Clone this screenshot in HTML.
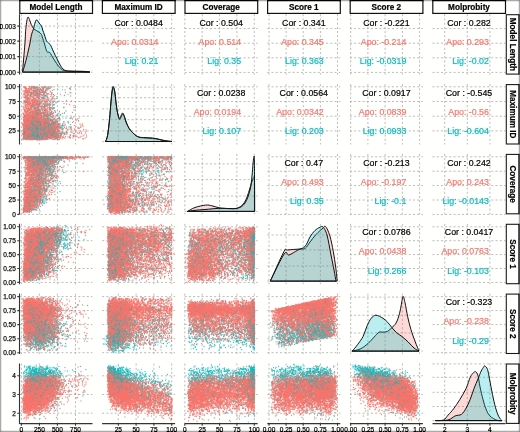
<!DOCTYPE html><html><head><meta charset="utf-8"><style>html,body{margin:0;padding:0;background:#fff;overflow:hidden}svg{display:block}</style></head><body><svg width="520" height="432" viewBox="0 0 520 432">
<defs><filter id="bl" x="0" y="0" width="520" height="432" filterUnits="userSpaceOnUse" color-interpolation-filters="sRGB"><feGaussianBlur in="SourceGraphic" stdDeviation="0.45" result="b"/><feColorMatrix in="b" type="matrix" values="0.299 0.587 0.114 0 0 0.299 0.587 0.114 0 0 0.299 0.587 0.114 0 0 0 0 0 1 0" result="y"/><feColorMatrix in="b" type="matrix" values="0.3505 -0.2935 -0.057 0 0.5 -0.1495 0.2065 -0.057 0 0.5 -0.1495 -0.2935 0.443 0 0.5 0 0 0 1 0" result="c"/><feGaussianBlur in="c" stdDeviation="1.0" result="cb"/><feComposite in="y" in2="cb" operator="arithmetic" k1="0" k2="1" k3="2" k4="-1"/></filter></defs>
<g filter="url(#bl)">
<rect width="520" height="432" fill="#fff"/>
<path stroke="#a4a4a4" stroke-width="0.75" stroke-dasharray="2.1 2.1" fill="none" d="M21.4 14.2V74.6M39.4 14.2V74.6M57.4 14.2V74.6M75.5 14.2V74.6M19.5 72.2H92.5M19.5 56.6H92.5M19.5 41.1H92.5M19.5 26.1H92.5"/>
<path stroke="#a4a4a4" stroke-width="0.75" stroke-dasharray="2.1 2.1" fill="none" d="M118.3 14.2V74.6M136.1 14.2V74.6M153.9 14.2V74.6M171.7 14.2V74.6M102.1 72.4H175.1M102.1 57.8H175.1M102.1 43.2H175.1M102.1 28.6H175.1"/>
<path stroke="#a4a4a4" stroke-width="0.75" stroke-dasharray="2.1 2.1" fill="none" d="M184.8 14.2V74.6M202.2 14.2V74.6M219.6 14.2V74.6M236.9 14.2V74.6M254.3 14.2V74.6M184.7 72.4H257.7M184.7 57.8H257.7M184.7 43.2H257.7M184.7 28.6H257.7"/>
<path stroke="#a4a4a4" stroke-width="0.75" stroke-dasharray="2.1 2.1" fill="none" d="M269.0 14.2V74.6M286.1 14.2V74.6M303.2 14.2V74.6M320.4 14.2V74.6M337.5 14.2V74.6M267.3 72.4H340.3M267.3 57.8H340.3M267.3 43.2H340.3M267.3 28.6H340.3"/>
<path stroke="#a4a4a4" stroke-width="0.75" stroke-dasharray="2.1 2.1" fill="none" d="M350.7 14.2V74.6M367.9 14.2V74.6M385.1 14.2V74.6M402.4 14.2V74.6M419.6 14.2V74.6M349.9 72.4H422.9M349.9 57.8H422.9M349.9 43.2H422.9M349.9 28.6H422.9"/>
<path stroke="#a4a4a4" stroke-width="0.75" stroke-dasharray="2.1 2.1" fill="none" d="M444.7 14.2V74.6M467.3 14.2V74.6M489.9 14.2V74.6M432.5 72.4H505.5M432.5 57.8H505.5M432.5 43.2H505.5M432.5 28.6H505.5"/>
<path stroke="#a4a4a4" stroke-width="0.75" stroke-dasharray="2.1 2.1" fill="none" d="M21.4 84.1V144.5M39.4 84.1V144.5M57.4 84.1V144.5M75.5 84.1V144.5M19.5 130.9H92.5M19.5 116.2H92.5M19.5 101.5H92.5M19.5 86.8H92.5"/>
<path stroke="#a4a4a4" stroke-width="0.75" stroke-dasharray="2.1 2.1" fill="none" d="M118.3 84.1V144.5M136.1 84.1V144.5M153.9 84.1V144.5M171.7 84.1V144.5M102.1 141.7H175.1M102.1 130.9H175.1M102.1 119.7H175.1M102.1 108.9H175.1M102.1 97.7H175.1M102.1 87.1H175.1"/>
<path stroke="#a4a4a4" stroke-width="0.75" stroke-dasharray="2.1 2.1" fill="none" d="M184.8 84.1V144.5M202.2 84.1V144.5M219.6 84.1V144.5M236.9 84.1V144.5M254.3 84.1V144.5M184.7 130.9H257.7M184.7 116.2H257.7M184.7 101.5H257.7M184.7 86.8H257.7"/>
<path stroke="#a4a4a4" stroke-width="0.75" stroke-dasharray="2.1 2.1" fill="none" d="M269.0 84.1V144.5M286.1 84.1V144.5M303.2 84.1V144.5M320.4 84.1V144.5M337.5 84.1V144.5M267.3 130.9H340.3M267.3 116.2H340.3M267.3 101.5H340.3M267.3 86.8H340.3"/>
<path stroke="#a4a4a4" stroke-width="0.75" stroke-dasharray="2.1 2.1" fill="none" d="M350.7 84.1V144.5M367.9 84.1V144.5M385.1 84.1V144.5M402.4 84.1V144.5M419.6 84.1V144.5M349.9 130.9H422.9M349.9 116.2H422.9M349.9 101.5H422.9M349.9 86.8H422.9"/>
<path stroke="#a4a4a4" stroke-width="0.75" stroke-dasharray="2.1 2.1" fill="none" d="M444.7 84.1V144.5M467.3 84.1V144.5M489.9 84.1V144.5M432.5 130.9H505.5M432.5 116.2H505.5M432.5 101.5H505.5M432.5 86.8H505.5"/>
<path stroke="#a4a4a4" stroke-width="0.75" stroke-dasharray="2.1 2.1" fill="none" d="M21.4 153.9V214.3M39.4 153.9V214.3M57.4 153.9V214.3M75.5 153.9V214.3M19.5 214.4H92.5M19.5 200.0H92.5M19.5 185.6H92.5M19.5 171.2H92.5M19.5 156.8H92.5"/>
<path stroke="#a4a4a4" stroke-width="0.75" stroke-dasharray="2.1 2.1" fill="none" d="M118.3 153.9V214.3M136.1 153.9V214.3M153.9 153.9V214.3M171.7 153.9V214.3M102.1 214.4H175.1M102.1 200.0H175.1M102.1 185.6H175.1M102.1 171.2H175.1M102.1 156.8H175.1"/>
<path stroke="#a4a4a4" stroke-width="0.75" stroke-dasharray="2.1 2.1" fill="none" d="M184.8 153.9V214.3M202.2 153.9V214.3M219.6 153.9V214.3M236.9 153.9V214.3M254.3 153.9V214.3M184.7 211.4H257.7M184.7 196.0H257.7M184.7 179.6H257.7M184.7 163.9H257.7"/>
<path stroke="#a4a4a4" stroke-width="0.75" stroke-dasharray="2.1 2.1" fill="none" d="M269.0 153.9V214.3M286.1 153.9V214.3M303.2 153.9V214.3M320.4 153.9V214.3M337.5 153.9V214.3M267.3 214.4H340.3M267.3 200.0H340.3M267.3 185.6H340.3M267.3 171.2H340.3M267.3 156.8H340.3"/>
<path stroke="#a4a4a4" stroke-width="0.75" stroke-dasharray="2.1 2.1" fill="none" d="M350.7 153.9V214.3M367.9 153.9V214.3M385.1 153.9V214.3M402.4 153.9V214.3M419.6 153.9V214.3M349.9 214.4H422.9M349.9 200.0H422.9M349.9 185.6H422.9M349.9 171.2H422.9M349.9 156.8H422.9"/>
<path stroke="#a4a4a4" stroke-width="0.75" stroke-dasharray="2.1 2.1" fill="none" d="M444.7 153.9V214.3M467.3 153.9V214.3M489.9 153.9V214.3M432.5 214.4H505.5M432.5 200.0H505.5M432.5 185.6H505.5M432.5 171.2H505.5M432.5 156.8H505.5"/>
<path stroke="#a4a4a4" stroke-width="0.75" stroke-dasharray="2.1 2.1" fill="none" d="M21.4 223.8V284.2M39.4 223.8V284.2M57.4 223.8V284.2M75.5 223.8V284.2M19.5 282.4H92.5M19.5 268.5H92.5M19.5 254.6H92.5M19.5 240.7H92.5M19.5 226.8H92.5"/>
<path stroke="#a4a4a4" stroke-width="0.75" stroke-dasharray="2.1 2.1" fill="none" d="M118.3 223.8V284.2M136.1 223.8V284.2M153.9 223.8V284.2M171.7 223.8V284.2M102.1 282.4H175.1M102.1 268.5H175.1M102.1 254.6H175.1M102.1 240.7H175.1M102.1 226.8H175.1"/>
<path stroke="#a4a4a4" stroke-width="0.75" stroke-dasharray="2.1 2.1" fill="none" d="M184.8 223.8V284.2M202.2 223.8V284.2M219.6 223.8V284.2M236.9 223.8V284.2M254.3 223.8V284.2M184.7 282.4H257.7M184.7 268.5H257.7M184.7 254.6H257.7M184.7 240.7H257.7M184.7 226.8H257.7"/>
<path stroke="#a4a4a4" stroke-width="0.75" stroke-dasharray="2.1 2.1" fill="none" d="M269.0 223.8V284.2M286.1 223.8V284.2M303.2 223.8V284.2M320.4 223.8V284.2M337.5 223.8V284.2M267.3 281.1H340.3M267.3 266.0H340.3M267.3 249.9H340.3M267.3 235.0H340.3"/>
<path stroke="#a4a4a4" stroke-width="0.75" stroke-dasharray="2.1 2.1" fill="none" d="M350.7 223.8V284.2M367.9 223.8V284.2M385.1 223.8V284.2M402.4 223.8V284.2M419.6 223.8V284.2M349.9 282.4H422.9M349.9 268.5H422.9M349.9 254.6H422.9M349.9 240.7H422.9M349.9 226.8H422.9"/>
<path stroke="#a4a4a4" stroke-width="0.75" stroke-dasharray="2.1 2.1" fill="none" d="M444.7 223.8V284.2M467.3 223.8V284.2M489.9 223.8V284.2M432.5 282.4H505.5M432.5 268.5H505.5M432.5 254.6H505.5M432.5 240.7H505.5M432.5 226.8H505.5"/>
<path stroke="#a4a4a4" stroke-width="0.75" stroke-dasharray="2.1 2.1" fill="none" d="M21.4 293.6V354.0M39.4 293.6V354.0M57.4 293.6V354.0M75.5 293.6V354.0M19.5 352.7H92.5M19.5 338.7H92.5M19.5 324.6H92.5M19.5 310.6H92.5M19.5 296.6H92.5"/>
<path stroke="#a4a4a4" stroke-width="0.75" stroke-dasharray="2.1 2.1" fill="none" d="M118.3 293.6V354.0M136.1 293.6V354.0M153.9 293.6V354.0M171.7 293.6V354.0M102.1 352.7H175.1M102.1 338.7H175.1M102.1 324.6H175.1M102.1 310.6H175.1M102.1 296.6H175.1"/>
<path stroke="#a4a4a4" stroke-width="0.75" stroke-dasharray="2.1 2.1" fill="none" d="M184.8 293.6V354.0M202.2 293.6V354.0M219.6 293.6V354.0M236.9 293.6V354.0M254.3 293.6V354.0M184.7 352.7H257.7M184.7 338.7H257.7M184.7 324.6H257.7M184.7 310.6H257.7M184.7 296.6H257.7"/>
<path stroke="#a4a4a4" stroke-width="0.75" stroke-dasharray="2.1 2.1" fill="none" d="M269.0 293.6V354.0M286.1 293.6V354.0M303.2 293.6V354.0M320.4 293.6V354.0M337.5 293.6V354.0M267.3 352.7H340.3M267.3 338.7H340.3M267.3 324.6H340.3M267.3 310.6H340.3M267.3 296.6H340.3"/>
<path stroke="#a4a4a4" stroke-width="0.75" stroke-dasharray="2.1 2.1" fill="none" d="M350.7 293.6V354.0M367.9 293.6V354.0M385.1 293.6V354.0M402.4 293.6V354.0M419.6 293.6V354.0M349.9 351.1H422.9M349.9 333.0H422.9M349.9 315.2H422.9M349.9 297.1H422.9"/>
<path stroke="#a4a4a4" stroke-width="0.75" stroke-dasharray="2.1 2.1" fill="none" d="M444.7 293.6V354.0M467.3 293.6V354.0M489.9 293.6V354.0M432.5 352.7H505.5M432.5 338.7H505.5M432.5 324.6H505.5M432.5 310.6H505.5M432.5 296.6H505.5"/>
<path stroke="#a4a4a4" stroke-width="0.75" stroke-dasharray="2.1 2.1" fill="none" d="M21.4 363.5V423.9M39.4 363.5V423.9M57.4 363.5V423.9M75.5 363.5V423.9M19.5 413.2H92.5M19.5 394.5H92.5M19.5 375.8H92.5"/>
<path stroke="#a4a4a4" stroke-width="0.75" stroke-dasharray="2.1 2.1" fill="none" d="M118.3 363.5V423.9M136.1 363.5V423.9M153.9 363.5V423.9M171.7 363.5V423.9M102.1 413.2H175.1M102.1 394.5H175.1M102.1 375.8H175.1"/>
<path stroke="#a4a4a4" stroke-width="0.75" stroke-dasharray="2.1 2.1" fill="none" d="M184.8 363.5V423.9M202.2 363.5V423.9M219.6 363.5V423.9M236.9 363.5V423.9M254.3 363.5V423.9M184.7 413.2H257.7M184.7 394.5H257.7M184.7 375.8H257.7"/>
<path stroke="#a4a4a4" stroke-width="0.75" stroke-dasharray="2.1 2.1" fill="none" d="M269.0 363.5V423.9M286.1 363.5V423.9M303.2 363.5V423.9M320.4 363.5V423.9M337.5 363.5V423.9M267.3 413.2H340.3M267.3 394.5H340.3M267.3 375.8H340.3"/>
<path stroke="#a4a4a4" stroke-width="0.75" stroke-dasharray="2.1 2.1" fill="none" d="M350.7 363.5V423.9M367.9 363.5V423.9M385.1 363.5V423.9M402.4 363.5V423.9M419.6 363.5V423.9M349.9 413.2H422.9M349.9 394.5H422.9M349.9 375.8H422.9"/>
<path stroke="#a4a4a4" stroke-width="0.75" stroke-dasharray="2.1 2.1" fill="none" d="M444.7 363.5V423.9M467.3 363.5V423.9M489.9 363.5V423.9M432.5 420.6H505.5M432.5 406.5H505.5M432.5 392.3H505.5M432.5 377.3H505.5M432.5 363.9H505.5"/>
<defs><marker id="s" markerUnits="userSpaceOnUse" markerWidth="1" markerHeight="1" overflow="visible"><circle r="1.36" fill="#F8766D" fill-opacity="0.85"/></marker><marker id="t" markerUnits="userSpaceOnUse" markerWidth="1" markerHeight="1" overflow="visible"><circle r="1.32" fill="#00BFC4" fill-opacity="0.8"/></marker><marker id="u" markerUnits="userSpaceOnUse" markerWidth="1" markerHeight="1" overflow="visible"><circle r="1.32" fill="#00BFC4" fill-opacity="0.55"/></marker></defs><g transform="scale(.5)" fill="none" stroke="none"><path d="M108 179l-15-2-3-3-3 2-11 2-8-3 0-1 3 7 3-1 1 4 9 1 5-1-14 2 0 3-3 2-1-1-1 0-7-4-4 10 59 6-40-3-1 4-13-4-7 5 12 0 7 2 1 2 3-2 8 2 13 1-5 6-11-2-6-1-1-2-2 3-11-1-7 8 20 0 2-1 4-2 1 4 19-5 3 0 2 0-10 10-16 1-2-4-4 2-6 0 0-2-3 0-7 3-3 0-3 4 6 0 8 3 0-2 1 2 0-4 5 0 0-1 0 1 7 1 10-1 1 1 27 1 35 7-10 0-59-4 0 4-3-4-8 2-2 1 0-2-1 2 0 0-3 2-1-2-12-3-1 4 0 3 9 1 5-2 2 3 1-2 4 3 2 1 0-3 5 2 1-4 4 5 1-4 3 1 10-2 1 3 8-1 25 1-11 6-7-1 0 2-15-2-2 3-4-2-7 2-1-4 0-1-1 5-1-5-5 2-6 3-1 0-2-2-2-1-4 1-1-2-3 4 0-5-1 5-1-1 0-3-5 0-3 2-1 2-3 6 1-3 4 1 1-3 1 2 0-2 1 5 0-1 1-2 4-1 3 3 0-3 0-1 0 5 1 0 0-5 2 0 3 3 1-3 2 4 2-2 1 2 0 0 1-3 1 2 0-2 1-1 1 1 1 2 0-2 1 4 1-4 2 4 0-4 0 0 0 1 1-1 0 2 3-2 2 4 2-3 1-1 0 4 2-4 2 4 3-3 0 0 5 0 0 3 5-4 6 0 1 1-1 6-5 3-4-5-11 3-4-2-2 1 0-1-1-1 0 4-3-3-1 3-1-2-1 2-1 0-1-3-3 2 0-2 0 0 0-1-1 4 0-4-1 3 0 0-1 2 0-3 0 1-1-2-4 3-1-3 0 4-1-3-1 2-1 0-2 0-4 1-3-3 0 3-3-5-1 0-4 2-3-2-1 5 9 1 2 2 1 0 1 3 1-3 0 2 0-4 1 3 0 0 2-3 3 2 1-2 4 1 0-1 0 1 1 4 1-1 0 0 2 1 0-1 0-2 2 3 6-2 1-3 1 1 0 4 1 0 0-5 4 1 4 4 0-2 1-1 0 3 0 0 1-5 0 0 2 2 5-1 0 4 4-5 0 1 9-1 6 4 0 1 6 0 11 6-20-4-6 3-2-4-2 3-3 0 0-2-2 1-5 0-3-2-1 3-3 2 0-3-1 3-6-5-1 4-1-4 0 2 0 2-1 0-2-1-1 0-1-2-1 4 0-1-1-4-1 2-1 3-1-3-1 0-1-2-1 1 0 3-2-2-1 1-1 2-4-4-2 2-1-3 0 4-1-4-2 5 0 0-3-5-1 1-5 4 6 1 4 0 2 0 3 1 0 1 3 1 3-3 2 2 7 0 0-1 5-1 26 2" marker-start="url(#t)" marker-mid="url(#t)" marker-end="url(#t)"/>
<path d="M90 174l-23 4-10-1-1 5 20-1 6 1 8 8-3-3-5 2-8-3-7 1-5 3 22 6 1-1 4-3 3 4 14 1 8-4-19 6-11 4-15-5-14 4-4 4 1-1 3-1 2 2 9-2 10 5 25-4 8 4-3 2-7 1 0-2-22 5 0-4 11 8 19-2 0 10-4-1-13 0-6-1-2 1-9-4-3 4-3-2-10 5 8 4 0-5 0 0 1 3 6 0 1 1 1-1 0 2 1-2 5-3 1 1 1-1 5 2 1 1 4 0 5 0 2-1 5-2 10 2 7-1-3 8-17 1-9 1-3-2-2 1-4-4 0 2-5 2-1 1-6-2-1 0-2 1 0-4-6 1-11 2-2 3 12 2 2-1 0 2 5 2 0-3 3 2 1-1 0 1 1-4 0 4 1 1 0-3 5 3 1-3 6 2 2 0 7-4 4 5 1-4 4 0 8-1 3 4 9 7-4-1-16-2-1 0-6 3-1-5-2 5-7-5-2 2-1 2-2-2 0 1-2-2 0 1-2-1 0 2-2 0-1-1-1-1-1 1 0-1-5 0-1 4-5-3-2 1-1-2 0 1-7 3-3 1 4 4 5 1 0-3 0-1 0 3 2 0 6-1 0 2 1 0 1-3 2 1 1-2 1-1 0 3 1-3 2 3 1-1 2 2 0-4 2 2 1 0 1 3 0-1 1-3 0 1 1 3 1-1 3-1 1-3 0 0 5 3 6 0 0 2 4 0 2-5 5 3 4 0 6 0-5 5-6 2-1-1-4 1-3-1-2-3 0 3-2 2 0-5 0 1-1 3 0-3 0-1-2 2 0-2-1 2-7 3 0 0-2-3-3-2 0 0-2 3-1 0-2 2-1-5-1 0-1 5-1-4-2 3 0-3-1 2-1-2 0-1-4 1-1 3 0 1 0-3-2-1-1 1-2-2-11 3 2 5 3 2 2 1 0-3 2-1 0 3 0-3 3 1 1-2 3 4 0-3 1 1 1 0 1-1 1-1 1 5 0-1 2-2 0-1 0 0 2 4 1 0 0-4 1 2 0 2 1-2 2-3 0 5 4-3 1 1 4 1 1-2 3 3 1 0 1-3 0-1 1-1 1 4 1-4 0 2 4 3 1-1 2-3 2 1 3 0 1 2 1-2 7 3 5-2 2 0 8-2 12 0-23 10-10-3-1 0-2-2-4 4-2 1 0-2-5 0-4-2-5-1-3 2-1 2-1-1 0 0-4-1-1 1 0 0-2-1 0 3-1-3-1 0 0-2-1 5-2-4-1 4 0-1-2-3-1 2-5-1 0 3 0-4-1 2-6 2 0-2-1 2-1-2-1-2-1 4-3 0 0 0 6 1 5 1 6-1 1 0 3 2 0 0 2-1 1 0 8-1 0 1 0 0 3 1 16-2 0 0 12 0 5 0" marker-start="url(#t)" marker-mid="url(#t)" marker-end="url(#t)"/>
<path d="M96 177l-23 2-2-2-11 8 12 0 22-4 10 4 25 6-33-4-16-1-1 5-15-5-2 0 0 1-2 4-5-3 6 6 6 3 7-1 4-3 12-1 4 1 16 5-15 5-17-2-21-3 17 9 10-3 22 1 45 10-46-3-4 3-9-3-3 1 0-1-1 2-5 0-32-2 10 4 9 3 1 1 1 1 16-1 7 1 4-3 4 6-7 3-5-2-4 0-6-3-4 3-7-1-2 3-5-4-1 3-2-1-6 0-2-1 3 7 8 0 16 0 17-2 4 1 5-2 14 8-11 3-4-1-3 1-5-4-1 2-8 2-14-2-4 2-8-5-6 3 10 6 1 2 1-1 2-1 1-2 4 3 3 0 0-1 3 1 1-3 3 1 1 2 5-1 2-3 1 2 0 2 0 1 1-2 6-2 4 0 5 4 2-1 1 1 2-2 4 5-4 1-3-2-2 4-1-3-1 0-3-2-1 4-3-1-4-3-1 1-2 4-1-3-4-2-1 1 0 1-2 3-1 0-2-4 0 4-10-1 0 1-3-2-8 2-2-4-1 10 0-4 3 1 1 3 1-2 1-2 1 2 1-1 0 1 1-1 0 3 3-1 1-4 0 2 1 2 0-4 1 3 1 1 0 0 2 1 0-4 1 4 1-2 0 1 1-4 0 0 1 5 1-2 4-1 5 0 2 2 7 0 1 1 2-1 3-1 0 0 1 0 0-2 12 1 6-1 9 1 5 0 3 0 15 2-32 3-8 1-1 0-6 1 0-3-2 1-1 4-1-5-3 2 0 3-1-1 0-3-1 4-1-1-4 0-3 0-1-4 0 0-2 3-1 0-4 1-3 1-1-5 0 2-2 1-1 2-1 0-1-4-2 2-1 0 0 1-1 1 0 0-1-3-3 3 0 0-1-3-2-2-2 1-1 1 0-2-2 5-4-2 0-3 0 4-4 1-1-1 4 2 0 0 3 4 0-2 2 2 0-1 2-3 0 4 1-2 2 0 2 3 3-2 0-1 2-2 0 3 1 0 1 1 0-1 2-3 0 1 0 0 4 2 0 0 3-1 0 0 2 1 1 2 0-5 3 3 0-3 1 4 0-4 0 4 1 0 1 0 1 1 0-3 2 2 0-1 2 1 4 1 0-4 3 0 1 1 1 0 1 0 1 0 0 1 2-1 7 2 5-1-10 7-8-4-2 1 0 4-4-4 0 1 0 3 0-4-8-1 0 4-6-2-1 1-2 0 0-3-1 0-3 3-1-2 0 2-1 0-2-1 0-2-1 2 0 1 0-1-1 1-1 2-1-1 0-1 0 1-1 1-3-1-1-3-1 2-1-2 0 4-2-4 0 4 0 0-2-3 0 1-5 0 3 3 4 2 0-2 1 3 0-1 2-2 6 1 1-1 1 2 5-2 1 0 4 0 10 3" marker-start="url(#t)" marker-mid="url(#t)" marker-end="url(#t)"/>
<path d="M141 176l-2 1-42 1 0-4-18 1-12 1-14 7 5 2 1-3 1 0 9-1 5 2 12 1 6-2 15 7-27-1-8 2-11 1-9 0 15 4 11 0 4-1 20 7-16-3-18 0-20 3 0 3 19 4 5-3 1 0 9 2 9 1 8-1 13-3 21 4-39 5-5-2 0 4-13-1-13 1-8 5 18 1 4-3 12 3 2 0 9-1 1-1 6-3 25 6-13 1-31 3-1 1-8-1-9-2-4-1-2 1-2-2-9 11 6-1 3-2 13-2 16 1 3 3 0 0 10 1 1 0 11-5 24 9-8-1-14 0-14 3-5-3-10 1-1 0-1-2-2 4-2-4-4 1-4-1-2 0-4 3-2-3-9 2-1-3-7 11 2-4 12 2 5-3 0 1 0-1 4 4 2 0 4-2 2-1 6 3 0 1 4-1 1-3 4 3 0 1 5-3 4 2 1 0 31 2-11 5-11-2-7-3-1 3-1 0-2-2-1 4-1-2-1 0-3 2 0-2-1-3-1 3 0-3-1 1-1 2-3-2 0-1-2 0-1 5-1-3-2 2-3-3 0 3-1-1-8-1 0 3-1-5 0 0-6 5-2 0-1-1-1-1-14-1 3 9 4 0 7-4 1 2 2 2 3 0 1-3 2 2 0 0 2-3 1 4 0-1 4-3 1 3 0-1 3-2 1 2 0 1 2-3 1 0 3 4 1-5 4 4 0-3 2 4 1-2 1-1 2 1 12-2 10 4-11 4-8 0-2 2-1-5-3 3-1 1 0 1-1-5 0 0 0 5-3 0-5-1-1 1-2-1-1 1 0-3-2-2-1 1-1 4-1-4-1 3 0 1-1-2 0-2 0 1 0-2-2 3-1-2-6 3 0-3-8 4-7 4 4 2 1 0 1-5 1 1 0-1 0 1 2 0 1-1 0 0 2 2 0 2 2-4 0 5 1-1 0-1 0-2 1 3 0 1 0-1 0 0 2 1 1 0 1-4 0 1 1-2 0 4 0-4 1 4 2-3 2 4 1-5 1 0 4 5 0 0 1-1 2-2 1 2 0-4 3 2 2 1 2-1 2 1 3-1 0-1 1 2 3 1 2-2 0 2 7-4 11 0 4 3 1 1 13-4-1 7-20-1-1 3-3-1-1-1-2 4-12-3-2-1-1 1 0 2 0-2-3 1-1 1-1-4-3 4-1-2-2-1 0 3-1-1 0-2-2 1 0 1-1 0-1 2-3-5 0 4-3-2-1 1-1-1-3 1-2-1 0-1 0 1-1 0 0 3-1-4 0 4-3-2 0-2-1 3 0-4 0 2 0 1-2 0 0 1-1-1 0 0 0 2-1-5-6 5-3-2-4-2-1 5 2 0 5 1 6 2 1 0 1-1 5-1 1 0 4-1 2 0 1 4 4-1 7 0 7-3 18 2" marker-start="url(#t)" marker-mid="url(#t)" marker-end="url(#t)"/>
<path d="M63 173l27 0 12 1-4 0-11 0-1 2-22 2-1 1-17 3 4 0 1-2 1 1 1 4 0-5 2 4 9-3 1 4 5-2 1 0 0 1 13 1 1-4 2-1 0 3 4-2 0 4 0-5 1 5 8-3 21 7-23-1-10 1-1 1-1 1-3-1-5 1 0-5-3 2 0-2-3 0-1 4 0 1-1 0-3-5-2 4-2-3 0 0-1 1-5 2-2-4-2 0-5 9 3-1 2 0 0 2 3 1 0-1 1 1 12 0 8 0 1-5 10 4 0 0 7-1 13 2 5 0-7 5-2-4-2 1-29 1 0 1 0 2-2-5-5 4-2-1-4 2-2-1-2-2 0 3-1-5-1 3 0 2-3 0-2 0-1 5 2-3 1 3 1-4 13 3 2-2 4 1 0-2 1 5 3-1 4 1 1-3 6 1 2-3 2 2 1-2 5 2 6 2 37 1 9 6-56-5-10 4-2-3-5 0-2 1-2-2-3 1-1-1-1 0 0 5-1-5-2 4-3 0-6 0-5 6 1 0 1 0 1-4 0 0 2 1 5 2 0-1 1 2 0-2 0 3 0-2 1 2 0-5 10 4 0-3 2-1 1 4 2-1 3 1 1-1 8-2 0 3 2-4 2 3 1 0 55 1-3 5-27 1-11-1-6 1 0 0 0 1-6-2-6-3-3 2-1 3-9-1-2-3 0 3-1-4-2 1-4 2 0-1 0 3-2-5 0 5-5 0-1-1-3-4 0 2 0-1 0 4-3-4-2 0 0 1-2-2-2 5-1-1 2 4 6-1 2 2 1-2 0 1 3 1 2 2 1-3 0 2 1-1 3-3 2 5 1-2 0 2 2 0 1 0 1-5 2 0 1 5 0-2 3 1 2-3 6 3 1-1 0-2 0 3 1 1 5-5 0 4 2-3 2 2 1 0 15 0 26 5-31 2-2 0-2-3-5 4-1 0-4-2-5 1 0-4 0 5-2-2-3 1-4-2-1 2-1-2 0 1 0 2-1-3-2 0-2 3-2 0-2-3-3-1-1 3-2-4-7 4-2-3-1 3-1 0-1-4 0 3 0 1-1-1-3 6 2-1 0 3 0-1 1 0 1-1 0-3 2 5 1-5 0 3 1 2 1-2 0 1 0 0 1 0 0-1 1-3 0 0 1 0 2 3 1-1 0 2 1-1 1 0 0-2 0-1 1 1 0 1 0 2 1 0 0-2 2 0 2 2 2 0 1-4 2 5 0 0 0-3 1-2 0 0 1 2 1 0 0 1 1 0 0-2 1 4 0-4 2 4 0-1 1-1 1 0 0-2 0 4 2-4 1 4 1-5 0 3 1 2 5-5 1 4 4-3 2 2 2-2 3 4 8-4 14 9-19-1 0-3-4 3-1 2-2 0-2-1-1-2-2 0-6 2 0-4-1 5 0 0 0 0-1-1 0 1 0 0 0-3-3 2-1-2-1 2 0-3-1 3 0-1-2 1-2-1 0-1-1 3-2-5 0 4-1-1 0-3 0 1-1 3-2 1 0-3 0 2-1-4 0 4-1-3 0 2 0-3 0 2 0-1 0 1-1 3-1-5-1 0 0 2 0 1-2 1 0 0 0 1-1-1 0 1 0 0 0-1-2-3 0-1-1 2 0 1-1 2 0-2-1-1 0 1-2 1 0-1-1-3-2 1 0 2-1-3 0 2 0 0 0 3 0-1 0-4-1 1 0 3-3-3-5 3-1-4 0 3 3 4 0 3 1-4 2 0 0 4 0-3 1-1 0 1 0 2 0-3 1 4 1-2 0 2 0-4 0 2 0-2 0 3 1 1 0-1 1 0 0 0 0-3 1 2 0 0 1-2 0 5 0-2 0 0 3 0 1 2 0-1 0-3 0 0 0 4 1 0 1-5 1 3 1 1 0-1 1-1 0 2 1-4 0 1 0 3 1 1 0-5 1 4 0-2 0 2 0 0 0-4 2 5 1-4 1 2 0 1 0 0 1 1 0-4 0 0 1 4 0 0 1 0 0 0 2-5 0 2 0-1 0 2 1 2 0-1 0-2 0 0 1 1 2 2 2-3 0 1 2 2 2-1 2 0 0-1 0 0 2 2 1-4 0-1 1 5 0-1 2 1 3-3 0-2 1 1 2 3 4-3 3-1 2 1 0 4 0-3 4-1 5-1 11 5 40 6-5-4-6 3-18-3-7 1-20 2-1-4-2 0-1 5-1-1-5 0 0-3-2-1-1 0-1 0-3 0-5 0-1 4-1-3 0-1 0 0-1 4 0-1 0-3-1 3 0 2 0-5 0 2-1-2-1 5-1-1-1 1 0 0 0-2-2 1-1 0 0-3 0 4-1-3 0-1 0-1 0 2 0 1-1 2 0-4-2 2 0 2-1-3 0-1 0 3 0 0-1 1 0-5-1 0 0 5 0-3-1 2-1-2-1 0 0 0 0-1-1 0 0-1-1 5 0-5 0 4-1 0-1 1 0-5 0 3-1 1-1 1 0-2 0 0-2-2 0 1 0 1-1-2-2 4-1 0 0-5 0 3 0 2 0-5 0 5 0-4 0 2 0-2-1 2 0-3-1 4 0 0 0 1 0-2 0 0-1 2-1-1 0-4-1 1-1 4-2-4 0 1-1-2 0 1 0 3 0-2 0-2-1 4-1-1-1-3 0 5-2-4-2 8 1 2 0-1 1-1 0 2 1-5 0 1 2 1 0 0 1 3 2 0 0 0 0-3 1 0 0-1 1 1 0 0 1 3 0-2 0 1 0-1 1 1 0 1 0-4 0-1 0 5 0 0 0-2 1 0 0 0 0-3 0 0 1 0 0 4 0 0 1-4 0 1 0 1 0 0 0 2 1-3 0-1 0 1 2 1 0 3 1 0 0-1 0-3 1 0 0 2 1 2 0-5 0 2 1-1 0 4 0-5 0 2 0 0 1-1 1 0 0 4 2-4 0 0 1-1 1 1 1 2 1-3 0 0 0 4 1-4 1 3 0-2 1 0 0-1 0 1 0-1 0 3 0-1 0 1 1 2 1-5 0 2 0 1 2-3 2 2 1 0 0-2 1 4 0-2 0-2 0 2 1-2 0 0 1 2 0 3 1-3 2 2 0-2 1 3 0-3 1 3 0-3 2 2 1-1 1 0 1-1 1-1 2-1 2 2 0-2 1 0 0 1 0 4 0-1 1-1 1 0 4-3 1 3 9-3 6 2 2-1 5 0 2 1 24-1 4 2 10 7-7-2-6 3-3 0-10-4-20 1-5-1-2 4-1 0-2 0 0 0-4-2-1 2-1 0-4 0 0-3 0 2-1 1-2-4-2 0-2 1-1 3-2-4-1 2-1-2 0 4-2 0-3-4-1 2-1-2-1 2 0 2-1-5-2 1 0 4 0-2-1 0-1-3-1 4 0 0 0-4-1 1 0 3 0-4 0 1 0 2 0-2 0 3-1-2 0 1 0-2-1-1 0 5-1-5-1 1 0 3-1-2 0 1 0-3-1 3 0-1 0 0-1 1 0 1-1 1-1-2 0 0-1-2 0 0 0 2-2-2 0-1-1 5-1-2 0 1 0-3 0 3 0 0-1-2 0 0-1-2-1 4 0-3-1 3-1-2 0 1-1 2 0-4 0 2 0 1 0 0-1-2 0 0 0 3 0-5-1 1 0 4 0-5-1 3 0-3-1 2 0 3 0-3 0-1-2 2-1-1-1 3 0-2 0 0 0-3 0 3-2-3-2 0 2 8 2 0 0-1 2 0 2 1 0-1 1 1 1-2 0 3 0-3 4 0 0 1 0-1 1 3 1 1 0-4 2 0 2 0 1 0 1 0 0 1 2 1 1 0 1-2 1 1 0 3 2-4 1 1 4 3 2-2 1-1 2-1 0 0 1 2 5 0 0-2 1 2 1-2 6 1 5-1 12 3 1-1 9-2 13 0" marker-start="url(#s)" marker-mid="url(#s)" marker-end="url(#s)"/>
<path d="M59 173l45 1-8 0-4 4-10 0-1 1-4-1-2-3-4 2-1 0-2-3-4 1-2 4-3-2-6 0-2-3 0 3 0-1-1-1 1 10 2 0 2-2 1 2 6 0 5-2 1 0 12-3 5 4 1-4 0 2 3 3 2-1 2-4 10 6 0 4-7-2-9-2-10 2-6-2-2 4-3-2-8 2-1 0-3 0-2-3-1 3-3-2 1 4 2 2 4 0 0 3 1-3 2 3 2-3 5-1 2 4 5-2 2-2 1-1 0 2 3 3 5-1 2 1 2-3 0 0 46 7-40 2-5-2-5 2-13-5-3 5 0-2-1-1-1-1-7 3-5 7 3-2 1 2 0-2 4-1 5-1 1 1 1 0 5 3 6-2 16 1 0 0 33 7-37-5-3 4 0-1-1 2-6-2-4-2-1 4-5-4-8 3-1-4-1 1 0 2-1-1-1-2-2 2-1 1-4-2-1 3 0-4-1 1 0 4-2 4 15-3 1 3 0-1 6-2 1 4 5-2 0-1 2 1 1 3 3-5 1 0 8 3 8-3 1 2 0-2 3 0 7 6-6 2-8-1-7 3 0 1-4 0 0-2-1 2-2 0 0-2-8-2 0 2-4-1 0-1-1 4-4-5-1 4-4 1-1 0-5-4-1 3 0-3-2 0 0 2 0-3-4 6 1 4 0-3 3 2 2 1 0-4 1 2 0-1 1 0 4 4 0 0 1-1 1 1 6-2 0 0 1 1 0-3 1 3 1 1 1-4 1 2 1-1 1 3 0-1 2 1 2-5 0 2 1-2 1 5 1-4 7 0 2 3 0 0 2-2 0 3 3 0 6-4 4 4 7-2 46 5-11-2-27 4-5-1-12-3-2 5-3-1-8 1-1-1-2 0 0 1-1-1-6 0 0-2-1 3 0-1-2-1 0 1 0-1-2 1-1-4-3 3-1-2-3 1 0-1-1 3-1-2-1 3-1-3 0 3 0-4 0 4-5-4-2 2 0-1-2 0 0 1-1 2 0-5-1 5 0-5-1 5-2 0-2-1-1-4 2 6 1 2 3 3 0-3 1-2 0 0 2 1 0 4 1-5 2 1 1 3 2-1 2 0 1-3 0 4 1-4 1 0 2 4 0-3 1-1 1 0 1 1 1 1 1 0 1 1 0 1 0 0 0 0 1-3 0 1 0 1 1-3 0 0 3 2 0-1 1 3 2-4 1 1 2 2 4-2 2 1 1-1 0-1 1 0 0 4 0-1 2 1 0-1 2-1 0-2 1 4 1-2 7 1 7-1 1 2 13 0 18 1 12-3 8 8-49 0-3-4-2 4-2-3-1 2-2 2-5-3-2-1-1 3-4-2-1 3 0 0-1-2 0-3-2 5 0-1-4 1 0-3 0 2-4 1-1-5 0 3 0-1-1 1-1 2-1-3-1 1 0-3 0 5 0-3-1-1 0 2-1 1 0 0-2-2-1-2 0 5 0-2 0 2-1 0 0-2-1-2-1 1 0 3 0-2-1 1 0-2 0 2 0 0-1-4 0 5-1-1 0-1-1-2-1 2 0-1 0 1-1 0-1 1 0-3 0-1 0 3-2-3 0 2-1 1-1 1-1-1 0-3 0 3-1-3-1 0 0 3-1 2 0-4 0 2 0-1-1 1 0 0-1 2-1-3-1 2 0-1-1-2 0 1-1 0 0 3-1-3 0 1 2 4 2 0 1 0 0-1 1 2 0 2 1-1 0 0 0 1 1 0 0-1 0 1 2-3 0 2 1 0 0 1 1 1 1 0 0 0 0-4 0 4 1-5 0 4 0 0 1-4 0 2 1-1 1-1 0 3 0 1 0 1 1-1 0-3 1 2 0-3 1 3 0 2 0-3 0-1 1 0 0-1 1 2 0 1 1 2 0-1 0-4 3 4 1 1 0-2 1 2 0-3 2 2 1 1 0-4 0 0 1 1 0 0 0 0 0 1 0 1 0-4 1 2 0 2 1-2 0 3 0-4 1 2 0 1 2 1 1-5 0 2 1 0 0 2 0 1 1-4 1 3 1-4 0 3 1-3 0 1 2 4 0-4 1 1 2 1 0-2 0 2 1-1 1 1 1 2 0 0 5-1 1-3 5 2 0-2 4 2 1 0 0-2 4 4 0-5 8 5 3-2 12 0 1 2 10-5-3 6-24 5-6 0-5 0-3-1-1-2-1 1 0 1-1-1-1 2-5 0-5-2 0-2 0 1-1 3 0-4 0 2 0 2-2-5-1 2 0 0 0 1-1-2-1 2 0 1 0 1-1-3 0 3-2-3-1 2 0 1 0-1 0-4-1 5 0-5-1 4 0-3 0 4-1-2 0-3 0 3-1-1-1-1-1 3-1-4-1 5 0-5-2 3 0-3 0 4 0-1-1-3 0 5 0-1-1-4-1 4 0-3 0-1-1 1 0 3 0-2 0-1-1 2 0-3-1 0 0 3-1-3 0 2-1 2 0 1-1-4 0 1 0 2 0 0-1-1-1 0 0 1 0 0-1-4 0 0-1 5 0-2-1-3 0 3-1 0-1-1 0 3-1 0-1 0 0-3-1-1 0 2 0-3-2 0 0 4-1-4 0 2 0 0-1-1 0 1-1 3 0-3 0 2-1-1 0-3 0 4 0-1 0 0-1 2 0-1-3 0-1-1 0 3 1 2 0 0 1-2 0 5 0 0 1-3 0-1 1 4 0 0 0-3 0 2 1-2 0 0 0-2 0 4 0-1 0-1 0 3 1-2 0 0 0-3 0 2 0-2 1 5 0-3 0 1 0 1 1-3 0 1 0 2 1-3 1 0 0-1 1 2 0 0 0-1 0 1 0-2 0 2 1 3 0-2 0 2 0-1 0-3 2 3 0-2 0-1 0 0 1 0 1 1 0-1 1 4 0 0 0 0 2-3 0-1 3-1 0 5 1 0 0-1 1-1 0 2 0-3 0 3 0-4 1 4 0-4 0 3 1-1 0-1 0 1 1 1 0-2 0 0 1-2 0 2 1 3 0-1 0 1 0-5 1 4 0-1 0-3 0 3 1-3 0 2 1-2 0 2 0 1 1-1 0-2 1 4 1-3 0 4 0-5 1 0 0 2 0 1 1 0 1-2 0 0 0 3 1-1 0-3 1 0 0 0 1 2 1 3 2-5 1 3 1-1 1 0 1-1 1-1 1 1 2-1 0 4 0-2 0 2 1-2 0-2 0 5 0-3 1 3 1-2 2-1 2 3 1-3 3-1 1-1 2 2 0 1 0-3 11 4 9-4 38 2-3 4-20 1-1 2-1-1-15 1-5 2-5-2-7 0-1-3-1 2-1 3-3-5-2 3 0 2-1 0-2-1-5 0 0-2 0 1 0-3-1 1-1-1-1 2-1 2-1-3-2 3 0-1-1 2-1-1-1-4-1 4-1-2-3 3 0-3 0 2-1-4 0 4-1 1-1-5-1 5 0-1 0 0-1 0-1 0 0-3-1-1 0 5-2 0-1 0 0 0-1-2-2-1-1 3-2-4 0 2 0 1-1-4 0 2-1-2 0 4 0-2 0-2 0 2-1 0 0-1 0 2-1 0-1-2 0 1 0-2 0 1 0-1 0 3 0-2-1 0 0 1 0 0 0 2 0-3-1 2-1-1 0-2 0 0-1 5 0 0 0 0 0 0-1-3 0 3-2 0 0 0-1-2 0-1 0 3-2 0 0-4 0-1 0 5-1-1 0-4 0 5-2-2 0 0-2 6 1-1 3-2 2 2 0 1 2-3 1 0 1 1 2 0 0-1 1 0 0 2 0-2 1 1 1 1 1-2 0 0 0 1 1 1 0 0 7-2 1 0 2 1 1-1 1 3 0-2 1 0 1-1 0 1 1-1 1 2 1-1 1 1 4 1 1-3 1 1 2 1 3-1 3 0 5-1 9 3 2-3 12 2 46-2" marker-start="url(#s)" marker-mid="url(#s)" marker-end="url(#s)"/>
<path d="M66 173l28 5-18-2-4-2-3 0-5 2-2-1-12 0 0 0 0-1-2 0-1 0 4 10 1-3 2 0 3-1 1 5 1-2 0-1 5 0 2-1 2 4 5 0 0-5 2 1 4-1 0 1 1 4 2-5 1 4 5 0 52 1 2 1-38 2-2 1-8-2-1 1-8 3-3-2-5-1 0-1-3 4-1-4 0 4-2-5-3 5-1-3-6-1-6-1-1 0-1 5-4-4-1-1 3 8 3-1 2 3 4 1 0-4 3 0 7-1 7 5 0-1 10 0 3 1 14-3 3-1 34-1-35 11-13-1-1-3-11 3-6-1 0 2-3-2-9 1-1-1-9-2-2-1-5 8 4-1 1-1 2 0 0 0 2 3 4 0 1-2 1 1 0-2 4 2 1 0 2-1 1 4 1-3 4-2 5 2 1-2 14 2 10-2 3 5 21-2 20 4-21 4-28-1-5-3-8 2-1-3-1 1-6 3-11-2-7-1-5 2-9 0 2 5 9-2 1 4 0-3 4 2 5-2 1 2 0 2 1-5 1 0 3 3 2 2 1-1 2 0 2 1 3-2 6-2 1 4 2-4 6 1 6-2 25 10-18-2-8-1-1 2-9-1 0-2-3 2-9 3 0-3-3 2-3 1-1-1-3-3-3-1-2 0-1 4-5 0-2 0 0-4-1 0-6 5-2 5 0-2 1-1 1 2 2-1 1-1 0 3 1 0 2-4 6 4 1 0 2-1 1-2 0-1 2 5 2-5 5 4 1-2 0 2 2-3 1 2 1-3 5 4 2-4 4 1 2 0 0-1 7 0 2 0 1 0 3 3 45 8-34-3-1 1-8-1-15 0-11 2-1-2-1-2-2 5 0-1-1-4-3 4-4-1 0-2-2 2-1-1-1-1-1 4-1-4 0 3-3 0-1-2 0-2-1 0 0 0-1 0 0 1 0-1 0 4-1-1-1-1-1-1 0 3-1-1-1-1-1-2 0 3-2 2-1-3-3 3 0 3 1-2 0 2 0 1 1-2 0 3 2 0 0-2 0 0 2 0 1 0 1-1 0-1 0 4 1 0 0-2 2-1 1 3 1-3 1 0 0 1 1 0 0-1 1 0 1 2 0 0 1 1 0-2 1 0 0 2 1 1 0-5 0 5 0-1 2 0 1 0 3-3 0 4 0 0 1-3 1 1 0-1 0-2 0 5 0-1 1-4 1 5 0 0 1-4 1 0 0 1 1 2 1-3 1-1 0 4 1-4 0 3 1-3 3 3 2-3 2 2 0 3 3-4 3 3 0-1 0-3 4 0 1 1 4 4 1-5 4 5 17-2 19 0 10-2 3 7-19 1-15-2-6 0-3 2-1 2-2-2-2 1-8-1-2 0-1 2 0 0-1-1-2-4-3 5-1-1 0-1-1-2-1 3-1-3 0 2-2-1-1 0 0 3 0-5-1 0-1 5 0-3-1 1 0-1-1 3 0-3 0-2-3 5 0-2-1 1-1-2-2 2 0-3-2 2-1-3-1 2 0 1-1-1 0 3 0-1-1-1 0 2 0-5-1 2 0-1 0 0-2 2-1 1 0-4 0 4-4 0 0 1-1 0 0 0-1-2-1-3 0 0-1 0-1 4 0 0 0 1-1 0-1-4 0 0 0 4-1 0 0-1-1 1-1-3 0 3 0 0-1-1 0-2-1 3-1-1-1 1 0-3-1 1-1-2 0 2 1 5 1 0 0-1 1 0 1 4 1-3 0 3 0-2 2 2 0-1 0-2 0 0 1 1 0-2 0 1 1-1 1 2 0-1 2 2 2-4 1 0 0 0 1 2 0 1 0-3 1 1 1 3 2-1 0-3 1 5 0-3 0 2 1-1 0 2 1-5 1 0 0 0 0 2 1 1 0 2 0-3 0-1 0 4 1 0 1-5 0 0 1 2 0-2 1 5 0-3 0-1 1 4 0-2 1-1 1 0 1 1 1 1 1-1 1-3 0 2 0 1 0-2 1 3 0 1 1-1 1-1 0-3 0 4 0-2 1 0 2-2 2 4 0-3 1-1 0 3 2-2 0 3 1 0 2-3 1 2 1 0 0 1 1 0 0 1 2 0 1-4 2-1 1 3 2-2 6 1 1 2 3-1 6 0 1 2 3-4 15 1 15 2 14 4-34-2-28 5 0-5-4 3-3-3 0 0-1 2-2-2 0 5-2-4 0 3-1-4 0 3 0 2 0 0-1-1-1 1-3-1-1-4 0 4 0 0 0-1 0 2-2 0-1-5-1 1 0 0-1 0 0 2 0-1-1-1-1 2 0 2-1 0 0-5 0 5 0-2-1 1-1 0 0-4 0 4 0-3 0 0-1 1 0 2-1-4 0 4-1-2 0 2 0 1 0-2-2-2 0 1 0 0 0-2 0 5-1-5 0 1 0 2 0-2 0 1 0 2-1-4 0 1 0 2 0-2-1 2 0-1-1 2 0-3 0 2-1-2 0 1-1 3 0-4-1 2 0-3-1 0 0 0-1 4 0-4 0 5-1-1 0-2-1-1 0 1 0 1-1-3 0 4 0-3-1 2 0 2-1-5 0 3 0-3-1 4 0 0-2-1-1-3 0 5 0-5 0 2-1 2 0-2 0 3 0-2 0 2 0-3-1-1 0 2-1 2-1 0 0-3-1-1 0 0-1 1 0 2 0-2 0 3 0-4-1-1-1 5 0 0 0-4-3 10 1-3 0 3 0-3 2-2 0 1 0 3 1-3 0 3 1 0 0 0 0-1 1 0 0-3 1 4 0 1 1-2 0-1 0 0 1-1 0 3 0-4 0 1 1 1 0-2 0 1 1-1 0 0 1 2 0-2 0 5 1 0 1-3 0-2 1 5 1-1 0-4 2 4 0-3 1 3 0-2 1-1 1-1 1 1 1 4 1-1 1-2 0-2 0 5 0-5 0 1 0 1 1 3 1-4 0 4 1 0 1-1 0-3 1 3 1 0 0-4 2 5 0-1 1 1 0-5 1 4 1-3 0 3 1-2 2 3 0 0 1-2 1-2 0 4 0-1 1-3 3 0 0 3 2-1 1-2 0-1 0 1 1-1 0 3 0 0 0 1 1-3 0 4 1-3 0 3 0-1 1-1 1-2 2-1 1 0 3 5 1 0 4-2 3 0 1-1 1 2 3-2 5-1 4 1 4 2 9 1 13 4-14-1-1 2 0 1-3-1-11 0-3-1-7 2 0-2-2-2 0 1 0 0-2-1-1 2-2 0 0-3-4 2 0 0-1 2-1-4-3 2 0 0-1-1 0 4 0-5 0 0-1 4 0-3-1-1 0 4 0-4 0 2 0 0-1 0 0 3-2 0-2-4 0 0-1 0 0 3 0 0-2 1 0-3-1-1-2 4 0-5 0 4-1 0 0-4 0 3-1-2 0 0-1 2 0-3 0 1-1 0 0 4 0-5 0 2 0 3-1-3-1-1 0 2-1-2-1 1 0 0-1 3 0-4 0 3 0-3-1-1-1 2 0 0 0 2-2 0-1-3 0 4-1-5-1 2 0 3-1-4 0 0-1 1-2-2 0 5 0-2-1 0 0 0 0-3-1 0-1 0 0 4 0-4 0 4 0-1-1-1 0-2-1 4 0-4 0 2-1 1 0-1 0 0 0-2-1 5-1-3 0 0-1 0 0 0-2-2 0 5 0-1 0 0 0 0-1-2-2 1 0 0 0-1 0-1-1 3-1 0 0-1 0-1-1 0 0 2 0 4 1-2 1 1 0-1 2 3 1-3 2 1 0 0 0-1 3 1 2 1 0-1 0 1 1-1 0 0 3-1 3 1 1-1 0 2 0-1 0 0 1 2 1-3 1 3 2-3 0 3 1-3 6 0 0 0 1 0 1 1 0-1 1 2 4-1 0 1 1 0 2-2 3 1 1-1 10 0 3 3 7-1 1-2 31 0" marker-start="url(#s)" marker-mid="url(#s)" marker-end="url(#s)"/>
<path d="M68 173l73 6-40-3-2 1-9-2-4 2 0 2-2-5-3 3-5-3-1 5-2 0-2-4-1 1-3-2-4 0 0 3 0 0-3-3-1 0-3 4-6-2 0 6 6-1 14 1 9 1 1 2 1 0 2-4 0-1 1 0 46 0-21 11-15 0-14-5-5 5-6 0 0-3-1 2-5-1-2 0-2-3-3 2 0 0-8 1-2 3 3 3 2 1 1 0 3 1 9-2 4-3 6 3 0-1 1 1 1-3 11 4 9 1 5-4 42 9-34 0-10 0-2-1-1-2-3 3-4 0-4-1-13 2-3-3-1-2-2 2-2 3-5-4-3 0-1 1-1 3-3-1 4 6 1-4 0 5 1-4 2 4 0-3 2 1 2 1 2-3 3 2 1-2 5 4 0-4 1-1 1 5 1-2 2-2 3-1 0 2 8 3 3-1 4 1 3 0 5-1 1-4-29 6 0 0-2 1-2 4-3-4-1 2-1-1-1-2-1 2 0-1-1 2-1-3-1 1 0 4 0-4 0 3-7-4-2 3-2-2-4 3-1 2 2 5 1-2 3-2 1 3 0-2 0-1 1 4 1-3 1 0 1 0 5 1 8-2 6 4 2-1 5-4 10 5 1-3 5-2 1 1 1 4 23 6-26-5-3 2-2 2-2 0-1-4-3 2-3 0-4-1-1 3-3-2-1 2-2-2-1 0-1-1-5 0-3 0-1 2-1 0-5 2-1 0-1-4-2 1-2 1-2-1 1 9 1 0 1 0 2-3 2 0 4 1 0 0 2-2 4-1 4 3 0 2 4 0 1 0 0-2 4-1 2 2 1-2 0-1 1-1 10 4 1-3 1 2 2 2 5-4 3 3 38 4-25 1-12 2-8-1-5-4 0 3-4-3-2 3-1 2-3-2 0 2-3-3 0 1-4 1 0-4 0 2-1 3-1-1-1 0-1-1-2-1-1-2-2 5 0-5-1 0 0 4-1 1 0-2 0-3 0 3-4-3-1 4-1 1 0-1-2-3-1 1-1-1 0-1-2 4-1 0-1 1-1-1-1 1 1 3 1 3 2-3 0 0 2 2 0-1 0-2 1 3 0 0 0 1 1-5 0 1 1-1 2 2 0 2 1-4 2 0 0 4 0 1 1-4 0 1 0 3 0-5 0 1 1 4 0 0 1-5 0 2 0-2 2 2 0 1 0 1 1-2 0 2 4-2 0 2 2-4 0 2 0-2 2 5 1-4 0-1 0 5 1-4 4 4 1-2 1-1 1 1 1-3 0 2 1 2 0-2 2 1 0 1 3-1 1 2 2-1 2-3 1 4 6 0 2 0 6-1 39-3 13 7-3 3-13 0-31-2-3-1 0 3-1 0-5-4-2 0-1 0-3 4-2-1-6-2 0-2-1 3-2 0-1-2-1 4-1-2-1-1 0 2-2 0-1 0 0-4-2 3 0 2-1-5 0 0 0 1-1 4 0-4-2-1-1 0-2 4 0-1 0-3 0 2-1 1 0-2-2 2 0 0-1 2-1-1-3-4 0 2 0 2 0 1-1-3 0 3-1-4-1 1-1-1-1 1 0-1-1-1-1 4 0-4-1 4-1-2 0-1-1 0 0 2 0 2-1-4-1 0 0 1 0 2 0-2-1 1-1 2 0-2-3-3 0 4-1 1-4 1 1 2 1 3 1-3 0 3 1-3 1 2 0 1 1-1 0 1 1-2 0-1 0 3 1-5 0 3 1-1 0 2 0-2 1 3 0-5 0 2 0 1 0 1 0 1 1-3 1-2 0 4 1 0 0-4 0 2 1 3 1-4 0 4 0-4 1 1 0-2 0 5 0-4 1-1 1 3 0 2 0-2 0-1 0 3 1-5 1 5 0-1 0-2 1 0 0 0 0-1 0-1 0 5 1-2 0-3 1 2 1-2 0 5 1-1 0-4 1 0 1 4 0-3 2 4 0-3 1 2 1-2 0 2 1-1 0-1 1-1 0 2 1 0 0-3 6 3 0 2 0 0 0-4 2 0 0 4 0 0 0-5 2 3 0 2 1-1 2-4 4 4 4-2 1 3 2-1 1 0 1-1 0 2 2-4 0 4 0-2 2-3 3 1 0 1 2 1 1 1 1-1 16 2 9 1-17 1-5 2-5-3-1 1-1 4-3-4-3-1-1 5 0-2-1 1-1 1-1-4 0 2-1 0-2 2 0-2 0 2-1-1-7-2 0-1-1 3-1 0 0-1-1 0-1-1 0-2-1 0 0 2 0-2-1 5-2-3 0-1-2 4 0-2 0-2-2 2-1 2-1 0 0 0 0 0 0-3-1 0 0 3 0-2-1 0 0 0 0-2 0 2-1-3 0 5-1-3 0-2 0 1 0-1-1 2-1 1 0 0 0 2-2-1-1-3 0-1 0 1-1-1-1 3 0-2 0 1-1 3 0-5 0 3 0-1 0 3 0-5 0 5-1-3 0-1 0-1 0 0-2 2 0 2-1 1 0-2 0-2-1 2 0 2-1-4 0 4-1-2 0 0 0 0 0 2-1-2 0-2-1 2 0 0-1 0-1-1 0 1-1-3-1 3 0 2 0-5-1 3 0 2 0-2-1-3-1 3 0 1 0-2 0 2-1 1-1-2-1-3-1 8 0 3 3-1 0-3 1 1 1 3 1-1 0 0 0 0 1-3 0 0 1 4 0-3 0 1 0-1 0 3 1-5 0 3 0 2 0 0 1-4 0 0 1 4 0-5 1 3 0-2 1 3 0 0 1 0 0-3 3-1 0 5 0-5 1 3 1-2 0-1 0 0 0 1 0-1 0 3 1-1 0 0 1 1 0 1 0-2 1-1 0 1 2 0 0 2 2-2 0 1 1 1 0 1 0-3 1-1 0 4 1-1 0-2 1 1 0-1 0 2 0-3 0 4 1-5 0 5 0-2 2 1 0 0 0-4 0 1 1 0 0 1 0-2 0 3 2-2 0 2 0 0 1-1 0-2 0 4 0-4 1 5 0-5 1 5 0-5 0 0 0 1 1-1 1 1 0 4 1-1 0-4 0 4 1-2 0 0 1 2 1-2 0 0 1-1 0 3 1-2 4-2 0 5 1-3 0-1 3 3 1-3 0 4 0-4 0 4 0 0 1-5 2 3 2 0 1 2 0 0 3 0 1-3 1 1 1 2 2-1 2-1 0-3 3 2 12 0 22 0 3 1 5-3-1 9-11 1-26 1-4-3-4-2-3 2-1 1-5-1-1 2 0-2-2-2-1 4-1-1 0-2 0 1-1 0-1 2 0 1 0 0-2-4-1 0 0 1-1 1 0 1-2-3-1-1-1 1 0 4-2-2-1-3-1 4 0-4-1 2 0 2 0 0-1 1-1-5 0 2 0 0 0 2-1-4 0 4 0 1 0-5 0 2 0-1-1 2 0-2 0 3-1 1 0 0 0-2 0-1-2 3 0-3-1-1 0 2 0-1-1 1 0 0 0-1 0 3-1-2-1-3 0 0-1 3 0 1 0-2 0 1-1-2 0 3 0 1 0 0-1-4 0 2 0 2-2 0 0-4 0-1-2 1-3 1-1 1 0-1 0 2-1-3 0-1-1 2 0 3 0-1-1 0 0-1 0 1 0-3 0-1 0 0 0 2-1 1 0-2-1 2 0-1 0 1 0 2-1-3 0 1 0 1 0 1 0-4 0-1 0 0 0 0-1 1-1 0 0 4 0-5 0 2 0-2 0 1-1-1-1 4-1-4 0 1-1 2 0 1-2-1 0 1-1 1 0-1-1 0 0-3 0 1-2 3-1-2-2 5 4-2 4 0 5 0 1 0 0 1 1-1 0 1 1-1 2 1 0-1 1 2 6-2 2 0 1 1 0 0 0-1 1 3 3-3 0 0 3 0 1 0 1 3 1-1 3 0 4 1 11-2 0-1 1 0 2 0 5 1 6 2 2 0" marker-start="url(#s)" marker-mid="url(#s)" marker-end="url(#s)"/>
<path d="M95 178l-1-3-3-1-7 0-10 4-1-4-1 0-5 0-2 0-4 3 0 2-5-1-3 0-1-3 0 2-4 5 1 2 2-4 4 4 1-3 0 3 2-4 1 0 8 4 0-1 0-1 1-2 0 3 0-1 1 1 4 0 1-1 1-2 2 3 2 1 6-1 3 0 13 1 4-3 26 4-37 3-3 3-3-3-2 1-4 1-4-2-2 1-2 0-12 2 0-4-1 4-5-2 0 1 0-2-1 3-5-2-1 6 4-2 4 2 11-3 0 4 10-3 4 1 5 2 9-1 9 0-7 3-4 4-2 0-2 1-1-5-2 2-6-1-2 3-2 1-2-3-3 0 0-2-1 3-2 0 0 2-4-3-3-2 0 1-3 3-9-1 4 4 2 4 0 0 1-3 1 3 5-2 6 2 1-1 3 0 1-4 2 2 3-2 3 4 6 0 3 0 2-4 5 4 14-2-11 4-2 4-3-3 0-1-5 3 0 0-8 0-6 2-2-4 0 4-1-1-4 0 0-3-1 2-1-1-4 3-1-1-1-4-7 10 1-2 2-1 1 2 3-2 6 2 4-2 3 2 0 1 3-2 5 1 1-3 1 3 5-2 5-1 4 2 6 1 4 2 2 4-8-2-5 1-7 0-9 1-2-2-1 3-1-2-1-2-2 4-2-1-1 0-1 1-3-2-3 0-3 0-2-2-6 3-7 3 3 2 5 0 0 1 0-2 2 2 1-3 2 1 2 1 1 0 2 1 1-2 7 0 0 0 0 0 0 3 2-2 3 0 4-1 0 2 2 1 0-1 6 0 1 0 3-1 7 0 18 6-14-2-4 0-4 1-1 3-2-1-2 2-1-2-1 2-4-1-2-3-3-1-1 0-1 1-2 4-1-1 0 0-1-1-1-1-1 1-1 2-1-3-1 1 0-3 0 4-1-1 0 1-2-1-2-3-1 0-4 1 0 2-1-1-1 3 0-5-2 0 0 1 0 0-1-1-1 2 0 3 0-5-2 3 0 2-2-1 0-2 0 2-1-4-1 5-1-4 0 0 2 8 0-3 0 5 1-2 0 2 1-5 0 5 2-1 2 1 1-4 0 0 0 1 0-1 1 3 0-2 1 1 3 1 2-2 0 1 2 0 0-2 1 2 1 2 1-2 2-3 1 5 0 0 1-4 2 2 0-2 1 2 3 1 1 1 1-2 1-2 0 1 1 0 1 2 0 0 8 0 1 0 1-1 0-1 0 1 1-2 1 4 0-2 0 2 0-4 1-1 1 5 4-2 2 2 0-2 3 1 2-4 1 3 2-1 2-2 0 3 17 7-12-3-1 1-2 2-5-3 0 3-5-4-5 5-6-3 0-1-1 0-2 1 0 0-1 0-1 2-1-3 0 0 0 4 0-4 0 4-1-4-5 0-1 0 0 1-1 3 0-1-1-1 0 0-1-1 0 0 0-2 0 4 0 1-1-2 0 2-1 0 0-4-1 3 0-4-1 0-1 0 0 4-1-4-1 3 0-2 0-1-1 5-1-1-2-4 0 5 0-1-1-3-1 4 0-2-1-2-1 0-1 0 0-1-1 0-1 3 0-2 0 4-2-4 0 3-1 1-1-2 0-1 0-2 0 4-1 0 0 1-1-4 0-1 0 2 0-2 0 5-4-3-1 3-2 0 0 5 1-2 1 1 1 1 1 1 1-3 0-1 0 0 1 4 0 0 1-1 0-2 1 1 0-1 0 2 1-4 1 1 0 4 1-1 0-4 1 4 0-3 1 3 1-2 0 1 0-1 0 1 0-1 0 3 1-1 1-1 0-3 0 4 0-3 2 4 1-2 0-3 0 5 0-5 1 5 1-3 0 2 1 0 0-1 0 0 1 0 2 2 0-2 0 0 1-1 1 3 1-5 0 4 1-1 1-2 1 1 1-2 0 2 1 1 0-3 0 2 0 1 0 1 1 1 0-1 0-3 0-1 2 5 0-1 3-2 0-2 1 1 1 3 0-3 1 3 1-2 1 1 2-1 0-1 1 2 1-3 1 4 0 0 1-3 0 3 0 0 1 0 2 0 4 0 2-4 1 0 3 4 1-1 2 1 2-3 5 4 37 0 1 0 3-3 5-1-13 9-3-3-4 3-13 1-16-3 0 3-1-2 0 2-1-1-1-3-7 2 0 1-1-3-3 3-1 1-5-4 0 3 0-3-1 1-1-1-1 2 0 2-1-3 0 0 0 1-1 0 0-3-2 4 0-2-2-2-1 1-1 2-1 1 0 0 0 0-1 1 0 0-1-2 0-3-1 3 0 1 0-2-1 1 0 2 0-4 0 2-1-1-1-2 0 3 0-1-1-2-1 0 0 3-1-3 0 5 0-2 0-2-1 4-1-4 0 1 0 3 0 0 0-3-1 3 0-2 0 2 0-3-1 3 0-2-2-1-1-1 0 2 0-1-1-2-2 4 0 0 0-2 0-1-1-1 0 4 0-2-1 3 0-5-1 0 0 2 0 3 0-1-1-3 0 4 0-1-1-2-1 0 0-1 0 3 0-2-1 2 0-3 0 4-1-5 0 4 0-2-1 3 0-4 0 3-1 0 0 1 0-3 0 0 0-2 0 1 0 1 0-2-1 3-1-2 0 4 0-5 0 2 0 0 0-2-1 2 0-2 0 1-1 4 0-3 0 0 0 1-1-1 0 1 0 1 0 1-1-3-1 0 0-1-1 4-1-4-1 1 0 2 1 2 1 1 1 0 0 2 0 0 1 2 1-2 0 0 0 2 1-2 0 0 0-2 1 4 2-5 0 1 0-1 0 2 0 3 0-3 0-2 1 2 1-1 0 0 0 1 0 1 1-2 0 0 0 0 0 0 0-1 1 1 2 2 0-1 0-1 0 0 0 1 1 3 0-5 0 1 1 0 0 4 1-3 0-2 1 2 1-2 1 4 2-4 0 3 0-2 0 2 1 1 0 1 1-3 0 3 1-2 0 1 2 0 0-2 0 1 0-3 1 1 0 3 0 1 1-3 1-2 1 0 0 2 0-2 1 2 0 2 1-3 1 0 1 2 2-3 0 1 0-1 0 5 0-4 2 3 0-4 0 5 3-1 0-4 1 0 1 3 1 0 0-3 0 5 0 0 1-5 1 3 2-2 0 0 1 4 6-1 1 1 1-5 0 5 0 0 0-3 1 3 0 0 2-4 2 0 0-1 8 4 29-1 2 0 2-3 22 6-21 2-36 0-1-1-1 3 0-4 0 5-2-2-2-2-2 2 0 0-1 1-1 0 0-3-1 2 0-2-2 2-1 1 0-1 0 2-1-5-5 4-3 0-1 1-1-2-2 0-1 1 0-1-1 2-1-3 0-1-1 0-1 1 0 2-1-3 0 1 0 2-1-4-1 4 0 1 0 0 0-2-1 0 0 1-1-3-1 0 0 2-1-2 0 4-1-1 0-1-1-3 0 2-1 2 0-4 0 2 0 3-1-5-1 0 0 1-1 1-1-1-2-1-1 5 0-2 0-1-1 1 0-2-2 4-1-3 0 2 0-1 0 1-1 1-1 0 0-1 0-1 0-1 0-1 0 3 0-1-1 0 0-1 0 0-1 3 0-3 0 3-1 0-1 0 0-2 0-2 0 0 0 4-1 0 0-1 0-1 0 1-1-3-1-1-1 5 0-2-2-1 0 0 0 1-1 2-1-4 0 0 0 1 0-1-1 1-1-1 2 5 2 2 1-2 0 0 1 2 1 1 1-2 0 1 0-1 2-1 1 1 1 0 1 1 1 0 1-1 0 0 5-1 1 0 1 0 2 0 0 0 3 1 0 0 1-1 0 2 0-1 1 1 0 1 2-3 1 3 0-2 3 0 0-1 1 0 0 1 2 0 0-1 0 0 5 3 0-2 2 0 2-1 1 1 0 2 8-3 1 2 0 0 11-1 6-1 9 0 37 2" marker-start="url(#s)" marker-mid="url(#s)" marker-end="url(#s)"/>
<path d="M125 179l-9 0-20-3-8 2-2-1 0-2-9 4-4-3-3 0-1 3-6 5 16-1 11 1 46 5-44 2-3-4-9 1-1 1-5-1-4-2-4 1-5 2-7 8 12-2 25-3 3 1 10 5-21 2-5-2-26 3 1 3 12 5 8-1 6 0 1 1 7-1 3-3 4 5-2 2-17 3 0 0-4 0-2 0-5-3-7 4 12 1 7 3 2-1 51 7-41 0-9-4-4 3-3 2-12-3-11 9 25-5 1 0 3 0 11 3 6-3 0 5 5-3 2 3 11-1 13 4-14 3-1-5-3 3-11 2-1-1-1-1-1-2-7-1-14 4-5-3 0 0-3 2-1-1-15-2 9 7 5 4 1 0 0-4 0 1 7 0 0 1 2 2 2-3 1 1 1 1 0 1 1-5 1 4 2 1 10-5 14 2 5 3 8-2 1-3 1 0 16 4-6 2-4 5-18-1-1-4 0 1-3-1-1 4-3-3-2 1-3-2-2 1-3-1 0 1-1 0-8 2 0-1 0 2-1 1-1-1-3-2-5 3-2 0 0 0 0 0-2-5 0 3-2-1 0 1-2-2-4 2-8 8 2-5 1 0 2 2 1 2 3-1 2 0 4 1 0-3 3 3 1 0 1 1 2 0 0-3 1-2 0 5 1-3 1 2 1 0 4-4 1 3 2 1 4 0 1-4 1 0 0 4 2 0 2-2 3 0 0-2 3 0 1 4 0-3 1 3 3 1 6 0 4-4 6 2 2 0 33-1 6 1-27 4-8-1-16 1-6 2-5 0-2 2-1-5-7 5-2-5 0 5 0-3 0-2-4 1 0 2-1-1-2-2 0 0-4 5 0-4-1 3-1-1-1-2 0-1-1 3 0-2-3 4-2-3-2-2-1 1-2 2-1-3-1 3-4-3 0 2-1-1-8 3 1 2 0 4 1-3 0 3 10-1 4-3 0 5 2-5 0 4 1 1 0-2 0-2 0 3 1 0 1-4 0 0 4 1 0 4 1-2 1-1 2 3 0-3 4 0 0 3 2-3 4 3 0-1 2-3 3 2 0 1 0-2 0 1 2-3 1 4 2-2 4-2 1 5 4-2 0-1 1-2 2 0 3 4 3-1 19 2 14 4-28-3-3 3-5-1-2 2-1-1-3-3-1 1-4-1-4 5-3-2 0-1 0-2-1 3-5-3-1 3 0-3-2 5-2 0 0-2-2-3-2 4 0 1-1 0-1 0 0-5-1 4 0-1-1 0 0-1 0 0 0-2-1 0 0 3-1-1 0 2-1-3-2 2-1-3-2 1-1 1 0-1-2 3-1-2-1-2-1 0-1 4-3-3-1 2 0 2-1-4 0 3-5 2 2 1 14 1 1-1 2 1 1-2 2 1 7 2 1-3 4 0 0 3 8-1 6 1 14-2 1 0 52 0" marker-start="url(#u)" marker-mid="url(#u)" marker-end="url(#u)"/>
<path d="M52 315l7 0 1 2 3-2 2 2 4-1 3-2 0 0 1 1 0-1 2 1 0 0 1-1 0 3 0-2 1 0 1 0 1 0 3 0 0 0 0-2 0 1 0 0 1 1 0 1 0-2 0 0 1 2 1-2 2 2 0-1 1-1 1 0 1 1 1-1 0 1 0 2 2-1 1 1 0-3 0 2 1-1 1 2 0-3 1 0 0 1 0 2 0-2 1 0 0 2 0-1 0-2 0 0 0 3 2-3 1 0 0 0 1 1 3 0 0-1 0 1 1 0 1-1 0 0 0 1 2-1 0 1 0 1 1 1 1-1 5 1 0 0 1-1 0-2 2 1 2 0 0 1 6 1 4-4 3 0 7 3 1 0-7 2-18 0-3 0-1 4-5-3 0 3-1-4-2 2-1 3-2-1-2-2 0-2-4 1-1 3-1-2-2 3-1-4 0 4 0-2-1 2-2 0 0-4-1 4-1-5-7 2-2 3-3-3 0-1-1 4-2-5 0 1-1 0 0 2-2-3 0 5 0-5 0 3-3-2-1 0-9 3 0 7 4-1 12 1 2-1 1 0 1-2 4 2 3 0 5 0 2-3 5 4 10-4 13 2-11 5-5 2-8-2-4 0-1-1-1 3-3 0-1-3-1 0 0 2-2 0-6-3-1 0 0 4-1 0-2 0 0 1-4-4-7 1-1 0-5 5 16 2 2-1 0 0 4 2 1-3 4 0 5 2 8 1 4-2 2 3 5 0 5-2-3 5-11-1-4 4-1-3-7-2-1 5 0-1-1 0-1-3 0 4-1-4-1 1-1 0-3 3-22-1 0 5 17 1 3-2 2 3 3-4 1 1 1-2 0 1 7-1 6 3 9-1 2 1 2-1-16 8-1-1-1 1-5-1-6 0-2 1-1 1-13 5 9 0 4-1 0-3 12 4 1 0 5-4 1 4 4-3 3 0 21 2-23 7-3 0-4-3-4 0-1 3-3 1-1 0-1 0-9 0-1-3-13 8 14 1 3-5 5 2 1 2 1-1 0 2 1-4 7 3 2 4-14 0-2 2-4 0-1-4-2 4-5-1-1 2-2-4 7 10 1-1 0-1 1 0 1-3 0 3 8 2 1-1 1-1 0 2 13 5-5 1-8-2-5 1 0 1 0-1-1-2-1-2-4 5-1-1-2-3-5 2-2-1-1 9 2-3 1-1 1-1 2 3 3-3 4 5 4-2 0 0 0-3 7 5 8 1-2 5-2-5-5 2-7 1-15-2-2 4 4 1 1 5 2-5 5 0 6 2 1 0-2 6-5 2-4 0-2-4-5 0-2 2-9 0 12 9 3-4" marker-start="url(#t)" marker-mid="url(#t)" marker-end="url(#t)"/>
<path d="M49 314l7 0 4 0 2 2 4-2 0 1 1 0 1 1 0 1 0-3 1 1 1 2 0-2 1-1 0 1 2 1 0 0 1 0 0 0 0-2 1 2 1-2 1 0 2 3 1-2 1-1 0 0 1 3 0-2 0 1 0-2 1 3 1-1 0-2 1 2 2-2 1 2 0-1 0 0 2-1 1 3 1 0 0 0 0-2 1-1 1 0 1 0 0 1 3-1 0 0 0 0 1 2 1-1 0-1 1 0 0 1 0 0 1 1 3-2 0 1 3 0 0-1 0 2 1-2 1 3 0-3 0 0 2 1 1 1 1-2 0 1 2 0 2-1 2 0 0 3 2-2 1-1 2 1 4-1 1 1 0 0 1-1 7 2 8 1 5-3 19 0-54 4-2 3-2 0-3 0-2 2-6-5-2 4-1-2 0-1-2 0-7 4-2-3-1 2-1-4 0 3-2-1-1-2-1 4-1 1-3-3 0-2 0 1-2 0-1-1-1 0-1 2 0-1-2 0-3-1-1 1-5 6 3 3 0 1 4-3 1-2 1 4 1-3 1-1 2 2 3 1 3 2 2-3 1-1 2 4 0 0 11-2 3 0 3-2 0 3 5-3 3-1 4 4 3-3 37 1-49 6-6 2-2-4-2 4-2-3-1-1-4 5-1-4-6 3 0-2-3 1-3 2-3-1 0-4-1 3-1-3-4 1-1 4-3-3-2 3-5-2 1 4 1 1 6 3 5-4 2 2 2 2 1-1 2-1 4 0 3 1 4 0 0-1 2-2 3 2 0 0 3-3 1 3 4-1 2-1 26 8-22-2-10 0-7 0-13 2-2-2-8-1-6 3 10 6 7 1 6 1 1-3 5 1 4 1 11 1 4 2-2 2-14-2-1 3 0-4-4 1-6-1-2 0-1 3-4 1-1-3-11 4-12 6 6 0 20-4 1 0 2 0 7 4 1-5 1 0-6 11-9-3-2 2-7-3-13 8 10-1 8 2 3 0 2-3 5 2 0 1 2-1 1-2 1 4 4 0 8-3 16-1 10 10-26-5-2 1-2 1-10 1-1-3 0 2-8 1-1-2 0 3-5-3-5 3-5 0 5 7 2-3 2 2 1-4 0 0 3 4 3-3 9 4 1-2 2-2 6 0 19-1-18 8-1 1-5-3-8 3-1-3-2 5-9 0-3-3-13 9 6-3 1-1 5 4 3-3 2 3 2-2 4 2 1-2 1-3 11 3 9 6-5 1 0-2-7-2-1 1-16 3-6-3-4 1 3 4 0 5 1-3 3 2 4-2 4 2 3 1 2-3-9 7-6-3-7 2 1 6 6-1 0-1" marker-start="url(#t)" marker-mid="url(#t)" marker-end="url(#t)"/>
<path d="M50 316l10-2 1 2 2 1 0-1 4 1 3-2 0 0 1 2 1-3 0 1 0-1 0 2 1 0 1 1 1-3 1 1 1-1 1 2 1-1 1 0 1-1 0 0 1 0 0 2 1 1 0-1 0 0 2-1 1 0 1 0 1 0 0 1 1-2 0 0 1 0 1 3 1 0 1-1 0 0 0-2 0 0 1 2 1-2 1 1 0 2 1 0 1-3 1 0 0 3 0-3 0 1 2 0 1-1 0 0 0 0 2 0 1 3 1-3 2 1 0 0 1-1 0 0 1-1 0 1 2 1 4 2 1 0 4-4 12 2 0 2 2-2 0-1 16 0-29 6-3-1-1 4-1 0-8-1-13-2-3-2-1 0-1 3-1 1 0 1-2-5-1 0-2 0 0 2-2 2-1-4-1 3-1-3 0 3-1-3 0 3-4-1 0-2-2 2-1 1 0-3-4 1 0 3-1-1-3 1-1 0-1-3-1 1-1 7 1-3 1 2 0 2 4-4 0 5 4-4 0 4 5-1 1-4 1 1 2 2 0-1 1 3 3-5 4 4 0-4 1 5 2-5 10 0 6 2 23-2-9 9-15 1-1-3-7 3 0-2-2 0 0-1-2 4-4-5-6 4 0-1-1 2 0 0-1-2-6 0 0-1-19 6 3 1 5 1 8-4 0 3 2-1 2 1 3-1 0 3 0-4 2 1 14-2 1 1 2 0 2-1 2 10-14-4-6 2-5-2-5 0 0 5-1-4 0 1-7-1-1 2-2 5 8 1 5 1 8-3 0-1 3 1 8 0 3 0 7 0 4 2 2 1 1-1-9 6-9-2-6 2-1-1-2 0-7 2-9-3-3 1-10 3 5 5 4-2 6-1 2 1 3-1 0-1 1 5 9-5 2 4 11-2 2 3-17 2-1 4 0-4-1 4 0-1 0 1 0-5-1 5-1-5-1 4-2-4 0 1 0 0-3 2-8-1-6-2-3 5-5 4 11-2 2 2 7 0 0-3 12 5 11 0 3-2 2-2-8 8-5-2-3 3-5 0-3-3-6 4 0-4-4 3-2 1 0-4 0-1-3 1-2 0-3 10 3-1 2-4 2 5 1-4 1-1 0 3 4 0 1 2 1-5 2 3 4-3 1 3 2 0 2 0 14 5-12 2-6-1-2 0-2-2-2 3-2 1-1-1-2 0 0-3-12 3 5 5 1 1 6-2 1 2 2-3 3-1 3 1 6 1 0 3 5 4 0-3-10 0-8 3-5-3 0 1-8 9 0 1 2-2 4 2 6-3 0 0 11 4-9 5-5 0-3 0 0-1-5-4 2 9 7-3 7 0" marker-start="url(#t)" marker-mid="url(#t)" marker-end="url(#t)"/>
<path d="M55 316l1-2 1 2 0 0 1 0 0-1 0 1 1-2 0 0 0 1 2 0 1 0 2 2 2-2 3 2 1-2 3-2 0 2 1 1 0-2 2 0 0 0 1 0 0 1 1 1 0-1 1 0 0 0 1 1 0-2 0 0 2 3 1 0 0-3 3 0 0 1 1-1 1 2 2-1 0 2 1-2 0-1 1 3 1-3 1 1 0 0 0-1 0 2 1 0 0-2 0 0 3 1 0 1 0-1 0 1 0-2 1 0 1 1 0 0 0-1 2 1 0 0 2 1 0-1 0-1 1 0 0 3 1-2 0 0 0 0 0 0 0 0 2-1 0 1 1 0 0-1 0 0 4 0 1 0 0 2 0 0 1 0 2-2 3 0 3 0 37 1-37 5-17 0-1 2-1 0 0-4-3 2-2-1-3 2-1-3 0 5-4-3-1 3 0 0-2 0 0-4-1 4-1-5 0 1-4 1-1-1 0 3-3-3-1-1-1 4-1-2-1 0 0 2-3 1-1 0-1-3-3 3-3 0-3-4-1-1-2 3-2-2-4 2 17 6 2-2 5 3 0-4 0 2 2-2 1 3 1-2 2-1 1 1 2 3 6-3 1 1 6 3 1-3 3 2 5-1 4 2 26 1-25 4-9-1-2 2-1-5-4 4-5-3-3 0 0 0-1 1-4-1-1-1-1 4 0 1 0-1-1-1-1 2-2-3 0 2-4-4-3 3-1 1-12-2-5 7 14-1 1-2 1 0 1 3 4-1 1 2 0-1 3-1 11 2 0 1 13-2 25 1-20 7-5-3-1 3 0-3-1 3-11-2-3-1-3 1-8 0-2-1-1 0-3-2-5 1-10 5 0 1 14 0 1 1 2 0 0 0 6-2 2 0 2 2 8 2 6 1 7-3 3 7-23 2-1-1-1-2-6-2-5 2-7 7 6-3 6 3 1 0 2-1 2 1 2-2 7 2 1-1 5 0 4 5-9 1-4 3-5-1-2 0-6-2-3-1-3 2-4-1-7 7 8 2 8-5 6 5 7 0 2-3 6 5-1-1-3 5-5-3-2-2-3 2-4 1-1-3-1 2-6 2-9-3-3 0-1 1 7 4 1 0 0 3 2-3 0 4 1 0 2 1 7-4 1 1 7 2 4-2 8 2-5 5-8 0-1 0-4-2-1 3-7-3-1 0-1 4 0 0-3-3-1-2 4 8 4 0 2 0 3 2 20-3-7 6-12 0 0 4-3 0-1-2-7 1-1-2-1-2-11 8 2-1 9 3 3-1 1 1 1 1 1 0 1-2 2 0 0 1 4 1-1 2-12 4-6-2-1 5 4-1" marker-start="url(#t)" marker-mid="url(#t)" marker-end="url(#t)"/>
<path d="M46 315l2 2 1 0 2-2 1 1 0 0 2-1 0 0 1-1 0 2 0 0 0-1 0 2 0-1 1-2 1 1 0-1 0 0 0 0 1 2 2 0 0 0 0-1 0-1 0 2 0-2 1 3 0-2 1-1 0 2 2 0 0-2 1 1 0 1 0 0 0-1 1 1 0 1 0-1 0-1 0 0 0 1 0 1 1-3 0 1 0 1 0-1 2 1 0 1 0 0 0-2 1 0 0 0 1 0 0 0 0 2 0-3 1 2 0-1 1 2 0-2 0 0 1-1 1 1 0-1 0 0 0 2 1-1 0 0 0 1 0-2 2 2 0-1 0 2 0-2 0-1 0 0 0 1 1 1 0-1 1-1 0 0 0 0 0 3 0-1 1 0 0-2 0 0 0 3 1-1 1 1 1 0 0-2 0 0 1-1 0-1 0 1 1 3 0-2 0 2 0-3 3 1 0 1 1-1 0 1 0-1 1 0 0 0 0 1 1 1 0-3 0 0 0 0 0 0 1 3 0-3 0 0 1 2 0-1 0 0 0-1 1 0 0 3 1-2 0 2 1-2 0-1 1 2 2-2 0 1 0 1 1 0 0-1 0 2 0-3 1 2 0-2 0 3 1-3 0 2 0 0 0-1 1 1 0-2 1 3 0-2 1 1 0 0 0-1 0-1 0 0 1 1 0-1 0 1 1 1 1-2 1 0 0 0 0 3 1-3 0 3 1-3 1 0 0-1 1 3 0-2 1 1 0-1 1-1 0 3 1-2 0-1 0 2 2-1 1 0 1 0 0 2 1 0 0-2 0 0 1 0 2 0 1 1 2-1 0 1 0-1 1 0 4 1 0-1 7 2 5-1 1-1 8-1 3 1 0-1 2 2 10 0-24 3-6 4 0-4-11 5-5-3-11-2-3 3-1 2 0-1-1-1 0 1 0-2-3-1-3 1-1-1 0 1-1 2-1 0 0-2-2 2 0-2-1-2 0 0-1 1-1 3 0-1-1 0 0-1-1-2 0 2 0-1-1 0 0 0 0 3-1 0-1-2-1 1-1-3-4 0-1 1 0 4 0-5-1 4-1 0-1-1 0-2-1 2 0-1 0 2-2 1 0-3 0-2-2 4-2-2 0 0-1-1 0 0-1 4-1 0-1-4-4 4-2-2 0-3-3 3 0 1-1-2 0-1-3 3 0-3-2 6 4 4 4-2 1 0 2 0 1-2 2 1 0-1 4 2 4-2 1 3 1 0 0-3 0 3 1 1 1-2 0-3 1 3 1 2 1-1 0-4 1 2 1 1 0 0 3-3 0 3 1-3 5 3 1 0 2 0 3 1 0 0 0 0 3 0 0-4 0 2 3 0 4 0 4-1-5 7-8 3-3-4-1 0-4-1-2 1-1 3-5 1-1-3 0 3-1-4-1 1-8-2-1 0 0 3-5 1 0 0-2-2-2-1-3 0-1 3-2-2-2 3-4 0 3 1 2 0 1 2 0 2 5-4 0 1 2-1 0 5 1-1 2 0 3-2 6 1 3-3 0 3 6 1 2-4 2 2 5 1 1-3 12 5 5 6 0-4-6 0-1 4-10-2 0 1-6-2-1 2-2 1-1-3-3-2-8 2-4-2 0 2-1-1-2-1-2 5-5-3-1-2 0 2-1 1 0-1-2 2-4-4 1 10 1-3 1 0 1 2 3 0 5 2 2-1 6 0 1-2 1-2 1 1 2 4 3-4 1 1 5-1 6-1 2 2 2-2 1 5 2-3 11 3 4 3-10 2-11 1-2-3 0 1-2 1-8 0-2 1 0-1-2 0-7-4-2 4-1-2-1 1-2-2 0 2 0-2-1 2-9 2-2-4-3 9 10 1 0-1 1-4 0 5 3-2 0-1 5-1 2 3 0 0 0 1 3-4 0 1 1 2 0-2 1 3 4-5 3 3 2-3 1 3 4-3 3 4 7-4 6 2 3 1-11 4-3 0-5 3-1-4 0 3-1 2-2-4 0 4-4-4-1 0-1-1-6 4-1 1-1-4-4 1 0 2-4-3 0 1 0-1-2 4-1-1 0-2-7 0-1 0-1 2 1 6 0-4 4 2 1-1 2-1 0 4 0-2 2-2 3 5 5-3 0-2 8 5 1-2 1-1 0 2 1-2 3 0 5 3 0-2 1 0 2-1 14-2 3 4-15 7-4-2-3 0-2-1-1-2-4 5-7-5 0 3 0-3-3 3-3-3-4 1 0 0-2 4-1-4 0 4-1-5-1 2-1-2-3 4-3 7 4 0 1-2 0 2 1-4 2-1 0 0 0 5 0-4 0 3 1-2 4 2 1 1 2-3 0-2 1 0 1 4 0 1 1-5 0 3 3-2 0 0 6 4 8-5 18 5-9 1-12 0-5 2-1 2-3-3 0 1-1-2-4 0-2 1-2 0-1 3-1-1-3 2 0-4-1 2 0 2-2 0 0 0-1 0 0-2 0 2-1-2 0 1-3-2-1 1-1 1 0 7 1 0 3-5 1 3 1-3 1 0 0 0 1 4 1-4 0 0 1 3 0 1 2-3 0 0 1 0 1 4 1-5 0 5 0-4 1 3 1-1 1 2 1-4 1 3 2-3 0-1 8 1 2-1 0 2 1 2 2-4 3 4-8 5-3-1-1-1 0-1-1 4-2 0-4-1-1-2 0 2 0-1-3-1-3 0 0 4-1-3 0 0-1 2 0 1-1-4 0 1-1 2-1 1-3-3-1 3 0 0 0-3-1 0-2 3-1-3 1 9 1-2 1-1 0 2 2 0 1 1 1-1 0-4 1 3 0-3 1 5 2-2 0-2 1-1 2 2 1 2 2-1 0 2 4-3 3 0 3-2 2 4 7-4-11 11-1-4-3 4 0-5-8 3-1-1-1-2-1 2-1 3 0-4-1 1-1 1 0 2-1 0 0-4 0-1 0 1-1 4 0 0 0 0-1-5 0 4-1-3 0 2-3 0-2 1 2 5 1-3 1 2 1 0 2-1 3 2 1-3 1 0 0 1 0-1 1 2 4 2" marker-start="url(#s)" marker-mid="url(#s)" marker-end="url(#s)"/>
<path d="M49 315l2 1 0-2 0 1 1 2 1-1 0 0 1-2 1 1 0-1 1 1 0 0 0-1 3 0 1 1 1 2 0-1 1 1 0 0 0-2 0-1 1 2 1 0 0 1 0-3 1 1 1-1 0 0 0 3 0-1 1-1 0 2 0-3 0 3 2-2 0 2 1-1 0 1 1-1 0-1 0-1 1 2 1-2 0 2 0 1 1 0 0-2 1 0 0 2 0-3 0 3 0-3 1 1 0 0 0 0 0 0 1-1 0 1 0-1 1 0 0 0 0 0 0 3 1-3 0 2 1-1 1-1 1 0 0 1 0 0 0-1 1 3 0-2 0 2 0-2 2 1 0 1 0-3 0 3 0-3 1 0 0 0 0 2 2-1 0 0 1-1 0 0 0 2 0-2 1 1 0-1 0 0 0 2 0-3 0 0 1 1 0 0 1 3 0-1 1 0 0 0 0-2 1 1 0 1 0-1 0 0 0-1 1 1 0 1 0-2 0 0 0 0 1 2 1 1 0-3 1 1 0 0 2 1 0 1 0-2 1 1 1-2 0 1 0 0 0 0 0-1 1 2 0 0 0-1 1 0 0 0 0-1 2 2 0-2 0 1 1-1 0 0 0 1 0 2 0-2 1 1 1-1 0 0 0-2 1 3 1-1 0 0 0 0 1 2 0-4 0 1 1 2 0-2 1 1 0 0 2 0 0-1 2 0 0 0 0 0 0 1 2-1 1 3 0-2 0 2 3-2 1-1 1 0 1 0 3 2 5-2 7 0 1 0 2 2 0 1 1-2 1 0 1 1 10-2 1 2 1-2 1 0 4 0 2 2 0 1 4-3 1 0-10 4-39 0-10 1-1-1-1 5-1-1-2-1-1 2-4-2 0-3-3 3 0-2-4 4 0-5-2 0 0 3-1 0-1-2-1 2-3-3 0 0-1 0-1 4 0 1-1-4-1 3-2-3 0-1 0 5-1 0-3 0-1-5-1 0-3 0 0 3-4-3-1 1 0 1-2 1-1 0 0-1-1-2-1 2-1-1 0-1-1 1 0 1-1 2-1-3 0-1-1 2-1 0-2 0-3 2-5-4 4 10 6 0 2-2 3 2 3-2 0 0 2-2 1 0 0 3 1-3 3 3 0-1 0-1 1-1 0 4 3-3 1 0 2 1 1-2 1 4 3-2 1 0 4 2 1 0 0 0 0-1 1 2 1-3 4 3 0-5 1 1 1 4 6-5 0 5 3-5 2 2 1 3 1-5 2 1 15 7-5 3-13-2-1-1-5-2-1 1-6 0-1 0-1 2-1 1-4-1-1 2-4 0-1 0-1-4-1 2-1-2-3 0-3 1-1 1 0 2-2-2-1-1-3 2-1 0-5 1-5 0-1-5-1 7 2 0 1 1 1-2 1 1 0 1 1-2 3 1 1 0 1 0 0 0 0 2 1 2 1-4 0-1 1 4 2 0 1-3 5-1 3 1 2-1 1 3 1 0 7-2 5 1 1 1 0 2 13 6-4-4 0 1-2 1-2-3-7 3-7-3-3 3-2-3-2 1-1 4-5-5-1 5-2-5 0 1-2 4-1-5-1 2-2 0 0 2-1-1-1-3 0 2-1 0-3-1-1 3-5 0 0 3 5 0 3 2 2-2 5 0 0 0 3 3 6-4 0 0 1 0 2 5 7-1 10-2 15 2 4 2-2 2-13 0-6 1-6-1-2 2-4-1-1-3-1 4-2 1 0-4-2-1 0 3-1-1 0 1-2 1-1-4-1 2 0 2-3-2-1-2-2 1-2-1-4 4-3-4-8 3 1 4 6-1 2 4 4 0 3-1 0 1 4 1 1-5 1 5 2-2 4 2 5-3 1 0 0 0 1 0 1 0 1 1 0-2 7-1 1 2 0-1 6 0 7 1-11 5-6 4-6-3-1-1-2 4-2 0-1-5-7 2-1 1-1 2 0-4-4 0 0 1 0-2-4 0 0 2-1-1-1 3-1-4 0 2-1-1 0-1-1 5-3-3-2 3 0-2 1 6 4-2 2 4 0-5 1 1 0 3 1-3 2 4 4-1 3-3 1 0 2 0 1-1 1 3 0-2 2 3 20-4 13 10-5-1-5-1-15 2-4 1-4-3 0 3-1-2 0-1-5-2 0 0-1 0 0 4-1-2-2 3 0-2 0 0-3 2-3-1-2 0 0-3-1 3 0-1 0 1 0-3-1 4-3 0-5 0-3 0 4 5 1 1 1-5 0 3 2-2 0-1 0 4 0 0 0-3 1 2 1 2 0-5 1 5 0 0 0-5 1 5 0-2 1 1 6 1 1-2 1 1 1-4 2 0 0 3 3 1 0 1 1-2 2 0 1-3 4 2 2-1 1 3 4-1 0 2 9-3 7-1-12 7-10 1-2-3-2 4-2-3-2 3 0 1-1 0-1-4-2-1 0 2-1 3 0-1-2-2-1 2-3 0-1-2-1 2-1 0 0-1 0-3-1 4 0-2 0 2-2 1 0 0-1-2 0 0 0 1-1 0-1-1-3 1-1-4 0 0-1 4-1-4 0 6 4 1 0 0 0 4 1 0 0-5 0 3 1-2 0 3 1 0 0 0 2 1 1-2 1 0 1 0 1 2 2-5 5 4 1-2 0 2 2-4 2 3 0-1 0 3 8-5 0 3 12 0 1 1 5-3-18 7-2-2-8 1-2 1 0-1-1 3-4-4-2 5-1-3 0-1-1 2-1-3-2 3 0 1 0-1-2 2 0-3-1 2 0-2 0-2-1 5 0-4 0 1-1 1-1-3 0 3-1-1 0 2-1-3 3 7 1 3 2 0 1-2 0-2 0-1 1 5 2-5 1 0 2 5 1-1 1-3 3 3 1 0 2-1 15 0-14 7-2-3-5 2-1-2 0 4-4-2 0-2-2 1-3-2 0 4 0-3-1-1 0 3-1-2-1 3-1-2 0 3 0 0-1 0 0 0-1-2 0-1 0 1-1 1 0 7 1-3 0 0 2 2 2-3 3 0 1 0 1 2 1-2 3 2" marker-start="url(#s)" marker-mid="url(#s)" marker-end="url(#s)"/>
<path d="M48 317l1 0 1 0 1-2 0 0 2 0 0 0 1 2 1-2 0 1 1-1 1-1 0 0 1 1 1-1 0 0 1 1 0 2 0-2 1-1 0 1 0 0 0-1 0 2 1 0 0 0 1 1 0-3 1 0 0 1 0-1 1 3 0 0 1-2 0 2 1-3 2 2 0-2 0 1 0 1 1 1 0-1 0-2 0 0 1 0 0 2 0-2 0 3 2-1 0-2 0 1 1 0 2-1 0 0 1 3 1-1 0-2 1 1 0-1 0 0 0 1 1-1 0 2 0-1 0 0 1-1 0 0 0 0 0 0 0 0 1 1 0 1 0-1 0 0 1-1 0 2 1-2 0 2 1-2 0 0 0 2 0 0 1-1 0-1 0 2 0-1 0 1 1-2 1 1 0 0 0-1 0 0 0 1 0 1 0 0 1 0 0 1 0-3 0 2 0 0 1 0 0-2 2 0 0 0 1 1 2 1 1 0 0-1 1 0 0 2 1-1 0 1 0-2 0 0 0 0 1 2 0-3 0 3 0-1 0-2 0 0 0 1 1-1 0 3 0 0 0-2 1 1 1-2 0 0 0 3 0-3 0 1 0 0 1-1 0 2 0-2 0 0 0 0 1 0 0 0 1 0 0 0 1 1 0-1 1 0 0 1 0 0 1-1 0 0 2 0 0 1 0-1 0 0 1 1 1-1 1-1 1 2 1 0 0 0 1-1 1 1 1-2 0 3 2 1 0-1 1-1 1 1 1-2 1 1 4 1 8-1 3 0 2-1 1 0 1 0 1 0 1 0 4 2 8-2 17 0 1 1-39 4-17 1-4 1 0-3-5 0-1 3-1 1-1-4-2 3-3-3-1 0-1 1-2-1 0 4 0-3 0 2-1 0 0 2-1 0-1-1 0-3-1 0 0 0-3-1-2 0 0 2 0-2-1 4 0 0 0 0 0-4-1 4 0-1 0-3 0 2-2 0-1-2 0 3 0-2-1 2 0 2 0-4-1 4-1-2 0-1-1 3 0-1 0-4-1 4 0-2 0 2-1-2 0 3-1-1-1-2 0 2-1-1-1-3 0 1-1 2 0-1 0-1 0 0 0 2-1-3 0 2-1-2 0 3-3-1-1 0-1 1-1-3-1 5-1-5 0 2-1 2 0-1 0 0-1-1 0 1-1 1-2 0 0-1-2-3-1 1-3-1-2 4 1 3 0 1 3-1 1 2 0 2 1 0 0-5 1 3 0-1 0 1 4-1 0 3 0 0 3-5 2 5 1-1 1 0 3-1 0-3 3 1 2 0 2 0 3-1 1 2 1-2 3 5 2-4 2 3 1 0 4-4 6 0 1 1 1 4 0-3 0 3 1-1 0 1 3-5 1 4 58-1-51 8 0-2-15 2-2-3-1-2-7 0 0 3-2 2 0-4-1 3-6 0-1-2-2 3-2-2-1-2-3 4-1 0-2-5-4 0-3 2 0 3-1-3-1 0-1 1-3-1-1 3-1 1 0 0 3 5 1-3 1 1 1-2 1 3 2 1 1-5 0 2 2-2 2 4 2-4 4 5 1-2 0 1 4 0 0-2 3 3 0-3 2 2 1-1 2 0 1-2 2 3 4-1 8-1 10 0 6 1 12 6-27 0-2-2-17-1-4 1-1 3-3-2-1-1-5 2-2-3-2 0 0 4-3-3 0-1-3 4-3-4 0 5-2-5-3 4-2-2 6 4 1 3 0-1 1 0 1-2 0 2 2 2 2-2 3-2 2 3 2-3 0 5 0-2 5-3 0 5 0-2 2 2 1-2 0 1 0-3 3 1 2 2 1-1 5 1 1-4 0 1 8-1 1 2 3-1 3 3 9-1 0 2-13 3-5-2-5 2-8-1-5-1-2 4-6 1-1-4-2 4-1 0-2 0-1 0-3-3-1 0-1 1-2-1-4 6 4 3 1-3 2-1 1 4 0-4 1-1 0 1 3 0 1 3 0-3 0 2 12 2 3-5 2 4 3-2 3 0 10 2 23 3-16 1-17 3-12 0 0-5-3 4-2-3-1 4-5-5 0 2-1 1 0-3-2 0-1 4-1-4-2 4-3-3-1 1-3 6 5-1 1 2 0-3 2 1 0 2 4 2 0-4 2 1 1-2 1 0 4 1 1 2 2-1 3 3 0-3 2 2 2-3 23 3 8-4-9 9-10 1 0-2-2 3 0-5-4 2-5 0 0 3-4-3-3 2-2-2-1 3-3-2 0 0-3-1-1 2-1-2 0 1-2-2 0 1-1 0-1 0-2 3-1-4 0 2-1 1-1 0 0-1-2 1 0 0-3 1 0-2-2 5 3 3 1-3 0 1 3 2 0 0 1-3 0 1 2-1 2-1 0 1 0 2 0 1 1-4 1 4 3 0 2-3 1 3 2-5 5 5 1 0 1-5 1 0 1 1 1 2 7 2 1-5 1 4 13-3-16 6-2 0-1 1-2 2-1-4-4 2-1 0-4-2-1 2 0 1-3 0-1-3 0 4-1 1-1-2-1-2 0 1-3 2-2-1-1-1-1 1-1 0-1-3-3 5-2 4 1 1 1-2 0 3 1-4 0 3 1 1 0-5 1 3 0 1 1 0 1-2 1 1 0 1 1-2 0 1 1 2 0 0 0-1 0 0 1 1 1-2 0-1 1 2 1-2 1-2 0 1 0-1 5 3 2 0 4-2 0 1 1 0 12 0 6 1-13 4-7 2-5-3-1 2 0-2-1 2-1 0 0 3-3-4-3-1-2 2-1 3 0-2-1-3 0 0-2 2 0 0 0-2-5 2-1 3 2 5 1-1 1-3 0 1 1 0 0 4 0-4 1 1 0 1 1 0 2-1 0 3 1-5 2 2 1-2 1 2 1 1 1 2 3-3 1 3 4 0 2-4 5 0 2 4-14 4-3 2-4-4 0 2-2-3-1 0-1 2 0 3 0-1-1-1 0-1 0 1 0-1-1-1 0 0 0 4-1-5-1 2-1 2-2 0 0-1-1 0 0-1 2 4 0 2 8 1 5-2" marker-start="url(#s)" marker-mid="url(#s)" marker-end="url(#s)"/>
<path d="M45 315l3 0 0-1 1 1 0-1 2 0 1 2 1 1 0-1 1 0 0-1 0 1 1-1 0 0 2 1 0 0 1-1 0 0 0 0 1 0 0 0 0-1 2 0 0 1 0-1 0 0 1 1 0 1 1 0 0-2 0 3 1-2 0-1 0 1 1 0 0 1 0-2 0 1 1 2 2-1 0 0 0 1 1-2 0-1 0 1 1 2 0-2 1-1 0 1 1 2 0-3 0 1 0-1 1 1 0 1 1-1 0-1 0 1 1 1 0-2 1 0 1 0 0 1 1-1 0 3 0-3 0 3 1-3 0 2 1 1 0-2 0-1 0 2 1-1 1 2 0-2 1 1 0 0 0-1 0 1 0-1 0 0 1 1 1 0 0-2 0 2 0-2 1 0 0 1 0 0 0-1 1 1 0-1 0 2 0-1 0 1 0-1 1-1 0 0 0 2 0 0 0-1 1-1 0 1 0-1 0 1 0 0 0 0 0 2 1-3 0 3 0-3 1 0 3 3 0-2 0 1 0-1 1-1 1 2 0-3 0 2 1-1 0 1 0 0 1-1 0 3 0-2 0-1 0 0 0 0 1 2 0-2 1 0 1 2 1 1 0-1 1 0 0 0 0 0 0 1 1-3 0 0 0 0 0 2 1-2 3 0 1 2 0-3 1 4 1-2 4-1 3 1 1 0 1 2 2-2 4-1 1 0 0 0 0 2 4 1 2-3 0 1 1 1 1-2 4 0 2 1 0 0 2 1 9-2 1 2 1-2 14 1 8-1-7 4-43 0-7 3-8 0-6-2 0 2-1-3-3 3 0 1-1-2-1-1-3 3 0 0-4-4-1 0-2 1 0 3 0 1 0 0-1-4-1 0-2-1 0 2 0-2-1 3-1 1-1-1-1 0 0-2-1 1 0 0 0-2-3 0 0 3-1-1-1-2 0 5 0-1-1-3-1 0-1 0-1-1-1 4-1-3 0 4-2-4 0 1 0 3-1-1-1 1 0-1-2 1-2-4-2 2-1 0-1 2-2-4-1 0-4 3 4 6 3-1 1-3 3 1 1 4 1-2 0-3 1 2 0-2 2 2 0 3 0-4 2 0 0 0 1 3 4-3 2-1 1 2 1 0 4 0 0 1 0 0 1 0 0-2 1 1 1-1 2 3 0-2 2-1 8 3 1-3 4-1 3 0 1 2 9 3 12 6-6-2-13 2-2-5-6 4-2-1-1-1-1 3-1-5-1 0-2 2-1 2 0-1-3-3-4 5-1-1-3-1 0-3 0 1-4 3 0-4 0 1-2 2-1 0-1 2-2-3-1 0-1 0 0-2-1 1-2 0-1 0-1-1-1 2-1 2-1 0 0 1-2-2-1 2-3-5-1 1-1 3-3 1 4 3 2 1 2 2 2-3 6 0 0-1 1 4 4-2 1 1 0-2 1 1 0 1 3-3 2-1 2 3 1 2 0-1 3-2 1 0 5-2 0 0 12 5 0 0 3-3 3-2 12 4-15 6-6-4-1 4-5 0 0-4-1 5-5 0-2 0-1-4-2 4-4-4-1 2 0 1-7-4-1 4-1 0 0-4 0 0 0 4-1 1-1-5-2 2-2 2-1-4-3 4-1-2-1 2-1 0-1-2 0 9 1-4 2 3 2-1 1 0 2 2 1-4 1 3 0 0 2-1 1 2 3-1 1 1 7-3 6 3 1 0 1-5 0 4 12 0 1-4 3 3 3 0 3-1-2 4-12 5-1-2-2 0-5 2-2-2-3 2-2-5 0 3-1 0-5-1-8-1 0 4-2-3-3-1-1 3-5 0-1-2-2 1 1 6 4 0 4-2 2 1 2 1 1-1 5-1 4-1 0 5 0-5 1 1 0 4 0-5 1 3 0 2 3-1 2 1 1 0 3 0 0-4 3 3 7-1 5-1 7 1 5-1-19 5-6 4-3-5-1 5-1-1-1-1-1-2-1 2-2-2-2 2-2 2-2-3-1 0-2 0-7 0-1 0-2-2 0 4 0-2-1 2-3-1-1 2-3 3 1 1 2 1 0-1 3-2 2 2 1-2 0-1 2 2 2 1 1 2 5 0 0-4 2 0 0 3 6-3 1 0 2-1 1 0 0 1 2 4 2-4 5 4 6-4 5 10-20-5-1 1-2 3-1-2-1 1-1 1-4 1-1-1-3-1-1-1 0 3-1 0-1-1-2-3-1 4 0-4-1 4-1-1 0 1-3-1 0 1 0-2 0 0-1-2-2 0 0 2-1-3-2 6 0 3 3-1 1-2 1 1 1 4 0-3 0-2 1 0 0 5 0-3 1 1 4 0 1 0 1-1 3-2 0 4 1 1 2-5 0 2 4 0 0-1 0 2 2 1 0-1 4-2 1 3 6-2 6 3 8 0 11 0-12 1-11 5-8-5-1 0-1 2-2 1-2-3 0 3-3-3-2 2 0 0-2-1-1 2-1 1 0-2-2 0 0 0 0 0-1-1-2-1 0 4-2-1 0-2-3 4 0-1-2-1-1-3 0 2-1 8 0 0 2-2 1 1 4-1 0 0 2-1 0 3 0-2 1-1 6 4 1-3 1 3 1-5 1 5 1-1 0 1 1-5 0 4 1-2 4 0 5 0 3 1 9 0 4-1-16 7-4-3-1 2-2-1-2-1-2 0-5 2 0 1-1-2-1 0 0 0-2-1 0 1-1-1 0 5-2 0-1-4 0 0 0 3-1-3-1 0-1 4 0-2 0-1 0-2-1 1 0 1-1 2-1 0 0-1-1-2 0 0-2 0 0 9 1 0 0 0 2-2 0 1 1 1 0 1 0 0 1-1 2-2 2 0 0 3 1-1 1-4 2 4 3-3 1 3 0-3 1 3 1-1 3-1 3 0-1 4-4 1-1-1-2 2-2 3-1-1-1-3 0 3-5-4-2 1-2 3 0 1-1 0 0-3-1 3-1-2 0 0 0 0-1-3-1 0-1 7 0 3 4-1 0-3 1 4 0-1 0-1 0 0 2 0 0-1 1 0 1-1 2 2" marker-start="url(#s)" marker-mid="url(#s)" marker-end="url(#s)"/>
<path d="M48 315l0 0 1 0 2 2 2-3 2 1 0 1 0 0 3 1 0-3 2 0 1 1 0 1 0-2 0 1 0-1 0 0 0 3 1 0 0-1 1-1 0 1 0 0 1-2 1 3 0-2 2 0 0 0 0 1 0-1 0 2 1-1 0-2 1 1 0 1 1 1 0-3 1 1 0 2 0-1 2 0 1-2 0 0 0 0 1 2 0-2 0 0 1 0 0 0 1 0 0 0 0 2 0-1 1 1 0-2 0 1 1-1 0 0 0 1 0-1 1 3 0-3 0 0 0 0 0 0 0 1 1 0 0-1 0 3 0-2 1-1 0 2 1-1 0 0 0 2 1-3 1 1 0-1 1 1 0-1 0 0 0 2 1-2 0 2 1-2 0 0 0 1 0 1 0-1 0 0 1 2 0-4 0 2 1 0 0 2 0-1 1-2 0 1 0 1 0 1 0-1 0-1 0-1 1 1 0-1 0 3 1-1 2-2 0 2 0-2 1 2 0 0 0-2 0 2 1-1 1 2 0-3 1 2 0-1 0-1 1 0 0 2 0 1 1-2 0-1 0 0 0 0 0 0 1 0 0 1 0-1 1 0 0 1 1-1 1 0 0 0 1 0 0 0 0 1 0-1 1 0 0 0 0 3 1-4 0 1 1 1 1-1 0 3 0-3 1 1 0-1 0 0 1 0 0 1 1-1 0 2 2-1 0-1 1 0 0 1 1 1 1-1 0-2 2 2 0-1 1 2 2-1 1-1 1 0 0 0 0 2 3-2 1 0 0 1 2-1 0 2 0-2 7 2 0-1 2 0 0 0 4 1 9-1 3 0 6 0 16-1-29 5-21 3-11-4-7 5-1-1-2-4-2 1-1 1-2-1-1 1 0 0 0-1 0 4-1-2 0 0-4-3-1 1-3-1 0 0-1 2-1 0-1-2-1 2-1-1 0 4-1-1-1-2-1-1-1 2-1 2-1-2 0 0-1-2 0 4 0-5-1 3 0-1-3-2 0 2-1-1-1 0 0 0-1 0-2-1-1 0 0 2-1 0 0-1-1 0 0 4-1-2 0 0-3 0 0 1-1-4-1 5-1 0-1-5 0 3 0 2-1-3-3-2 0 1-2-1 0 4 0-4 0 2 1 4 5 5 1-5 2 3 4-3 4 1 0-1 2 2 1 3 3-4 1 1 1 1 2-1 1-2 0 4 2-1 2-1 0-1 0 2 2-3 2 5 0-1 0-1 2-2 1-1 1 3 1 0 1-1 9 2 0-2 1-1 3-1-6 8-5 1 0-2-4 4-4-2-1-3 0 3-1 1-2-4 0 1-1 0 0 1 0-2-3 1 0 1-1 3 0 0-1-5-1 5-1-4-1 0-3 1-1-2-1 5 0 0-3-2 0 2-1-1-1 1-5-2-1-3 0 5-5-4-1 4-1 0-3-4-1 7 6-1 1 0 1 0 0 2 1 2 1-2 1-2 3 3 0 1 0-2 4-3 1 0 1 4 9 1 2-1 0-2 2 1 1-1 1 0 0 2 3-2 4-1 0 2 6 1 1 1 1-3 9-1 6 4 52 2-59-1-14 0-3 1-5-1-4 3-1 1-2 0-1-2 0-1-1 3-5-2-2 3-1-3-1 0 0-1-2 0-4 2 0-2-1-1-5 4-5 5 1 0 3 0 0-1 1 0 1-1 5 1 0 0 3-2 2 0 0 3 1-2 1 2 4-1 3 2 1 1 5-5 2 0 2 4 1-4 0 2 4-1 17 4 4-5 0 6-1 1-3 3-4 0-11-3-1-1-9 4 0-4-2 5-2-1-1-3 0 0-4 0-1 2 0-3-1 4-1-3-1 4-1 0-2-1-3 0-1 1-1 0-1-3-1-1-4 2-4 0 0-1-2 9 4 0 0-5 1 5 0-1 1-1 1 0 2 0 5-2 1 1 3-1 0 3 2-4 1 3 2 2 0 0 0-1 1-2 1 3 0 0 2-2 3-2 0 3 4-3 0 1 5 0 0 1 10-1 2-2 5 1 6 0-10 5-12 5-7-1-3-4-4 4-2-2 0 0-1 3-4-1 0 0-4 1-1-2-1 1-2 0-1-1 0 2 0-3-1 3-2 0-2-4 0 0-1-1-2 4-1-2-4 3 2 4 2-2 0 1 1 0 3 0 0 3 2 0 1-4 2 2 1 0 1 1 9-1 1 1 0-2 1 0 0 0 1 3 0-3 0-2 1 0 5 0 1 3 0-1 3 3 3-4 0 2 1 0 0-3 5 0 4 1 1-1 2 2 3 6-8-2-2 3 0-2-4 4-1-5-6 1-2 4-11-1-1 1 0-5-2 1-2 3-4 1-1-1-3 0-5 1-3-2 5 3 1 3 0 2 1-3 2-1 1 3 1-2 2-2 3 1 1 4 1-4 5 3 0-2 1 1 0 1 0 0 2-4 6 5 2 0 3-1 6-4-10 8-1 3-2-2-1-2-1 4 0-4-1 3-1-1-5 1-2-3 0 1-6-2-1 5-1-4-1-1 0 4-1 0-1-2 0 0-1-1-1 2-4-3 0 5-3 3 0 1 3-2 1 3 1-2 2 0 0-1 3 3 0 1 0-3 0-2 4 2 1-2 1 1 0 3 1-3 1 2 1-1 1 0 1 0 2 3 1-3 3-2 3 2 1 1 9-3-5 10-3 1 0-1-5-4-2 2-3-2-1 4-2 0 0-3-3-1-1 4-1 1-1-2-1 0-1-3 0 3-1-2 0 3-1-4 0 2-1 3-1-4-1 3 0-1-2 0-2-1-2 7 2-3 0 1 2 1 0 3 1-5 1 0 0 1 1 4 1-1 1-3 0 3 0-4 1 1 1 2 1-2 0 0 3-1 3 0 9 2 1 4-9 2-1 0-1-1-4 2-1 2-1-1 0-2-1 1 0 1-1-4 0 1 0 2-2 1-2 0 0-3 0 1 0 1-2 0-1-1 0 2-1 1-1 1 0 2 0-2 1 2 1 0 3 0 1 1 3-1 3-1 21 1-34 4" marker-start="url(#s)" marker-mid="url(#s)" marker-end="url(#s)"/>
<path d="M48 314l1 0 6 1 2 0 1-1 3 0 2 3 0-3 4 0 1 0 0 3 2-2 1 0 2 0 1 1 2 0 2 0 0-2 1 2 1 1 0-3 1 1 2 1 1 0 0-1 1 0 0 0 1 2 4-2 0 0 1-1 0 0 0-1 1 4 0-2 1 2 2-1 1-2 1 0 1 2 0 1 0 0 1-3 3 2 1-2 1 3 1-2 1 1 0-3 0 4 1-3 0 2 1-2 0 0 0 0 1 1 3 1 0-2 0-1 5 3 0-1 1-2 0 2 1-1 1 3 1-2 0 0 1 0 3 1 0-2 0 1 1 0 5 1 33-1-52 8-4-1-3 1-4-2-1-3-5 2-3 3-2-5 0 5-1-2 0-1 0 2 0 0-1-1-1 0-2 2-2-5-1 4-1-2-1 0-1-1 0 3-2 0-1-4-1 4 0-3-1 1-1 3-1-5-5 0-2 0-6 4 0-1 6 3 1 4 1-4 1 5 0-4 1 4 0-1 6 0 1 0 0 1 0-5 3 3 2-2 3-1 0 5 2-3 1 0 2 1 2 0 0 0 1 2 0-4 1 4 1-1 0 1 0 0 1-5 4 3 1 0 2-3 6 5 2 3-1 3-2-4-6 1-4-2-1 2-3 3-3-4-1 2-3 0-6-3-5 1-9 0-1 2-4-3 0 3 0 1 7 6 2-4 10 3 1-2 2-1 1 2 2 3 5-1 1-3 1 0 5 3 1-2 0 3 4-5 1 3 2 0 1 0 0 3-6 3-10-2-7 4-2-1-1-4-2 5-16-5 0 7 1 1 4-1 7 2 2 0 0-1 2 2 6-2 7 1 3-2 4 3 3-4 10 8-9 1-6 2-5-1-11-2-4 1 0-2-6 2-5-1-2 1-5 3 3 1 5-1 0 5 11-5 2 4 0-4 10 5 1 0 1 0 9 0 6-2 4-2 1 4 3-3 2 4-10 2-8 3-6-3-1-1-4 4 0-5-11 0-9 3-2-2-12 8 10-1 2 1 1-1 4-2 2 0 4 2 4 3 5-1 24 1-14 3-2 3-5-3-10 3-4-3-4 0-2 0-4 2-1-1-3-1-9 8 7 1 0 0 2-4 15 1 3-1 1 2 5 4-1 4-2-2-10 2-1-3-1 0-2-2 0 5 0-1-6 0-7 0 1 2 6 5 11-2 3 0 1 2 3-2 4 2 7-4 1-1-10 11-6-1-4-4-2 4-2-3-5-1-3 5-2-2-5-2-3 10 6-1 2-4 2 4 11-3 5 8-15 1-4-1-9 1 6 7 1-1 0-1 12-3 0 0 7 1" marker-start="url(#u)" marker-mid="url(#u)" marker-end="url(#u)"/>
<path d="M219 317l0-3 2 1 0-1 6 0 1 0 0 0 5 1 1 0 2 0 2 0 0 1 1 1 0-1 1-2 0 2 4-2 1 2 0-2 2 1 4 2 1-1 0-1 1 2 2 0 0-2 0 2 1-4 2 4 1-3 4 0 1 1 0 2 6 0 3-2 0 0 0 0 11-1 3 1 2 0 32 0 1 0 19 0-5 4-2-1-9 3-2 1-13 1-9-1-6-4-4 1-2-1-1 2-2-1-13 0-21-1-2 1-3 2-2 0 0-2 0 3-1 0-4-3-6 0 0 2 0-3-2 3 0-2-3-1 0 3 0-2-1-1-2 3-1-3-3 5-1-2-3-3 2 9 2 0 5 0 0-2 6 0 6 0 1-1 2 1 2 1 7 3 6 0 7-3 7-2 2 4 11-3 6 0 6 4 12-5 1 0 3 4 0-4 31 3 0 2-18 3-37 2-24-4-1 0-1 2-1 1-4-2-2 0-2 2-2-2-20-1-1 5-4 0-1-2-3 1-2 1-2-3 2 4 7 2 1 0 3-1 2 1 4 1 2-3 3 3 3-2 0 4 5-1 4 1 0-1 7-4 3 0 0 1 5 3 29 1 14-1-9 7-11-4-13-1-10 3-22 0-9-2-2 4-2-5-4 1-1 1 0-2-1 3-2 2-2 0-1-1-1 0-4-2 8 8 2 1 0-2 3 2 2-2 0-3 2 3 1-3 8 2 4 2 2 1 0-1 20 1 48-3 1 1 3 8-18-4-17 3-2 0-1-4-20 5-3 0-2-5-2 4-2-2-11-1-6-1-4 1-15 3 5 6 1-3 1-1 2 1 0 2 0-1 1 3 4-2 2-1 5 3 1-1 0 1 1-1 4-2 16 1 41 7-20-1-29 0-4-1-3 2-2 0 0 0-1-4-7 4-4 0-1-2-4 0-3 1-7-2 0 8 1 1 0-1 2 1 6-2 2 3 5-4 0 2 1-1 0-2 11 4 14-4 1 5 13-2 63 8-17-4-33 0-32 1-4 1-22 2-5 0-2 0 7 5 1 0 0-2 2-1 5 2 1-1 4-2 2 1 5 4 65 6-11-2-22-2-2 1-2-2-3 4-2-3-20 1-5 3-7 0 0-3-4 0-2-1-11 1-3-2-1 1-2 8 2-3 0 2 0-2 7 4 3-3 7 0 7-1 5 0 1 1 34 4 2-2 41-2 6 4-48 5-17-4-1 0-12 3-5 0-3-2-16 0-2 0-2 1-7 1 5 6 3 2 5-5 0 3 2 2 7-4 3-1 1 4 3-2 9 2 12-4 48 4-18 2-26 0-8 4-6-4-8 1-4 3-1 0-4-3-5 2-2-1-1-2-2 1 0 0-1 4-1-3-3-2-3 0-1 0 0 0 10 7 3 0 3 0 20 2 12-1 0-1 59-1" marker-start="url(#t)" marker-mid="url(#t)" marker-end="url(#t)"/>
<path d="M220 314l2 3 1-2 3 1 1-1 3 0 1-2 1 2 1-1 1 1 0 2 0-3 1 0 1 1 2-1 1-1 3 2 0 0 0 1 1-1 1-2 0 3 1-2 2 1 2-1 1 1 1 2 0-1 0 0 2-1 1 0 0-1 1 3 2-3 1 1 1 1 1 1 0-2 4-1 0 2 2-2 8 1 1 1 3 1 0-3 3 2 3-2 1 1 3 0 2 0 5 1 2 1 0-1 2 0 17 1 8-1 3-2 10 3 4-1 2-2-2 5 0-1-23 1-10 3-5 0-5 0-10-1-5 2-12-4-2 1-5-2-2 2-2 2-4-1-10 0-2 0-1 1-3 1-1-5 0 2-1 0 0-1-6 4-4-4-1-1-3 0-3 4-2-2-1 4 5 0 0 0 6 1 2 4 1-2 0-1 1 0 2 1 3-2 7 4 0-4 4 0 1 0 3-1 2 0 1 0 14 4 0 0 2-1 0-2 5 0 10-1 2 3 6-1 5 1 17-2 0 1 2-1 2-1 20 7-9 3-9-4-6 2-22 1-19-2-5 1 0 3-2-4-7 3-6-1-4-2-1 0-9-1-3 5-4-4-9 0-4 0-2 0-2 7 2 0 4-2 3 2 1 3 2-3 0 1 3 2 2-1 2 1 2-3 1 1 1-1 13-2 14 4 9-2 5 3 10-5 23 0 1 1 0 4-14 5-6-4-9 2-3-2-14 4-8-1-4 0-4 0-3 1-2 0-8-3-3 0-10 3 0-3-1 0-5 3-6 2 1 3 2-3 7 3 0-2 9-1 5 3 7 1 7-2 60 0 14-2 3 11-18-5-15 3-25-1-23-2-2 1-4 3-4-2-7 0-1 0-2 3-1-5-1 5-6-2 0 0-6 7 6-2 5 0 4-2 4 1 17 2 15 0 22-2 42-1-18 6-63 4-12-1-2 1-11-4-5 0 6 9 14-1 4 2 4-4 11 0 21 2 24 0 8-1-16 5-46 2-3 0-2 0-1 3-10-5-4 4-2-2-2-1-3-1 0 2-3-1-1 8 18-3 2 5 6-5 4 5 1-2 4-3 13 1 1 4 4-4 4 3 22-4 5 1 4 2 12 6-42-1-19-1-10 1-1-1-8 4-11 0 0 0-3-4-3 1-7 4 3 5 1 0 1-2 1-3 12 4 1 0 4-1 5 1 6-3 4 1 8 3 0-3 24-1 23 1 18-2-1 6-7 2-50 0-27-1-2-1-1 5-1-5-2 3-1 0-13-3-2 2 0-2-4 6 8 2 11-2 2 4 5-3 4 3 9-2 5 3 0-4 4 3 13-4 2 4 23 2-32 5-14-5-6 3-3 1-1-2-3 3 0-5-7 1-9 4-4-5-1 2-3 4 8 0 4 1 2 1 7 2 6-1 4 2 18-3 27 3" marker-start="url(#t)" marker-mid="url(#t)" marker-end="url(#t)"/>
<path d="M219 314l1 0 0 0 2 0 2 0 1 2 1-2 0 2 1-2 0 1 0-1 1 1 0-1 3 1 3 0 1-1 1 3 0-2 1 2 2 0 0-3 1-1 3 3 0 0 1-1 1 0 0-1 2 0 1 2 2-2 0 3 1-1 0-2 0 0 0 3 0-3 2 1 0 0 3 0 4-1 6 1 3-1 1 0 2 2 1-1 0 0 1 2 8-3 1 3 7-3 2 1 10-1 9 0 16 3 16 0 0 0-7 5-3-3-20 2-1-1-10-1-5 1-5-2-1 5-7-4-8 2-2-1-6 0-4-1-1 4-4-2-8-2-2-1-2 1-1 0-1 1-3 3-3 0 0-4-3 2 0-3-2 1 0 1 0-2-5 2 0 0-2-1-1-1 0 5-3-1 0 0-5-4-1 1 0 4 3 4 2-1 5 1 0-1 1 1 6-3 2 5 3 0 0-4 1-1 0 2 2-2 1 1 9-1 4 2 1 3 1-1 1-1 3-3 13 1 2 0 35-1 16 5 13 2-6 4-3-4-13 3-43-1-17 2-19-2-5-2-1 1-15 3 0 1 1 4 0-3 4 0 4-1 3 2 0 2 1-2 0-2 0 5 6-5 1 1 3-1 14 1 1 2 22 2 6-1 2 0 36 0 5-1 5 5-18-1-22-1-1 4-12 0-30-4-3 4-3-3-7 4-16 0 0-4-1 1 0-1-3 2 4 4 2 0 2 0 0 0 3-1 0 0 2 4 0 1 3-4 19-1 12 3 19-3 3 5 16 3-10-1-26 2-3 0-10-3-5 2-4 3-4-2-1-1 0 2-1-4 0 3-4 0-8-1-2 0-5 9 12 0 3-4 8 3 24 0 7 1 8-5 0 4 13 3-17-1-15 5-8-3-10 1-11-2-10 3-7 7 5-3 4 3 6-5 0 0 13 4 1 1 3-3 17 1 41 4-18 3-3-2-2 1-17 2-19-1-8-4-1 3-2 2-1-5-1 4-6-4 0 0-5 4 0 0-3 5 1-1 6-2 10 0 8 1 1-1 20 2 27-1 26-1-19 9-7-2-20-1 0 3-25-2-1 0-2 0-4-1-3 2-3-1-6 3 0 0-1-4-1 0-1 0-3 1-2 2-2 1-3 4 3 0 1 0 8-2 2 4 0 0 7 1 29-2 1 1 4-1 17 1 32 0 4 4-34 3-4-1-9 1-4-5-11 1-10 2-3 0-5 1-2 0-7-1-1-1-2 3-1-2-1-1-8 3-2-5-3 4-2 7 2-5 0 5 11-5 22 2 9 1 25-1 53 6-72 1-2-2-3 4-4-4-10 0-5-1-3 5-12 0-2-4-2 3-1 1-1-5-1 5-1-2-2-1 17 5 1 2 2-1 3 3 6 0 0-1 1-2 3 3 26-5 13 4 0-2-45 4" marker-start="url(#t)" marker-mid="url(#t)" marker-end="url(#t)"/>
<path d="M216 315l1-1 3 1 1-1 2 1 1-1 0 3 1-2 0-1 0 2 2-3 0 1 2 1 1 2 2 0 1-3 1 0 0 0 1 1 1 0 1 1 1-1 3 0 0 1 1-1 0 0 1-2 1 1 3 0 1 1 1 1 0-1 4-1 1 1 0 1 1 1 1 0 2-1 0-2 0 1 2 2 1 0 1-3 2 0 2 2 2 1 0-3 2 2 2-1 1 2 1-1 3-1 23 1 0-3 1 4 1-1 2-2 3 1 2-1 5 0 4 3 1-3 2 0 8 1 3 1 3 1 8-3-13 5-6-1-10 0-8 0-10 2-10 1-2 1-7-4-1 2-4-1-1 1-5-2-3 1-10 0-2-1-2 3-3-3-1 2-2-1-2 0-2 4 0-1-2-4-1 5-1 0-1 0 0 0 0-1-1 0-1-4-1 4-1 0 0 0-8 1 0-2-2-3-4 4 3 7 3-4 13-1 0 2 17 2 5 0 0-2 2 3 2-1 2-3 11-1 5 3 6 1 14-1 14 0 4-3-16 8-15-1-2 3-12-3-3 1-2 2-7-2-4 0-1 3-2-5-2 2-3 0-4-1-5 0-11 1-8 2 2 7 2 0 1-4 1 3 3-3 1 4 2-4 4-1 1 0 1 1 4 0 5-1 10 2 10-2 39 4 32 4-21 1-33 1-5-4-1 4-8 1 0-5-16 1-3 1-7 1-8-2-5 2 0-3-5 1-1 0-1 4-1 0 0-3-2 3 0 6 4-1 15-1 9 2 4-1 4-3 1 1 5 2 0-2 7 1 14-2 43 0-63 9-1-4-10 5-1-1-1-2-7 3-2-4-3-1-1 0-4 0-2 4-5-4-2 4-1-4-4 5-1-5 3 7 0 3 7-3 4 3 2-3 4-1 0 1 9 1 14 0 57-2 18 3-17 7-45-4-19 2-1 2-10 0 0 1 0-3-3-2-15 2-3 1-7 4 1 1 1 1 3 0 5-2 7 2 11-1 3 2 3-3 19 4 0 0 39-1 6-4-24 10-8-4-24 2 0-1-2 3-5-3-3 3-18-2-4 2-3-4-1 1-6 9 4-1 0-1 5-2 6 4 4-4 2 3 1-1 2 2 1-2 8 0 22-1 39 8-10-3-4 1-5 0-9 3-14-2-7-1-23 1-5 1-8 0-5-1-4-1-2 4 1 5 0-3 9 3 1 0 5-2 10-2 1 4 21 1 20-5 8 2 49 5-37 4-23 0-3-4-32 1-9 0 0 0-1-2-2 0-4 3-4 0-1-3-2 2-1 0 7 7 0 1 4 1 4 0 6-5 1 2 16 0 25 1 5-3 1 3 8-1 10-2-9 10-14-4-38 5-5-5-2 0-2 2-2-1-2 4-6-5-3 5-9-2 3 4 14 2 1 0 4-2-17 5" marker-start="url(#t)" marker-mid="url(#t)" marker-end="url(#t)"/>
<path d="M217 314l1 0 2 0 0 3 1-3 1 0 0 1 0-1 1 1 1 1 1 1 0-1 0 1 0-3 1 3 0-1 0 0 1-1 1-1 0 0 1 0 0 2 0 1 1-3 0 3 0-3 0 2 0-2 1 2 0 0 1 1 1-1 1-2 0 0 0 2 1-1 0 1 0 0 2-1 0 0 0-1 1 3 1-3 2 2 1-2 0 0 0-1 0 0 1 1 1 0 0 1 0 0 0-1 0 0 0 0 1 0 0 3 1-1 0-2 1 0 0 2 1-2 1 3 1-1 0-1 1 0 0-1 1 2 2 0 1-2 0 2 1-2 2 2 2-1 1 0 0 0 5 0 1 0 0 1 1-2 0 2 1-2 7 1 0 0 8 0 1 2 0-2 2 1 4 0 1 1 1-3 2 2 0-1 13 1 0 1 12-2 0 0 0-1 3 1 1 0 1-1 1 1 1 2 2 0 0-1 0-1 1-1 2 3 5-2 0-1 4 2 2-2-11 5-2 1-13 1-3 0-3-2-3 3-1-4 0 3-2 2-17-1-2-2-7 2-2-4-10 1-3 1-1-2 0 0-8 1-1 2-1 1-1-3-1 3 0 0-1 0-1-4 0 1 0 3-2-2 0 3-1 0-2 0 0-3-2 2-2 0 0-4-1 2-2 1 0-3 0 1-1 2-3 0 0-3-1 3-1 1-1-4 0 0-1 1 0 0-3 4 0-2-3 1-1-2 0-1-2 1-1 1-2-3-1 1 0 1 0 8 5 0 3-3 1 1 0 3 1-3 1-2 2 3 1 0 0 0 0-3 5 0 2 0 4 5 0 0 4-2 0-1 1 0 3-2 2 5 0-1 4-1 3 2 2-4 2 1 1 0 12 3 8-5 5 0 2 4 0-1 5 1 16-1 4 2 4-5 11 5 1-5 8 1 1-1 0 0-7 10-12 1-4-3-11 3-6-1-2-4-16 5-1-4-7 1-6-2-4 5 0-5-3 0 0 1-2 1-2 0-2-1-8 0-2 0 0 3-5-4-1 3-3 2-3 0-3-1-2-2-1 1-2-3-1 2-1-2-5 3-1-2-1 4 10 5 0 1 3-3 2-2 1 3 2-1 0-2 0 3 1 0 1-3 0 1 2 0 1 1 0-2 0 1 2 0 2 2 0-1 1 3 0-2 9 2 3 0 1-4 1-1 1 3 0-1 0-1 8 2 13 1 49-4 3 1 7 2 4-1-39 8-27-2-4 3-7 0-2-2-6 1-4-1-14-1 0 1-6 0 0-2-3 4-3 0-1 0-1-4 0 2 0-2-1 0-1 2-2 2-2-4-1 2 0 1-3-3 3 10 0-1 0 0 1-4 0 3 2-3 4 2 1 0 2 3 0-4 2 1 1 1 1 0 3 0 5-2 1 2 1-3 2 3 3 0 1 0 2 0 1 2 7-1 4 0 2 1 4-1 18 1 15-4 22 1-12 8-44 1-2-2-7 1-4 1 0-5 0 1-1 3 0 0-4-4-1 2-3 2-3-4-4 2-9-2 0 5-2-5 0 0-3 4 0-3-8 3 3 2 3 5 1-5 0 0 8 4 0-4 0 1 2 2 0-3 1 1 2-1 3 2 1-1 4 1 1 0 2 1 0-3 1 2 4 0 5 3 1-1 3-1 3-3 4 3 7 1 3 1 4-1 12 1 5-4 12 1 1 2 27-2-10 9-15-4-11-1-17 4-19-3 0 2-13 2-8-3-4 3 0-2-4 1 0-2-1 3 0-5-1 2-1-1-3 0 0 2-1-1-2 0-2 1-2-2 0-1 0 4-3-2-1 1 0-1-4 8 2 1 1-3 1-2 2 0 1 2 1 0 1-2 3 2 0 0 1-2 1 1 1 2 2 2 2-3 1 1 1 1 0 0 0-1 1-2 2 2 0-1 3-2 0 3 1 0 1-3 1 4 2 0 0-3 2 3 1-2 6 3 1-4 1-1 9 4 3 1 6-1 6 0 4-3 18 0 15 3 8 3-44 2-9 1-4 0-12-2-7-2 0 2-2-2 0 4 0-2-1 3 0-5-2 0-1 1-3 2-3-2-2 3-1-3-1 3 0-4-1 1-2 4-1 0-1-5-1 4-1-2-2 1-2-2-1 0-2 4-2-5-2 1-1-1 0 1 0 2-2 2-1 3 5-2 1 5 0-3 1 3 0-4 1 1 1-2 0 5 0-3 2 3 1 0 2-5 0 0 1 4 3 1 0-3 2 0 0 1 1-3 0 1 2-1 1 3 1 0 1 2 1 0 4-5 1 1 3 1 15 0 0 3 8-2 5 0 2-1 3 2 9 0 9-4 3 5 30 0 7 0-18 6-2 0-13-3-5 0-4 2 0-1-12-3-3 2-22 2-1-3-8-1-4 1-2 1-1 0-1 3-2-4-1 0 0 2-1 2-2-5-2 3-2 0 0 0-1 1 0-4-1 1-1 0-2 2-1-2 0 0-1 3-3-4-2 2-2-2-3 2-1 9 1-5 0 3 3 2 1-2 0 1 0-2 0-2 0 4 1 1 0-2 0-3 1 1 1 1 0-1 0-1 5 2 1-1 1 0 0-1 1 0 1 0 1 4 1-2 0-1 1 2 0-2 1-1 2 5 0-2 0 0 3-1 0 1 1-2 1 0 2-1 2 2 0 0 1-2 0 1 8 2 1 1 6-1 4-3 2 0 7 1 4 1 4-2 2 3 1 2 9-4 6 1 10-2 4 2 9 0 2 5-12-1-18 0-14 3-9 1-1-4 0 2 0 0-4 1 0 1-1-2-1 0-4 0-2 3-8 0-2-3 0 1 0 0-2-3-5 5 0-1-2-3-2 1 0 1-1-1-1 2 0 1 0 0 0-5-1 0-2 1 0-1-2 4-3-3-2 1 0 3-1-1 0-1-3-1 0-2 0 5-5 0-2-1-1-1-3 4 0 3 2-4 2 5 1-5 3 0 1 5 0-3 7 2 2-2 0-2 1 0 1 5 1 0 0-5 0 1 1 4 1 0 3-2 1-2 0 4 0 0 5 0 1-4 1-1 2 5 4-2 0-1 2 1 17-1 14-1 24-1 16 3 12 8-54-2-4 1-9-2-3-1-3 4-1-5-1 3-6 2-4-4-5 0-2 1 0 0-1 1-1-3-3 5 0-5-1 0 0 4-1 0 0-1-3 1-6-2-1 1-2-1-3 0-1 3 0 0-2 0 0-1-3-2 0 0-1 0-5 1 3 7 2-3 0-1 0 4 2 1 1-4 1 0 8 3 4 1 1-3 2-1 4 4 6-1 2-3 4 0 1 1 5 3 0-3 5 3 0-4 3 1 0 1 4-1 7 2 4-2 21 3 18-5 5 2-98 6" marker-start="url(#s)" marker-mid="url(#s)" marker-end="url(#s)"/>
<path d="M216 316l3-2 1 3 0-2 1-1 1-1 0 1 0 2 1-2 0 0 0 0 0 3 1-1 0 1 0-2 0-1 0 1 1 2 1-2 1 1 1-2 2 2 1-1 1-1 1 3 0-1 1-2 0 0 0 0 0 1 1-1 1 2 0-2 1 2 0 0 0 0 1-2 0 2 3-1 0 0 1 2 0-2 1 1 0-1 0 2 0-4 1 2 0-1 0 3 1-2 0 0 2 0 0 0 0 0 0 0 1 2 0-2 1 2 1-3 0 0 1 2 1-1 1 1 0-2 0 1 0 1 1-2 0 2 3 0 2 0 1-1 1 1 2 1 0-3 2 1 1 1 2 1 0-2 1-1 4-1 4 1 4 1 0-1 2 0 4 2 1-1 2-1 5 2 2-3 0 1 0 0 1 3 2-2 4-1 5 2 2-2 0 0 5 1 5-1 0 2 6-2 0 1 0 0 1 0 10-1 1 0-18 9-3-1-18-2-4-2-2 5-4-3-3 1-6 2-3 0 0-4-3 2-8-3-2 5-2-3-3 2-1-2-2 1 0-3-1 1 0 3-1-4 0 2 0-1-2-1 0 2-2 1-1 2-2-3 0-1-3 1-2 1-3 1-1-2 0 1 0 0 0-3-1 4-2 1-2-4-2 4-2 0 0-1 0 0 0-1-2-3 0 2-1-2 0 2-1-2-2 3 0 1-1-3 0-1-1 5-2-1 0-4 0 5-2-3-1-2 2 9 0-3 1 4 1 0 9-4 0 3 1-3 4 3 2-2 2 2 0 2 0-1 0-3 4 1 1 0 1-1 2 4 3-3 1 2 0-2 0 0 3 1 1 0 0-1 1-2 5 5 1-5 0 3 5 2 6-4 5 4 3-2 0-2 0 0 1 3 3-4 9 4 10-1 15-3 2 0 11 3 11 0 0 0-1 7-20-4-24 4-21-3-8-1-4 3-9 2-2-5-2 4 0 0-5-1-1-3-1 0-4 1-5 2-2 2-2 0-2-1-1-1 0-3 0 1-2 3-2-4-2 4 0 1-1-4 0 0-1 1-1 0-3 2 0-2-1 2 2 3 0 0 3 0 2-1 1 5 3-5 0 1 4 0 2 0 1 3 1-1 0-2 1-1 3 4 1 0 0-3 4 1 1-1 3 4 1-4 1 2 1 0 0-3 2 4 3-3 0 3 2-1 1 0 22-3 10 2 32-2 12 2 1 5-16-1-18 1-8 0-20 0-4-1-6 1-5 2-8-2-5 1-2 0-1-1-2 1-3 2-2 0-1-1-3 0-2 0-1 2-1-2-1-1-1-1-1 1 0-2 0 2-8-1 3 9 0 0 1-2 1 2 1 1 1-3 3 0 3-2 1 2 1-1 1-1 0 3 1-3 1 5 3-1 1-2 1 0 5 2 0 1 1-3 5 0 1 2 4-3 2 2 0 1 25 0 17-1 18 1 26 0-2 5-16 0-1 2-26-1-17-1-5 2-7-4-6 0 0 0-1 2 0 2-4-3-6 0-9 2-4 0-7-3-1 2 0-1 0 0-4 1-5-2 0 0-3 3-1-4 0 2 0-1 2 9 2 0 7-3 1 0 4 3 1-3 1-1 0 4 4-4 2 5 1-1 13-4 3 5 17-5 8 0 6 1 0 4 13-1 20 2-9 5-38 0-15-4-1 0-14 4-2-4-2-1 0 1 0 2-1 1-1-3 0 3-1-3-1 2-1-1 0 0-1-1-2 1 0 1-1 2 0-1-4-1-2 0-1 0-1-2-8 2-1 6 3-2 1 4 2 0 5-4 0 4 2-5 0 2 0 3 1-4 1 4 0-4 1 0 1 1 1 2 2-4 0 5 0-4 0 0 2 1 1-1 0 1 1-2 7 0 7 1 0 1 13-1 1 3 1-2 2 3 1 0 30-2 3-1 3-1 2-1 1 2 20-1 3 0-19 8-25-3-1 5-4-3-12 0-16-1-1 1-6 2-4-2 0 0-2 3-2-2-1-1-1 3-2-2-3-1 0-2-1 5-1-2-1-1-1-1-2 4 0-3-3 1 0-1-1 3 0-2-5 1-5 0 0 6 2-1 1 2 1-5 2 3 1-3 1 4 4-4 1 2 2 3 6-4 2 0 1-1 1 3 0-3 4 3 3 1 4-3 2 4 2-4 9 2 0-1 10-1 1-1 6 3 4 1 14 1 2-4 19 4-3 6-2-5-6 0-2 3-3-1-3-2-1 1-8 2-6-2-8 2-6-3-1 1-7 0 0 1-4 1-3 2-11-1-2 1 0-5-1 0 0 4 0-2-2-2-1 0-1 1 0 2-1 1-1-2-1 0 0 1-1 2 0-5-2 5 0-5 0 2-3 0-1 3-1 0-1-3 0 3 0-5 0 0-1 3-1-3 0 3 0 1 0-1-1 2-1-2-3 2 0-3-1 3-1-1-2-2-1 0 3 4 0 0 0 3 0 1 1-4 1 5 2-5 1 5 1-4 1 3 0 0 1 0 1 0 1-4 1 1 1 3 1-2 1-1 1-1 1 3 1-2 0-1 3 1 1-1 1 2 1-1 1 2 1-1 2 0 5-1 1 0 0 2 1 2 5 0 1-4 0 3 1-2 12 1 1 0 3-2 14 3 1 0 3-3 2 4 19-4 28 3-6 4-1 3-25-4-8-1-16 1-2 1-24 0-2-1-1 4-6-5 0 5-1 0 0 0-3-4 0 2-3-3-1 1-1-1 0 5 0-2 0 2-1-2-1-2-7 4-4-4 0 4-1 0-1-5-1 3-1-2-3 4 0-2-1-1-3 0-1 0-1 3-1 5 2-2 1-2 2 2 1-2 1 3 1-3 1 0 0 4 0-4 1 4 0-4 1 2 1 2 3-3 0 2 1-3 0 5 1-2 0 1 1-3 0 1 0-2 3 5 1-5 0 0 2 4 1-2 1 0 0 0 3 2 2-4 0 1 2 2 0 2 0 0 1-4 2 0 2 1 2 3 1-5 12 2 1-1 2-1 4 0 3 0 5 2 10 1 5-1 9 0 23 3 7-1 0-2 1 1-1 8-24-5-17 3-11-2-13 2-5 1-13-2-3 1-2 1-3-4-4 3-2 2-1-1-1 1 0 0-3-3 0 0-1 2 0 1 0-5-2 1 0 1-1 0 0 1-1-2 0-1 0 4-1-2 0 3 0 0-3-2-2 1 0 1-1 0-2 0 0-2-2-2 0 1-1-2 2 10 1-1 0 1 4-3 0 1 1 1 0 0 4-3 1 5 5-2 2 1 2-4 0 0 1 3 0-3 1 1 1 0 5 0 3 3 2-4 1 1 1 3 1 0 23-2 13 0 7-1 9-1 14 3-84 4-4-1-2 1-6 0" marker-start="url(#s)" marker-mid="url(#s)" marker-end="url(#s)"/>
<path d="M217 315l1 1 1-2 1 0 0 1 0-1 0 1 0 2 1-2 0 0 0 0 1 1 0-2 1 0 2 0 0 2 0-1 0-1 1 0 0 2 0-3 0 4 1-3 1 0 0 1 2-1 0 0 0 3 0-1 1 0 0-2 0 3 0-1 1 1 0-3 0 1 1 0 0 2 1-3 0 0 0 3 0 0 1-1 1-2 0 2 0-1 0-1 0 0 1 1 0 2 0-3 0 0 1 1 1 0 1 1 0-2 0 1 0 2 1-1 1-2 0 3 1-2 0 0 0-1 1 2 1-1 1-1 1 1 1-1 0 2 1 1 0-2 0 2 0-3 2 0 0 3 1-4 0 3 2-2 1 3 0-2 2-1 1 3 0-3 2 0 0 1 2 0 2 2 2 0 1-3 0 0 0 0 1 3 3-3 1 0 2 2 2 0 1-1 1-1 2 1 0 2 0-2 0-1 9 3 2-1 3-1 5 1 1-1 3 0 3 2 1-2 3 1 0 1 1-3 2 2 0-1 10-1 1 0 10 0 1 1 0-2 1 1 3 0 2 0 2 1 0 0-5 5-1-2 0 5-12 0-7-3-2 1-9-2-4-1-2 1-3-1-1 1-1 3-1-4 0 1-1-1-9 1-7-1-7 4-1-2-1 0-13-1 0 4 0-4-1 4-3-1-3-4-1 0-1 2-2-1 0 4-1 0 0 0 0-3-3 3-1-2-1-3-3 3-1 1-3-2 0-1 0-1-1 2 0 1-1-3-3 3 0 1-1-3-1 0-2-1-1 3-1-3-1 0 0 9 1-1 2 1 0 2 1-5 1 1 2 3 0 0 1-1 1-2 1 0 1 2 1 2 0-1 2 1 0-4 2 0 3 0 2 0 0 3 0-4 3 1 0 1 0 1 3-2 1 0 1 0 1-1 1 0 2 3 0-2 2 0 2 3 2 1 12-4 5 1 7-2 19 5 9-2 14-2 13 2 1-2 1 9-9-4-6 3-12-2-6 2-5-1-7-2-11 3-5-3-4 2-3 2 0 1-10-3-6 0 0 0-2-2-1 2 0 1 0-2-1 1-1 0-1 3-1-4 0 2-1-3-1 3-3-1-2-1-2 4-3-4 0 1-1-1 0 4-3-1-2-2-1-2-2 0-3 3-1 1-5-2-2 0-1 3 2 1 2 3 2-2 3 1 3 3 2 0 0-5 2 3 0 1 1 0 1-4 2 1 1 1 1 0 0 1 8-3 6 0 4 1 4 4 4-2 1-2 15 1 9-2 7 0 3 0 36 7-23 4-37-5-6 3-4 2-3-5-5 5-1-2-3 1-3 1 0 0-1-2 0 2-1-3-1 0-1 0-4-2-5 2 0 1-1-1-2 2 0-3-3 1 0 0-1-1 0 3-1 1-1-3 0-1-1 3 0 0-1-3-1 2 0 0 0-2-1 2-3 0-1-2-1 1-1-1-1 7 5 2 0-3 0 2 6 0 1 2 4-2 1-1 1 2 1 1 1-2 1-1 4-1 0 1 1 3 0-1 0 1 2-5 0 0 2 1 6 3 2-4 1 4 0-2 1 3 5-1 4 0 0-1 4-1 1-2 5 2 10-2 13 0 8 1 23 4 14 1-1 5-1-5-28 3-5 2-14 0-11-1-3-1-4-1-15-2-2 5-11-1-2-2-1 0 0-2-7 0-10 0-4 1 0 1-3 0-1 1 7 5 0-2 0 5 2-1 1-4 1 3 2 2 4-1 5 1 3-3 3-2 3 5 1 0 14-1 15-2 2 3 16 0 5-5 2 2 5 3-38 6-10-2-7-3-3 3 0 1-2-1-8-3-1 3-1-3-2 1 0 0-3 2-2 0-1 0-1 1 0-4-1 3 0 0 0 0 0-2-2 1-2 1 0-3-1 4 0-2-4 3 0-3-1 2-1-3-1 2-1 0 0 0-1-3-1 7 0 0 1 1 0 3 5 0 0-1 1-2 1 0 6-2 1 1 0 2 2 1 0 0 1 0 2-1 0 0 0 2 1-2 4 1 3-2 2-2 3 0 8 5 4-5 15 1 1 3 9 0 26-1 15-3 10 0 6 0-27 11-4-2-20 2-3 0-3-2-8 2-9-4-8-1-3 5-1-5-2 3-1 2-4 0-1-4-1 0-2 0-1 2-3 0-1 1-1-1-1 0-1-3-3 3-1 0 0-3-1 4 0 1-1 0-2-1-5-1-1-3 0 3-3 0-1-1 0 2-3 3 1 3 2-3 3-1 0 4 1-4 1 4 0-3 0 4 2 0 0-5 0 4 1-1 1 2 2 0 2-1 0-2 1 1 1-1 1 1 0 0 1 1 0 1 1-1 0-1 1-1 2 2 1-2 1-2 5 4 0-2 3 3 4 0 6 0 8-1 7-3 15 3 11-4 19 4 12-4 8 11-2-5-3 4-14-4-29 2-1 3-10-1-6-2-16-2-3 0-4 3-1 1-1-4-2 2-1 0-1 2-1-1 0 0-1-3-2 0 0 1-2 4-1-5 0 3-3 1 0-4-2 0-1 1 0 0-1 4-1-2-1 0-1 1-4 0-2-3-2 4 0-1-2 1-2-2 1 7 2-3 1 4 0-1 1-3 5 4 0-3 1 1 0-1 1 2 1 0 0-1 1 1 2-1 0 1 1-1 0 2 0-5 0 1 0 0 0 4 3-5 1 0 6 2 2-1 4 4 1-5 2 0 2 3 16-3 2 2 5 1 5 1 9-2 1 1 1-3 11 1 23 1 5-1 1 7-24 2-8-3-12 4-3-1 0 0-5-3-13 1-5-1-6 1-5 3-4-1-1 0 0 0-2-1-2-2-2 3-5 1-1-5 0 0-1 0 0 5-1-5-1 1-2 0 0 4-2-3-4 0-2 2 0 0-2 0 0 0-2-4-4 1 0 0 2 6 1 3 2-2 0 0 4 2 0-1 1-1 2 2 2-1 3-3 3 5 0-3 1 3 1-2 1 2 10-3 1-1 3 3 1-2 0 0 3 0 0 1 2-1 1 3 1-3 3 1 0-2 5 2 7-2 3 3 8-2 7-1 7 0 4 1 16 1 21-3-21 9-4-3-6 2-11 2-4-2-23-2-1 4-4-2-6-2-2 5 0-4-2 1-5 0-1 0-7-2-1 5-2-5-1 2-3-2-2 2 0 3 0-4 0 0-3 2-1-1-1-2-1 3-2-2-3 4-1-5-1 4-1-4-2 2-4 0 2 5 3 3 1-3 1 3 2-2 3 1 0-3 1 0 2 2 0 1 4-2 0-1 1 2 0 3 1-5 0 4 7-4 0 1 4-1 2 1 4 1 9-2 3 5 11-1 5-3 4 2 20 1-18 2-44 2-15-1-1 0" marker-start="url(#s)" marker-mid="url(#s)" marker-end="url(#s)"/>
<path d="M216 317l2-3 1-1 2 1 0 0 1 1 0 0 1 0 0-1 0 0 0 3 1-1 0-1 1 2 0 0 0-3 1 0 0 0 2 2 1 0 0 0 1-2 0 1 0-1 1 0 0 0 1 3 0 0 2-2 1 2 0 0 1-1 0 0 0-2 2 3 0-1 2-2 0 2 0-3 2 3 1-2 3 1 0 2 1 0 1-3 2 1 2 0 0-1 1 2 0-2 1 0 0 2 0-2 1 0 0 0 2 2 2-2 0 3 0-1 0-2 5 3 1-3 1 1 1 2 3 0 3-1 3-1 0-1 1 1 0-1 1 3 1-1 0-2 2 1 0-1 5 1 0 0 4 1 1-1 2 0 1-1 2 0 0 0 6 2 0-1 0 0 6 1 1-1 1 0 0-1 4 0 0 0 1 0 0 3 2 0 4-3 0 1 2-1 10 0 1 1 1 1 2-1 0 2 3-1 0 7-7-4 0 1-6-2-14 1 0 0-2 3-2-2-9 1-2-2 0 0-3 4-6-3-1 0-8 1-1-2-4-1-7 0-1 0-3 4 0-3-1 1 0-1-6-1-1 2 0 0-1 1-3 1-1-4-2 4 0-3-2-1-1 4-3-4-1 2-3 1 0-3 0 0-4 3 0 0 0-1-2-2 0 3 0 2-1-5 0 0-1 3-2-3-1 3-1-3 0 0 0 2 0-1-2 4 0-3 0 1-1-3-2 3 0 2-1-4-1 3-3-3 0 1-1-2 0 5 6 5 1 0 1-4 1 3 3-2 1 2 0-1 1 2 1-1 4-1 3-2 0 3 0 2 1-2 0 1 3-4 1 3 4-3 1 3 1 1 2-2 1 0 0-2 1 0 0 4 3-1 2 0 16 0 9-2 3-1 7 4 10 1 7-2 9 0 3 1 1-1 1 8-13-3-5 3-26-3-4 3-4-2-5-3-7 3-4 1-2-1-2-3 0 4-2-3-1 2-2 0-5 1-1 1-4-2 0-2-1 2-1-2-3 2-4-2-3 3 0-1-1 0 0-2-5 0-2 10 4-5 2 5 0-4 0 0 3 4 1-3 1 2 0 1 1 0 1-5 1 0 3 2 2 0 0 2 1-2 2-1 3 1 6 3 1-3 2-2 5 0 2 4 10-3 1 1 0 3 11-5 3 0 7 1 3 1 3 2 8-4 4 5 17-3 6 0 4 0 6 5-30 1-36 3-12 0-4 0-1-1-1-1-6-2-2-1-1 1-1 4 0-5 0 2 0 2-3-2-1 0-7-2-1 5-2-3-1-1-2 4 0-5 0 5-2-5 0 4-1-1 0 1-5 1-2 4 0 1 2-1 5-1 0 3 1-5 7 2 0 3 1 0 5 0 1-4 2 0 0-1 0 4 2-2 1 2 4 1 3-5 1 0 3 3 5-3 7 4 1-4 2 2 3 3 6 0 31-3 16-1 6 10-1-1-1-2-44-1-21-1-1 0 0 1-4 1-4 1 0 2-4-4-2-1-2 2-3 2 0-1-2-1-1-1-2-1-2 0-1 1-1 3 0-4-3 2-1 2 0-3-3 1 0 2-1-4-1 2-1-1-1-1-1 0-1 0-2 5-2 0-3-2-1-2 0-1 3 9 2-1 1 3 1-3 1 2 10 1 1-1 4-4 2 4 1-1 8-3 2 0 4 1 0 1 26-2 40 1 6 9-11 0-14-4-7 0-2 4-3-2-7 1-6-3-1 4-4-1-1-3-13 4-2-4-4 3-3-3-3 0-1 5-8-1 0-1-2 1 0-1-1-3 0 4-1 0-4 1-1-1-3 0 0-1-1-3 0 1-2 1-3-1-4 1 4 4 1 3 2 0 1 2 1-5 3 1 1-1 0 2 1 1 3-3 2 2 2 0 1 0 1 2 7-3 7 3 3-4 0 5 3-1 16-2 1-2 19 1 14 2 12 1 4 1 7-4 9 0 0 8-3-1-36-2-10 0-5 2-3 2-1-1-7 1-17 1 0-4-1 4-3-4-2 2-4-1-1-1 0 3-3-2-2 1-4-1-1-1 0 4 0-1-2-2 0 2-2-1-1-2-1 1-4-1 0 2-1 0-1-1-3-2 0 4-2-1-3 0-2 2 0 2 1 1 2 1 1-1 3-1 1 3 3-2 2 3 1-3 1 1 0-1 1 0 1 1 1-2 0 4 0-4 0-1 1 3 1 1 0-4 1 4 2-4 0 1 1 0 3 2 2 2 3-3 1 2 2-4 1 3 4-2 15 3 48 1 1 1-9 3-2-3-10 5-13 0-2-1-18-3-2 0-7 4 0-3-1-2 0 1-1 1-1 3-3-2 0 0 0 1-1 1-4-3-4-1 0 4-5-4-1 0 0 1 0 0-2 3 0 0-1-5-1 5-1-4-3-1-2 5-4-5 0 5-2-5 0 0-1 4-2 1-1-3 0 0-2 8 3-1 1 2 1-4 1 1 1 2 1 1 0-3 1 3 0-1 1 0 2-4 0 3 1 2 3-1 1-1 1-2 1 3 4 1 3-4 0 1 2 2 0 1 2-4 1 1 2-1 2 2 1-1 3 1 1-1 3 2 3 0 4 1 24-3 0 1 4-3 10 5 24-2 2-1 1-2 6 5 3 3-3 1-2-1-5 2-2-1-5 1-2-1-8 2-12-2-4 2-1-2-26 1-4 1-3-5-5 5-4-4-1 3 0-3-2 1-2 1-1 1 0-2-1 3-2 0-3 0 0-5 0 4-2-4 0 4-1 1 0-2 0-2 0 0-2 4-3-4-1-1-1 2 0-1-1 1-1-2-1 5-1-3 0 3 0-1-1-1 0-3-1 4 0-4-2 2-2 3-2 3 0-2 2 3 1 0 3-1 1-1 0 4 0-4 1 0 1-1 1 4 1-3 1 2 0 1 1 1 0-3 1 2 0-4 1 4 2-1 0 2 1-4 2 4 2-2 0 1 0-2 1-1 7 0 2-1 1 0 0 2 1 0 2-2 0 4 8-4 6 0 0 1 7 0 4 4 4-4 2 3 5-3 3 3 8-2 2-1 1-1 14 2 12 3 1-2 1-2 5 0-18 6-4 4-15-2-17 0-1-2-11 4-3-4-2 0-2 1-3-2-1 0-5 2-1-2-4 5-4-3 0 0-1 3-1-5 0 3-4-3-1 1-1 1-2 0 0-1-1 4-1-3-1 2-3-2-1 1 0-3-2 1-2 2-2-2-2 3-1-3-3 1 0 7 3 1 2 0 0-2 2 2 4-4 1 4 1-4 0 4 1 0 1 0 2-3 0 0 4-1 2 4 2-4 8 4 0-1 12-3 8 0 13 1 9 1 17-1 5 2 1 1 9 1 9-1 1-4 2 3-2 3" marker-start="url(#s)" marker-mid="url(#s)" marker-end="url(#s)"/>
<path d="M217 314l1-1 0 2 0-1 1 2 0 0 1-2 1 1 0 1 1-2 0 1 0-1 1 3 1-4 0 2 0 2 1-1 0-1 0 2 1-2 0 2 1-3 0 2 1 1 1-1 1 0 0-2 0 0 1 1 0 0 0-2 1 4 1-3 1 0 0-1 0 3 0-1 1-1 0 0 0 0 0 2 1-2 1 1 0-2 0 1 1 0 0 2 0-2 1 0 0 0 0 1 0 1 1-1 1-1 0 0 1 0 0 2 0-1 1-1 1 0 1 1 1-1 1 2 0-1 2 2 0-3 0 2 0 0 1-2 0 1 1-1 0 3 0-2 1-2 1 2 0-2 1 4 0-3 0-1 1 2 0 1 0-2 0 0 0 1 1-1 0 1 0 1 1-2 0 0 1 0 1 0 0 1 1-1 0 0 0 2 1-2 3 2 0-2 2 0 4 2 0-1 1-1 3 0 0 0 2 0 0 0 2 3 0-2 3-1 3 0 1 3 4-3 2 0 3 1 3 1 0-1 14 1 2 1 0-2 1 2 4-3 1 3 7-2 1 1 1-2 2 3 2-2 4-1 5-1 0 1 3 3-8 1-3 0-15 1-1 1-1 3-10-5-6 1-22 0-1-1-1 5-1-5-5 2-3-1-1 0 0 3-4-2-3-1-4-1-3 5-1-4-1-1-2 3 0-1-1 2-1-4 0 0-1 5-2-3 0-2-2 3-1-1-2 3 0-1-1-4-2 4-1-4-1 0-1 1-2 2-1 1 0-1-3 2 0-5 0 5-4 0 0-5-5 5 3 1 1 3 2-3 3 0 0 2 2 0 3 2 2 0 1 1 2-1 0-1 5 2 2-4 2 3 1-4 0 2 2 3 3 0 0-2 4-2 5 0 2 2 1-1 4-1 7 0 3-1 4 4 0-3 6-1 3 5 4-4 14 0 26 0 9 1-14 9-2-5-19 1-5 2-8 2-2 0-9 0-5-5-12 4-7-2-8 3 0-4-1 1-3 2-1-4-1 2 0 1-2-3 0 3-2 1-4-1-1-2-1 3-2-4-5 2 0 0 0-1-2 2 0 2-3-1 0-3-3 4-1-4 0 1-2-2 1 7 2 2 2 0 1-2 1 4 0 0 5 0 2-3 2 2 7-1 1-2 1-1 1 2 4-2 2 1 0 2 1-3 4 5 3-4 0 1 9-1 4 3 0-3 4 0 1 4 2-3 16-1 4 4 1-4 13-1 2 0 13 3 2-1 14-1-20 8-5 1-25-1-14-3-1 1-9 3-5-1-4-3-2 1-9 3-5 1 0-4-5 3-3 1-2-2 0-3-6 1-2 4-2-4-3-1-1 1-2-1 3 11 4 0 1-5 1 4 1 0 3-3 11 1 2-2 8 2 1-1 1 0 1 4 4-3 12 3 8-5 20 3 12 2 9-2 15 7-15 0-15-4-37 0-10 5-1-4-4 3-4 1-2-1-1-1-5 0-1-1-3 1-1 2 0 0-2-5 0 1 0 1-1 2-1-1-3 0-1-1-1 1-5-2-6 6 3 0 4 4 2 0 2-3 0-2 1 4 3-3 2 2 1-1 1-1 1 2 0 0 2-1 3 2 0-4 1 5 0 0 3-5 0 5 1-4 2 1 1 0 4 0 1-2 7 5 6-1 16-1 9 1 3 1 4-5 5 1 12 3 4-3 12 10 0-1-20-2 0-1-37 1-3 3-6-4-6 1-3 3-2-4-1 0-5 0-5 3-2-3 0 4-1 0 0-5-1 1-2 0-2 4-1-1-2-1-1-1 0-1-1-1-4 0 0 1-2 1-2 3-1 0-2 0 0-1-1-3-2 3-1 2 4 1 0 0 3 1 1 3 2-2 2-2 0 3 0-3 1 3 2 0 1-1 0 2 1 0 2-3 4-2 1 3 0-2 1 4 0-5 1 5 0-5 2 2 3 3 0-1 2-2 11 3 8-4 2 4 2-4 22-1 5 4 13-3 8 8-2-2-8 1-21 0-1 2-1-3-5 1-2-1-6 3-1-3-6-1-8 2-1-1-4 3 0 0-3-2-2 2 0-2 0-1 0 0-1 4-1 0-1 0-1-3-1 1 0-3-1 3-2-3-1 5-2 0 0 0-2-4 0 1-1 3-2-1 0-4-1 1-3 2 0 0-1 2-2-5-2 0-2 5 0-5-2 1 0 8 0-3 3 1 1 2 0 2 1-5 1 1 0 0 0 1 0 1 1 0 1-3 0 1 4 1 0 0 1-2 0 3 2-3 0 2 5 1 1 0 0 2 1-3 1 3 0-1 2 0 1-1 0-1 1 1 2 0 0-1 1 2 2 1 1-1 1-4 2 1 3 3 1-4 4 3 15 2 7-2 11 1 5-2 22 3 17-2 1 3-19 4-5 0-2-4-7 2-10 2-5-4-17 1-7 4-3-3-11 1-3 2-2-4-1 3-1-2 0-2-2 2-2 3-4-3 0-1-1-1-1 5-1-3-1-2-2 5 0-1 0 1-1-2-1 2-1-5-2 3-2 1 0-2-1 3-1-2-1-3 0 2 0 0-1 2-2 1-3-2-1-2-3 0-3 2 5 7 2 1 1 0 3-1 5 1 0-5 1 2 0 1 1-3 1 1 1 3 2-1 0 0 3 2 0-4 1 1 1 1 1-3 1 1 0 2 2 1 5 1 1-3 2 3 6 0 0-2 1-1 4 2 0-2 4-1 5 4 5 0 21-5 1 4 10-2 8-1 19-1-16 7-4 0-8 2-1 0-1 0-8-1-15 1-4-2-9 4-4-2-1-1-2 2 0-1-1-3-2 1 0 4-2-3-4-2-1 2-3-2-2 5 0-3-3-1-1-1 0 3-3 2-1-4 0-1-2 2 0 2 0-3-3 3-1-4-1 5-3-4-2 4-3-1-1 0-1-2-1 0 0 1-1-1 0 1-2-2-10 6 9 2 8-1 0 0 1 0 1 0 3 0 1 0 1 2 2-2 5 2 1-3 1 0 2 3 3 1 0-3 0-1 6 2 2 2 2-1 1 1 2-2 1-3 2 3 3-1 5 2 25-2 8 2 3-2 24 1 4 2 7 3-10 1 0 0-18 2-6-1-10 0-8 0-2 1-14-1-10-4-2 2-6 0-4 2-1-1-1-1-4-1-3 0-1 0 0 3-1-2-5 3-1-2-1-2-1 2 0 0-1 2-2-2-1 1-1 1-1-1 0-4-1 0 0 1-3-1-2 1 0 3 0-2-2 2-3 0 4 3 2 3 1-2 0 3 1 0 0-3 0-1 1 0 8 1 2-2 3 2 0 0 2 0 0-1 2-1 6 0 0 0 1 0 1 2 9 3 1-3 10-2 37 2 3-2 13 0" marker-start="url(#s)" marker-mid="url(#s)" marker-end="url(#s)"/>
<path d="M218 314l5 1 1 1 0 1 1-1 6 1 1-2 1-1 0 1 0 0 2-1 0 0 1 0 2 0 1 3 0-1 2 0 1-1 1-1 0 0 1 0 0 3 1-2 1-2 2 2 0-1 1 1 0-1 0 1 1-1 1 0 2 1 1-1 0 1 1-1 1 3 4-3 4 3 0-1 6 0 5 1 5-1 1-2 1 0 2 0 4 1 0 0 3-1 2 2 1-2 1 2 2-2 4 0 1 0 6 0 1 2 13 0 4-1 10 1 1-2 6 0 0 7-16-1-29-2-2 3-13-2-3 2-2-1-3 0 0-2-3 2-14 1-2 2-4-5 0 3-1-3-2 0-4 1 0-1-3 4-2-4-3 4-2 1-1-2-4 2 0-3-1 0 0 1-1-2 0 4-1-3 0 3-2-1-6-2-3 5 2 0 2 1 2 0 0 0 2 0 0 0 4 1 4-3 4 1 5-1 9 3 3-2 1 4 9-3 1-1 8 1 3 1 2 2 12 0 8-3 11 0 31 3-38 1-24 0-5 1-6-1-13 0-7 3-1 1-7-3-4 2-7-3-4 0-1 2 0 2-2 1-3 3 1 2 1-3 0 0 6 1 3 2 1 0 2 1 12-5 0 5 5-3 5-2 9 5 3-5 3 3 0 1 0-3 15 0 8 2 6 0 20 2 6 0 7-4-18 10-30-4-10 2-1 0-25 2-1-5-11 0 0 4-1-3-1-1-9 5-8 4 6 1 2-4 7 2 8 0 1-2 8 5 0-2 20-2 3-1 7 5 1-1 27-4 28 11-12-5-39 2-10 1-23-3-2 2 0 2-1 1-5-4-10 1-13 1-2 6 3 2 1-2 1-2 11 1 7 0 10 3 8-1 21-4 54 6-1 1-15 2-18-1-4 3-6-1-24-1-1-3-2 4-10 1-3-1-2-1-9 0-2-2-3 0-3 3-4 0-9-4 2 11 3-3 2 0 4 0 4-2 4 5 1 0 10-4 3 0 19 1 36 2 21 0 14-3-2 6-29 4-14-3-42 0-7 1-15 1-1 0-4-3-1 3 0 3 5 0 4 2 5 0 1-1 1 3 2-3 3-2 21 2 14 1 20-1 8-2 22 8-15-2-44 4-12 1-2-2-14-3 0 4-1-4-2 5-6-5-9 4-1-3-1 1-1-1-2 2 0 0 0 4 4-1 8 3 1-1 9 2 12 1 4 0 4 0 5 0 3-2 1-1 11-1 9 4 20-3 32 7-35-1-6 2-9 0-39-3-7-1-6 3-4-2-2 1-2-1-10 0-2 3-3 4 1 1 1-2 2 0 3 4 1-5 2 0 7 1 5-1 8 5 2-3 17-2 12 1 9 3 14-3 15 0-60 6-2 1-2-1-12-1-7 0-9 3-5-2 2 8 23-3 15 3 6 2 25-1" marker-start="url(#u)" marker-mid="url(#u)" marker-end="url(#u)"/>
<path d="M132 452l-61 9 12-3 3 0 6 1 0-3 9 5 0-2 2 2 14 0 6-2 2 0 12 2 6-5 12 9-13 0-21 2-7-1-1 0 0 0-4-3-2 4-2-1-5-3-2 4-6-5-4 5-2-4-6 2-2-3-5 3-7-3-2 5-8-1-3-2-1 3 21 5 1-1 4 2 4-2 1 1 5-1 5 1 5 1 5-2 8-3 0 5 1-4 1 0 2-1 1 0 12 2 30 4-22 0-8 5-8-4-5 1-1 0-11-2-2 2-5 2 0-1-3-1-6 2-5 1-3-4-2 0-3 4-1-2-2-1-1 2-2-2-2 2 0 0-1 1-8 4 6 1 3-2 3 3 0-1 0 0 1 0 1-2 2-2 1 4 0-2 2 2 2 0 1-1 3 2 1 0 4 0 1 0 3-4 1 3 1-4 2 2 1 2 1-4 3 4 4 0 3-1 2 1 3 1 8-2 1-3 0 4 6 4-11 2 0 1-6-1-1-3-2 3-3 1-1-3-1 0-3 2 0-1-7-1-1 2-1 0 0-4-3 1 0 1-4 1 0 2-2-3-3 0-1 3-2 0-1 0-1 0 0-1 0 0-1-3-2 0-3 4-1-5-2 2-7 2-1 2 5 4 0-1 7-1 2 2 0-1 0-1 3 1 1 0 5-2 3 0 2-1 0 1 1 2 2-3 2 2 2 3 0-5 8 2 1 2 3-1 11 2 1-4 1 4 0-3 15 3 3-2-7 3-20 0-4 1-14 3 0 0-2 0-1-4-4 0-2 0-2 5-2-2-1-2-2 2-1 1-1-1 0 2-2-1-4-4-10 9 17-1 2 3 0-4 0 4 2-3 0-1 4 0 4 1 8-2 9 1 5-1 7 1 6 1-17 9-7-1-2 0-7 1-4-2 0-1 0 3-2 0-1-3-3 2-1-4 0 4 0-2-1-2 0 2-5 0-11 0-3 0-6-1 1 5 7 1 3-1 1 4 7-2 1-1 0 4 0-5 3 0 1 5 1-2 0 0 1-1 2-2 1 0 2 5 7-2 8 1 4 1 1-5 10 0 3 3-11 6-2-2-4 3-9-2-6-2-2 3-4-1-2 1-3-1-3-1 0-1-1 0-15 10 8-2 3 3 0-2 4 2 2-5 0 4 2 0 2-1 0 1 1-4 1 0 3 4 1-4 3 1 2 3 3-4 1 5 11 1-4 1-10 1-1 0-3 3-1-4 0 3-1 0-7 1 0-4-3 3-2-1 0-3-3 3-3 2-1-4-4 4 1 1 0 3 9-3 2 1 2 2 1 0 2-2 11-1 5 4 13 1 4-4-12 6-5 1-5 0-2 2-10 0-4 1-1-4-1 4-2-2-6-3-5 3 1 3 5 3 1 0 1-1 4-1 10 3 4-1 11-3 23 0-35 7-1-1" marker-start="url(#t)" marker-mid="url(#t)" marker-end="url(#t)"/>
<path d="M114 453l-37 6 7 2 14-1 6-4 0 1 2 4 4-4 5 4 4-2 5 1 5-1-4 5-1-2-5 0-1 5-6-4-1-1-1 4-3-1-1-3-4 2-11 0-16 1-12 1-6 3 4 3 4-1 1-1 4 3 6-1 1-1 9 0 1-3 4 1 3 3 3-1 1 0 3 0 9 1 1-4 7 3 4-1 22 6-10 3-1-5-2 5-10-4-14 3-1-3-1-1-2 1-3 0-5 2-2 0 0 1-5-4-2 1 0-1-2 5 0 0-1-4-2 0-1-1-1 1-3 4-1-2-1 1-1-3-1 3-9-4-2 0-4 5-2-3 0-2 10 8 1 3 4-1 0 0 1 0 1 1 0-3 4 1 6 2 0-1 1 1 1 0 4-3 1 0 2 0 5 3 2-2 1 0 7 1 1-4 1 3 5-1 0 3 2-2 5 2 12-5 9 5-2 6-3-4-17 0 0 1-8 3-7-3-1 0-1 0-2 2 0-2-3-2-4 5 0-4-1 4-1-3 0-1-3 0-1 2-4-1 0-2-1 1-1 4-1-4 0-1-2 3 0 0 0 0-2 2-8 0-6-3-9-2 6 9 3-1 2-1 0 2 1-1 3 0 0 2 2 1 0-3 2 2 1-4 0 1 0-1 0 2 0 1 5-2 7 3 2 0 3-4 1 4 13-1 1-1 2-2 19 1 9 0 6 3-26 7-4 0-8-3-1 2-1-3-12 0-6 3-6-2-1 3-3-1-2-1-1-2-2 1-2 0-3 1-13 8 3-5 8 2 1-1 4 2 10 0 0 2 1-4 0-1 2 2 1 1 2 2 0-5 3 0 6 0 0 2 3 3 7-3 1 3 1 0 4-5 9 10-14-4-4 3-5-1-7 2-4-2-3 0-2 1 0 0-3-3-3 3-1 2-6-3-1 1-2 0-11-2 3 7 13-1 3 3 3-1 3-2 1-1 2 3 1-3 0 3 0 0 2-3 1 1 6 1 2-1 1 4 5-5 4 3 27 1-31 2-4 0-3 5-1-1 0 1-1-4-7-1-1 5-6-1-6 1-1-4-2 0-13 5 3 1 3 1 4-2 1 3 0 0 3-2 3-1 13 4 0 1 7-5 0 1 10 1 4-2 4 1 5 4-5 6-15-2-2 1-7-3 0 2-1 1-3 1-2-1-8 0-3 0-1 1-1 0-1-1-6 0-1 1 0 0-1 0 3 2 2-1 4 3 0 1 2 1 2-1 1 1 6 0 5 0 0-3 1-1 0 3 0-4 1 0 4 3 2 1 2-1 7-1 2 1-1 4-4 2-14 0-1-3-4 4-3-1-3-2-1-1-7 5-1-4 0 2-3 0-2-1-2 0-3 3 1 5 9 0 1-4 4 3 1-2 1 1 0 3 5-4 5 3-11 3-3 3-15 0" marker-start="url(#t)" marker-mid="url(#t)" marker-end="url(#t)"/>
<path d="M130 451l-50 8 8-3 9 1 2 3 3 1 3-3 2 1 11-3 1 4 9 1 1 0 1 0-3 5-3-3-4-1-2 4-6 0-3-4-1 2 0 3-2 0-2-5-3 2-7 3-1 0-4 0-1-3-1 0-6 3-8 0-1 0-8 0-13-2 17 6 4-3 3 1 1 4 4-2 2 2 1-2 0 1 1-3 2 1 1 2 3-3 0-1 1 4 3-1 0 1 0-2 3 1 8 0 1 1 5-4 3 4 1-2 0 2 6-4 11 5 2-4 3-1 31 11-46 0-1-1-4-1-5 1-9-2-9 1-3 1-2-1 0 1-2 0-1-2-3 2-1-3-1 0-2 2-7 2-2-1-1-1 0-3-5 5-2-3-7 9 4-4 1 4 3-4 0-1 5 3 4 1 0 1 4-4 2 4 0-4 3 4 0 0 1-3 1 2 1-4 3 2 2 3 5-2 0-1 5 1 8 1 1-3 2 3 2-4 2 1 43 0-7 7-15 0-4 3-1-3-2 0-6 1-2-3-2 5-4-5-11 0-4 4-3-1-3-2-2 3-2-3-2 4-3-2-1 2-8-5-2 4-3-1-2-2-2 2-2-1-2 2-2 1 0-3-4 2-1 1-3-1 8 7 2 0 3-1 4-4 1 2 5 1 1 1 2-4 3 3 1 1 1-4 1 4 1-4 1 4 1-1 1-2 3 1 1 2 0-4 1 1 0 1 7 0 0 0 1 2 1-4 1 0 2 1 22 2 1-1 0 2-5 7-13-3-7 1-19-3-5 1 0 4-8-3-10 0-1 5 7 1 6 1 0 1 1 0 2-3 2 1 4-1 2 4 0 0 0-3 1 3 1-4 4 3 1-3 4 3 0-4 13 1 6 3-1 3-9 0 0 3-3-4 0 2-1 3-1 0-2 0-6-4-1 4-4-2 0-2-2 1-3 0-2 2-5 0-3-1-8-2-8 3-3 3 4 1 1 1 7-2 2-1 2 4 3-1 0-1 1 2 1 1 1-4 0 0 3 0 3 0 1 2 2-2 0 0 0 4 4-5 4 5 0-3 1 2 5-1 14-2 6 6-24 3 0 1-4 0-18 0-4-4-4 1-1 0-7-2-5 9 5-3 10 4 1-2 2-2 0 4 3-2 5-2 10 2 2 0 3 1 8 2 11-5 5 8-6 0-8 1-5-2-4 2 0-3-2 1-6 0-1 4-2-1-1 1-2-1-1-1-4-1-4 0-5-2-1 0-4 5-1 0-5-4-3-1 2 8 1 2 1-2 1-2 13 2 1-2 1 5 2-2 3 2 6 0 5-1 1-2 24-1 2 0-20 7-16-2-3 3-3-2-7 1-3-2 0 2-4-2-4 3-1 4 1-1 0 4 4-2 4 3 0-1 3-1 4-2 1-1 2 0 1 2-4 6-1-2" marker-start="url(#t)" marker-mid="url(#t)" marker-end="url(#t)"/>
<path d="M75 457l6 4 8-2 6 1 9 0 8-3 18 3 0 1 3 3-3-1-7 3-2 1-5-1 0-3-4 2-3-2-2-1-2 4-1-4-3 4-1-2-7-1-4 2-3-3-1 1-5 4-2-5 0 3-3 2-2-2 0-3-4 11 2 0 0-4 2-1 2 1 0 1 2 3 2-3 0-2 4 2 2 3 3-4 6 2 1 2 1-1 6-2 2-1 0 3 2-2 2 2 1-1 1-2 0-1 5 0 1 5 3 0 1-5 0 0 1 4 1-1 4-2 1 0 5 2 3 0 4 7-9-1-3-1-3 2-1-1-1-2 0 4-4 0 0 0-1-2-5-1-1-1-1 0-5 3-1-3 0 1-3-1-3 3-4-3-2 0-1-1-2 1-1 0 0 4-1-4-4 3-1 1-2-4 0 3-5 0-1-2-11 1-8-3-2 3 7 3 2 5 4-5 2 1 2-1 2 3 2-1 6 2 3-1 0-1 1 1 0 0 2-1 1 0 1-2 2 0 0 2 3 3 6-3 5-1 4 4 5-1 2 1 4-5 9 1 21 9-9-2-6 2-5-4-15 0-1 4-1-4-6 0-7 2-1 0-1-1-1 0-2-1-6 0 0 2-8 0-3 0 0 1-1-3 0 4-2-1-2-1-2 3-2-5-1 5-2-5-2 5-5-2-5-3 7 9 0-1 4 3 3-2 9 0 2 1 1 1 1-3 1-1 2-1 1 1 2 2 1 1 0-2 6 1 1 0 1 0 1-2 3 3 4-4 1 4 0-1 4 2 4 0 1 0 17-4 4 3-14 4-6 1-6-3 0 1-5-1-5 2 0 2-1-1-1 2-9 0-3 0-5-4-1 4 0-4-1 1 0 2 0-2-4 2-1 1-3-4-3-1-1 0-9 1 4 8 9-2 0-1 12 4 0 1 2-2 2 0 6 0 1-2 1 0 5 0 6 4 4 0 12-4 5 4-21 1-4 2-8 3-10-1 0 1-4-3 0 0-2-1-12-1-1 3-2 0-9 6 2 0 9-1 4-1 2 1 5-1 11 0 2-1 10 4 6-3 12 1 7 0-29 7 0-3-1 0-6 5 0-3-2-2 0 5-10-4-2-1-1 3-1-1-1-1-9 2-8 5 5 1 3 1 5 0 0-1 5 2 2-2 11 1 1-1 2-1 8-2 1 4 15-4 9 3-14 4 0 1-5 1-5 1-13-2 0 0-5 1-5 1-1-3-6 0-2 4-2-1-1 1-2-2-11 0 6 3 1 3 19 1 3 1 2-5 1 1 9 1 5-2 7 4 7-3 1 1-13 9-10 0-7-3 0-1-1-1-10 0 0 4 0-2-1 1-1 1-1 1-1-3-1 2-1-2-7 2 5 5 2-3 6 2 15-2 18 2-27 6 0 0-11 0-4-2 0 1-2 1" marker-start="url(#t)" marker-mid="url(#t)" marker-end="url(#t)"/>
<path d="M155 455l-52 0-23 0-29 6 9-1 1-1 0 2 4-1 1-2 2 2 2-3 1 0 0 2 0 0 3 1 1-1 0 1 1-2 0-1 3 0 0 3 0-1 2 1 1 1 1 0 1-3 3-2 0 5 5-2 3 1 0-1 1 0 0 2 5-3 1 2 3-2 0-1 2 1 0 1 1 2 9-3 1-2 17 5 20-2 17 2-46 2-1-1-3 2-4 3-1-3 0 1-3 1-2-1-1 0-3-3-3 2-2 0 0 3-2-1-1 0-3-1-1-3-3 2-3 1-1 1-1-3-1 1 0-2 0 2 0 0 0 1-1 0 0 1-3 1 0-1-1-3 0 4-2-1-3-1 0 0-1 2-1-4-4 0 0 4 0-3-3 2 0 1-1-3-1 3-1 0 0-3-1 1-1-1 0 2-1-1-1-3 0 1-1 3 0-4-3 4-4-4 0 0-2 9 0 0 4-2 0-1 2 2 0 0 2 2 1-3 5-1 1 4 0 1 0-3 1-1 1 1 0 3 1-3 1 0 1 3 0-3 1 2 0-2 0 2 1-2 0 0 0 1 1-1 2 2 1-2 1 2 1 0 0 1 1-2 1 2 1-5 0 2 3 1 1-3 0 3 0-3 1 0 0 4 0-3 0 3 3-3 1 3 2-4 2 3 3-1 0-2 0 5 0-3 2 2 0-1 0 2 4-4 2 3 0-3 0 2 2-3 2 2 1 0 18 1 14 4-12 1-8-1-6-1-6 4-2-4-2 5-1-2-1 2-1-3 0 3-1-5-1 2-1 1 0-3-1 1 0-1-1 5 0-3 0 2-2-1-5-3-3 1 0 3-1-2-1 2-1 1 0-5 0 2 0 2-1 1 0-5-4 2 0 1 0-1 0 3-1-1-2-4-1 4-1-2-1 1 0 0-1 1-1-3 0 3-1-1 0-2-2 3 0-2-1-2 0 1 0 2-1-1 0-1 0 3 0-4-2 0 0 4-1 0-1-2-2-2 0 4-2 1 0-4-2 0 0 0-1 2-1 0-1 2 0 0-2-5-1 5 0 0-1 5 0-4 1 5 1-3 0-2 0 4 0 0 0-4 1 5 3-2 0-3 0 1 0 0 1 2 0-3 1 3 0 2 0 0 1 0 0-4 1 3 0-3 0 3 0 0 1 1 0-3 1 1 1 2 1-5 0 3 0 0 3-3 0 0 1 2 2-1 0 1 1 0 1-2 1 0 1 4 1 0 0-4 1 3 0-3 1 5 0-5 2 1 1 0 0-1 5 0 0 5 3 0 1-5 0 3 1-2 1 0 1 2 3 2 0-1 1 0 2-1 1-2 1 1 1-1 1 4 0-2 4-1 1 2 0-2 2 3 6-3 2-2 21 5 18 2-2 2-39-1-4-1-2 4-2-1-4 0-1-4-2 1-2 0 0 0-2 4 0 0 0-1 0 1-2-4-2-1-1 5 0-3 0 3-2 0-1-3-3 2 0-2 0-2-1 1-2 3 0 0-1-1-1-1-1-2-1 5-3-1-1-3-1-1-2 2 0-1-3 4 0-2 0-3-1 3-6-2-2 3 0-1-1-3 0 5 0-1 0-2-3-2 0 3-1 0-1 2 0-5 0 1-1 2 0 1 0 1-3 5 3 1 1-2 1-3 1 3 2 2 1-2 0 1 0-2 2 0 0 2 0-3 3 2 0 2 1-5 0 2 1 1 0-1 1 3 1-1 1-3 3 1 1-2 1 0 1 4 0-1 1 1 2 1 0 0 1-4 0-1 1 0 1 1 1 2 2 1 0 0 1-1 2 1 2-1 0 2 1-5 3 0 0 3 2-1 0-2 0 2 1 1 4 0 7 2 0 0 2-2 4-2 51 3 5 3-33 0-22 1-1 2-7-1 0-1-1-2-6 3-1-2-1 1-2 2-2 1-1-3-8 2-1-1-1 1-2-3-3 2-1-3-1 5-2-2-1-1-1 2-1-1 0 1-2-2 0-2-1 0-1 3 0 1-1-1 0-1-1-1 0 0 0 4 0-2-1 2-1-2-1-1 0 2-1-4-1 4-1 1 0-5-2 5 0-4 0-1-1 4 0 0 0 0-1-4 0 1-1-1-2 1 1 6 1 2 1-3 1 5 0 0 1-5 0 5 1-3 0-2 1 3 1-2 1 3 1-2 0-2 1 5 0-1 0 1 1-5 0 2 2 3 0-4 2 0 1 1 0-1 1 1 1 2 3-1 1 1 1-1 9-3 1 4 3-1 2-1 1-1 4 1 0-2 6 5 1-5 10 4 21 6-20 0-10-3-1 3-3 0-3-2-2 0 0 3-2-4 0 3-1-1-3 1-4 0-2-4-3 2-1 2 0-2 0-2-3 5-1-1-3-3 0 1-1-2-1 0 0 0-1 3-1 0 0-1 0-1-1-1 0 1-2 2 0-2-3-1-1 5-1-5-1 1 0 0 0 1-1-1-1 2 0 0-2-3-1 5-1 0-1-5-1 1 0 10 1-4 3 3 1 0 0-3 0 2 1 1 0-4 1 3 0 0 0-2 1 2 1 2 0-2 1-2 1 4 0-4 2 4 0 0 2-1 0 0 2-3 1 1 4 3 1-4 0 2 0 0 1-2 0 3 1 1 2-1 0-2 2 3 0-3 1 2 5 0 3 0 1-3 6 1 8 2 5 1 29 3-14-2-12 3 0 0-18-3-1 5-4-5-9 3-1 2-2 0 0-3 0 3-3-4-4 1 0 2-1-3-1 4-1 0-1-2 0 1-1-4-2 3 0-3-2 2 0-1 0 4-1-1-1-2-1 3 0-3-1 2 0-3 0-1-1 0 0 4 0-4-1 5 0-3 0-2-2 3 0-2 0-1-2 1-3 4 0 6 0-4 2 1 1 0 1 2 0 1 1-4 0 4 0-5 1 5 0 0 0-2 0 1 1-4 2 1 2-1 0 2 3 2 0-3 1 1 0-1 1 4 2-5 0 1 0 0 1 4 2-5 1 2 1-2 2 2 2-1 1 0 2 0 0 2 0-2 1 1 1 0 1 3 3-5 0 5 1-5 0 4 1-4 1 4 2-3 4 2 1 2 9-5 14 5 9-1-9 2-13 1-4-1-4 4 0 1 0 0-1-5-2 1 0 3-8 0-5-3-4 4-1 0-3 0 0-5 0 5-1-4 0 2-1 2-1 0-2-3-1 1-1 1-1-3-1 4-2-1-1-4 0 5 0-4-2 2 0-2-1 0 0 1 0 2 0-4 0 0-1 3-2-3-2 4 0-2 0 2 0-4-2 4-2 3 1 3 0-4 1 1 1 0 2 4 1-3 0 0 0 3 1-3 1 2 2-2 1-1 0 2 1 2 0-3 1 2 1-3 1 1 1 0 0-2 1 0 0 2 0 3 1-3 3 0 0 0 2-1 1 4 1-3 1 3 1-3 0-1 11 1 4 2 6-3 2 3 3 0 4-3 3 3 5 2-4 2-21-1-2 4-1-4-10 2 0-2-1-1-4 3-1-1-4-2-1 3-2-1 0 0 0 3 0 0-1-4 0-1-2 3-1 1 0-1-1-1 0-2 0 0 0 5-1-2-1 2-1-3-2 2-1-2 0 2-3 3 2 0 0 2 1-3 0 1 3 4 0 0 1-5 1 0 0 0 0 3 1-1 1 0 0-1 3 0 0-1 1 0 3 0 0 4 1-1 6 1 1 0 6-4 7 1 11 2-17 4-23 1-2-2-4 1-2 2-1-3" marker-start="url(#s)" marker-mid="url(#s)" marker-end="url(#s)"/>
<path d="M93 454l-15 1-30 4 12 1 4-1 0-1 6 3 0-5 1 3 2 2 2-4 0 2 1 0 1 0 14 2 4-5 3 4 2 0 1-2 0 2 2-2 5-2 2 2 15-2 24 3 30 0-18 5-37 2-5-4-2 3-2 0-4-1-6-2 0 5-2-2-1 1-2-4-2 1 0 3 0-1 0 2 0-1-1-3-4 2-3 1 0-4 0 3-1-1-1 3-2-5-1 1-1-1 0 4-3-3-1 1-1-1 0 2-1 0 0-1-1-1 0 0 0 3-2-3 0 2 0-2-1 4-3-1-4 0-1-4-1 5 0 0-2-1-1-1-3 1-2-4 0 2-1 2-2 6 3-2 1 2 1-2 0 2 0 0 1-3 3 3 2-1 0 1 0-1 1-1 0-2 1 1 0 4 0-2 4-2 2 0 1-1 3 0 1 2 0-2 1 5 0-5 0 3 3 0 1 1 2 0 1-4 0 1 1 3 1-2 4 2 0-2 1 1 1-3 0 5 1 0 2 0 0-2 0 2 1-3 1-2 1 4 1-3 1 4 1-5 0 0 1 2 1 1 0-3 1 1 0 0 1 1 2 0 1 3 1-2 1-2 7 3 2 0 11-4 19 11-11 0-4-1-20-3-2-1-2 2-3-1-3-1-1 1 0 4-1-1-1-4-5 2-2 2 0-3 0 3-4-4-3 4-1 1-1-2-1-1-1-1 0 0-1-1-1 3-1-3 0 5 0 0-2-3 0 0-1-1 0 0-1 3 0-2-2-2 0 3-1-2-1 2 0-3-2 1 0 1-1 2 0 1-1 0-1-3 0-1 0 0 0-1-1 4-1 1 0-1 0-1-1-2 0 2-1-3-1 3-1 0-1 2 0-2-1 2-1-3-3 0 0 2-1-2 0 0 0 2-1 1 0-2 0-2 0-1-1 4-1 1 0-5-1 2 0 3-1-5-3 3-1 8 2-5 1 3 1 0 2-3 1 3 1 2 0-1 1-2 0-2 0 2 0 1 1-2 0 0 1-1 0 3 2-1 1 1 1 1 3-4 1 4 0-1 0-1 2-1 0 2 1-3 2 3 0-3 0 5 0-4 1 4 0-3 1-1 2-1 3 1 0 3 0-1 1-2 0-1 2 5 0-1 1-1 0-1 0-1 2 3 0-3 1 4 0-2 1-1 0 1 0-1 0 1 1 1 0-2 7 2 1-3 3-1 2 0 0 2 2 1 1-1 1 3 0-5 7 1 29 10-22-2-1-2-12 0 0 2-2 2-1-3-2 0-2-1-3-1 0 1 0 0 0 0-6 0 0 2 0 2 0-2-2 0 0-3 0 5 0-1 0 0-3-4-1 2 0 2 0 1-1-4-1 2-1-2 0-1-1 1-1-1 0 0-1 2 0 2 0-1-1 2 0-4 0 0 0 2-1-1 0 0-1 3-1-3-1-2 0 5 0-5 0 3-1 2 0-1-3 0-1-3 0 2 0-1 0 0-2 1 0 2-1-3-1-2 0 2 0-2-2 0 0 3-1-3 0 4-1-1 0 1 0-1-1 0 0 0 0 1 0 1-1 0-1-2 0-1-2 2 0-1-1-3 0 3-5-1 4 8 0-4 3 1 2 1 1 0 1 1 2 2 0 0 0-5 2 3 0 1 0-2 1-1 0 2 2-2 1 3 0-4 1 5 1-5 1 1 2 4 1 0 1-5 0 0 1 2 0-2 5 2 0 3 0 0 3-5 0 1 1 3 0-2 3 1 3 0 0-1 2 0 1 3 3 0 1-2 0 0 1 2 1-3 4 2 12-1 3-2 5 0 40 7-51 0-4-1-2-1 0 4-10-2 0 1 0-3-1 0 0 3 0 2-1-5-4 1-7 4-1-4 0 3-1-4-2 4-2 1 0-2-1-3 0 3-2 1-1-2-2 2 0-4-1 0-1 3 0 2 0-4-1 2-1-2-5 0-2 2 0-2-1-1 0 0-1 1-2 0-1 3 0-1 0-2-1-1-1 2-1 1 0-1-1 3 0-5 0 4-2-1 0 5 1 3 1 0 1-1 3 1 0-5 1 2 0 1 1 2 0-4 1-1 1 2 1 3 0 0 2-1 1 0 0-2 2 2 1 0 1-1 1 1 1-1 0-1 1-2 0 5 2-3 6 3 2-3 1-1 4 0 0 0 1-1 0 3 4-1 8-1 0 2 1 2 5-4 64-1-26 11-10-1-8-4-12 4-3 1-3-2-3 2-2-5-2 5 0-5-1 5-3-2-4-1-2-1 0 2-2 0-1-1-1-2-2 1-1-1-1 5 0-1-1-3-3 1-1-2-1 3 0 2-1-1-1-4 0 3-1-3-1 3 0-2 0 0-2 2-4-2-1 1-1-2-1 4-1-1-2 2 0-3-2 2 0 0 0 1-1-4-1 0-2 0 0-1-1 2 0-1-1 3-1-3-2 6 1 2 3 0 0-3 0 1 1 2 0 2 1-4 0 4 1-4 0 2 1-2 1-1 0 3 1-3 1 4 1-3 2 4 1-2 0-3 2 2 2 1 0 1 0 1 1 0 3 0 1 0 1-1 0 1 0-4 0 3 3 1 0-5 1 0 0 3 2-3 0 2 1-2 2 4 0-1 8 2 4-1 2-1 1-2 1 3 2-2 1-1 19 2 27 6-32 1-8-2-5-2-7 3-5-1-4-2-3 5 0-3-3 1-1-1-1 0 0 0-1-2-1 2-4 0-1 1 0 0 0-1-2 3-3-4-1 4 0-2-1-1-1-1 0 2-1-3-1 5-1-2 0-1 0-1 0 4-1-1 0-1-2 1 0-4 0 1 0 3 0 1-1 0 0-2-1-2 0 4 0-1-2-3 0 4 0 0-1 0-1-4-3 1 1 6 0-1 1-1 0 5 0-2 1 1 0-3 1 0 0 3 2-3 0 2 0-3 0 5 0-1 0-1 0-1 1 0 2 1 0-1 0 1 1 1 1 0 0 1 0-1 2-4 1 4 0-2 1-1 0 0 0 4 0-1 2-2 1-2 0 0 1 1 0-1 0 0 2 2 1-2 0 2 1 3 1 0 1-3 2 2 1-4 2 5 0-4 1-1 7 5 1 0 1-1 1-1 2 0 19-2 19 4-30 5-12 0 0 1 0-5-7 1-2 2-2 0-1 2-2 0-1-4-1 0 0-1-5 3-2-1 0 3-1-5-1 4 0 0 0-4-1 5-2-4-1 2 0-1-1-2 0 1-1 1 0-2-1 4-1-4 0 3-1-1-1-2-1 4-2-3-2 0 0 5 1 4 1 0 0-2 3 3 0-4 2 2 1-2 1 1 0-2 0 2 1 0 0 2 0-4 1 1 0 1 1 3 0-5 0 4 0-2 1-1 0 1 4 2 1-3 0 0 1 3 1 1 1-4 2 1 0-2 0 1 2 1 0 1 0 2 3-5 6 1 0-1 0 3 1-3 1 3 2-3 1 0 6 1 8 2 1 0 3 1-6 4-1 0-1 3-7-2 0 0 0 2-1-2-9-2-3 1-4 3-1 0-1-3-1 1-1-3-3 0-1 4-3 0 0-3 0 1-1 1-1 0-3-1 0 2-2-2 0-2 0 1-2 4 0 0 0-5-1 3-2-1-1 2 0-3-1 6 1 4 0-3 1 1 1-1 1-2 2 2 1 0 1 3 2-4 4 1 2-1 5 4 0-1 3-1 1-1 4 0 0 1 3 2 4-4 1 2-19 5-1-1-15 4-1-5" marker-start="url(#s)" marker-mid="url(#s)" marker-end="url(#s)"/>
<path d="M108 455l-50 1 1 4 2 1 2 0 4-2 0-2 4 4 2-4 7 1 4 3 1 0 4-1 0-3 3 2 0-3 4 3 3 0 7 1 0 0 4-4 3 4 2-3 1 3 0 1 4-2 0-1 3-1 21 4 27 4-1 1-7-1-9-3-31 5-13-2-1-1-1-2-1 4-2 1-1-1 0-3-2 0 0 2-2-2-1 1 0 1-1-3 0 1-1 2-3-2-2 4 0-4-1 1-1-2-1 1-1 0-2 3-1-3-3 4-2-5-2 2-3 3 0-4-1-1-1 3 0 0 0-3 0 3 0 1-2 0 0-4-1 3-2-2-1 4-3-3-1 3-1-1-1 1-1-4-1 4-1-2-1 0-3-3-5 1 0 10 2-2 3 0 1 0 1-3 3 2 0 3 1 0 1-1 3 0 0-2 1-1 1 3 3-1 1-3 0 1 2-1 0 2 0-1 1 2 1 1 0-4 1 4 0-3 0 0 0 1 0 0 0-1 3-1 1 2 0-1 0 0 1-1 1 2 0 2 1-2 0 0 0 3 2-4 2 4 3-4 1 1 1 0 2 0 3-2 1 2 1-1 0 0 1 2 0 2 1 0 3-2 1-2 1 4 4-3 2-2 0 2 1 0 1 1 2 0 4 1 0 1 20-4 9 1-25 9-2 0-2-4-1 0-8 0-4 1-1 0-3 3 0-5-4 0-1 0-2 0-1 4-1-3 0 1-2 0 0 0 0-1-4 3-1-1-1 0-1 2-1-1 0-4-1 2-2 1 0-1 0 0-1 1 0-2-1 3-1-2-1 2-1 0 0-4-2 3 0 2-1 0-1-5 0 2-1 2 0 1 0-1-1-2 0 2-1-1 0 0 0-1 0 1-1-1-1 0 0 0 0 1 0 2-1-1-1-2 0-1 0 2-1 0 0-2 0 2-3 1-1-1 0 1 0 1 0 0 0-3-1-1 0 1 0 3-1-2-2 2-2-4-1 4-1-1-1-4-2 2 2 8 0-2 2-1 2 4 2-4 1-1 0 2 1-2 0 0 2 1 0 0 0 3 1-2 0 2 1-3 1-1 1 1 1 1 0-2 1 4 1-4 3 5 0-2 0-2 1 0 0 4 0-3 1-2 0 1 0 1 1-2 0 3 0-1 0 2 2 1 0-1 1-2 0-1 1-1 0 0 0 3 1-3 2 1 1 1 1-1 2 3 2-3 0 2 0 2 1 0 1-5 2 0 0 4 0-3 1 0 2 4 1-4 1 4 0-2 4-1 2 3 4-4 1 1 1-2 1 1 1 2 7-2 2 0 38 8-42 2-1-2-1 0-3 1-7-4-3 0-1 5-3-3 0-2-3 0-2 5-2 0 0-2-1 0-1 2 0-5-1 5-1-1-1-2 0 0-1 1-1-2 0 4 0-4-1 0-3 2 0 0 0-1 0-2-1 1-1 0-2 3 0-1-1-3-3 3 0-2-1 3-2-3-1 1 0 0-1 2 0-2-1-1 0 4-1-2-1-2 0 3 0-4-1 4-2-2 0-1-2-1-1 1 0-1-1 0-1 3 0 2-1-3 0-1-2 2-1-2-2 0 3 5 3 5 1-5 0 0 1 5 4-4 0 4 0-5 2 0 0 1 1 3 1 1 2-3 0-2 0 5 1 0 0-1 1-3 0 4 1-1 1-1 0-3 1 0 2 1 0 4 1-1 1 0 0 0 2-4 0 1 1 3 0-1 3-1 0 1 1 0 0 1 0-4 1 3 1-1 1-1 1 2 2-1 1-2 2 3 6-2 2 2 1-2 1 3 2-2 2 1 1 2 1-1 5 1 7-3 24 3 13-3-45 7-3 0-8-3-5 4-2 1 0-5-1 5-4 0 0-3-1 0-2-1-2 4-1-4-4 0-1 0 0 4-1-1-1-1-1 2-1-5-1 2-1 3-1-2-2-2-1-1 0 4-1 0 0 0 0-1-1 1-1 1-1-3 0-1 0 0-1 4 0-1-1 0 0-2-1 1-1-1-2 3 0-2 0-1 0 3-2-5-1 3-1-1-1 2-2-3-1 2 0-3-1 11 1-1 1-3 1-1 0 2 2 0 2 0 0 2 1-2 1 2 0-2 1 0 1-2 1 3 2-1 0-2 1 0 0 1 0 2 1 2 0-1 1-4 0 3 1 0 0-3 1 3 0-3 0 2 1 0 1 1 1 2 0-2 1-3 2 2 0 0 2 3 0-5 2 3 0 2 1-4 2 3 0-3 1 0 0-1 1 2 1 0 1-1 2-1 2 3 2 2 3-5 1 0 2 2 4 3 0-5 2 5 10-5 7 0 6 0 25 1 11 4-57 2-2 0-1-1-7 1-1-1-1 2-3-1-1 1-3 0 0 1-3 1-1-1-1-2 0 4 0-5-2 5 0-5-4 4 0-1-1-3-1 2-1 2-2-3-3 3-2-3-1-1 0 4-1-2-1-2-2 1-3 3-1-4-2 3-1 0 0 2-3-2 2 7 2 0 1-4 1 5 0 0 1 0 2-3 1-1 1 0 1-1 3 0 0 1 1-1 0 5 0-5 1 2 2-1 0 4 0-5 0 3 1 2 0-4 2 0 2 2 0-1 3 0 1 2 1-3 1 2 2-3 1 0 1 4 1-3 0 2 1 2 3-4 0 1 11 2 18 0-8 7-6-4 0 1 0 2-4-2-10 3-2 0 0-5-1 3 0 2 0-5-1 5-1-1-1 1 0-5 0 1-2-1-1 4-4 1 0 0 0-4 0 2 0 1-2-1 0 1-3 0-1 1 0-5 0 1 0 0 0 0 0 4-1 0-2-5 0 0-1 5-3-2-1 1-2 0 0-2-1 1 0-1-1 0 0 1 0 2 0-4-1 4 0-2 0-1-1-1-1 3-2 1 0-4-2 3 0 1-2-1 4 3 1 1 0-1 2-1 0 4 2-2 0 0 0 1 0-1 1 2 1 0 0-4 0 1 0 2 1 2 0-3 3 2 0-4 0 0 2 5 0 0 0 0 0-1 0-4 1 4 1 0 0-2 0 1 1 1 0-1 0 2 2 0 2-2 2-1 4 2 1 1 1-3 1-1 1 1 2-1 1-1 1 5 8-1 0 1 2-1 0-4 1 0 0 3 2-2 0-1 1 4 5 0 1-2 0 2 2-2-3 9-13-3-3-2-1 0-4 4-1-1-2 2-3-2-5-1-1 2-1-4-1 4-1-3-1 0 0 4 0 0-1-3-1 2-2 1 0-4-3-1-1 1 0 1 0 1-3-3-1 0 0 2 0-2-1 5-1 0 0-1-1 0 0 0 0 0-1-1-1 1-1 0-1 1-3 2 0 4 6-1 0-4 1 5 0-4 0 0 0 3 1-4 1 5 0-4 2-1 0 5 3-3 1 0 1 3 1-4 0 1 1 2 1 1 3 0 3-1 2 0 1 0 1 1 1-2 0 0 1-3 0 1 5 0 1 3 12-2 11-2 2 4 6 5-27-3-5 0 0 5-2-4-9 0-3 0 0 4-2-3-2-2-3 4-1 1 0-4 0 4 0-5-1 5-1-4-1 0 0 3-1 1-1-5 0 0-1 3-1 0-1-2 0 4 0-2-2-1 0 3 0 0 0-2-1 2-3 5 3 0 1 0 3-4 1 2 0 0 2 1 1 1 0 0 1 0 4-3 1 2 2-3 2 4 0-3 12-1 13 1 5-1 4 1-36 8-6 0 0-2-1 0-2 0-4 0-2-1" marker-start="url(#s)" marker-mid="url(#s)" marker-end="url(#s)"/>
<path d="M53 459l3-3 6 1 0 4 1-3 5 1 3-2 4 3 1 1 3-5 4 2 0 1 0 2 2-4 2 3 2 0 2 0 2-1 1-2 2 0 1 1 2 1 1 2 2-3 5 2 1-3 6 0 0 3 1-4 1 1 1 2 4 2 0-5 2 5 46 3-43 2-4-2-5 0-2 3-1-4-1-1-2 0-2 4-5-1-1-3-1 2 0 3-3-2-1 2-1-1 0-2-1 0-3 3-3-4 0 0-1 0-1 1-1 1-1 1 0-2 0 1-1 2 0-2 0 0-4-1-1 2-1 0-1-4 0 4-3 0 0 1-1 0 0-5-1 5-1 0-1-1 0-1-1-1 0 1 0 0-2 2-2-2-1 2 0-4-1 4-1-4 0 4-1-1 0 1-1-2-4 0-1-3-1 5-1-3-1-1 0-1-4 6 2 0 1 2 1-1 1 1 1 2 2 0 0-2 0 3 0-1 4-4 1 4 1 1 0-4 1 4 1-5 1 3 0 2 1-5 1 3 0 2 2 0 3-2 1-2 1 4 0-5 2 4 1 0 0-3 1 4 1 0 1-4 2 0 0 0 0 3 1-4 2 3 1 0 1-3 0 1 0 1 1-2 0 0 1 0 2 2 3-2 4 5 0-4 2 4 1-4 3-1 0 2 2 1 1-1 1-1 0 4 8-2 34-1-20 4-7 0-11 5-2-5-17 2-1 2-2-3 0-1-2 0-1 5-2-1 0 1 0-4-1 3 0-2-3 3 0-3-1 1 0 2-2-5 0 2-2-2-2 3 0 1 0-4 0 2-1-1 0 1-1 0-2 0 0 1-1 1-1-2-1 0 0 2-3-3 0 3-1 1 0-5-1 3 0-2-1 4 0-3 0-1-1 3 0-4-1 0-4 4-1 1 0-5-1 2-1 1-1 1-1-1-1-2 3 6 2 0 0 0 1 1 1 0 1 3 2-4 1 4 0-5 0 4 1-1 1-1 1-1 2 1 0 3 0-3 1 0 0 2 1-3 0 1 4-1 0 1 0 1 1-3 0 4 3 0 0-1 2-3 0 5 2-2 0 2 0-4 1 3 2-4 0 4 1 0 0-1 0 1 0-1 1-1 0 3 0-4 3 2 2 0 7-1 0 2 1-3 4-1 2 2 1 2 10-4 3 2 1-2 0 2 25 4-24 2-12 1-4-1-1-2-4 4-2-2-1 2-1-2-3 2-3 1-1-4-3 3 0-3 0 0-2-1 0 2 0 1-1 0 0-3 0 0-1 3 0 1-3 1 0-4-1-1-2 4-2-4-1 3 0 1-2-1 0-3 0 3-3 2-1-2 0-2 0-1-1 4-1 0 0-4-1 4-1 1-1-1 0 1-1-5-5 4-6 0 0 2 3 0 1 4 2-4 0 1 0-1 1 5 1-4 0 1 0 0 1 1 2-2 1 0 0 1 1 1 1-1 1-2 0 3 2 2 0-1 1 0 1-3 0 1 1 0 1 2 0-1 3 0 0-2 2 1 1 1 0-1 0 2 1 1 0-5 0 0 0 5 1-2 1 0 1 2 0-5 0 1 0-1 1 4 0 0 1 0 0-2 1 3 0-1 2-4 0 3 1 0 1-2 2 4 1-4 3 0 7 1 5 0 1-1 0-1 3 3 7-3 39 3 7-1-48 9-4-4-2 3-7-4-7 1-3-1-1 5-2 0-1-5-1 4-1-3-1 3-1-3-7 4-2-3-1 2-1-4-2 1-1 3 0-3-1 3 0 1-1-5 0 5-1 0-1-2-1-1 0-1-1 0 0 2-2-3 0 4 0 0-1 0 0-4-4 5-1 0 0-4 0 2-1 1-1-4-1 4-1-4-1 5-1 5 5 0 0-4 3 2 0 1 0 0 1-3 2 5 2 0 0-1 1-3 0 2 0 2 0-1 1 1 0-4 2 1 0-1 0 3 1-2 1 1 0 2 1-3 2 3 0-2 1-3 1 3 1 1 0 0 0-4 1 3 1-3 0 4 1-2 0-2 2 3 1 0 0 2 4-4 2-1 0 3 1-1 2-2 2 3 4-2 7 0 2 0 1 4 21 5-12-4-1 1-3 4-2-1-4 0 0-2-5 3-1 0-3 0-2-4-3 4-3-1-2-4 0 0-1 2-3 2-1-3 0 1 0 1-1 0 0-2-4 0 0 0-2 4-3-3-2-1-1 2-1-2 0-1 0 3-1 1 0 1-1 0 0-2-1 0-1-1 0-2 0 3-2 1-2 1 0-2-1-1 0-1-1 0-1 1 0 3-2 0-3-3-1 4 1 2 2 1 0 1 0 0 1-4 1 4 1-3 1 1 1 0 0 2 4-4 0 0 0 5 2-3 1-1 0 3 1-1 0-3 0 3 2 2 1-1 2 1 3-4 0 0 2 3 4-3 3 2 1 1 2-3 2 0 1 1 1 2 6-2 0-2 10 3 5-1 6 4-2 0-17 2-2 2-2-2-1 1-1-3-2 2-4-2-3 2-1 1 0 0-2-2-2 0 0 4-1-2-3-1 0 0-1 0 0 2-3-3 0-1-1 1 0 1-1-1-1 4-1-1 0 1-2-4-1 1 0-1-1 2 0-1 0 1-1 2-1-4 0-1 0 2-1-2-1 4-1-2-2 0-1 1-1 2 0-4-2-1 0 0-1 0 0 4 0 1-1-3-2-1 0-1 1 8 2 1 0 2 2-4 1 3 0-2 1 2 1 1 0-3 0 0 1 2 0-4 0 3 0-3 1 2 0-1 0 4 2-3 1-2 1 5 1-5 0 1 0 4 0 0 1 0 1 0 4-4 0-1 2 4 0 0 1 1 0-3 0-2 0 3 1 1 1-4 0 4 1 1 1-2 0 1 4-3 0 0 1 0 1-1 0 3 4-3 1 3 0-2 0-1 3 5 5 0 10-4 13 3 7 2-9 2-10-1-12-1-6 4-2 1-4-3 0-1-1 4 0 0-2-2-1-2 0 3 0-2-2-2 0 3 0 2-1-1 0-2-1-1-1 0 0 0-1 0 0 4-1-5 0 0 0 4 0 1-2-2 0-2-1 0 0 3-1 1-1-5 0 0 0 3 0 1 0 0 0-3-1 4 0-2 0 1-2 1 0-4 0 2-1 1-1 0-1-2 0-1-1 3 0 1-2-2 0 0 0 1 0-4-1 3-1-3-1 5 0-3-1 2 0-2-2 3-1-1 1 6 1-3 0 2 1 1 0-3 1-1 0 4 1-4 0 0 0 5 1-4 1 2 1-3 0 1 2 3 0-2 3 3 0-2 2 0 2 2 0-4 0 4 1-3 1 2 2-2 2 3 1-5 3 1 4 2 0-1 0 1 1-1 2 2 1 1 2-2 1-3 3 0 3 3 4 2 4-1 21-3-25 8-8-2-3-1-3 2-1-2 0 5-9 0-2-1 0-1-3-2-1 2 0-3-2 2-1 1-1-1-1 1-1-1-1 2 0 1 0 0 0-2 0 1-1-2 0-2 0 4-1-2-1 0-1-2-1 1-1 0 0 0 0 1-1 1 0 2-2-3 0 3 0-2-1-3-1 0 3 7 1 2 1-2 0 1 1 3 0-4 0 2 1 1 0-4 1 1 1 3 0 1 1 0 1-4 0-1 5 3 1-2 2 4 2-1 2-4 1 0 2 1 1 1 4 3 1-4 0 4 1-5 1 0 0 2 2 3 4 0 16-5 3 1-22 5-22 1-8 3-2-3-3 1 0 0-3 2" marker-start="url(#s)" marker-mid="url(#s)" marker-end="url(#s)"/>
<path d="M131 454l-18 1-18 0-44 6 5-1 0-2 7 2 1-3 2 0 1 4 0 0 2-4 3 4 2-2 0 2 7-3 1 2 0-1 2-2 3 4 1-3 1 3 3-5 1 5 2-4 2 2 1 2 0-2 1 2 5-2 1-2 1 2 2-2 5 1 1 0 6 1 16-3 20 2 7 5-22 4-19 0-2-3-5 2-1-2-3 3-5-4-1-1 0 3-1-3-8 5-3-2-1 2-1-1-1-4-2 0 0 5 0-4-1 1-2 1 0 0 0-2 0 4-1-3 0 0-1 1-1 2 0 0 0-3-1-1 0 2-2-1 0 2-2-2-2 3 0 0-1-5-1 0 0 1 0 1-1 3-1-1-1-1-3-2 0 3-1-2-1-2-2 5 0-2-5-2-1 2 0 0-1-3-2 2-2 2-3-1 4 3 1 1 0 4 0 0 1-2 1-3 0 2 0-2 0 0 4 4 1-1 0 1 1 0 1 0 1-1 1 0 1-1 0 1 1-3 3 2 0-2 0 3 1-2 0 1 1 1 1 1 2 1 0-2 2-2 2 1 0 2 0 1 0 0 3-1 0-2 0-1 1 0 1 1 0 2 0 1 0 0 0-2 2-1 0 0 2 0 0-2 1 0 1 0 0 0 1 1 1 0 2 1 0 0 0 1 2 2 1-4 1 0 0 4 1-1 3-4 0 1 4 2 1-1 2 2 32-3 30 2-20 4-30-1-7 2-3-2-1 5-1-1-1-1-1-2-3 1-3 0-2 3-1-1 0 0-2-1 0-1-2 3-1 0 0-3-1-1 0 4-3-1-1-3 0 0-1 4 0 0-2 0-1-4-1 4-1-3-1 3 0-3-1 3 0 0 0-1 0-2-1-1-2 3-1-1 0 0-1 0-1 2-1-5 0 1 0-1-1 2-1-1 0 2 0-1-1 1-1-2-1 0-1 0-1-1-1 2-1-1-1 2 0-2 0-1 0 4-1-4 0 0-1 4 0 1 0-5-2 3-2 0-1-3 0 5-1-5-3 1 0 2-1 1-2 1 2 1 2 0 1 5 1-5 1 2 0 1 1 1 0 0 2-1 0 1 3 1 1 0 1 0 0-3 0-1 1 0 1 0 1-1 1 2 0 1 2 0 2-1 0 3 1-1 1-4 0 0 1 4 0-4 0 4 2-4 1 1 0 1 1-1 2 0 3-1 0 0 0 2 2 0 2-1 2 1 0 2 0-4 3 0 2 5 2-4 1 2 0-3 1 0 0 3 2-3 0 5 2 0 1-2 1-2 2 2 2 1 3-4 4 4 0-2 16 9-3 0-21-2-2-2-1 1-6-1 0 3-2 0 0-1-3-3 0 3 0 2-3 0 0-4-1-1 0 0-2 1-1-1 0 3-3 2 0-5 0 3-1-1-1 3-1-2 0-1-1 0-3-1-1 4-1-2-1-1 0 1-3 2 0-1-1-4 0 3-3 1 0 1 0-2-1 2-1 0-1-2-1-3 0 5-1-3-1 1 0-1-4 0-1 3-1-5-2 3-1 0-2 1-1 1 0-4-1 4 0 4 2-1 3 2 1 0 1-1 0 1 0-1 0 0 0 0 1 1 0-2 0 3 2-2 1-1 0-2 2 0 0 5 0-4 1 2 0 1 1-3 0-1 1 4 2-2 0 2 0-1 2 1 2 0 0-4 1 1 0 0 1 2 2-1 1 3 3-2 2-1 0 2 0-1 1-2 1 1 1 2 0 1 2-2 1 0 0 2 1-2 3 0 0-2 2 3 3-1 0 2 1-5 0 5 0-5 1 2 1 3 0-2 0-1 0 1 4 2 2-4 2 2 1 1 7-1 2 1 22 1-25 5-3-2-5 1-11 1-2 1-2-4-2 0-1 0-1 2 0-1 0-2-1 5-1 0-2-1-2-4-6 0 0 2 0 2-1-4-1 0 0 2 0 1-1-3 0 5-2-2-1-2-1-1 0 1-2 3-1 0-1-3 0 1-3 2-1 0-1 0-1-2-9 9 3-3 1 2 1-2 1 3 1-4 1 0 0 0 1 1 0 1 1 2 0 0 1-5 3 3 1-2 0 0 1 2 0-3 2 3 0-3 2 2 1 1 0-3 2 0 1 0 0 1 2-1 0 5 1-5 0 3 0 2 1 0 0-3 1 2 1-3 1 1 0 0 6 2 0 0 2 1 4-2 1-1 0 1 0 0 6 1 1-4 14 2 39-2 2 2-17 7-1 0-21 1-2-1-8-2-11 0-2 1 0 0-2 1 0 1-1-3-2 3-1 1-1-3-1 1-1 0-1-3 0 3-3 1-2-1-1-1 0 3-1-4-3 4 0-5-1 2-1 1-1 2-1-5-2 2 0-1 0 0-1 3 0 1-1-3-1 0-1 1-1 2-1-1 0-2-2 2-1 0 0-3-1-1-1 4 0-1-1-2 0 1 0 2-1 1 0-2 0 1-4 6 1-3 1-1 0 2 0 3 1 0 1-1 0-3 0 3 1 0 1 1 1-4 1-1 0 3 1-1 1 3 0-4 2 1 0 0 0 3 0 0 1-5 1 3 0 2 1 0 3-1 0-2 1 2 1 0 1 0 1-4 1 0 1 2 1 2 0-2 1 0 2 2 2-4 0 0 1 2 0 1 1-3 1 0 1 3 0-2 3 4 0 0 0-5 7 2 2-2 3 3 1-3 3 4 1 0 1-1 5-1 1-2 7 2 4 0-16 5-3 1-2 2-4 0-1 1-2 0 0-4-5 4 0-5-2 0 0 0-2 0-2 4 0-4 0 0-1 1-1 4-2-4-1 2-1-2-1 2-3 0-1 0 0-2-1 2-2-2-1-1-1 1 0 3-1-4-1 0 0 2-1 1-1 2 0 0-1-2-1 0 0 0-1-3-1 0-2 0-1 4-1-4-1 5 0 0 0 0-1-2 0-1-2-2 0 11 1-3 1 0 1 2 1 0 1-4 2 5 2-2 0-3 1 0 0 1 0 4 3 0 1-3 2 0 1-1 0 4 1 0 1-4 9-1 0 3 2-3 1 0 2 0 1 2 4 2 0-2 3 3 3-2 2 1 1-3 3 4 1-3 2 1 2-3 0 2 1 4-6 4-3 0-9-3-2 2 0-3-1 5-3-1 0-2-1-2-1 0 0 1-3-1 0 0-2 1-2 0-3 1-1-1 0 0-1 0-1 0-1 4-1-1-1-4 0 4 0-1-1 1 0-3-1 1-1-1 0 4-1-1-1 0 0-2 0 2-1-1 0 0-1 1-1-4 0 3-1-3 0 3-2 1-1-3-1 4 0-1-3-1 0-2-1 4 3 2 0 4 0-1 0 1 1-4 0 2 1 1 3 0 0-3 0 4 1-4 0 4 0 0 3-4 3 0 1 0 0 3 1-3 0 4 0-5 1 5 0-4 3 2 1 0 0-2 1 1 1-1 2 4 4-5 2 5 0-4 1 2 1-1 3 2 1 0 0-4 2 0 1 4 1-2 1-1 8 2 1-1 0 2 10-4 46 1-48 6-19 1-5 0-4-2-6 0 0 3-5-3-1 3-1 0-2-3 0 1 0 3-2 0 0-2-1 1-2 2-2 0 0 0-2-2-2-2-1-1-2 5 0-3-1 3 0-1-1-4-2 2 8 7 2-3 2 2 1 1 0-1 6 0 0-1 2 2 3 0 0 0 0 0 2-3 12 2 7 2 23-1-5 5-9-2-30 3-5-3-5 3-5-1-2 1-7-1" marker-start="url(#s)" marker-mid="url(#s)" marker-end="url(#s)"/>
<path d="M120 451l-4 2-22 2 18 6 2-3 16 8-7-1-1 1-6-1-4 2-1-1-12-1-2 2-3-3-2-1-2-1-1 2-1 3-2-2-5 2-4 0-2-1-12 1-7 1 1 1 6 4 1-2 6 1 0-1 7 2 2-4 0 3 2 0 7 1 2 0 3-3 2-2 0 4 5-2 3 1 1-1 2-2 2 1 2 2 0-2 1 4 1-5 1 5 0-1 1-2 10 2 18-3 13 1-8 4-20 3-1-1-4-2-5 5-1 0-5-1 0-3-7 2 0 1-3-2 0 0-2 3-1 0-1-1 0-3-6 1-2 3-7 0-1-2-3 0-4-1 0-1-12 3-3 7 1-1 0-4 0 3 2 0 1 1 3-2 8 2 0-2 3 2 4-1 1-1 0 3 0-4 2 3 1 0 2 0 1-2 6-2 1 3 16-3 4 2 1 1 4 2 0 0 0-4 1 2 2-1 10-1 10 0-5 8-8-1-11-1-5 2-4-3-9 3-5-3-2 0 0 0-3 1-1 0 0 4-3-3-2 2-1-2-1 2-1 0 0-4-1 1 0 3-1-3-1 2-2-1-12 1-7 1-9-1 12 5 2 0 7 3 2-3 2 0 1-1 1 2 3 1 3-3 1 3 0 1 1-4 2 0 9 1 5 3 3-4 7 0 7-1 19 6-39 2-9 0 0 2-1-2-3-2-1 4-3-3-1 0-2 4 0-1 0-2-3-1-1 0-2-1-3 2-9-2-1 4-1 1-4-4 9 6 6 0 1 4 2-3 0 3 8-4 1 2 0 1 2 0 0-4 2 1 0-1 0 1 1 0 1 0 1 4 6 0 5-3 3 1 13 4-7 4-5-4-1-1-2 1-2 4-2-1-1 0-1-4-1 0-19 2 0-2-1 1-4 0-2 1-1 2-5 0-4-2 0 7 0 0 7-2 0 3 4-2 6 3 3-2 0-3 11 2 1 2 2-4 6 3 7-1 4-1 3 3 8 0-16 3-4 3-2-2-1 0 0 3 0-5-3 2-1-2 0 4-3-3-5 4-1-4-3 4 0-4-4 0 0 3 0-2-3-2 0 5-2-1-1-2-1 1-1 1-1 0-2-1-2 2-1-2-2-1-10 2 10 4 8-2 0 2 3 2 6 0 2 1 5-2 0-3 11 3 6-2-2 8-5 2-5 0-1-3-8-2-2 4 0 0-2-4-1 5 0-5-1 4 0 1-7-5-2 1-2 1-1 1 0 0 0 1-4 1-6-1 0 5 4 2 3 0 0-5 1 3 1 0 2-2 1 3 2 0 0-2 0 2 2 0 1-2 2-1 4 3 6-1 4 0 5 2 4 1-1 3-9 0-6-3-8 0-2 5-1-4-1 1-1 1-1 1-11-1-1 0-1 3 4 0 9 3 16-3 3 2 10 3-34 1" marker-start="url(#u)" marker-mid="url(#u)" marker-end="url(#u)"/>
<path d="M230 460l9 1 8-2 37 2 6-3 42-1 0 1 1 4-6 0-14 4-25-3-22 3-13-4-6 4-3 0-14 0-5 0-1 0-3 0-2-3 6 6 0 4 3-2 0 1 1-4 1 5 0 0 2 0 1 0 3-1 1-4 1 2 1-1 1 2 2-3 17 3 1 2 10-1 10 1 5-3 0 0 3-1 1 0 18 3 1 0 5 0 4 1 13-3 1 1 8-1-5 9-9-5-23 1-12 0-6 0-14 3-5-4 0 1-2 0-9 3-4-2-2 2-3 1 0-5-1 1-3 1 0-1 0 4-3-2-1 0-2 0-1 1-3-1 0-2 0 3-1-3 0 1-3-2-1 3-8 5 2-1 1-1 0 0 4 4 7-4 2 1 2 1 1 0 4 1 1-3 4 1 14-1 5 0 16 3 11 0 15 0 2-2 4 2 15 2 9-5-6 6 0 1-4 0-26 3-9 1-13-4-8 0-3 3-3 1-2-2 0 0-3 1-4-1-3-3-1 3-5 0-6 0-1-1-1 3-3-5 0 0-2 0-2 0 0 4-1-1-1-2-3 0-3 4-2-4-1 2-5 0 2 7 0-4 2 4 1-2 0-1 5 4 1-1 0-2 3 0 1 3 1-5 0 2 0-1 1 1 2 0 9 0 2 1 0 0 8 1 7-2 4 1 1 1 10-1 3 1 17-4 11 1 15 0 7 6-19 1-11-1-1 2-3-1-16-1 0 0-9 4-1 0-6-2-3-3-6 1-2 4-4-1-10 0-10-3 0-1-1 3 0-2-2-1-1 3-2-1-2 5 1 0 1 0 0 3 1 1 1-3 1 1 1-1 1-2 2 3 1-2 1 1 5 0 5 2 3-1 0 0 2 2 1-3 1-2 1 4 1-1 39 2 40-1 3-3 5 1 5 7-23-2-10 0-10 1-14 3-15-2-13 1-1-2-3 1-13-1 0-2-3 4-3-2 0 1-12 1-2 5 3 1 13 0 5 1 9-4 1 0 4 4 1-4 1 2 1 2 9-4 2 4 10-1 51 0 1 0 2 1-15 2-78 1-8-2-5 5-2-3-2-1-2 1-3-2-1 4 3 3 1 4 1-1 2 1 7-2 3 1 0-3 2 0 0-1 5 0 0 2 1 2 1 0 1-2 1 0 2 2 1-3 38-1 29 8-16 3-8-1-5-4-5 5-28-2-9 1-4-2-1 3-2-1 0-3-3 3-8 1-1-5-1 4-8 3 4 4 2-5 2 1 5 0 2 1 5-2 3 5 1-2 0 0 2 1 1-4 1 5 0-3 9 1 2-3 3 1 6 3 15-3 45 2 13 8-40-1-16-4-29 1-3 2-1-2-7 3-9-3-1 4-3-5-3 1-3 0-3-1 1 7 17 1 1 1 9 1 8-3 6 1 23 1 7-1-54 8" marker-start="url(#t)" marker-mid="url(#t)" marker-end="url(#t)"/>
<path d="M249 461l74-4 13 3 4-2 3 5-37 4-2-2-9 2-12-3-1-2-4 4-13-1-8-3-1 4-5 1-2-1-1 1-2-4-2-1-3 1-9 2-2 0-2 1-11 2 5 4 8-3 1 2 1 0 5 0 13-2 1 2 3-3 0 1 2 1 0-2 18 0 2 1 7 1 17-1 9 0 3 0 1 3 5-3 9 3 1-3 3 4 3-3 10 5-1 0-5 2-9-3-28 5-1-2-4 0-9 2-1-3-1 1-7-2-3 0-3-1-5 0-14 2-1 1-2-1 0 1-2-2 0 0-2 2-4-2-1 1-2-2-2 5-1-1 0 0-4-2-5-2 0 0-1 5-1-2-9-3 3 8 1 0 6 2 0-1 1 0 0 1 3-1 2 2 1-5 1 0 5 1 1-1 1 4 0-3 0-1 2 1 3 1 0 2 1-4 1 0 1 4 13-3 3-1 1 0 1 1 2 2 1-1 4-2 0 0 4 0 2 2 2 1 1 2 2-2 36 1 2-4 17 0-51 6-6 5-2-1-1-1-2 2-1-1-17 1-5 0 0-1-2-1-2 2-6-4-7 1-1 0 0 1-1 0-4-2 0 0-5 2-1 1-1-3-2 3 0-3-1 0-2 3-1 1-1 3 1-2 4 5 1 0 1-2 2-2 2 4 1 0 3-2 1-2 1-1 10 0 5 0 0 3 1-3 1 1 6-1 1 1 11 3 0-2 2 1 2 1 5-2 1-2 54 5 3-4-1 6-3 4-11 0-5-5-10 1-17 1 0 2-6 0-1 1-19-3-2 3-8 0-7-3-2 0-4 2-1-1-3 1-3 0-1-4 0 1-1 2-6-2-3-1-1 4-2-1-1-3 0 9 2-3 4 5 6 0 4-1 1-1 0-1 2 0 8 1 3-1 4 0 3-1 3-1 4 2 0-2 5 2 12 0 2-1 7-1 1 4 43-1 9-1-14 4-23 4-51-3-4 3-2-3-2 3-6-4-4 5-2-2-1 0-2-2-1 4-1-1-1-2-2 0-4 2-5-1 0 2 4 2 12-1 0 1 1 0 0 2 6-1 1 2 7 0 5-4 12 3 2-1 5-2 19 5 44-4 2 6-18 4-6-2-17-1-34-2-8 3-1 0-5 1 0-1-3 1-2-3-1 4-7-1-4-4 0 0-8 1-1 2-6 4 1-1 1 1 10-1 11 3 2 2 7-3 1-2 1 4 25 0 2 1 11-3 12 3 28 2-35 1-22-1-14 1-4-1-3-1-8 5-12-2-1 1-7-3-4-1-2 4 10 2 0 3 1 0 1-2 8 2 2-3 5 4 1-1 7-1 20 2 7 0 17-2 13 3-40 4-11 2-24-2 0 1 0-3-5 2-5 2 0-2-1-2-2 9 1-1 4 0 22-2 67 0-62 5-22 1" marker-start="url(#t)" marker-mid="url(#t)" marker-end="url(#t)"/>
<path d="M252 458l2 2 11 0 15 1 5-1 29 1 11-1 19 7-14-2-2 0-19-1-29 3-12-1-5-1-1 2-7 0-5-5-1 4-2-2-9 2-8-1 0 0-1-1 0 3-12 5 3-3 1 2 4 2 3-4 6 0 2 3 1-2 1 3 2-2 1-2 0 1 3 1 4 2 3-1 2-3 9 2 0 1 0-4 10 5 7-4 4 4 26-2 15 2 7-5 1 6-5 5-10-4 0 1-10-2-40 0-4 4-4-2-8-1-5 1-2 0-2-2 0 3-3-3 0 4-21-2 0 7 1 1 0 1 1-3 6-2 6 0 2 3 1 1 2-4 1 2 7 3 1-3 1 3 1-5 0 3 4-1 12 3 1 0 0-5 11 1 12 4 2-2 2-2 10 3 6 0 2-2 1 3 2-5 22 4 0-4 1 3 4 2-4 6-25-4-7-1-4 1 0 4-1-3-2-1-5 0-2-1-8 5-4 0-14-2-1 0-4-3-2 5 0-3-1 2-1-1 0-2-4 1-1 2-2 1 0-5-2 4 0 0-1-2 0 2 0-3-2 3-1-1-9 0 0 1-5 1 0-1-1 0-1 0-3-4-1 2-5 4 0 4 2 0 6 1 3-1 3-3 2 1 0 0 2 0 2 0 4 1 12-2 3 1 3 3 3-5 1 5 8-4 2 4 4-5 7 3 18-3-1 10-3 1-8 0-18 0-10-3-3-1-1 1-1 2-3 0-2-4-13 3-1 2-11-1-2-4-1 5-1-1-2 1-5 1 8 5 5-5 5 0 0 4 10 0 1-4 0 4 1-1 8 0 0-2 8 0 3 2 1-2 2 2 1-1 2 3 9-4 3 2 4-2 14 0 36 6-11 1-13 1-7 0-10 0-25-3-4 0-2 3-8 2-3-5-8 3-3 1-1-4-3 5-4-4-2 4-7-1-3-4-1 2-1 1-1-1-3 4 11 2 0-2 1 4 1-1 3-3 1 5 1 0 16-1 2-4 1 0 6 5 20-5 2 3 17 2 2-5 31 5 1 3-10 3-36-5-12 2-10 1-12-1-3 2-12-1 0 2-3-1-2-1-1 0-2 2-1-4 0-1-1 3-1 0-7 1-1-3-1-1 0 5 1 2 3 1 6 0 2-2 0 5 2 0 1-2 1 1 3-4 3 0 1 2 0-2 16 1 25-1 15 2 5 8-18-3-4-1-11 4-8-3-19 1-8 1-1-2 0 4-4-3-4-2 0 3-2-3-2 3-3 8 1-1 2-3 9-1 2 4 0-1 7 2 1-2 6 0 5-1 23 1 7 1 38 1 24-3-96 7-8 1-2 0-5 0-1-4 0 2-8-2-8 2 5 8 0-4 0 5 5-4 2 1 3-2 0 3 0 0 1-3 8 4 10-3 1-1 71 4-75 5-3-3-13 1" marker-start="url(#t)" marker-mid="url(#t)" marker-end="url(#t)"/>
<path d="M224 459l4 2 11-1 4 1 33-2 27 0 19-1 19 2-15 7-15-1-4-1-26-1-14 2-1-1-1 1-1 0-15-3-9 1-2 0-19 4 7 0 1 4 0 0 1 1 5-3 1-2 2 2 1 1 0-3 0 0 2 2 5 1 9-1 5 3 0-4 15 2 2 1 1 0 9-2 7 1 18 1 0-2 11 0 10 1 11-2-2 7-5 3-4-1-5-4-10 5-7-1-8-4-13 4-2 0-8-4-10 3-8-1-4 2-1 0-2 0-6-4-3 1-5 2-3 1 0 1-2-5-1 3-2-3 0 4-4 0-1-4-1 5-4-5-5 0 3 9 3 2 0 0 1-4 1-1 1 2 7 0 2 0 10 3 0-5 2 4 1-4 3 3 3 1 4-1 2-3 3 3 1-1 5 2 0-2 24 1 1 2 5-4 1 3 27-4 3 2 1-2 13 9-4-1-8-2-8 1-30-1-1 0-7 4-27 1-7-1-3-1-3-2 0 3-4-4-10 0-1 4-1-4-2 5-2-4 1 6 1-1 1 5 0 0 1-5 2 5 0-2 1-3 4 0 1 5 0 0 11 0 0-3 3 0 1-1 9-1 1 0 7 2 6 0 3-2 13 1 3-1 14 1 12 3 8-1 5-1 7 1-48 8-8-5-1 3-3 2-8-3-8 1-6 2-1-3-8-2-1 2 0-2-1 5-1 0 0-2-3 2 0-4-7 1-3-1-5 1-5 2-2 0-2-2-1 3 4 2 1 0 5 0 4 4 3-2 7 0 0-2 7 3 3 1 0-2 0 2 1-4 3 1 6 2 10-2 13 0 10 0 11-1 29 6-1 0 0-1-17 5-11-4-37 4-13-5-2 5-4-3 0 0-7 1-3 1-6-3-1 2-4 2-4-3-1-2-2 1-4 1 0 5 1 0 1 2 2-2 2 2 6 2 4-5 2 2 2-1 12 1 0 3 11-1 1-4 61 4 6-2-39 4-28 1-1 1-10-1-3 1-2 1-15 0-1 0 0-1-2-1-1 1-2 2-8-4 0 1 2 10 1-4 2 1 5 1 3 2 17 0 4-5 13 0 3 1 4 1 12-2 34 1-9 10-33-4-8 4-2-5-13 4-8-2-1 1-2-3 0 0-8 4-2-4 0 4-2-4 0 2-7 2-3-4-1 0 2 7 1-1 4 2 2 3 4-3 2-1 3 2 3-1 8-2 7 3 1 1 0 0 0 1 6-5 2 1 3 2 2 2 24-3 3 1 17-3 8 5 1-2-10 5-50 2-9 1-2-3-3 2-3 0 0-2-6-1-4 3 0-2-1-2-4 1-1-1-1 5 0 0-3-1-3 1 0 1 2 0 2 2 1 2 0 1 0-5 5 3 2-3 17 3 7 2 2-4 48 3-28 4-29 0-16 2-8-4-3 0" marker-start="url(#t)" marker-mid="url(#t)" marker-end="url(#t)"/>
<path d="M319 452l-91 2-11 1-1 1 0 3 4 1 1 1 6-2 1 0 2 1 0 0 1-4 1 4 1 0 0 0 3 1 1-4 1 1 0 2 1 1 0-1 4-4 1 1 0 3 1-4 3 4 7 0 1-1 3-3 0 3 1 2 3-2 0 1 1 0 1-4 3 5 5-5 1 0 4 5 6-1 3-3 1 2 0 2 6-2 0 0 1 1 0-4 4 5 2-5 7 0 5 1 3 4 3-3 2 2 19 0 1 1 6 6-4-4 0 3-1 0-1 0-2-2-15 1-3 0-12 1-3-3-3 4 0-4 0 1-10 3-7-4-5 2-5 2-3-1-2-1-3-3-5 5-9-5 0 3-1-1-1-1 0-1-2 2 0 0 0 0-7-2 0 5-1-3-3 3-1-2-1 1 0 1 0-2-1 2 0 0-2-5-1 5 0-3-1 1-1-2-1 2 0 2 0-1-1-1-3-1-1 3 0-1-3 0-1-4-2 3 0 2-1-3 0 4 0 4 2-2 1-2 1 4 0 1 2-2 0-1 0 2 2-3 0-1 0 4 1 0 2-3 1 2 0 0 1-1 1 2 0 0 0-3 0 0 1 2 1-1 1-2 2 4 2-2 2-2 1 1 0 4 1 0 1-3 0 3 1-3 3 3 3 0 4 0 0-4 1-1 1 0 0 2 4 2 1-4 1 1 1 0 2 2 4-3 2 1 2 0 0 4 3-3 0 0 5 1 1 1 4-1 3-2 1-1 5 3 5-1 0 3 1-4 1 1 0 3 0-1 1-2 5 3 3 0 1-2 7 0 0-2 4 3 2-4 1 4 3 0 3 1 5-1 1-3 2 2 0 5-7 1-2 1-2-3-1-1-9 3-2-3-3 0-1 3-3 0-2-1 0-2-2 4-1-4-5 3 0-1-1 3-3-1 0-4-5 1-10 1-3-1-1 4 0-3-2 0 0-1-4-1-4 5-2 0-1 0-1-2-2 2-2-4-1 3 0 1-4-5 0 2 0 2-1-2 0 3 0-4-1-1 0 0 0 0-6 4-1-2-1-2 0 4 0-4-1 4-1-4 0 4-1-2-1 2 0-4-1 3 0 0 0-2-3 0-1 2 0 0-3 0 0-3-1 3-2 2 0-4-1 4-1-4 0 1-1 0 0 1-1 2-2-4-1 1 0 0 0 0-1 1 0 0 0 1-1-2-1-2 0 4 0 1-1-4 0 2 0 1-2 4 3 0 0 3 1-3 1-1 0 1 1-2 0 0 1 2 1-2 1 0 1 0 2 1 0 4 0-1 2-4 1 4 0-2 0 3 3-3 1 1 1 2 4-4 1-1 0 4 0-3 1 0 1 1 2-2 0 1 1 1 2-2 0 0 3 5 3-3 0 0 2 2 2-3 1 2 2 2 0-4 2-1 1 3 2 1 2 0 2 1 2-2 0-3 4 1 0 1 1-1 0 4 5-3 0 3 2-4 2-1 1 0 9 2 0 2 0-4 1 0 0 0 1 1 3 0 1-1 5 4 0-4 1 2 1-2 2 0 1 5 2-1 2-2 13 1 1 1 6-3 5 0 0 0-6 9-3 0-1-4-6 5-4-3-5 3-4-2-4 1-3-3-1 0-1 2 0 1-2-1-2-3-1 1-1 4-9-2-2-2-1 0 0 2-1 1-2-2-9 1-3 2-1-3-1-1-1-1 0 2-3 2-1-2-2 3-3 0-2 0-4 0 0 0-1-5-1 5 0-1-2-4-2 1-2 0-1-1-1 4-2-4 0 5 0-1-1-4 0 4-1 0-1-4-5 5 0-1-1-4 0 1 0 2 0 0-1 0-1 0-1-1-2 2 0-4 0 4-1-4-1 3-1-2-1-1 0 0-1 3 0 2 0 0-1-4-1 0-1 1-1 4 0 0 2 4 0-2 2 3 0-5 0 0 3 2 0-1 1 4 1-2 0-2 1-1 1 1 1 2 2 1 3 0 0-3 1 0 0 3 2 0 0-3 2 3 0-1 0 0 1-3 0 0 1 0 1 4 0-4 0 5 2-1 0 0 1 0 2-4 0 5 5-3 1 3 4-2 2 1 3 1 1-1 6 0 1 1 3-3 5-1 1 0 0 3 1-1 2-1 2-1 9 2 2-1 2-1 1 0 0-1 7 0 2 2 1-2 1 5 5 0 4-4 3 1 1 0 1 3 4-4 2 3 1-1 5 2 6 0 1 1-2 2-11 2-15 0-2 1-3-1-4-4-1 4-1 1 0-4-3-1-1 3-1-2 0 3-1-4-21 1-1-1-4 0-2 3-3 2-2-3 0 2-3 1-7-3-1 2-1-3-1 0-2 0-1 4-9-1-1-2-1-2-2 2-1-2-1 5-2 0-3-1-4-3 0 2 0 1-3 1-1-3 0 2-2-3-1 2 0 6 0 0 2-2 1 2 2 2 1 0 1-1 1-2 0 3 1-5 5 4 1-4 1 1 1 0 0-1 4 4 4-4 1 5 0 0 5-5 0 5 1-5 1 0 0 1 2 3 1-1 1-3 1 3 2 2 1-1 1-3 2 0 2 0 2 4 2-2 3-3 0 0 3 0 0 1 1 1 3 2 1-1 6 2 6 0 8-3 1 0 6 2 5-3 6-1 15 4 4-1 2-2 5 3 5-1-11 8-8-5-12 3-10-1-2 3-8-1-3 0 0 0-1-1-10 0-4 1-11-3-11 1-1-2-3 2-1-2-2 2-1-1-1 1-3 1-1-3-1 5-1 0 0-3-3-2-2 3-1-2 0 3-1 1-2-2-4 2 0-5-2 0-1 0-5 3-2 2 0 2 1-1 2 2 2 1 3-3 0 1 1 3 1-1 2 2 0-3 2-2 3 1 0 1 4 0 1 1 0-1 1 2 1-2 2 0 3-2 0 2 1 0 0-2 0 0 2 1 0 0 0 1 1-2 0 0 1 1 6 1 1 3 2 0 3-5 8 0 6 5 2-3 1 0 8 0 4 1 1-3 1 4 7 0 6-3 2 4 7-1 15-3 2 10-15 0-11-4-9-1-22 2-3-1-8 0-8-1-8 4 0 1-4-4-2-1-1 4-1-3 0 3-4 0-1-3 0 3-1-3-3 0-1 1 0 2 0 1-3-4-2 4-1-5-2 0 0 3-1-3-1 5-2-3 0-1-2 4 0-3-1 1-2 6 4 1 1 0 0 1 1-3 1-2 3 1 1 2 2 1 3-2 0 2 1 1 1-2 1 1 1-1 2 2 1-1 5-1 1 2 0-1 1 0 0-4 2 2 1-2 1 0 3 2 2 1 2-3 4 4 1-4 2 1 1 3 13-2 3-1 2 4 4-4 5 4 2 0 0-5 4 2 5 1 2 1 3-1 2-3 1 5 1 0 12-5 7 5 3-3 6 5-17 0-6 2-14 2-4-1-5-1 0-2-11-1-3 0-1 0-2 3-4-3-2 1-5 3-1-4-5 2 0 0-3 1-3 1-3-1-1-1 0 0-1-2-3 3-2-3-1 3 0-1 0-1-1 2-2-2 0 3 0-4-1 0 0 4-2 1-2-1-1-3 0 0-3 4 0-2-5 0-3 0-1-1-2 1-3 0 0 0-2 0 1 4 3 3 0 0 2-3 4-1 0 4 1-1 0-3 3 5 2-5 1 0 0 4 3-3 1 0 2 1 1-1 0 2 3-3 0 0 1 1 0 3 0 1 4-2 0 0 2-2 3 0 0 0 3-1 1 0 5 2 0-1 3 3 6 1 1-5 3 4 3 0 4-1 1-2 1 4 0-5 1 2 2 1 0-1 4-1 2 3 1-4 19 2 1 2 2-3 20 2 4-2-2 6-17-1-2 1-10 4 0 0-4-2-3-1-2 1-11-2-7 3-2-4-6 3-2 1-12 0-5-3-1 1-1-2 0 3-4 1-1-2 0-2-2 0-1 1 0 0-3 3-1 0-1-3 0 4-3-2-1-2-1 3-1-4 0 0-2 4-1 0-2-1-3-2-4 2-2-2-2 4 1 4 5 0 1-3 2 4 3 0 0-1 5-3 10 3 1-2 3 4 3-5 1 3 17 1 5-2 35 1 0 1-50 4-2-1-13-1-7 0-14 0-1 2-3 2-4 0" marker-start="url(#s)" marker-mid="url(#s)" marker-end="url(#s)"/>
<path d="M322 449l-12 4-10-1-84 8 5 1 2 0 0 0 1-4 0 2 2-1 1 3 5-1 0 1 4-1 2-4 4 0 0 5 0 0 2 0 1-3 1-2 1 2 4 1 2-1 2 1 2 0 3-1 4 2 3 1 1-1 0 0 10 0 1-1 1 2 0-4 1 2 10 1 9-3 5 2 7 1 2 0 4 0 8 0 5-2 3-2 5 0 4 10 0-2-25 0-8-1 0 1-7-1-7 0-5-1-1 2 0-2-5 5-2-2-5-3-2 5-6-5 0 5-3-3-7 0-2 3-2 0 0-1-3 0-1-3-2 4-3-4-1 1-7 0 0-2 0 0-5 1-3 1 0-2-2 0-1 3-1-3-1 0 0 4-4-4-1 2-3 0-1 2 0-4-2 0 1 7 4 4 0 0 1-1 0-4 0 0 1 2 1-1 1 4 0-5 1 3 0-3 1 5 0 0 1-3 0 1 0-3 2 2 1-1 1 3 2 0 2 0 0-2 0 2 1-4 0 2 1-1 0 0 1 1 0-2 1 2 0 0 1-1 0 3 2 0 0 0 2-4 1 0 1 5 0-1 2 0 5 1 0-5 2 4 1 0 0-1 1 2 2-5 0 2 1-2 2 4 1 0 0 1 0-3 1 2 2-4 0 4 2-3 1 1 3 0 5 3 0-3 10 1 1 1 2 1 6-1 1-1 1 0 2 2 3-3 1 1 1 2 2-1 1 1 1-4 6 4 1-2 8-2 1 2 1 0 3 0 6-1 6-2 0 2 0-1 0 6-3-1 0 2-15-2-8 1-3 2-1 0-4-2-1 0-5 0-1 3-1-2-1 1-1 1-2 1-5-2-6-2-2 1-1 1-2 0-7-3-4 0-1 4-1-1 0-2-1 4-3-2-2-1 0-1-3 3-5-2 0-2-1 2-1 3-2-2-1-3 0 0-1 2-1 3-2-1-1-4 0 1-1 3-1 0-2 1-3-5-1 3-1 1-2-1-1 1-1 1 0 0-1-4 0 0-3 0 0 4 0-5-1 0-1 4-3 1 0-4-1 3 0-3-1 1 0-2-1 4-2-4 3 11 1-1 2-2 0-2 0 0 1 4 1-1 1-3 0 4 0-3 1 0 1 2 2 2 2-2 1 2 0-3 1 0 1-2 0 2 1 3 1-5 0 3 0 0 2-1 1-1 1 2 1 1 2 1 1-1 1 0 0 1 3 0 0-1 1 0 1 1 3-5 1 5 0 0 0-4 1 3 1 1 1 0 0-4 5 0 2 0 2-1 2 1 5 3 0 1 4-2 6 2 2-3 0-2 3 2 5 0 2 3 4-5 1 3 2 0 2-1 0-2 3 5 2 0 0-1 3-4 1 1 0 2 1-3 2 4 1-2 5-2 1 0 1 2 7 0 2-2 0 5 1-5 10 1 4-1-6 11-2-5-9 3-6 0-1-1 0 1-4-2-4 1-2-1-3-1 0 0-3 0-8 1-1 0 0 0-2 4 0-2-1-1-1 2-1-3-5 2-5 1-2-1-1 2-3-3-1-2-4 2-1 0-2-1 0 0-1 0-1 1-1 0-3 0-1-2-1 5 0 0-1-5-1 2 0-2 0 0-2 4-1 0 0-3 0-1 0 0-1 4-1-4 0 2-1 1 0-2 0 4-2-3-1 0 0-1-1 3 0-4-2 4-1-3 0 0-1 1-4 0 0-1 0 0-1 1 0-2-1 5-1-3-1-1-3 0-1-1 0 3-2-1-1 0-1-1-1 1-1 1-1 0-2-2-1 2 0-3-1 5-1-3-1-1 0 1 0 0-3 8 1-1 1 1 0 0 1-4 1 4 0-4 1 0 0 4 0-2 1 3 0-4 0 2 1-1 1-1 0 4 0-2 2 0 1 1 2-3 0 2 6-2 1 0 1 1 4 3 1-1 2-1 0 1 1 1 0-3 0 0 1 0 1-1 0-1 1 2 0-2 0 4 1-1 1-1 3 0 2-2 3 2 1-1 0 2 4-3 0 0 9 4 1 1 4-2 2 0 0-2 3 1 0 1 3 0 4 2 4-3 7-2 0 0 11 2 3 1 1 0 1-3 1 2 4-2 4 5 1-2 7 0 4-1 3 8-4-3-3 1-1-2-3 5-8-3-2 2-2-1-1 0-2-3-3 4-1-1-7 2-2-3-3-2-11 3-1-2-11-1 0 1-1 1-3-2-1 3-1-2 0 3-3 1-6-5-1 2-3 2-1-1-2-1-1 3-4-5-2 2-1 3-1 0-1-3 0 0 0 2 0-4-1 2 0-2 0 1-1 0 0 3-1 0-2 0-1-3-2 3-1-4-1 3 0-3-1 1 0-1 0 0-1 4-1 0-2 0 0-3-6-1-1 3 0-3-1 2-4-1 0 10 0-5 2 0 1 3 0 1 2-2 1-1 2 0 2 2 0-1 1 1 0 2 0-1 2 0 2 0 2-2 4 1 1 2 2-3 0-2 1 1 1 0 1-1 0 3 4-3 0 3 0 1 3-2 12 3 1-4 0 4 2 0 6-1 3 0 1 0 8-2 1-1 2-1 2 0 7 2 4 2 5 1 0-5 9 3 9 1 0-3 1 1 0 1 4 0 3-2 1 0 0-1 3 1 2-1 5 4 1 7-22-2-28 1-11 1-6 0 0-2-13-3-6 4-1 0-1-3 0-1-2 4-2-4-1 3-7 1-4 0-2 1-2-2 0-3-1 4 0-3-1 3 0-3-1 0-3 0 0 0 0 0-1 0 0 3 0 0-3 0-1-2-2 1-1 0-1-1-3 4 1 0 1 0 0 4 1-1 0-3 1 2 0 1 1-3 1 3 1-1 3-1 2 2 0-3 0 4 3-3 0 2 1 0 0-3 1 2 0 1 1-1 2-2 4 0 2 5 1-1 1 0 4-3 1 3 0 0 0-3 1 0 1 1 2 2 1-1 2-1 9-1 0 4 11-2 4-2 2 4 1-5 0 0 6 3 2-3 2 5 7-4 4 0 3-1 2 3 0 0 6-3 2 1 1 1 9 0 15 0-4 7-4-2-8 4-9-1-5-4-6 2-5 0 0 3-9-3-4-1-12 3-2 1-15-3-2-1 0 3-1-3-4 3 0 1-1-5-1 4 0-3-1 0-1 1-2 0-3 2-2-1-1-3-4 0-5 4-1 1-1-4-1 1-1 0 0 1 0-3-1 5 0-2-1 2-1-2 0 1 0 0-2-2-1-2-1 4 0-1-2-3 0 1-2 2 0 6 1-2 1 2 1-3 1 1 0 4 0-5 2 4 0 1 2-5 0 5 0-3 1 1 1 2 0-1 2 1 1-1 2-3 1 3 0-3 1 4 2-4 1-1 0 0 0 1 4 2 1-3 1 4 1-4 0 5 1-1 1-4 3 1 5 0 5 3 3 0 3-4 10 1 4-1 2 2 6 2 3 1 2-5 1 3 4-1 9-2 2 0 2 2 6 3 6-5 7 2 9-1 0 0 4 2-10 3-5 5-3-3-19 0-1 1-3 0-4-2-15 0-9 0-2 3-2-4-1 3-1 0-5 1-1-3-1 3-2 1-1-2-2-3 0 5 0-5-1 5-4-3-2 2-1 1-3-5-2 2-1-2-1 5 0-3 0-1-3 3-1-3 0 3-1-2-1 2-1-4-2 1 0 2 0 1-1 0 0-4-2 0 0 5-1 0-3-3 0 3 0-5-3 1 0 3-1-4-1 3-1-1 0-1 0 2 1 4 0 2 3 0 0-1 2-2 2 2 2-1 0 2 0 1 2-3 1 2 1 0 1 0 1-3 1 3 5 2 0-4 1 4 1 0 1-3 1 2 2 1 3-4 5 0 1 2 2-3 5 5 1-5 6 0 33 2 30 2 7-1-59 5-9 0-2 3-1 0-3-4-2 1-1-2-4 3-2-2-3 0-2-1 0 0-2 2 0 0-1 1 0 2-1-5-3 3-1 1-3 1 0 0-4-1-5-4 0 0-4 1 0 4-4 0-1 0-2-2-2-2-1 7 3 0 5 0 4 1 0-3 3 0 5 2 2-1 3-1 4 3 7 2 34-5 15 2 37 3-73 3-2 2-18-3-5 0-6 3-13-2-2-1-3 0" marker-start="url(#s)" marker-mid="url(#s)" marker-end="url(#s)"/>
<path d="M323 451l-28 3-1-1-14 2-30 0-8 0-3 0-6 0-13 0 1 4 0 1 1-1 1 0 1 2 1 0 1 0 0-2 4 0 0-2 1 4 1-1 0-2 4-1 1-1 3 1 1 4 0-5 1 5 0-4 1 4 3 0 0-2 2 2 6-4 11 4 5-5 5 3 1-3 3 2 1 2 7 0 4 1 5 0 10-3 4-1 3 4 3-5 8 4 3 1 7-5 1 0 2 1 2 0 1 10-2-4-2 2-6 1-3 0-3 1-7 0-2-1 0-3-1 1-8-2-1 3-1 1-3 1-1 0-3-5-3 5 0-1 0-2-3 0-2 0-3 2-1-2-3 2-2-2-1 3-2 0-2-2 0-1-1 3-3 0 0-2-3 1-3-3-1 3 0 1-1-4-3 2 0 0-1 2-1 0-3-2 0-2 0 2-1-2-1-1-3 5 0 0-2-3 0 2-2-3-1 0-1 3-2-3-2 3 0 0-2-3-2 3 0-4-1 1 0 4-3-2-2 2-1-1 0-3-1-1-1 3-2 0-1-2 0 3-1-2-1-2-2 5 0 0-3-1 0 1 3 4 1 0 0 2 0-3 2-2 0 5 1-4 1 4 1-5 1 5 0-1 0 0 1-1 0-2 1 3 2-1 1 2 3-5 0 1 1 1 0 0 0 1 1 2 0-3 0-2 1 1 1 2 1-2 1 2 1 2 1-2 0-1 3 1 0-2 2-1 1 2 4 1 3 2 1-2 4-3 0 4 2-3 2 2 1 0 7 1 1-1 1 2 2-2 1 1 3-3 1 0 2 0 2-1 1 4 3-1 3-2 3 0 8 2 3-1 3 3 1-3 3 3 1-2 7 2 3-4 3 1 3-2 3 1 1 1 3 0 1 3 2-5 0 3 2 2 0 4 0-1-1 1-5 2-1-2-3-2-1 4-1-5-3 2-8 2-5-4-9 3-3-1-3 2-2-3-1 1-3-2-4 4 0-1-4 2-4-1-2 0-4 0 0-2-3 3-5-3-1 1-4 2-1 0-1-1-5-1-1-1-1-1-1 1-2 2 0-2-1-2-2 3 0 0 0-3-1 1 0 0-2 3-2 1 0-1-1 1 0 0 0-2-1 0-1-3-2 1-2 1-1 2 0 0-1-4-1 3-1-1-1 3 0 0-2-3 0 1-1-1 0 0-1-2-1 4-2-4 0 5-1-2 0 1-3-1 0-1-3-1-1 2 1 8 2 0 1-1 1 1 1-2 0-1 0-1 2 1 1 3 2-3 2-1 0 3 1-1 0 2 0-1 2-3 3 1 1 0 2 3 0-2 2 1 1 1 0 0 6-3 2 0 1 1 0 0 1 1 1-3 0-1 1 3 2 1 1-3 0 1 2 2 2 0 4 1 3-4 3 2 1 0 1-2 0 0 2 1 0 2 1 1 3-2 2 0 2 0 4 0 3 0 2-1 1 1 0-2 2 4 0 0 2-5 4 5 3-1 1-2 1-2 2 4 1-2 1-2 1 1 1 3 2-4 5 4 2 0 3-2 0 0 16 3 4 1-12 1-1 2-3-2-1 4-1-3-1-2-2 1-4 3 0-2-1-1-1 3-1 1-4-1-8-1-11 1-4-4-1 4-2-4-2 3 0 1-3-2-6 1-10-1 0-2-2 2 0 1-2 2-1-1-3-1-1 2-4-1-1 1-3-5-1 0-1 2-1-1-1 4-1 0-2-4-1 4-1-5 0 4-2-3 0 4-1 0-3-3-1 3-2-3-4-2 0 5 0-2-1-2 0 0-1 0 0 2-1 0-2-1-1-2 0 2-2-2-1 10 2-3 0 0 1 3 6-2 0 3 1-1 0-4 3 4 1-2 0 0 0-1 0 2 1 1 2-1 1-3 3 0 0 5 0-5 1 5 1 0 0-2 1-2 0 3 1-2 0-2 0 3 1 0 1-1 0-2 0 1 2 4 4-3 1 3 1-1 0-1 3-3 6 2 0 1 1-2 0 0 1 1 4-2 0 0 6 5 3 0 2-3 1 1 1 2 1-4 9 4 10-1 3 1 0-4 5 1 4 0 1 1 2 0 1-3 3 1 2 0 0 3 6-4 15 8-17-1-12 4-4-3-5-1-2 2-5 2-1-5-1 3-3 0-1 1-2 0-2 0-1 1-4 0-1-5-7 5-7-1-1 1-1-5-6 3-1 0-3 0 0 0-5 2-2 0 0-2-1-1 0-1-2 0 0 2-1-1 0 0-1 0-1 1-3-3-1 1 0 1-4 0-2 0 0 1-1 0-2 0-1-1-1 0-1-1-3 2-1-3-1 3-2-1 0 1-3 1 0-4 5 11 0-5 1 1 1 0 1 4 2-2 2 1 0 0 1-4 1 2 0 1 2 1 0-3 2 0 1 1 4-2 1 1 1-1 1 1 0 4 3-3 1 3 0 0 5-1 0-4 1 5 3-1 1-3 5 1 1 3 4 0 1 0 0-2 6-2 12 0 9 0 0 3 2-4 1 0 0 0 1 4 1-2 0 3 4-4 2 4 0-3 3 3 5-5 1 0 7 1 7 3 2 0 1 0 8 0 3 1-6 5-1-1-2-1-9-2-7 2-5-2-2 0-1 0 0 4-4 1-5-1-3-4-3 3-3-2-2 2-3-3-3 1-1-1-4 4-1-3-1 1-2 1-2-3-4 0-4 4-7-1 0 2-2-3-1-2 0 3-1 0-1 2-1-5 0 4-1-3-2 1-4 0-1 0-1 1-3-1-3 3 0-3-6 3-1-4-7-1-3 1 0 1 0 7 2 2 0 0 0-2 2-2 0 2 1-3 2 5 2 0 1-5 2 4 3 0 1-3 1 4 0-5 2 2 1 3 3 0 1-4 0 0 1 1 1 2 1-2 1-1 0 2 0 2 4-2 8-3 0 0 3 3 2-3 2 2 1 1 1-3 6 5 2-4 1 4 3-3 1-1 2 0 4 2 2 1 2-3 1 3 0-4 8 4 3-3 0 3 1 0 12-2 2 3 2-3 1 1 6 1 1-4 7 0 3 2 0 0 0 2 2 7-1-5-6 5-11-5-7 3-2 0-7-1-2 1-2 0-1-3-3 1 0-1-6 5-4-4-4 4-3-3-7 0-4 2 0-1-8 2-4-1-2-1-2 2-2-1-2 1-1-2-1-1 0-2 0 2 0 0-3-1 0 3-1-3-2 0-1 2 0-3 0 4-2-1-1-3-1 2-2-1-1 1 0 2-1 1 0-4 0 4-1 0-1-3 0 3-1-3-1 1-1-1 0 1 0-3-2 1 0 3-1 1-1-2 0-2 0 1-6 0-1-1 2 10 0-4 2 4 0-3 4-1 1 0 1 0 2 2 0 2 0-2 1-3 1 3 0 2 0 0 1-5 1 0 1 3 2-1 3 2 0 1 0-2 2 2 0 0 0-1 3-4 0 1 2-1 1 5 5-3 2 1 1-1 1-2 3 0 4 1 0 2 0-3 1 0 2 4 2 1 0-1 36-2 7 1 6 1 5-2 7-1 9 0 3 1 3 8-12-3-14 3-4 0-5-2-7 0-3-1-5 1-3-2-3 0-3 1-8 1-2 0-3-2-4 2-2 2-3-1-2-1-1-2 0 4-7-2 0-1-4 4-3-2 0 0-3-3 0 0-1 0 0 2-2-2-1 4-1 0-1 0-1-3-1 2 0 0-5 0-6-3-1 4-1 1-1-5-1 2-1 4 1 3 1-3 0 1 1 1 1 1 4-2 2 1 0 0 2 0 1 2 1-4 2 4 0 1 1 0 0 0 3-2 0-1 4 0 4 2 1-4 0 3 8-3 7 5 5-3 0 2 1 1 3 0 7-1 3 0 6-2 22-1 9 2 25-1 0 0-13 5-4 1-3-2-3 0-13 5-4-3-18-1-7 0-10 2-5 0-4-1-3-1-1 4-3-3-3 2-7-2-1-1-3-1 0 5 0 0-1-4-2 0-6 3-5-4 0 1-4 4-1-4-3 8 3 1 4-2 1 2 5 0 1 1 0 0 0-2 15-3 1 4 3-3 0 2 1 1 11-4 14 0 44 0 24 3-1 5-27 2-18-3-49 0-1 1-13 1-7-1-6-1-3 1" marker-start="url(#s)" marker-mid="url(#s)" marker-end="url(#s)"/>
<path d="M327 452l-24 1-8 0-31 2-20 0-17 0-4 1 0 2 1 0 1 2 5 1 1-1 1 0 1-2 1 3 0-2 1-1 1 3 0-1 2-2 2 0 9-2 4 2 0 3 8-3 0 0 2 0 3 0 0 1 3 0 9 1 3 1 3-4 5 0 6 4 7 0 1-5 6 2 3 3 1-5 7 3 8-1 12 1-11 7-6 0-2 0 0 0-2-1-9 0-7 1-1 0-1-2-2 0-3 3-5 0-4-3-2 3-10 0 0-1 0 1-2-5-3 5-1-1-3-1-2-3-1 4-3-3 0 4-5-2-1 2 0-1-1 1-2-3-1 1-2-1-2 3-1-5 0 4 0-2-1 1 0-3 0 5-2 0-1 0-1-4-3 3-1 1-1-4 0 0-2 0 0 1-1 2 0 1-2-1-2-3-1-1-2 2-1 0-2 2-2-3-1 0-1-1-2 3 0 4 1 4 1-2 1 1 0-1 1 2 1-5 0 4 2 1 0 0 1-3 0 3 2-4 1 0 0 3 0-1 0 0 1 2 1-3 1 3 0-5 1 5 2 0 0 0 2-2 1 0 3-3 0 0 0 0 1 0 1 1 3 2 1 0 1 2 2-5 0 1 2 3 0-1 0-1 0 0 1 3 1-3 0 0 3 1 1-3 9 1 3 2 1-3 10 4 1-1 1 1 2-1 1 1 3-1 1-3 3 5 3-1 1-1 1 2 0-1 5-4 0 2 1-2 2 5 1-5 0 0 1 4 5-2 3-2 0 1 2 3 1-3 1 0 11 2 2 0 3-3 5 7-9 1 0 2-6-2-7-2-6 3-1-3-2 0-2 2-3-2-2 3-1 1-1 0-7-3-3 3-1-2 0 0-2-1-1 4-9 0-2-5 0 0-3 2-1 3-2-1-4-1 0-1-1 1-1-3-2 2-1 2-2-3 0-1-4 5 0-1-3 0-2-1-1 0-1 1 0 1-1-3-2 1 0-1-1-2-1 3 0 1-2 0 0 0-1 0 0 0 0 1-2-5-1 0 0 2-1 2 0-1-1 0-1 1-1-2 0 0 0-2-1 4-2-3 0-1 0 4-1-4-1 3-1-3-3 3 0-1 0 1-1-2 0-1 0 2 0-1-1 0 0 3-2-2-1 2 0-3 0 3-1 0 0 2 0 3 2-1 1 2 2 1 3-2 0-1 0 1 1-3 0 3 3 0 2-1 0 1 3 0 0-3 0 4 2 1 2-4 1-1 0 5 2-3 4 3 0-5 0 0 1 3 2-3 2 2 2 0 0 1 3-3 0 4 1-4 0 5 0-2 4 0 1 0 4-1 7 0 0 2 1-1 1-3 18 4 4-4 3 3 1-1 1 3 1-1 0-4 0 1 2 3 0-4 3 3 6-1 5-1 1 3 2-2 3 0 2-2 6 2 3 1 4 0 1-2-1 8-5-3 0 2-4 2-4-3-5 0-1 2-1-3-3 1-1 0-1 0-4 4 0-3-1-2 0 3-7 2 0-4-2 0-2 4-1-3-5 1-4-3-1 1-1 0-1 0-3 4-8-3-10-1-1 0-1 3-1 1-2-2-3-3 0 3-2-3-1 1-1 4 0-1-1-4-1 4 0-1-1 0-1-3 0 3-1-1 0-2-1 5 0-2-2-2-1-1 0 4 0-3 0 0-3 3-2 0 0 0 0-1-2 2-2-3-2 1-1 2-2-2-2-2 0 2-1-3 0 5-2 0 0-1-1 1 0-1-1-1-1 0-1 1-1 1 0-4-1-1 0 9 1-2 1 2 0 2 2 0 1-1 1 1 1-2 1-1 2 0 1 0 1 2 0-2 0-1 2 3 1-4 0 3 3-2 0 3 0 0 0-1 4-3 1 0 0 0 1 3 1 0 1-1 0 0 2 0 1-1 1 0 1-1 2 5 2-1 0-1 3 1 1 1 1-5 0 0 4 4 1-3 2 2 1-3 1 4 0 1 2-2 1-2 1 3 0-2 9 2 2-3 15 3 0-4 1 0 5 0 2 3 2-2 3 2 3 2 0-4 5 2 11 0 5 0 3-3 10 4-19 5-10-3-1 3-1 0-2-2-1-1-1 4-1-1-1-2-2 1-4-2-9 5-4 0-3-3-2-1-1 1-5 2-4 0-1-3-3 4-9-3-5 1-3 0 0 0 0 2-1-3 0-1-1 2-2-3-3 1 0 4-1-1 0-3 0-1-3 1-1 4-2-2-1 1 0-3 0 0-2-1 0 3-1 1 0-3-1 2-1-1 0 3-2-2 0-2 0 3-1 1 0-1-1-1 0-1-1 2 0-3 0 4 0-2 0 1-1 1-3-3-2-1-1 2 0-2-2 0 0 1-1 1-2-1 1 5 1 3 0 1 2-4 3 4 2-5 0 3 2 0 1 2 1-4 1 1 0 1 1 1 3 1 0-1 5 0 0-4 2 4 2-2 1 1 1-1 0 3 2 0 1-2 2 2 0-4 0 4 0-4 3 4 7-2 2-3 1 0 3 3 3-1 14 0 1-2 12 3 1-2 0 2 3 2 1 0 2-3 11 1 12-3 6 2 4 1 2-2 3 2-32 8-8 0-2-2-2-1-1 0-3 0-10-2-1 2-5 2-3-1 0 1-2-2 0 3-4-1-5-4-2 2-6 1-1-1 0 0-1-1 0 1-3-2-4 0 0 5-3-2-1-2-4 3-2 0 0-2-1 3-1-5-2 5-1-2-1 0 0 2 0-5 0 2 0 1 0-3-1 0 0 3 0 2-1 0 0-5-1 5-3 0-2-2-4-2-1 0-1 3-1 0 1 7 3-3 1 1 2 0 0 0 0-2 7 3 0 1 4-1 2 0 1-1 2 0 0 2 2-5 0 5 4 0 0-1 1-3 0 0 0 3 0-4 1 1 2 3 6 0 1-3 3 1 1 3 1 0 2-5 9 4 2-1 0-3 3 4 2-1 1 2 3-3 16-2 0 2 1 1 7 0 1-1 10 2 8 0 1-3 2 4 2 0 5-2 7-1 1 9-5 0-1-1-19-3-4-1-8 1-6 0-1 2-22 0-7-1-3-2-1 3-1-1-2 3-4-1-4 0 0-3-1 4 0-2-3 2-5-1-3 0-3-3-1 0-1 0-1 4-2-5 0 4 0 1-1-4 0 1-1 2-1-1 0-3 0 3-1 0-3 0 0-3 0 0 0 5-2-2-1 0-1 2-2-3 0 3 0 0-1-3 0-2-1 2 0 0 0 2-5 5 2 1 2 1 1-5 1 0 3 0 1 0 1 4 0 1 4-1 1 1 1-4 1-1 0 1 1 4 2-3 0 2 4-2 4 3 0-2 0 0 2 1 2 0 1-2 1 3 1-5 3 0 1 1 0 0 2 2 2 0 2-1 1-2 4 3 0-3 3 4 3 1 2-1 5 1 4 0 1-4 1 0 5 3 12 1 11-3 25 0 2-1-12 5-1 4-1 1 0-5-4 4 0-4-21 2 0 1-2 0-2 0-23-2 0 3-5 0-5-4-2 2-6-1-1-1 0 3-6 0-1-3-5 3-1 1-1-1 0-1-7 3-2-5-2 5-1 0-1-5-1 1-1 0-1 0 0 0-2 3 0-1-1-2 0 0 0 4-2-3-1-1-1-1-1 5-1-5-1 4 2 2 1 1 3 3 0-4 3 2 1 3 0-5 1 2 0-2 1 2 0 1 1 2 0-2 0 2 1-2 1-2 0 0 2 2 4-1 0-1 1 4 1 0 2-5 0 1 0 2 2-2 1-1 1 0 0 3 3 1 1-4 0 0 0 0 7 4 1 1 4-5 13 0 6 0 4 3 21-3 5 0 11 2 11-2 6 4-14 7-12-5-5 1-5 1-4 0-1-2-5 2-1 0-21 2-5-3-18 2-1-2 0-1-1 1-1 4-3-5 0 5-1-2-3 2 0-2-2 1-1-1-3 1-6-4-1 0 0 2 0 0-1 0-1 3 0 0-1-1-1 5 6-3 1 5 5-5 3 3 3 0 0-1 1-1 2 0 1 2 0 0 1-2 3-1 0 1 1 0 25 4 13 0 4-5 6 1 3 1 23 3 1-3 7 2-46 2-32 4-17-2-4 0-4-1" marker-start="url(#s)" marker-mid="url(#s)" marker-end="url(#s)"/>
<path d="M339 454l-32 1-89 0-3 1 5 5 0-4 2 0 4 2 2-1 1-2 0 0 0 5 2 0 1-3 0 1 2 2 6-1 2-1 1-3 2 0 2 3 2 0 5-2 3 3 1 1 2-1 1 1 4 0 1-1 3-1 3-1 1 1 6 2 6-3 4 2 2 1 0-1 5-3 5 0 1 1 7 3 2 0 1-2 0-3 0 0 2 4 27-1 5-1-4 4-3 5-2-2 0 1-7 1-3-3 0 0-9 1-5 0-3-2-1 2-4 0 0 2-5-5-4 0-2 5-1-1-3-4-3 4-7 1-1 0-7-4-1-1-4 4-1-3-5 4 0-5-3 1-1 2-1 1 0-3-3 4 0-1-1 1-1-1-3-4-1 3 0 2-1-1 0 0 0 0-1 1-1-2-3-2-1-1-4 3-1-2-1 0-1-1-5 1-2-1-1 2 0 2-1-3 0 0-1-1-4 2 0 3-2 0-1 2 0 4 0-4 2 2 1 1 1-3 0 4 1-2 2-2 2 2 0-3 1 0 0 4 1-4 2 1 1 2 2-2 0-1 0 0 1 2 0 1 1-2 0 4 1-2 0 2 2-2 1-1 0 3 2-2 1 0 3-3 1 4 1-1 1-2 0-1 0 3 2-1 8 1 0 1 4 0 1-2 0-2 6 5 0 0 3-2 3 0 0 1 1-1 0-3 1 3 1-1 0 0 0 0 1 0 2 3 1 0 3-5 1 5 2-3 1 1 1 1 0-2 4 2 3 1 7-1 0-1 3-3 2 1 8 3 6 0 4-3 2-1 1 3 5-2 4 0 2 2 0-2 4 4-2 6-1 0-1-1-3-3-1 0-3 3-3-4-3 4-6 1-2-2-1 1-5-1-5 2-2-3-2 3-4-5-4 1-10 0-2 1-2 1-5 0-1-2 0 0-1 2-4-3-3 0-11 1-1 0-1 3-1-2 0 2-3-1-2-2 0 3 0-2-1 3-2-3-1 1-2-3 0 1 0 3-3-4 0 0-1 5 0 0 0-4-4 4 0-4 0 3-2-3 0-1-1 4 0-2-3-1-1 4-1-2-1-1 0 2-3 0-1 1-2-1-1-3 0 0 0 0-2 1-1-2-1 10 3 0 1 0 2 0 0-1 1 2 1-1 1 1 0-1 1 1 0-4 0 1 1 0 2-2 1 1 0 0 1 3 1 1 2-2 2 2 1 0 1-5 0 5 1 0 1-5 4 0 0 1 1 1 1 2 4-3 0 1 0 1 2 2 1 0 2-2 4 0 0-3 1 5 2-2 1 2 1-2 1 1 5 0 1 0 1-4 2 2 1 3 1-1 0 1 4-4 0 2 2 2 2-5 2 4 4 1 4-4 5 3 0-4 1 1 2 0 0 1 0-2 0 0 8 1 1-1 0 5 1-4 5 1 11-1 5 4 11 0-6 1-1 5-6-4-8 2-1 2-3-5-1 5-5-4-1 1-5 2 0 0-4-4-1 0-1 5-1-3 0 2 0 0-1-4 0 4-7-1 0-2-2 4-4-1-3-3-1-1 0 3-5 0-2 0-2-1-1-2-2 0-2 2-2 0-6 2-2-1 0-2-1 3 0-4-2 1-1-1 0 3-1 1-1-4 0 4-4-3-1-1-2 4 0-1-1-2-1 1-1-2-1 5 0-5-1 3 0-3 0 5 0-4-3 2-1 1 0 0-4 0 0 1-1-2-1-1 0 0-1 1 0 2 0-4-1 2-1-1-1-2-3 4-1-4-1 4-1-1 0-3-1 3 0 6 1 1 0 1 2-2 1 2 0-3 1-1 0 2 0 0 2-2 0-1 1 3 0 2 1-5 0 5 1 0 3-3 0 1 2-3 4 3 1 0 1 2 0-5 1 4 0 1 1-2 1-3 2 0 0 3 0-2 1 4 0-3 0-1 1 1 1-1 1 3 1-1 0-1 3 1 4-3 2 1 2 1 1 0 2-1 2 3 3-2 1 0 3-2 0 2 2-2 1 5 5 0 0-2 4-1 1-2 4 1 2 3 3-3 0 1 10-2 2 3 0 2 3-3 1 0 0-2 1 3 7 1 3-3 6 2 2 0 10 6-3-2-10 4-8-3 0 1-3-1 0-1-2 2-6-2-5 4 0-5-1 3 0-3-6 0-11 4-1-1 0-1-1 2 0-4-2 2 0-1-1-1-1 3-9 0 0-1-2 1-4-3-2 1-1 0-9 1-1-2-6 3 0 2 0 0-1-1-1-3-1-1-2 5-1 0-1 0-4-3 0 3 0-1-1-1 0-1-1 0-2 0 0 0-2 1 0-3 0 0-1 1-1 4 0-3-1 1 0 0-1 0-1 0 0-2 0 3-1-4-1 0 0 4-2-2-1-1 0 4 0 0 1 3 1-2 2 3 0-1 1-1 1 4 2-3 1 0 1 0 0 2 1 1 1-5 2 0 2 0 0 1 0 4 1-4 2 1 0 0 0-2 0 3 1 2 0-4 0 3 1-4 0 3 1 2 1-2 1 1 0 0 0-3 0 3 3-1 0-2 0 2 0 1 0-3 1-1 0 4 1-3 5 3 3-1 4 0 3-2 2 3 1-1 2 0 1-1 2 1 2-1 1 0 2 1 1-2 1 2 1-2 1 3 12-3 2 0 1 4 8-3 6 1 8 2 7 0 7-4 5-1 4 1 2 1 3-1-6 10-5 0-7 0-12-2-18-3-5 3-12-3-4 3-2 0-1-2-6 0-1 4-6-3 0 3-2-2-1 2-2-5-2 3 0 1-2-2-2 1 0-2 0-1-4 1 0 4-4-2 0 1-2-3-1 1-2 1-1 2-1-2 0 0-3 0 0 1 0 0 0-3-4 2-1 1-1-2-3 1-2-2-1 4-1-3-1-2-1 2 8 7 4 1 2-1 0-1 1-2 1 5 0-2 1-3 2 1 4 1 4 1 2-2 1 3 0-1 0-2 1 4 4-5 1 0 0 3 1 2 4 0 0 0 5-1 1-3 3 3 11-3 7 4 22-5 1 3 12-1 9 3 5-3 3 2 1-2-5 5-3 1-6-1 0 1-2 1-2-3-11 1-13-1-5 5-2-5-2 0-2 4-6 0-11-1-3 2-2-4 0 2-1 2-2 0 0 0-1 0-1-4-5 3-1-4-1 4-1-4-2 1-2 2-1-1 0-1-1 4-1-1 0-3-1-1-1 3-1-3-1 5-1-4-3 2-2-3-1 1-2 3-1-4-1 3-5-1-1-2-1 5-2-2 1 5 2-2 2 4 0-2 1 2 2-3 0 4 4-3 1 3 0-3 2 0 2 0 0-2 1 1 2 4 1 0 0-2 1-1 0 1 1-2 0 0 0 4 0-1 0-4 0 4 5 0 1-2 0 0 0 1 1-3 0 5 0-1 1-3 1 4 0-2 4 1 4-2 3 1 1-3 0 1 5 1 20 2 6-4 4 1 3 0 14 1 7 0 7 2 15 1-18 4-2 0-2 0-1-3-5 2 0 1-1-1-5 1-1 2-4-5-6 5-12-1-1-3-14 4 0-1-5 0-5-4-4 5-1-5-8 5-4-1-2-1-1 1 0-2-4-2-2 2 0 0-3 0-6 2 0 1-3-5-2 3-3 3 1 3 1 0 0-3 2 2 0 2 0-2 1 1 1 2 0 0 2-5 2 0 3 5 1-4 5 3 2-3 0 0 1 3 4-4 0 0 1 3 4-3 0 3 2 1 1-4 2 1 3 4 8 0 1-2 5-3 1 2 3 0 2 0 4-2 8 1 1 4 2-2 5 1 0-4 11 2 3 0 8 0 9-2 5 1 10 5-18 2-16 2-2-3-8 4-1-2-5 2-7-4-11 3-2-4-4 4-1-1-2-2-1 0-4 3-1-4-1 2-1-2-4 5-3-4-4-1-10 0 0 3-1-1-1-1-1 3-1-2 0-1-2 2 0-3-1 1-1 1-3 3 0-3-1 0-2-1-2 3-4 0 3 5 2 0 2-3 4 2 2-1 0 2 3-1 0 0 0-2 1 1 1 2 4 0 3-2 4-1 3 1 0 0 11 0 6 0 12 0 13 3 3-1 15 2 22-4 1 0-37 9-45-2-10-1-19 1" marker-start="url(#s)" marker-mid="url(#s)" marker-end="url(#s)"/>
<path d="M233 461l18-1 45 0 43 0-12 3-13 2-6-1-6 2-4 1-14-5-5 4-1-4-17 3-7 1 0-1-6 0-9 0-11 0-7 2-4 6 1-5 1 0 2 5 0-2 4 2 2 0 2-1 14-4 4 2 6-2 6 3 3 1 4-1 2-1 6 2 21-2 16 0 17 2 1-4 9 3 5 0-12 4-5 3-14-2-1 1-5 2-5-5-4 1-9 4-1-2-18 1-2-2 0 0-8-2-13 5 0-4-1 3-4 1 0-2-3 1 0-3-6 0-2 2-3 2-1-3-1 2-3 3 1 0 3 2 9 0 0-3 3 2 5 2 1-3 9 2 6-1 3 3 7-1 9-2 41 1 2 2 1-3 13 8-18-1-6-2-3-1-5 4-9-2-6 0-2 0-9-1-1 2-5 1-2-1-8-1-6 3-1-3-1-1-3 4-2-5-1 4 0-4-2 3-5-2 0 3-2-1-4-3-2 1-1 0-2 4-7-1-1 1 0-4 1 9 0-4 2 4 2-3 1 0 6 3 4 1 0-3 2 1 0 1 1-2 21 1 0 1 1-4 7 4 16-1 11 1 1-1 10-2 2-1 28 0 1 1 1 2 1-2-13 5-5 2-14 3-5 0-3-4-1 1-5-1 0 0 0 1-3 0-9-2-13 1-15 0-1 4-2 0-5-1-5-3 0 4-2-4-1 0-3 0-3-1 0 1-1-1-3 2-2 2-3-2-5 3-1 0-1 0 8 5 1-3 3 4 1-3 4-2 0 2 0 2 0-1 2-1 2 1 6-3 8 2 8-2 26 0 30 2 10 5-8 4-4-5-9 1-2 4-21-4-14-1-5 1 0 3-1-3-4 2-3-3-8 4-7-4-2 4-1 1-3 0-2-4-3-1-1 4-2 0-2-1 0-3-2 0-1 4-2-1 2 7 1-3 5 3 3-3 1 4 0 0 0-1 2 0 1-2 4 1 6 0 0 1 0-2 2 1 2 0 5 1 4 1 1-1 4-3 20-1 27 5 3-1 11-2 6 2 4 0 10-4-41 7-19 3-7 0-12-3-8 2-2-3-7 5-4-2-3 0-5-1-6 2-3-1-2-1-6 0 0 9 0-1 1-2 2-1 0 1 1 1 1 0 2-3 1 0 4 2 0-1 2 2 7-2 3 3 2-2 2-2 2 1 13 0 6 3 46 4-7 1-32 1-4-1-12 0-8-1-2 1-1 1-6-2-8-1-1 1 0 3-1 0-9-1-4 0-1 1 2 5 3-4 3 3 0 0 1-2 4 0 0 0 1 0 2 1 0-1 17-1 4 0 7 2 45-2 25 1 1-1-63 10-26 0-1 1-7-5-2 2-1-1-4-1-2 0 0 1-1 0-5 4 0-3-2 2 2 6 8-1 1-2 3-1 7 4 25-2-6 8-9-2" marker-start="url(#u)" marker-mid="url(#u)" marker-end="url(#u)"/>
<path d="M494 461l13-2 1 4-3 3-1-1 0 2-1-5 0 2-3 2-7-2-1-1-10 3-5 1-41-1-5 1-19-2-6-1-1 3-24-1 9 4 1 1 8 1 13 0 5 0 24 0 4-3 6-1 5 2 3 3 39-4 3 3 1-2 1 2 2 1 0 0 1-3 0 3 0-5 1 4 1 1 0-1 0 1 1-5 0 9-1 2 0-5-2 3-2-2-1 2 0-3-2 2 0 0-1 1-6-2-2 2-7-1-1-2-2 0-12 4-2 0-1-3-22-1-1 1-4 2-9 2-5-4-11 3-20-1-14 6 9 2 5-1 4-1 10 0 2 1 4-1 0-3 6 1 2 0 3 1 9-2 13 1 14 4 2-2 6-2 22 3 1-3 1 3 5-1 5 1 0-1 1 1 3-4 0 5 1-1-1 5 0 2-1-4-2-1-1 5-5 0 0-1-9-4-12 2-13 3-18 0-18-4-12 4-15-2-6 2-7-1-9-4-4 8 2-1 11 4 2 0 1-4 2 4 4-4 26 0 4 3 13 0 17-4 6 3 14 2 9 0 4-5 1 5 2-2 0-2 1 0 1 4 2 0 3-4 3 4 0-2 0 2 2-2 0 1 1-4 0 1 0 3 1-3 0-1 0 7-1 4-2-4-2 1 0 2 0 1-3-5 0 1-3 1-3 2-10-1-2 0-10-3-1 2-11 0-6-2-6 5-14-4-2-1-6 5-1-5-3 5-24-5-9 2-1 1-4-2-7 4 11 5 21 0 15-1 16 2 41-5 5 4 3-3 6 4 1-2 5 1 3-1 0 0 1-1 2 1 0-2 1 8 0 2-1-3 0-2-1 3-1-3-9 2 0 2 0 0-7-4-3 1-6-1-20 5-20-5-27 4-4-4-19 3-6 1 13 7 9-1 1 1 2-5 12 5 1 0 13-4 6 2 1 1 15 0 13-2 13 0 7 0 4 1 4-1 5 2 3-4 0 1 1 1 0 1 0 0 1-3 0 5 0-4 0 10-2-5-1 1-3 2-2 0-3 2-4-2-3-3-6 0-7 2-1 3-11-4-28-1-23 0-15 3-6-1 0 0-5 0-2-2 8 10 1 0 1 1 4-2 6-2 9 4 27-4 3 4 29-2 18 0 8 1 1-4 6 2 1 0 1-1-2 5-1 5-4-4-2 4-13-3-10 3-7 0-24 0-7-2-16-1-5-2-1 3-10-1 0-2-2 0-9 1-8 2-6-2-2 2 0 1 12 6 0-1 9-2 1-1 7 4 11 1 6 0 40-1 7-3 17-1 12 0 1 1 1 1 0 0 2 3 1-4 0 2 1-2 0 7-1 3-1 0-7 0-38-2-30-2-13 2-16-1-6-1-11 3 5 4 7 0 1-1 1 4 51-1 19-4 17 0 17 4 4 0 1-1-118 7" marker-start="url(#t)" marker-mid="url(#t)" marker-end="url(#t)"/>
<path d="M406 458l47 2 28 1 18-4 6 4 1-1 2 0 0 1 1 2-2 1-2-1-1 1-2 1-3-1 0 0-17 1-7-1-13 3-36-4-4 0-27-1-16 6 6 5 0-2 1 1 10 1 4-1 4-2 10 3 2-3 2-1 0 2 13-1 7 3 16-5 8 3 18 1 6 0 1 0 11 1 2 0 4-2 0-2 2 1 2-2 0 0 0 4 1 0 0-4 0 7 0 0 0 2-2 0 0-2-1 2-1-2-1 1-1 1-1-2 0 1-1-2-2 2 0 1-10-3-1 0-4 0-3 4-10-1-4 1-1-1-2 0-3-3-29 2 0 3-11-2-10-3 0 1-7 3-6-3-11 0-4 2 4 5 9-1 0-1 5 1 2 3 16-1 2 0 17 2 6-5 1 5 19-4 13 4 5-2 2 0 11 0 2-2 1 1 0-1 4 4 0-3 2 2 1 0 1 1 2-2-1 5-2-2 0 1-1 3-1-4-5 1 0 3-2-3-9 3-14-4-9 3-9 0-1-2-43 2-2 1-8-1-7-3-3 2-6 0-2 5 3-1 31 0 2 3 3 0 18 1 6 1 10 0 5-1 0 0 2-2 4 0 15 3 4-4 3-1 2 0 1 5 10-5 1 0 1 5 1 0 2-1 1-3 0 1 0-2 0 1 0 0 0 5-1 1 0 3-1-4 0 2-1 1-2-3-8 3-5-2-5 3-15-3-4 3-24-2-21 0-8 0-4-1-10 3-9-3-8 2-5-2 12 6 3-1 1 3 36-1 1-2 4 5 8-5 4 3 2 2 29 0 1-5 3 3 7-2 5 3 2-1 0 0 1 2 0 0 3-1 2 0 6 1 0-4 1 2 0-2 0 5-1 3 0 1-1-4 0 1-1 3-1-3-30 4-30-1-5 1-11-5-1 0-5 1-13-1-24 5-4-2-1-3 24 9 2 2 10-1 2-3 1 0 3 2 1 1 30-4 13 2 9 0 12 0 13 2 5-4 2 1 0 2 1 1 1-4-1 7-6 4 0-3-3-1-2 0-6 1-3 3-5-3-2-1-22 4-17 0-3-4-1 4-3-2-3 2-21-3-3 2-4-1-2 2-21-5-2 1 0-1 1 11 6-1 8-4 6 3 5 0 2-2 23 0 7 0 16-1 13 1 5 4 28-3 5-2 3 5-3 2-3-1-5 3-5 1-5 0-15-1-26 1-11-2-9 3-14-2-1-3-3 5-14-4-3 3-4-3-6 9 2-3 3 0 1 0 9 3 79-4 23 2 1 2 1-4 6 3 0-2 3 2 0 6-4-3-5 0-16 2-8-2-9 5-11-1-6-3-14 2-23-1-4-1-10 2-1-1-10 2-6-1 5 5 11 0 7 2 24-3 15 2 42 2 10-4 9 3 3-2 0 1-8 5-72 2-32-3" marker-start="url(#t)" marker-mid="url(#t)" marker-end="url(#t)"/>
<path d="M425 460l19 0 27 0 29 0 6 0 0-2 1-1 1 4 1 2-1 3 0 1-2 0 0-1-1-4 0 1-4 1-4 0-1 1-6-1-8-1-4 2-4 0-9 1-39-4-5 0-32 4-11 5 25-2 23 3 7-1 7 1 16-4 3 0 9 2 3-1 4 4 1-4 2-1 3 4 1-1 4 0 3-1 1-2 5 2 1 2 2 1 1-1 1-2 0 1 2 0 2 0 1-3 0 0 0 4 1-3 1 4 0 0 0 0 1 0 0 0 0 2-1 2-6-1-12-2-5 2-5 1-1 0-7 1-28 0-1-3-5 2-2 2-14-4-19 0-9 1-6-1 0 4-7 6 4-4 14 0 1-1 7 1 7 4 3-3 1 3 7-3 3 0 1 3 1-4 23 2 5-3 9 0 8 5 2-5 2 5 8-5 2 5 6-3 2 1 3 2 0-3 3 3 1-5 1 2 0-2 3 3 0-2 1 0 1 8-1 0-3 0-3 2 0-5 0 4-7-4-5 1-10 1-1 2-7 0-5-4-28 4-7-2-14-2-4 4-2-2-9 0-1 3-4-1-8 1-2-5-4 3-6 2 9 5 3-2 14 0 4 1 5 2 9-2 14-3 0 2 3 2 0 0 5-3 5 2 5-3 3 3 0 0 5-3 1 5 0-4 1 2 12 2 7-2 6-3 2 5 4-2 4 0 2-3 0 5 1-1 1-3 2-1 1 0 3 9-1 1-1 0-1-1-2 2-1-5 0 1-3 4-7-5 0 1-1 4-7-3-7 3-3 0-7 0-11-3-6-2-3 5-14 0-6-2-10-3-4 0-2 2-1-1-3 4-9-2-6-2-13 2 0 6 13-3 17 3 2-1 10 0 43 0 8 1 7 2 25-2 2 0 1-2 0-1-1 7-1-1-1 0-1 3 0-3 0 5-27 0 0-2-2 0-10-2-5-1 0 1-13 0-40 2-22 8 8 0 2-3 10 2 4 0 4-3 6-1 1 2 18 1 3 1 13-3 28 3 12 0 1-1 1-3 3 2 5-1 0 4 3-3 1 1 0-2 1 1-1 4-2 3-2-1-3-2-23 1-54 1-4 3-15-3-4-1-1 0-10 2-4-3 1 11 17-2 7 2 12-4 33 3 25 0 2-2 17 1 1-1 4-1 1 2 2 4-2 0-1 3-1 0-6-4-1 5-10-2-44-3-1 3-5 2-18 0-7-1-9 1 0-4-6-1-4 4 0-4-3 5-1-1-2-3-4 3-6 5 9-1 16 0 7 1 8 2 7-5 3 3 0-1 10-1 20-1 1 1 35 1 12 1 1 2 0-5 1 0 0 7-14 3-2-2-37-2-19 2-1-2-21 2-22-2-1 7 11-1 10 0 16 0 1 0 27 1 32 2 5 2 8-2 3 1 2-3-88 7 0-2" marker-start="url(#t)" marker-mid="url(#t)" marker-end="url(#t)"/>
<path d="M494 458l11 2 3 3-2 4 0-5 0 5-4-1-7-4-6 5-11-1-2-3-2 4-9-5 0 5 0-5-23 3-17-2-15 2-23 1-8-1 36 8 1-2 3-1 3 3 2 0 4-5 5 4 1-4 11 3 1 2 0-3 3-1 40 2 7 0 2-1 0-1 4 2 1-1 0 0 3 1 2 0 1-3-1 7 0 1 0-1-2 3 0-1 0-1 0-2-1 3 0 1-1 0 0-2-24 3-7-1-4 0-1-4-8 3-20 2-11 0-7 0-5-1-19 0 0-4-16 2 12 4 2 5 0-5 2 0 2 1 14 4 14-3 10-2 20 5 6-4 6 4 7-2 1 2 10 0 1-1 1 0 4-1 8-3 1 0 2 0 0 2 1 1 1 2 0-2 1-2 0 1 0 0 0 3 0-2 0 1-2 7-5-3-1-2-7 5-10-3-16-2-4 1-19 3-11-4-3 5-7 0-11 0 0 0-1-1-7-4-1 4-10-1-6 0-2-2-2 2-4 1 5 2 6 0 3 1 4-1 14 4 4-4 10 5 18-4 6 0 7 1 19 0 12-1 1-1 12 0 5 4 2 0 1-2-1 8-1 0-1-2-1 2-2-1-4 2-5-5 0 2-23 2-15 0-10-2-4 1-2 1-1-3-1 2-10-1-8 0-33 1-7 2 2 3 3-2 4 2 12-1 0 4 7 0 2-1 6-3 1 2 4-3 0 3 9 1 7-3 6-1 29 0 18 0 1 2 4 2 8 0 3 0 1-4 0 3 1 0 0 2 0-1 1 0 1-2-3 7 0-1 0-2-2 2 0-2-1 1-1 0-2 0-5 3-5 1-3-1-7-2-18-1-4 3-15-4-6 5-4-4-4 0-2 3-7 1-3-5 0 5-12-2-13 1-3-3 0 0-3 2-3-1-7 3 6 4 8 1 3 0 17-1 4 1 14-4 7 4 2 1 10-1 17 0 4 1 12 0 13-5 9 5 5-1 1 5 0-3 0 5-1 0-3-1-21 0-17 0-20-4 0 5-7-1 0 1-10-1-1 0 0-4-7 3-10-2-3-1-1 1-6 4-12-4-3 4-5 0-2-4 7 6 20-1 7 5 2-2 8 1 5-2 15-2 1 2 16 3 14-3 5-1 6 3 2 1 4-5 9 0 2 1 0 3 4 0 1-3 1 7-2-1 0 0 0 0-6 0-12 1-11-1-5 3-9-4-9 5-4-2-29-3-11 3-5-1-17-1-6-1 4 11 1-2 1 0 4-1 3-2 5 5 22-5 1 0 4 5 12-5 2 2 27 3 23-3 4 1 11 2 2-3 0 9-1-2-10-1-10 0-22-1-1-1-14 0-14 1-24-1-17 3-11 6 0-1 2 2 7 0 1-4 32 0 56 3 2 1 7-4 15 1 1 9-15-1-45-3" marker-start="url(#t)" marker-mid="url(#t)" marker-end="url(#t)"/>
<path d="M504 455l-11 0-7 0-1 0-97 4 9 0 7 0 23-3 3 5 2-2 6-3 4 3 15-2 3-1 3 4 23-1 5-3 6 4 2-1 0-3 3 5 3-1 0-1 1 0 0 0 0 1 2-4 0 5 0-4 1 3 0 4 0 0-1-1 0 0 0 1 0 3-1-1 0-1 0-2 0 3 0-4-2 1-2 4-2-5 0 0 0 1 0 3-1 0-7-3-2 1-2 3-1 0-1 0 0 0-7-3-6 2-2 0-1 1-8-2 0-3-9 2-1 2-5-4-1 2 0 1-3-2-1 1-1-2-5 4-5-1-11 2-1 0-2-5 0 5-2-5-2 5-2 0-3-5-7 4-18-2 3 9 1-2 0 2 8-1 0-3 18-1 1 1 2 1 0 0 5-1 1 1 3-1 1 1 5-2 1 2 2 1 0 2 1 0 4-2 1-1 2 2 1 0 4 1 1-1 1-4 1 4 3-1 1 2 4-1 1 1 2-5 0 1 7 4 2-5 1 5 7-2 7-3 2 3 0 0 0 1 1-4 0 3 2 2 1-3 0 1 2-3 2 2 0-2 1 0 2 0 1 3 2 2 2-2 1 2 1-5 0 2 0-1 1-1 0 3 0 2 0 0 1-2 0 2 0-2 0 0 1-2 0 0 0 7 0-1-1-1 0 0 0 1-1-1 0 5 0-2 0-2 0 0-1 1 0 2-1 1 0-3 0 1-2 2-3-4-2 3 0-2 0-2-2 5-3-5-4 2-1 3-3-3 0 2 0-1-1 0-4-2-5-1-7 1-1 3-15-1-4 1-3-3-1-1 0 4-5-3-15 1 0-2-10 2-6 3-3-1-1-4-2 3-1 0-2 0-5 0 0-2-2-1 0 0-1 1 0 3-9 0 1 5 14-3 4 0 1 2 2-1 1 0 1 4 3-4 3-1 3 2 0 0 1-1 4 3 3-1 0 2 1-2 0-1 4 1 0-1 0-1 1 2 13 0 0-3 3 4 0-3 5 4 1-1 5-2 2 2 2 1 3 0 2-1 0-1 0 0 5-1 0 0 3 3 2-5 1 3 1-2 3 2 0 0 1-2 0 2 6 2 3-3 6-2 1 1 0 1 5 1 0 1 1 1 1-5 1 1 0 2 1 0 2-2 0-1 0 1 0 4 1-5 0 11-1-1-1-1 0 2-1 0 0-3 0 0-1 3 0-3 0 1 0-2-2 4-1-4-1 0-1 1 0 1-3-2 0 2-1-2 0 1-3-2 0 4-10 0-12 0 0-4-2 3-5-2-2 2-1-1-1-2-11 0-2 0-8 0-5 3-2-1-3 3-5-4-3 2-1-1-1-2-2 4-2 0-3 0-2-1-3 2-1-3-2-2-5 1-6 1-4 2 0 0 0-4-5 3-1-2-1 7 1-1 2 3 3 1 0-5 0 2 5-1 5 3 3-3 1 4 8-5 1 2 1 3 2-2 1-1 0-2 0 2 8 2 1-1 2-1 1 3 2 0 2-3 0 3 1 0 1-2 0-2 12 4 0-3 2 3 5-5 3 5 1-5 3 5 8-2 9 2 3-5 4 2 0 3 6-2 4-3 1 0 1 1 1 4 3 0 0-1 3 1 1-4 1 3 1-3 0 3 1-1 1 2 1-3 0-2 0 2 0 8-1-4-1 0 0 1 0 0-2 1-2 3-5-5-2 5-1-3-1 1-2-3-2 0-1 3-3-1-2 3-7-2-3-1-4 2-1-1-7-1-4 0-4-2-1 4-2-1-12-1-3 3-2-4-5 2 0 1-2 1-1-4 0 2-3-1-1 3-5-1-1-4-2 0 0 0-4 4-3 1-4-2-2 0-2 0-1-3-3 2-4 3-2 0-2-1-1 1-1-3-1-1-2 3-4 7 6-4 4 1 3 2 0 0 0 0 1-2 0-1 4 2 3-2 3-1 5 1 4 2 1-3 0 5 4 0 2-3 2 0 3 1 3-3 2 3 3-1 3 3 1 0 1-4 2 1 6 1 1 2 2-1 10-2 7 3 3-2 1 1 5-1 9-1 3 0 8 2 1-2 0 3 5-5 0 3 7 0 0 0 0 1 1 0 1-1 0 3-1 1-3-1-1 3 0 1-1 0-1-1-2 1-8 1-4-5 0 5-4-5-4 5 0 0-2 0-10 0-1-2-6-3-2 1-3 3-5-1-4 2-15-5 0 1-4-1 0 1-9 2-5 0-1 1-1-1-1 1-6 1-1-2-5 2-2-2-1 1-1 1-2-3-3-2-1 0-9 5 1 6 4-3 2-1 1 2 3 0 3-3 3 1 1 0 3-1 0 3 2 1 0 0 0 1 1-1 1-3 0 2 1-2 0 3 1-4 2 5 1-3 6 0 5 2 3 0 0-2 0-1 4 0 5 4 3-3 11 2 23-4 2 2 2 2 4-1 9-2 5 3 4 0 3 0 1-3 3 3 2 1 1-1 2 0 1-1 1-2 0 7 0 1-2 1-2-1 0 1-1 0-1-2-21-2-2 1-12 3-1-1-8-3-5 2-13-2-6 2-10-1-1 1-1 0 0 1-3 1 0 1-2-2 0 0-1-1-1 3 0-2-2-3 0 5-1-4 0 0 0 1-3 1 0-2 0 0 0 1-1 3-1-2-1-3-1 1-2 3 0 1-2-2-1-2 0 3-1 1-1-5 0 0 0 3-1-1 0-1 0 2-1 1-4-3-3-1 0 4-1-3-9 1-2 3-5 6 6-4 0 3 2-1 1-3 1 2 2 1 2-1 4-2 3 0 1 1 1 0 0 2 0 0 0-1 0 1 4-2 1 3 1 1 3 0 0-5 3 0 0 5 1-2 1-2 2 1 0 0 1-2 1 2 1 0 2-1 1 1 0 2 4-1 1 1 1-2 6 3 1-3 0 1 0-1 0 0 3 3 1-5 3 0 1 1 12 4 1-5 3 4 2 0 4-4 6 3 1-3 1 0 5 4 5-3 4 0 2 4 3-3 2 0 1-1 6 1 9-1 1 0 3 6-1-1-1 3-5-2 0 1-5 1-2-3-2 0-5 1-2 0-6-1-45 4 0 1-10-5 0 1-6 2-1 1-1-4 0 4 0-1-3 2 0-1-1 1-1-5-1 4 0-1-1 0-3-2-1 2-3 2 0-1-1 0 0 0-1-3-2 1 0-2-5 5-1-1-1 0 0-2-1 0-1-2 0 5-1-4-3 1 0 1-2 2-1-1-3-3-2 6 0 4 4-3 0-1 2 2 2-2 0 0 1 2 1 0 0-1 1 2 1 1 0-1 3-4 0 5 1-1 1-4 4 1 4 2 4 2 0-4 7 2 1-2 3 4 2 0 2-5 7 0 0 5 4-3 3-2 0 2 8 2 5 0 0-1 14 1 5-3 5-1 6 0 0 5 2-4 2 3 0-3 10 4 8-4 2-1 2 2 0-2 1 0 1 0 1 2-4 8-1-1-35-2-11 1 0 3-2-2-17-3-7 5-7-4-4 1 0 2-4-4-3 1-5 0 0 2-1 1 0 1-1-2-1-2-1 2-2 2-1 0-1-5-2 0-5 5-1-3 0 1-1-1-6-1-1 0 0 0-1 4 0-1-3 1-3-4 0 0 6 8 1-1 1-2 6 0 0 5 11-2 4-2 4 2 2-2 7-1 4 0 3 5 0 0 6-2 8 0 2 1 61-4 1 0-79 9-7-2-3 2-8-1-8 0-5-2-5 0-1 0-3 2" marker-start="url(#s)" marker-mid="url(#s)" marker-end="url(#s)"/>
<path d="M395 461l4-2 5 1 7 1 8-3 10 3 11-2 19 2 0-3 6 2 2 1 10 0 4 0 1-5 5 2 0 1 3 2 0 0 8-3 1-1 1 1 1 1 0-2 2 1 1 1 2-3 1 4 1-1 0 0 0 1 1-3 0 0 0 7-1 1 0 2-1-3-1 0-1-2-2 4 0-1-5-1-1 1-2 1-1-2-1 3-5-4-1 0 0 0-3 2-8-3-3 0-1 2-10 2-4-1-6 2-1-3-7 3 0-4-3-1-10 2-4 0-10 1-2-1-1 3-2-4-6 2 0 0-3-1-1 0-2 1 0 0-2 1-19 6 0 0 3-1 4-2 2 0 4 0 5 0 1 1 4 2 7-1 3 1 0 0 2-4 0 4 2 1 1-5 3 5 6 0 0-3 7-1 2 4 4-2 6-3 0 5 1-3 6 0 5 1 5-3 1 0 5 3 1-3 4 1 3-1 0 3 1-1 3 3 1-1 9-1 1 1 0-3 2 3 5-2 1 2 1-4 0 3 1-2 1 4 0-3 2 2 0 1 0 0 1 0 1-5 1 3 1-2 0 0 0 3 0 1 1 4-1 1 0 0 0 0-1 0-1-3 0-1-1 4-1-2 0 3-1 0-1-2 0 2-3-4 0-1-8 2-2 3-3-1-4-3-2 2-1-3-3 3-3-3 0 1-1 3 0-2-1 0 0 1-2-1-6-2-5 4-4-2-3-2-18 4-6 0-2-3 0 1-2-1-2 3 0-2-1 1-3 1-1-1-1 0-2-1-1 3-2-2-3-1 0 1-2-3-2 4-3 0-1 0-1-3-3 4 0-1-1 1-2-2-6-2-2 0-5 8 4-1 3 3 3-1 0 1 10 0 1-5 1 2 3 1 1-1 2-1 0 1 0 2 6-4 1 2 10 1 1-3 3 0 0 5 1 0 1-4 6 2 1-3 1 4 1-3 0 1 5 3 13-1 6 1 3-4 1-1 5 5 6-4 1 4 4-2 6-1 7 0 0-1 5-1 2 1 0 0 1 0 2 4 0-4 0-1 0 0 0 1 0 4 1-1 0-2 0 0 0-2 1 0 0 0 1 2 0 0 0 6-2-2 0 1-1 0 0-1-1 2-1 2-1-4 0 2-1-2-2 0-2 4 0-4-1 1-1-1-2 2-6-2 0 1-5-1-3 2-8 1-5 0-5 2 0 0-5-4-1 0-6 1-3 0 0 2-3-2-5-1-1 0-2 2-2 0-2 1-3-2-2 1-6 0 0 1-2-4-3 4-4-4-6 4-4 0-1-4 0 5-1-3-3-1-4 1-2 3-6-1 0-2 0 1-3-3 1 7 2 0 2 0 4 2 4 0 3-1 0 2 1 0 8 1 5-3 5 2 1-3 5 4 3 0 1-3 2-2 2 4 0-3 14 0 2 4 4 0 2-3 13 0 10-1 2 0 1 2 1 1 2-1 1-3 5 0 5 5 3-5 0 4 8 0 1-3 0 3 0 1 1-5 0 5 1 0 0-5 0 1 0 2 1-3 0 11 0 0 0 0-2-5-2 2-1-2-1 2-1 0-1 2-5 0-3 0-8-2-8-1-1 1-4-1-6-1-1 1-3 4-5-2-4 0 0-1-6-1-5-1-5 3-3 1-1 1-6-1-3 0 0-4-4 5-4 0 0-4-3 3 0 1-1-5-1 0-2 1 0 3-2-3-3 3-2-4 0 5-4-2-4 0-1-2 0-1-5 5-3 0-12 5 4-1 3-1 0-2 1 1 2 3 7 0 0-3 1 4 0-3 2 3 5-5 0 0 1 1 3-1 5 3 0-1 1 0 2 3 1-3 1 0 2 3 1-4 2 1 1-1 1 2 4-1 3 2 2-1 6 1 3-4 6 4 2-4 1 0 1 2 14 1 0-1 7 0 1 1 11 0 2-1 13-2 3 5 3-5 4 5 1-3 1 2 1 1 0-5 1 0 0 2 0-1-1 9-3-1-1-3 0 2 0 3-2-5 0 1-6 4-1-3 0 2-1-4-1 3-1 0-1-2-13-1-4 1-2 4-4-2-1-3-3 4-1 0-5 1-3 0-8 0-6-4-1 0-1 4-4-1-1-4-1 5-2-1-2-2-2-2-2 2-1-1-3 4-3-2 0 1-1-4-1 0-7 5 0-5-4 3 0-1 0 1-1-2-4 4-1 0-2-3-2 0-3 0-2-1 0 2-4-1-1-2 0 5-2-5 0 3-4 2-2 3 1-2 4 5 1-3 0-1 1 1 0 3 1 0 1-5 1 5 3-2 0 2 1-1 0 1 2-3 3 2 2 1 1 0 1-4 1 0 7-1 3 0 0 4 3-4 2 2 2-1 1 1 6 3 1-5 1 3 5-2 2 0 0 2 5-1 5 2 34-4 16 4 4 0 3 1 2-3 1 2 1-1 0-2 1 3 1-2 2-2 0 3 1 4-3 1-1-2 0 1-7 3-10 1-3-2-3 0-10 1-8 0-2 1-3-4-4 2 0-1 0 3-3-3-2 0-12 3-3-1-7-2 0 1-4 0-3 1 0-4-2 3-1-1-2 2-3-1-1 0-1 0 0-1-1 2 0-1-2-3-2 5-1-1-1-4-1 3-2-3-1 2 0-1-1 0-1 1 0 3-5-3 0-2-4 3-1-2-1 4-1-3 0 2-2-3-1 4-7-3-1 3-4-2 7 6 3 2 0-4 0 2 1 0 2 0 0 1 1 1 2-3 2 1 1-3 2 3 1 2 0-4 2 4 1-3 10-1 0 2 4 2 3 0 0-4 0 4 3-2 2-2 3 1 1 1 4 0 3 1 1-3 2 1 1 1 2-3 3 2 3 2 4-4 5 3 10 2 3-3 6 1 5-2 2-1 4 3 6 1 7 0 6 0 0-3 2 0 1 2 2-2 1 2 0 0 1-2 0 0 0 7 0 1-2-1-2 2-1 0-2 1-3-1-2-3-1 4-6-5 0 5-9-2-7 0-5 0-3 0-7 0-5-1-1 2-2-3-1 2-1 2-2-5-5 3-10 0 0 0-5-3-1 2-1-1-1 0-3 0 0 1-1 0-1-1 0 0-1 4-1-5-1 2-3 2-1 0-1-2 0 1-1-3-4 2-5 3-1-5 0 5-2-1 0 1-1-3 0 2-2 1 0-4 0 0 0 2 0-3-4 5-2 0-1-4-4 4-2-5-1 5 0-4-1 0 0-1 0 10 1-2 1 0 1-2 2 0 0 0 1 5 1-1 1-4 6 5 0-4 3 3 0-4 0 1 1 3 4-1 1-2 0 4 2-5 0 4 3-2 3 3 0-5 5 2 4 2 4 1 0-1 1 1 2 0 5-5 1 5 1-5 9 0 2 1 9 1 26 1 3 2 0-3 3 0 5-2 1 2 3 2 11-3 1-1 3 3 0 0 1 1-1 6-4-1-3-2-4 2-41-3-13 1-3 1 0-1-4-1-9 5-3-3-1 1-2 1-1 0-6-3-1-1-5 3-2 0-1 2-2-3 0-1-1 2-5-3 0 3-1 2-2-2-3 1-1-4-1 4-3-4-3 3-1-1-1 1-1 2-1-2-2 2-2-5 5 7 1-1 3 2 1 3 0-4 1 1 8 0 3 3 1-4 3 2 0 2 3-4 10 1 1 0 5 2 0 1 6-4 13-1 4 4 7 0 0 0 6-3 11 4 21-3-23 4-50 2-10 1-10-2-4 3 0-2-9-1-7 6 20-1" marker-start="url(#s)" marker-mid="url(#s)" marker-end="url(#s)"/>
<path d="M508 455l-64 0-58 5 3-1 6-1 2 3 13-2 7 1 5-2 3 2 3-3 3 0 3 1 9 1 5 0 1-1 7 0 1 1 13-1 3 0 1 2 0 1 19-2 0 2 3-5 2 5 3-5 3 0 1 5 0-2 0 2 1-4 0 3 1 0 0 1 0-1 0 0 0 1 1 0 0 0 1 0 0 2-1 4 0 0 0-4 0 0-1 2-1 1-2-3 0-1 0 0 0 0-2 3-4 0-2 1-1 0-2 1-1-1 0 1-1-2-2 1-1 1-2-4-2 2-2-3 0 3-7 1-1 1-7-4-2 2-2 1-3 1 0-2-1 0-12 1-5-1 0-3-1 2-2-1-1 2-1 1-4-3-1 1-3-1-7 2-5-2-2 4-12-4 0 3-2-4-10 3-3 1 0 1-3-1-4-4-2 8 2-1 3 1 1-1 5 4 2 0 2-5 2 1 4 0 2 2 4 2 0-5 0 4 7 0 8-3 4 1 3 2 7-1 3 2 4 0 3-3 9-2 1 0 0 1 3 3 5 0 7-3 1 2 6 0 2-2 6 2 1 1 4-1 5 2 1-3 3 0 2 0 1 2 3 1 0-3 0 3 1-3 0 3 0-2 0-2 0 1 1 1 1 1 0-4 0 1 1-1 0 1-1 9 0-2 0-1 0-1 0 4-1-2 0 3 0-4 0 1-1 0 0-2 0 1 0 2 0-2-2-1-1 3-1-1-1 3 0-3-1-1-3-1 0 5-1-3-4-2-1 2 0-1-6 0-2 0-2-1-1 4-5-4-1 1 0 3 0 1-3-5-1 1-9 3-1-2-1 2-6-2 0-2-9 4-3-4-1 4-5-2-3 3-1-2-1-3 0 4-2-1-3-2 0 1-3 2-2-3-7 2-5 0-2 2 0-2-3-1-5 3-2-2-1-1-5 1-1-1 0-2-8 5-3 3 7 1 4 0 2 1 6 1 3-4 5 4 2-5 1 0 0 5 2-5 0 5 1-1 0-1 4-2 2 1 7 2 4-2 2 2 1-2 2 1 2 2 4 0 2-4 2 2 5-1 2-2 1 2 6 2 3 0 1-3 5 2 0-1 4 3 7-4 0 3 6-4 9 1 1 3 1-3 0-1 7 3 2-2 0-1 1 0 0 5 0-3 0 0 1 2 1 0 1-4 0 4 1-3 0 4 1 3 0 1-1-3 0 0 0 5 0-5-2 3-1-2 0 1-2 3-1-5-4 5-1-1-11-4-6 1-11 1 0-2-1 5 0-4-2 3-7 1-4-1-3-1-9-2-1 2-1-2-5 3-6-2 0-1-2 2-2-3 0 3-2-2-1 3-2-2-1-1-1 1-1-1-1 0-3 4-9 0 0-5 0 0-1 2 0-2-2 2-2 1-3 1-1-2-1 1-2-3-1 3-1-1-10 3-2 5 3-2 2 2 4-2 1-2 1 2 5 2 0-4 1 0 0 3 5 0 9 1 1 0 1 1 5-1 2-3 0-1 3 3 1-2 2 0 5 2 3-2 9 1 4 1 3-2 4 3 0-3 14 4 3-3 1 2 8 1 5-1 3-1 6 2 3 0 0-1 0-3 2 3 3-2 3-2 1 4 2 0 0-1 1 1 0 0 1-3-1 8 0 1 0-2 0 3-1 0 0-4-3 4 0-1-2 0 0-2-2-1 0 0-1 1-1-1-1 2 0 2-4-1-1-2-15-2-10 1-1 1-3 2-6-1-5-2-4 0-3 1-3 2-2-1-5 2-3-3-4-1-5 3-3 0 0-1-1-1 0 0-2-1-2 3-1-1 0-1-1-1-1 1-1 3-5 0-6-1-1-1-1-3-1 0-3 0-2 3-7 2-1-1-1 1-5-4-1 3-1 7 7-3 2-2 2 3 3-1 5 2 1 0 2-1 3-3 1 3 0-1 1 1 1 0 2 2 9-4 2 1 2 1 2 0 4-2 3 4 1-4 0 0 3-1 2 1 9 4 1-4 0-1 1 0 6 0 0 4 7 0 21-2 2 0 1 1 7 1 4-1 0-3 3 5 9 0 1-4 0 0 1 2 0-2 1 5 0 5-1-5 0 3-1-2-2-1 0 0-6 4 0-3-1 4-4-5-1 0-4 5-7-5-3 3-3 2-12 0-8-4-3 2-12 1-1-2-2-2-8 4-10-2-4-2 0 3-3 0-2 2-3-4-2 4-2-1-1-2-1-1 0-1-1 4-2 1-1-5-1 5 0-2 0-1-2-2 0 5-7-5-1 2-5-1-1-1 0 5-2 5 5-2 1 2 0 1 1-3 1 3 1-2 3-1 0 0 2 1 0-2 0 3 1 1 1-3 1-1 1-1 0 2 3 2 0 0 3-4 0 4 2 0 3-4 0 2 1 2 0-1 1 0 0 2 3-2 0-3 2 5 1-3 14 1 2 1 2-4 0 0 1 2 5 2 12 0 5 0 4 1 11 0 12 0 0 0 7-2 1 1 0-1 2 2 6-3 2-1 4 3 1 1 1-2 1 1 0-3 0 2 1 7-2-4-1 1-2 2 0 1-1 0-5-1-9 2-1-5-9 0-2 5-1 0-2 0-8-3-2 2-4-4-19 5-3-5 0 1-1 1 0 0 0 0-4 3-5-2 0-2-1 2-4 0-1 0 0-3 0 4-3-3-4 3-1-2-2-2-1 0 0 3-2-1-1 0 0 0-5 2 0-3-1 1-1-2 0 5-1 0-5 0-1-4 0 0-3 1-1 2-3-1-2 1-1 0-4-4-1 0-3 11 2-1 0-4 3 1 0 1 1 2 0 1 1 0 0-2 1 1 4-3 0 3 1-2 1 2 1 0 1-2 0 1 1 2 2 0 2-1 3 1 2-2 1-2 2 2 3-2 1-1 5 4 5 1 6 0 0-3 6 1 0 1 2 0 1 0 7 1 2-2 2-1 9-1 5 0 5 0 19 3 0-1 1 2 7-2 1-1 3 0 2 0 0 3 1-5 1 2 3-1 3 1 1-2 1 8 0 3-5-2-1-3-1 2 0 2-5-2-4 0-4 0 0 1-1-2-7 4-1-3-28 1-4 2 0-5-4 1-4 0-2 3-2 1 0-3-1 0-2 1 0 2 0-1-4-1-3-2 0 2-2 0-2 0-3 0-1 1-1-2-2-2-3 4-1 0-2-1-1-3 0 3-6 2 0-2-2 0-4-1 0 1 0 0-1-1-2 0-1-2-5 1-2 1-5 3-2-4 1 10 1-2 2 1 1 0 0-1 0-1 0 2 4-3 2 4 1-2 3-1 3 3 5-5 1 5 2 0 1-3 1 3 3-3 11 0 3 0 4 0 2 0 2-1 3-1 4 5 1-1 5-1 17 1 2-2 0-1 1 2 5 2 8-5 3 2 2 2 11-1 7 0 4-1 1 2 5-4-3 10-13-3-17 3-5-4-3 3-17 0-1 2-10-5-2 0-8 2-2-1-2 2-4-2-1 4-2-5-6 5-4 0-5-1 0-3-3 3-1-1 0-1-3-1-3 1-1 0-3-2-1 2-3-2-3 2-1 0 0 0-1 0-3 4 1 5 3 0 1-3 0 3 2-3 0-2 1 0 1 1 0 1 5 0 2 0 0-2 1 3 3 0 3-3 3 3 13-3 7 3 7-3 21 2 0 2 44 0 5 1 9-3-31 4-2 1-15 0-3 3-30-4-2 1-8-1-12 2-2-1 0-1-1 0-2 1-2 0-6-1-16 5" marker-start="url(#s)" marker-mid="url(#s)" marker-end="url(#s)"/>
<path d="M507 454l0 1-108 4 9 0 13-2 2 4 8-1 5-3 13 1 1 3 3 0 18 0 5-1 4-4 4 1 7 0 4 0 1 1 1 3 2 0 0-1 2-2 1-1 0 3 0-1 1 0 1 2 1-5 1 2 0-2 1 2 0-2 1 1 0 4 1-5 0 2 0-2 0 10 0-4 0 2-1-2 0 5-1-4 0 1 0 2 0-3-1 3-1-1-1 0 0-2-5 0-1 0-2 1-2-2-2 5 0-5 0 1-4 1-3 3-7-4 0 2-6-1 0 1-4-2-7 4-4-1-4 0-9-1-6 2-1-5-2 5 0-3 0 3-3-5-6 2-1 2-2-1-1-2-6 2-4 1 0-2-4 2-1-4-3 1-5-1-2 2-9 1 0-3-2 2-2 8 1-1 13 0 6-2 6 4 0-2 0 1 3 0 4-2 5-1 4 4 1 0 2-2 1 1 2-3 2 0 4 4 0-3 3 0 8 0 4-1 2 0 3 1 3 0 2-2 0 0 1 0 6 0 8 2 5 2 1-4 4 1 1 2 3 0 1 0 4-1 0-2 4 0 0 5 1-1 0 1 0-5 1 2 0 2 3 0 0-3 0-1 1 2 0 0 0-1 1 1 1 3-1 2 0-1-1 0 0 2-1-2-1 1 0 0 0 2-1-3 0 1-1 0-2 3 0 1-6 0-1-4 0 3-1-2-1 2 0-4-1 4-8 0-1-3 0-1-5 3-2-2-1 4 0-5-6 5-1-4-1 3-3 0-3-2-1-1-1-1-9 0-4 4-6-4-2 5-2-1-5-3-5 4-8-4 0 2-1-2-1 3-2-2 0 2-3-3 0 0-5 0-1 0-1 3-1-2-1 0-1 3 0-1-2-3-2 4-6-3-5-2-3 5-2-2 2 5 1 0 0 2 0-3 1 0 1 1 2-2 3 5 5-4 12 1 1 2 0-2 3-1 2-1 1 5 3-4 1 4 1-2 3 2 2-5 3 1 5 0 6 2 0-3 4 5 3-2 3-3 2 0 4 2 2-2 4 0 5 1 6 3 5-1 3 0 1-2 1 1 1-1 0 2 6-3 1 4 8-1 2-2 2 2 1-3 0 3 0-1 0 0 1-2 0 3 2-1 1 2 2 0 0 0 0 0 1 4-1 1 0-3-1 3 0-3 0 4-1-4-1 0-2 1-1 0-1-1-1 2 0-1 0 2-2 1-2-3-2 3-1-4-5 3-1-3 0 3-15 0-1 0-1-1-2-2-2 5 0-1-1-2-11 1-1-1-3 1-5-3-2 4 0 0-2-2-4-2-2 0-1 3 0 1-1 0-1-2-1-1-1 1-1 1-3 1-3-1 0-3-1 4-7 1-3-5-3 2-4 3-1-5-1 0-4 2-3 3 0 0-1-3 0 3-1 0-1-3-1 3-1-3-1 0-7 1-3 1 0-3-2 4 0 4 4 2 2-5 2 4 5 1 5-2 1-1 4 3 6-5 0 0 2 3 7 1 2-4 2 4 3-1 1 0 6-3 11 0 1 4 2-1 14-2 5 0 19 0 1 3 4-4 10 1 1 4 3-1 1-2 1 0 1 0 0-2 2 4 0-3 1 2 0 1 1-4 0 4 0 0 1-4-1 9-1 1-1-3 0 3 0-4 0 0 0 0-1 2-2 2-1 1-5-2-1 1 0-2-2-1-7-1-3 1 0 4-1-2-5-2-18-1-1 1-3 3-16 0-1-2-11 0-3-2-1 3-7-1-2-2-1 4-3 0-4-2-2 2-4-2-5-2-2 1 0 1 0 1-2 2-9-3-5 3-4 4 3-1 2 2 7 1 0-3 1 0 3-2 1 3 2 1 2 1 0-1 4-2 2 2 2 0 2-1 2-3 1 1 0-1 0 0 2 2 5 1 6 0 0 0 0-2 3 1 7 1 4 2 1 0 2-5 3 1 3 0 1-1 1 4 8-2 0-2 14 1 4 2 9-3 4 4 0 0 6 0 3-1 6-3 1 1 0 2 1-2 1 0 1 0 1-1 0 7 0 3 0-1-2-1-4 2-1-1-9-2-6 1 0 3-6-2-7-1-4 1-2 1-2-1-15-2-8-1-2 3-1 1-1-3-2 3-5-4-3 3-1-1-3 2-1 0 0-1-1 0-1-1-2-2 0 4-4-2-1 2-3-1-4 2-2-1-1 1-1-5-1 1-1 3-3-2-1-2-1 3-1 0 0-1-2 1-1-1-1 0 0 2 0-1-1 1 0-3-3 4-2-2-2 1-3-1 2 3 0 5 1-4 8 1 2 3 0 0 1-5 1 4 2-2 1 0 1 1 6 2 3-5 1 3 1 1 2 0 4-3 1 3 1 0 1 1 1-2 3-1 1 3 8-3 3 2 2-2 1 3 1 0 11-2 20 1 2-3 2 2 4 1 1-1 4-2 5 1 1 0 1 2 0 0 9 1 0-3 2 1 0-3 0 2 2-2 3 4 0 1 1-1 1 0 2-4 1 1-1 9-2-3-1 4-4-4-2 4-8-2-21-2-2 1-2 3-2-2-7-1-1 1-3-3-1 0-7 3 0 1-1-4-3 3-5-3-2 0-4 3-3-2-8-1 0 4 0-2 0-1-1 1-1-1-1 4-1-4 0-1-2 2 0 2-7-1-4 1 0-1-1-1-2 0-2 0 0 2 0 0-1 0 0-4-1 4-2-3 0 1-4 0-1 3-2-2-2-1 0-2-1 4-11-4 5 10 2-1 1-1 2 3 3 0 1-4 0 4 0-3 1 2 1 1 0-5 5 2 1 3 2-2 0 0 1 0 0-3 12 0 1 4 3-1 1 2 1-1 0-4 3 1 4 0 1 2 2-1 4 1 4-1 7-1 1 0 5 3 2-4 3 5 6-5 16 2 9 3 1-5 5 5 6-3 5-2 0 3 1 1 3-3 1 3 1-4 0 3 2-3 1 3 1 3 0 1-2-1-2 2 0 3-1-3-3 1-3 0-2 0-2 2-2-4-1 4-2-4-5-1-19 3-8-3-2 3-5-1-2 0-2 0-6 1-3-2-2 3-3-1-4 1-2-2 0 3 0-3-1-1 0 1-8 3-4-2-1-3-2 1-4 2-2 1-3-3 0-1 0 4-4-4-6 5-1-1-1 0-3-4-2 5-5 5 0-4 1 3 3 0 3 1 1-4 2 2 2 1 3-1 1 2 0 0 0-4 0 1 2 4 0-1 0-2 1-2 0 4 2-3 1-1 2 1 4-1 1 5 1-4 3 4 0-3 2-2 1 0 3 0 3 2 1 2 2 1 1-1 0-3 3 3 9 0 7 1 1-5 2 1 0-1 1 1 16 4 4-3 2 3 8-3 8 2 5-2 0-1 2 0 3 4 3 0 2 0 1-4 0 4 2-4 0 0 4 4 1 0 0-3-5 6-1-2 0 5-18-2-9 2-8-5-12 3-4 0-1 1-7-1-9-2-8 4 0 0 0-3-1 3-3-2-1-1 0 0-1 0-1 3-1-4-1 0-1 1-4-1-2-1-2 1-1 4-2-5-2 2 0 3-2-4-2 2-8-1-8-2-1 3-3-1-1-1-1 0 1 5 2 5 7 0 4-3 7 0 1 2 0 0 5-2 4 0 0 3 1-5 11 2 2 2 21-3 2 0 25 3 4-4 0 0 21 3 11-2 0 2-3 3-8 0-11 2-28-2-26 1-12 3-10-1-4-3-14 0-3 2-4-1-4 2 28 3" marker-start="url(#s)" marker-mid="url(#s)" marker-end="url(#s)"/>
<path d="M478 455l-27-1-70 6 3-1 15 1 3-2 7 2 0-2 2 2 9-2 15 1 23-2 2 0 5 4 22 0 6-2 10-1 2-2 2 5 0-1 0 1 1 0 0-2 0 1 1 2-1 5 0 0-1-4-1 4 0-2 0-1 0 0-1 3-2-2-2-1-10-1-1 2-1-1-3 3-2-2 0 2 0-3-2 0-1-2-1 3 0 2-2-2 0-3-4 3-8-2 0 0-3 4-1-1-13 1-6-1-4 1-9-5-3 1-4 4-7-2-1-3-16 1-1 1 0 2-1 0-3-2-12 3-1 5 4-3 6 2 2 1 1-1 6-1 6 1 0-1 1 0 5-1 1 0 1 2 1-1 0 2 3-2 3-2 1 4 0-2 1 0 1 3 7-5 1 2 9 0 1 1 1-3 1 4 0 0 4 0 1 0 7 1 4 0 2 0 9-4 5 4 4 0 1-3 2 2 5-2 0-1 3-1 1 2 1 3 1-4 1 0 0 1 1 0 5-1 3-1 1 3 0 0 0 0 1-1 0-2 0 3 0 1 0-3 0 2 1 1 0-1 1 2 0-2 0 2 0-5 0 3 0 2 1 6-1-3 0 1 0-3 0 1 0 0 0-1 0 3-1-3 0 2 0 0-1 1 0-3-1 2 0 0-1 0 0-2-1 1-4 2-3 2-1 0-2-4-2 1-3-2-5 4-8 1-3-2-3 2-1-2-7 1 0-3-2 0-2-1-1 2 0-2-7 0-3 3 0 0-8 1-2-4-4 2 0 1-3 2-3 0-6-1-9-4-5 1-3 2-4 0-2-1-1 1-6-1-1 0-2 1-6 6 4 1 0 0 5 1 1 0 5-3 3 1 0-1 1 0 4 0 0-1 1 0 3-1 2 1 5-1 1 0 1 1 0 1 0-1 2-1 6 1 3 3 0 1 2 0 1-2 0-1 1 3 3-2 4 2 2 0 4-3 3 1 1-3 1 5 0-5 2 4 0-4 17 2 4-1 3 4 3-4 7 4 4-1 2-3 4 0 4 2 1 0 3-3 1 0 1 2 1 3 0-1 0 0 1 0 1-1-1 7-1 1 0 0-1-1 0-4 0 2 0 1-1-2-1 2 0 1-1-1 0-2-3 2-2-1 0-2-2 0-1 1-1 0 0 4-2-5 0 2-2 1-1-1-1 1-7-2 0 3-2 1-2-4-1 2-1-1-1-1-2 4-4 0-1 0-3-3-3 1-5-1-7 2-6-1 0 1 0-2-3-1-4 1-2 2-2 0-2-3-2 2-4 2-5-2 0 2-1 0-3-4-2 0-2-1-2 5 0-4 0 1-2 0-6 2-3-4 0 1-3 4-1-4-4 4-1 0-4 0-1-5 5 11 2-3 1 3 2-5 3 1 0 1 1-1 0 4 2-1 0-3 2 3 4-3 3 2 1-2 1 4 2-1 1 1 2-4 2 3 0-3 1 0 2-1 1 2 1 2 0 0 3-3 2-1 4 5 3-5 1 2 3 0 3 1 2-2 8 1 2 0 2 1 2 2 5-5 5 2 0 0 6 3 2-2 4 0 4 2 2 0 0-3 7 2 5-3 0 1 0-2 0 3 2-1 4-2 1 1 0 1 1 3 0-3 1-1 1 1 0 0 1 4-1 0-1 3-1 0-1 1-2 1-1-5 0 5-3 0 0 0-1-3-1 1-2 2-2-3-5-2-2 2 0-2 0 5-3 0-4 0-11-5-13 5-3-2-3 2-13-5-5 4-3-3-1 3 0-2-2-2-1 1-2-1-3 5-1-5-2 3-2-2-5 2 0 0-2-3-2 4 0-1-3-3 0 1-1-1-4 2-3-2-2 1-4 2-1-2 0 0 0 2-5 0 0 1 0 1-6-2 1 8 5-2 6 2 0-3 0-1 1 1 3 3 1-4 0 0 2 0 2-1 0 2 2-2 1 5 1-2 1 2 0-5 4 5 4-2 3-3 0 2 1 1 3-3 12 1 16 4 1-5 7 4 1-1 1-1 7 0 1 2 1-4 3 5 4-2 7-1 1 0 1-2 0 4 1 1 15 0 1-5 1 5 6-2 1-2 0 3 1-1 0-1 1 8 0 1 0-1 0-1 0-2 0-1-1 5-1-1-1 1-5 0-5-2-1 2-4-5-4 1-19 0-11-1-6 4-3-4-8 3-6-3-5 4 0-3-5-1-4 3-1-1 0 3 0 0-2-3-3 1-1 1-2-3-6 3-1 1 0-4-1 1-1-2 0 0-1 3-2 0 0 1-1 1 0-3-1 1-1-3-1 0-1 0-1 3 0-3 0 2-1 3 0-2 0-2-9 2-2 2 0-1-8 1 3 2 1 1 3 2 4 0 4-1 2 2 2-4 0 2 1-2 2 2 7 2 0-3 1-2 1 5 2 0 6-1 1 1 6-3 1 0 2 2 2-2 1 0 0-2 2 3 3 1 1-1 2-2 1 1 10 2 4-3 4 1 8-2 1 5 7-3 1-2 1 1 1 1 13-2 6 3 2 2 0-2 6 0 1 1 1 0 1-1 1 2 2-4 3 2 2 1 0-2 0 7-1-3 0 0 0 2-1 1-3 0-1 1-5-4 0 5-6-3-5 1 0 1-5-4-2 3-2 1-3 0-2-2-2 1-19-3-6 5-3-3-2 3-2-4-1-1 0 2-6-2-2 3-2-1-3 2-4-1 0-1-2 2 0-3-2-1 0 3-1-1-1 3-2-4 0 2-2 0 0-1 0 3-1-2-2 0-1-2-1 1-4 0-1-1 0 4-2-5-2 1-1 2-3 2-3-3-5 2 0-1 0 0-4 2-1-2 0 1 0 5 0-2 0 3 1-1 1-2 3 1 1 2 2-1 1 0 3 0 4-2 1-1 2 0 6 5 1-3 1-1 3 4 1-2 1-2 2 2 0-2 11 0 4 1 2 1 1 1 3-1 5 2 4-1 9-2 0 3 1-1 0-1 3 1 2-3 13 4 13-4 5-1 1 1 1 0 1 2 6-1 1-2 0 4 1-4 2 5 4-5 1 3 1 2 1-2-4 4-1 1-3 2-10-3-2 4-2-1-21-2-10 0-2 2-7-2-1 0-12-1-5 2-4 2-1-1-1 0-6-1 0 1-4-1-1-1-2 2-5-4 0 2-1 3-4-4-2 0 0 3-5-1-1-3 0 4-1-4-2 4-2 0-1-2-1 3 0-3 0-1-1-1 0 4 0 1-1-3-6 0-4-2 8 9 0-2 1 0 0 3 1 0 5 1 0 0 2-2 0-1 4 3 1-4 6 0 1 4 0-1 2 1 2 0 3-4 1 0 2 1 0 1 2 1 5-4 1 0 0 3 6 1 4-2 1-2 3 5 4 0 2-2 4 2 4-4 7 4 6-4 21 3 0-3 17 0 4 0 6 5-5 1-8 4-12-5-8 1-10 3-23-3-6 1-4 1 0 0-3-2-1 2 0-3 0 3-3-1-1 3-1-5-4 4-1-2-2-2-2 3-2-3-1 3-1-1 0 0-1 1-1 2 0-2-2-3-8 2-1 0-1 0-5 2-2 0-1-1-1-1-1 0-7-2-3 4 0-1-1 5 1-1 1 4 1-4 9 0 1 3 1-2 0 0 4-2 1 3 4-1 1 2 4-2 3-1 6 4 10-5 0 2 1 2 5-2 0 0 1 2 49-1 28-2 1 5 0 3-20-3-10 4-17-3-16 3-23-1-8 0-22 0-7-2 29 7" marker-start="url(#s)" marker-mid="url(#s)" marker-end="url(#s)"/>
<path d="M442 457l3 2 2 2 50 0 9-3 2-1 1 0-2 8 0-1-4 3-2-2-47 2-3-4-17 1-19 0-2-2-3 4-23-4-4 10 18-2 45 2 3-3 6 3 10-1 1-1 3 2 12 0 19-1 4 2 0 0 1-2 1 1 0-4 1 5 0-2 0-2 1 0 0 1 0 2 0 0 1-1 0 4 0-1-1 4 0 1-1-4 0 3 0 0 0-2-1 1-1-2-1 3-2-2-3 3-9 0-1-1-12-1-22-3-5 5-18 0 0-2-3 0-12 1-19 0-14 3 13 4 2 0 11-4 4 2 24 2 3-1 0 0 7-2 1-1 1 2 10 1 1-4 5 0 17 1 8 3 0-4 2 3 3-1 1-2 7 5 1 0 1-3 0-1 0 0 1 3 0 1 1-3 1 6-1-2 0 4-1-1-2 0-1-3-2 0 0 5-1-1-2-4-1 2-3 0-5 2-2 0-6-1-15 0-13-2-1 4 0 0-6 0-9-3-12-2-5 4-24 1-4-3-1 0-1 0-6-2-4 4 2 3 0-1 8 1 1 3 9 0 1-2 3 2 0-3 13 0 7 1 17-2 0 2 8 1 0 2 29-4 1-1 7 3 2-1 1 1 11-1 2 3 1-5 0 5 0-5 1 4 4 0 0 2-2 0-1 5 0 0 0 0-6-2 0-1-32 0 0 0-22 3-3 0-2-2-5-2 0-1-11 1-3 1-2 0-7-2-7 3-9-3-2 4-2-2-9-1-4 8 14 0 0-2 1 4 3 0 6-4 15 1 2-1 9-1 1 5 3-3 17 3 1-2 18 1 9-2 5 0 3-2 2 1 7 4 2-3 4 1 0-2 1-1 2 4 1-2 0-1 1 4 0-3 0-1 2 0-1 7-2 2-1 0-1-1-5 1-6-4-6 0-2 5-9-1-2-1-10-2-41 2-2 2-9-5 0 2-7 2-3-1-3 2-2-2-6 2-6 0-1 5 3-2 0 1 5 2 4-3 0-2 11 5 31 0 28 0 6-1 9-2 10 1 12-1 2 2 1 0 2-2 0 5 0 3-5-4-3 0-12 3-34-2-4 2-14-2-5 1-6 0-6 1-13-1-9 3-7-2-2 2-9-5 4 9 4 2 6-4 8 0 0 0 7 4 0-2 10-2 1 4 1-2 22-2 8 3 1-1 17 0 5 0 3 1 6 0 18-3 4 4 2-1 0 0 1-3 1 1 0 2 0 3 0 1-1 1-1-1-1 2-6 1-2 0 0 0-1-4-20 1-7 2-19-2-32 2-17 0-14-3 2 8 10 1 24-2 17 1 26-1 28 1 11-2 2 2 1 7-1 1-3-5-6 3-5 2-17 0-6-1-5-2-29 3-30 0-1-2-2 0-19 1-4-2 19 5 27-1 17 0 48 5 14-1-93 2" marker-start="url(#u)" marker-mid="url(#u)" marker-end="url(#u)"/>
<path d="M123 598l-37-1-4 7 1-2 73 7-61 1-7 1-12-1-2 1-2-5-2 2-3 0-5-1-6-1-3 2 1 8 22-3 10 0 3 1 0-2 4 1 0 3 60-2-10 7-25 0-23 1-1 0-2-1-3 1-4-1-8 1-15 0-9-2-1 0-1-1 3 8 8-3 7 0 2 5 2-2 2-3 4 4 0-3 2 1 1 1 9 2 14-1 5-1 34 8-9-2-15-1-5 1-18-2-1 0 0 4-4-3-2-1-13 2-2 2-1-3-13-1-2 1-11 6 12 3 5-2 1-2 3-1 0 5 3-4 4 4 5-1 1-2 0 1 3 1 4 0 1-3 0 4 9-5 1 4 10-2 16-2 20 10-16 1-3 0-22-4-4-1-11 1-10 3-5 1 0-2-2 1 0-3-6 3 0-2-1-1-2 0-1 2-2-1-5-2-1 2-1-1-1 2-7 2 6 3 9-2 4 4 4-2 1 0 10 1 1-2 1 4 0-2 1 1 10-4 10 3 23 1 8 5-13 0-16-3-5 1-1 0-1-1-4 5-2-4-1 2-2-2-5 0-4 1-1 2-5 1-3-1-16 0-1 0 0 1-1-1-4 2 1 2 6 2 3 1 1 0 0 0 1-3 4 0 4-2 1 3 2 1 1 1 1-5 0 0 1 5 3-4 0 4 1-3 1 0 1 2 0-1 0 1 1-3 1-1 2 4 1-4 7 3 7-1 2-2 1 4 3-2 3 3 6-5 8 5 35 3-18 3-14-3-7-1-11 1-2 3-2-4 0 3-1-2-5-2-1 5-2-3-11-1-3 1 0 1-3 2-3 0-5-3-1 1 0-3 0 2-1 2-2 0-1-1-2-1-4-1-1 2-6 8 17-4 2-1 2 2 0-2 0 5 2-1 1-1 0-1 3 3 0-1 0-2 1 3 0-1 0-2 1 2 0-4 2 0 1 0 3 3 5 2 9-3 2 0 1 1 3 1 7-2-6 7-1-3-1 3 0-3 0 1-3 0-7 1-2 3-3-3-1 0-1 2-1 0-2-3-4-1 0 3-1 2-1-5-3 4-1-3-1 3-2-2-2-1-9 4-1-5-4 2 7 4 2 4 6-4 10 0 0 3 2-2 2 2 4-2 0 1 7-1 8 0 11 3-7 7-3-5-10 3-2-2-12 1-11-1-1 4-2 4 5-1 7-1 8 2 8 1 7-3" marker-start="url(#t)" marker-mid="url(#t)" marker-end="url(#t)"/>
<path d="M87 595l-13 9 11 0 5-2 13-2 17 2-17 7-7 1-19 0-3-1-2-2-4 2 5 3 3 0 5 3 1-1 6 1 0-2 2 1 1-1 1 3 5-3 20 9-10-1-4 2 0-3-7 1-4 2-5-1-3 0-7-4-2 1 0 0-7 4-8-3-5-2-2 3-6 3 19 5 1-2 9-3 2 1 4 0 1 2 15-3 5 3 19 1-9 5-10 1-4-2-3 1-2 2-3-2-3 0-3-1-4-2-2 5-1-4-6 1 0 0-1 0 0-2-2 5-1-2-5-2-10 4-5-2 7 4 4 2 9-3 3 3 1 2 0-1 1 1 2-2 0-3 1 2 4 1 8-2 0 2 5 0 0 2 20-5 28 1-8 7-12 2-8-4-20 4-1-3 0 4-1-3-1 1-1 1 0-3-1 1-5 2-3 0 0-3-1-1-1 0-2 2-2 0 0 2 0 0-2 1-2-4-13 2 0-3 5 6 2 3 1-3 5 3 1-1 2 0 1 3 0-2 1 1 3-4 0 1 1 0 0 4 1-1 3-2 3 3 2-4 2 0 0 3 1 1 6-4 13-1 25 9-19-2-4 3-2-4-2 0-1 5 0-2-2-2-5 2-2-3 0 0-1 0-3 4-2-4-1 5-1-2-1 0-1 2 0-2-3-2-2 4 0-5-1 1-1-1-3 4 0 0-4-3-2-1-1 0-4 1-2 4-4-5-1 1-1 3-5 0-3-3 2 6 1 2 5 2 6-5 2 4 3 0 0 0 7-4 1 1 6 3 0-1 0 0 6-2 1 2 6-2 2 3 1-4 3 0 5 2 9 1 3 1 20 6-15 1-1-1-6-4-13 3-1-2-4 4-2-5-4 1-4-1-6 1-2 2 0 0-1 1-3-2-7 1 0 2-5 0-2-5-3 5 0-5-1 1-3 8 3-2 0 0 2-1 2 1 1 4 5-2 0-2 1-1 1 4 3-2 0 1 2 2 1-1 4-3 3 0 2 2 0-2 0 1 2-1 5 2 1 0 1 2 0 0 1-2 3 0 5-3 2 3 4-2 6 5-12 1 0 3-5 1-4-2-9 2-3-5-5 3-2 0-3 2-4-4-1 2-13 2-2-3-7 8 3 0 3 1 21-4 0 1 6 2 2-2 1-2 1 4 1 1 1-4 18 1 27 1 1 5-2 1-34-2-5 2-7 1-25-1 30 6" marker-start="url(#t)" marker-mid="url(#t)" marker-end="url(#t)"/>
<path d="M72 602l22 2 6 6-1-4-20 4-6 0-2-4-7 9 16 0 2 1 0-2 0 3 1-3 21 0 4 2 3 3-8 4-11-2-7 1-1 1-3-4 0 1-4-2-2 3-5 5 0 1 1 2 4 0 1-1 3 0 1-2 6 3 4-4 3-1 7 0 1 4 9 0 10 1-9 3-18 3-5-2-3-1-2 2-4-3-4 4-3-4-3 4 0-3-1 1-1-2-3 3-7 0-2 1-8 1 8 0 4 1 0 4 6-5 0 4 8 1 6-4 1 2 1-1 5 1 3 0 0-3 2 3 4-3 5 4 17 3-5 3 0 0-6-1-2 0-12-1-2 3-1-4-4 1-1 1-2 1-3-4-1 5 0-3-2 0-1 3-1-5-1 4 0 0-2 1-1-3-2 0-5-2-1 0-6 3 0-1-3-2-4 10 8 1 6-4 1 0 5 2 1 1 1 1 3-4 1 1 6-1 6-1 1 0 7 1 6 3 4-3 3 4 9-3 4-2 1 8-18-2-5 2-2-2-4 5-2-3 0 0-2 3-1 0-1-5-1 2-2-1 0-1-2 5-2-4-1 3-2-1-3-2 0 1-3-1-8 2 0 2 0-3 0 1-4-2-4 2-2-1 0 6 0-1 2 4 1-4 2 0 3 0 0 2 3-3 1 2 3-2 1 2 1-2 2 2 5-2 2 0 0 1 3 4 0 0 0-5 2 1 6 2 3-2 1 1 2 3 6-3 6 1 6 2 23-2-31 8 0-1-1-4-1 3 0-2-3-1 0 0 0 2-3 2-1 1 0-5-2 3-1 1-1 0-4-3-1 4-1-1-2-1 0-3-1 3-3 1 0-4-1 1-1 0-1 1 0-2-1 0-1 3-1 0 0 0 0-2-1 0 0 3-1-3-2 2 0-2-5 3-1-3-4 0-13 1-1 7 4-3 0 1 6 3 0-3 4 1 1 0 0 1 1 1 1-3 2 3 1-4 3 3 3-3 3 1 4 0 4 0 0 4 1-2 3 2 3-4 2 1 6 1 2 1 2-2 11 0 19-2 2 1-29 10-10 0 0-3-4 1-1-2-9 0-5 3-1 1-4-5-5 3 0-1-12-2 1 9 5 2 3-1 2-4 6 5 2-5 3 5 2-2 1-3 11 3 2 0 5-2-12 10-1-4-3 1-20-1 0 0-10 2 2 7 7-2 25-2 3 4 11 0" marker-start="url(#t)" marker-mid="url(#t)" marker-end="url(#t)"/>
<path d="M106 598l-37 3 106 10-87-4-1 1-7-1-26 2 2 5 10 2 6 1 20-5 4 5 6 0 5-3 9 3 12 4-26 2-6-4-2 4-4-5-14 5-1-3-6 1-3-2-3 3-11-3 0 9 3-1 8 1 3-1 1 0 5-2 2 3 9-4 2 3 4 0 7 2 3-1 4 1 3-4 12 8-11 0-1-1 0-2-3 2 0 2-7-3-1-1 0 1-3-1-4 5-1-2-2-2-1 4-2-1-3 0-1 0-1-2-1 0-3 1-2 1-5-3-3 3 0 1-3-5-2 3 10 4 1 4 0-2 3-3 4 3 0-3 4 4 2 1 2-1 0-1 7 1 1 1 5 0 1 0 12-3 2 0 0-1 6 10-4-3-2-1-1 0-6-1-5 3 0-1-1-2-3 5-3 0-2-4 0 3-1-1-1 0-5 2-1-4-1 2-7 2 0-5-1 2-3 3-1 0-2-3 0 0-2 1-1 1-14 4 10-2 5 1 4-1 0 0 1 5 0 0 1-5 1 1 1-1 3 2 3 1 1-3 4 1 4 3 2-1 1 0 7 1 4-3 2 0 4 3 0 1 3-3 2 1 2 2 7 0 5-2-10 7-1-2-3-2-2 1-4-1-8 0-2 4-1 1 0-1-1-1-3 2-3 0-3 0-8-2-1 2-6-3-1 3-2-5-2 5 0-2 0-3-9 4-9 1 2 1 11 5 1-5 3 4 1-4 3 5 1 0 3 0 1-4 0 3 3-2 1 2 3 0 4 0 3 0 3-2 4 3 0-2 6 2 0-2 0 2 6 0 0-1 8 0 9-2-17 7-12-3-5 5-1-3-1 3-1 0 0-2-1-2 0 4-1-2 0 2-2-4-2 2-5-2 0 0-1 2-4 1-1-3-4 1 0 0-1 0 0 0-1 1 0 2-2-1-4-3-2 0-3 2-7 1 18 2 13 2 2 3 4-3 3-2 7 0 4 3 5 2 3-3 8 1 57 3-66 3-3-2-3 4-9-5-11 4-2 1-3-2 0-3-5 2 0 0-1 2 0-3-6 4-3-3-1 0-7 3 5 5 9-1 2-2 4 1 1-2 5 0 4 0 1 4 3-3 5-1 2 2 6-2 3 4 8-3 6 0 1 4 6-2 3 4-15 2-16-1-6 1-11-1-1-2 0 2-3 2-2 0-5-4-5 6 12 4 1 0 38 0 2 0" marker-start="url(#t)" marker-mid="url(#t)" marker-end="url(#t)"/>
<path d="M106 598l-7 0-14 1-7-2 0 2-5-1-3 1-1-1-2-2-3 3-1-2-8 0-1 2-6 2 1 0 2 3 0 0 1-3 1 3 1 1 1-1 0-3 0 1 1 2 0-2 2-1 0 4 1 0 1 0 0 0 1-1 1-1 2 1 1-2 0 2 1-1 1 1 0-1 1 2 1-5 0 4 3 0 3-1 1-2 2 4 0-3 3 2 1-3 2-1 2 4 4 1 8-1 6 1 8-2 27-1-4 6-6 3-10 0-5-1-9-2 0-2-5 4-2 1-4-4-2 4-2-2 0-1-1 1-1 1 0 0-5 0-4 1-1-4 0 0-1 4-1-4 0 4-1-1-1 0-1-1-1 0 0-2-4 1-2-2-1 1-2-1-4 5-1 0 0 0 0-3 0-1 0 3-1-3-1 3 0-2-1 2 0-3 0-1 0 0 0 1-1 2 0-3 0 1-1 3 0-2-4 2-2-3 0 7 1 3 1 0 1-5 0 1 1 1 1 1 0-1 0-2 0 0 1 3 0 1 0-4 1 5 0-2 1 1 1 0 1-1 1 2 0-4 0 4 1 0 0-5 0 5 1-1 0-1 1 1 1 0 1-2 0 1 0-1 1 2 0 1 0 0 0-2 0 1 2 0 1 0 0-1 1 2 0-1 1 0 1-2 0 0 1 2 1 1 0-4 1-1 0 0 1 3 0-3 4 2 1 3 0-4 1 1 0 3 1-2 2 0 0-2 1 2 0 1 1 0 0 1 1-5 2 4 0 0 1 0 1-2 0 0 1 2 1-2 0-1 0 4 3-2 0 2 10-1 0 1 1-1 2-1 5 1 37-1-31 4-3 2-1 2-1-1-1-1-3-1-2 3-2-1-2-2-1 2-1-3-2 4-2-5 0 5-1 0 0-1-1-1-1-1 0 3-1-3 0 3 0-1 0-3-1-1-2 3-1-3 0 4 0-2-2 3 0 0 0-4-1 0-1 0 0 2 0-2-1-1 0 3 0 1 0-2-1-1-1 2 0 2 0-5-1 4 0-3-1 2-1 1-1 0 0-4 0 3-1 2 0-1 0-2-2 1-1 0 0 1 0-4 0 2 0-2-1 2 0 0 0 0 0 0 0 2-1-1 0-2 0-1-1 0 0 0-1 5 0-2 0 1 0 0-1-1-1 1 0-4 0 3-1-1 0 1-1 0 0 1 0-4 0 2 0 0-1-1 0 1 0 1-1-2 0 3 0-4 0 1-2 2-1-3 0 2 0-1 0 0 0 2-1-1 0 2 0-3 0-1-1 0 0 1 0 0-1 1 0 1-1-3 0 4 0 0-1-2 0 3 0 0 0-1-1-3 0 1 0 1 0-2 0 1-1 0 0 1-1-2 0 0 0-1-1 1-2 4-2-2 0 0-1-1 0 2-1 1-1-2 5 5 0 2 0 0 0-1 1-2 1 0 0 1 1 0 1 3 0-2 1-1 0-1 0 2 1-3 0 1 0 2 0 0 1-3 1 1 0 0 1-1 0 0 1 0 0 4 0 1 0 0 0-5 1 3 0-2 0 4 0-4 0 1 1 3 1-5 0 2 0-2 0 4 1-4 1 2 2 3 0-4 1 0 0 0 0 2 0 0 1 1 0-3 1-1 1 0 0 3 0-2 1 2 0 2 2-5 1 5 0-4 0 3 0-4 2 5 0-3 1 1 1 1 1-4 0 0 0 1 0 3 1-2 2 0 1 1 1-2 0 2 0-3 1 0 0 5 1-5 5 0 3 3 1-1 1 0 0 2 1-3 1 0 1 2 1 1 1-4 1 2 3-1 1 0 13 3 22-2-23 5-3 1-3 3-2-2-3-2-6 1-1 1-3 0 0 1-2 0-2 0-2-2 0 2-2-4 0 5-3 0-1-3 0-1-2 2-1-3-1 2-1 3 0-3-1-2-4 4 0-3-3 2 0-1-1-1 0 2-2 0 0-2-1 2-1-1 0 0 0 1-1-3-2 2 0 0-1 1 0 0-2-1 0 2-1-4-2 0-1 1 0 4-1-3 0-1-2 2-1-2-1 3 0-4-1 5 0-4 0 0-2 1-1 2-3-4-1 8 2 1 4-2 1 1 0 0 0 3 1-5 0 3 1-2 0 2 2-1 0 3 2-3 1-2 1 2 0 3 1-1 2-1 0-1 1-1 1 0 1 4 1-3 0-2 2 1 0-1 0 0 0 2 0 3 1-2 1-2 1 0 3 3 0 1 1-1 0-4 1 4 0-2 2 0 0-2 0 4 1-1 0-3 1 0 1 0 1 0 1 0 0 3 0 0 10 2 6-1 1 0 1 0 2-4 0 1 5 4 6-2 0-3 4 3 15-2 15 4 9 0-2 6-43 0-4-3-5 2-3-4-1 3 0-3-1 3 0-1 0-2-2 3-4-3-1 1-1 1-2-2 0 1-3-1-2 4-1-2 0 2 0-3 0-1-1 4-1-3 0 0-1 4-1-2-1 0 0-1-2 0-1 2-1 1-1-5-2 5 0-3-3 1-1-2-1 1-1 2-1-1-4-1 0-2 0 5-2 0 0-2 0-2-1 0-1 0 0 2 0 1 0 1-1-2 0-2-1 4 0-1-1-4 0 3-1-3 0 4-1 0-1 0-1-1-1 2 0 0 0 6 1-2 2-1 0 1 2-1 0-2 1 0 2 5 2-1 3-1 1-1 1 0 1-1 0-1 0 0 2 3 0 2 1-3 0 3 1-2 1-2 1-1 1 5 1 0 0-2 0-2 1 1 1 2 2-2 0-1 6 4 1-1 4 1 0-3 1 1 1-1 1 3 2-2 0 0 1-2 3 3 1 1 3-4 2-1 0 0 4 3 2-3 4 2 57 4-60 4-6 0-2 0 0 1-4 0-6 0 0 0-2-5-2 1-1 3-4-2 0 1 0 2-1-1-4-3 0 1-1 2 0 0-3-3-2 3-4-1 0-2-2 1-2-1 0-1-2 4 0-1 0-3-1 4-1-3 0 2 0-3-1 4 0-2 0 2-3-1 0-3 0 2-1 2-1-2 0 1-1 1 0-1-2-3-3 9 1-1 0 1 2 1 0 1 2-2 0 0 0-1 1-1 3 0 0 2 0-3 1 2 2 2 0-1 2 1 0-1 0-2 1-1 0 2 0-2 1 1 1 3 3-3 0 4 1-5 1 4 3-3 1 0 0 4 1-1 4 1 0-1 0-4 0 4 1 0 1-1 0 0 4 1 1-3 0-1 1 2 2-1 2 4 4 0 3-2 0-1 5 3 1-5 5 4 1 1 5 0 20-4 34 4 5 2-2 4-56-4-4 2-11-3-2 2-3 3-3-5-3 4-1-1-2 0 0-3 0 2 0-2-6 2 0 0-2 3-1-3-5-2-4 2-1 3 0 0-1-2-1 2 0 0 0-1-1-4-1 2 0 0 0 2-2-4-3 4-3 1-1-1-1-3 0 2-1-1-3-2-3 5 1 1 6 3 2 0 2-3 1 3 1 0 0-1 1 3 2-5 1 3 9-3 1 0 2 4 3-2 5-1 3 3 13-3 10 2 27-3-4 7-26-1-15 3-4 1-5-1-1-3-1 1-4 1-1 2-1-3-16-1-3 4-5-4 8 10 4-2 3-1 5 0 3 3 0-4 7 0 8 1 9 0 2 1 7-1-10 5-10 1-7 0-12 2-1-3-9 4 0-4-1 2-3 0 9 5 0 0 13 1 1-2 3 0 7 0 12 5-43 1" marker-start="url(#s)" marker-mid="url(#s)" marker-end="url(#s)"/>
<path d="M134 599l-37 0-3 0-3-1-8-2-1 0-5 3-12-2-1 0-1 1-1 0 0 0-1 1 0-1-10 0-5 1 1 1 1 2 1 3 2-4 1 4 1-5 0 2 0 0 1 3 0 0 3-3 0 2 1-4 3 5 1 0 0-3 0 3 2-2 1-3 1 2 2-2 3 4 0-1 1 1 0 1 1 0 1-2 1-2 0 4 1-1 4 1 1-4 1 4 5 0 2-1 4-4 0 5 6-3 0 1 12-2 3 0 4 7-3-1-2 3-2-3-6 3-1-4-2 3-1-1-1 2-5-2 0 2 0-3-1-1-1 1-2 0-1-1 0 1 0 0-2 2-2 1 0 0-3-2-1-1 0 1-3-1 0 4-4-5-1 4 0-1-1-1 0 2-1 0 0-4 0 4 0 0-3-3 0 1-1-1 0 4-1-4-1 0 0-1 0 1 0 1-1 0 0 1-1 1-1 1 0 0 0-3 0-1-1 2-1-2 0 1-2 1 0 1-1 0 0 1 0-3-1-1 0 0-2-1-2 5-1-4 0 4-1-2-1-2-1-1 0 4-2 7 1-3 2 3 0-4 2 4 0-3 0 2 1-1 0 1 1 1 0-4 0 3 0-2 1 0 0 2 0 0 1-1 0-3 1 0 1 5 1-4 1 0 1-1 0 2 0 3 1 0 1-3 0-2 1 3 0 0 1-3 0 4 1 1 0-4 1-1 0 3 1 1 1 1 0 0 1-1 0-1 2-1 0 3 2-1 0 0 1-2 0 2 1-2 2 3 0-2 0 0 1-2 0 1 0 1 1 1 1-2 0 3 0-2 1 2 0-3 1 0 0 3 1 0 1 0 0-4 0 0 1 3 0-4 0 1 1-1 1 3 2 1 1 0 0-3 1 2 0 1 0-3 1 3 0 0 0-1 6 0 1 2 0-1 2-4 2 5 0-5 3 3 4 2 1-5 3 3 1-2 1 2 28 1 24 6-18-1-12 1-17-3-5 2-1-1-5 1-2-3-4 2-1 2 0-3 0 0-3 4-2-1-1-2-1 3 0-3-3 0 0-2 0 5-3-3 0 0-1 3-2 0-1-2-1-2 0 0 0 1-1 0-1-1-1 2 0 0-1-1-1-1 0-1-1 2 0 0-1 3-1-4 0 2 0 2 0-1-1-2 0-1-1 0 0 1 0 3 0-3-1-1-1 1-1 3 0-3-1-1 0 2-1 1 0-4-1 0-1 1 0 0 0 1-1 0 0 2 0 0 0-4-1 0 0 0-1 3 0-3-1 1 0 1 0 1 0 2 0 0-1-2 0-1 0 2-1-2 0-1-1 3 0-3 0 0 0 0 0 3-1-2 0-2 0 2-1-1 0 0 0 4 0-3 0-2 0 3 0-1 0 3-1-2 0 1 0-4-1 2 0 1-1 2-1-4 0 0-1-1 0 1-1 4 0-4 0 3-2-2 0 1 0 0-1 2-1-4-1 1 0-1 0 4-2-4 1 9 1-2 2 0 1-1 1 0 0 2 0-3 0 3 0-3 1 4 0 0 0-2 2-1 0 2 0-2 1 2 0-2 0 1 0 3 1-2 0 1 0-2 0 2 0-3 1 3 1-3 1-1 1 3 0-2 1-1 1 2 0 0 0 0 2-2 0 3 1 2 0-1 2-2 1-2 1 2 0 2 2 0 1 0 2 1 1-4 0-1 0 0 1 2 1 1 1-1 1 3 3-4 0 2 0-2 1 1 1 3 1-3 0-1 0 1 0 0 1 0 2-2 2 1 1 4 1-2 0-1 1-2 2 5 1-2 1-2 1-1 0 2 0-1 1 4 1-3 0-2 1 4 1 1 1-5 0 5 2-4 0 3 2-1 1 0 1-2 19 1 31-2 6 10-29 0-12 0-1 1 0-5-6 2-4 3-5-3-4-1-1-1 0 1-2-1 0 4-5-3-6 2-1-1-2-1-2 0 0-1 0 1 0 3-1 0-5-1 0 1-2-2 0-2-1 1-2 0 0 2 0 0-1 2 0-5-2 4-2 1-1-4 0 4-2-3 0-1-1-1-3 5 0-4-1 4 0-3-1 2 0-2 0-2-1 1 0 2-1-2 0-1-1 5-3-4 0 2 0 0-1 1-3-3-1-1-5 8 2-1 2 0 5 1 0 2 1-2 0 3 0-4 2 2 0-1 2-2 1 4 0-1 2-1 2 2 2 0 0-4 0 1 1 0 1 2 1 2 0-5 1 0 0 2 1 0 0 0 4 3 1-4 2 1 0 1 2-1 0 1 1-1 1-1 0 4 1-4 0 4 0 0 5-5 0 1 2 3 8-1 0-3 3 0 2 4 4 0 4 1 2 0 1-1 8-3 13-1 34 11-61-4-4 3-7-3-6 0-3 2 0-2-4 1-3 0-1 0-1 3-1-4 0 0-1 4 0 0-1 0-1-3-1 3 0-3-2 1 0 2-1-1 0 1-1 0 0-1 0-1-2 0-1 1-1 0 0 0-2 1-1-1 0 1-1-3-1 2-1-4 0 5-2 0 0-5-1 0 0 3-1 1 0-1 0 0 0 0-1-3-1 2 0 2-3 0 0 1-5-4 1 7 1 3 3-5 1 1 2 4 0-2 2 0 1 0 0-2 1-1 0 2 2 1 4 1 3 0 1 1 0-1 0 0 5 0 0-4 0 1 0 1 3 2 0-1 3 2 4-3 4 2 1-2 1 0 2-1 1 2 1-1 0-2 5 1 4 1 1 0 1-2 1 2 1 1 3-1 18 1 2-2 12 4-25 2-5 1-3 1-6 0-4 1-7-2-1-2-3 1 0 2 0 0-1 1-2-2-1-1-1 0-1 1 0 2-1-1 0-3-4 4 0-3-1-1-5 1-3 0 0 0 0 2-1 2-1-2-1 1-1 0-1-4-3 5-1 0-1-2 0-2-1 4 0-2-1-3-2 3 0 1-1-2 0-1-2 0 0 3-3-4 0 11 1 0 0 0 2-3 1 3 0-5 1 3 1-3 1 4 0-4 0 1 0-1 1 3 0-1 1-1 0 4 0-1 1-1 0 0 0-1 4-2 0 3 0-2 2 2 1-3 2 5 1-4 0 4 0-1 2-4 0 5 1-5 2 3 1 0 1-2 2 1 3 1 1-3 1 2 2-1 1 0 1 2 0 1 1-3 1 3 0-2 1 3 1 0 0-2 2 0 4 0 2-1 1-1 4 0 2 2 5 2 1-5 5 2 0 2 3 1 7-2 31-2-47 10-1-3 0-2-1 3-4-1-5-1-2-1-2 0-3 0 0 1-1 1-1 3-2-3-2 0-1 3 0-3 0 0-1-2-3 3-2-2-1 4 0-3 0-1 0 0-3 3-2-1-1-3-1 4-5 0-2 1-1-5 0 1-1 2-4-1 0 1-1 2 0-2-1 2 0-1-1-2 0 1-1-3-1 3 0-2-1 1-2 7 1 0 3 2 1-5 4 2 0 2 0 0 3-1 5 1 1-3 2 4 3-5 1 5 4-3 4 2 0 0 3 0 1 0 0 0 2 1 1-2 4 1 5-3 2 3 3-2 3 0 5 0 1-2 4 1 9 4 23 1-39 0-16 1-1 2-1-1-5 0-7-2 0 4-1-3-2 4-5-2-3-1-7-1-3 0-1 1-9-2 6 9 2-1 1 2 2 0 1-3 2-1 12 4 4 1 8 0 2 0 25-4 0 0-24 9-1-2-1 3-6 0-21 6 29-3 10 2 15-2" marker-start="url(#s)" marker-mid="url(#s)" marker-end="url(#s)"/>
<path d="M102 596l-10 2-3-3-9 3-4 0 0-1-1 1-6 1-5-2 0 1-1-1-4 0-2 2-1-2-2 2-1 0-7-2 1 5 0 0 0 0 1-1 1 3 2-4 0 5 1 0 3-3 1 0 0 2 1-1 0-2 1 3 1-1 1 2 1-2 0-2 8 3 0 1 1-1 4-3 1 0 3 2 4-3 1 5 1 0 7-1 1 0 0-1 1 2 8-5 0 4 58-2 6 8-33 0-7-2-8-1-5 2-1-3-7 5 0-2-17-2-2 1 0 0 0 3-1-4-2 2 0 2 0-1-1-1-1-2-1 1 0 0-3 2 0 0-3 0 0-1-3 1 0 1-1-2 0 2-1-4-1-1-1 5-3-1-1-2-1 2-1-2-1 2 0 1 0-3-3 1 0-3 0 5 0-3-1 0 0 1 0 2-1-1 0 0 0-1-1-2 0 1 0 2-2 0-1 1-1 0-1-2 0 6 1-2 1 3 1-1 1-2 0 2 0-1 0 2 0-3 1-1 0 4 0 1 0-4 1-1 0 5 0 0 0-1 0 1 0-5 0 1 1 0 0 3 1 0 0-2 1-1 0 3 0-1 1-2 0 2 0-1 1-1 0 0 0 3 1-1 0 0 0-2 1 3 1-4 1 5 0-3 0-2 0 1 3 3 1-2 0 2 1 1 0-1 0 0 2-3 2 1 1 2 1-3 0 3 0-3 1 3 0-3 1 0 0 3 1-2 0-1 2-1 1 4 0-1 1-2 0 1 0 3 1-5 1 3 0 1 0 1 2-2 0 0 0 0 3-1 0 0 2-2 0 4 0 1 2-3 0-2 3 1 3-1 2 5 1-3 1 2 0-3 0 3 2-4 2 0 3 3 1-1 4 3 27-4-15 5-5 5-6-1-3-3-1 1-1-1-1 0 0 1-1 3-1-3-5-2 0 0 0 1-2 4-5-5-1 2-2 2-1-2-2-2-2 1-1-1 0 4 0-1-1 0 0-1 0 2 0-1-1 0 0-1-1 0 0 2-1-2-1 2 0 0 0-2-1 2 0-2 0 2 0 0-1 0 0-1 0 2-1-1 0-2 0-1-1 3 0-4 0 3-1-1 0 3 0-2-2 1-1-3 0 4 0 0-1-3-1 0 0 3-1 0 0-5 0 0-1 3 0-3 0 4-1-3 0-1 0 2 0 3-1-3 0-2 0 4 0-4-2 0 0 4 0-1-1 2 0-1 0 1-1-5 0 3 0-2 0 0-1 1 0 3 0-1 0-1-1-1 0-2-1 1 0 1-1 2-1-4 0 5 0-4-1 3 0 1-1-2-1-2-3 2 0 0 0 1-1-4-1 3 0-2-1 3 0 1-1-2 1 4 0 1 1 2 0-4 0 1 1 3 1-4 0 0 0 1 0 3 2 0 1-3 1 2 1-3 0 3 1-2 0 0 0 4 1 0 0-2 1-1 0 2 1-2 1 1 0-3 1 5 0-1 0-2 0-2 1 2 1 0 0 0 2 1 0 1 0-4 0 4 0-3 1 1 1 3 0-1 0-1 0 0 1 1 1-4 1 5 1 0 1 0 0 0 1-2 0 1 1 1 0-3 0 1 1-2 1 4 0-4 1 3 1 0 0-4 0 0 1 1 1 1 1 0 1 3 0-5 1 0 0 4 1-4 1 3 1-3 1 4 1-4 2 2 1 3 0-2 2-1 4 2 0 1 2-3 1 2 2-2 2-1 3 2 2-2 2 3 3 1 7-4 17 3 14 1 8-2-24 3-12 1-12 1-2 2-1-3-2 1 0-1-4 3-2-3-3 0-1-1-2 0 0 5 0-3-2 2 0 0-1-3-3-1 0 3 0 0-1-3 0 2-1 3-1-2 0-3-2 0-3 3-2 2 0 0 0-4-1-1 0 3 0-3-2 1 0 3 0-4-1 3-1-3-1 0-1 1 0-1 0 5-3-2-2-3-1 0-1 4 0 0-1 1-1 0 0 0 0-2-1-2 0 2-1 2-1-4 0 0-1 0 0 0 0 3 0-2-1-2 0 4-1 0-2-3-1 0-2 0-2 4-2 0 0 0-1-1 0-1-2-2-1 1 2 9 0-2 3-3 3 1 1 0 0 3 2-4 1 0 1 2 1 3 0-5 1 3 2-3 2 3 0 1 0 1 1-2 2-1 0-2 2 5 0-3 1 2 0-3 0 4 1-2 0 0 0 2 0-4 1 0 0 4 1-5 6 2 1 0 0 2 1-4 1 3 1-3 0 1 2 2 0 1 0-4 2 2 1 3 1-3 3 0 0-1 1-1 0 2 1 0 3 3 2 0 1-1 3-4 2 4 1-4 13 5 4 0-2 6-6-1-14 0-3-2-4 0-1 2-4 1-1-3 0 3-1-3-2 1 0-1-4 0-4-1-1 2-2-3 0 2-1-2-4 0-1 0-1 3-3 1 0-4 0 3 0-3 0 0-1 2-1-2-1 2-1 0 0 1 0 2-1-5 0 1-1-1-1 2-1-2 0 1 0 1 0 1-1-2 0 4-2-5 0 3-1-3-1 0-5 10 1-2 0 2 1-1 2 2 1-2 2-2 2 3 0 0 1 0 1-2 0-1 1 1 0 1 0-2 1 1 2 3 0-1 2-1 0 1 2 0 1-1 1 0 2-1 0 3 0-3 1 3 0-3 0-1 0 4 1-2 0 2 1-2 1-1 0-1 4 2 1-1 2-1 0 4 3 0 0-1 3 1 0-4 0 1 1 0 1 3 2-3 4 2 2 0 1-4 1 4 2-1 3 2 3 0 7-4 1 1 3-1 23 3 33 5-34-2-23 1-2-1-2 0-5 1-2 2-3 1-3-2 0-2-1-1-10 1-1 3-1-4-1 3 0 0-1 1 0-2 0 2-1-2 0 2 0-1-1-3-2 4 0 0-1-1-4 2-1-5-1 4-2 0-2-3 0 0-1 0 0-1-5 4 0 0-1-2-2-2 0 4 0-2-1 1-1-2-1 1 0 2-1-3-2 1-1 0-1 0-1 1-3-1 0 3 1 4 2 1 0-4 2 0 6 1 1 3 3-3 1 0 0-1 2 3 0-2 2 2 1 0 1-3 1 4 0 1 2-5 4 5 1 0 2 0 1 0 1-2 0 1 0 0 3 1 0-1 1-1 0 2 1-4 0 4 5-3 1 2 2-1 3-1 1 0 0-2 2 2 3 3 5-5 6 5 4-5 2 0 5 2 10-2 16 2 18 9-26-5-17 1-15 0-4 1-2 0-2-2-1 5 0-4-12 2-1-3-7 1-4 4 0-2-1-2 0 0-3 4-1-5-2 1-1 2-1 0-1-3 0 4-6-1 0-3 0 1-1 2-2-1 0 0-1 0-1 2 0-4-2 1 0 0-1 1 0 2 0 1 0-4 0 2-4 0-3-2 1 9 1 1 0-3 3 2 4-4 3 3 3-2 1 4 0-2 8-1 0 2 2-4 2 5 4-5 0 3 1-3 3 3 0-3 1 5 1-1 0-1 1 2 4-1 1-3 1 1 4 3 4-5 0 4 1-4 4 2 30 1 37 8-59-4-6 4-9-4-4 3-11-2 0-2-1 5-3-2 0 0-3 0 0-1-2 1-4-1-2-2-6 2 0 0-5-2-6 3-3 1-2-1 2 7 3-3 8 2 0 1 2-3 8 4 1-5 4 4 3-3 5 0 16-1 1 4 15-1 39-3-33 8-6-1-39 1-5 3 5 6 12-5 1 2" marker-start="url(#s)" marker-mid="url(#s)" marker-end="url(#s)"/>
<path d="M100 597l0 2 0-1-3-3-2 2-3 2-7-3-3 2-9 0-10 1-3-1-2-1-1 1-2 1-1-3-4 6 2 1 1 0 1-3 3 4 3-3 0 3 1 1 0-3 0 1 4-1 0-2 1 4 0-3 0 4 2-3 0 2 0-4 2 2 0 3 0-5 3 5 0 0 2-1 2 1 0 0 1-5 3 5 4-2 0-2 6 1 3 0 5 1 0-2 4 4 2-4 1 2 1 0 17 2 32 5-1 0-40-4-1 0-1 4-2-2-1-2-4 0 0 2-14 2-2-3-3 1 0 1-1-2 0 2 0 2-1-4-1 3 0 0 0-4-2 2-2 2 0 1 0-5 0 0-1 5 0 0-1-2-3-1-2 1 0-3-3 4-1-3 0 2-1 2-2-3 0 2-2-3-2-1 0 1-2 1-1 3-1-3 0-1 0 1-3 0-1 3 0-1-1-4 0 5 0-2-2 0 0-3-1 3-2 1 0 1-3 0 1 2 4-1 1 1 0 3 1-2 1 0 0-1 0 2 0-2 1 3 0 1 0-3 1 0 0 3 0-3 0-1 0 4 1-5 1 2 1-2 0 2 1-2 0 1 1 3 0 1 0 0 0-4 2 1 0 2 1-2 2-1 1-1 0 3 0 2 1-5 1 1 2 1 0 1 0 1 0-2 1-2 1 3 1 0 0 1 1-4 0 0 0 0 1 3 1 2 0-3 0 2 2 1 1-5 0 4 0-1 0-1 1 0 0 3 1 0 0-5 1 2 0 1 0-2 0 0 1 1 1 2 0 1 1-5 1 0 0 0 3 5 0-1 0-1 2 1 0 0 2-4 2 4 2 1 1 0 0-4 1 4 2-3 2 0 1 2 3-1 2 1 2-4 1 3 4 0 1 0 4-2 13 2-2 8-8-2-7 0-8 2 0-2-2 2-7-5-1 3 0 1-1-2 0 0-1 3-3-2-1-2 0 0-1-1 0 4-1-2 0-1-1-1 0 5-2-3 0 1 0 1-1 0 0-2-2 1-1-2-1 3-1 0 0 0 0 0 0-4 0 2-2 1 0 2 0-5-1 4 0 0-1-3 0 4 0-2-1 2 0-2 0 0-1-1 0 1-1-2 0-1 0 2-1-1 0 2 0 1 0-2 0 1-1-3 0 4 0-1-1-3 0 5-1-5 0 1 0 3 0 1-1-3 0-1 0 3 0-3-1 3 0-3 0 2-1-3 0 4-1 1-1-3-1 1 0 1 0-1-1-2 0 0 0 2 0-3 0 3-1 2 0-2 0-2 0 1 0 2-1-1 0-2 0 0 0 0 0 3-1-3 0 4 0-3-1 3 0-2-1-3-1 3 0 0 0 2 0-5-1 3 0 0 0-1 0 2 0-2-1 0 0-1 0 4 0-5 0 3 0-1-1-2 0 1-1 4 0-2 0 0-1 0-1 0 0 1-2-3-2 2-2 1 4 2 0 5 1-1 0 1 1-4 1 2 0-1 0 3 0-5 2 1 0-1 1 4 1 0 0 1 1-2 0 0 0-1 1-2 2 4 0-3 1 1 0 2 1 1 1 0 0-4 1 4 0-3 1 0 0-2 0 3 1 0 0-3 1 1 1 3 2-2 0-1 0-1 2 5 1-3 1 2 0 1 4-5 1 3 0 2 0-4 2 1 2 1 0-3 2 1 1 2 1-2 1 2 1-1 0 2 1-4 2 4 2-3 2 4 0-4 2 1 1 2 0 1 3-4 1-1 1 4 2-3 0 1 4 0 3 1 1-3 23 10-6-1-16 1-8-4-1 0-1 1-4 1-1 1-4-2 0 2-2-1-3 3 0-5 0 4-1-4-1 3-2 1-1 0 0-3-1 3 0 0-3 0 0-4-1 0 0 4 0 0-1-1 0-1-1-2 0 4-1 1-1-5-1 2 0 1 0 1-4-1-1-1 0-2 0 0 0 2-4 2 0-2 0 3-1-5-2 0-3 1 0 3 0 0-1 1 0 0-1 0 0-1-1-1-1-1-1 0 0 0-1-2 0 3-1 2 0-1 0 0-1-3 0 3-4-4 0 2-3 0 1 7 1-2 2 3 1-3 2 0 1 2 0 0 2 0 0 2 1-2 1-3 0 5 1-4 0-1 0 3 1-2 0-1 0 5 1-3 3 0 2-2 2 1 5 2 1-2 1 3 1-3 1 2 3-3 2 2 0 2 1 1 0-1 2-3 6 4 1 0 2 0 0-3 1 1 0-3 5 2 3 2 2 0 2-4 0 3 16-1 21 1 32-3-31 7-32-1-6 3 0-1-3 0-4 3-3-1-5 1 0-5-1 1 0-1-2 2 0 2-5-1-2-1-1-1-1 2-2-3-2 0 0 0-1 0 0 0 0 5-1-1 0-4 0 1-2 3-2-3 0 1 0-1-1 4-3-5-1 4-1 0 0-1-1 0-1-3 0 5-1-5 0 3 0 2-1-2 0 2 0-1-1-1 0-2 0 4 0-4-1 1-1 1 0-2 0 0-2 2-1 0-1-2-1 3-2 0-1-1 0 0-1 0 0-1-1 6 3-2 2 4 2 1 0 0 0-2 1 1 0 1 2 0 0 0 1-5 2 1 1 1 1-1 0 1 0 0 1 3 1-3 0 0 0 2 1-1 0-1 2 1 3-3 1 2 0 2 1 1 1-4 0 1 1-1 1-1 7 2 1 0 0 3 0 0 3-1 2-4 0 0 9 4 2-2 7 1 0 2 4-1-2 7-1-4 0 1-7 2 0-1 0-3-5 2-2-1-7 1 0-1 0-1-1 1-1 2-2 0-1 2 0-1-2-2-1 0 0-1 0 1-3-1 0-1-1 1 0 1-1-2 0 1 0 4-1-1-1 0-3-4-1 5-2 0-2-2 0-1-1-1-1 0-1 3-2-2-1-2-2 3-1 2 0-3-2 1-2-3-1 0 0 2-2 2 0 3 2 1 1 2 0-2 3 3 2 0 0-4 0 3 0-4 2 2 1-2 0 3 0 0 2-2 0 3 1-2 0 2 0-3 1 2 1-2 0 0 0 0 3 3 1-2 2-1 0-1 3 0 1 1 0 3 1 0 2 0 1 1 2-2 2-3 1 3 0 2 2-4 2-1 6 0 1 3 3 2 0-5 1 5 1-3 1 0 2 1 2 1 0-4 3 2 6-2 1 2 1-1 2 0 4 3 13-1-10 6-9-2-6 1-5 3-2-5-3 1-9 2-5-1-2 2-3-1-1 2-2-4 0 0 0 0-2 0-2 3 0 0-2-2 0 0-1-2 0 5 0 0-1-5 0 5-1-3-1-2-1 3-1-1-1 1-2 2 0-2-2 2-6-2-2 2-2 4 2-2 0 1 1-1 6 2 1-1 1 0 0 2 0 0 2 0 4 1 3-5 3 5 1-1 0-3 2 2 1 2 2-1 1 1 3-3 1 0 0 2 1-4 1 3 1 0 3 0 5 1 3-1 4-2 1 1 2-2 3 3 0-2 1 1 7 1 56-1-3 8-63-3 0 0-4 0-1-1-5 4-4-2-2 0-2 0-1-2-1 0-2 2-1 2-2-1-1-3-2 3-1 1 0-3-2 3-4 0 0-4-1 2-9 1 0 2-1-3-3 0-7 9 5 0 4 0 3 0 17-4 4 1 1-2 3 2 0 3 7-5 11 3 15-1-18 4-8 4-18-3-1-1-2 2-8 2-4-1-9-2 1 8 17-3 3 2 4-1 6 0 22 3 13-4" marker-start="url(#s)" marker-mid="url(#s)" marker-end="url(#s)"/>
<path d="M107 597l-32-1-1 2-7 1-4-1 0 1-1-3-6 3-10 6 2-3 3 2 0 0 0-4 0 3 2 2 1-1 3 0 1-4 1 0 2 1 0 1 3-2 1 3 4-1 0 0 0 2 0-3 2 1 2 2 0 1 5-3 0-1 1-1 1 1 1 3 2-2 2 3 10-1 1-1 6-1 2 3 3-5 1 3 7 0 5 1 0-3-6 9-1 1-9 0 0-2-7 1-1 1-1-1-3-2 0 3-1-5-1 4-4 0 0 1 0-2-2 0-4-3 0 5-1-4-1 2-3 0-1 0-1-2-1 3-1 1 0-4 0 3-1 1 0-3-1-1-1 4-1-1-3 1 0-5 0 5-1-5-1 3 0 0 0 2-2 0 0-1-1-2-1 1 0-1 0 3 0-4-1 2-1 1 0-2 0-1-1 1 0 3-2-5-1 0-3 5-3 5 0 1 3-2 0 1 1-3 0 2 1-1 0 2 1-2 1-2 1 3 0 2 1-4 1 3 0-1 0 1 0 1 1-3 0-1 0 0 1 0 0 2 0-3 0 0 1 0 1 0 0 2 0 3 0-4 0 2 1 0 0-3 0 5 1-1 1-1 0 0 0 1 0-1 0 1 2 1 0 0 1-1 0-1 0-3 1 1 1 3 1-1 1 0 1 0 0-2 0 3 1 1 0 0 1-2 1 0 0-1 1-1 1 3 0-2 1 2 1-4 0 0 1 4 1-1 1-2 0 1 0 3 2-2 1-1 0 1 0-3 2 2 2 1 1 0 4 1 0-1 2-1 2-2 2 4 1-3 1-1 1 2 1 1 0 0 2-3 3 1 0-1 1 5 3 0 7-1 1 0 0 1 3-1 22 5-8-3-2 2-3 0-10 0-1 0-1 3-3-4-8 4-1-4-3 3-2-4 0 1-1 3-1 0 0-1-1-1 0-1 0 1-1-1 0 3 0-4-1 0-1 3-1-1-1 3-1-5-1 3 0-1 0 1-1-2 0 3-4 0 0 1 0 0-1-3-1-1 0 3-1-2-1 3 0 0 0-1-1-4 0 0 0 3 0-2 0 0-1 3 0-4 0 2 0 2-1-1 0 1-1-3-2 3 0 1-1-4 0 2-1-1 0-2 0 1-1 4 0-5 0 4-1-4 0 2-1-1 0 0-1-1 0 3-1 2 0-1 0-1 0-2-1 2 0-3-2 3 0 2-1-3 0-1 0 2 0-2 0 0-1 0 0 4-1-5 0 5 0 0-1-2 0-3 0 1-1 1 0 0 0-1-1-1 0 3 0-3-2 5-1 0 0-2 0-3 0 4-1-1 0-1 0 3-1-3 0 1-1-1 0 2 0-4-1 1 0 0-1 4 0-3 0-2-1 2-1-2 0 4-1-2 0 0 0 1-3 2 0-2-1 7 1-3 0 4 0-4 1-1 0 0 0 5 0-3 0 3 0-1 0-3 1 0 0 4 1-3 1 2 1 1 0 0 1-4 0 0 0 0 1 2 0-1 0 1 0-3 1 0 0 4 1 0 0-3 2 3 3-2 0 1 1-2 1-1 0 3 1-2 0 0 0 2 1 0 0-1 1 0 1-1 0-1 0 0 0 3 0 2 0-1 1-2 1 0 2 0 1 2 0-4 2 3 0 1 1 0 0-4 1 1 0 1 1-1 0 3 0-2 0 3 1 0 0-2 1 0 0-1 0 2 1-3 0 4 1-3 1 1 2-1 0-1 1 2 1 1 2-4 1 5 0-1 3-3 1 0 1 1 1 2 1-4 1 3 0-3 3 3 1-3 1 2 1-1 0 4 5-2 0 1 1 0 4 0 0-2 5 3 3-1 26-4 5 3 6-2 3 4 4 0 6-1-37 3-12 2-7-3-1 1-2 1-2-1-1 2-4 0-2 2 0 0-5-5 0 0 0 2-2 2-1-4-2 5-1-5-2 1 0-1-1 2-1 2 0 0-1-3 0 0 0 1-2 0-1 0-2-2 0 2 0-2-1 0-1 0 0 0-1 2-1 2-2-2 0-2-1 1 0 1 0-2-2 1 0 3-1 0 0-3-2 0 0 3-2-2-1 1-1-2-2 2-1 0-2-1-1 1-1-3 0 2 0-2-1 1 0 0-1 4 0-5-1 5-2 0 0-1-2-3 0-1-1 0 0 0-3 0 0 2-2 2-2-3 4 5 1 5 0-4 1 1 1 1 2 1 0 1 0-1 2-1 1-1 1-1 2 2 0-2 0-1 1 0 1 4 1 1 0-4 1 3 0-2 1-2 2 3 1 2 0-3 1-2 0 1 0 3 0 0 1 1 1-4 0-1 1 1 0 0 0 0 1 0 1-1 0 2 2 2 0-3 3 4 1-5 4 2 0 1 0 2 1-1 0-4 0 5 1-3 0 0 7-1 2 3 0-4 1 2 0 1 0-3 1 3 0-1 3-1 0 4 1-2 1-3 2 5 1-1 1 0 3 0 1-2 26 0 3-2 8 6-33 3-11-3-1 3-4 0-1 2 0-2-2-2-8 0-1-1 0 4 0 1 0-4-1 2-1-3-1 5-1 0 0-3-1 0-1 2-3-3-1-1-2 1 0 3-1 0-1-3-1 2-1-2-2 2-1 0-1 2-2-2 0 0-1 2-2-4-2-1 0 4-2-1-1-2 0 0 0 3-1 1-2-5 0 1-2 0-2-1 0 9 1-2 3 2 0-3 1 2 0 3 1 0 2-2 4 2 0-4 1 2 1 1 3-1 3 2 0-2 0 1 3-3 2 1 2 1 0 1 1 0 2 0 1-1 0 1 1-2 1-1 1-1 0 4 1-2 2 2 1-3 1 4 2 0 1-1 0-4 2 2 1-2 3 0 2 2 2-1 2 2 1-3 0 2 2-1 2 2 1 2 2-4 4 2 5-1 24 1 18-2-31 7-8-1-9 0-1 3-1-4-3 5-3-2-5-1-4 1-2-3 0 1-1-1 0 2-4 3-2-5-1 1-1-1-1 1 0 0 0 1-1-1-2 2-3-1-2 1 0 1-2-3-3 3 0-1-1-3 0 1-1 1 0 2 0-1-1-3-1 1 0 4 0-3-1 3 0-2 0-1-1 0-2 2-1-4-2 0 0 3 0-3-2 4-1 0-1-1-2-1-3 0 0-1-1 2-1-3-1 2-2 2 0-1 3 6 1-3 1 5 1-1 0 1 1-3 2-1 2 0 0 0 1 2 2 2 3-5 2 4 1-2 3 3 0-1 1 1 0-1 1-4 2 4 0 0 1-3 4-1 0 2 0 2 1-3 2 4 0-5 0 4 5-4 0 4 3 1 4-4 1 4 1-3 2 2 5-3 8 4 2 0 20-3 20 4-18 3-7 1-9-3-9 3 0-4-4 1 0-1-6 1-1 0-6 1-1-2-1 5-8-4-4 2-2-3-4 1 0 0-2 4-2-4-8-1-2 0-4 2-3 0-1-1-2 6 6 0 2 3 1-1 1 2 0-4 1 1 2-2 12 5 4-2 0 1 3-2 2 0 4 0 4-2 7 0 8 2 1-1 1-1 3 3 4-1 2 3 2 0-2 5-3-2-8 0-7-2-1 5-7 0-7-3-3-2-3 2-2 1-1 0-1-3-4 5-4-5 0 0-9 2-1 0-1 3-2-4-1 2-1 1-1-2 10 4 1 4 0-1 5 2 3 0 3-2 3 2 4-2 5 1 6-1 13-1-10 4-25 3-11 0-2-2 25 7 8 1 19-3 51 1" marker-start="url(#s)" marker-mid="url(#s)" marker-end="url(#s)"/>
<path d="M100 602l8 1 1 0-21 6-3-3-6 4-17 0-5-2-1 3 5 4 5 2 1-2 5 1 2 0 12 1 16 0 0-2 9 2 9-3 3 3-9 5 0-3-7-1-26 5-3 0-2-5-7 5-3-3-3-1-3 1-1-2-1 3-5 7 4-3 3 4 2-3 2 3 3-2 15 0 2 0 1 2 12-1 0 0 3-4 1 5 8 6-3-2-14-3-10 4-3-1 0 1-1-2-3-2-2 0-6 1 0 4-1 0-1-5-15 8 8 3 6-4 4-1 1 5 3-5 3 4 3-3 15 3 2-3 7 0 24 0 6 10-13-2-6 0-13 1-8-4-2 3-1-2-4 1-1 3-1-3-1-1-4 1-1 2-5 1-1-3-3-2 0 1-5 2 0-2-1-1-1 3-3 0-2-1-2 1 0 5 11-2 1 2 1 3 5-5 3 5 0-5 2 4 0 1 2-3 4 3 1 0 1-4 4 1 0-2 1 5 1-1 0-3 2-1 2 4 2-3 6 2 2 2 4-1 6 2-4 3-4 1-5-3-5 1 0-1-1-1-1 3-6 2-2-2-4 2-4-2 0 1-3 0-1-4-1 3-1 1-2-3-10 2-14 3 12 0 3 5 3-1 4 0 2 1 2-3 5-1 0 2 1-2 0 0 2 3 1 0 0-2 4 0 0-2 1 2 1 1 6 0 1 2 1-3 3 3 2-4 1-1 2 2 5 3 0-2 2-1 5 0 5-1 10 8-19 2-9-5-10 3 0 0-3 1-1-3 0 2-2-1-1 2-1 1-1-3-5 0-1-1-1 0-5 3-3-1-1 2-3-3-5-2-2 0 0 5-1-5-9 8 7 3 1-3 1 3 6 0 0-4 6 1 2 1 0 1 3 1 0 0 1-3 1 0 2-2 9 5 1-2 2 2 4 0 2-3 12-1 2 2 2 0 18-2 0 6-15-1-7 1 0-1-8 0 0 4-1-3-2 3-2-1-8 0-2 2-4-2-1 0-2 2 0-5-4 5-3-4 0 4-3-3-1 1-5 0-9 6 3-2 5 4 0-1 6 0 3-3 1 1 1 2 0-1 3 2 1-5 1 2 3-1 3 4 0-5 6 1 2 2 24 1 6-3-6 5-6 3-5 0-2-3-2 2-7-1-12 1-2 2-2-4-7 3-5 2-5 5 1-2 2-2 14 2 1 0 3-2 0 3 14 3" marker-start="url(#u)" marker-mid="url(#u)" marker-end="url(#u)"/>
<path d="M285 596l-55-1 8 10 47-3 37 9-79 0-10-4-5 0-1 0-7 7 2 1 2-3 11 3 6-2 5 4 9 0 54-3 26 3-31 2-51-1-3 4-1 1-1-2 0-3-14 0-1 1 0 4-9 1 3 0 0 1 1 4 8 0 1-3 3 3 13-3 1 2 0-4 1 1 17 1 24-2 2 1 8 4 36 0-39 3-5 3-12-5 0 1-12 0-15 3-7-4-12 2-3-2-5 5 0-1-4-1-1 3 5 4 4 0 7-4 18 1 6 4 5-1 25-2 8 3 0-2 7 2 8 0 3-4 3 0 2 6-9-1-1 4-5-1-21-2-9 1-16 2-2 1-1-2 0-2-9 4 0-3-4 0 0 2-9-4 0 5 0-2-11 0-1-3-1 5-2-2 0-2-1 2 0 2-1-1-3 0-4-3-1 3 0-1 2 3 0 5 1-1 1-3 6 3 4-4 2 2 3 0 7-2 5 5 11-3 7 1 31 0 28-2 2 4 5-2 10 4-8 2-21-3-20 1-13 3-15-2-15-1-1 2-3 0-2 0-2 0-2-2-7 3-1 1-3 0 0-3-6 2-1-4-1 3 0 1-2 0 0-2-1 1 0-1 1 8 6-3 1 1 1 3 5 0 5-4 1 3 1-1 2-1 1 0 4 3 1 0 0-1 7-3 1 0 3 4 2-5 0 4 11-1 16-3 3 1 37 1-8 5-25 0-9 4-1-3-15 3-5-3-1 3-3-2-7-3-1 5-4-2-3-1-3 3-1-4-2 4-1-1-1-1-1-2-1 2-1 0 0-2-3 4-1-3-2 3-1-4-3 4-1-2-7-1 0 3-3 1 5 5 5-2 1-2 1 3 0-3 2 0 1 4 2-4 3 0 1 3 0-2 4 0 3-2 3 3 3 2 5-5 2 2 3-1 2 0 2 2 2 0 8 2 14-2 13-3 35 11-20-3-9-1-9 2-2 0-9-2-5 1-7 3-20-2 0 0-2 0-5-2 0 1 0 1-1-3-2 1-5 1-2-2 0 3 0 1-4-1-3-1-6 2-1-2-1 0-1 2-9 6 7 0 1-2 0 2 2-3 2 0 2 3 0-3 2 4 0-2 6-3 0 0 3 3 2-3 1 3 4 2 2-4 1-1 3 5 0-5 52 5 16-4 11 2-40 3-18 3 0-3-3 4-7-3-4 3-1 1-2-5-6 5-1-4-8 4 0-4-1 4-6-2-4 1-6-4 3 9 9-3 3 0 9 0 2 1 2 1 12-1 8 1-23 5" marker-start="url(#t)" marker-mid="url(#t)" marker-end="url(#t)"/>
<path d="M324 600l12 3-77 8-22-3-1 1-3 1-16 2 9 0 2 1 0 2 1 0 42 1 25-2 14 0 4 5-9 0-11-1-6 4-14-4-1 1-9 0-2 0-13 0-2 2-8-2-7 4-12-3-3 2 0 5 3 0 3-2 5 3 12-2 5 3 1-3 1-1 7 1 0 1 3 0 45 7-7-2-20 0-15-1-6 0-2-1-1 4-3-4-5 2-5-1-7 1-3-1 0-1-7 4-2-2 6 8 5-2 1 3 1-5 1 3 0 1 1-1 1 1 0-1 5 2 0-4 0 4 2-2 2-3 8 1 3 3 6-4 47 3 10 0 19-3-19 10-20 0-14-3-2 4-11-4-2 1-20 2-7-4-4 1-9 0-1 0-8 4-2 2 0 4 1-4 2-1 3 5 2-5 6 4 2-3 2 4 4 0 1-5 5 1 1 0 3 4 15 0 0-3 0-2 14 5 7-2 20 1 12 1 4 0 4-2 2 1 2-3 4 2 9-3-7 8-14-1-6 3-3-1 0-3-12 5-3-2-6-3-2 3-36-3 0 0-2 2-7 1-1-3-1 4-1 0 0-1-1 0-7 0-1 1 0 0-3-3 0-1-2 2-2 3-1-3-2 0-4-1-2 1 3 4 2 0 3 3 2-1 4-2 3 5 4 0 2 0 2-5 1 5 0 0 0-4 2 1 2 3 5-1 7-2 20 3 2-1 2 0 23-2 13 7-6-1-3-2-32 0-5 3-13 0-16 1-1-3-3 2-5 0-1 2 0-2-2-3-6 4 0-3-1 1-2-1-1 1 0 3-2 0-4 2 3 3 2-2 3 1 3-1 0 2 3-4 0 0 2 4 2-2 2 0 4 3 6-5 2 3 0-2 3 4 0-5 4 1 1 1 2 2 1 0 2-4 14 0 8 4 3-1 15-2 24 7-18 0-1-1-28 3-1-1-16 1 0 0-1 0-1-2-1 3-4-4-3 0-1 2-2 1-2 0-3-2-2 2-2-3-2 1 0 2-1-1-2-2 0-1-1 5-2-1-2-4 0 2-2 1-1-2-1 2 0-3-1 3-1-2-1-1-5 9 0 0 2 1 2-1 1 0 5 0 1 0 1-3 1 0 1 2 2-1 1 2 0-2 0 1 1 3 1-3 1-2 3 5 12 0 1-3 2 0 1 2 2 1 21 0 19-3 6 0 7 3 24-2-84 8-1-2-2 2-4 0-2-4-8 3-3-2 0 0-1 0-2-2-2 5-5-4 2 8 20 2 9-4 48-1-73 9-1-3" marker-start="url(#t)" marker-mid="url(#t)" marker-end="url(#t)"/>
<path d="M336 596l-110 0 6 5 2 4 43 1-41 4-8-2-1 1-4 4 10 2 11 0 6-2 1 3 15-2 23 3 0 0 12-5 0 2 19 5-20 3-39-4-3 5-8-3-2 1-3-3-1 5-6-5-1 5-6 0-15-1 1 5 9-2 3 4 3-1 7-2 12 2 2-3 5 4 13-2 41-1 9-2 10 3 2 4-2-1-52 4-26 1-6-1-3 0-2 0 0-3-7 3-1 1-3-2 0 2 0-3-1-2-7 4-2-3-1 2-1-2-2-1 16 10 2-1 3-1 2 0 1-1 2-1 3 1 1 3 2-3 16-1 12 0 12 1 20-1 10 1 6 0 12 8-13-3-22 3-24-1-7 0-10 1-14-2-9 3-4 0-1-1-4-2-8 4-2 3 2 1 2 2 2-5 2 5 5-5 2 3 5-3 1 5 3-3 1 2 5-1 2 1 1 1 1-2 0-1 10 0 7 0 4-2 3 2 3-2 6 3 16 2 14-5 6 5 1 1-10 1-3 0-14 4-1 0-1-3-2-2-5 2-4 2-3-3 0 2-28-2-1 3-3 0-2-1-2-1-2 3-4-2-3-1-2 2-1-1 0-3-2 0-1 1-7 3 2 7 5 0 6-1 0-1 4-2 0 3 4-4 1 5 6-2 1-3 6 0 10 4 8-4 12 0 23 3 7-3 11 5 11 1-13 1-4-1-17 2-23 3-9-3-6 2-8-3-4 1 0 2-5 1 0-3-2 2-2-3-1 1-1-1-1 0-1 4-1-3 0 1-2-1 0 0-1 3-2-5-8 2-5-1-2 3-4-3-2 8 0 2 1-2 6-2 5-1 2 1 1 0 0 1 2 3 1-1 0-2 5 0 0 2 1-3 0 0 2-1 4 3 2 1 2-1 0 1 0-4 2 2 4 0 5 2 8-1 19-2 16-1 4 4 0-3 5 1 24 2-4 6-61 0-4-2-10 2-7 1-1 0-4-1 0 0-4-4-2 4-1-1-4-1-1-1-3 2-2 0 0 1-1-4 0 5 0-3-3 2-1-4 0 5 0-2-1 2 0-1-1 1-1-5-2 5-5 0-1-3-5 8 8-1 1-3 3 4 1-4 1 0 1 4 4 1 3-1 0-1 1 1 0-1 2-3 0 3 3-2 3-1 3 5 1-4 1 3 2 1 48-1 16-2 33 6-98 0-2 2-8-4-2 1-1 0-1 0-2 0-1 0-3 1-2 3-2-1 5 4 7 0 1 3 2-5 3 5 7 0 1-1 21 0 12-4-53 7" marker-start="url(#t)" marker-mid="url(#t)" marker-end="url(#t)"/>
<path d="M315 599l-23 0-2 0-68 3 37 3 26-2 48 3-32 1-48 4-11-4-11 3-1 0-7 4 2 1 0 2 1 0 8-5 2 5 6-1 3 1 75-5-45 7-15 0-1 3-4 1-4 0-9-3-2 1-1-3-12 2 0 2-2-3-1-1-2 4-2-2 0 6 0 0 7 1 4 0 3-1 8 2 4-1 4-1 3 1 13 2 68-4-2 9-19-4-25 4-36-3 0 0-12 2 0 2-1 0-10-4-3 4 0-1-6 3 19 3 0 0 1 1 9-3 1 1 5-1 4 3 4-2 2 2 41 0 5-1 4 0 3 1 11-2-30 3-1 4-26-4-3 0 0 0-17 3 0-3-1 4-1 0-5-2-4 1-6 1-7 1 0-4-8 4-3 4 1 0 1 2 1-4 2 1 2-2 4 3 2-2 12 2 2 1 10-4 2 4 1-4 1 0 1 3 0-2 27 1 4 1 52-3-3 11-25-5-4 3 0-2-2 1-3 3-18 0-5 0-22-2 0 1-4-2-1 0-2 1-13-1-1 2-5-2-1 2-3-2-8-2-5 8 1 1 1 0 1-1 1-2 2 0 2 3 0-1 1 1 11 1 2-3 0 0 0 4 1-3 2 3 3-1 2-2 2-1 17-1 24 5 5-1 8-1 1-1 18-1 6 4 13-3-29 4-36 5-3-5-5 2-10 3-10-3-3 1-5-3-1 2-2 1-1-2 0-1-3 3-1 0-1-2-3 3-1 1 0-5-2 3-1-3 0 1-2 0-2 1 0-1 0 3-1-1-1-1-4 5 0 3 6-2 2-2 3 1 2 0 0 1 0-1 1 4 1-5 0 5 2-4 0 0 1 2 7-3 2 4 2-3 1 2 0 0 2 0 0-1 0 0 5 2 1-3 1 2 11-2 8 0 5 0 1 3 42-4 1 1 3 2-2 6-27-2-17 1-6-1 0 2-5 2-17-3-5 3 0-2-1-2-1 1-1 0 0 2-1-3-4 4 0-3-1 0 0 2-1-1 0-1-2 2-4 1-1-1 0-4-2 2 0 1-1 1 0-2-2-1-1 2-1 0-3-1-1 1-4 8 4-1 1-2 3 2 3-4 1 4 2-4 1 0 2 1 1 1 0-2 3 0 5 4 2 1 4-2 1-1 16-2 5 3 19-1 25-1 10-1 12 8-26 0-38-2-12 5 0 0-1-4-12 4-5-4-2 0-5-1-4 2-3 0-2-1-2 2-3 1 6 7 6-4 0 2 1 2 0-5 14 1 1 0-8 6-9-1" marker-start="url(#t)" marker-mid="url(#t)" marker-end="url(#t)"/>
<path d="M298 598l-12 1-19 0-7-1-3 0-4-1-9 1-10 1-2 0-2-2-2-1-9 0-1 5 2 1 4 2 0 1 1-4 5 3 0-4 1 3 0 2 2-3 5-2 1 2 1 2 5-3 2 1 0 2 0 0 2 1 1-1 1-3 2-1 1 3 4-1 1 0 3 3 0-1 3-2 3 2 7 0 2-2 0-2 1 4 5-4 1 4 5-3 8 2 3 0 5-3 1 0 5 1 4 4 3-1 3-4 16 1 3 4 0-4 2 10-6-2-10-2-3 0-3 1-10 1-1-1-2 2-1-4-2 2-4-1-7 4-4-1-7-1-2-1 0 1 0 2-3-5-1 2-1 1-1 2-2-3 0 1-2 0-2-3 0 0-5 2-1 0 0 1-5 1 0-2-3-1 0 0-1 0 0 3-2-1 0-3-1 3 0-1-3 2-1 0-1 0-1-4-2 0 0 1 0-1 0 3 0-1-1 0 0-2 0 3-3-2 0 4 0-3 0 1-1 1 0-2-1 1-1-2 0 0-1 3 0-4-1 4 0 1-2-4 0 0 0 1-2-2-2 1-1 2-1-2 0 4-2-3-1-1-1-1 0 1 0 1-1-1-1 2-3 0 0 5 1 3 1-2 1-1 2-1 0 4 1-2 0-3 1 4 0-1 0-1 0 1 2-2 0 1 0 2 0-4 0 3 1 2 0-2 1-2 0 4 1-2 0 1 1-4 0 4 0-3 0-1 1 2 0 1 1-1 1-1 0 4 1-1 0-4 0 0 1 4 0-3 1-1 0 2 0 0 1 3 0-3 1 0 0 3 0-3 0-2 0 4 1 0 0-1 0 1 0-3 1 1 0 3 1-2 0 1 1 1 0-2 0-3 1 5 0-4 0 0 1 4 0-1 1-2 0-2 1 1 1 1 0 3 0-1 1 1 0-4 0-1 2 2 2-2 0 3 1-3 0 4 0-4 1 1 0 2 1-1 0 0 1 3 2-4 0 1 0 2 0-2 0 3 1-3 1-2 0 2 1 0 2 2 1-2 0-1 2 1 1 2 2 0 2-2 0-1 0 0 5 1 0 3 2-5 3 4 2-1 9-1 11 2 1-1 1 1 1 1 1-2 1 1 5 0 1-2 10 2 4-2 1-1 5 0 2 3 8 2-2 0 0 2-1-2-1 0 0 1-8 2-1-3-1 2-2 2-5-3-1 2-1 0-1 1-4 1-2-3-6 2-1-2-1 0-10 0-3 1-6-1-2 2-3-3-1 0-1 1-3-2-1 2-1 1 0-3-1 1-6 3-1-2-2 3-4-5-2 5 0-4 0 0 0 2-1-2 0-1-1 0 0 4 0 0 0 0-1 1 0 0-1-1 0-1-1 1-1 1-1-3 0-1 0 2 0-3 0 2-1 3 0-5-1 5 0-3 0-2 0 0-1 3-1 2-1-3 0 0 0-2-1 4 0-3-1 4 0-4-1 0 0 2-1-1-2 3-1 0-1-3 0-1-1 3-1-1-1 0 0 1 0-4 0 5-1-4-1 1 0 1 0-3 0 5 0 0-1 0 0 0-1 0 0 0 0-5 0 3-1-3-1 5 0-1-1 0-2-4 0 0 0 4-1-1 0-1-1 2 0-3 0 0-1 2 0 0 0 0-1-2 0 4 0-2 0-2-1 0-2 3-1 1-2-4 0 1-1 1 1 7 1 1 2-4 0 2 1 2 0-5 0 5 0-5 0 4 0-3 1-1 1 2 0 1 0 2 0 0 1-5 0 4 1-3 0-1 1 5 1-4 1 4 0 0 0-4 1 4 0-4 0 1 0 2 0-1 1-2 0 2 1-2 1-1 0 2 1 0 4 3 1-1 1-1 1-3 1 2 0-1 1 0 1 4 1 0 1-5 2 0 0 2 2 1 0-2 0 1 3-1 0 2 1-3 2 3 3 0 1-2 1 1 0 2 1-1 4 2 1-1 2-1 0-3 1 3 2-2 2 3 3-2 3-2 3 1 1 2 0-3 2 2 9 1 2 0 2-3 4 0 4 0 9 5 4-2 5-2 4 2 9 0 4 4-2 0-3 2-5-3-7 1-10 4-2-1-3 0-1 0-4 1-6-3-4-1-2 0-7 4-2-4-1 3-3-4-5 3-6-3 0 5-1-2-2-3-1 0 0 2-1-2-2 1-4 0-1 0-1 0-1 4 0-5-1 4-1 1 0-3-1 1-1-1-1 1 0-3-1 4 0-1-1-1-1 1-4-2-2 4 0-3 0-2-1 2-1 0-1 2-1-1 0-2 0 1-2-1-1-1 0 4 0-1-3 1 0-1 0 2 0-3-1 2 0-2-2-2-2 5 0-1-1-4-1 0-1 5 0-3 0 2-1-4 0 3 0 2-1-3-3 7 1-3 2 0 1 5 0 0 0 0 0-2 0 2 1-1 0-4 1 2 1 2 0-3 0 4 2-2 1-3 0 0 1 4 2-3 1 1 0 0 1 2 0 1 1-2 3-3 1 4 1-2 1 3 1-1 0 0 2 1 0 0 1 0 0-3 0 1 2-3 1 1 0 3 1-1 0-1 1-1 3-1 0 2 1 3 1-2 0-1 1 1 0 2 2-4 1-1 1 5 1-1 1-3 4 0 15 3 1-4 0 5 4 0 6-5 2 0 0 1 3 0 1 1 2-2 0 3 3 2 7-1 1 1 0-2 4-2 3 3 3 0 2-1 6-1 1 1 5-3 4 4-9 6-4 1-5-3-8 3-1-4-4 2-15-3-6 3-1 0-10 1-3-3-1 1-7-2-6 5-1-2-1-3-1 4-2 1-1 0 0-4-1 3-1-3-1 4-1-1-3-4 0 5-1-1-2-1 0-2 0 0-1-1 0 3-3-1-1-1-2-1-1 4-1-4 0 5-1-1 0-1 0 2-1-5-1 0-1 5-1-4-1-1 0 3-1 0 0-2-1 1 0 1-1 1 0-4 0 4-1-1-2-3-4 0 7 7 2 0 1 4 0-4 1 4 1-2 0-3 1 1 0 0 1 0 2 4 0-1 3 0 1-3 1 2 1-2 0 1 1 1 0-2 0 2 0 2 0-4 1 0 1 4 4-2 2 1 3-2 1 1 0-3 5 3 5 0 7-1 3 0 2 0 0 3 8-4 5-1 2 1 1-1 1 5 3-4 2 2 5-1 1-2 2 4 9-2 8 1 8 2 4-1 2-2 5 1 2 1 2-3-16 9-3-4 0 4-2 0-13 0-11-3-10 4-5 0-1-1-6-3-1 1-4-2-3 2 0 0-1 1-7-1-4 1-3-2-1 4-5 0-7-4-2 2-2-3 0 2-2 0 0 3-4-2 0 1-1-3-2 1-4 2 0-2 0 0 0-2 0 0-1 5 0-2-1 0 0-1-1 1-2-3-1 0 2 8 0 3 1-5 0 2 2-1 2 2 0-1 0 1 0-3 1 2 0 1 1 1 1-2 0 3 3-3 1 0 0 3 3 0 1-4 0 0 1-1 1 2 2 1 0-1 1-2 1 0 0 1 1-1 0 3 2 1 1 0 0-3 2 1 0 3 1 0 1-4 0 0 1 3 0-1 0-3 0 1 0 1 0 0 3 3 5-3 1-1 9-1 5 0 18 2 3-1 2 3 4-2 2-2 7 0 2 3 4-1 2-2 8 2 2 1 2-2 7 1 9-2-7 7 0 0-3-1-11 5-4-2-5 2-4-1-7-4-20 2-2 1-10-2-8 0 0 3-3-1 0-2-8 2-4-3-1 4-1-3 0 4-3-1-3-4-2 1-1 1 0 3-1-1-1 1-1-4-1 1-1 1-1 1 0-1-1-1-1 1 0-1-2-1-1-1 0 5-3-2-1 1-1-3 0 3-1-3-3 1-1 3 2 6 1-1 1-4 4 3 0-2 1 2 0 2 1 0 4-3 1-2 0 2 1-2 1 5 2-2 4-3 3 4 1-1 0 1 4 1 1-2 0 2 1-4 1 4 2 0 1-4 0 0 9 4 3 0 17-2 6 0 20 1 10-3 10 3 3 0 12 0 0 6-37-2-25 2-4 0-10-1-11 1-2-4-4 2-3 2-1-2-5-2-2 1-1 4-3-2-2-1 0 1-1-2-3-1-1 0-2 0-1 0-2 5-3-4 0-1-1 5-3 0 0 2 5 2 1 1 1 0 1 1 4-3 5-1 5 3 7-1 4-3 3 3 6 0 17-1 3 0 2 0 3 3 7-3 8-1 3 4 1-1 22-1-56 8-26 0-1-2-3-2-2 1-1 1-4-2-9 4-5-1-1-1 3 8 10-5 19 4" marker-start="url(#s)" marker-mid="url(#s)" marker-end="url(#s)"/>
<path d="M323 599l0-1-7 1-10-3-14 1-3 2-4-2-16 1-16 1-6 0-2 0-2-2 0 1-2 1-3 0 0-1-6-3-2 2-10 6 4-3 0 0 2 1 1 3 1-4 0 2 2 1 0 0 5-1 2-1 3 2 0 2 1-1 0 0 7-3 1 3 1-1 3-3 0 3 2 2 1-1 2 0 0-4 1 0 0 4 5-1 4-1 6 1 2 1 7-3 2 3 12-1 4-1 3 2 7-2 32-2-8 6-7 3-8-3-3 0-15 1-11 3-2 1-1-2-6-2-1 3-1 1-1-5-1 0-13 5 0-5 0 2-5-1-2 1-2 3-2-2-1-1-2 1-2 0-2 1-2-4-1 5-1-4-1 3-6-1 0 0-1 1 0 0 0-3-1-1-1 5 0-2-1 2 0-5-1 3 0 2 0-1-2 0-1-2-1 2 0-3 0 3 0 0-1 0-1-3 0 4 0-3-2-2-4 3-2-1-2 1 1 8 1-5 0 3 0 2 2-2 0-3 2 0 1 1 0 3 0-3 1 3 0-3 0 4 1-2 1 1 1 1 0-5 1 5 0-2 0-1 1 0 0 1 0 1 0 0 1-2 0 1 1 1 1 0 1 1 2 0 1-2 0 2 0-3 0 0 0 3 0-2 1-1 0 2 2-1 0-2 0 0 3-1 1 4 1-2 1 3 2 0 1-3 0 2 1-3 1 0 0 3 1-4 1 2 1 3 1-4 0 2 0 2 3 0 1-3 2-1 0 2 0-2 3-1 1 4 2-3 1 1 1 2 4-2 0-1 1 0 0 4 0-1 1-1 1 2 4-2 1-2 0 0 1 2 2-3 0 2 3 2 1-2 5 1 2 1 3 1 2 0 2-5 1 4 4-2 23 0 0 3 1-3 2-2 6 1 6 4 1-2 0 5-1 3-1-1-2-3-1 1-2 2-2 0-8-2-6-2-1 0-1 4-3 0-7-4-4 1-3 2-1 1-1 0-1 1-3-5-1 2-1 1-1-3-1 5 0-2-1 1-3-4-1 2-4 1 0-2-4 0-1 1-1-1-2-1-6 4 0-2 0 2-1 1 0-1-2 1-3-2-3 0 0 0-1-1-1-1-1 4 0-3-2 1 0-2 0 3-2 1 0-5-1 4-4-1-1-2 0 0 0 4 0-4-1 4 0-4 0 1-1 3 0-5-1 2 0-1-1 1-1 2 0-3 0 4 0-3-1 0-1-2 0 3 0-3-1 2 0 1-1-2 0-1-1 2 0 0-1-2 0 2-1-1 0 0 0 4-1-4 0 3 0-1 0-1-1-1 0 2 0 1 0-1 0-3-1 5 0-3-1 0 0-2 0 1-1 1 0 1 0 0 0 0-1-2 0 4-1-3 0 2 0-4-1 1 0 2 0-3 0 5-1-1 0 1 0-5-1 4 0-2-1-2 0 3 0-2-1-1 0 2-1 0 0 3-1-1-2-4-1 2 0-2-1 0 0 4 0-2-1 5 1 0 2 3 0-1 1-2 1 3 0 1 1-3 0 0 1 1 0-3 1 3 0-3 1 2 1 2 1-2 1-1 0-1 0 5 0-4 0-1 2 2 0-1 1 3 2-4 0 4 0-3 0 2 1 1 0 0 1-2 0-1 0-1 1 5 1 0 1 0 0 0 1-4 0-1 1 4 0 0 0-4 1 0 1 0 0 1 0 2 0-1 1 1 0-1 1 2 0-3 1 2 0 0 0-3 1 3 0-2 0 0 1 3 2 0 0-3 0 2 0 0 1-3 1 3 1-1 2 1 0-3 0 0 2 3 2 0 1-2 0 4 3-4 1 2 4 1 0-1 3-1 3 0 0 1 2 2 0-2 6-2 4 1 2 3 3-4 1 0 0 0 3 3 6 1 0-4 4 1 3 2 2-3 2-1 0 3 8 1 4-1 1 2 6-2 1 2 6-2 1-3 4 0 1 8-1 3 0 0-4-3-10 1-2-3-1 4-3-1-3 1 0 0-1-4-11 3 0 2-5 0-6-5-6 0-2 1-1 0-8 1-1 3-1-5-4 4 0-3 0 3-1 1-2-3-7 2-1 0-1-4 0 3-1 1 0-1-1 0-1-3-2 5 0-2 0-1-1 0-3-2-1 0-1 2-4 2 0 0-1-1 0-3-1 3-2 1-1 1 0-3-1-2-1 3 0 2 0-1 0-1-3-3-1 0 0 3 0 2-1-5 0 4 0-4 0 0 0 3-1 1 0 1-1 0 0 0 0-2 0-2-1 2-1-3 0 5-2-1-1-3-1 1 0 1-1-2-1 3 0 1-1-3 0 3-1-2 0-1 0 2-1-3 0-1 0 0-2 0 0 4 0 0-2-1 0 1 0 0-2-4 1 7 2 2 1-3 0 2 0-1 1 0 1 1 0-2 1 5 0-5 1 5 1-2 0 1 1-2 0 1 1 2 0-4 1 4 1-4 1 3 2-2 0 1 0 1 2-1 1-3 1 3 0-1 1 3 2-5 2 2 2-2 1 5 0-3 1 2 0-3 1 3 3-4 0 3 2-1 0 0 0 2 0-1 1-3 2 5 0-1 0-4 3 0 0 5 1-2 1-1 1 3 1 0 3-5 0 3 0 0 4 1 0 1 1-5 5 0 2 0 0 4 2-3 7 4 2-1 6-3 2 4 1-5 6 4 5 1 13-2 15 1 4 0-5 4-1 3-6-5-7 0 0 1-14 0-15-1-7 0-8 4-3 1-3-2-5 2-2 0-2-2 0-1-1 0-3 0-2 2-1 1-4-5-2 5-1-4 0 3-1-3 0-1-2 1 0 1-2 2-1 1-1 0-1-3-1 2-1 0-1 0-2-3 0 4-1-3 0-2-2 0-1 2 0-2 0 0-1 3-1-3-1 4-1-3 0-1-1 5 0-3 0-1 0 1 0-1-2-1 0 5 0-5-1 1 0 4-1 0 0-1-1-4-1 1-1 4 0 6 3-5 1 3 4 2 0-2 0-2 1 3 1-1 0-3 0 5 0-4 0 0 2 1 0 3 1-5 0 0 2 3 0-1 0 2 1-1 1 0 0 0 1 0 4-3 0 3 0 0 1 1 3-1 0-2 1-1 0 2 0 1 1 0 0-2 2-1 1 0 1 0 1 0 0 0 1 0 1 0 1 2 1 3 3-1 0 1 2-3 4 0 6 3 2-1 1-2 4 2 2 1 6-5 8 5 4-3 1 1 3-3 10 4 0 1 6-4 6 2 6 0 1 2 3-3 0 3 3-1-4 7-21 0-2-1-3-1-1 2-6-3 0 1-5-3-4 2-1 0-2 3-9-4-6 2-1 0-4 0-3 1-2-2 0 2-3-4 0 2-2-2-4 1-1 0 0 1-1 0-3-1 0 4-4-4 0 1-1 2 0 0-2-2 0 0-3 2 0-1-2 2-1-3-1 2 0 1-2-1-1-1 0-1-1-1 0 0-1 0-1 1 0-1-2 1-1-2 0 0-1 4 0-3-1 0-1-1-2 2-3 3 0 4 3 0 3 2 1-2 0 1 1 0 0-3 5-1 2 0 1 4 1-4 3 0 2 4 0 0 0-4 1 3 1-2 1 3 1-2 1 1 0 0 1 0 0 0 2 2 3-4 2 2 2 1 2 0 1-3 0-1 2 0 0 1 1 0 0 0 3 4 3-4 5 1 3 2 2-3 2 2 2-1 4 0 1 0 5 2 10-1 15 0 10-2 0-1 19 3-16 8-20-3-4 3-4-5-1 4-24 0-9-4-8 1-1-1-2 0 0 2-1 0-3 2-1-4-2 2-2 2 0-2-1 2 0-1-1-2 0 4-1-1-5 1 0-2-2 0 0-2 0 2-1 2-1-5-2 2-2 1-1-1-2-2-3 1 0 0-1 1 0 1-2-2-1 0-1 1 0 1 3 5 3 1 1-1 0 2 0 0 0-2 1 2 4-3 1 1 0 0 3 0 0 1 2 0 10 2 3-3 4-2 3 3 2 0 0-2 1 1 1 2 1 1 0-3 4-2 11 0 2 2 3 0 12-1 5 3 19-1 2 1 24 0-44 7-8-5-3 2-3-1-21 2-2 2 0-3-1 2-1-2-4 1-13-1-2-2-6 1-8 0-2 1-3-2-2 3-1-3-1 0-1 10 0-4 1 4 0-2 3 3 0 0 6-3 1 0 6-2 3 0 6 3 3-2 1-1 4 5 37-1 1-3 2 2 8 2 23 3-12-1-35 1-25 0-10 1-10-3-7 0-4 1-2 8 1-3 2 4 5-1 2-2 22 0 38-1 14 2 6-1 4 4" marker-start="url(#s)" marker-mid="url(#s)" marker-end="url(#s)"/>
<path d="M326 599l-1 0-4-2-5 2-5 0-27 0-11 0-1 0-17-1 0-1-3 2-13 0-1-1-6-1-6 1 0-1-2 0-7 5 6-1 1 4 0 0 1-3 0 0 0 0 0 1 1-3 5 3 1 2 2-2 0-2 1 3 3 0 1 1 0-1 2-2 2 0 0 3 0-4 4 1 2 2 2-4 1 4 0-3 3 1 5-1 2 2 1-2 5 2 6 1 12 0 9 0 4-2 1-1 4 0 6 3 6-2 4 0 3 0 4 1 3-2 2 4 1 6-13-4-10 0-2 0-11 1-3 1-2 1-1 1-4-1-6 0-6-4-5 4 0-1-4-3-1 4 0-1-4 0-1 2-1-2 0 2 0-3-1 2-1 1 0-2-1-2 0 2-1 2 0-2 0-1 0 0-3-1 0 2-1-1-1-2 0 2-2 0 0 1 0-2-1 1 0 0-3-1-1 2-1-3 0 4 0-3 0 0-2 3 0-4-1 2 0-1 0 3-1 0-1 0 0-4 0 2-2 2 0-2 0 1-2-3 0 4 0-3-1 1-1 2 0-2-1 1-1 0 0-1 0-2-1 0 0 5-1-2-2-1-2 0-1-1 0 0-3 4-1-2-1 1 0-1 0-3-1 11 1 0 0 0 1-4 0 1 0 1 0 2 1-3 1-1 0 2 1 2 1 0 0-2 0 1 0-4 1 4 0-1 1 2 0-1 0-3 1 0 1 4 0 0 0-1 0-3 0 1 0 0 1-2 0 0 0 5 1-1 0-2 0-2 1 5 1-5 0 0 0 1 0 2 1-1 0 3 0 0 1-2 0 2 1-1 0-3 0-1 1 2 1 2 0 0 0-3 1 0 0-1 0 3 2-2 1-1 0 5 1-5 1 0 1 0 2 4 0-4 1 1 0 0 0-1 1 1 1 4 0 0 1 0 0-3 1-1 1 0 2 1 1-1 1 0 0 1 1 3 0-4 0 3 0-1 2-3 0 4 1 0 0-2 1 0 1 2 3 0 0-2 2-2 2 0 6 4 1 1 2-3 4 0 0 1 1 0 1 2 0-3 0 2 1-2 2 1 1 1 2-4 2 0 1 4 9-1 5 0 2 1 15-1 6 2 1-2 8-2 6 3 0 2-8 0-2 5 0-3-3-2 0 3 0-3-10 4-3-3-5 3 0 0-1-3-2 4-2-3-8 1 0-3-1 4-2-1-1-2-5 1-3 3-2-5-4 0-1 1-1 4-1 0-1-5-1 4-3-1 0 0 0 0-2 1 0 1 0-5-3 0-1 4-1-1-1 1-1-4-4 0-1 0 0 2-1 0 0 2-1-1-1 0-1 2-1-5-2 2 0-1-1 3 0-2 0-1-1 1-1 3-1-4-2 0 0-1 0 4 0-1-1-2 0 4-1-3 0 1-1-1 0 2 0-4 0 1-1 3 0-4 0 2-1-2 0 5-1-4-1-1 0 3 0-1 0 0-1 3 0-5-1 2-1 0-1 0 0 1 0 1 0-1 0 0-1-1 0-1 0 4 0 0-1-5 0 5 0 0 0-2 0-2-2 2 0 1 0-1-2-2 0 1-2 1-1-3 0 1 0 1 0 2 0 0-1-1-1 2 0-4 0 1 0 0-1 0 0 3-4-1 0-1 0-2 0 1-1-2-1 3 0-1-1 0-1 1 1 5 1 0 0 3 1-2 0-1 1-2 1 0 1 0 0 3 1-2 0-1 1 2 1 0 0 0 0-2 1 4 0-2 2 1 1-3 0 1 0 3 1-1 0-1 0 2 0 0 0-4 0 3 1-1 0 3 1-5 1 2 0 2 0-2 1 2 1-2 0-1 1-1 0 3 1 0 0 1 1-4 1 3 0-1 0-1 1 2 0 0 0-2 1 1 1 1 2 2 1 0 0-4 0-1 1 5 0-2 1 2 1-1 0-4 1 1 1 3 0-2 0-2 0 4 1 0 1-4 0 1 2 3 1-3 1 4 0-4 0 0 3 1 1 3 0 0 1-2 5 1 1-2 1-1 2 4 1 0 2-1 1 0 1-2 2 1 1-3 5 5 1-3 2-1 1 2 1 2 3-5 1 1 8 2 1 1 1-2 2-1 1 4 1 0 2-3 6-1 4 0 0 2 3 0 1 1 0-4 2 2 4 1 3 0 10-1 2 1-6 4-11 4-2-2-5-2-12 4-5-2 0 1-1-1-1-2-2 2-14 2-1 0-5-2-1 0-1-1-1 3 0-4-1-1-4 5-7-3-2-2-1 3-3 2-4-1-1 0-2-3-1 0 0 4-2-5 0 0-2 0-1 1-1-1 0 1-4 1-2-1-1 0 0 3 0-4-1 0-1 0 0 5-1 0 0-1 0-2 0 3 0-1-1-4-2 0-2 0-1 0-1 5-1 0 0-4-1-1-1 2 0 1 0-2-2 4-1-2 0-1 0 0 0-2-2 0-1 2-1 8 1 1 2-1 2-3 1 2 2 1 1-4 1 3 1 0 0-2 1 2 1 1 1 1 0-4 0 0 1 4 0 0 1-5 0 4 0-1 0-3 1 0 1 2 0 3 1 0 1-1 0-2 0 2 0 1 1-3 1-2 1 4 1-4 0 1 1 2 1 2 0-1 2-1 1-3 0 5 0-2 1-1 3-1 2-1 0 4 1-1 1-1 3-2 2 2 3 0 1-2 0 3 2 2 5-2 5-3 1 3 3 0 2-3 1 5 3-4 1-1 2 4 0 0 6 1 3-2 1 2 4-1 3-2 5 2 6 1 5-3 3 3 6-3 0 2 0 1 1-1 1-2 2 1 1-1 2 0 4-2-6 6-16 2-8-1-3 1 0-1-6 1-10 3 0-3-10 0-5 3 0-4-6 1-1 2-2 0 0-4-3 1-3 3-2 0-3-1 0 0-2 1-1-1-1-2-1 1-1-1-2 2-2 1-1 0-1-4 0 3 0 0-3-1-2-2-1 5 0 0-1-3-3 2-2-4 0 3 0-3-1 3 0-3-2 5 0-1-1 0-1-3 0 1-1 1-2-2-1 3-1 0-5 1 1 5 2 1 3-4 0 3 1-1 0 1 1 1 0-1 1-4 2 0 0 5 0-4 1-1 1 2 1 3 1-2 3-3 1 1 0 2 1-3 2 4 1-4 1 2 1 3 0-3 2 2 1-3 1 2 0 0 8-3 3 5 0-1 0 1 2-3 2 3 0-1 2-1 3-2 1-1 3 1 1-1 7 5 2-5 5 5 28 0 6-2 25-3-8 7-8 2-23-2-4 0-3 0-1 4-17-1-5-3-9 2-3-2-3-1-1 2-2-2-1 0-1 0 0 3-2-3-1 4 0-3-1 1-2 1-3 2 0-2-3-1 0-2-1 3-2-2-1 4 0-2-1 1-1-4-3 4 0-2-1 1 0 1 0-2-1-1 0 3-1 1 0-1-5-1-1 2 0-2-3-2 0-1-1 1 0 0 0 4-1 0 0-5-1 3 0-1 0 2-2 6 2-4 2 5 0-1 3 1 0-2 0-2 1 0 2 3 0-3 1 2 1 0 1 1 0-2 0 2 0 1 1-5 0 0 0 4 1 0 2 1 0-1 3-2 0 0 1 1 0-2 1 2 0-3 1 5 4-3 3 0 1-1 0 2 0 2 0-2 3-3 2 2 0 2 4-3 1 3 2-1 8 2 0-4 0 1 2-2 8 4 8-4 3 4 0 0 2 0 0-4 1 3 9 0 11 2 2-3 7 0 16 1 7-3-4 11-10-3 0-1-9 4-2-3-32 3-2 0-8 0-1-1-7-4-3 3 0 0 0-3-1 5 0-3-2-1-3 4-8 0 0-5-3 5 0-2 0 2-2-4-1 0-4-1 0 0-1 4-1-3 0 4 0-3-2 1-1-3 0 3-1 0-2-1-1-2-2 2-1 2-2 0-1-2 0 1-1 0-2-3-1 2-3-1-2 2-2 2 2 2 0 2 5-2 0 2 0 0 1-3 1 3 3 1 0-2 7 3 0 0 1 0 2-3 1 2 1-4 2 3 1 0 3 2 0-2 1 2 1-5 1 2 0-1 3 1 1 3 0-3 1-2 7 2 2 1 11-3 12 4 22-4 20 2 8 1-47 5-6 0-6 3-16-5-4 0-4 4-1-1-3-1 0-2-5 0-2 5 0-3-6 0-4 2-1-4-2 0-5 5-2 0-1-2-3 2 1 5 2 1 2-1 1-2 0 3 1-1 0 1 9-5 1 1 3 2 4 0 0-1 1-2 7 1 2 3 50 2-48 2-37-1 5 5 0 0 2 1 3 2 7-3" marker-start="url(#s)" marker-mid="url(#s)" marker-end="url(#s)"/>
<path d="M338 598l-2 0-3 1-25 0-1-3-6 2-19-3-6 3-11-3-2 4-12-2-11 0-2 0-10 2 0-1-10 4 1 2 3-1 2 1 1-3 1 3 3 1 1-3 1 0 1 3 5-5 2 3 0 2 0 0 2 0 4 0 1-2 1 1 0-1 0 2 0-5 2 4 0-2 2 0 1 3 7-2 2 2 7-3 8 0 9 0 16 2 1-4 6 4 1-1 7 0 4-3 3 5 4-3 11 0 5 6-1 1 0 0-14 0-8 1-3 0-1 0 0-3 0 4-3-4-13 4 0 0-2-5-2 4-2 1-3-3-2 0-5-1-6 4-2-5-2 3-1 2 0-2-2 0-7 2 0-5 0 5-5-3 0 0-4-1 0 2-1 1 0-4 0 4-1-4 0 2-2 3 0-1 0 0-3 1 0-3 0 3-1-1-1-1-2 2 0-2-1 2-3-1 0-2 0 2-1-4-1 4-1 1 0-2 0 0-1 2-1-5 0 4 0 0-1 0 0-1-1-3-1 2 0 2 0-2 0 3-1-3-1-2-2 3 0-1 0 2-1 1 0 0 0-5 0 0 0 4-1 1 0-1-1-4-4 5-1-3 0 0-4 1 0 6 1-2 2-1 0 3 1-1 0-2 1 2 0 2 0 0 0 0 3-2 1 0 0 3 0-1 0 0 1 1 0-1 0-3 1-1 0 2 0 3 1-3 0-2 1 4 0-3 1 2 1-3 1 1 0 3 0-2 1 3 0-5 1 0 0 5 0-5 0 2 1 3 0-5 1 4 1 1 1-2 0 1 0-3 0 4 1-3 0 2 0-2 0 2 1-4 1 4 1 0 0-3 0-1 0 1 1 3 0-2 1-1 0 1 0 2 2 0 0-3 0 4 2-1 0-1 0 0 0 2 0-5 1 3 0 2 1-1 1-2 0 0 1 1 1-1 0 0 1-2 0 4 1 1 0 0 1-3 0-2 0 0 3 5 0-5 1 4 0-2 0-2 2 4 1-1 0 0 0 2 1-5 0 4 1 0 4 1 1-2 2 0 0-2 4 3 2-2 0 1 13-2 2 0 1 2 1 0 2 2 0 0 0-4 1 3 0 1 1-2 4 0 0 1 1-1 1-2 2 4 1 0 9 0 4-3 3-1 4 2 3-2 2 4 1-4 1 1 4 2 4 0 0 7-2-5-3 0-5 3-6-1-5 0-2-1-1 3-1-2-1 0 0 1-4-2-3 3-3 0-1-4-4 1-2 4 0-3 0-1-3 0-3 1-2 0-5 2-1 1 0-1 0-3-2 0-1 2-1-3-1 4-1 1-2-2 0-3-3 3 0 0-2-1-6 2-1-1-1 0 0-1-1-2-1 3-1-1-1 1 0-1 0 1-2-1 0 0-1 3 0-3-1 2-1-2 0-2-1 4-1 1-1-4 0 3-1-1-1-1-1 3-1 0 0-2 0-1-1 3 0-3-1-2 0 0 0 3-2-1 0 2 0 0-1-1-1-1 0 0 0 2 0-4-1 4 0-3-1 0 0 1 0-2-1 4 0 0-1-1 0 0 0 0-1-1-1 1 0 1-1-4 0 2 0 3-1-5-1 5 0-5 0 4-1-3-1 3 0-1 0-1-1-2-1 0 0 4 0-3-2 3-1 1 0-2-1 0 0-2 0 1-1 2-2-2 0-2 0 0 0 1 0 3-1 0-1-3-1 3 0-1-1 2 0-2 0-3-3 1 0 10 1-2 1 2 0-3 1 0 1-1 0 1 0 1 2 1 0-1 1-2 0 4 0-5 0 4 1 0 2-3 0 2 1-2 0 3 0 1 1-2 0 2 1-3 0 1 0-1 1 0 0 3 1-5 1 2 0-1 0-1 1 5 0 0 0-4 1 4 0-3 1 1 1-1 0 1 2 0 0-3 0 1 1-1 1 4 0-2 1 0 0 0 2 3 1-3 0-1 1 1 0 2 0-2 1 1 0 2 0-5 1 5 3-5 2 1 0 2 1-1 0 0 1 2 1 1 1-5 2 0 1 1 0 1 6 3 5-1 2-1 0 2 2-2 4 2 0-2 0-3 6 3 2 0 1-2 10 4 5 0 4 0 1-3 0-2 0 0 2 4 7 1 2-3 7 0 4-2 5 0 1 2 3 0 0 1-4 7-3-2-3 0-8 0-1-1-11-1-2 4-5 1-4-3-2 3 0-3 0-2-3 3-6-3-3 3-4-3 0 1-3 1-1 1-6-2-2 4 0 0-7-2 0 0-2-3 0 3-6-1-1 0-2 3-1-1-1-1 0 1 0 1-1-1 0-3 0 3 0-4-1 0 0 2 0 2-1 1-1 0-1-3-3-1 0 3 0-4-1 2-1 1 0 2-1-2-1 0 0-2-3-1 0 2-1-2 0 2-1 3 0 0 0-3 0-2-4 0-1 5 0-4-1 0-2 2-2-1-2 3-1 3 0 2 0 1 2-3 1 0 1-2 2 0 1 2 0 1 2-2 1 4 0-3 1 2 0-1 1-1 1 1 0 2 3-3 1-2 2 4 2-2 1 1 4 0 1-3 1 4 0 1 2-5 1 3 2-3 0 4 2 1 0-1 1-4 2 3 3-2 1 3 0-3 2 2 2 2 1-2 1 1 4 0 9-3 2-1 5 4 0-3 1 3 0 1 2-4 1-1 1 0 5 3 1-2 11 2 3-1 5 2 1-2 4 1 4-2 3 4 16-5 0 10-7-3 0 4-4-3-4 0-18-1-5 4-9-4-5 4-5-3-2-2-2 0-3 5-1-2 0 1-3-1-12-2 0 4-4-5-2 4 0-4-4 1-1 2 0-2-5 3-1-3-1 2 0 2-2-2-1-3 0 4 0 1-1 0-6-4-1 2 0-3 0 1-1 1 0-1-2-1 0 4 0 1 0-1 0-2-1-1-1 2-1 0 0 0 0-3 0 3-2-3-1 5-1-5 0 4-1-3 0 2 0-3 0 1-1-1-1 1 0-1-2 5-1-5-1 1 0 4-1 0 2 6 1-2 1 1 1-4 2 5 0-3 3-1 0 4 1 0 2-1 1-2 0 1 2-1 0 1 1-3 0 2 1 3 0-3 1-2 1 5 0-5 2 5 0-5 1 5 2-1 1-4 0 2 0 2 0-2 1-2 7 3 1-1 0 3 0-5 0 1 2 0 0 2 1 2 0-4 1 0 1 1 1-1 4-1 1 2 4 3 2-4 1 2 6-2 0 4 0 0 3 0 9 0 8 0 14 0 6-2 8 1 3 0 8-4 8 5 1-4-4 6-24 4-1-5-4 3-7-3-19 5-7 0-4-1-1 1-6 0-2-3-7 2-2 1-1-4 0 2-4 2-2-5-1 1-3 1-1 3-1-1 0-4-1 4-1-4-1 1 0 4 0-4-1-1-2 5-1-4-1 1 0 2-1-4-1 3-1 0 0 0-1 2 0-5 0 3-1 2-1 0-1-1 0-2-1-2 0 5-1 0 0-5-1 3 0 2-2-4-1 1-1-1-2-1 0 4-2 5 3-2 0-1 1 0 0 1 0 0 1-1 0 2 1 0 2 1 1-3 0 5 1-2 0-1 0-2 0 1 1 4 2-1 1-2 1 3 0-1 0-4 1 4 1-1 1-1 1 0 2 3 0-4 2 0 5 3 0 0 0-3 2 3 4 0 0-3 2 4 1-3 0 0 0 1 1 2 4-5 4 4 4-4 2 1 9 0 0 3 2-3 12 3 3 0 12 1 1-2 6-1 15 1 3 1 1-4 10 6-53 2-4-1-20 1-2-1-3 4-2 0-1-2-5 1-1 0-3-2 0-1-3 3-1 1-3-3-3 3-1-1-1-3-2 4-1-3 0 2-1-4 0 0 0 3-1 1 0-4 0 0 0 0-1 0 0 4 0-4 0 5-2-2 0-3-1 2 0 1-4 2 0 0 0-1-1 1-1-5 0 4 0 1-1-4 0 0-1 0-2 2 2 6 0 1 2-3 2 1 0-1 0 0 2 0 3 0 1 0 0-1 0 2 1-2 1 0 1 3 1 1 0-2 5-2 5 1 2 1 1-2 0 5 1-2 1 0 18-2 1-1 4 3 2 0 8-1 2-2 9 1 12-1 8 5 2-5 10 5 12 2-26 0-28 1-4-1-6 1-5 0-4 2-13-2-1 1-7 0-1 2-1-2 0 1-2-3 0 4-1-3-3 3-2-1-8-2-3 3-1 0-3 6 4-4 1-1 2 0 13 3 6 1 4-2 8 3 22-3 4 1 25-1 7-2 9 11-36-5-48 0-16 9 5-2 4 3 10 1" marker-start="url(#s)" marker-mid="url(#s)" marker-end="url(#s)"/>
<path d="M340 596l-40 2 0 1-13-3-17 1-16 2-7 0-1 0-15-1-3-2-1 1-9 2 1 4 1-2 1 2 3 2 5-5 0 4 3-2 3 3 0-2 7 0 1 0 3-1 0 2 1 0 3-4 4 5 4-3 9 3 5-4 4 0 5 3 7 1 9-1 6-3 0 1 9-1 12 0 3 1 5-2 2 2 4 5-8 0-4-1-9 4-15-1-6-2-1-1-5 4-3-2 0-2-2 0-5 4-4-2-1 1-2 0-1-2-2 4 0-3-1-1-2-1-9 5-3-3-1 2 0-4-1 4-1 0-1-3 0 2-1-1 0-2 0 3-1-1 0 2 0 1-3 0 0 0-1-2 0 2 0-1-2-2 0 3-4-1-1-2-2 0-2 0-1 3-1-5 0 0-1 5-1-3 0-1-1 1-1-1-1 2 0-2-2 3-1-1-2-3-2 5 0-4-1 4-1-1-1 1-1 0-1-3 0 8 2-2 0-1 0 1 1 1 0 1 2 1 0 0 1-4 1 0 0 4 0-2 0-1 2 1 0 2 0-3 1 2 0-4 0 5 0 0 0-3 1-1 0 4 1 0 0-3 1 2 0 1 0-2 0-1 0-2 0 0 1 2 1 2 0 0 1-3 1 1 1-2 1 0 1 2 0-1 0 2 0-1 1 1 0-2 0 4 1-2 0 1 0-3 1 1 0 0 0 0 0-1 0 2 1 0 0 0 0 0 1 1 0-3 0 3 0 0 0 1 0-4 1 1 0 1 2 2 0-2 0 2 2 0 1 0 0 0 1 0 1-1 1 1 0 0 1-3 1 1 2 1 0-2 1-1 0 4 0-1 4-1 1 0 2-1 0 1 0-2 0 3 4-2 3 1 3 2 1-4 3 1 2 0 0 2 4 1 1-2 4-2 1 3 0-2 3-1 0 4 2-2 1 2 6-5 3 5 0-3 0 2 3 1 5 0 6-3 4-2 2 0 1 1 1 1 0 0 5-1 3 2 2 2 1-2 5 2 1-5 1 3 1-1 1-1-1 7-4-2 0 3-5-3-2 4-8-2-4 0-1 3-1-3-1 2-1 0-1-3-1 4-4 0-2-2-4 0-3-2-4 3-1 1-4-5 0 4-1-3-4 0-4 0-3 1-4-1-2 2-1-2 0 3-1 1-6-4-2 2-1-3-2 1 0 1 0 3 0-4-1 0-1 2 0 0-2 0 0-1-1 1-4 0 0-2-1 1-2 0 0-2-1 2-1 3-1-4 0 0-1 0 0 0-1 0 0 1-1 1-2 0-1 2 0-3-1 2 0 0-1 0 0-2 0 0 0-2 0 5-1-3 0 0 0 0-1-1 0 0-1 2 0-1-1 1-1 0 0-1-1 2 0-4 0 2-1-2 0 2 0 2 0 0-1 1 0 0 0 0 0-3 0-1-1 0-1 2 0-3-1 1-1-1 0 4-1-4-1 0 0 0 0 0-2 2 0-1 0 4-1-1 0-3 0 1-1 2-1-4 0 1 0 0-1 1 0-2 0 1 0 2-3 2 1 3 1 0 1 2 1-2 0-1 1 4 0 0 0-5 2 2 0 2 0-3 1 4 1 0 0 0 1 0 1-3 0 0 2 0 1 3 1-1 0-3 0 3 1-2 0-1 0 4 0-4 2 4 0 0 0-4 1 4 1-1 1 0 0-3 2 0 1 4 0-5 0 3 0 1 1-4 0 1 0 2 0-2 1 0 0 3 0-1 0-2 0 3 1-1 0 1 0 0 0-1 0 0 2-1 1 1 0-3 0 1 0 0 0 3 1-4 1 4 1-2 0 0 1-2 1 4 2-3 2 2 0-3 1 0 1 3 1 0 1-1 1-1 1 1 1 0 3 3 1 0 1-4 1 1 0 0 1 1 1-2 0 4 4-4 1-1 1 2 5 3 4 0 1-2 0-2 0-1 5 4 3-2 11-1 2-1 18 0 10 0 5 4 0-4 1 0 4 4-1 2-1 1-7 2-18 2-1-1-1-1-1-2-4-1-4 4-1 0-3-3-4-1-2 2-2 3-3-3-1-1-5 3-1 1-2 0 0-4-2-1-1 2-5-1-2 2-3 2-1-1-3 1-4 0 0-4-6 2 0 2-2-1-2 0-1 1-1-5-1 4 0-1-1 1-1 0-1-3-1 2 0-3-1 1-1 4 0-2-1-3-3 0-1 5-1-5-1 1 0 4-1 0-1-4 0 0-1 3-1 1-1-4-2-1 0 3 0-2-2 3 0-2-1 3 0-3-2-1-2 0-2 0 0 4 0-1-3 0 0-4-1 6 2 0 0 5 2-2 0 2 1-2 0-1 0 2 1 0 1-1 1 0 1-2 1-1 1 4 1-2 0-2 0 4 0-1 1 1 2-2 0 3 0-4 0 4 0-2 1 2 0-5 0 1 0 0 0 2 1 0 0-1 0-2 1 2 1 1 0-2 0 0 1 4 0-3 1 0 1 2 0 0 2-3 0-1 0 0 1 0 0 1 1 1 1 1 1-2 1 3 0-1 1-3 0 5 2-3 0 0 0 1 1-1 1 0 3-1 0 1 5 3 0-3 5-1 1 1 0 0 0-2 10 0 13 1 5 4 4-3 1-1 3-1 0 1 1-1 19 3 6-1 1 1 5-2 8 7-3 3-2 0-5 0-6-1-5-2-5 3-4 0-4-5-17 3-6 1-8-4-2 4-3 0-5-3-1 3-3-3 0 2-3-1-4 1-1-2 0-1 0 5 0-2-1 2-2-5-5 3-1-1 0 0-3 1-2 2 0-5-2 4-1 0 0 0 0-3-1-1 0 2-1 0-1 1 0 0-1-2 0 1-1 3-2-5-1 5 0-3-1 0-1-1-2 3-2-3-1 4 0-2-5 0 4 8 1-2 1 0 0-2 1 0 1 3 0-3 1 3 0-1 1 1 1 1 2 0 1-5 0 2 1 3 0-1 0 1 0-1 1 1 0-2 3 2 1-2 3-2 1-1 0 1 1 1 2 0 1 0 0-2 2 1 2 3 1-1 0-1 1 3 2-5 1 4 0 1 5-1 1-4 0 4 0-3 4-1 1 3 1 0 1 1 0-1 2 0 2-1 5 0 5 3 4-4 1 0 3 1 14 0 2 3 3-4 6 1 2-1 5-1 1 0 2 5 13-4 1-1 6 5 0-2 1-3-8 6-1 3-2 2-2-4-3 0-8 0-2 3-15-4-1 2-4-1-10 3 0-2-3 2-4 1 0-2 0 1 0 0-2-2-2 2 0-2-5 1-2-2-3 3-1-3-1 3-3 0-2 0-1-3-1-1-2 1-1 2-4 2-2-1-2 0 0 1-1-5 0 2-1 0 0 2-1 0 0-4-5 5-1-2-2 0 0 0-1 2-2-2 0 1-1 0-1 0 0-3-1-1-1 1 0 3-1-1-1 1 0-3 0 4-1-3-1 1-3-1 0 0-1 3 0-5-1 4-1-1 0 7 2 1 1-1 0-3 0 4 1 0 1-4 1 3 0-3 0 3 1 1 0-5 1 4 0-2 0-1 0-1 0 2 1-2 1 0 0 0 1 3 2-2 1 3 3-4 0 2 0 2 1-4 3 1 2 1 2 2 0 0 1 0 1-3 0 3 2 0 2-4 1 2 0-2 6 5 5-5 1 5 5-3 1 2 6 0 3 1 2-5 2 5 12-1 0-3 9 4 5-3 16-2 5 1 5 6-2 3-2-4-6 0-3 1-1 0-20 3-15-2-3 2-11-4-9 2-4 2 0-2-4 2-2-2-1 1-1-3-1 0 0 0 0 2-2 2-2-4 0 1-1 2 0-2-1 4 0-3-1 2-1-4-3 1-1 0-3 3-1 1 0 0-3-5-4 0 0 1-1 0-2 1 0-2-1 1 0 4-1-1-1-2 0 3-1-3-1-2-1 5 0 0 0 0 2 6 5 0 0 0 2-5 2 5 4-4 4 2 1-1 1 1 1-3 5 4 1-4 3 2 4 0 3-2 11 1 3 2 3-1 5 1 5-3 11 3 0-1 8-1 8 1 12 3 4-3 11-2 4 2-4 6-19 2-9-3-8 2-17 1-3-4-14 2-3-1-4 3-9 1-2-1 0-3-4 1-2 1-3-3-2 3-1 1-2-2-2-1-1-1-5 5-1-1-1-2-1 0-2 3 0-2-1 1-2-2 1 7 1-3 5 0 7 3 13-3 3 2 0-1 13 3 10-1 3-2 17 2 0-3 8 0 1 3 2-1 3-1 34 0-57 5-33 3-6 1-1-1-25-1 3 4 9 2 4-2 3 0 10 0" marker-start="url(#s)" marker-mid="url(#s)" marker-end="url(#s)"/>
<path d="M226 599l16 6 13-1 52 1 5 1-63 2-10 0-17-1-4-1 1 6 1 1 14 1 7 1 1 2 20 0 43-3 15 7-3-1-6-1-13-1-22 5-4 0-9-3-4-1-9 0-8 1 0 0-10 3-2-5-10 5-1-1-2 5 7-3 3 2 4 3 5-2 4 0 5-1 20 2 35-2 18 0 22 3-40 2-31-1-10 5-8-2-10-1-6-1-3 1-1 2-1-3-4 4-2-4-3 2-2 1 3 7 3-3 4-2 1 2 2 0 0 3 4-1 4 1 2 0 6-4 1 4 3-4 4-1 3 3 0 1 7-2 46 0 7-2 1 1 4 1 6-1 6 10-4-2-17-3-12 5 0-5-9 3-9 1-4-2-11 0-1 0-6 2-2 1-5-2-3-3 0 2-1 3-4 0-1-5-3 2-4-1-1 3-3 0 0-3-3-1-6 0-4 2 0 1-4 2 0 1 4 5 4-1 2-3 2 1 1 3 0-5 0 3 2-3 3 3 1-3 0 1 1 1 4 2 0-1 3 0 9 0 5 1 1 0 1 0 5-4 1 3 2-1 12 3 5 0 18 5-24-4-2 4-6 0-14 1 0 0-14-1-3 0-3-3-2 4-1-2-1 2-1 0-2-5-2 5-2-1-1-1-1 0 0 0 0 0-3 0-6-3 3 11 2 0 9-3 4-1 3 4 0 0 0-4 1 1 0 0 1-2 4 2 0 1 0 0 4-1 1-2 2 0 0 3 1 1 1-1 7 0 3 0 0-2 68 3-14 3-5 4-23-4-8 1-4 2-1-4-15 4-3-1-3-1-1-2-1 2-1 2-3-3-1 1-3 0-4 2-1-4-2 2 0-2-1 1 0 0 0 4-1 0-1-4-1 2-1-3-2 1 0 2 0 1-3-1-4-1-4 2 0-2-1 8 1 1 0-2 1-1 2 0 2 2 0-4 1 0 1 2 0 1 2 0 0 0 0-1 1 1 2-1 1 0 1-1 1-1 1 5 2 0 0-2 2 0 0-1 1-2 3 2 0-2 3 4 0 1 2-3 8 2 16-1 50-2-20 7-55 3-6 0-2-5-1 4-2-1-2 2-1-4-3 4-3-3 0 1-1-3-2 4 0-1-5-3-2 4-9-4 15 6 2 4 1-4 1 0 7 4 1-4 0 4 0-1 0-1 2 0 0 2 2-4 6 3 23-1 47 4-45 1-13 0-3 0-18 2-1-2-5 3-11-4-1 0-3 11 5-3 3-1 3 3 5 1 15 0 26-1 49 0-75 3" marker-start="url(#u)" marker-mid="url(#u)" marker-end="url(#u)"/>
<path d="M421 605l86 6-5-5-9 5-84-5-21 4-10 7 12-1 10-1 18-3 42 3 24-3 8 0 13 2 1 2 1-1 0 6-12-3-52 3-62 4 14 0 3 1 33-1 23 2 7-2 6 3 0-2 4 0 7 1 17 1 8-2 5 2-6 5-2 1 0-1-31 1-60-1-22-3-2 0-5 8 9-1 4-1 30 3 22 2 1-4 6 3 6 0 6 0 1-4 17 3 6-2 7 2 2-3 3 1 0 0 3 3 1-3 0-1 2 0 1 3 0-3 2 7-1 0 0 4-1-4-5 4 0-3-2-2 0 5-20-1-4 1-5 0-17-4-20 0-3 1-5 0 0 3-33 4 4-1 21 3 9-5 4 4 8-3 28 3 8-4 13 0 5 3 1 2 1-4 8 1 4-2-1 7 0 3-1 0 0-2-15-2-13 3-1 0-5 0-30-1-22 1-17 2 0-1-1-1-4-3-16 5-2 3 3-1 6 1 4-2 3 0 3 3 26 1 5-4 12 1 4 1 32 2 5-1 1 1 8 0 6 1 4-1 3-3 1 4 1 0 1 0 0-2 0-3 1 1 0 4 0 3 0 2-2-3-2 0 0 4-3 0-1-5-23 1-5 1-1-1-4 1-4 1-7-3-7 4-7 0-3-3-6 3-5 0-9 0-4-2-4 1-2 2-1-4-11 3-16-2-3-2 0 9 0-3 2 4 4-3 6 3 74-3 22 4 7-3 3 2 2-4 0 3 3 1 0-4 2 4 1 0 1-1 2 8-9-3-6 0-9 1-9 1-31-2-6-1-14 3-4-2-5 2-7-2-10-1-5-1 1 11 21-5 5 1 2 4 46-4 15 0 7 0 4 2 13-3 0 1 1-1 1 5-46 1-14 1-6 3-3 0-48 0 2 5 25-1 1-2 64 3 20 4" marker-start="url(#t)" marker-mid="url(#t)" marker-end="url(#t)"/>
<path d="M433 602l26 3 47 6-1-1-1-2-12 0-50-1-16 0-44-1-5 6 5 1 2 2 16 2 29-1 70-3 9 10-1-1 0-3 0 1-4 0-22 0-19-1-8 0-8 3-9 1-22-4-21 4-10-4-2 1 9 9 0-2 12 2 2-2 19-3 11 4 26-2 1 0 21 1 23-1 3 0 0 5-1 4-3-5-11 4-20-4-3 1-17 3-14 0-4 1-10-5-4 2-6-2-2 2-4 1-19 2-3-3-7-1 7 9 14 1 5 0 7-5 28 4 3-4 21 0 2 3 7 2 1-2 4 0 21 1 2-2 2 2 0-2 1 1 2 2 0-4 1 3-2 3-1 4-2-1-1-4-3 1-3 2-4-3-8 0-46 0-12 0-2 3-1 2-23-5-16 11 8 0 13-4 6 3 12-2 37 1 11 1 1-4 1 2 25 3 7-5 0 2 1 0 1-1-2 7-5-2-3 2-2-1-3 1-3 0-13 2-4-1-6 1-9 1-7-5-13 5-9-2-9-3-4 4-6-1-6 2-4-5-1 0-5 4-16-2-1 7 14-1 2-1 10 3 19-4 6 1 3 1 13-1 9-1 12 1 3 4 15-5 6 1 5 1 7-2 3 3 0 2 1-4 1-1 0 3 1 1 0 1 0-2 0 2 2-2 0 0 0 3-1 4-1-2-1 1-1 1-1-4 0 1-2-1-1 5-1 0-1-2-27 2-5 0-33 0-8-5 0 3-3-1-12 1-11-2-21 9 12 0 2-2 8-1 24 3 51-2 21 3 6-2 4-1 0 3 1 1-16 4-1-1-3-2-8 2-2-1-2 2-3-1 0 2-1-5-15 5-1-2-12-3-33 0 5 9 13 2 75-4 2-1 0 3 2-3 0 2 1 9-2-2-26 2-30 0-63-5 50 11 71-4" marker-start="url(#t)" marker-mid="url(#t)" marker-end="url(#t)"/>
<path d="M395 603l16 1 89 7-14-3-72-1-12 4-5-1-8 1-3-4-10 2 14 7 5-4 38 1 25 0 6 4 18-3 17 0 2 2 7-4 0 5 0 1-1 3-8-2-3 2-52-2-62 6 1 3 3-2 15 3 2-3 16 3 2-2 46 1 25-1 8 2 5-1 2-2 1-2 0 2-3 8-4-4-1 0-40 0-7 2-3 2-38-1-3-2-26 3 3 7 6-1 9-2 5-1 1 1 14 2 41 1 3 0 5-5 4 3 25 0 1-1 3 1 2 1 4 1-6 1-28 1-8 3-3-4-7 5-8-5-11 1-14 0-5-1-3 3-15 1-8-4-13 9 15 1 4-4 5 3 9-1 2 0 4 2 1-4 2 1 18 3 3-4 22 5 19-1 14-1 6-1 4 3 1 2-1 1 0 1 0 1-1 0 0-4 0 3 0-3-2 0 0 2-4 1-5-1-1 3-1-3-8 3-11-2-4-3-10 5-15-5-7 0-4 3-23 2-4-3-3 3-14-2-4-2 0 0-3 8 14-3 4 0 3 1 7 3 2-4 10 3 10-3 6 5 8-1 4 1 15-2 3-2 2 2 7 0 4 2 18-4 1 1 0-1 2 4 0-3 1 0 1 0 2 6 0-2-1 2-4 3-1-3-2 3-2-3 0 3-4-3 0 0-1 2-11-1-4 1-43-4-17 4-10 0-4-4-12 3-5-3 8 8 4-1 12 4 1-2 3-3 21 4 11-3 1-1 24 0 9 3 22-3 2 0 0 2 1 0 0 0 1 3 1-4 1 8-1 0 0 2-2-2-2-3-7 0-8 1-9 2-4 1-29 0-5-1-4 2-47 0-7-1-5 3 56-1 37 0 21 4 9 1 2-5 4 4 1 1-8 5-2-3-6 1-45-2-24 3-16 0-18 1 52 2" marker-start="url(#t)" marker-mid="url(#t)" marker-end="url(#t)"/>
<path d="M505 600l0 1 4 3-1 5-22-2-68 2-1-1-5 0-10 2-2-3 44 7 38-1 9 4 16-4 2 9-1 1-4-2 0-2-9 0-27-1-21 0-4 1-28 2-15 4 54 1 3 2 3-3 40 3 2 1 5 0 1 0 1-3-1 5-1 3-1-4-2 4-1-3 0 3-5 0-6-1-62-3-4 0-8 1-2 3-1 0-6 0-27-3 8 10 0-1 6-3 7 0 3 4 18-5 7 1 8 1 34 1 27 2 1-1 4-3 1 3 0-1 3 2-1 1 0 4-1 0-1-1-1 0-2 1-3-4-10 1-8 4-2 0-6-3-4 3-23-1-17 0-23-2-2 1-4 2-2-5-9 0-2 2-10-2 2 7 26 0 3 2 2 0 19-1 14-2 10 3 19 0 9 1 4-1 6-2 5 1 3 1 1 2 4-1 1 0 1 0 1-2 0 3-2 6 0-1-1 0-4-2-9 2-2-1-3 2-3-3-18-1-6 4-4-4-5 0-2 1-11-1-18 1-1 2-21-4-4 3-13 1 5 4 1 1 5-1 1 1 15 1 2 1 3-5 8 3 12-2 12 3 15-1 4-3 16 3 11-1 10 3 3-5 1 4 1-1 1 2 0 0 1 2-1 0 0-1 0 3 0-1 0 3-2-4-4 3-3-4-5 5-3-2-1 2-10-2-16 0-20 1-2-2-31-1-17 2-12-2 8 10 10 0 13-2 5 1 57 1 4-1 3-1 21 0 2 1 1-4 1 1 3 3-1 7-1-4-2-1-11 4-3-2-17 2-6-1-10 0-7-3-1 2-23-1-33-1-16 5 4 2 12 3 47-2 44-1 1 4 3-5 1 5 17-1 0-3 1-1 0 4 1-4-2 11-7-1-39 1-19 0-12-4-2 2-41 4 119-1 2 4" marker-start="url(#t)" marker-mid="url(#t)" marker-end="url(#t)"/>
<path d="M377 603l5 1 0 1 3 0 2 0 4 0 23-3 20 3 11-3 2 1 4-2 23 2 3 0 4 1 4 0 7 0 1-1 0-2 8 4 4-2 2 1 1 1 0 2 0 3-2-3 0 2 0-2-2 2-2-1-3 3 0-1-2-1-1-3-8 5-3 0-4-2-3 0-5 1-4-3-12 3-2-1-1 2-1-5-4 3-1 2-4-5 0 4-8-4-2 5-4-2 0-3-1 2-4-1-1 0-4 4 0-2 0 2-2-4 0 3-1 0-3-1-3 1-5 0-2-4 0 5-1-3-4 1-3-3-1 2-1 3-1-5-3 4-4-2 0 1 0-3-1 0 0 1-2 3-3 0-1 0 0 1-1 0-2 5 1-2 0-1 2 0 2 1 2 3 1-1 1 1 1-2 0 2 1 0 0-3 0 3 1-1 0 1 0-3 0 1 2-1 1-2 2 1 2 3 2 1 0-4 0 2 1 1 0-2 1-1 0 1 0-1 1 4 0-3 1 2 0-3 0 1 1 2 0-4 1 0 0 2 1 3 2-5 0 3 1 0 0-2 0 2 1-2 1 4 0-1 1-2 0-2 1 1 0 3 1 0 6-2 1-2 0 0 0 2 0 3 1-5 2 0 0 0 1 5 0 0 0-1 0-1 1-2 1 1 0-1 1 3 2 0 0 1 1 0 1 0 0-5 1 4 2 1 1-2 2 2 1-2 4 2 1 0 2-3 1-2 1 3 1 1 3-2 1-1 0 0 1 3 3-3 2 2 1 1 3 1 4 0 6-2 1-2 1-1 1 2 2 0 5 3 3 0 1-1 2 0 1 0 3-2 0-1 1 4 0-5 1 3 0-3 0 1 1 2 1-2 2 1 2-1 0 1 2-1 0 4 2-5 0 5 1-2 0-1 1 0 1 2 0 0 0 0 0-2 1 0 0-2 0 4 0 0 1 0 0-4 0 3 0 0 0-1 1 2 0-1 0 6-1 1 0 1-1-4 0 3 0 0 0-3 0 4 0-5 0 4-1-3 0 1 0-2 0 5 0-1 0-3-1 1 0-1 0 3 0-4 0 1-1 1 0-2 0 1 0 1 0 1-1 0 0-1-1 0 0 2-1-3 0 0 0 1 0 0 0-2-1 2-1 1-1 2 0-1-1 1 0-2-1-1-1 1 0-1-1 2 0-2-1-1-1 3 0 1 0-4-1 2-1-2 0-1 0 0-2 0-5 3 0 1 0 0 0 0-1-4 0 3-2 2-1 0 0-2-1-2 0 3 0-3-1 1 0-2-1 2 0-2-1 3-2 1-1-1 0 2-2 0-3-5-2 0-3 5-1-3 0 1-1-2 0 4-3-4 0 3 0-4 0 2 0 3-1-4 0 1-1-1 0-1-1 4-3 0-2 1-4-3-1-1 0-1 0 4-2-2-1 0-1-1-1 4-1-4 0-1-1 3-2-3 0 2-1-1 0-1 0 3-2-2-5 1-1 1 0-3-1 0-1 0 0 1 0 2-2 1 0 1 0-5-1 0 0 5-2-5 0 2-1-2 0 2 0 0 0 3 0-3-2 0 0-1-1 0 0-1 0 0-2 4 0-2-1 2 0-3-1 3-2-1 0-1 0 2-1-1 0-1-1 2-1 1-1-4-1 3-1-1 0 0-1-3-1 1 0 2-1-1 0 1-1-3 0 0 0 0-2 1 0 0 0 1 0 2-1-4 0 1 0 4-1-2 0-2-2 2 0 1 0-2 0 2-1-2 0 3-2-5 0 2-1 1-1 2-1-5-1 5 0-4 0-1-2 4 0-1-1 2 0-5-3 4 0-1-1 1 0-1 0 0-3 1 2 7 1-1 0 1 2-5 1 1 0 4 1-4 0 1 1 2 1 0 1-4 0 3 2 0 0 2 0-3 2 3 0-2 5-3 3 5 0-1 3 0 2 1 0-5 1 0 1 5 0-4 0-1 0 2 1 0 0 3 1-1 1-3 1 4 0-1 1 1 0-4 3 0 0-1 1 2 0 3 0-2 3-3 2 5 2-1 1-4 0 1 2 1 0-1 1 2 2 0 0 2 1-4 1-1 2 0 0 1 0 1 1-1 1 3 2-1 1 0 0-2 4 2 1 1 2 1 0-5 0 3 0-1 7 2 2-4 1 0 1 5 1-4 0-1 0 0 2 3 0 0 2-1 4 0 2 1 3 0 0 1 1 0 2-2 5 1 3-3 2 2 0 3 3 0 2-3 3-2 1 4 0 1 1-3 4 2 0-4 1 1 1 4 0-2 2-3 1 0 0 0 0 3 1 0 0 2 3-3 1 1 1-2 0-1 1 0 0 2 0 0 0 2 0 0 1-3 0-1 0 1 1 1 0 5-1 0 0 1 0 0-1 0 0 1 0 0 0 2-1-4 0-1 0 4-2-4 0 3 0-3-1 3-2-3-3 5 0-3-4-2 0 5-3-2-1 2-1-4 0 0-5 2-6 2-5-1-7-3-1 1-1-1-6 0-1 4-1-1-1-3 0 3-2-4-3 3-4-3-1 2-1 2 0 0-10-4-1 2-2-2-1 3-1 2-2-4-3 1-2 0-2-2-1 0-2 3 0 2 0-3-1 0-1-2-4 4 0-4-1 5-1 0 0-2 0-1-1 2 0-4-2 0-2 1-1-1-1 4 0-2 0-2-4 0 0 2 0-2-4 0-1 5-2 0-4-4-1 1-2-1-7 2 2 7 0 0 1 0 1-4 4 5 8-1 1-1 3 0 4-1 1 3 1-4 1-1 0 1 1 2 5 1 2-1 6-1 2-1 3 4 2 0 7-5 3 2 3-1 5 2 6-1 4 1 0-3 6 2 2 0 3 2 3-2 4 0 1 2 7-1 1-3 10 5 3-3 5 2 3 1 1-5 1 2 1-1 0 2 0-3 1 2 1 0 1 2 0-3 0 4 1-3 0 1 0-1 0 8 0-4-1 3 0-2-1 4 0-5-1 2-1 1-5 1-1-4-1 5-3-4-5 1-10 0-1-2-7 5-4-3-2 3-2-4-1 3-2 0-2 1-9-1-11 0-1-3-2 2-4-2 0 0-4 4-3-4-6 1-5 0-1 0-6 0-1 1-3-3-3 4-1-3-11 3-3 0-1-1 0 0 4 3 3 3 1 0 2 0 2 1 7 0 1-2 1-2 0 1 3 2 5-3 0 3 4-1 1-2 0 0 3 3 3-1 2 0 5 2 0-2 2 2 7 1 6-1 12-1 6 1 3-1 1-1 4 2 3-2 5-2 0 1 1-1 8 2 4 2 1-4 1 1 0 3 4 0 0 0 1 0 5-3 0-1 1 0 0 0 1 4 0-4 0 1 0-1 2 2 0 0 0-1 1 2 0-3 0 11-1-3 0 1-1 2 0-1-1 0 0-1 0 0 0-2-1 3 0 0 0-1-1-2-3 0-2 3-5-2-1 0-1-1-3 0-7 2-5-3-2 0 0 4-1-1-1 1-7-1-4 2-5-4-9-1-7 5-1-5-2 2-2-1-7 4 0-4-3 3-22 0-2 0 0 1-4-5-2 0-3 3-1-1-2 2 0-4-7 2-3 0-2 7 4 1 17-4 1 2 4 1 17-2 6 1 3 0 5 0 1 1 2-3 1 0 2 3 9-3 1 3 6-1 24 3 8-1 2-3 5-1 1 1 4-1 1 5 1-2 0-2 1 2 0-2 1 1 1 1 0-3 1 1 1 1 0 2 0-2 0 2 0 1 0-5 0 3 0 2 0-5 1 1 0 0 0 6-1 3 0-3 0 3 0 0 0-3-1 0 0 1-1 3-2 0-1-1-1 0-5-4-3 2-8-1-8-1-12 1-4-1-2 5-5-1 0-4-3 0-11 0-9 2-3-2-15 0-14 4-4-3-3 2-6-3 0 3-10-2 2 9 19-4 4 4 34-3 1 3 25 0 7 1 11-2 1 0 0-1 7 1 7 0 1 0 10-1 1 1 0-3 1 5 0 1 0 5-3 0 0 0-4 0 0 0-2-5-13 5-37-4-15 3-19 3 70 3 17-2 6 1-4 5-82-1" marker-start="url(#s)" marker-mid="url(#s)" marker-end="url(#s)"/>
<path d="M383 604l2 1 4 0 3 0 12 0 8 0 5 0 8 0 2-4 18 3 2 0 11 1 5-1 0 0 7 1 12-1 8 1 4 0 3-1 2 1 1-1 3-1 3-3 1 9-1-3 0 4-4-2 0 1-5-2-1 0-2 3-2 1 0-4 0-1-3 5-1 0-10 0 0-2-5-2-3 0-9 1 0 2-2-3-8-1 0 4-8-1 0-2-3 0 0 0 0 0-1 4-1-4-2 1-4 0-1 1-1 1-4 0-2 1-1 0-1-1 0 0-8 0-2-1-1 1-5 1 0 0-1-3 0 2-1-2-2-1-1 4-2-1 0 0-1-2-4 3-2-1-1-4 0 1-1 4 0-1-5 1-1-1 0-2 0 2-3-1-2 0-1 1-1 0-1 3 1 1 0-2 2 5 3-3 0 2 2-4 2 2 0 3 2-5 0 0 1 5 0-2 2 1 2-2 0-2 1 3 1 1 0 0 1-1 1 1 1 0 0 0 0 0 2-2 1-1 0 4 0-3 0-1 0 2 1 2 0-1 1-2 0-1 1 4 1-5 3 4 0 0 1-2 0-2 2 4 2-4 0 1 1 2 1 1 0 1 1-2 1-2 1 1 5 3 1-2 0-3 1 3 0 2 1-3 0 3 2-2 0 2 0 0 0-3 1 1 0-1 1 1 0-2 1 4 2-1 1-3 0 0 0 4 1-4 3-1 2 4 1-3 0 1 3-1 3 2 0 2 3-5 0 3 6-2 1 0 1 4 0-4 4 2 8 1 0-2 2 2 0 1 1 0 2 0 0-1 2-2 1 1 1 2 1-2 1-3 0 4 1 0 0-1 0 1 3-1 3-3 3 3 0-3 0 5 2-2 1 2 1-1 0-2 1-1 0 1 2 3 0-5 1 1 0 0 0 3 1-2 1-2 0 1 0-1 2 4 0-1 0 2 1-1 0-2 1 0 0 3 1-2 1 1 0 1 0-3 1 2 1 4 0 3 0-1-1 0 0-1 0-1-1 1 0 0 0 2 0-2 0-3 0 4 0-3 0 1-1 1 0 2 0-5 0 5-1-3 0 2 0-3 0 4-1-1 0 0 0 0 0-1-1 1-1-4 0 1-1 2 0-1 0-2-3 3 0-1 0 1-1-1-1-2 0 2-1 0 0 1 0-3-3 2-1 0 0-1-1 4 0 0 0-2-1-3-2 1 0 2 0 0-2 2-1 0 0-3 0-2-1 1 0 4 0-5-2 2 0 3-1 0-1-3 0-1-2 0-1 1-1 0 0 0-2 2 0 0-2 0 0 1-1-4 0 2 0 2-1-3-1 3-1-5-3 5 0-5-1 3-1-3 0 1-1 3-1-4-2 1-1-1-3 0-1 5-3-2 0-1-3 0-1 1-1-3-2 2-3-2 0 2-1 3 0-5 0 3-1 0 0-3 0 3-1-1-2-2 0 5-1 0-1 0-1-1-2-3 0 4 0-1 0-2-1 0 0 2-1-1-1-1 0 0-1-1-1 4 0 0-1-1-2-1-1-3 0 2-2 1 0 2 0-1-1-2-1 3-1-1 0-4-1 2 0-1-2 3 0-1-2 1-1-3 0 1 0 2 0-3 0 3-1-1-1-2-1-1 0 0 0 5-1-4-1 4 0-5-2 0 0 1-2 3 0 0 0 0-1-4 0 2-1-1-1 1-1 0 0-2-1 0 0 3 0-3-1 2 0-2-1 2-1 1-1 1 0-1-2-2 0 0 0 1-3-2-1 3 0-1-2 1-2 0 0 0 0-2 0 0 0 2-2 1-1-4 0 4-1 1 0-5-1 3 0-1 1 7 2 2 1-2 1-3 0 1 3 3 1-1 1-2 1 1 0-2 2 3 1 2 1-5 1 2 1 0 0 2 0-4 1 2 2 2 1-4 0 0 0 4 1 1 1-1 1-4 1 1 0 3 1-4 2 3 1-3 3 0 1 5 0-2 1 1 0-4 2 3 1-3 1 0 1 5 1 0 3-1 1-1 1-3 2 5 2-1 0-4 0 3 2 1 0-3 4 1 3 0 1 0 1-2 1 1 1-1 1 1 0 0 1 1 1 0 0-2 1 5 1 0 3-4 0 2 0-2 2-1 2 4 0 1 1-4 0 1 2 2 1 0 6-2 4 2 1-3 0-1 1 3 0-1 3 2 0-4 2 2 4-2 0 3 1-1 3 3 0-4 2 1 0-1 1-1 0 2 5-2 0 2 1-1 2 2 1 1 0-3 3 1 1-2 4 2 1 1 0-3 0 2 1 2 2-1 1-1 0 1 0-3 0 4 0-3 1 2 0-1 1 0 0-1 0-1 0 4 0-4 0 2 0 0 1-2 0 2 0 1 0 0 0 0 1-3 0 7-1 0-1-1 0 0 0 5-1-3 0 0 0 2-1 1 0-1-1-3-1 2-1-1 0-2-2 4 0-4-1 3 0-1 0 1-2-3 0 4-1-1-1 2 0 0-2-4-2 0-1 2 0-2-2-1 0 1-5-1-2 0-1 3-2-1-6 2 0 0-2-4-2 0 0 4-4-4-5 5-4 0-2-4-1 3-3-4-3 1 0-1-1 0-2 5-1-1-2-2 0-2-7 3-2 1-3-2 0-2-2 3-1-3 0 1-1 3 0 1-2-1-2-1 0 1-2 1-1 0-3-4 0 4 0-4-2 2-3-1 0 0 0 1-2 2-1-4-4 4 0-1-1 0 0-3 0 3-2-4-1 5-3-1-2-2-1 2 0-4-1 3 0-3-2 2-9 9 0-5 7 3 0-2 7 1 3 1 5-2 0 0 2 0 11 2 0 2 1 0 1-3 1 0 5 3 3-5 2 3 3-2 1 2 1 2 2-5 4 5 13 0 5 0 9-2 3 0 3 0 3 2 2 0 1 0 0-5 2 0 5 4 6 1 1 0 5 0 1-3 4-1 2 0 0 4 0-4 1 4 1-1 0-2 1-2 1 0 0 0 0 5 0-1 1-2 0 9-1-3-1 1 0 0-3-1-1 3 0-1 0-4-4 4-7-1-1 0-5-3-2 5-3-5-2 5-3-3-1 2-2 1 0-4-9 2-2-2-4 0-2 2-7-2-14 1-3 2-2-3-3 0-6 1-5 3-11-5-1 3-2 0-9 0-2-3-12 1 5 10 0-4 1 2 4-1 1-1 3 2 4-3 3 2 3 3 0-1 1-4 2 4 4-2 13 2 1-4 3 5 0-5 3 1 2 2 0-1 3 1 1-3 4 4 1-3 5 0 10 0 1 3 4 1 2-1 4-3 1-1 3 0 2 0 17 5 3-4 2-1 4 4 4 0 1 0 1 1 0-2 0-3 1 0 0 5 1-5 1 0 0 4 0-2 0-1 1 8 0-2-1-1 0 4-2-4 0 3 0-1 0 1-2-1-1-2 0 2 0-1-1 1-4-1-3 2-2-3-4 5-16-3-1 1-15-3-1 4-5-1-3-3-3 3-4 0-2-1-2 1-1-1-3 3-6-2 0-3 0 2-1 3-4-3 0 2-2-4 0 1-1 0-12 1-2-2 0 5-2-5-1 0-2 0-4 0 0 1-1 1-6-1-1 7 5 1 3-3 1 5 3-2 3 0 7-1 2 1 14-1 1 0 14 3 1 0 0-2 3 1 0-1 14 1 2-4 8 4 0 0 8-1 17-2 1 0 0 3 4-4 1 1 1 1 0-1 1 1 1-1 0 1 2-1 2 3 0-1 1 0 0-1 0 2 1 1 0 4-1-3 0 2 0-1-1 0-1 0 0 4 0-4 0 0-1 0-7 1-3-2 0 3-5 0-1-1-1 0-4-1-2 3-7-4-3 1-5 2-35 0 0 0-1-3-4 5-1-4-3 2-8 2-5-5-26 0 7 6 1 5 3-5 4 0 39 1 2 4 25-2 5-3 14 1 0 3 11-2 0 3 4 0 4-2 1 2 1 0 0-2 2-1 0-1 1 4 1 1 0 2 0 1-4-1-2 1-49 1-13-3-3-1-3 0-21 0-19 2 27 5 7-1 56 1 17 3 2 1 2-5 0 9" marker-start="url(#s)" marker-mid="url(#s)" marker-end="url(#s)"/>
<path d="M485 599l-62 0-38 6 6 0 3 0 7-1 6-2 10 3 9-1 9 1 1-4 6 4 9 0 8-2 8-1 3 0 2 3 5-1 6 1 5-4 1 0 10 4 5 0 1-2 2-1 2 5-1 3-1-4-1 0-1 0 0 3-1-1-1 2-5-2-1 2-1-1-5 0-1-1-2 3-1 0-3 0 0 0-4 0-4-5-1 4-2 1-1-1-7-1-7 0-6 2-1-3 0 0-2-1-3 1-5 1-1 1-5-4-2 2-6 3-1-4-1 0-2 2-2 0-2 2 0-5-1 2-1 3-5-3-1 1-1 2-2 0-1 0 0-2-1 2-2-2-1 1-3 1 0-3-1 3-2-1-3-3-2 4 0-2-2-1 0 3 0-3-5 1 0 2-1-2-1-1-1 3-2-1-4 0 0 6 2 1 1 0 0-1 1-4 2 0 2 1 0-1 1 5 0-5 1 0 1 0 0 4 1-1 0-2 2 0 0 3 2-4 0 5 1-5 0 3 0 1 0-1 1-3 1 1 0 2 1-3 2 1 1 4 5-2 1 1 5-3 0 4 0-2 3-1 0 0 3 2 0 0 1-3 0 4 3 0 0-4 1 0 1 4 0 0 1-4 2 4 1-1 1-3 1 3 1 1 0 0 0-2 1 2 0-5 5 1 1 4 1-4 0 3 1 1 2-2 0 2 2-1 0 1 3-4 3-1 1 3 1 2 0-4 0 3 0 1 1-5 1 3 0-1 1 2 1-3 2 4 1-1 0-2 2 1 3-2 2 4 2-1 4 1 3-1 8-1 3-2 1 3 1-1 1-1 0 1 0-2 1 3 2-3 0-1 2 5 1 0 4-2 0-3 3 2 1 0 0-2 1 4 1-2 1 0 1 2 0 1 0-2 1 2 0-3 0 3 0-3 1 2 0 1 0-1 1-2 1 9 0-2 0 2-1-5 0 5 0-2 0-2 0 1 0-2-1 3 0 0 0-2 0 1 0-2 0 2 0-1 0 4-1-5 0 1 0 2 0-3 0 0-1 4 0-1 0 1 0 0 0-3 0 4 0-2-1 2 0-1 0-4 0 0-1 5-1-4 0-1 0 5 0-5 0 5 0-4-1 4 0-4-1 3-1-4-1 4-1-1 0 0 0-2-1 4-1-5 0 2-1 0-3-1-5 1-1 1-1-1-1-2-3 5-1-3 0 3-3-3-1 0-2 0-1-2-9 5 0 0 0 0 0-2 0-3-1 5-1-2-1 0 0-3-1 3 0 1 0-3-1 2-1 2 0-5 0 3-1-1-5-1-1 0 0-1 0 2-2-1 0 3-1-4 0 1-1-1 0 1 0 0-1-1-2 0 0 1-2 4 0-1 0-2 0 2-1 0-1 0-1-3-1 1 0-2 0 5 0 0-1-2 0 1 0-4 0 4-1-1 0 0 0-2-1 0-1 0 0-1-2 2-1-2-3 0-1 1 0 3-1-1 0-3 0 4-1 0 0-3-1 4 0-2-1-3-2 2 0 3-1-1 0-1-1-3-1 1-1 2-1 0 0-2-1 1 0 2 0-4-1 1-2 1 0 3 0-3 0 0-1-1-1 1-1-1-2-1 0 4 0 0 0-2-1 3 0-4-1 3-1-3 0 4 0 0-2-1 0-4 0 2 0-2-1 3-1-2-1 2-1-3 0 3-1 0 0-1 0-1 0 1-1 0 0 2-1-1 0-1 0 2 0 0 0 0 0 1-1-2 0-1 0 0-1 3 0-2-1-2-1 2 0 1 0-4-3 0 0 4 0-4 0 1 0-1-3 3 0 1 0-2 0 1 0 2-1-3 0 2 0 0-3-4-2 3-1 0 4 6 0 0 1 2 1-4 2-1 1 3 0-3 2 0 0 0 2 0 2 0 1 5 1-1 1-1 0-1 0-1 0 3 1-2 1-1 1-1 0 4 2-3 0 1 0 0 1-2 2 2 1-2 3 2 1 3 0-5 4 4 1-2 0-1 1 1 1 1 2 0 1-3 1 2 1 1 1-3 2 3 2 1 4-3 1 1 0 1 4-1 2 3 1-2 0 2 0-3 1 2 0-4 2 2 0 3 1-3 3 3 1-2 0 2 0-3 3-2 2 0 0 2 2-2 1 2 0-2 1 2 1-2 1 3 1 2 1-3 1-1 3 1 1 0 1 1 1 0 2-3 6 0 3 5 1-1 4-4 1 0 1 0 1 3 0 1 2-1 1 0 0-2 0-1 1 3 0 1 0-1 1-3 0 0 0 0 2 3 1-3 2 1 1 0 0 2 2 0 0-1 1-1 0 1 1-2 1 1 0 4 1-2 1-1 2 3 0-4 0 3 1-3 0 3 0-1 0-2 1 4 0-2 0 1 0-1 1 1 0-2 0-2 0 1 1 1 0-2 0 2 0-2 0 5 0-3 0-1 1-1 0 11 0-1-1-4 0 4 0 1-1-5 0 2-1 0 0 0 0 0-1 0 0-1 0 0-1 0 0 1 0-1-1 1-2 2 0-4-1 4-1-2 0 0-1 2 0 0-2-3-1 3 0-1-4-3-1 0-2 0-3 4-5-1-2 0-4 2-1-4-1 0-5 1-4 0 0-2-2 0-2 5-2-3-9-2-1 0 0 4-1-2-2 0 0 3-1-4-3 3-2 1-8 0-6-4 0 3-1-2 0-2-1 0 0 0-3 3-1-1-1-1-1 2-4 1 0-4 0 4 0-3-4 1-1 1-1 0-1-2-1-1-9 4-1-3-3 2-3-3-5 4 0-3-1 1 2 8 1 0 1-3 6 2 1 0 1 1 3-2 1 3 2-4 11 0 0 1 5-2 2 4 3-2 1 3 6 0 5-5 3 0 3 5 4 0 4 0 16-1 1-4 3 5 6-3 2-2 3 0 1 3 0-1 3 0 2 3 5-2 2-1 0-1 3 3 1 1 2-5 1 2 7-1 0 3 1 1 0-1 1-2 1 2 0 0 1-1 0 2-2 2-1 3 0-1-2 1-3-1-3 2 0-4-3-1-2 5 0-5-3 1-2 4-1-3-4 2-6-3-3 3-3-1-1 2 0-4 0-1-1 2-6-1-6 1 0 0-1 3-3-1-4-4-9 4-1-4 0 4-2-4-2 1-2 0-1 4-4-3-3 3-2-2-6 0-1 2 0-5-1 0-2 5-7-1-1 0-9-4-3 4 0-3-2 1-9-1 0 2 4 3 7 5 4-3 6 3 3-3 1 2 1-2 0-2 1 2 1 0 2-2 1 5 3-1 2 1 0-2 0-1 1-2 7 1 1 4 5-1 5-3 4 4 4 0 3-4 3-1 6 4 4 1 1 0 1-4 2-1 2 0 3 5 8 0 2-3 8 0 10 1 1 1 1-4 1 4 3 0 0-4 0 1 0 3 1-3 1-1 1 2 0 2 1-2 0 0 1 7-1 2-1-1 0-3-2 3 0-4 0 0 0 5 0-3 0 1-1 0 0-2-6 0-4 0-7 0 0-1-4 0-1 2-3-2 0 2-5 0-6-1 0 4-2-1-16-2-1 0-1 2-4-1-1-2 0 4-1-3 0 0-10 2-3 1-4-5-4 2-3 0-2 1-18-1-4-1 0 3-4-1-7 2 4 3 4 0 2 2 1-1 11 0 12 0 3-3 0 1 5 4 2-3 2 0 0 1 5 1 6-4 15 2 1-2 0 2 3-1 3 0 1-1 1 0 1 4 10-3 0-1 2 0 0 1 0-1 2 3 1-3 2 4 2-4 0 3 0 2 5-5 6 4 2 1 1-3 4 1 1-2 1 0 2-1 0 5 0-1 0-3 2 0 0 2 1-1-1 4 0 4-1-1 0 0-1-3 0 2-1-1 0 1 0 0-3 0 0-1-3 0-44 1-18 1-2 0-17 2-5-2-1-3-6 0-1 3 0-3 5 10 1-3 7 2 12 2 17 0 25-1 8 1 4-4 5 0 11 4 2-4 1 1 1-2 1 0 1 5 3 0-1 6-1-4 0 2-1 1-11-4-41 1-26 1-22 3-14 0 11 4 74-1 1 1-59 4" marker-start="url(#s)" marker-mid="url(#s)" marker-end="url(#s)"/>
<path d="M508 599l-24-3-14 1-89 5 2-2 16 4 0 0 2 1 1-4 2 2 1 2 8-3 7 0 2 2 1 1 2 0 4 0 7-3 4 3 4-1 3-2 4 2 15 0 4 1 5-1 0-2 11 0 1 0 16 0 4 0 1 3 1 4-1 1-1-1-1 2 0-1-1 0 0-1-1-3 0 2-1 2-3 0 0-1-4 1-6 1-3-5-2 0 0 5-6-1-1-2-4 0-8 3-4 0-1-5-1 2-1-1-5 3-3-3-8 4-1-4-5 0-3 0-6 2 0-1 0 3 0-2-4 1 0-1-1 1-1 0-3-1 0-2-3 0-1 1-2 3-1-3-1 3-1-3 0 1-1-2-1-1 0 4-1-3-1 2-1-3-1 5-2 0-1-2 0 1 0 0-1-2-1 1-2 2-8-3 0 0-2 1 0 0 0 2-1-2-1-2-1 3-2-2 0 1-2-3-4 11 1-5 0 0 2 3 2-1 1-2 1 1 0 0 1-1 0 4 1 0 2-4 1 3 0-3 1 3 1-3 1 4 0 0 1-4 1 1 0 2 0 2 1-3 1-2 0 4 1-3 0 3 1 1 1-4 4-1 0 3 0 2 1-2 0 1 2-4 0 5 1-2 0 1 0 1 1-5 0 5 1-4 0 4 0-3 0-2 2 3 0 1 0 0 1-1 3-3 0 4 0 1 1-2 1-1 0 2 2 1 1 0 1-1 1 1 0-5 1 3 0 1 1-2 1 3 4-4 1-1 0 0 0 5 1-2 2 2 1-2 1 1 6-3 0 1 1 0 0 2 1 1 0 0 3-5 2 2 1-2 2 3 2 1 0-4 0 2 3 1 1 0 0-1 1-2 2 4 4 0 1-1 0 1 3-2 6 3 0-1 1-2 2-1 1 2 3 1 1 0 2 1 2-3 0-1 1 1 5 3 3-2 2-3 0 4 1-3 0 1 0 3 3 0 1 0 0 0 0-2 1-3 1 3 0-2 2 2 0 1 0-1 0 0 1 0 0-1 0 3 0-3 1-1 0 4 1 1 0 0 0 4 0-1 0-2 0 4 0-3 0-2 0 0-1 1 0 1 0-2-1 0 0 0 0 2 0-2-1 4 0-1 0 0-1 1 0-1 0-3 0 1-1 1 0-1 0 0 0-1 0 1 0 4-1-4 0 3 0-2 0 1 0-2 0-1-1 3 0 1-1-3-1 0-1 4-1-5-1 2 0 3-2-4-1 3 0-4-2 0-1 0 0 5-3-4-1-1-2 1 0 1 0 0 0 3-1 0-2-3 0-1-1 1-1 2 0-3-1-1-3 5 0 0-2-3-5 1 0 0-1 2-1 0-4-2 0-1-3-2 0 1-1-1 0 2-1-2-1 2 0 1-2 1-1-2-1 1 0-2-1-1-1 5 0-4 0 3-1-1-3-2-1 0 0 1-1-2 0 2 0 1-1 2-1-4-2 2 0 0-1-1 0-1 0 2 0 0 0-1-2 0 0 1-4-2-2 3 0-1-2-1 0 3-4-4 0 1 0 0-1 3-1-4-1-1 0 1-1 0-1 3-1-2-1-1 0 1-1 3-1-1 0-3 0 0-1 4-1-2-1 0-2-1-1 1 0 1 0-1 0-1-1 3 0-3-1 0 0 3-1-3 0 2 0-2-1 0-1 1 0-3-1 5 0-3 0-1 0 4 0-1-1 1 0-3 0-1-1 3 0-1 0-1 0 0 0-1-2-1 0 3 0 2-1-3-1 2-1-3 0-1 0 5-1-4 0 2-1-1-1 0-2 3-2-2 0 0-1-2 0 2-2 2-1-5 0 2-2-2 0 4-2 0-1-3 0 4-1-4-1-1 0 3-4 1 2 6 0 1 1-1 2 0 1 1 0-4 1 2 1-1 1 3 1-5 1 0 1 2 0 1 3 0 2 0 1-3 3 0 1 0 0 0 1 1 3 0 0 2 1 0 0 1 3-1 1 0 1 0 3-3 0 4 1-4 1 3 2-3 0 0 1 2 0-1 1 2 1-3 1 5 3-2 1 1 0-2 4 1 0-2 0 0 0 2 1-1 1 2 1-4 2 1 0 2 5 2 4 0 1-4 1 1 1-1 0 0 4 1 2-1 5-1 2 1 0 2 1 0 0 0 2 0 4-2 0 4 1-5 4 3 0 1 2-4 1 3 7-2 2 2 2-3 6 2 0-1 1-1 1 5 0-3 2 1 2-1 1-2 0 2 0-1 2 2 2-1 1-1 0 2 1-2 0-1 1 0 0 1 0-1 1 0 2 4 1 0 0 0 0 0 0-2 0 3 0-2 0-2 1-1 0 0 0 5 0-2 1-1 0 3 0-5 0 3 0-2 1 1 0-2 0 7-1 0 0 4 0-5 0 3 0-2-1 4 0-3 0 3-1-1 0-2 0 2 0-4-2 1 0 2 0-2 0-1-1 0 0 0 0 3-1-3-2 4 0 1-3-2-2-3-3 0-5 2 0-2-2 5 0-3-2-2-1 3-5-3-1 5 0-2-1 0-4-2-1 4-4-1-2-4-3 3-4-3-2 2-1-2-2 1-3 4-1 0-6-4-4 4 0-5-2 0-4 2-1-1-1 1-3-2-4 4-1-2-1 1 0 1-3-1-1-1-1 1-4-2-1 1-1 2-2-1-1 1-1-2 0-1-2 0 0-1-3 5-1-1 0 0-1-1-1-2-8 4-1-5-2 4-6 0-2 1-3-1 4 5 4 2 4-5 1 3 3 1 0-2 0-2 6 4 2-3 3 4 0-3 2 3 0-4 5-1 2 0 0 1 1 3 1-3 0 2 2-2 0 3 2-4 0 0 0 3 3-3 1 5 4-5 7 2 3-1 1 3 1 1 5-4 3-1 0 1 0-1 2 5 1-4 1 0 5 0 8 3 0-3 2 3 8-4 3 0 0 2 1 0 0 2 2 0 1-3 0 2 0-1 1-2 3 0 1 1 5 4 0-2 0-3 1 3 4-2 2 4 0-5 2 0 0 3 1 2 1-2 1-1 2 1 1-3 0 0 1 3 1-2 0-1 0 5 0-2 0-2 1-1 0 3 1 0-1 4 0-1-1 5-2-4 0 0-1 2 0 1 0 0 0-1-1-2-1 4-5-4-1 2 0 1-6-1-2-1-6 3-6-3-1 0-3-2-12 0-3 5-5-5 0 5-3-5 0 5-2-3-1 2-2-4-1 2-5 3-3 0-2-5-1 2-2-1-1 3-5-1-3-2-1 0-4 4-4 0-7-3-1 1 0-3 0 4-1 1-1-3-3-2-5 5-2-5-2 4-10 0-1-1-1 6 6-3 2 4 1-2 3-1 2-1 11 0 0 3 7 2 4-1 1 1 1 0 1 0 6-1 10-2 0-1 14 4 3-5 7 4 9-1 0 2 1-1 14 1 0-1 2-4 4 3 5 2 1-1 4-2 1-2 1 1 1 1 0-2 0 2 4 1 0 0 2-3 1 0 0 1 0 3 1-2 0-2 1 1-3 6 0 2-1-2 0 4-1-5-2 2-1-1-1 2 0-2-3-1-3 3-7-3-1 0 0 5-5-1-6-4-13 1-15 0-1 2-2 2 0-4-1 3-4-4-2 4-1 1-4-2-6 0-5-1 0 1-2-2 0 3-4-4-3 4-4-4-1 0 0 3-6-3-1 3-4 0-5-2-3 4-1 3 3 3 7-2 0-1 5 0 0 1 2 2 3-3 4-2 0 1 8 4 15 0 7-5 5 3 3-1 3-1 1-1 4 3 2-3 4 1 6 2 10-2 10 0 8 3 2-1 1 0 2-2 2 2 2-3 0 1 0-1 1 3 1 2 0-4 0 4 1 0 0 1-1 4-1-3-2 1 0 3 0-1-5-2-11 3-4-5-4 3-6-3-5 0-5 0-12 2-7 1-9-1-13-2-16 5-8-4 0 1-1 0-16-2-1 2 63 9 3-5 10 1 18 2 5-3 9 5 0-2 7 2 1-5 3 5 4-4 2 0 1-1-1 9 0 2-4-4-42 4-5-1-52-4-15 9 119-3-51 8" marker-start="url(#s)" marker-mid="url(#s)" marker-end="url(#s)"/>
<path d="M507 599l-5-1-1-2-67 3-56 4 7 1 5-1 25 1 17 0 1 1 1-4 8 2 2-2 1 1 6 1 21-2 5 2 0-1 16 3 10-2 4-1 1 6 0 3-2 0-2-3-1 3 0-4-1-1 0 0-5 5-6-3-3 0 0 3-2 0 0-1-1-3-5 3-2 1-1-5-1 3 0 0-5-1-5 2-1 1-2-1 0-2-3 3-2-1-6 0-4 1 0-4-1 1-2-2-8 4-5-3-2 3-5-2 0 0-4 0-3 0-2 3-1 0-1-1-2-1 0-2-3 3-1 1 0-4 0 2-1 2-2 0-1 0 0-3 0 3 0-4-6 3 0-4-1 4 0-1 0 1-1-2-3 1-2-3-2 4-1-4-3 0-4 5-1-4-1-1-2 6 1 4 0 0 1-1 0 2 1-1 0 0 1-1 0-3 0 0 1 5 0 0 1-5 1 2 0 0 2-2 0 5 0-1 1-4 2 4 0-2 1 2 0-1 0 2 1-5 0 5 0-5 1 1 0 0 0 0 3 3 4-2 2 0 0 0 0-1 1 2 0-2 1 2 1 2 1-2 1-2 1 1 0 1 0 1 1 0 2 1 0 0 2-5 1 2 0-2 3 4 1-2 1 3 0-4 1 3 2-2 0 2 0-1 0-2 1 4 0-3 0-1 0 1 3-1 0 1 2 2 0-1 1 2 0-5 2 2 2 3 2-1 0 1 3-2 0-2 2 4 0-1 0 1 1-5 0 3 1-2 0 1 2 3 0-1 0 1 0-4 2 4 0-4 5 2 2 0 1 0 1 2 0-2 1-2 6 3 3-2 1 0 0 0 0 3 1-2 2 2 1-2 1 1 0 1 0-2 1-1 2-2 0 0 3 0 1 0 0 2 0 2 4 1 1-5 1 1 1 1 1 3 1-2 0 2 1-3 3 1 1 1 2-3 1 0 0 4 1 0 2-1 0 1 0-4 1 0 6 3 0 1 1-4 0 4 0-3 1 1 0 2 0-3 0 0 0 1 1 1 0-2 0 2 0 0 0-2 0-1 1 2 0-1 0 3 0 0 1 0 0 4 0 0-1-3 0 5 0-4 0 2 0 1 0 0 0 0 0 1 0-4-1-1 0 5 0-1 0-1 0-3 0 2 0 1 0-2 0-1 0 4 0 1 0 0-1-4 0-1 0 2 0 1 0 1-1-4 0 4-1 0 0-3-1 2 0-2 0 1-2-2-1 5-1-1 0 0-1-3 0 0-1 4 0 0 0-5 0 3 0-2-1 4 0-2 0-1-1 0-1-1 0-1-1 1-1-1 0 2-1 3 0 0-2-5 0 1-2 4 0 0-2-2 0-1 0-1 0 1 0-1-1 4 0-5 0 2-1-2-1 4 0 0-1-4-1 3 0 1 0 1-4-5-3 2 0 1 0 0-1 2-1-2 0 0-1 1-3-2 0-1-1 2-1-1-2 3-1-3-1 1-1-1-2 0-1 1 0-2-1 4 0-3 0 2 0 0-2 1 0-2-1 2-1-1-1-2 0 2 0-1-3-1-1-1-1 1 0 3-4-2-2 2 0 0-1-2-1-2-3-1 0 3-1 2-1-2 0 0 0-1-1-2-1 0-1 3-3-3 0 2-1-1 0-1 0 0-1 5-1-2 0-2-1-1-2 1 0 2 0 0 0-3-1 1 0-1 0 3-1 0-3 1 0-3 0 3 0-1 0-2-1 4 0-1 0-2-2-2-2 4-1 1 0-3 0-2-1 1-1 2-2-3-1 0 0 4-1-4 0 0 0 1-1 1-1-1 0 2 0 0-2 0-1 1 0 0 0-4 0 3 0 1-1 1 0 0 0 0-1-3-1 2 0 1 0-4 0-1 0 1-1 0-1 1 0-2-1 1-1 2 0 2 0-2 0-2-3 3-1 1-1-4-1 0-1 0-2 1 0-2-1 1-1 0-2 2-1-3-1 3 0-3-1 0 2 11 1-1 0 0 1-2 0-2 1 4 2-2 1 2 0-2 0-2 1 4 3 1 1-4 1 1 1 3 2 0 2-4 4 3 3 0 1-2 0-1 0 2 0-3 1 0 1 3 0-2 0 0 0 1 2-1 6 1 0 1 0 0 1-2 0 3 1 0 1-3 0 2 1 0 2-2 0-1 1 4 4 1 3-5 1 2 0-2 0 4 3-1 1-2 1 0 1 3 1-1 0-1 0 1 1-1 5-2 2 4 3-2 1-2 0 5 1-3 4-1 0 2 0 2 2-5 3 1 3-1 2 3 0-2 1 3 0-1 4 1 0 0 1-2 0 0 2 2 2-1 2 0 0 0 3 0 2 2 1-5 1 1 2 1 3 0 0-1 0-1 0 1 1 3 1-1 0-2 2-1 1 4 0 0 1-1 0 1 0-3 1 3 2-3 1 1 1-2 2 3 0-3 3 1 0 4 1-1 1 1 0-4 0-1 0 1 1 4 0-3 0-2 1 0 0 3 0 1 0-2 1 1 0 0 0-2 0 0 0 4 0-5 1 1 0 4 0-2 0-3 1 10-1 0 0-2-1 2-1-4 0 3 0 0 0-2 0 1-1 1 0-2 0 4-1-2-1 2 0-3 0 1 0 0-2-2 0 3-1-3 0 1-1 0-1 0 0-2 0 3-3 1-1 0-2 0-2-1-2-2-3 2-1-2-1-1-1 5-3-2-4 2-3-1-6 0-1-4-3 1-2 4-3-3-3 3-2-2-3-2-1 4-2-5-1 1-2 0-13 4-4-1-1-1-1-2-2 2-4 1-2-2 0 0-1 0 0 0-2-1-1 0-1 3 0-4 0 0-3 2-2 1-2 1 0 0-4-4 0 3-1-3-1 4-1-4-3 0-6 1-3 3 0-2-1 1-1 1 0-4-1 1-2 3-2-4 0 1 0 6 0 1 8 0 1 1 4-3 4 2 1-2 2 1 0 0 0 0 4 2 0 0 2-1 3 0 0 0 2 2 2 1 1 0 8-1 3 1 1-5 7 0 5 3 1 1 0-2 5-2 2 3 0 2 1 0 0 0 0-2 2-2 2 3 2-3 7 0 1 0 2 3 8 0 2 0 5 1 1-3 3 1 6 0 4-3 2 1 3-1 1 5 3-3 2-1 4 2 0-3 1 4 0 0 1-3 1-1 0 2 0 0 1 9 0-5-1 5-1-1-1-2 0 3-1 0 0-4-3 1-1 2-1 1-2-5 0 4-3-2-10 1-6 0-3-1-7-1 0 4-6-5-2 0-1 0-1 1-3-1 0 4-3 0-1-4-3 1-6-1-5 0-5 2-4 2-7-4-2 0-6 2 0 2-1 1-1-5-2 0-7 5-3-3-11 1 0-1-1 3-2 0 0-5-1 1-6 7 8 2 3-3 3 2 2-3 9 2 1 0 2-2 2 4 6-4 6 1 5 1 3 1 4 2 8-5 4 5 0-4 17 1 10 1 3-3 6 2 3-1 6 3 0-2 1 3 3-1 1-1 3 0 0-2 2 0 0-1 1 0 2 0 0 5 3-3 2 1 0 2 0 3 0-1 0 1-1 3 0-3 0 2-1 1-1-4 0-1 0 1-1-1-1 5-1-1-4 0-3-2-9-1-3-1-12 3-5 2-11-3-2 3-9-5-10 2-5 0 0-2-3 2-1 3-5-3-1-1-5 2 0-2-5 3-3 1-1-1-11-1-2 1-4 0 0-3-5 3-5 1 6 3 7 0 2 0 7 0 10 1 2-2 8 2 3-1 4 1 44 2 13-3 6-2 0 4 6-2 2 1 0-1 4 2 0 0 2-4 0 5 2 0 1-5 0 3 0 1 1-1 0 1 1 2 0 3 0-2-1-1 0 2 0 2 0-4 0 3-1 0-1-2 0 1-3-2-2 3-2 1-5-2-12 3-4-5-12 4 0-2-3-2-10 4-41-3-3 3-20 6 0-3 28 0 2 0 14 0 18 4 17-2 4-2 5 1 1 0 22 1 8-3 0 1 0 2 0 7-1-4-4 2-1 1-4 2-66-4-5-1-14 3-6 1-23 7 123 0-85 5" marker-start="url(#s)" marker-mid="url(#s)" marker-end="url(#s)"/>
<path d="M438 599l-2 6 48-5 21 7 0 0-22-1-75 2-20 7 17-3 27 0 22 1 25 2 6-3 3 2 5 2 5-1 1 1 8-1 0-1 2 5-3 1-20 1-52-3-36 0-5 4 14 5 5-2 11-1 1 3 45-1 4 0 0-2 23 2 4 0 7-1 0 4 1 3 0 1-2 2-3-2-1-3-35 3-14-2-1 1-24 2 0-3-10 1-8 0-1-1-1 2-19-3 13 10 4 1 1 0 7-2 28 1 5 0 1-1 32-2 16 4 3-1 1 0 0 5 0-3-1 4 0 0-12-4-27 4 0 1-7-2-7-2-4 1-11 3-7-3-17 0-4-1-11 1-4-2-8 4-1 4 5-2 2 4 6-2 4 2 6 0 16 1 22 0 16-2 38-1 2 3 5-3 2 1 3 0 0 2 1 0 0-4 1 0 0 3 1-2-1 7-1 2 0 0 0-2-1-1 0 1 0 1-3-1-1-1-1 0-8-1-3 4-36 0-11-1 0 1-7-2-15 0-2 2-7-2-3 2-2-5-12 2-7 1-11 4 8 4 4-4 6 2 1 2 3 0 2-1 3-2 1 3 12-1 8-2 6-2 15 5 6-4 29 3 16-3 1 3 5-1 0 1 3-4 1 1 0 3 1 1 1 5-1-2-1 0-7 1 0 2-2 0-11-4-2-1-17 3-1 0 0 0-6 1-8 0-3-1-8-3-41 4-16 6 1 1 20-3 20 1 31-2 7 1 9-1 27 3 5-1 1-3 0 2 2-1 0 0 0 3 0-3 0 6-1 3-3-1-11-2-18 2-11-3-5 0-24 1-2 0-8 1-13 0-1-1-10-1-7 3-11 1 39 3 3 2 8-3 42 1 31 1 1-1 0 0 0 10-21-4-18 2-3 2-79-5-4 2 0 6 126 0" marker-start="url(#u)" marker-mid="url(#u)" marker-end="url(#u)"/>
<path d="M644 603l-6 4-42 10 4 0 31-5 11 3 3 1 1-2 5 7-7-1-2 3-2-4-16 3-44-3-13 5 21 2 7-2 16 0 7 4 11 1 15-4 4 1 3-2 8 2 1 9-1-2-4 1-4 1 0-3-9 2-3 0-5 1-5 0-4-5-9 4-15 0-17 0-14 0-15 6 7 1 53-1 4-1 9 1 0-3 1 3 3 1 7-5 8 4 1 1 0-4 8 10 0-1-2 0-3-2-4-1-1 2-6-3-7 4-6-3 0 0-5 2-2-2-2 1-2 3-1-5-4 5-1-2-4-1-12-1-5 2-6 1 0-2-17 0-5 3 7 4 11-2 0-1 7 3 2-2 7 2 1-3 4 0 4 4 10-4 3 0 7 2 1-1 4 2 2-2 3 2 3-3 1 3 1-3 7 1 2 1 0-2 2 2 2 0 4-1 1 3 3 1 7-2-4 7-1-1-5-1-2-1-1 1-2-2-1 4-1-1-1 1-2-1 0 0-3 2 0 0-2-4 0 3-4-3-1 2 0 1-2-2-1 2 0 0-8 0-2-1-8 0-2 1-6-2-1 0 0 0-2 3-1-3-14 3-13-1-8 1-4-4-3 0 0-1-1 5-1-1 0 1-11-3 10 9 1 0 6-3 9 3 0-4 2 0 11 0 6 1 5-2 2 1 2 3 1-2 4 3 1-2 4-3 1 0 4 5 2-3 3 0 2 3 0-2 1-1 0 3 3-1 1-2 0 0 1 2 4-1 2 0 1-1 4-1 1-1 1 4 2-4 3 1 1 1 2 1 1 2 0-5 2 5 2-3 4 2 7 1-9 4-9-3-3 3-10 1-3 0-1-3-1-1-4 5-1-2-2 2 0-4-3 3 0-4-12 4 0-2 0 2-4-2-4-2-2 1-1 4-1-3-9-2-1 5-4-1-1-4-9 1-3 2 0 2-2-4-1 2-5 1-7-1-1-2 3 10 5-4 8-1 16 5 1-4 1 0 2 1 8-2 3 5 2-4 0 0 2-1 1 1 5 0 0 4 1-4 0 1 6-1 0-1 1 1 2-1 2 0 12 3 1-3 2 0 3 5 7-2 0-3 3 1 0-1-18 6-4 0 0 0-3 0-2 2-7 2-1-2-4 1-5-1-2-1-1-1-12 2-14 3 0-1-16-1-2-3-4 9 2 0 5 2 0-4 1-1 18 4 23-4-38 7" marker-start="url(#t)" marker-mid="url(#t)" marker-end="url(#t)"/>
<path d="M654 606l-14 2-3 1-33 2-39 5 32-4 22 5 10 0 6-1 2 0 15-3 8 2-4 6-6-2-19 2 0 0-17 1-9 1-20 0 0-2-24 2-3 4 35-2 15 0 12 1 1 2 7-4 7 4 1-2 4-2 1 4 1 0 9-4 3 2 3 0 1-1-7 9-1 1-1-2-5-3-1 1-13 2 0 1-2 1-2-4-10 2-9-1-27 0-4 4 5 4 15-1 3-1 10-1 2 2 10-2 4 0 6 1 1-2 5 1 5 2 13 1 0-3 2 2 2 0 8 4-16 0-6 3-4 1-1-2-4 1 0-2-3-1-3-1-3 4-1 1-4-4-2 3-2-2-2-2 0 1-5 2-2 2-3 0-5-3-1 1-5-1-1 2-26-2-22 3 0-5 25 9 3 1 12-1 8 0 2 0 4 0 2-2 4 1 3-1 2 2 3 1 10-2 2 3 3-2 0-3 4 3 0-3 4 4 2-4 1 3 6-3 2 5 0-2 2-1 0 0 6 2 0-2 0 3 2-1 2-2 5-1 5 9-3-1-4-3-4 5-3-5-1 5-1-4 0 0-7 4-1 0-2-3 0-1-2 0-1 2-6 2-1-4-5 2-3-3-3 2-2-1-1 2-4 2-36-4-6 4-2-3-3 3-5-1-1-4-5 0-2 5-2-5-1 4-4 7 24-1 3-1 9-3 13 0 1 5 1-4 3 4 11-3 4 1 1 1 3-1 6 0 1 1 4-1 4-3 0 3 9-1 0 2 0-1 5-3 5 5 1-3 7 2 1-3-1 8-4 0-4-2 0-1-1 4-3 1-2-1-1 0 0-4-1 2-1 0-3 3 0-5-2 5-3-2-11-3-1 4-6-2-4 1-1-2-6 2-1-2-4 1-3 1-1 2-1-5-4 2-2-2-1 0 0 2-4 0-2-1-16 1-8 1-3 0-5-1 0 7 2-1 3 1 0 0 8 1 15-2 3 1 0-3 2 4 10-3 2 4 4-3 1-1 0 2 5-2 6 4 1-3 2 2 2-2 1 3 1-4 1 4 3 0 6-5 5 0 4 4 7-2 2 1 1-3 4 1-26 5-4 2-9 1-2 0-6 0 0-2-4 0-3 1 0 2 0-1-15 0-1 1-1-4-4 1-2 4-6-2-7-3-2 5-4-3-16-1 14 5 1 1 3 0 26-1 1 5 5-4 3-1-33 7" marker-start="url(#t)" marker-mid="url(#t)" marker-end="url(#t)"/>
<path d="M660 597l-21 9-21 0-20 8 12-1 5 4 2-2 12-3 23 4 12 3-15 3 0-2-28 0-12-2-14 1-14 6 7 3 12-1 9 1 0-3 5 1 1 2 8-1 2-1 15-2 8 5 3-3 0 2 10 5-5 2-3-3-1-1-7-1-4 5 0-1-6-2-4 0 0 1-8 0-4 0-10-3-12 3-3-3-1 4-1-1 12 5 2 2 3 1 7-2 6 2 5-1 3 1 0-5 4 0 2 1 1 4 3-4 2 1 24 8-2-2-12 1-5-1-4-2-2 3-7 0-1-2-3-1-12 4-11-2-1 3-10-2-9 0-8 0-3-1-6-2-3 4 0-1-2-2-24 3 30 7 9-4 4 3 1 0 3 1 1 0 2-4 5 0 12 3 1-1 3-1 0 2 5-1 1-3 1 4 3 1 12-5 2 2 0 0 4 0 2-1 1 2 4 2 2-4 8-1 4 2 4 1-2 8-1 0 0-5-1 4-5-4-2 2-6-2 0 0-1 1-2 1-1 0-3 2-3 0-5-2-3 0 0 2-1-3 0-1-7 3-4-1 0 2-2 0-5-2-6-1-1 4-1-3-3 0-2 3-5-3-3-1-3 2 0 1-4-3-10 2-15 1-16-4 6 11 14-5 3 2 2 2 19-1 7-2 3 0 5-1 0 4 2 0 1-4 3 2 9-2 2 4 1-4 7 0 2 1 2 4 0-4 1 1 5 1 1-3 5 4 1 1 3-1 0-3 1 2 2 2 1-4 2 3 1-1 2-1 1 0 0 3 2-5 1 1 1 0 7 1 1-2 0 11-1-5-7 0 0 4-4-3-3 2 0 1-2-4-1 1-3 2-3 2-2-2-3 0-3 0 0-1-4-2 0 1-3 0-5-1-1 5-3-3-1-1-1 3-1 0-6 0-1 0 0-1 0-2-4 4-2-1-2-4 0 3-2-1-10 3-6-5-2 0-1 2-1 2-12-1-10 1-3-2-5 2 10 7 6-4 6-1 9 3 0 0 0 0 2 0 1-1 9 2 6-4 8 5 1 0 3-5 1 2 2-1 4 0 2-1 0 2 0 2 4-1 2 0 2-3 8 1 4 1 3 0 1 1 3-2 1 0 8 0 5 0-36 8-2-2-3 1-2-2-1 4-9 0-2-3-5 1-2 1-6 2-18-4 0 3-5 6 5-2 3-2 8 0 9 2 5-2-37 9" marker-start="url(#t)" marker-mid="url(#t)" marker-end="url(#t)"/>
<path d="M659 605l7 1-28 0-16 0-28 6 2 4 7-3 31 4 5 0 1-2 13 0 4-2 10 7-21 3-7-5-3 4-13 0-3 1-39-1-2 0-2-4-11 6 17 1 1 4 13-2 5-2 7 1 10 0 1 3 0-2 1 0 2-1 5 2 6-4 9 3 14 0 9 2-6 2-2 1-14 0-6 3-6-2-1 1-6-4-1 1-10-1-15 0-8 5-10-4-10 3-4 5 0-2 11-1 4 0 9 5 2-5 3 2 0 0 0 2 1-3 13 2 11-3 0 0 5 1 3 1 1 0 2 3 10-3 2-1 0 0 18 2 3 3-14 1-3 2-2-2-5 4-2-4-6 4 0-4-4 1-5 3-6-5-3 1-2 4-7-3-1 3-6 0-3-1-9-3 0 4-3-5-1 5-3 0-24-2-9 5 21-2 7 4 2 0 3 1 15-4 5-1 8 5 3 0 8-5 2 3 5-3 0 0 1 4 0-1 8-3 0 3 3-3 4 2 2 2 0 0 3 0 2-4 3 3 0-2 6 4 2-4-4 7-3 3-6-4-1 2 0 0-10-3-2 5-2 0 0-2-1-1-1-2-3 3-1-2-1-1-6 0-3 3-3 1-1-3-6-1-1 2-1 2-7 1-24-2 0 2-8-2-4 0-4 0-9 1 6 2 6 0 3 4 13 1 3-5 3 2 1 2 9-3 13 1 9-2 5 4 0 0 3-3 2 2 0 0 3 1 0-1 1 1 0-4 1 0 3 0 1 4 1-1 2-1 1 3 2-2 6 0 2 1 5-3 1 1 2 2 2-2 1-2 4 5 4-4 2 0-1 7-4 0-3-2-1 2-4 0 0-2-4 2-1-1 0 1-4 2-4 1 0-2 0 0-1 2-2-3-1 2-1 0-2-3 0 2-3 1-1 0 0-3-2 2-1 0 0-2-4 0 0 2-1 1-8-3-11 4-1-4-7 0-1 3 0-1-2 1-4-1-3-3 0 5-7-2-13-2-7 3-2-4-1 0-1 5-10 2 5 0 17 2 1-2 10 1 4-1 0-1 6 5 3-1 6-3 4 2 0-1 3 2 2-3 6 1 6 1 5-2 5 0 2 1 3 2 0 1 6-3 4-2 6 3 2-1 2 2 5-3 2 1 3-2-41 7-6 1-3 0-18-1-2-1-10 3-5-3-19 6 8 0 1 2 1-2 9 5 6-1 8-1" marker-start="url(#t)" marker-mid="url(#t)" marker-end="url(#t)"/>
<path d="M668 598l-2 1-2 0-2-3-3 3-1 0-5-1-1 0-4 1-36 6 1 0 5-1 11-2 3 3 5-4 0 3 2-1 1-2 1 4 0 0 1-5 1 1 1 0 1 4 1-4 1 2 0-1 1 2 1-4 1 2 0 3 2-3 1 2 0-2 0 2 1-3 0 3 1 0 0-1 2-2 0 4 1-3 1 1 0 1 1-1 1 0 2 0 7 1 1 0 1 1 1-1-3 6-2 1-1-2 0-1-4 1-1 1 0-2-2 0-1-2-2 3-2-1-1 3 0-3-1 2-2 1-2-5-1 0 0 2-2 2-1-4-1 1-1 4-3-5 0 3-2-2-1 0-1 3-1-1 0 0-1 0-2 2-1 0-2-1-1-3-1 3 0-2 0 0-2-2 0 3-1 2 0 0 0-1-2-1-1-1-1-1 0 4 0-1-1-1 0-2-2 1-1-2-1 3-1-1-1-2 0 1-2 0-1 4-3-2 0 0 0-1-1 1 0-2-2 4-2-1-2 1-3-2-5 2 0-1-3 1-30 6 5 0 5-1 1 0 1 0 1 1 1-3 5 0 1 3 1-1 1-3 1 0 2 2 0-2 1-1 0 0 1 5 4 0 1-2 0-1 4 3 0-5 2 4 0-1 1 0 3 2 1-3 1 2 0-1 3-1 0-2 0 4 3-4 0 1 0 0 5-1 1 0 1 5 3-2 3-3 1 3 0-3 1 0 3 4 1-2 0-1 2 1 0-2 0 3 1-2 0 0 0-1 3 3 0-3 4 4 0-2 0-1 2 3 1 1 2-3 0 1 1 0 1 1 1-3 1 1 0 0 2-1 0 3 1-4 1 1 3 0 0 1 1-1 2 1 0 0 1-2 2 4 1 1 1-4 4 0 0-1 3 8-3-1-1 3-2 1-2-5-3 2-1 2-1-2 0-1 0 1-2-2 0 5-1 0-1 0 0-1-3-4 0 0-1 0 0 3 0-1-2-2-1 1-2-1-1 4 0-3 0 1-1 3-1 0 0 0-2-1 0-2-1 0-1-1-3 4-1-3-1 1-1 0-6-2 0 1-1-2-1 3 0-2 0-1-2 5 0 0-1-1-2-3-3 0-1 3-4-4-1 4-1 0-1-1 0 2-2 0 0-1 0-3-4 0-3 3-1-1-1-3 0 1-2 1 0-1 0 2-2 0 0 0-1-2 0 1-1 0-1 2-1 1-1 0 0-4-3 0-2 2 0 1-4-1 0 0 0-3-1 0-3 0-2 1 0 1-1 3-3 0 0-3-2-1-1 0 0 3-1-2-1 1 0 0-1 0 0-3-1 3 0-2-4 1 0 0-1 0-1-1 9 9 1-4 1 4 0 1 1-2 0-2 0 4 2 0 0-5 1 4 1-1 1-3 1 2 2-1 0 0 0-1 2 1 0 3 1-3 0 2 1-2 2-1 3 2 0 0 4 0 2 1 2-1 2 3 2-2 0 0 2 0 2-3 0 5 1 0 0-5 3 5 0-3 0-1 5 2 2-1 1 1 1-3 4 2 1-1 3 0 0 0 1 3 1-3 3 3 1-2 1 2 0-1 1-2 3 3 0-3 1 0 1 3 1 0 2 0 1-3 1 0 2 0 1 1 2 2 0-4 0 1 1 0 2-1 1 4 2-2 2-1 2 3 2-2 1 1 1-1 3-1 0 4 3-1 6-4 1 8-1 1-2-2 0 3 0-4-1 3-1-1-2 0-1-2-3 3-1-2-5-1-1 0 0 1-3 3-1-4-9 1-1 2-1-3 0 4-1 1 0-5-1 4-2-2-2 2-1 1-1-3-3-2-2 4 0 1 0-2-1-1-4 1 0 0-4-2-4 4-2-5-1 0-1 1 0 2-4-3 0 2-2 3-2-2-2-2-7 1-2-2 0 0-1 4 0 0 0-2 0 3-3-4-2 2-6-3-2 0-7 4 0-3 0-1-2 2-1 2-2-3-8 1-2 1-3 2-2-4 0 0 11 10 3-5 1 3 6 2 2 0 0-4 1 1 1-1 1-1 1 5 4-5 2 4 3-1 1-2 1 0 0 2 3-3 1 0 2 5 1-2 0 0 3-3 1 0 5 4 1-3 0 3 0-4 1 5 7-2 1 1 1-1 1-3 3 0 3 1 4 4 1-2 2 0 0-3 1 4 2 0 6-4 3 1 0-1 1 4 1 1 0-5 0 2 1 1 1-1 2-1 4-1 3 5 1-3 2-1 1 3 0-1 2 1 0 0 1 1 3-4 1 2 0-2 1 4 1-1 2-4 1 0 0 3 1 0 1-1 3 0 1 1-6 6-1 1-1-3-1 3-3 0-2-2-2 1-1-2-1 2-2-3-1 1-1 2-1-1-2 0-2 2-3-1 0 0-1-2-2-1-1 1-1-1-2 2-1 0 0-2-5 4 0-4-2 5-3-5-1 1-2 3-1-1-2-3-3 4-1-3-2 1-1-1 0 2-1-1-2 0-1-1 0 3-3-4-2 4 0-2-3 3-1 0-1-1-4-4-4 1-3 4-1-2-1-1 0 1-1-3-4 3-13-1-2 1-2-2-8 0-1 4-9-3 15 7 1-1 1 3 5-4 4-1 1 1 6 0 0-1 4 2 0 1 1 2 4-1 2-3 14 1 4-2 6 5 10-3 5 1 0-2 6 0 1-1 6 1 8-1 5 4 0 0 2-3 2-1 12 9-2-2-1 3-1 0-4-3-3 1 0 0-3-1-3 1-2-1-4 2-2-2 0 2-1-2 0 2-3 1-2 1 0-4-8 3-1-4-2 1-8 2-3 2 0 0-4-4-3 2-5 2-1-5 0 2-9-1-1 2 0-3-3 3 0 1-1 0-3-1-3-3-4 4-6 1-1-1-5-1-2-2-4 1-3-2-7 4-3 3 22-1 2 2 1-1 0 1 0 2 5-1 0 2 7-3 3-2 3 4 1-3 1 1 2 3 5-3 0 3 2-1 2 1 1 0 1 0 6-2 3 0 1 2 1-2 1-2 1 2 1-3 2 1 1 3 3-2 3 2 0 0 1 0 2-2 0-2 9 4 10 0 0-4 2 1 1 1 4 3 12-1-2 5-1-1-3 3-2 0-1-3-2 1-8-3-9 4-1 1 0-1 0-2-8 0-4-2-7 3-3 1-22-3 0 2-17 2-7-1-4-1-16-2-1 8 7-1 5 0 5-1 6 3 8 0 20-3 4 2 1 0 9-2 3 3 0-2 1 0 3 0 5-1 2 3 14-3 1 4 15-4 2-1-47 7-4 0-2 4-1-5-2 5-2-4-5 3-4-1-1 2-4-2-19-2-1 1-2-2-1 2-13 4 12 4 8-3 18 1 1 1 0 0 11-3" marker-start="url(#s)" marker-mid="url(#s)" marker-end="url(#s)"/>
<path d="M669 594l-6 5-6-3 0 1-3 1-3 1-35 6 5-1 0 1 5 0 5-2 0-1 3 2 0 1 0-3 1-1 1 3 2 1 0-4 0 0 1 4 0-3 1 2 3-3 2 1 1 1 0-1 1 2 0-4 0 2 1-1 1 3 0 0 1-3 1-1 3 1 0 0 2-1 3 5 2-2 2 1 0-4 3 4 5 1 0-1-4 7-1-4-1 0-1 2-1-1 0 0 0 3 0-5-1 4-3-1 0-3-3 3-1-1-3-2 0 4 0 0-1-4-1 3-1-1-1 3-1-5 0 5-1-2 0-3-1 0 0 0 0 3-2 1-1-1 0 1 0-1-1 0 0 1 0-3-2-1-2 5 0-3-2-1-1 4 0-4-1 0 0 4 0-5 0 5-1-1-1 0-3-2-1 3-1-3-1 0-1 2-1-1-1 1 0 0 0-4-1 2-2 1 0 0-1-3-1 0-1 2-1 2 0 1 0-1-1 1 0 0-4-2 0 2 0-3-1 1-1-3-1 5 0-3-2 0-1 2 0 1-1-3-1 2-2 1-1 0-1 0 0-1-3 1 0-1-3 0-31 7 7-1 1 1 2-1 2 1 1-1 1-1 8 1 1-4 1 5 1-1 2-3 0 1 1 2 1 0 2-2 1 3 0-2 1 0 1 2 0 0 1-3 0 0 1-2 1 1 1 0 1 2 3 2 0-2 1 1 1-1 0-3 1 3 0 2 1-4 0 4 1-4 3 4 2 0 0-5 1 2 0 2 1 1 0 0 2-2 0 1 1 0 1-4 1 0 2 0 1 0 0 4 1 0 0-1 3 0 0 2 4-3 2 1 1 0 0 2 0-4 0-1 0 5 1-2 0-2 0 3 1-3 2 4 0-2 1-3 2 4 0-1 0 2 1-4 1 0 3 3 0-2 0-2 0 4 1-4 0 4 1-4 1 2 0 2 0-1 1-3 1 2 2-1 1-1 1 4 1-1 1-1 0-1 1 2 1-3 0 0 1 2 1 2 0-4 3 1 2-1 5 5 1-4 1 2-2 6-1 2-2-1-1 0-4-1-3-1 0-2-1 0 0 0-2 5 0-2-2 1-3-1-1-1 0 0 0 0 0 1-2-2 0 3-1-1-1 2 0-1 0-4-3 3-2-3 0 2-1 1-2 0-2 0-4 2-1-3-2 1-1-1 0-1 0-1-2 3-2 0 0 2-2-4 0 1-1 0 0 1-2-3-1 4-5-2-2 2-2 0-2-4-2 3 0 2-1-1-2 1-3-3-6-1 0 3 0-1-3 0-5 0-2 2 0-5-1 1-5 1 0 0 0 3-3-2-1-3-1 0 0 4-1 0-2-1-2-3 0 3 0-1-5 0-3 1-3 1-1-1 0 1 0-3-3 0-1 1-2 1-1 3 1 0 1 1 1 3 1-2 1 1 3-2 0 0 2 3 1 1 1-5 4 2 0 0 0 3 0-4 1 1 2 1 2 0 1-3 0 5 1-1 3 0 2-4 0 3 1 0 2 2 2-4 1 0 1 3 1-1 1 0 3 0 1-3 1 4 0 0 0-2 1-1 4 0 0 2 0 2 1-1 0-1 3 1 0-1 4-2 2 4 0-4 2 2 0 0 1-2 0 2 1 2 1 0 0 0 1-3 1 1 0-2 2 4 0-4 4 4 0-1 2 0 2 1 0-2 1-1 0-2 3 2 1 2 3-2 1 2 1 1 3-5 0 3 2 0 1-1 0 1 0 2 1-1 1-4 0 5 4-4 0 0 2 2 0-3 1 1 1 2 2-1 2 2 0 1 1-3 3-1 1-1 0 2 0 1 0-2 1 1 5-1 5 2 2-1-3 9 0-2-1-2-1 1-3 0-9-2 0 1-4 4-4-1-2-4-1 5-2-3 0 0-3-2-1 1-3-1 0 0-2 0-2 1 0 2-7-3 0 3-2 1-1-4-1 2-1 3-1-3 0 0-3 3-5-1 0-4-2 5-1-4-2 1 0 0 0 0 0 0-3-2-2 5 0-3-2-1 0 1-2-2-2 2-1-2 0 0-3 3-3-1-3 1-2-3-3 5-3-3-1-1-1 1-8 2-1-1 0 2-3-3-1 2-1-2-2-2-2 1-5 1 0-2-3 7 2 0 4 3 3-3 1 2 5 1 0-2 1-1 1 2 3-1 7-1 1 1 1 3 0-3 3 3 1-2 0-3 2 2 2 2 5 1 7 0 1 0 1-3 1 3 1-2 2-2 2-1 1 1 2 4 3-1 1-2 3-2 1 2 1-2 8 3 4 0 1-2 5 3 6-2 1 1 4 0 0-3 1 5 2-3 0-1 2 4 2-4 0-1 1 4 0 0 6 0 4 1 1-2 0-3 4 1 5 2-4 4-6 0-1 0-1 0-1 4-1-2-1-3-1 3-1-1 0 1-1 0 0 0 0-2-2 0 0 0-2 0-1 4-4-4-4 0-3 3-1-3-1-1-1 2-1 3-1 0-1-5-9 3 0 0 0-3-1 4-3-2-1-1-2 0-3 3-3 0-4-4-1 0 0 0-5 0-5 2 0 3-3-1-7-1-1 1-3-4-2 2-7-1-3 3-2-2 0-2-4 1-12 2 0-2-3 9 7-2 4 0 1-2 5 5 5-5 0 1 2 0 4 1 6-2 3 5 2-5 1 0 1 3 6 0 4-2 3 4 1-3 6-2 3 1 2 2 9-1 1 1 2-2 0 2 1-1 4-2 1 2 4 3 0-1 5 1 3 0 1-1 5 0 3-1 1-2 0 2 1 2 3-2 2-1 1-2 2 2 8 1 1 1-6 6-5-4-2 0-3 0 0 0-1 3 0 0-4 2 0-5 0 4-3 0-1-2-1 2-2-2-2 3-1-3-2 0 0 1-4-3-9 5-4-5-6 0-1 0-4 5 0-5 0 3-2-2-2-1-3 4-1-1-2-3-2 0-1 3 0-1-4 3-3-1-5 0-1-2-1 1-2-1-2-1-7 4-7-1-10 1 0 0 2 4 7-2 0 0 1 2 1-3 9 0 7 0 0 0 12 0 0 5 4-3 12-1 6 2 6 1 14-4 4 0 5 4 4-3 0 0 11-1 2 0 1 8-4 2-3 0-2-3-1 3 0-1 0-2-6 4-6-5-3 1-17 3-3 0-9 0-6-1-1-1 0 1-2 1-6-4-7 4-1 0-13 0-10 1-5-3-5 7 20-1 6 1 15 0 3-1 1 0 10 3 3-5 7 1 7-1 1 5 22-4 0 0 9 1 1-2-21 7-10 0-7 1-3-1-3 1-5-2-1 2 0 2-13-1 0-3-3 3-6-2-5 2-6 2-3-2-3-1-3 5 16 1 22-2-37 6" marker-start="url(#s)" marker-mid="url(#s)" marker-end="url(#s)"/>
<path d="M668 599l-2-1-5 1 0 0-3-3-2 2 0 1-1 0 0-1-5 1 0-1-1-1-3 2-1 0-26 6 4-2 1 2 2-2 1-1 3 1 2 1 0 0 3 0 1-1 0 1 4-2 1 0 1 3 0-4 2-1 0 2 0 1 1-2 5 2 1-2 1 3 0-4 1 0 1 4 1-2 4 1 0 0 0 0 1 2 8-4 1 4 3-4 1 5-2 4-3-4 0 4-1 0-4-2 0-2 0 1-3 0 0 3 0-2-1 3-1-5-1 3 0-1-1-1-3 4-2-2 0-1-3 2-1-4 0 0-2 4-1 1-1-4 0-1-2 5 0-3-1-1 0 4 0-1-1 0-1-2-1-1-1 3 0-1-1 1-1-4 0 5 0 0-1-3 0-1-1 1 0 0-1 0 0 1 0 0-1-2 0 1-1-1 0 4-1-3-1 2-1 0-1 0-1 1 0-3 0 1-2 2-2-3-1-1-1 2 0-2-1 3-2-1-1-3 0 1-2 3 0 1-2 0-1-5-1 5-2 0 0-1-2 1-4-2-2-1-6 1-27 7 3 1 1-1 1 0 3-1 2 1 0-2 0 3 1-3 0 2 0-3 1-1 2 2 2-1 1 0 2 3 0-4 0 5 3-5 0 1 0 2 0 0 1-2 1 2 0-1 0-1 4-1 1 2 2-1 1 0 2 3 1 1 1-2 0 2 3 0 1-4 1 3 2 0 0 1 1-3 1-1 1 1 3 2 0 1 0-2 2-3 0 0 0 4 1-1 3-3 1 5 0-1 1 0 0-2 1 2 0 1 0-2 1-1 0 2 1-4 1 2 0-1 2 0 0-1 0 2 0 1 1-3 0 1 2 1 0-1 0 2 0-3 1 3 0 2 1-1 0 0 2-2 3 1 0 2 0-1 2-4 0 4 2-1 1-2 1-1 2 0 1 1 0 0 1 4 0-5 0 2 0-2 1 3 1-2 0 3 1-3 1 0 0 3 3-1 2-3 0 3 2 0 1-3 4 5 1-1 3 4-2 3-1-4 0 4-1-3 0 1-2 1-1-3-2 0-6 4 0-4-1 1 0-1-3 4-3-1 0-1 0 2 0-5-1 3-1 0 0 2-1-4-1-1-2 0-1 2 0 2-1-4-2 3 0 2-2-2-1-3 0 0-1 4 0 0-1-4-1 5 0-4 0 4-2-3 0 2-5 1 0-4-2 0 0 1-1 1-1-2 0 4-1-3-5 2 0-4 0 1-1 4-1-5-1 2-1-2 0 0-2 1-8 3-3 0-1-1-3 2 0-1-5-3-1 2-1 0-3-2 0-1-1 0 0 0-1 5 0-4-1-1-3 3 0 0 0-2-2 4 0 0 0-3-1 2 0 0-1 1 0-2-1-2-2-1-1 4-3-1 0 0-2 1-6-2 0 3-3-3 0 0-10 4 11 2 1-1 2 1 0 3 1-2 0-1 0-2 0 1 0 0 5 4 2 0 0-1 1-1 0-3 1 2 0 0 4-1 3 4 0-2 0 2 3 0 1-5 0 5 0-3 1-2 1 5 0-1 1-4 0 2 2 1 3 1 1 0 5-3 1 4 1-4 5 2 2-3 1 3 0-3 1 1 1 3 1-1 1-3 2 2 1 0 3-1 1 2 1-2 5 1 2-1 0 2 1-3 0 2 1 1 1 0 7 2 1-5 1 0 1 1 1 1 1 1 0 1 2 0 2-4 4 0 1 0 1 5 0-4 1 1 4 3 3 0 0-2 1-3 0 4 1-4 0 1 1 4 2-5 0 3 4-3 2 3 6-1-1 9-3-2-5 1-2 1-2-5 0 3 0 1-1-3-2 3-1-2 0-2-1 2-1 0-1 1-2-1-2-2-1 2-1 0-1-1 0 0-1 1-2 0-1 1-5 1-1-3-2 0 0 4-1 0-2 0-1-5-1 2-1 3 0-3-1 3-2-4-1 4-1-5 0 0 0 0-1 4-1-4-2 4 0 1-1-5-6 4 0-4-1 4 0-1-1-3-3 1-2 1-2 0 0-1-2 2-1 1-2 0 0-3-2-1-5 2-4-1 0 2-4 0-1 1-1 0-2 1-2-4-3 3 0-3 0 3 0-1-3-3-2 4-2 0 0-4-1 5-1-3-1 2-4-4-3 5-1-1-7 1 0-5-1 0-3 2 1 4 4 0 2 2 1 2 0 0 1-3 8 3 5-2 2 0 2 2 2-3 4 1 5 3 0 0 4-4 2 0 0-1 13 1 1-1 4 1 0 2 1 1 1 0 0-4 2 0 2 3 4 1 2-3 0 0 1 3 3-3 2 3 1-1 1 2 6 0 1-1 3 0 2-2 1-2 0 2 1-1 6-1 2 2 1 3 2 0 2-2 0-2 2 1 0 3 3 0 0 0 7-5 1 2 3 2-13 6 0 0-6-3-7 4-1-4 0 2-4-1 0 1-4 1-3 0 0-3-1 3-5-2-1 0-7 3 0-1-1-2 0 3 0-2-1-1-1 1-2 2-8-3-4-1-2 0 0-1-2 2-9 3 0-2-2-1-1 3-1-4 0 4-4-1 0-1-1 2 0-5 0 3-3-3-4 5-7 0-1-4-1 4-2-5-2 3-1-1-1 0-2-1-5 0-3 8 10-3 7 4 3 1 2-4 4 4 1-3 2 3 0-4 3 4 3-1 6-1 0-3 1 2 0 3 2-1 7 1 2-3 1 1 0 1 1 1 1-5 5 2 1-2 1 5 3 0 3-1 1-3 14-1 2 0 11 4 3-2 0 1 7-2 0 2 3-1 2 0 7-1 1 0 4 8-14-3-1 0-1 3-5 1-2-1-3-3-8 5 0-4-1 2-6-2-1 3-1 0-4-3-9-1-6 5-1-4-2 4-3-4-5 3 0 0-1-3-2 0-4-1-2 0-2 3 0-3-3 0-8 1-2 2-3 2-8-3-7-1-4 7 8 1 4 0 23 0 12 1 4-3 5-1 3 1 4 4 5-3 1 3 1-1 6 1 6-1 4-2 5-1 2-1 8 5 1-1 3 0 2 1 4-1 0 1 3-4 6 3 1 0 2 6-11-2-7-2 0 0-3 1-1 0-2 0-1 4-2 0-3-2-3-2-1 0 0-1-1 2-1 1-3-3-1 2-6 2-4-3-7 1-4-2-3 2-2-2-1 1 0 3-1-2-2-1-1-1-2 5-1-3-11 2-13-3-11 4-1-1 0 1-19 4 15-3 2 4 9-1 1-1 9 0 16-1 1 2 7 0 5 0 3 2 18-1 13-1 1-3 26 0-34 6-20 3-3-1-6 2-25-4-18 0-8 0-4 6 8 4 3-2 0 0 2-1 3 4 10-5 2 5 1 2" marker-start="url(#s)" marker-mid="url(#s)" marker-end="url(#s)"/>
<path d="M671 595l-3 1-1 0-1 2-2-2-4 0-5 1-6 2 0-1-3 1-32 6 6 0 2-1 1 1 2-3 3 2 1-1 3 1 0 1 1-3 1 1 0 1 2 1 1-4 0-1 0 0 0 3 1-1 2 2 0-4 2 0 3 1 0 0 2 2 0-3 1 4 0-1 3-2 1 4 1-3 0 3 1-5 0 1 0 2 2 2 1 0 0-3 0-2 1 3 1 2 1-1 1-1 0-2 2-1 0 1 4-1 0 7-3-1 0 2-1 0-7 0 0-2 0 5-2 0 0 0-1-5 0 1 0 3-1 0 0 0 0 1 0-2-1-1-2 1 0 1-1-1-1-2-1 3-1 1-1-2 0 2 0-3 0 3-1-1-1-2 0 0-2-1-1 0-1 0-7 4 0-4-1-1 0 1-2 0-1 0 0 1 0-2 0 2-1 0 0-1 0 1-4-1-1 3 0-4 0 5-3-2-1 0-1 1-1 1 0-3-1 1 0 1-2 1-1-4 0 0-1 4 0 0-5-1-1-2-1 3-3 0-1 0-1 0-1-1-1 1-2-1-43 7 13 0 3-1 2 0 2 0 2-2 0 0 2 2 2 0 4-2 1 1 3 1 4-2 0 1 0-2 2-1 1 2 0 1 1-3 1 1 2 1 2 0 5 0 3 3 1-4 1 4 4-5 0 3 1 0 1 0 0 1 0 0 6 1 0-3 1 3 1 0 0-2 2-2 0 2 2-3 3 1 1 4 0-5 0 3 3-3 3 2 2-1 2-1 0 1 0 1 0 1 1 0 0 1 0-1 0 0 1 2 1-1 1 1 2-5 1 1 1 4 1-4 0 2 1 2 0-2 1 2 1-4 1 2 3 1 0-1 2 1 0-3 1-1 0 3 2-1 1 3 6 0 0 1 0 1-1 4-1 0-2-5-1 3-2 0 0 2 0-5 0 3-1 1 0 1-5-4-1 3-3-1-1-3-2 1-1 4 0-1-3-4 0 5-1-3 0 1-1-1-1 1 0 0-1 0-2-2 0 1-1 2 0-1 0-1-1 1 0-2-2 2 0-2-2 3 0-4-1 5 0-3-2 2-1-2-1 0 0 3 0-5-3 0-2 5 0-3-2 1-1-2 0 2 0 2-6-3 0 3-1-4-1 4-1-3 0 1-1 0-1 2-2-2-1 2 0-2-1-2-2-1-4 0 0 3 0 0-4 1-1-2-1-1-1 1 0-1-1 4-1-4-1 2-1-3-1 3 0 2-1-1-3-4-1 1-1 3 0-1-2-3-1 0-2 0-2 5-1-1 0-4-1 3-1-3-1 2-1-1 0 1-1 3-4-4-3 1-2 2-1-4-1 4-1-3-8 3-1 2 0 4 4-2 3-2 4 2 1 1 0-3 0 3 0-1 1-2 0 3 1-3 4 2 0-1 1 4 1-2 1-2 1 4 0-2 1 2 0 0 5-2 1-1 1 0 2 0 1 0 2 3 4-5 1 1 4 3 0-1 0-3 3 1 1 4 0 0 3-4 1 0 4 4 0-5 4 1 2 2 0 2 4-3 1 3 2-1 1 0 1 1 5-3 1 3 4-2 0-1 1-2 2 0 2 1 0 4 4-3 0-1 3 2 1-2 0-1 1 3 0-1 4 1 1-1 0 0 3 2 0-1 1 1 1-3 1 4 0-1 1-1 0-2 1 1 1 0 4 2 1-1 2-1 2-1 2 8-3-1-1 3-3-4-1 1-1 2-1-4-3 2 0-1-2 1-1-1 0 3-2 1-2-4-1 3-1 0 0 0-1-1-1 1 0-3-1 1 0 0-4-2-1 5-1-1-1 1-2 0-1-2-3-1-2-2-4 3-2 2-2-2 0-3-1 1-5 0-2 2-1-1 0 2-1 0 0-1 0-1-5-1 0 1-2 2-5 1-1-1 0-3-1 3-1 0-1 1 0-4-2 0-3 2-1 0 0-1-2 3-1-5-1 0 0 2-2-1 0 3-2-4-5 2-4 1 0 2 0 0-1-5-5 4-1-1-3 2-4-3-4-1 0-1-1 5-4 4 3 0 6-1 1 2 4-2 0-1 1 2 2 1 2 0 1-2 1 1 0-1 3 3 1-4 4 1 3 1 2 1 3-4 1 5 6-3 0 0 1 0 0 2 5-1 0 0 2-3 0 3 5-3 2 1 1 3 0-3 1 3 6-2 1-2 3 4 0 1 1-3 4 3 2 0 2-2 1-2 1 0 2 2 1-3 1 3 4-3 0 3 1 2 3-4 4-1 0 2 1-1 5-1 4 0 1 2 7 1 1-3 1 5 6-4 1 6 0 0-1 4-4-2-1 1-1-4-1 5-1-1-2-3-11 0-2 1 0 1-1-3-1 5 0-3-1-2-1 3-1 2 0 0-1-1-1-3 0 0-3 2 0-2-1-1-6 5-4-5-1 3-1-2-1 1-6 2 0-2-1 1-3-3-4 2-1 1 0-1-5 0-5-1-4 0-5 2-1-3-7 0-2 2-1 1-1 1-3-4-5 4 0-1-3-3-2 0-6 0 0 5-3-1-5-4-1 4-2-3 8 7 5-2 0 3 3-2 3 2 7-1 0 3 2-1 4-4 0 2 3-1 0-1 3 4 1-4 4 2 7 3 1-1 1-3 1 0 8-1 0 3 1 1 10 0 1-1 3-2 3 0 3-1 0 1 4-1 0 4 1-2 1-1 6 3 1-3 0 4 5-4 1 0 3 4 1-3 5 1 2-3 4 1 2 0 4 3 4 5-5-2-2-1-3 4-5-3 0 0-1 3-3-2-2 3-1-4-2 1-1 1-1 1-2-4-1 0-2 0-3 5 0-4-3 0-2 0-14 0-4-1-4 2-5-2-13 0-1 0-2 2-2 3-1-5 0 5 0-5-2 1-12 1-1 1-4 0-1-2-1 1 0-2-6 0-7 2-10-2 4 7 14 2 2 2 3 0 5-3 1 3 8 0 3-1 6-4 1 4 5-1 1-2 0 4 3 0 13-3 2 2 1-4 6 1 2 0 4-1 3 2 0 1 1 2 2-4 14 0 5 3 8-4 4 0 3 5 0-1-1 5-2-1-4 3 0-4-1 0-4 3-1-3-1-1-3 4-4 1-4-2-4-2-2 4-2-4 0 1-1 0-1 1-2 1-13 0-1-3-3 0-8 0-3 0-2 2 0-3-4 1-12 1-3-2-5 2-2-2-1 3-9-3-12 3 11 8 5 0 9 0 16-1 20-4 10 5 0-1 6-3 0 1 2 0 2 0 8 3 2 0 2-5 10 1-22 5-2 1-15 3-15 1-1-3-4 3-11-1-2-1-3 1-4-2-19-2 21 9 0 0 5-2 9 1-23 5-12 3" marker-start="url(#s)" marker-mid="url(#s)" marker-end="url(#s)"/>
<path d="M674 593l-1 6-4-3-9 0 0 3-3-1-1 1-1 0-3-1-1 0-1 1-4 0-2 0-19 5 2 1 1-2 3 0 3 1 2-3 2 3 2 1 1-4 0 4 1-5 2 1 4 1 0-1 1 2 1 0 1-2 4 2 2 1 0-4 1 4 1 0 2-2 2 1 3-3 1 4 4 6 0 0-1-4-3 3-2 1-1 0 0-2-1 2-2-4 0 1-4 2-1 0-1-1-2 3 0-3-2-2 0 1 0 3 0-3 0 4-1-5-1 2-2-2-1 1 0 4 0-5 0 5-7-3 0-2-1 3-1-3-1 4 0-3-1 2-1 2 0-5-2 1-1 2 0-2-1 2-1-3 0 2 0-1-1 4 0-5-1 4-1-3 0 4-1 0-1 0-1-3 0-1-2 4-1-3-1 1 0-1 0-1-2 3 0-3-6 3-1 0 0-1-2 1 0-3-1 3-1-2 0 3-2-2-1-2-1 4-1-1 0-1-1 0-3 2 0 0-10 0-30 6 6-1 6 0 4-1 2 2 0-2 1 0 1 0 0 2 0 0 1-1 0 1 2-2 2 0 2-2 4 3 0 0 2-4 0 0 1 1 0 3 7 0 0-2 2 2 0-1 2 1 0 1 0-3 4-2 1 5 0-4 1 4 1-3 2 2 0 1 1-5 0 5 0 0 2 0 0 0 1-3 0 2 2-4 0 3 0-2 0 0 1 0 0 3 1-3 1 2 0-1 2 0 1-2 0 0 1 2 1-2 1 1 0 1 0-2 3 5 1-2 2 2 0-4 1 0 0 4 1-2 3-3 1 0 1 1 0 0 1 3 0-2 0 0 2-2 0 1 0 1 1 1 0 2 1-3 0 1 1 0 0-2 2 2 0-2 1 3 0-2 0-1 2 0 2 0 0 2 1-1 0-2 0 1 2 4 0-5 0 2 1-1 2 0 0-1 2 3 3 2 1-2 1-1 3-1-2 10-1-1-3-3-1 2 0 2-2-3 0 1-4 2-1 0 0-5-1 5-1-4-2 0-4 4 0-3 0-2-1 5-1-3-2-2 0 3-1 0 0-3-3 1-1-1-2 5-7-5-2 3-1-3 0 5-1-2-2-2-2 1-1 3-2 0 0-1-1 1-1 0-3-5 0 2-1 3-2-3-1 3-1-5-1 5-2-5-1 5-6-3-2-1 0-1 0 0-2 5-1-5-1 3-2-3 0 5-1-1 0-1-1 0 0-2-1-1-1 3-1-3-1 5-1-2-1-1 0 2-1-4-1 4-4-4 0 5-1-2-1 2-4-3 0 3-1-4-1 0-2-1-1 1-1 1-1 1-1-3-2 2-1 1-2 2-2-3-2-2 0 2-4 2-4 1 0-1-2 0 8 2 2 0 1 3 0 2 2-5 1 3 4-3 2 5 5-5 1 2 0-2 1 1 1 4 2-4 3 4 2-2 1-2 3 1 1 0 1 3 2-3 2-1 1-1 0 0 1 5 0-4 0 0 5 2 4 1 0-1 1 1 1-2 0 1 1-1 1-1 2 2 2-2 4-1 1 4 3 0 4 0 2-3 1 1 0 0 1 3 1-4 2 0 0-1 1 0 1 4 2 0 2-1 1 2 2-5 0 3 1-3 2 4 0-4 0 5 2-2 1 2 0-5 3 1 1 1 0 2 1-3 6 4 0-4 1-1 2 3 1-2 1-1 2 1 1 4 1-1 1-1 0-1 2 1 2 1 3 0 0-2 2 7-3-3-3 4-7-3 0 0-2 3-1-1 0-3-4 3-1 0-1-2-3 0 0 4-2-4-2 0 0 1-4-1-2 3 0 1-2-2 0 0-1-1-5 3-2-4-2 2-1-1 0-2-1 0-2 2-2-2-3 1-1-1 0 4-1-4 0 2-4 2-1 1 0-1 0-3 0 1-1-1-1 3-2-2-4 1-3-2-2 3-3 0-2-2 0 0-3 0-1 0-1 3-2 0-1-1-2-3-1 4-1-3-3 1-1 0-1 0-6-3-3 0 0 5-1-1-1-2 0 3-4-2-3-1-6 2-3 3 9 1 1 0 1-2 2 3 2-2 4 4 1-2 0-3 0 0 2 0 7 2 1 3 5-4 1-1 0 0 0 4 1-4 2 4 1-1 2-2 6 3 1-1 1-1 1 3 0-4 1 4 6-3 3 1 5 1 1 1 0-4 2 3 1-3 0 1 3-1 1 3 1 1 1-2 4-3 4 0 3 3 0 0 1-3 3 1 0 2 0 2 0-2 1 2 1-5 0 3 1-3 3 3 1-3 3 0 0 4 1-3 4-1 0 0 3 4 2 1 1-4 1 3 3-3 1 2 2-3 9 5-4 6-2-2-1 1-1-4-4 3-2-1-2 0 0 0 0-1-1 4-2-2-2 2-5-5-5 3-1 1-4-2-1 2 0-4-1 4 0-4 0 3-3-3-1 3-3-3 0 5-4-3-1-2-2 1-5 2 0 0-5-1-1-2 0 1-3 0-12 3 0-2-1 1 0-2-6 1 0 2-4 0-6-3-1-1-2 1-2 0 0 0-1-1-2 1-2 0-2-1-3 4-2-3-7 3-4 0 3 4 2-2 0 4 12-3 1 2 2 0 1-3 0 5 5-5 0 1 6 1 3 2 2-4 2 1 0 2 3 2 1-3 1-1 2 0 1 0 0 0 3 4 4-4 4 0 3 3 3 0 1-4 0 2 4-1 10 2 1 0 3 1 1 0 1-3 1 0 6 2 5 0 1-1 1-2 0 1 1 3 4-1 4 1 7-4 2 0 2 4-1 3-9 1-2-1-1 1-1-1 0 0-2 2-2 1 0-2-1-1 0 0-1 1-6 1-1-1-1 1-16 2-2 0 0-3-1-2-17 5-6-5-2 3-2 2-3 0-4 0-6-2-2-3-16 3-8-1-3 2-2 7 16-3 21-1 2 0 3 0 3 0 2 2 9-2 0 4 2-5 0 5 10-2 2-3 1 3 5-2 5 3 3-1 1-3 2 2 1 3 0-2 10 0 1 2 1-4 1 0 0-1 4 1 1 4 1-2 1 2 0 0 3 0 8-3 1-2 3 6-1 3-5-1-3 3-6-4-3 4-1-3-5 3-5-4-4 0-7 3-6-1-5 1-2 0-1 0 0 1-1-2-6 2-14-2-13-2-3 0-13 2-10-3-7 10 16-1 12-3 5 4 17-2 13 0 1 0 3 3 2-5 1 3 1-3 11 1 10 0 2-1 2 1 2 2 4-2 3-1-32 7-4 0-1-1-4 0-3 3-2-1-2 1-15-1-2 2-7-4 0 1-6-1-2 5-1-2-6 1-4 1 1 1 0 1 6 1 4 0 5-2 0 0-15 10-11-4" marker-start="url(#s)" marker-mid="url(#s)" marker-end="url(#s)"/>
<path d="M650 603l1 2 4 5-39 1-3-3 13 6 20 1 2 1-2 5-2-1-2 3-10-5-3 1-2 0-2 0-6 3-32 0-1-1-15 6 19 1 15-4 3 2 6 1 15-2 2 2 0-1 1 3 2-2 9 0 1 2 0-2 17 7-2-2-9 1-3 2-2 0-12-5-3 4-1-3-4 3 0-4-1 3-3-3-3 3-8-3-3 3-17 2-6-5-13 5-12 0-3-4 8 5 5 5 9-2 14 0 3 1 7-4 20 0 12 5 3-3 25-1 1 4-5 2-3-1-2 4-9-1-3-2-2 0-3 4-1-1-1 0-2-1-5 2-10 0-1-5-12 3-14 2-18-2-2 0 0-2-6 4-8-5-4 0 3 6 0 0 2 1 6 4 3-3 10 0 1 1 7-2 13 0 2 1 16 1 4 0 0-3 1 5 4-4 1 3 5-2 2-2 3 3 2 2 2-5 5 1 1-1 0 3 2-1 4 2 0-4 4 1 4 4 3-5 5 0 1 4-8 3-3 3-3-3-1 0-2-1-5 0-3 1-7 0-1 0-2-1-11 1 0 3-9-2-1 1-14-2-2 0 0 4-3 0-3-3-5-2-1 2-5-2-6 2 0 3-1-1-6-3-6 8 1-2 17 3 1 1 14-3 2-1 0-1 1 4 4 0 1-1 5-1 1 2 7-3 2-1 5 1 7-1 1 2 0 2 1-1 0 0 1 1 1-4 2 4 0-2 3-1 0 3 1-4 0 4 1-3 2 4 1-4 2 2 1 2 1-5 10 2 5-1 2 4 5-2-5 3-6 4-7-2 0 2-3 1 0-3 0-2-3 2-2 3 0 0-1-5-1 4-5 1-1-3-1-2 0 3-2-2-4 0-1 4-3 0-1-1-4-3-2 1-4-1-22 1-4-2-1 0-5 0-1 1-2 3-4-3-5 4-1 0-6 0-15 2 6 2 8-1 7 0 9 2 1 0 1 1 1-1 0 1 4-1 2 1 7-5 0 2 3 1 1 2 14 0 12-4 3 4 3-3 10 0 2 2 5-1 0-1 2 2 1 0 5-4 2 3 4-2-26 6-10 0 0 0 0 0-5 1-6 3-8-5-4 2-7 3-13 0-3-4 0 3-2-3-1 3-4-4 0 1 0 2-4-2 0 0 0 3-24-1 12 7 9-3 8 2 2-1 3-2 5 5 11-5 20 0-35 7-3 0" marker-start="url(#u)" marker-mid="url(#u)" marker-end="url(#u)"/>
<path d="M53 734l12 2 7 0 1 1 19-1 3-1 1 2 12-2 1 1 63 3-24 4-33-5-7 3-4 0-13-1-2 3-3 0 0-2-5-3-4 2-2-2-3 5-1-4 0-1-1 4-2-1 0 2 0-2-19 2-2 2 5-1 6 2 3 1 1 2 0-3 5 2 2-4 4 1 1 4 1-3 6 0 1 3 6-1 2-3 1 1 0-1 0-1 4 5 6-1 1-3 2 0 5 1 2 2 11-1 0 1 41 3-5-1-26 3-11 0-4 1-4-1-5 0-4-2-1 2-10 1-1-3-3 0-2 3-1 0-2 1-1-4-1 3 0 1-2-5-6 4-2-2-17 2-4-1-3 4 5 3 0 1 1-1 7-1 0-3 1 3 3 0 1 0 2-2 0 3 1-4 0 4 2-2 1 2 1-1 1 0 1-1 1 1 3 1 2 0 1 0 1-2 2 0 0 1 1-2 2-1 2 1 2 0 2 1 0-1 2 1 2 1 4-3 0 5 4 0 31 6-12-2-9 1-6-4-8 2-4 2-2-4-1 5-1-2 0-2-4 2-1-1-1-2-1 4-1-2-2 1 0-2-1 1 0 3-1-3-3 0 0 0 0 0-2-2-2 0-2 5-2-5-3 1-2 1-4 0-1 3-2-3-3 1 2 4 3 2 5-2 3-1 2 5 4 0 1-4 1-1 3 3 1-3 2 1 8 1 1 2 4-4 5 3 1 0 11 2 11 5-8-4-6 1-9 0-3 0 0 1-1 3-4-4 0 3-4-1-3 2-2-2-1 1-6-4-2 1 0 4 0-1-1 0-3 0-8-3-2 0-1-1-4 3-7 3 6 5 9-2 4-3 8 0 3 4 7 1 0-1 5 0 9-3 17-1-4 7-5 0-16 3-9 0-1-1 0 0-6 1-7 0-4-1 13 3 10 0 16 5 2-5-23 9-6-3-3 0 16 10 2-4 26 7-4-1-31 3-14-2 10 6 2 2 20 1-29 9" marker-start="url(#t)" marker-mid="url(#t)" marker-end="url(#t)"/>
<path d="M56 734l1 0 8 1 1 2 4-1 6 0 5-2 12-1 2-1 23 1 27 7-27 1-4-2-1 1-9 0-7 1-6-1-1-2 0 1-3 2-4-1-5 1-1 0-1-1-4-1-3 1-1 3 0 0 0-3-2 1-4 2-3-3-1 1-6 0-4 6 8 0 5-1 3 1 4 1 1 1 1 0 1 0 3-1 0-2 1 0 0 3 6-3 0 2 0-4 2 4 1 0 7 0 3 0 1 0 4-4 4 1 3 2 8 2 1-3 5 9-11-3-1-1-4 3-1-1-6 1-1 0-2 1-5-3-9 3 0-4-1 1-1-1-2 4-1-3-1 1-1-1-2 2 0 1-4-4 0-1-1 3-1 0-15 8 6-2 2-3 0 2 1-1 0-1 2 4 2-3 1 1 3-2 0 2 4 1 1-1 0 2 0-3 1 0 1 2 0-1 5 3 1-5 4 2 0-1 1 3 1 0 0-2 0 3 4-2 3 2 1-3 3 0 2 1 1 0 0-1 19 4-1 0-1 4-6 0 0 1-5-5 0 5-4 0-1-1-3 1-4-3-1 2-1 1-3 0-3-3 0 0-1 2-5-4-1 0-1 0-2 3-1-1-1 1-5 2-2 0-1-1-1-4 0 3-2 0-1 0-3-3-1 3 2 3 4 4 1-4 2 5 1-3 4-1 0 4 2-3 0 1 1 1 4 1 2-3 4 0 0 2 15 0 1 0 4 1 2 0 9-1 11-3-3 6-13 4-2 0-10-5-10 3-2 0-6-1-6 0-2 1-10 1 0-3-1 0-2 3-3-4-10 10 11-2 10 1 1 2 12-4 8 1 0 0 2-1 1-1 9 1 1 0 6-1 3 5 18-4-26 6-12 4-7-4-1-1-18 5 3 1 0 1 3 2 0 2 7-3 11 3 29 2-4 0-15 3 0 1-10-1-9-1-9 0-19-3 7 7 14 4 8-3 13 0-11 6-31-1 26 5 8 1-14 8-4-2" marker-start="url(#t)" marker-mid="url(#t)" marker-end="url(#t)"/>
<path d="M49 732l10 3 2-3 0 5 12-5 6 4 5-1 9 1 3 0 4-1 35 7-27 1-7 0-1-5 0 4-7-4-1 5-2-5-2 0-2 4-1-2-2 3-1-4-2 2-2 1-5-3 0 4-1 0-5-3-2-1-1 1 0 1-6 2-4-3-2 9 6-2 3 2 3 0 5-4 1 3 1-3 0 0 2-1 0 0 0 1 2 4 0-5 1 4 4-3 1 4 0-4 3 0 2 4 1 0 1-2 1 2 1 0 3-1 4-4 0 1 2 3 1-4 0 3 6-2 6-1 6 1 2 6 0 0-7 1-4 0-5 1-1-2-12 4-1-4-2-1-1 1-1 3 0 0 0-2 0-1-2-1-2 4-3-3-10 1 0-2-1 4-1-3-5-1 0 3-1-3 0 1-11 4-2-1 1 7 5-4 2 0 0 1 4-2 3 2 0 0 1 3 1-4 1 3 3-3 3 3 1-4 1 5 1-3 1 2 1-3 2 0 0-1 2 3 3 0 5 0 0 1 8-2 4 3 2-3 2 3 2-4 2 1 2 0 3 0 9 3 4-1 35-3-36 8-7-2-4 2-13-3-6 1 0 2-4-3-7 0-4 1-2 4-1-3-1 2-6-3-4 3-4-2-1-1-3 0-4 2-1-1-3 7 10-3 13 1 1-1 2 4 0-3 1 3 4-3 2 2 9 1 3-4 3 0 8 1 15 0-16 9-9 0-3 1-2-1-9-2-3-2-5 5-5-5-2 4-2-2-6-2-5 1-4 1 3 7 6-3 9 5 3-4 1 1 6 2 1-2 8-1 1 1 1 1 6 1 2-2 12 0 11 6-7 1-2-3-8 4-13-2-5-2 0 1-6 0-6 0-4-1-4 2-6 0-4 5 5 4 12-5 5 3 1-3 20 1 1 2 2-2 6 0 3-1 55 0-58 6-6 0-19 2-7-2-15 5 7 1 5 5 13-3 21 8-7-1-49 2 26 1 25 1-12 5-19 2" marker-start="url(#t)" marker-mid="url(#t)" marker-end="url(#t)"/>
<path d="M49 734l8 1 1 2 7 0 3-2 13-2 5 3 25 1 2-1 48-3-10 10-31 0-7-2-8 2-4-2-1 2 0 0-2 0-7-4-5 1-2 3-5-4-1 4-6-3-2 0 0-2-2 3-2 2-1-5-2 4-1-2-7-2-1 0-1 1-1 1 1 6 1 2 4-1 0-2 0 4 4-2 0-1 1-1 2 2 3 1 1 0 0-3 2 4 1-1 0-3 1 2 7-2 4 1 4 2 3 0 1-3 0 4 1 0 1-4 2 0 4 1 2 1 1 0 4-3 1 0 4 0 0 4 5 1 0 0 3-2 4 0 0 3-12 0-2 5-4-1 0 0 0 1-3-4-1 1-3 1 0-1-4 2-1 0-1-4-1 0-1 4-1-1-5 1 0-3-2 0-3 3-3-3-1 1-4 2-6-4-7 4-4-2-1-2 0 9 3 2 4-3 1-1 2 0 2 0 6-1 3 0 2 2 0 2 2 0 2-1 1 1 4 0 4-2 0 0 1-2 2 0 0 3 5 0 9-1 2-1 2 1 1 0 6 9 0 0-12-5-5 5-7-3-1 2-1-2-4 2-3-3-2 3 0-4-3 0-2 5-1-3-5 1-1 1-2 1-1-3-2-1-1 4-1-5-1 0 0 5 0-1-6-2-4 2-1-3 1 8 1 1 1 1 2-1 2-4 2 0 4 2 1-1 0 1 1-2 2 0 2 3 1-3 2 0 0 3 0-2 2 4 1-1 5-2 5-1 5 2 0-1 4-1 0 2 17 2 3 0 27-1-27 6-19 0-3 1-8-2-2-2-1-1-4 4-4 1-3-1 0 0-2-3 0 3-2-3-1 1-1 3-9-1-1-1-7 3 9 4 6-3 0-1 2 2 2 1 5 0 2 0 0-2 4-1 2 5 6-1 24 0 3 0 22-1-41 3-10 1-7 0-9 2-12-2-3 8 16-2 10 2 19 0-4 4-3 1-12 2-14 6-4 9 49 4-41 16" marker-start="url(#t)" marker-mid="url(#t)" marker-end="url(#t)"/>
<path d="M107 743l-21-3-9 9 16 0 3 0 0-2 12-2 12-1 32 8-14-2-17 5-1-1-9 0-5 1-6-3-4 3-6 0-4-3-1 2-5 1-1-3-1-1-2 4-1-5 0 1-10 4-2-3-2 1-2-3-6 3-3 8 5-3 1 0 0-1 0 1 3 3 0-4 4 3 0 1 2 0 4-1 0-1 1-3 0 1 1 4 7-1 1-1 2 1 0-1 0-1 1 2 1 1 0-3 1 1 0-1 1 3 0-2 0 2 0 0 3-2 2 2 0-2 1 2 2 0 1-1 0 0 3 1 0 0 1-3 1-2 0 3 1-2 0 4 1-2 1 2 2-4 7 4 3-1 3-4 3 5 3-1 39-2 10 6-30-1-13 0-1 4-7-3-2 3 0-3-2-2 0 3 0-1-3 1 0 0-1-2-2 1-1 1-1-3-3 1 0 2 0-1 0-1-1 4 0-1-1-4 0 1-1 2-1-1-1-2-1 3 0-1-1 1 0 0 0 1 0 1 0-5-1 0-1 1-4 0-1-1-1 1-1 4 0 0 0-2 0 1-1-1 0 2-1-2-1 2-1-5 0 5 0 0-1-1 0-2-1 2 0-3 0 4-1-1-1-3 0 3-1-3-1-1-1 3-1-2 0 0-1 4 0-3-1 1-1-1 0 0-1 2-1 0 0 0-1 0 0-3-1 4-2-3 0-1 0-1-1 1 0-1 0 1-2 1 0 2-1-3-1 3 0-3 0 3-1 0-1 1 0-1 0-1 0 2-3-4-1-1 0 4 0 0-1-2 0 3 0-3-2 0 0 0-2 3 0 0-1-5-4 0-1 9 2 1 2 0 0-1 2-3 1 3 1 0 0 2 1-5 1 1 2 1 1 3 1 0 0-2 0-3 1 1 1 0 0 3 1-2 0 3 1-5 0 0 0 4 2 1 0-3 1 0 0 3 1-1 0-1 0-3 2 4 0 1 2-3 2 3 0-3 3 1 0 0 1 2 0-1 1-1 1-3 0 2 1-2 1 1 0 1 1 0 0 0 0-1 0 3 1 1 0-3 0-2 1 5 0 0 0-3 1 1 0 0 2 1 0-4 3 3 3-3 1 5 5-5 3 0 1 3 1 0 2-2 1 0 1-1 1 3 2 0 0 2 3-1 1-2 3-2 0 0 1 1 0 0 2 3 3-1 7 0 4 4-8-1-4 1-3 4-5-2-2 1-3 0-4-3-1 3 0-4-3 3-1-1 0-1-1 2-1 2-2-1-1 0-1 0 0-1-1 2-1-1-1-3 0 4-1-1-1-4-1 1 0 1-2-1-1 0 0 0 0 0-2 1-1-1-1 2-1 2-1-1 0 0-1 1-1-4 0 3 0-3-1-1-1 4 0-3 0 3-1-3-1 4 0-3 0-2-1 5 0-2 0 2 0-2-1-3 0 2 0 1-1 2 0-2-1-1 0-1 0-1 0 0 0 0-1 0 0 4-1-1-2-1-1 3 0-3 0 0-1-2 0 0 0 5 0 0-1-4-1 4 0-4 0 0-3-1-1 2-3-1 0 4 0 0-1-1 0-4 0 5-2-3-1 2-6 6 1-4 2 5 0-5 1 4 1 0 1 1 0-3 0 1 0 2 1-3 1 1 0-1 2 0 0 2 0-3 1 1 1 1 0-1 0-2 0 1 1-1 0 3 0-3 1 3 0-1 1 2 0-3 0 2 1-3 0 5 1-3 1 0 0 3 0-2 0 1 1-1 0-1 2-1 1-1 1 3 0 1 0-1 1-3 0 2 0 3 1-4 1 4 0-4 1 3 1-4 0 0 0 1 1 1 0-1 0 2 1 2 1-2 0 0 1-1 2 1 1-3 0 5 0-1 1 0 1-1 0 0 1 2 0-4 0 3 2-3 1 4 1-2 1 2 0-1 0-4 1 2 2 1 0 2 2-3 3 0 0 3 1-3 0 0 1 2 2 1 0 0 3-5 0 2 2 0 0 2 1-4 0 2 5 1 6-3 2 3 10 2 7-5 13 7-35-1-4 0 0 2-1 2-3-3-1 3-2 1-1-3-3-1-1 2 0-1-2-1-1 2-1 0 0-2-1 0-1-1-3 5-1-5-1 3-1-2 0 3-1-1 0-3-1 3 0 0 0-2-2-1-1 5-1 0 0-4-1 2 0-2 0 2-1 0-2-2 0-1-1 0 0 1 0 1 0 2-1-2 0 3-2-4 0 1 0 3-1-1-1-4-1 0 0 5 0-4-2-1 0 2-1 1 0 1-1-2-1 0 0-2-1 3 0 1 0-4-1 1 0 4-1-5-1 0 0 4 0 1-1-5 0 2-1 3 0-5 0 3 0 0 0 2-1-2 0-2-1-1 0 1 0 2 0-3-1 2 0-2 0 4 0-3 0-1 0 5 0 0 0 0-1-3 0 3 0-5-2 2 0 3-1-5-1 2 0 0 0-1-1 4 0-2 0-1 0 2-6-4 0 11 1 0 1 0 0 0 1-3 1 0 1 0 1 3 1-3 1 2 1-4 2 2 1-1 1 0 1 2 0 2 0-2 1-3 0 3 0-3 1 1 0 1 0-2 0 3 1-3 0 3 1 1 0-4 0 5 1-3 1-2 0 3 0 1 3-3 0 0 1 0 0 0 1 3 0-1 1-2 0 4 0-5 4 3 0-1 0-2 2 1 0-1 0 3 1-1 1 2 1-4 0 3 0 1 0-4 0 2 3 3 0-1 0 0 2-2 3 2 1-1 2-1 0 0 1 3 0-5 1 5 1-4 1-1 1 4 1-2 3 3 0-3 7-1 3 2 10-3 19 0-24 6-4 4-3 1-1-3-3 1-2 0-2 0-1 2 0-2-4-1-3-2-3 2 0 3 0-1-1 1-1-3-4-1-1 4 0-5 0 0 0 3-2-3 0 4-4 0-1-3-2-1-1 3-1 0-1-2-1 3-1 0-1-2 0 0 0 0-1 3 0-5-1 0 0 4 0-3 0 3-1 0 0-4 0 1-1 4-1-1 0-3 0 1-1 2 0-4-3 3 0 2-1-5 0 2 0 1-1 2 0-3 0 0-1-1-2 4 0-1 0-3 0 1 0 2-2 1 0-1-1-2 0 3-2-5 0 4-1 6 2 0 1-4 0 0 0 3 1 1 0-4 1 3 1 1 0-2 0 3 2-2 1-3 0 2 1-1 1-1 0 0 1 1 1 0 1 3 0-1 1 0 1-3 0 0 1 4 0-4 1 3 0-2 1 2 4-1 0 3 0-2 0-2 0 0 1 1 0 1 1 1 1-2 0 2 0-2 1-1 1-1 1 2 1 0 2-1 2 1 1 3 1-5 2 5 1-5 1 3 1-2 0 0 1 2 0-2 2 4 2-4 2 0 28 3-13 3-19 0-8 0-1-1-1 4-1 1-2-5-1 0-2 5-4-2-1 0-1 2 0-5-3 0 0 1-2 1 0 1-1-2 0-1-1 4 0-2 0 0-2 1-2-2 0 4-1-4 0 3 0 1-1-4 0-1-1 3-1-3-1 2 0 2-1 0 0 1-1 0-3-4 0 1 0 4 4 3 2-2 1-1 2 3 0-2 2-1 1 0 2 5 1 0 5-3 1-2 0 5 1-1 1 1 0-5 1 0 1 3 5 1 1 0 3-1 3-3 5 3 4 1 2-3 2 1-2 7-12-2-5 1-8-1-10 0-1 1-2 2-4 1-4-4 0 2-2 0 14 3 8 0 10 0 8 5" marker-start="url(#s)" marker-mid="url(#s)" marker-end="url(#s)"/>
<path d="M156 734l6 9-44 0-56 0 15 6 3-5 27 3 0 2 52 1-48 1-1 1-2-1 0 3-1-3-3 2-2 2 0-3-4 3-4-1-8-2-4 0-2-1 0 3-2-3-3 3-2-2-10 3-1-3-5 2-5 5 1 0 1 1 1 1 0-2 2 2 0-2 2 0 1 0 4-2 1 0 0 4 3-1 0-1 1 0 2 1 0-2 1 2 0 0 0-1 3 2 3-2 2 2 1-2 3 1 5 0 0 1 1-1 0 0 4-2 6 0 0-2 1 3 1-2 0 3 1-2 1 3 1 0 0-4 0-1 1 2 4 3 1-5 2 1 18 4 20-1 3 0 20-3 2 2-34 5-4-1-18 3-7 0-4 1-4-4 0 3-1-3-4 3-2-1-1-2-2 2-1-2-2 0-1 2 0-1-1 0-1 1 0-2-1 3-1-4-1 5-2-3 0 2-1 1 0 0 0-2 0 2-1-5-1 5 0 0 0-3-2 1 0-3 0 0 0 2-1 3-2-2 0 1-2 1 0 0-1-4 0-1 0 4-1-4-1 1 0 4-1 0 0-3-1 1-1-2-1 0-1 4-1 0-2 0-1-4 0-1-3 2 0-1-1 4 0-2-1 2 0 0-1-3-1 3-1-4-2 4 0-5-1 2-3 8 0-3 4 4 1 0 1-3 0 3 1-2 1-2 0-1 0 1 1-1 0 4 0 1 1-5 1 3 0-1 1-2 0 1 0 3 0-1 0-1 0 2 1-4 0 5 1-5 0 3 0-3 1 3 0-2 0 1 0 1 1 1 0 1 1-1 1-2 0-1 2 2 1-3 1 3 0-3 0 4 0 1 1-3 4-2 3 0 1 4 0 1 1 0 1-2 1 1 0-1 1-1 0-1 0 1 1 3 1 0 0-2 0-3 0 4 1-3 0 0 0 2 0-3 1 4 0-2 0 0 0-2 1 1 0 1 1 3 0 0 1-4 0 2 2 0 0-2 1-1 0 4 0-1 1 0 0 0 1-2 2 3 1-1 4-1 1 2 1-2 1 0 0-1 1-1 0 5 1-3 0-1 2 2 0-2 1 3 2 1 1-2 2 0 11-1 5 2 22 0 4-1-39 5-4 0 0 3-2-1-1 1-2-2-1 2 0-4-5 4 0-3 0 2 0 1-1-4-2 4-1-2-1 2-1-4-1 4-2-3 0 0 0 2 0-1-2-1-2 1 0-2-1-1-1 0 0 3-1-1 0-1-2 0 0 0 0-1-1 3 0-2-1 0-1 3-1 1 0-1 0-4-1 2 0-1-1 1-1-1 0 1-2 2 0-1 0-2 0 0 0 3-1-4 0 1 0-1 0 4 0-3-1 0 0 0 0 3-1-2 0 3 0-5 0 2-1 0 0 1-2-2-1 2 0-2 0 2-1 0-1-1 0 3 0-5-1 4-1 1 0-2 0-3 0 2-1-2-1 2 0 1-1-2-1 1-1 0-1 2 0-2 0-2-1 4 0-4-1 5-1 0 0 0-1-4 0 1 0-1-1 4-1-2 0-1 0-1-1 1-2 3-1 0-2 5 0 0 0 0 1-2 1 3 0 0 1-2 0 2 1-2 0 1 0 1 2-3 1-1 0 2 3-3 0 2 1 2 0-2 0-1 1 3 0-3 1 0 0 1 0-2 1 0 0 4 0-4 0 4 1 0 0 1 0-4 1-1 0 2 0 0 1-2 0 4 1 1 1-3 1 3 1-1 0-2 1 3 0-4 0 3 1 1 0-2 2 0 0-3 1 1 0 2 0-2 0 1 0 0 0 0 1-2 0 1 2 3 0 1 2-1 0 0 0 1 1-3 2 1 0-3 1 1 1-1 1 5 1-1 0-3 1-1 1 2 2 3 0-3 1-2 0 1 1 1 0-1 1 0 1 4 1-3 0-1 4 2 0 2 0-5 1 2 1-1 1 1 0 1 0 0 1-1 1-1 1 4 1-3 1 1 5-1 3-2 2 0 10 1 11 3 1-2 1-1 4 1 26-1-44 6-4-1-12 5 0-5-2 2-4-2 0 5 0-5-1 0-1 4-3 1 0-2 0-1-2 1 0 0-4 1 0-1 0-3-1 3-1 1-1-1 0-3-3 3 0 2-2-5 0 4-1-2-2 1-1 0 0-2-1 3-2-4-1 3 0 0-1 2-1-1-1-1-1 1 0 1-1-3-1 2-3-3-1 0 0 1 0-1-1 2 0-2 0 0-1 2-1 2 0 0-1 0 0 0 0-5 0 4-1-4-1 3 0 1-1 1 0-4 0 3 0 0-1-3 0 0 0 3-1-3 0 0 0-1-1 0 0 4 0 0 0 0-1-1 0-3-1 4 0-1 0 0 0-3-1 4 0 1-1-1-1-3 0 4 0 0 0 0 0-3-1 1-1-2 0 2-1 1 0-4 0 8 0 2 0 1 3-2 1 1 0-3 1 3 0-4 1 3 0-1 0 0 1-2 0 2 0 3 1 0 0-5 1 5 0-2 1 1 0-2 1 0 1 1 0-1 1-1 1-1 0 2 0-1 1 3 1-3 0-1 0 1 1 1 1-2 0 3 0 0 1-1 0 1 0-1 0 1 1 1 0 0 0 0 1-4 0 1 1 1 1 3 1-5 0 3 0-2 0 4 2-2 0-1 0 0 0 3 1-5 0 2 0-1 1 0 0 4 2-5 0 3 1-3 0 5 1-1 0-2 1 3 2-5 2 2 1-2 0 3 4-1 3 1 1-3 0 4 4-2 7-2 1 2 1-1 3 2 6 0 1 0 0 1 18 0-30 3-4 3-2-2 0-2-3 5-1-5-1 3-2 0-1 2 0 0-4 0-1-4-4-1-1 1-1 4 0-5-1 2 0 1-2-2-1 1 0 2-2-4-1 4-1-2 0 1-3 2-1-2 0-3 0 2 0-1-1 2 0 0-1-2-2 4 0-1-2-4 0 4-2-1 0 1-1-2 0-2-1 0 0 2-1-1 0 3 0-4-1 4 0 1 0-4-1 3 0 1-1-1 0-1 0-3-1 2-1-2-1 1 0 2-1 0-1-2-1 3-1-1 1 7 0 1 1 0 0-5 1 1 1 4 2-4 1 2 0 2 0-5 0 1 0 3 0-2 0 1 0-3 1 3 0-1 0 3 1-1 0-2 2 3 0-2 0-3 1 0 0 2 3 3 1-4 0 1 1 3 0-2 5 1 1-4 1 0 0 2 1 0 2-1 0 3 3-3 0 1 3 0 1 3 2 0 1-2 2-3 1 5 3-1 6-1 1-3 23 0 8 5 7-5-29 6-1 3-3-1-1 2-4 1-2-3-1-2-6 2-1 2 0 0 0-2-2 1-3-1 0 1-3 2-1 0-1-4-2 2-1-1-2-1-1 4-4 0-1-5 0 0-2 2 0-2-2 0 0 1-1 2 0 2-1-3-2-1 0 3-1-4-1 1 0 2-1 0-1-3 0 3-1-2-3 4 0-5-2 5-1 6 1-3 0 0 0 1 1-2 0 1 2 1 1-2 0 0 0 2 1-3 0 2 1-2 1 1 1 4 3-3 0 2 1 0 3-2 2-1 3 0 2-1 0 1 3 1 2-2 0 4 1-3 1 4 1-1 0-4 3 1 2 4 0-4 9-1 1 0 27 1-22 6-17 2-4 0-4-3-3 1 0 0-10 0-4 2-1-3-1 2-2 0 0 0-1-2-3 3 9 5 3-1 5 2 0-1-11 6-4-1-2 2" marker-start="url(#s)" marker-mid="url(#s)" marker-end="url(#s)"/>
<path d="M80 733l3 1 5 3-3 3-18 7 2 1 8 0 93 6-10-2-41 3-6-4-2 2-7-3-5 5-4-1-2-2-1 3-3-1-1-3-2 0-2 3-1-1-7 0-1 2-2-5-2 4-7-1-1-3-3 3-2 2-3-2-4 0-1 8 4 0 2 0 0-2 1 1 5 1 1-5 0 3 2 0 0-1 2 0 2-1 3-1 2 5 2-4 1 2 1-2 1-1 2 3 1 2 4-4 0 0 1 3 0-2 0 2 2-2 0 2 0 0 0-4 2 2 4 0 1 1 1-1 0-1 3 4 0 0 0-3 1 3 2-2 2-3 7 4 0 0 5-4 0 5 1-2 0-2 4 2 2 0 14 2 18-1 12-3-3 9-9-3-10-1-22 3-7 1-1-4-2 5-1-2-1-3-1 5-1-3-1 3-1-5-2 3-1-2-1 2-2-1-3 1 0-3-2 5-1-3 0 3 0-2-3-1 0-1-1 2-1 0 0-3 0 1-1-1-1 3-2-3-1 0-1 5-1-5-1 4 0-4 0 4-1 0 0-2 0 1 0-1-1 0 0 0 0 1-1-2 0 2 0 2-1 0 0 0 0-5-1 4 0-4 0 3 0-3-2 5-1-2 0 1 0-3-3 4 0-5 0 2 0 3-1-4 0 0 0 1 0 3-1-2 0 2 0 0-2-2 0 2 0-3-1-1 0 4 0-5-1 4 0 0 0-1-1 0 0 1 0-3-2-1-2 2 0-2-2 3 0-3 0 0-1 1-1 1 0 0-1-1 0 3-2-1-1-1-1-2-5 9 2 1 3-4 2 5 1-2 1-3 0 1 1 0 4 2 0 2 0-1 0-2 0 1 0 2 1 0 0-1 0 1 1-1 0-2 1 0 1 3 0-2 0-3 0 3 2-1 1-1 0 2 1 1 1-4 0 3 1 0 0 1 0-2 1-1 0 1 2 3 2-2 0-1 1 2 0-1 0-2 0-1 0 4 1 1 1-1 0 1 0-3 1 0 0-1 0 0 1 1 0-1 0 2 0 0 1 0 0-1 0-1 2 4 1-5 0 1 0 2 1 1 1-1 1-3 1 0 0 0 1 2 2 0 1 3 1-1 2-2 3 0 4 3 7-2 1-3 1 4 7 0 1-1 4-3 30 5 14 0-12 6-11-5-23 0-4 1-1 2 0-2-4 1-3 1-1 1-2-1-1 1-3 1 0-1-1-2 0-2 0 3-1 0 0-3-3 3-1-2-1 4-1-2-2 0 0 2-1-2 0-2-2 4 0-5-3 0 0 0-3 4-1-2 0-1-1 0 0 1-1-2-1 3 0-1-1 0 0 1 0-3 0 1-2 2 0-3-1 2-1 0 0-2 0 0 0 2-1 1 0-2 0 0-1 2 0 1-1 1-2 0-1-4 0 4 0-2-1 1-1 0 0-1-1-2-1 1 0 1-1-1 0 3 0-3 0 3 0-1-1-3 0-1 0 3 0-2 0 0-2 2-1-3 0 5-1-3-1 2-1-2 0 3 0-2-1 0 0 2-1-4 0 2 0 1 0-1 0-3 0 4-1-1-1-2 0 4 0-3 0 0-1 3 0-5 0 4 0-2-2-1 0 0-1-1-1 3-1 1-1-3 2 5 3 5 1-2 0-1 0 1 2-1 0-1 2 4 0-5 1 3 0-3 1 3 1-1 0 0 0-2 1 2 0 1 1-1 0 0 1 2 0-4 1 0 0 1 0 0 1 1 0 0 0 1 1 0 0-2 1 3 0-4 0 5 0 0 1-5 0 5 0-5 0 4 1-2 0-2 1 5 1-1 1 1 1-2 0-3 1 1 0 1 1 1 0 2 1-4 0 4 0-5 1 0 1 2 1 3 0-2 0 2 1-2 0 0 2-1 0 1 0-3 1 2 0 2 1-1 1 0 0-3 1 1 1 4 1-4 0 4 1-2 0 0 2 2 0-5 0 3 0-1 1 3 0-2 0 2 2-5 1 0 0 4 1-4 0 0 2 2 1-1 1 4 0-4 2 0 0 1 1 3 1 0 6 0 1-4 0 3 4-1 1-3 0 5 1-5 5 0 6 5 28-4 12 3-17 4-31-2-12 2 0 3-2-2-3 0-2-2 0 3-3-4-1 4-1 1-1-2-1 0-2-1 0 0-1 2-1-2 0-2 0 5-1-5-1 1-1 2 0-3 0 4-1 1-1 0 0-5-1 0 0 2-1 2 0 0-2 0-1 0 0-3-1-1 0 2-1 2 0-4 0 3 0 1-2 0-2-3 0 2 0-2-1 4 0-3-2 3 0-5-2 2 0 0-1-2-1 5 0-3 0 0 0 0 0-1-1 0-1 1-1 0-2-1 0 0 0 4-1-3 0 2-1 0 0-1 0 0-1-3 0 3 0-1 0 2-2 0 0-1 0-1 0 0 0-2-1 5 0-2 0 2-1-1 0 1 0-1-1-1 0 1 0 0-2 1-1-2 0 0-2-3 0 11 0-4 4 1 1 1 1-1 0 1 0 2 1 0 0-1 0-4 0 0 1 2 0-2 2 0 0 5 0-5 0 4 2-4 0 5 1 0 0-2 0 1 1-3 2 2 0 0 1 1 1-2 0-1 0 1 0-1 1 1 0-2 0 3 0 2 2-3 0 0 1 3 2-3 0 1 0 2 1-3 1 3 0-5 0 2 1 1 1-3 2 0 0 1 0 1 2 3 0-3 1 2 0-2 1 2 0-2 1-1 1-1 3 0 7 3 2-1 1 3 2-3 0 0 1-2 0 3 2 1 3-2 5-1 2 2 4 2-5 2-5 0-1 1-2-1 0 3 0 1-5-5-3 4-3-3-1 0 0-1-2 1-2 4-1 0 0-4-1 1 0-1 0 3 0 0-1-1 0-3-2 4-2 1 0-3-1 2-1 0-1-3 0 4 0-3 0 1-1 2 0-2 0-3-3 1-1 4-1-4-1 2-1 1-1 1 0-1-5-2-2 3 0-2-1 2 0-1-1-4 0 0 0 5 0 0-1-1 0 0 0-2-2 0-1 1 0 0 0-2-2-1 0 1-1 4 0-5 0 4-1 1-1-2-1 2 0-4-1 3 0 0-1-1-1 2 0-4 0 1 2 7 1-3 0 5 0-3 0 2 1-4 1 4 0-3 0 1 1-1 1 4 1-2 0-2 0-1 1 2 0-1 1 2 1 0 0-2 0-1 1 1 0 2 0-3 2 2 0 0 1 2 0-2 1 3 1 0 0-3 1 1 3-1 1 0 0-1 0 4 0-1 0 0 1-1 1-3 2 0 3 4 0-1 1 0 0 1 1-1 3 2 0-1 2-4 1 0 3 4 1 0 2 1 1-3 0 3 1-1 0 0 1 1 0-3 2 2 2 1 1 0 2-5 1 4 2-2 2 0 1 3 5-5 3 5 9-5-17 7-7-1-4 4-1-1-4-2-2 1-1-1-2-1-2 2-1 0-6 0-2 0 0 0-1-1-5 0 0 4-3 0 0-1-1 1 0 0-3-3 0 2-4 1-1 0 0-2-1-1-1 3 0 0-2-4 0 1 0-1 0-1 0 3-3-2 0 3-1 1 1 3 0 0 2 2 0-1 4-2 0 0 2-1 4 0 0 5 1-5 0 1 1 3 1 1 5-5 1 1 0 0 3 1 3 0 2-1 1-1 6 5 3 0-10 2-5-1-6 2-11-1-1 1-2 3-4-3 5 8 4-4 2 1 1 0 2-1 7 1 44 6" marker-start="url(#s)" marker-mid="url(#s)" marker-end="url(#s)"/>
<path d="M59 733l8 6-11 7 6 0 15 0 9 2 1-4 0 1 10 0 30 9-6-3-4 1-5 3-3-1-6 1-5-3-1 3-2 0-11-1 0-2-2-1-1 3 0-3-1 1-3 3-2-4-4 0-1 4-2-1-1-1 0 1-2-1-2-2-4 4-2-3-2 3-4 3 1 3 4-2 2-2 0 4 4 0 0 0 1-3 1 2 2 1 1-2 4 2 0 0 0 0 0-3 1 3 4-2 1 0 0 2 1-2 1-1 2-1 2 4 1-1 1-2 1-2 2 2 0 3 2-5 1 2 4 1 3 0 0-2 4 2 1-3 3 2 1-2 2 5 0-4 1 4 3-1 26-2 10 2 1-4 9 3 8 1-2 2 0 1-7 2-17-2-15 2-1 1-2-1 0 1-5 1-3-4-1 0-1 0-1 2 0-2-1 4-3-5 0 0-3 5-1-5-1 5 0-4-1 3-1-3-1 2-2-2-1 0 0 1 0 3-2-1-3-1-1 2-2-1-2 1-2-1 0-3-1 1 0-2 0 5-1-3-1-2 0 0 0 3-2 1-1-1-1-2 0 1 0 1-1 1-1-4-1 0-1 2-1 2 0-2-1 0 0 1 0 2-4-2-1-1 0 0 0 1-1-3 0 4 0-1-3 2-2 0-1-2-1-3 0 4-1-4 0 3-2-2 0 2-1-2-1 2 0 1 0-1-4 2-3 6 1-2 3 2 1-4 1 0 0 2 0 2 0-4 3 4 0-1 1-3 1 0 0-1 0 1 0-1 0 5 1-5 0 4 0-3 0 3 0 1 0-2 4 2 0-3 0 0 0 1 0-2 0 0 0 0 1 3 0-1 1 0 0-1 0 3 2-2 1 2 0-5 1 5 0-2 1 0 1 0 1-3 0 1 0 3 0-2 2 3 0-1 0-1 0-1 1 0 1 2 2 0 0 0 1 0 0-4 2 3 0 1 1-2 0 2 0-4 0 2 1 1 0-1 1-1 0 3 1-3 2-1 1 0 0 1 1 1 3 2 1-3 1 4 0-2 1-1 2-2 0 2 1 1 0-2 2-1 1 2 1 2 1-3 1 0 0 1 0-2 1 2 2 1 0 2 6-3 1-2 1 2 7 2 3 1 16-5 10 2-1 5-22 2-4 2-12-1-2-3 0 1-1-2 0 1-2 4-5-3-1 3-3-3-1-2-5 4 0-4-1 2 0 0-3 3-1-3 0 3-1-1 0 1 0-4-1 1 0 1-1-2-1 1-1 3 0-1 0 0 0-2-3-1 0 1-1 3-1 0 0-4 0 2 0 1 0 0 0-1-1 2 0-3-1-2-2 0-2 1 0 4 0-5 0 5 0-4-1 2 0-1 0 1-1-2 0 1 0 1 0-1-3 3-1-3 0 1 0 2 0-1 0-2-1-1 0 0-2 4-1-1-1-1 0-2-1 2-1-1 0-2 0 4-1-3 0 4-1-1 0 1 0-2-1 2 0-3 0 2-1-2 0-2 0 0 0 0 0 4 0-4-1 2 0-2-1 1 0 0-1 1-1-2-2 4 0-1-2-1 3 9 3-4 0 0 1-1 0 3 1-3 0 5 0-3 1-2 1 5 1-2 0 1 1 1 0-4 0-1 0 5 1-5 0 3 1 0 0 0 0-1 0 2 0 1 0-4 1 3 0-4 0 2 1 2 0 0 1-3 1 3 0 0 0-3 1 1 0 1 0 2 0 0 1-3 0 0 1-1 0 0 1-1 0 4 2-1 0-2 1 0 1-1 0 2 1 3 0-1 0-2 1 0 0 0 2 3 0-5 1 4 1 0 0-2 0 1 1-1 0 3 1-1 0-2 0-2 1 3 0-1 1-1 0 2 0-1 0-1 1 4 0-1 0 0 1 0 0 1 1 0 0 0 0-2 1-2 0 2 0 1 1-2 0 2 1-2 1 1 0-2 1 2 0-1 0 1 2-3 0 1 1-1 1 0 0 0 2 3 1 2 2-3 2-2 0 1 1-1 0 2 5 3 1-5 3 4 1 0 2 1 2 0 12-2 12-1 26 3 4-1-32 5-13-1-2 2-4-1-3-3-4 4-1 1-2-4-1 2-3 0 0 0-1-2 0 2 0-2-3-1-1 3-1 0-1-3 0 1-3-1-2 0-2 3-2 1-1-4 0 1-1-1-1 3-1-2 0 2-1 2 0 0-1-1 0 0 0-1-1 2-2 0 0-5-2 3-2-1-1-2 0 1-2-1 0 4-1 1 0-5 0 0-1 3 0 2-1-5 0 0 0 4-2-2 0 0 0 2-1-3 0-1-1 4 0-4-1 0 0 1-1-1-1 0 0 2-1 2 0-1 0 1-1-3 0 2 0-2 0 2-1 1 0-3 0 0-1-1 0 2 0 2 0-4 0 0-1 0 0 3 0 0 0 1 0 1-1-3-1 1-1-2-1 3 0 1-1-5-1 3 0 1-1-4-1 3-2 4 1 0 2 0 0 3 0-1 1 1 1-3 1 0 0 0 1 4 0-5 1 0 0 4 1-2 1-2 1 3 0 1 0-4 1 3 0-2 0 3 1 1 0-2 0 2 0-3 1-1 1-1 0 2 1-2 0 3 0-2 1-1 0 0 0 5 0-1 1 0 0-3 1 0 0-1 0 3 0-3 1 1 0 0 2 3 0-3 0 2 1 2 1-1 1-1 0-3 1 0 1 5 0-3 1 0 1 0 1-2 0 2 0 3 1-4 0 3 3-4 2 5 0-2 0-2 0-1 1 5 2-1 0-3 1 3 2 0 1-2 3 2 1 1 2-4 5 0 0 1 2 0 0-1 3 0 4 4 3-2 4 0 13-1 5 0 17 2-16 4-24 3-6-5-6 4-1 0-3-1 0-2 0 3-2 0-3 1-2-2-3-3-2 0-2 5-2-2-1 0-3 0 0 1-2-1 0-2-1 1 0 1 0 0-1 0 0 1 0-2-1 3-1-3 0 2-2-3-3 0 0 0 0 0 0 1-1-2 0 5-2-5 0 2 0-1-1-1 0 3-1 0 0-2 0 3-2-4 0 4-1-3-1-1-1 5-1-2 0 1-1-4 0 0 0 3 0-3-1 4 0-3-1-1 0 0-1 2 0-1-1 0 0 0-3 8 2-3 1 2 0 1 0 0 2 2 0-2 0-3 0 1 1 1 0 2 1 1 1-4 0 0 0 2 1-3 1 5 0-2 0 2 1-3 1 1 0-1 1-1 0 3 1-3 0 3 1 0 2-3 3 3 1 0 0-3 2 1 2 3 1-2 1 2 0 0 0 0 1-2 0 1 1 0 3-2 0 2 1-1 1-2 0 3 1-2 1 1 1 0 4-2 1 3 2-2 7-2 12 0 6 4-10 2-3 1-9 4 0-5-1 5-2-5-4 4-4-4 0 2-3-2 0 0-2 0-1 1-2 0-1 3 0 0 0-2-1 2-1 0-5 0-1 0 0-4-1 4-1-4-1 4-1-2 0-2 0 2-1-1-2 1 0-2 0 3-1-1-1 1-1 0-1 1-1 1-3-5 0 1 0 3-1-3-4 2 0 5 2 2 5-4 0 0 0 3 0-1 3-1 1 3 0-2 0 1 1-2 1 4 0-5 1 3 1-1 0 1 5 0 5 0 4 2 0-1 9-2 6-2 13 1 6 0 5 1-6 4-9 0-3 0-5 0-7 1-11 1-3 3-1-1-1 1-1-4-10 1-8-1-3 1 12 7 10 4-15 1-1 4" marker-start="url(#s)" marker-mid="url(#s)" marker-end="url(#s)"/>
<path d="M130 735l-19 5-31 1-5 8 2-4 1 2 22 2 2-3 55 1-5 7-34-1-11-1 0 0-11 3-15-3-4 1-1-1-3 0-5 1-1 1-19-2-1 6 10 1 0-1 0 0 2 2 3-1 1 1 1 0 1-4 0 4 4 0 1 1 1-3 0 3 1-4 0 2 1 0 0-1 1 3 1-3 0 0 0 3 1-1 2-1 0 0 0 1 0 0 0-4 4 5 0-2 0 0 1-1 1-1 0 1 1 2 1 0 1 1 2-2 1-2 1 2 1-1 0 3 1-5 0 4 1-2 2-2 0 5 1-1 2-2 1 2 2 1 0-1 1-1 0 0 1 2 5-1 19-1 17-1 4 0-19 4 0 0-16 0-1 1-2 2-1 0-1 1 0-3-2-1-2 2-2 3-1 0-1-4-1-1 0 4-2 0-1-4-1 4-1-2 0 3-2-5-2 4-2 0-1-4 0 4-1-3-1 1-1 0-1 3 0-2-1-3-1 5-1-3 0-2-1 5 0-4 0 0-1 2-2-1 0-2-1 2 0 3-1-1 0-4 0 0-1 3-1 1-1 0 0-1-3 1-1-4-1 3 0-1-1 3-1-3-2 2-1 0-1 0-1 1 0-2-1-3 0 2-2 1 0 1-1-2 0 3 0-4-1 3-2-4-1 4 0-4 0 2-1 3-1-4-4 1 1 5 4 0 0 1 0-2 1 4 1-2 0-2 2 3 1 0 0-1 0-2 0 3 1 2 1 0 1-4 0 0 1 1 0 1 0-2 1 3 0 1 0-4 0 1 0 2 1-2 0-1 0 0 0 1 0 3 0-1 0-3 1 2 0-3 0 2 1 0 0 0 0-2 0 1 1 2 0 2 0-3 1 0 0 3 0-1 3-2 0-2 0 2 0 1 1 0 1-2 0 4 0 0 1-4 0 0 0 0 1 0 1-1 0 3 0-1 0 0 0-1 1 2 0-3 0 5 0-4 1 1 1 3 1-5 1 1 1 1 0 2 0-3 0 4 0-5 1 5 0-2 0-1 1-1 0 0 0 1 1-2 1 5 1 0 2-2 1-1 0 0 2-2 0 1 1 2 1-3 0 2 0 1 2 0 0-1 2 3 2-5 1 5 2-2 0 0 2-2 1 0 0 4 0-4 0-1 1 3 1 2 0-2 0 2 2-5 0 2 3-2 0 4 2 1 2-4 5 1 6 3 7-4 12 3 12-4 8 2 5 0 2-2-43 9-13 1-2-3-8-1-1 1-1 4-2-1 0-2 0 1-1 2-1-2 0-3 0 2-1 1-1 1-7-1-1-1-2 0 0-2-1 5 0-2-1 2 0-1-1-2-1-2 0 2 0-2 0 3-1-3 0 5-1-4 0 3-2-1 0-1-1 0-1 3-1 0 0 0-1-1-1 0-1 0-1-2 0-2 0 0-1 3 0 2 0-5 0 4-1-2-1-1 0 1-1 3 0-2 0-3-1 0 0 4-1 1 0-1-1 0-1-4 0 0 0 4-1 1-1-3 0 0 0-1-2 2-1 2-1-2-2 2 0-3-1-1-1 2 0 1 0-2-1 3 0-4-2 2 0 0 0 2 0-5-1 2 0 2-2 1-2 4 3 0 0-3 1 4 0-2 0 0 1 1 0-1 1 0 0-1 1 2 1-3 0 2 0 3 1-2 0-2 1 2 1 0 1-2 0 3 0 0 0-1 1 1 0-4 1 3 0 0 1 1 0 1 0-5 1 3 1-3 0 0 1 4 0-2 1-2 0 5 0 0 0 0 0 0 1-3 1 1 0-1 1 2 1-4 1 0 0 1 1 0 0 1 0-2 1 5 1-5 0 5 0-3 1-2 0 2 2-1 0 0 0 4 0-4 1 2 1-1 1-2 0 5 0-4 0 0 0 4 1-5 1 2 2-2 0 0 1 2 4 3 0-4 0-1 1 2 3-2 2 4 1-1 0 1 0-3 1 2 0-2 0 3 1 0 0-4 1 1 3 2 1-1 0-1 0 4 2 0 1-2 12 0 14-2 6 1 19 7-34-3-1 2-2 0-1-1-1 2-10 0 0-1-3 1-1-2-2 2-1-3-1 5-1-1-3-4-2 4-3-4 0 2-1 0 0-1 0 0-1 3 0-1 0-1-1 1-1 0-1 2 0-1 0-4-2 1 0 0-2 1-1 2 0-4 0 0-1 1 0 0-1 3 0-3 0 3-1-4 0 1 0 3 0-4-1 0-1 0 0 1-3 2 0 1-2 0-1 1 0-2 0-3 0 2-1 3-1-1-1-2-1 0 0 2-1-3 0-1-1 3-1-3 0 0-1 0 0 3 0 1 0 0-1-3 0 2 0 1-2-2-1 2 0-2 0 0-2-1 0-1 0 4-2-1 0 1 0 1-1-5 0 0-7 11 3-4 1 1 3-2 0 0 1 0 1 2 0 3 1-1 1-1 1 0 0-3 1 5 0 0 0 0 1-5 1 3 1 2 0-3 0 1 1 0 1-3 0 3 0 0 1-1 0-2 0 1 1-1 0 4 1-1 0-3 0 3 1-3 0 0 0 1 0 3 0-2 1 2 0 0 2-4 2 5 0-2 1-1 1 0 1-2 1 3 1 0 1-1 1 1 1-2 1 0 0 2 1 0 2-2 2 1 0 2 1-3 0-1 0 3 6-2 1 3 1-1 3-2 1-1 1 3 1-3 2 2 0 3 1-2 2-3 1 1 0 2 2 1 2 1 13 0 30-2 7 7-56-4-1 2-5-1-6-1 0 2-1 1 0 1-1-2-1 3-4-4-2 3-1-1-1-1 0-1-1-1-1 0 0 1-3-1-2 3 0 1-1-1-1-3-1 4 0-2-1 3-1 0-1-5 0 1-1 4-3-4 0 2 0-3 0 2-1-2-1 0 0 1-2 1-1 3 0-2-1 0-1-1 0-1 0 0 0 2-1 1 0-1 0 0 0-1 0 1-1-2 0-1-2 4-1 0 0 1 0-5-1 3-1 0 0-2 0 4-1-5-1 0 0 5-1-5 0 0-1 2-2 1 0 4 2 2 1-1 1 0 0 3 1-5 1 1 0 0 0-1 0 4 1-3 0 4 1 0 0-1 1-4 0 0 1 3 0 0 0-3 2 1 0 0 0 0 1 0 1 0 1-1 0 0 0 2 1-2 0 1 1 2 0 2 0-5 1 5 2-1 0-3 0 3 1-4 0 3 0 2 2-3 0-2 0 0 3 2 0-1 0 4 0-4 5 4 2-1 0-2 1 1 0 0 5 1 0-1 0 1 2 1 1-2 0-2 1-1 2 5 1-3 3 1 0-2 2 3 1-4 8 5 2-3 3 1-2 8-12-5-3 4-5 0 0-1-2-1-1 1-2-3-1 0 0 1 0 4-1-4 0 0-1 4 0-5 0 0-8 1-1-1-1 2-1 1-1-3-1 3 0 2-2-2-1-2 0 4-1-1-5-1-1-2 0 1-1 0-1-1-1 3-1-2-1 0-1-2 0 3-1 0-2-2 0 0-1 4-2 3 4-1 1 4 0 0 2-1 0-3 1 2 1-1 0 0 1 3 1-4 0 0 0 2 2 0 4 1 1 0 0-2 2 2 0-2 4 1 2-3 2 3 1-2 3 3 1-2 0 3 3-5 2 1 4 1 3-2 1 4 3-3-1 5-13 3-12 1-4-4-4 4-3-2-1-2-1 4-3-3-5 0 8 9 0-2 0 0 5 0 6-2 14 1 10 8-34-1" marker-start="url(#s)" marker-mid="url(#s)" marker-end="url(#s)"/>
<path d="M72 730l-14 2 0 2 1 2 1 1 1-1 7-2 0 0 10 3 2-4 4 3 0-2 2 3 0-3 9 3 0 0 9-2 2 1 24 6-22 1-5-4-3 3 0-3-1 1-1 3-4-4-1 0 0-1-1 5-9-5-10 5 0-3-1 1-6 2-4-2-1 2 0 0 0-5-1 1-13 9 3-3 4-1 6 3 2 2 2-4 3 3 1 0 0-2 1 2 1-2 1 2 2-3 0-1 2 5 2-4 1 3 1-4 0 3 0 0 5 1 2-3 8 4 3 0 0-1 2-3 2 1 1 1 6 0 13-3 35 9-40-3-2 4-7-4 0 5 0-4-1 3 0-4-12 3-1-2-1 1-1-1 0 3-3-2-3-2 0 2-2 1 0-3-1 4-3 0-2-4 0 4-2-2 0 0 0 1-3 0-4 0-3 2-3-3-1 0 0-2-2 3-2-2-1 1-4 0 2 4 0 5 7-1 2 0 1-3 0-1 1 5 1-4 0 1 1 3 1-3 1 1 1-2 1 3 0-1 4 1 0 1 5-5 1 2 0 3 3-2 1 1 4 0 4 0 8 0 0 0 4 1 6-2 18-1-8 9-9-1-6-2-6 1-1 0-1-2-7-1-2 1 0 4-6 0-2 0-1-1-1 0-1-4-1 1-4 1 0-1-2-1-2 1-8-1-1 2-6 1-1 0 5 8 5-4 1 3 3-1 2-3 9 5 2-2 2 2 12-3 1 3 1-2 4 1 2 0 2-3 1 0 2 3 7 1 5 0 29-5-31 8-8 1-5-3-9 0-1 4-1-4-1 0-7 2-3 1-5 1-3-3 0 1-1 3-5 0-2-1-3-3-10 8 1 0 6-2 0-1 0 5 2-3 27-1 4 0 13 2 62-2-69 7-12-2-1 1-3 4-7-4-5 0 0 1-2 1 0 6 6 2 7-4 1-1 11 5 5 1-22 5-12-5 14 10 25-4 5 3-2 3-40 14 5 5 8 8" marker-start="url(#u)" marker-mid="url(#u)" marker-end="url(#u)"/>
<path d="M220 731l-3 5 0-2 0 0 4 3 1 0 1 0 1-1 3 0 4 1 10 0 49 6-33-3-1 0-1 3-1-5-3 0-7 0-3 3-5-2-4 3-2 1 0-3-4-1-2 3-7 1 1 3 0 2 1-2 1 2 0-4 0 2 2 0 1 2 0-3 1 1 2-2 0 3 2 1 1-2 0-1 0 3 2-1 0-1 0-2 1 4 1-4 0 3 5 0 0-1 2 3 1-2 0 1 12 0 3-3 0-1 2 4 1-4 1 5 1-3 49 5-3 3-8-1-16 2-2-3-12 0-6 3-1-4-4 2-5-3-11 4 0-4-2 4-3-4-1 2-2 0-1 3-3-3-1-1-2 2 0 1-3 1-1 0 0-3 0 0-2-1-2 3 5 4 1 0 1-2 0 3 3-3 0 1 5 4 2-1 4-2 1 0 3 3 3-4 1 2 6-2 1 3 3 0 2 1 0-1 1 1 0-1 4 0 6-4 12 3 1-2 1-1 3 4 11-1 7 2 12 3-6-2-6 1-3 1-6 0-4 2-13 1-8-2-8 1-2 1-7-2-1-3-1 4 0-4-1 3 0-1 0-2-4 4 0-2 0-1 0 2-1 2-1-4-1 2 0-3-5 4 0 1-1-4-1 3-1-3-5-1-1 4-4 1-1-2 0-3-2 0-2 2-1 6 2-1 1 3 9-3 0 3 6-2 1 3 1 0 2-1 9-4 1 5 1 0 9-5 5 3 2-2 10 3 3-1 2-2 8-1 18 4 8 0 17-4 6 3-7 8-5-4-4 3-4-2-38 2 0-2-4 0-3-2 0 3-8-2-8 0-3 2-1-2-1-1-2 0-4 5-1-2-2 2-2-1 0-2-4 1-1-1-2 3-1-2-10 1 4 4 20 2 4-2 31 2 12 1 2-2 3-2 5 3 9 1 14 6-10 0-1-5-1 4-32-1-25-3-30 0-4 2 48 7 7 1 3-1 29-1 10 2 13-4-16 6-11 4-4 0-7-4-7 0-2 0-38 1-1 4-9-3 67 6 31 7-44 0-6-3-13 10 25-2 31-1-10 15" marker-start="url(#t)" marker-mid="url(#t)" marker-end="url(#t)"/>
<path d="M218 735l0 2 5-1 0 1 4 0 14 0 5-3 8 8-8-1-1-2-2 3-1-3-4 2-1 0 0-2-7 2 0-2-1 2-2-2 0 3 0-1-1 2-3-2-1 2-1-4 0 1 0 1 0-1 0 1-2-2-2-1 1 6 2 5 1-2 0 0 1 0 1 2 0-4 1 3 1-3 0 0 1 4 0-2 0 2 2-2 1 0 1 2 1 0 2-3 0 2 1 1 1 0 1-4 5 1 0 3 2-1 3 0 1-2 1-2 3 2 4 2 15-1 10-3 2 3 9 2-12 5-7 0-3 0-10 1-14 0-1-4-1 1-1 3-1-5 0 5-1-4-2 3-1-2 0 1-1-1-1 0-1-2 0 3-1-2-2 4 0-2-2 2-2-4 0 4 0 0 0-3-3-1-1-1-3 0 3 11 1-2 1-2 1 3 1-4 1 2 0-2 7 3 0 0 1 0 1 0 1-3 0 1 0 2 1 1 1 1 1-4 0 2 0-1 1 3 1-3 3 3 0-3 1 1 4 1 2-2 3 3 14-4 4-1 1 5 1-4 2-1 3 2 12 0 32 3 13 1-8 5-16-4-3 0-1 2 0-1-6-1-7 2-12 1-1-3-7 1-7-2-5 5-9-5-1 4 0-3-2-1-4 4-3-3-2 0-1 0-2 4-3-1-1-4-2 1-1 3-3-1-1-2-4 4-1-4-2 2 0-2-2 0 4 6 3 1 1-2 1 2 3-1 2 2 5-3 2 3 5 1 1-2 3 1 8 1 2 0 3 0 1-2 1 0 8 1 3 0 46-1 4-1 1-1-14 7-6 1-2 2 0-4-10 0-2 4-2-2-3-2-4 2-7-1-3-1-6 2-2 1 0-3-3 1 0 3-4 1-6-5-2 5-3-3-1 0-2 3 0-5-1 1-6 3-1-2-11-1 0 7 11 2 7 1 19 0 8-2 16 0 4-1 13 0 35-1-8 7-10-1-2-1-5 4-10-3-15 4-4-3-3-1-7 1-17 1-4-1-20 3 43 1 32 2 1 7-53-2-8 9 84-2 0 8-50-2 42 7" marker-start="url(#t)" marker-mid="url(#t)" marker-end="url(#t)"/>
<path d="M217 733l1 0 0 4 3-2 6-1 4 3 5 0 4-1 0 0 5 0 15 1 45 5-29-2-21 3-2-1-17 1 0 0-1-1-5-3-1 1 0-1-1 3 0-2-1-2-3 5-1-4-2 1-3-2 0 0 0 7 2 0 0 4 1 0 1-5 1 1 3-1 0 4 2-2 1-1 1 0 1 2 1-3 0 1 0-1 0 2 2-2 2 3 1 1 0 1 1-4 0 2 0-1 2 2 1 1 0-4 0 4 0 0 4-4 4-1 6 5 2-1 4 1 2-2 2 1 9 1 6-4 9 8-8-2-24 0-5 2-7-1 0 2 0-3-1 1-3-1-4 2-1 0 0 2-1-3 0 3-1-4 0-1 0 4-1-3 0 4-1-3-5-1-1 2-4-3-2 4-1-1-1-2 2 5 3 3 1-3 1 4 7-4 4 0 0 1 3 0 1 0 1 2 0 1 1 1 2-2 6-3 0 1 1-1 2 0 1 1 1 4 8-5 2 3 3 2 4-5 0 2 3 2 2-4 26 2 33 8-12-3-5 3-10 1-27-3-2-1-2 2-10-2 0 0-4 3-6-4-1 4-2-4-2 4-3-2-1-2-5 4-3-4 0 2-1-2-1 5-6-3-1-1-1 4-8-4-1 4-4 1 4 0 8 1 1 2 1-2 1 4 0 0 1-4 3 0 9 1 1-2 0 5 2-3 9 0 0-2 3 2 15-1 7 4 2-5 4 4 2-3 17-1 13 2 20-1-10 10-18-1-17-1-11-1-8 2-3-1-2-2-1 2-2 1-9-1-5 2-10-3-4 2-4-3 0 2-1 0-1 0-1 2-1-5-1 5-3-1-1-1-3 2 13 3 5-1 1 0 4 2 35 0 6 1 2 1 5 0 3 0 1-2 8-3 7 2 10 3 4-1 9 0-1 4-10 2-16-4-45 0-10 1-1 4-3-4-5 1-2-1-18 8 4-2 24 2 10-1 1 3 23-4 1 2 21-2 15 3-5 4-5 3-34-1-26 0-29 2 34 5 36-3 26 0-30 4-24 0-1 3-9 3 73 3 4 2 7 16" marker-start="url(#t)" marker-mid="url(#t)" marker-end="url(#t)"/>
<path d="M216 737l5 0 2 0 1-2 1 2 2-4 0 0 0 4 1-2 11 1 4-1 4 0 6 1 66-2-59 7-6-1 0-1-7 2-6 2-1-2-1 1-3 0-1-2 0 1-7-2 0 3-1-3-2 3 0-4-1 2-3-1 0 3 0-1 0 0-2-3-1 5-1-3-1 1 2 5 3 1 2-1 0 2 2-2 2 1 0-2 2-1 1 0 1 1 2 1 1-2 2 3 2 2 1-2 3 2 3-3 1-1 2-1 4 2 9-1 3 2 3 2 6-1 1 0 11-2 7 1 17 0 26 2-43 4-2-3-3 0-7 0-6 0-8 4-5-4-6 0-1 2-2-2 0 1-1 2 0-2-2 1-4 2-3 0 0-1-1-3-1 2-1-2 0 1-4-1 0 0-1 1-1 1-1 2-1 0-4-3-1-1-1 0 0 3 0-1-1 3-1-5-3 5 0 0-1 5 5-1 1-3 1 2 2-1 0 2 5-1 0-2 2 3 0 0 1 1 0-3 2 0 0 1 5 1 1-1 1 2 0-2 0 3 1-2 3-3 2 1 0-1 4 2 4 0 2 3 3 0 3-5 1 5 13 0 1-5 34 1 5 8-2 0-8 2-7-1-2 1-11 0 0-1-2-1-13-3-2 1-2 3-4-3-6 0-3 4-4-4 0 3-1-4-7 2-2 3 0-4-1 3-1-2-2 1-2 1-2-4-5 5-3-1-3-1-3-1 11 9 3-5 0 4 2 0 2-3 1 0 1 0 0 0 6 2 0-3 12 1 10 4 7-4 4 2 22-1 18 3 4-2 7 0 1 3-5 3-37 2-1-3-9-2-8 5-16-3-2-2-4 3-3-2-10 1-4 3-1-4 0 2-2 0-2-3-8 3-1 1 7 7 20 0 28-4 13 3 4-4 20 2 3 3 2 0 19 4-12-1-8 2-5 1-8-3-8 1-13 2-35-1-2 0-8-1 0 1 27 6 16-4 13 3 3-2 12 0 15 3 13 2-7 2-9 3-10-3-79-2 44 9 9 2 45-3-46 6-10-2-2 0-2 11 25-5 19 8-26 14" marker-start="url(#t)" marker-mid="url(#t)" marker-end="url(#t)"/>
<path d="M216 736l8-3 10 10-10-5-6 0-2 5 0 1 4 0 1 4 2 1 0-4 1 1 1 2 8-2 2 3 25 5-16-2-8 3-1-1-1 0-1 0-2 0 0 0-1-3-1 4-1 0-2 0-1-1-3-1 0-1 0 0-1 3-1-4-1 0-1 0-1 1 0-1 0 0 0 4-1-4 0 6 0-1 0 0 1 2 0 0 0 3 1-2 0 2 1-2 1-1 0-2 1 4 1-2 1-1 0 2 1 2 1 0 0 0 0-5 0 5 0-4 0 1 2 1 1-2 0 4 1-2 0 2 2 0 0 0 0-2 1 1 1-2 0-1 2 4 0-1 3 1 1 0 3 0 0 0 2-4 0-1 3 4 0-1 6-2 1 0 7 2 5-2 36 8-12 1-2 0-8 0-2 1-1-4-5 1-3 2 0 1-6-1-1-4-5 5-2-5-2 1-1 4-2 0-4-2-1-2 0 3-1 1-1 0 0-3-1 0 0 0-1 0 0-2 0 0-1 4-1-3-1 0 0 2 0-2-1 1 0-1 0 2-1 0-2-1-1-1 0 2 0 1 0-4 0 0-1 0 0 1-1-1-1 0 0 1-1 3 0-3-1 1-1 2-1 1 0-4 0 0 0 0-1 3 0-2-1 2 0-4 0 3-1 2 0-4 0 0-1 2 0-1 0 2-1-3 0 4 0-1 0-3 0 1 0-2-1 2 0-2 0 2-1 0-1 1 0-3-1 1-1-1 0 6 1 1 1 3 2-2 0 2 1-1 0-1 1-1 0-1 0 2 1 1 0-3 1 1 0 1 1 0 1-2 0 5 1-2 0-1 2-1 1-1 0 5 0-2 0 2 1-2 0-3 0 2 0 0 0-1 1 2 0 1 2-3 1 2 1-2 0 4 0-2 0-3 1 4 0-3 1 2 0-1 0-1 1 4 1-5 1 1 0 0 1-1 0 3 2-3 1 3 2 2 1-1 1-3 1-1 1 5 0-4 1 3 0-1 1-3 1 0 4 2 2 2 1 0 0-4 2 2 0 1 1-2 0 2 4-2 0-1 8 1 5-1 3 4 1 1 0-2 19-1 4-1 3 2 4-2 4 0 5 4 4-2 8 7-1-1-14-3-5 4-16-2-1 2-4-1-3-1-2 2 0-4-4 0-1 4-1 0-2-2-3 2-1-4 0 3-3-1-2-1 0 0-5-1 0 3-2 1-1-4-3 0-2 1-1 3-1-4 0 2-1 2-2 0 0-4-2 5 0-2-1-2-2 2-1 2-1-4 0 4 0-3-2 2 0-4-1 5 0-5 0 2 0-1 0 0-1 2-1 2 0 0 0-5-1 0 0 5 0-1-2-4 0 4-1 0 0-4 0 3-1 0-1-1 0 0 0 1-1-2-1 1 0 0-1-1-1 3 0-1-1-1 0 0-1 0 0 2-1-2 0 0-1 0 0-1 0-1 0 1-1 0 0 2 0 2 0-4-1 1 0 0 0 1-1-3 0 4 0-4-3 2 0 2 0 1-1-5 0 2 0 0-1 2 0-3-1 0 0 1 0 3-1-4-1 1-2-1 2 8 1 0 0 2 0-3 1 1 1-1 0-1 2 0 0 1 1 2 0-2 0 1 2 0 0-1 1 1 0-2 0 0 1 4 1-3 0-2 0 4 0 1 1-2 0-2 1 3 2-1 1-2 0 2 1-3 0 3 2-2 0 4 0-4 1-1 0 2 0 3 1-4 1 4 1-1 0-2 1-2 0 5 0 0 2-3 1-1 2-1 0 2 0 1 1 1 1-2 0 0 0-1 1 1 1-2 1 1 1 0 0 3 1 0 1-4 3 2 4 1 1 1 0-2 1-2 1 5 1-1 5-3 3 4 9-1 6-3 12-1 1 4 4-4 1 4 0 0 6 1 4 0 1-1 4 0 8-3 5 5-1 2 0 3-2-1-7-1-2-1-1 3-3-5 0 5-7-5-2 5-4-4-4-1-13 2-2-1-1 0-1 4 0-3-1 0-1-2-3 3 0-3-3 2 0 2-3-2-5 1-1 0-2 0-2-1-4 2 0-1 0-2-1 1-1-1-2 2 0-1 0-1-1 3 0 1-2-3-3 3-1-4 0 2-1 1 0-1-1 2 0-3 0-2-1 5 0-4 0 0-1-1 0 0 0 5-2-4 0 2 0-3-1 4-1 1 0-4 0 0-1 1 0-1 0 2 0 1-1 0-1 1 0-4 0 0-1-1-1 5 0 0 0-3 0 1-1-2-1 2 0-1 0-1-1 2-1-3 0 5-3-2-1 1-1-3-1 0 0 2 0-3 0 2-3-1 0 0 0 0-1 4 0-5-1 4-1-2-2 2-2 4 3 1 3-3 1 2 1-2 0 1 1-1 1 0 2 2 1 1 1-1 2 2 2-2 0-2 2 1 1 2 2 0 1 2 1-1 0 1 1-5 1 4 1-2 0-2 1 2 1-2 1 2 0-2 0 5 1-5 0 1 1 1 0 0 1-2 0 2 2 1 0 2 1-2 1-2 1 4 0-1 1-1 0-2 1 0 0 4 1-4 0 3 1-3 3 0 0-1 2 1 3 4 1-2 1 2 1 0 1-1 0 1 2-2 2-3 0 3 0 1 1-4 0 1 0-1 2 1 2 0 3 4 0-5 1 1 1-1 3 4 2-3 1 2 2-1 1 1 5-2 2 4 3-4 3-1 2 0 4 5 2-1 0-2 3-1 18 3 2-3 6 8 0-1-1-2-10 2-2 0-1-1-1-1-2 0-1 5-5-3-1-2-4 0-1 5-7-2-5 0-1 0-2-1-1 0-1 2-1-3-5 3-2-2-2 0-1 1 0-2-2 2-2-3-3 1 0 1 0 0-1-2-2 2 0 1-2 1-1-3-1 3-1-1-6 1-4-4-5 2 0 3 0-3-1 0 0 3-3-5-1 4 0-3-2 1 0-2-1 1 0 3 0-2-1-2 0 4-1-2-1 2 0-3 0 0-1 3 0 0 0-2-1 1-3 1-3 1 0-2-1 1 0-4-2 2 0 0 0-2-8 2-1 2-3-2-3 4 6 3 1 0 1-3 5 2 2 3 0-2 2-1 1 3 3-4 1 2 0-2 0 4 1-3 2 2 0 0 2 1 1-2 1-1 4 3 0 0 0-5 0 4 3-3 1 4 2 0 2-3 1 3 3 0 5-4 1 1 7 2 3-2 0-1 1-1 3 1 2 0 0 1 1 1 1-1 0 3 2-4 4 4 2 0 1-4 3-1 1 5 0-1 1-2 0 1 2-3 9 2 6-1 5 0 0 4 3-3 1 1 2 0 1-1 6 2 0 1 1-2 2 1 0 5-2-3-1 1-6 1-1 2-6 1-3-1-1-1-9-3-3 0-1 3-2-1-3-1-7 0-6 1-3 2-1-2-2 3-1 0-7-2-1 2 0-3-2 2 0 0-2 1 0-2-2-2-2 3-2-2-3 2-3-2-6-2-1 0-1 5 0-3-2-2-3 2 0 1 0 0-3-1-11-1-4 1-5 2 2 4 8 3 0-1 14-1 10-1 3-1 1 3 0 0 3-1 1 0 2-1 17 2 7-4 6 0 10 3 2-2 2 4 7-1 8-2 2 3 3 0 8-5 0 3 4-3-4 6-5 5-1-5-3 0-7 3-10 0-7-2-4 0-4 0 0 1 0 1-3-3-1 1-20 2-4-2-15 0-13-1 54 10 41-3 6 9-19-3-74-1 92 6" marker-start="url(#s)" marker-mid="url(#s)" marker-end="url(#s)"/>
<path d="M227 743l-2-2-8 1-1-1-1 0 4 4 0 1 0-2 2 2 0 1 4 1 1-1 1-1 1 0 4 0 10-1 20 6-12 0-9-1 0 4-10-1-2 0-3 2 0-2-1 1-1-2 0 1-2-3-4 1-1 2 0 2-1-1 0-3 0 5 1 3 0-1 0 2 0 1 1-4 0 0 0 2 0 2 0-4 1 4 0-1 0-4 2 3 2-3 0 1 0-1 1 3 0-1 0 1 1 0 0-1 0 1 2 0 1 0 0 2 1-4 1 1 1 2 0 1 1-1 1 1 0-5 1 4 0-2 0 1 2-3 1 1 2 4 0-1 13-2 1-1 0 1 0 1 3 0 4 2 1-3 31 2 39 1-10 6-27-3-3-2-4 0-5 1-3 4-12 0-5-2-3 2-1 0 0-2-7-2-1 4 0 0-2-3 0 3-1-4 0 4 0-1-1-3-1 1-1-1 0 0 0 2 0-2 0 0-2 3 0-4-2 0 0 4-2-1 0-1 0 1 0-1-2 3 0-3-1-1 0 2-1 2 0 0-1 0 0-2-1 2 0 0 0-4-1 1 0 1 0 0 0-1-1 1 0 1-1 1 0-3 0-2 0 2-2-2 0 3 0 2 0-5-1 0 0 4 0 1-1 0-1-5 0 5-1-5 0 4 0-4 0 0-1 3-1 1 0-4 0 0-1 2 0-1-3 0-1-1 2 11 1-5 0 5 1-1 0-2 0-2 1 4 0-4 0 5 1-4 0 4 0-4 0 4 1-2 1 0 0 0 0-2 1 3 0-3 1 4 0-2 0-2 1 1 1 2 0 0 1-3 1 3 0 0 0-1 1 1 0-3 0 0 0 4 0-1 1 1 0 0 1-3 0 2 1 0 1 0 0-4 1 5 0-4 1 2 1 1 0 0 1 0 1-2 0-2 0 2 1 2 2 1 0-3 1 1 1-3 2 5 1 0 0-5 0 0 1 4 0-1 0-1 1 0 1 0 0 3 0-4 1 3 1-2 0-1 1 2 0 2 0-1 1-2 0-2 3 3 1 1 0-2 1-1 3 3 1-4 2 2 1-2 3 0 2 3 0 2 0-3 1 1 0 0 7 1 10-2 2-1 2 4 13-1 1 0 6-3 11 3 15 2-7 0-5 5-1-1-1 1-8-2-7-3-4 2 0 2-7-1-2-2 0 3-2-4-6 2-2 1-1 1-6-2-2 3 0-3-2-1-3 3 0-1-2 2-1 0-1-3-2 0-1-2-6 2 0-2-2 4 0 1-1-2 0 0-1-1 0 2-1 0 0-1 0-2-2 4 0-3-2-2-1 1-1 3 0 1 0-2-1 2-1 0-1-1 0-3 0 1-1-2-3 3 0 2 0 0-1-2 0 2 0-3 0-2-1 3 0-1 0-2 0 4-2-2 0-1-3-1 0 3-1-2 0 4 0-5-1 4 0-1 0 2-1-1-1 1 0-5 0 1 0 3-3 0 0-1 0 1-1 0 0-4-1 1-1 3-1 1-1-2 0 1-2-3 0 1 0-1 0-1-1 1 0 0 0 1-1-1-1 4 0-4-2 4 0-1 0-2 1 8 2-4 1 2 0 0 1-2 0 4 1-3 0-1 0 0 0 0 0 1 1 0 1 1 0-2 0 1 1-1 0 3 1 0 0 2 1-2 0 1 0 1 1 0 0-2 0-3 0 3 1-2 0 0 0-1 0 5 2-5 0 3 0 2 0-2 0-2 0 0 1 1 0 2 2-4 2 1 0 4 0-5 1 2 2 0 1 0 0 2 0-4 1 5 1-4 0 0 0 0 1 3 0 0 1 1 1-3 0 3 0-4 0 2 1 1 1-1 0 2 0 0 1-1 0-3 0 0 2 0 0 2 0-2 0 3 0 1 2 0 0-3 0 2 1-3 2 1 0 2 2-2 0 0 2 1 1 1 0 1 4-2 0-3 0 2 2-1 2 0 0 4 1-1 4 0 2-1 3 2 5-2 1 0 1-2 0-1 4 5 0-3 5 2 7-4 6 1 2 3 14-1 0-2 12 2 4 4-3 2-6-1-6 1-2 2-4-5-15 3-3 2-1 0-1 0-1 0-5-1 0-4-2 2 0-2-2 5-1-1-4-1 0 0-8 1-2 1-1-5-1 5-1-3-1 3 0-2-1-3-1 0 0 4 0-1-1-2-1 2 0 1-3-1-2-2 0-1-2 3-1-2-1 3 0-2-2 2-1-2-2-2-1 5 0-4 0 2 0-3 0 1-1 2 0 1 0 0-1 0 0-3-1 0-1 4 0-2 0-2-1 0 0 2 0 2-1-4 0 0 0 4-1-1-1-4-2 1-1 1-1 2-1 1-3-3 0-2 0 0-2 3-1-1-1-2 0 0 0 0 0 0 0 1 0 4-2-5-1 4 0-1-1 0 0-3-1 4-2-3-1 0 0 0-2 2-3-3 0 2 1 4 1 2 1-1 1-1 0 1 6-1 0 1 1 0 0 1 0 1 1 2 1-4 0 1 0-2 3 0 0 3 1-2 0-1 0 2 4 3 2-4 3 2 2-1 0-2 1 4 1-3 0 4 0-2 1-2 1 0 1 0 0 0 0 1 1 1 2-2 2-1 0 4 1-2 2 0 0 0 0 1 1 1 0 0 1-4 2 3 1 1 1-1 4 2 1-2 2 0 1 2 0-4 2-1 3 4 0-2 0 1 4-2 1 1 1 3 3-4 1 4 1-5 0 3 1-3 3 1 1 4 2-5 0 1 1 1 0 2 5-3 0 2 3-3 0 1 3 3 1-4 1 4 2-4 4 3 0 2 6-4 3-1 2 1 3 2 2-1 0 3 1-3-11 5 0-1-4 3-6 1-1-3-4 0 0 4-6-3-1 1-7-2-1 1-3 0-1 1-2 2-2 0-1-4-1 4-1 0 0-2-3 2-1-5-1 0 0 4-1-1 0 1-2-3 0 0-1 2-2 1-1 1-2-1 0-3-6 1 0 1 0-1-1 3-1-5-1 5-2 0-1 0-1-4-1 2-1 0-1 0 0-3-2 5-1-2-1 0-1-3-2 5 0-1 0-1-1 1 0 0 0-4-6 0 0 5-1-1-2-3 0 2-1-2-2-1-5 4-1-1-2 0-2-3 0 6 2 1 4 1 1 3 1-4 2 3 4-4 1 2 1-1 3-1 2 3 1-3 1 3 1 1 3-3 2 1 2 2 2-3 1-1 2 2 3 1 0 1 0 0 2-1 3-3 1 0 1 0 0 5 10-3 1 0 1-2 3 3 2-3 0 4 3-4 2 3 0 2 8 0 2-2 1-2 0 0 0 3 2-2 6 3 3-1 0-2 6-1 2 2 2-3 0 3 3 1 2-2 0 3 2-1 1-1 5 0 2 2 7-4 0 0 0-1 0 11-17-2 0 2-1-5-6 3 0 2-3-5-1 5-6 0-2-2-6-1 0 3-1-2-3 2-1-4-7 0-3 3 0-4-7 3-5-2-3-1-3 5-2-4-3 3-2 1 0-3-3-2-5 2-1 3-1-2-6 2-1-2-4-2-2 2 0-3-1 1-4 0-6 0-2 2 6 5 9 2 4 0 0-4 3 1 2 2 3 1 1 1 5-2 2-2 13 2 15 1 1-4 5 0 9 5 12-2 6 1 7 0 2-1 3-3 1 1 5 4 0-3 1 3 3-5-3 7-31 3-1 0-25-3-5-1-5 0-10 1-13 3 45 3 34-1 8 3 0-2" marker-start="url(#s)" marker-mid="url(#s)" marker-end="url(#s)"/>
<path d="M228 740l-6 0-1 0-5 8 0 0 1-3 4 0 5 4 8 0 38 6-3-2-20 2-2-4-9 4-1-3 0 3-5-4-1 2 0 0-4 2-1-3 0 0-2 2-1-1 0-2-1 0-3 2 0-3-2 1 0 1 0 3-1 0-1 0 1 3 1 0 0 2 0-1 2 0 0-3 1 4 0-2 1 0 0 2 0 1 0 0 1-5 1 4 0 0 0 1 0-3 1 0 1 1 0 1 1 0 0-3 1 3 0-1 1-1 0-1 1 0 0 2 0-3 0 4 1-4 1 2 1 0 1 3 1-3 1 1 1-1 3 2 6 1 2-5 2 5 1 0 5 0 1-2 2 2 3-4 4 2 6 1 0-1 3 2 11 0 47 6-14-1-17 1-2-5-2 5-11-2-1-3-8 5 0 0 0 0-5-3-4-1-5 4-2 0-1 0-1 0-2-1-1-3-1-1-1 1-6 4-1-4-2-1 0 4-1-4-1 5-1 0 0 0-2-3 0-2 0 4-2-3 0-1 0 4 0 0-1 0-4-1 0 0 0-2-1 0 0 4 0 0-3-3 0 0-1 2-1-4 0 2-1 3 0-1-1-4-1 5 0-4 0 4 0-1 0-2 0 1-1-1 0 1-1 0 0-1 0 3 0-1-1 0 0-3 0 2-1-1 0 0-1-2-1 5 0-5-1 1-2 0 0 9 2-2 0-2 1 5 2-5 0 5 1-1 0 1 0-5 1 2 1 1 0-1 0 0 0 1 0-3 1 2 1 2 0 1 1-5 0 5 0-2 0 0 0 2 1-1 0-4 0 5 1-2 0-2 1 4 0-4 1 0 0 1 1 2 0-1 0 1 0-4 2 4 0 1 1-1 0-3 2-1 0 3 2-3 0 2 0-1 1 0 0 4 1-4 0 0 0 3 1-2 1-1 1 3 3-3 0 0 0 4 1-1 1 1 1-5 1 3 2-1 3 3 0-4 1 3 0-1 0-2 0-1 7 1 0 1 3 0 1 2 0-3 4 0 0 4 1-4 12 1 1 1 1 1 20-1 1-1 6 1 17 1 4 1 6 1-11 5 0-2-17 2-9-2-6 1-4-4-4 2 0-2-6 4 0-2-1 1-1 2-2 0-2-3-1-1-1-1-3 4 0-4-2 2-1 3 0-1-2-4-1 0-3 2-1-1-1 3 0 1-2-4-3 2-2-1-1 2 0-3 0 0-1-1 0 5-1-3 0 0-1-1 0 1-1 2 0-1-1-3-1 4 0 1 0-1 0 1-1-1-1 1-1-1 0 1 0-3 0-2 0 5-2 0-2-3 0 3 0-3-1-1 0 3-1-3 0 1-1 3 0-2 0 2 0 0-1-3 0-1 0 3-1-4-1 3 0 1 0-3-1 4-1 0 0-4 0 1-1 1 0 1-1-3 0 4-1-1-2 1 0-3 0 3 0 0-1 0 0-3-1 2 0-2 0-1 0 0-1-1 0 3-1-1 0 3-4-5 0 2-1 3 0-4-1 2 0 0-2 6 1-2 2 1 2 2 1-4 0 5 1-1 0-4 1 1 3 3 0 1 1-4 0 2 1-3 0 0 0 2 0 3 0-2 1-3 0 2 1 2 0 1 1-1 0-4 0 2 0-1 2 1 2 3 1-3 0-2 2 1 0 3 1-2 0-2 1 1 0 0 0 1 1 0 2 2 0-2 1 1 1-1 1 2 1 1 0-3 0-1 1 4 0-2 1-2 0 1 1-2 0 5 0-2 1-1 0 0 1 2 1 1 1-1 0-1 1-1 1-1 0 0 0 3 3-4 0 3 1-3 0 5 1-4 1 0 1 4 2-5 1 0 1 3 0 2 2-1 1-2 1-1 1-1 0 4 1-1 1 2 1-2 1-2 1 4 4-1 5 1 2 0 0-1 1 0 0 0 3-3 0 2 4 0 2 1 1-3 5 4 1-2 1-1 9 0 3 0 2 2 4 0 8 1-2 1-7 3-1 1 0-2-1 0 0-2-1 5-1-4 0 0-2 1-5 2-3-1-6-2 0-1-1 1-2 4-1 0-1-4 0 3-6-3-3 3 0-1 0-1-5 1-1 1 0 0-3 1-1-1-1-4-2 5 0-3-2 2-1-3 0 3-1-2 0 1-3-3-3 2-5-2-3 5 0-5-1 4-1-4-2 0 0 4-2-1 0-1-1-1-1 3-1 0 0-1-1 2-1-5-1 0 0 4 0-4-1 5 0-3-1 2 0-3-2 2 0-3 0 4-2-4-1 4 0-4-1 0 0 4-1 1-1 0-1-1 0-1-1 1-2-1 0 0 0-2-1-1-1 1-1 3 0-2-1 1 0-1 0 1-1-1 0 1 0-3 0 5 0-4-1 1 0-1-1 1-1 1 0-3-1 4 0-3-6 1 2 6 1-2 0 1 1-1 1 1 1-1 0 0 3 1 2-1 2 1 5 2 1-3 0 0 2 5 0-1 0-4 0 0 0 0 0 0 2 1 1 2 1-3 0 2 1-1 0-1 0 4 1-1 0-3 1 3 1-1 3 0 0-1 2 0 0 4 0-2 1-2 2 4 1-2 0-1 2 0 0 3 1-4 0 1 3 3 0-3 2-1 0 2 1-2 1 4 1-4 1-1 1 1 1 3 0 0 3 0 1-4 4 5 2-2 2 2 0-4 1 2 0-2 2 4 1-2 2-2 0-1 0 5 2-4 2 3 0-2 2-1 1 2 6 1 5 0 3-3 1 4 2-3 3 3 6-3 4-1 4-1 2 0 0 0 2 0 8 2 2 2 2 3-1 4-7 0-1-2-6 0-1 0-8 2-14-4-1 0-2-1-3 2-1-2 0 5 0-4-1 1-1-1-1 0-1 1-1 1-1 2-2-2-1-3 0 4-5-1-3 2 0-3-1 3-3-4-7 3 0-2-2-1-5 2 0-3-2 5-1-4-1-1 0 1 0 0-8 0-2 0-7 3 0-3 0-1 0 5-1 0-1-4 0 0 0 2-1-1 0 1-6-2-1 2-4 2-4-5-3 1-1 3 7 6 1-3 2 2 1-1 2 0 1-2 3 3 0-2 0 0 1 1 0 0 1 3 3-2 1-1 0 3 1-3 1-1 0 2 7-2 4 2 1-3 1 1 1-1 3 0 1 5 1 0 2-5 2 4 0-2 2 1 1 2 1 0 0 0 2-1 4-1 3 1 3-3 0 2 2-3 0 4 1-1 1 1 4 0 1 0 1-3 1-1 2 4 2-4 2 1 0-1 1 5 1-1 0 0 1-3 1 0 4 1 4-2 4 1 1 2 0-1 5 2 4-2 5 1 9 0 2 5 0 2-1 0-1-2 0 3-2-5-1 1-2 4-2-1-5-3-4 1-1 1-5-1-1-2-2 2-3 1 0 1-7-4-6 3-1-2-1-1-2 5-2-2-7-2-11 2-3 0-2-2-5-1-2 2-5-1-1 3 0-1 0-1-4-2-2 2-1-2-1 4-1-3-2 1 0-2-3 3 0 1-3 0-4-4-4 2-2 0-4-2 4 8 10-2 9 0 1 1 8 0 4-1 4 0 0 1 3 1 2 0 0 2 8-1 0-1 7-1 8 3 2 1 2-3 0 0 5 3 10 0 9-4 0 3 2-4 6 5 1-4 4 2 1-2 3 4 1-3 1 1-1 6-2 2-10-1-12-2-1-1 0 3-2-4-38 5-1-3-8-2-18 0-9 3 55 3 24 3 19 5-12 1-15-3" marker-start="url(#s)" marker-mid="url(#s)" marker-end="url(#s)"/>
<path d="M216 735l6-1 4 8-5-1-2-1-1 1-2 7 2-1 0 1 2-1 2 2 2 0 4-2 12 2 16-2-9 4-4 2-4-2 0 3-1-2-7-1 0 1-2 1-1 1-2-1-2 2-3-4 0 4-3 0 0 0-1-2 0 0-1-3-1 3 2 8 0 0 0-1 0-2 1-1 0 1 0 0 0 0 1 2 0 0 0 0 0-1 1 0 0-3 1 4 0 0 1 1 0-2 1-1 0 2 0 0 1 1 0-1 0 0 0 1 0-1 1 1 0-2 1-3 0 1 1 4 3 0 0-2 1 0 2-2 2-1 0 5 1-2 7-1 3 1 2 0 1 2 4-1 4 0 2-1 7 0 4-1 24 1 13 1-2 5-26 0 0 2-11-1-6-1-4 1-1-1 0 0-5 2-1-3 0 0 0-1-1 1 0 3-1-1-6 1-1-2 0-1-2-2 0 1 0 0 0 3-1-4-1 2-1 1-2 1 0-2-1 3 0-3 0-1 0 4-1-3 0-1-1 3 0 1 0-5-1 5 0-1 0-3-1-1 0 3 0-1 0 2 0 0 0 1-1-5-1 1 0 0 0 4 0 0-1-3 0 3-1-1 0-4 0 2 0-1 0 3-1-1 0 1-1-3 0 4 0-2 0 0 0 0-1 1 0 0 0-3 0 0 0 1 0 3 0-5 0 5 0-4-1 3 0 1 0-5 0 3 0-3 0 0-1 2 0-2 0 5-1-3 0-1 0 3 0 0 0-2-1 2 0-4 0 0-2 4-1-4 3 8 0-1 1 4 0 0 1-3 0 0 0 1 0 0 1 0 0 2 0-3 0-1 1-1 0 3 0-2 0 1 0-1 1-1 1 0 0 3 1-1 0 0 0-1 0 2 0 2 1-3 0 1 0-2 0-1 0 1 1 1 0 2 0-3 0-1 0 2 1-1 0 1 1-2 0 2 0 1 0 1 2 1 0 0 0-1 1-2 0-2 0 1 0 4 0-5 1 0 0 1 1 1 1 3 0-4 2 4 0-4 2 2 1-1 0-1 0 1 1-1 0-1 1 3 1-1 1-2 0 3 1-3 1 3 1 1 1-1 0 0 0-3 0 4 2-2 1 1 0 2 2-3 0-1 1 0 0 4 0-1 3-4 2 4 0-4 1 3 1 0 2-2 8 3 2-2 0 3 2 0 5-1 0-3 3-1 0 0 27 3 9 0 0-1 16 0 1 7-21 0-15-3-5 4-1-2-1 2-3-2-1 3-2 0-2 0-2-3-4-1-4 0-2 4-1-1 0 1-2-2-3-1 0-2-1 5-2-4-4 3-1-3 0 4-1-4-1 2-1 0-1-2 0 0-1-1 0 5-2-5 0 5 0-3-1 3 0-3-1-2-2 5-2-1-1 0 0 0-1-3-1 0-1-1 0 0-1 2-1 2 0-3 0 2 0-3 0 0-1 4-1-1-1 0 0 2-1-1 0 0-3 0-1 1 0-3 0 2 0-2-1 0-1 0 0 1 0 1 0 0-1-3-2 1 0-2 0 1 0 1-1 0 0 3 0 0-1 0 0-2 0 1 0 0-1-3-1-1 0 1 0 2-1 2 0-3 0-1 0 0-1 4-1-4 0-1 0 4-1-1-1 0 0 0 0-2 0 0-1 3 0-3 0 4-2-4 2 5 0 3 1-2 0 0 1 4 1-1 0-1 0-1 1-1 1-1 1 5 0 0 2 0 1 0 0-1 0-4 0 2 1 2 0 0 1-2 0 0 1 3 1 0 0 0 0 0 1-2 0 2 0-2 0-2 1 1 0 0 1-2 0 0 0 2 1-2 0 4 0-4 2 4 0-2 1-1 3 4 0-1 0-1 1 2 0-3 1 3 1 0 0-2 0 0 0 2 2-4 3 4 0-2 1 1 1-1 0 2 0-2 2 1 0-1 1 2 2-2 0-2 1 1 0 1 0-2 1 3 0-1 1-3 0 0 0 3 1 0 1 0 2-1 2 1 2 1 1-1 1 0 3-1 1 1 0-2 6-1 2 1 1 3 0-3 0 0 6-1 4 5 4-3 0 1 2 1 1-2 0 0 4 0 1 1 9 1 1-4 12 0 16 6-7 5-1-1-5-2-2-1-2 1-1-1-1 1-7 3-4-4 0-1-1 1-1 3-1-2-3 1-3 2-4-4-3-1-4 4-2-1-3-1-2-2-4 4-3-2-1 3-1-5-2 2-1 0-2 0-2 0 0 3-2-1 0 0-2-2-1 2-1 1-2-5-1 5-2-2-1 1-1-2-1-1 0 1-1 1-1-2-1 2-1-3-1 5 0-5-1 4 0-1 0-3-1 0 0 1-1 1-1 0 0-2 0 3-1-3-1 1-1 4 0-1 0-4-1 0-1 1-1 0 0 2 0-1-1 3-2-1 0 0 0-2-1 1-1 2-1 0 0-2-1-2-2-1 0 1 0 0-1-1-1 0 0 0 0 1-1 3 0 0-1-4 0 5-3-5-1 1-1 0 0 4-2-5 0 1-1 8 3 2 3-4 2 3 0 1 0-5 1 4 0-3 1 0 1 0 1 4 1-5 4 4 1-1 1-3 1 4 2-3 0-1 0 4 2-1 0 2 0-4 1 0 1-1 0 0 0 0 0 3 0 2 0-1 1-4 0 0 0 1 2 1 1-1 0 4 3-1 1-4 1 2 1 2 2 1 1 0 1-5 3 1 1 3 0 1 0-4 1 1 1 2 0-2 2-1 1 2 3-2 0-1 0 2 3-2 3 2 0-1 1 3 5 0 4-3 0 1 1 0 1-2 2 2 5 0 4-2 1 3 0 1 0-2 6 0 1 3 1-2 2 0 6 0 0 1 0-4 2 3 1 0 2 1 0 1 10-2 2 2 1-4 2 0 1 0 6 5-2 0 0 5 0-3-6 3-3 0-13-5-3 4 0-3-5 2-4-2-1 3-2-3-1 0-8-1-12 1-8-1 0 5-2-4-4 3 0 1-2-3 0 0-3 1-1 1-1 1-2-2 0 0-2-3-3 2-1 1-1-2-1 0 0 2-2 1 0-2-3 2-1 1-2-5-2 1-1-1 0 5 0-5-1 1-6 1-1-1-1-1-1 4 0 0-2-1-4 1-1 0-2-2-2 0 4 4 0 4 4-3 3 1 2-2 0 3 2 0 1-1 3 0 0-1 1-1 2 1 0 1 1 0 1 2 0 0 4-3 1 3 2-4 0 5 1-1 0-2 3 1 0 1 0-2 3 1 1-2 1 0 1 3 2 0 1-3 9-1 2 3 5 2 3-3 2 1 3 2 2 0 2-3 3 0 3-1 5 0 2 0 3 1 8 2 1-4 0 2 0 1 1-2 2 2 1 1 7-2 3 1 1 0 0-3 7 11-5-3-3 1-1-1-2 1-2-2-15 1-2 0-2 2 0 1-2 0-7-4-7 4-1 0-1-4-1 2-3-1-7 3 0-5-1 3 0-1-6 2-3-4-1 0 0 3-10 0-5-3-2 1-1 3-2-1-2-3-1 0-5 2-3 0-12-1 4 7 3-1 1 4 13-5 2 4 3-3 6 4 5-4 6-1 1 2 5-1 6 1 2-1 18-1 0 1 0 1 5 2 4-4 2 3 1 0 2 0 14-2 2 0 2 1 1 3 3 0 6-1 1 1 0-2 1 6-1 1-2 0-2-4-4 5-22-2-8-2-2 4-20-4 0-1 39 6 5 3 4-3 11 4 2-1-2 8-66-5" marker-start="url(#s)" marker-mid="url(#s)" marker-end="url(#s)"/>
<path d="M217 735l2 9 1 4 0-3 1 3 4-3 4 2 4 0 9 0 42 8-15-5-13 0-4 5-4-5-1 5-3 0-1-2-10 2-3 0-2 0-2-3-2 2-1 1-1-3 0 1-1 1 0-4-1 3 0-2 0 3-3 0 0-2-1-2 1 9 1-2 0 0 1 4 0-4 1 3 1-3 0 2 0 0 1-2 0 0 0 4 0-3 1 3 0-4 2 1 1 2 0 0 0-3 0 3 1-1 1 2 2-5 1 4 0-2 0 3 0-4 0-1 2 2 0-1 0 4 0-3 0-1 1 1 1 3 1 0 1 0 0-4 0 3 1 0 6 0 0 1 6-2 3 1 3 1 6-3 0 0 2 2 2 0 9-1 4 1 30-3 13 7-6 0-2 0-22 0-6 1-14 2-2 0-4 0 0 0-4-4 0 2-2-1-1 1-1 2-3-1-4-4 0 2-2 2 0 1-1 0-2-3 0 1-1 2-2-1-1 1-1-5-1 4 0-4-1 2-1 1 0 1-1-1 0-1 0-1-2-1-1 3-1 0-1 0 0 1-1-3 0 3-1-2-1 0-1 2-1-4 0 1 0 0 0-1-2 3-1-3 0 4 0-1-1 1 0 1 0-4-1 4 0-1-1 0 0-3-2 3 0 1 0-5-1 1-1 1-2-2 0 7 3 4 2-5 0 0 1 2 0 2 1-2 0 3 0-3 1 0 1 2 0-2 0 1 1 2 0-2 0-2 0 3 1 1 1-3 0 3 1-3 0 2 0-3 0 3 1-1 0-2 0 0 0 4 0-3 0 0 0-2 1 2 0 3 1-4 0 1 1 3 0-4 0 3 0-3 0 2 1 0 0 2 1-3 0 2 0-1 1 1 0-2 1 1 0 0 0 2 2-1 0-4 0 3 1-3 0 4 0 0 0-4 1 1 1 3 0 0 1-1 1 0 0-3 1 4 2-2 1 0 0 0 1 3 1-5 1 3 0 0 0-2 0 2 0-3 1 1 1 2 1 1 1-3 0 3 0-4 1 4 2-1 1-2 1 0 4 0 0 1 1 3 1-1 2 1 0-4 1 3 0-1 0-1 2-1 2 3 4-2 0 2 20 0 1-1 2 2 6-4 1 3 30 4-2 1-13-3-11 2 0-2-6 1-2 0-4 2-3-3-2 1-3 0-5 4-7-2-5-1-1-1-2 4-1-2-1-2-1 2 0-1-1-1-3 4 0-5-1 3 0 1-1-4-2 3 0-1-1-1-1 3 0-3-1 4-2-2 0 0-1 1-2 0-1-3 0 4-1-2 0 0 0-1-2 0 0 0-1 0 0 2-2 0 0 1-1-3-1-2 0 5-1-2 0-1 0 0-1 3 0-5-2 3 0-1-1-1 0 3-2 1-1-1 0-1 0-1-1 2 0-4 0 3-1-3 0 1 0 3 0 0 0-4-1 3 0 1-1-3 0 3 0-2 0 1 0-3-1 5-1-3 0-2 0 4-1-2 0 2-1-1 0-2-1 4 0-4 0 0 0 0-1 4 0-3-1-2 0 3 0-1 0 3-1 0-1 0 0-4 0 1-1 0-2 1 0 1-1 0 0 1 4 6 1 0 0-1 1-4 0 3 1-2 0 0 0 3 0-3 1 2 0 1 1 1 1 0 0-1 0-1 1-1 0-1 1 2 0 1 0-3 2 2 1-2 0 3 1 0 0-2 1-1 0 2 1 0 0 1 1 0 1-2 0-1 1-1 2 4 0-4 1 2 1 3 0-5 1 1 0 0 0 4 1-2 0-1 1-1 1 3 1-1 0-1 0 1 1 2 1-1 1-2 0 2 0-1 0-1 1-2 1 0 1 3 0-1 0 1 0-2 2 1 0-2 1 4 0-3 0 2 2-1 1 2 1-1 0-2 3-1 1 4 2-1 0 1 0 0 0-3 1 3 0 1 2-5 1 3 0 0 0 2 1-4 3 3 1-1 1-2 0 1 2-2 3 4 1-2 0-1 1 4 1-3 1 2 7-4 5 5 1-1 6-1 0 1 1-1 5 2 2-3 11 3 1-2 4-2 12-1-5 11-8 0-1-5-1 2-1 0-1 2-7 0-1-2-5 2-2 1-1-3-3-2-3 4-1 0-1-1-2 0-3-3-6 3-4 1-4 1-1 0-3-2-2-1-1-1-2 4-2 0-2-1-2-1 0 1 0-3-2 2-2 0-1-3 0 1-2 3-1-2 0-1-1 0-3 1 0 1 0 0 0-1-2 0 0 3-1-3-1 2 0 1 0-4-2 4-1-5 0 4 0-4 0 0-1 5 0-2-1-3 0 0-1 3 0-1-1-1 0 4 0-3-1 0-1 1-3-2 0 2 0 1-2-1 0-1 0 3-1-3 0 0-2 0 0 1-1-2 0 4-1-3 0-2-1 1 0 4-1-4 0 1 0-2-1 4 0-2-2 2-2 0-1-4-1 0-2 2 1 4 2 3 1-3 2 0 2 2 0-2 1 1 1-1 0 4 2-4 2 4 1-4 2 4 0-1 0-2 1 0 1 1 1 0 1-1 2 2 2 1 0 1 1-5 0 4 1-2 0-2 0 2 1 3 1-5 0 3 1 1 0-2 0 1 1 1 1 1 2 0 1-5 1 2 0 2 0 0 0-2 1 2 0-4 2 0 3 0 2 0 1 4 1 0 1 1 1-2 2-1 1 2 5 1 0 0 11-3 0 2 1 1 1-2 5 2 0-5 1 5 1 0 0 0 1-3 1 3 1-1 3-4 9 5 0-1 2 0 2-2 0 2 1-4 0 1 1 1 3 2 3-3 0 2 5 2 0-3 10 2 3-1 2 8 0-5-4 2-1 0-2 3-2-4-1 1-5 2-4 0-3-2-1 0-4 0 0-2-3 2-2 1-1 0-3-2 0-1-1 1-3 3-2 1 0-3-10 1-1 0-1-3-2 1-3 1 0 1-2 2-2-2-1 0-1 1-6-2-1 2 0-1-1 0 0-2-3 0-2 2-2-1 0 1-2 2-1-2 0 1-1 1-2-4 0 4-1 0-1-3-1-2 0 0-1 1 0 2-1-3 0 5-1-1 0-4-2 3-2 0-2 1-1 1-2-4-1 0-3 0-1 3 0-1-3 2 0-5-1 1-1 1-1-1-8 2-4-2 5 5 5 3 0-3 0 1 6 1 2-1 0 3 1-1 2-1 2-2 2 3 3 0 5-1 2-2 0 5 1-2 2-2 0 2 1 1 4 1 1-5 0 3 2-3 1 2 2-1 0 1 1-1 3 4 1-1 7-1 1 0 0 1 4 1 3-4 1-1 0 0 1 1 2 3 3-1 1 2 2-1 3-2 2 2 8-4 5 2 0 0 5 2 2 1 1-2 5 1 0-3 2 4 1-3 0 1 2 2 1-2 2-3 1 3 2 2 3-4 1 4 1 2-5 3-6-2-2-2-6 2-10-1-3 0-4-1-3 5-6-4-5 4-3-3-1-1-1 0-3 2-7 1 0-2-2 1-2 2-5-3-3-1-5 1-2 1-3-3-1 4-7-1-4 1-9-3-2 1-2 3-3-2-8 6 25-3 3 1 3 1 0-2 3 2 3-1 2 2 1-1 1 1 10-3 1 2 4 3 2-2 1 2 4-1 2-1 17 1 2 1 2-5 3 1 4 4 0-5 3 3 5 2 16-5 4 3 1 2 0 1-2 3-13-2-2-1-9 0-3 0-1 3-16-1-14-2-10 1-9 5 39 4 28-4" marker-start="url(#s)" marker-mid="url(#s)" marker-end="url(#s)"/>
<path d="M215 735l2-3 2 3 0 2 1 0 1-3 0 3 1-2 1 1 3-2 0 1 2 2 1 0 0 0 3-5 4 5 1-5 46 7-30 3-2-2-7 1-6-1 0 3-1-5-1 3-1-2-4 0-1 2-2 2-1-2-5-3 0 4-1-1-2-2-1 5 1 1 1 1 0-2 2 2 1-2 1 5 2-3 0 3 0-2 3 0 1 1 1-2 2 2 1-2 1 2 2-1 3 1 1-1 3-3 5 0 1 1 6-1 1 5 1-5 10 3 17 2 16 0 9 0-18 5-3 0-3 1-13-4-3 4 0-4-4 1-5-2-6 5 0-1-3-2-2 0-4-1-3-1-5 3-1 2 0-1-2-1 0 2-4 0-1 0-1 0 0 0 0-4-3 2-8 2 0 2 2 0 8 0 1 3 3-3 0 1 1-1 2 0 1 3 1-4 2 1 0 1 2 3 1-1 1-4 0 5 1 0 0 0 0-2 2 1 1-1 1-1 1-1 1 1 4 0 3-1 0 2 0 1 2-1 1-1 1 2 4 0 1-3 2 0 10 3 1-2 12 1 7-2 3 3 9 1 22-3 6 6-2 3-20-3-31-1-18 1-6-1-4 3-3-3-1 1-8-2 0 2-1 1-4-1-1 1-4 1-4-2 0 0-2 1 0 0 0-3-4 3-2-2-4-1 1 8 4 2 3-2 10 1 5 0 2 0 17 0 8 0 8 0 8 2 1-3 9 2 24-3 6 4 11-5 0 5-41 2-11 2-4-2-5 2-14-1-1 0-6 3-1-2-1 0-5-2-4-1-1 0-2 5-2-5-1 3-1-2-3-1-5 5 7 5 4-4 20 5 4-1 1-1 0-3 8 4 1-4 12 1 10 3 16-4 1 1 18 1 6 3 5 2-21 3-23-2 0 0-13 0-2 1-19 2-36-4-6 1 38 7 22-3 4 1 12 2 3 2 1-5 31 0 5 0 3 1-2 6-25 2-3 0-17-3-4 0-43 3-17-2 13 5 69 2 7 3 8-3 2-1 12 10-64 0-4-5-35 4 6 2 95 5 1-2 5-2-86 7" marker-start="url(#u)" marker-mid="url(#u)" marker-end="url(#u)"/>
<path d="M423 730l-41 7 11 0 14-2 18 0 5-1 47 2 25 1 0 0 4-1 2-3 1 9-1 1 0-2 0 0-1-2 0 3-1-3 0 4-2-3-3-1 0 4 0-3-2 3-2-3-6-2-6 1-2 4-5-4-19 2 0 0-17 1-17 1-9 0 0-1-9-1-29 7 10-3 1 1 20 1 9-3 7 2 20 3 7 0 3-5 0 1 3 2 10 0 2-1 2 2 5-4 2 4 1 0 2 0 0 0 13-3 2 2 8-1 0 1 1 0 1-2 0 4 1-2 0-2 0-1 1 1-1 8 0-2 0-1 0 4 0-3-1 2 0-1-1-2-2 1 0 3 0-4-2 4-12-1-2-3-6 4-6-4-1 3-1-3-1 1 0 1-21 2 0 1-1-4-11 0-5 4-1 0-1-2-3 0-4-1-8 1-3-1-3-2-7 4-4-3-11 4-7 1 1 0 3 3 3 2 6-3 0 2 2 1 12 0 3-3 2 2 10 1 4-1 4-1 2 1 5-4 7 1 3 2 5-1 4-2 8 5 4 0 2-1 10-2 2 0 9 2 3-3 4-1 1 4 1-2 1 3 0-4 0 4 0-2 1 2 3-5 0 0-1 6 0 1-2-1 0 5-1-3-3-2-2 1-4 0-1 1 0 3-5-4-2 2-4-3-28 5-28 0-3-2-4 1-2-3-2 2-2 0-1-2-3 0-15 3-1-3-2 1-10-1 9 8 13 0 17 1 14-4 1 2 5 0 4 1 12 1 6 0 13-3 4 0 2-1 1 1 3 0 1-1 3 4 0 1 6-3 1-1 2 4 3-3 2-1 2 0 0 0 1 1 1 3 1-3 0 5-1 1-1 2 0-4 0 0-2 1 0 3 0-4 0 5-1-5-5 5-9-2-8 2-7-3-15 1-22-2-2 1-12 3-7 0-16-3-2 2-1 0-7-1 28 3 11 3 1 1 46-4 13 0 15 4 1-2 1 0 2 0 0 8-1-3-22 2-26 2-38-1-14 1-2-5-2 9 12 0 22-2 12 3 42-2 3 1 10-2 1 1 2-2 0 2 0 9-4 0-37-3-18-2-29 5-15-3 59 8 20-3 23-1-9 8-25 0-40 0 40 4-19 9 36 8 19-1-50 9" marker-start="url(#t)" marker-mid="url(#t)" marker-end="url(#t)"/>
<path d="M397 737l7-1 42 1 44 0 9-4 1 2 3-1 1 1 1 0 2 0 2 5-1 1 0 2-1-4 0 3-1 0-1-4-1 2 0-2-1 2-16-2-2 0-28 0-1 4-4 0-3-4 0 4-1 0-6-1-15 0-8 2-11-2-9 2-15-2-2 7 6-1 1-2 3-1 3 0 1 3 6 0 15 2 0-3 26 0 19 0 5-1 4 0 1 2 3-2 3 1 3 0 2-2 2 4 4-3 2 0 5 3 1 1 4-4 1 1 1 0 1 3 1-3 0-2 1 1 1 4 1-1 0-4 1 3 0 4-2 3 0 0 0 0-2 0-1-3 0 1-2 2-1-2-2 0-2 2-14-3-16 4-1-3 0 3-1-5-4 2-17-1-7 4-12-5-7 2-8 2-2 1-11-4-2 4-4-5-1 0-6 0-6 4 0 4 4-1 7 3 1 1 0-1 3-4 1 0 10 5 1-2 2-3 6 2 5 2 0 1 6-5 4 5 0-3 4-1 12 0 3 3 3-3 4 3 2-4 10 4 14 0 4-1 3-2 1-1 0 2 8 3 3 0 5-5 1 0 0 4 2-4 0 2 0 0 2 8-1-2 0 2 0-3-1 1-1 3-1-5 0 2-3-2-2 0-1 3 0 1-1-2 0 0-3-2-8 0-5 3-4-2-2-1-11 0 0 4-1-2-6-2-2 3-4 0-18-2 0 2-14 2-5-4-2-1-9 2-6 0-5 3-2-2-10-2 4 8 9-2 9 4 1 0 24-5 11 2 5-2 2 1 2 0 0 1 4-1 1 4 2-2 2-1 4-1 3 1 5 2 24-1 2-2 8 3 1-2 0 3 1-1 1-1 1 0 0-1 2 2 0 7-1-2 0-1 0-2 0 1-2 0-1 3-1-4-7 3-1 2-28-3-9 0-22-2-5 0-14 3-13 0-8 1-16-3 12 7 6 0 9-2 7 2 1-2 1 2 3 0 5 1 8-3 38 0 18 1 6-1 12 0 0 5 0-1 0-4 2 1 0 7-11 0-13-1-42 0-12-1-26 5-5-4-17 8 78-3 39 8-78 1-33-2 11 5 56 1 28 3 11-3 13 2-5 5-21-1-5 1-67 2-29 3 77 4 50 1-8 7 7-1" marker-start="url(#t)" marker-mid="url(#t)" marker-end="url(#t)"/>
<path d="M405 737l30-4 14 3 38-2 17 3 4 3 0 0 0 2-2-2-2-2-1 4-2-4-8 2 0 1-1-3-1 1-3-1-1 1-3 0-2-1-3 2-23 1-2-2-2 3-2 1-1-4-10 0-1 3-1-1 0 2-3-3-11 1-2 1-1-1-2 2-6-1-6-4-6 1-14 3-4 0 0 0-3-2 3 9 0-3 5-2 5 1 1 4 2-2 8 2 0 0 4-4 5 2 6 0 4 2 4-5 11 2 6-2 10 4 12-1 12-1 0 0 1 0 6 0 2 2 7 0 5 0 3 0 4-4 0 5 0-4 2 0 0 1 2 6-1 1 0 2 0-5-1 3 0 2-5 0 0-2-1 1-1-1-11-1 0-2-1 3-1-2 0 4-35-4-2 4-7-1-7-1-11 0-4 2-3-4-4 3-5-2-1 3-2-4-5 3-2 1-3-3-4 0-4 2-12 2 10 4 4-3 1 4 2-5 1 2 2-2 1 0 5 2 2 3 7-3 2-2 4 1 5 0 1 1 2 0 4-2 12 4 5-3 5 2 3-2 3 3 4 1 9-4 12 4 5-3 0-1 3-1 2 4 2 0 7 1 5-1 0-3 0 1 1 0 0 2 1-3 0 1 0 3 1-2 0 5-1-1-1 3-4 1-3-1-2-3-6 4-2-5-2 5-1-2-1-2-6 2 0-2 0 0-3 3-5-4-6 5-2-5 0 3-7 2 0-5-13 1 0 3-16 0-3 0-1-4-2 0 0 1-3 0-3 2-7 2 0-5-5 1-20-1-2 4 12 7 0-2 0-2 6 2 22-3 1 5 34-5 8 5 1 0 19-3 3 2 6-3 1 4 2-2 10-1 0 2 1-4 0 3 1 3-1 1-3 1 0-2-1 2-1 2-1 0-1-2-17 3-3-1-7 1-52-2-3-2-3-1-2 3-19-1-8 8 11-2 10 0 2 3 5-4 9 3 36-2 35-2 9 4 1 0 0 1 1-5 1 2 0-2 1 3 0-3 0 1 0 8-4-2 0 3-11-3-38-1-16 0-10 0-1 1-30 1-4 2-13-4 3 8 50 1 1 1 50-1 18 2 1-2 4 5-128-1 48 9 74 0-19 3-43 0-42 2 110 14-101-5 72 16" marker-start="url(#t)" marker-mid="url(#t)" marker-end="url(#t)"/>
<path d="M388 734l2-2 26 4 6 0 60 1 19-1 1-2 6-2 1 3 0 4-3 2 0-3-1 0-3 3-1 2-4-3-9 2 0 1-16-2-3 1-11 0-3-2-16-1-1-1-2 2-5-2-1 4-1 0-13 1-1-3-4-2-7 3-5 0-5-2-6 0-2 3 8 5 0-1 3 2 1 1 1-4 11 2 9 2 3-4 1 2 1-2 4 2 12-3 2 5 13-1 18-3 0 0 4 2 1 1 6-4 5 2 6 1 4-1 2-1 4 4 1-1 1-4 0 2 1 3 0-2 1-3-1 7 0 4-1-1-1-3-1-1 0 4-1 0 0-2-1 3 0 0-1 0-9-2-5 0-5-1-3 2 0-1-14-2-1 2-1 2-2 0-1-2-6 0-10-2-2 3-6-3-8 1-1 3-6-5-2 5-4-5-4 0-20 1-6 0-2 9 0-4 5 5 1-3 1 2 1-1 2 2 3-1 1 1 10-4 6 1 8 1 5-2 6 0 6 1 2-1 5 3 10-1 1-2 18 3 0 0 2-2 5 2 12-1 0 0 3 2 0 0 2-1 2-2 1 2 1-2 3-2 0 0 0 1 0 0 0 4 1-1 1-3-2 9-1 1 0-5 0 0-1 2-1 0-4-2-13 2-4 0-5 3-8-2-12 2-6-4-4-1-10 3-2 1-13 0 0 0-18-2-5-1-7 0-9 1-4 0 3 7 24-2 2-1 1 3 2 0 8 0 1-2 24 2 5 0 3-2 2 3 1-1 23-1 7 3 4 0 1-3 5 2 2-4 1 4 1-4 6 4 3 0 0 0-2 5-6-3 0 0-3 4-7-3-8 3 0-1-40 2-3-3-31-2-1 0-9 4-1-2-1-2 0 4 0-2-1 3-1-3 11 7 1 1 17-1 0 1 3-2 1 1 37-3 11 3 13 1 0 1 11-4 2 2 3 1 1-1 1-2 0 0 1 4 1-5 0 2-1 6-2 1-1-1-4 1-1-1 0 2-1 0-15-3-42-1-11 3-30 1-7 1-3-1-10-2 41 4 25 3 16-2 34-1 10 3-4 3-21 1-4 2-12 1-30-2-23-1-24 9 50 1 40-5 27 5-74 1-52 0 19 11 26-5 28 9 45 7-97 2" marker-start="url(#t)" marker-mid="url(#t)" marker-end="url(#t)"/>
<path d="M481 737l12-4 16 1-13 6-44 3 48 5 2-2 3 2 2-3 1 3 0 7-3 0-2-3-1 1-9 0-20-2-9 2-9-1-25 1-7-2-1 2-21 2-9 2 2 1 6-1 7 1 7 3 2-5 8 2 1-2 0 0 8 1 6 4 7-3 3 1 1-3 0 5 14-1 1-2 0-1 0 4 4-2 4-1 1-1 0 0 1 2 2 2 2-1 3-3 4 3 11-1 0 0 4-1 0 3 2-5 1 4 1 0 1 1 0-1 0-4 0 4 1-1 0-2 0-1 0 5 1 0 0 0 0-2 1 0 0 3-1 2 0-2 0 1 0 0 0 4-1-4 0 0 0 4 0-3-1 1 0-3 0 4-1 0 0-3-1 1 0-1-1 1-4 0 0-2 0 2-2 0 0 0 0 0-2 2-1-2 0-2-2 2 0 2-1-4-1 1 0 4-2-1-3-4-7 0-6 5-3 0-4 0 0-1-1-2-2 0 0 0-8 2-9-2-4 0 0 0-2-1-1 1 0-1-4 0-1 4-3-5-4 0-1 3-6-1-4 3 0-1-1 0-4-1 0-2-1 3 0 0-1-2-4-1-2 3-4 1 0-2-3 1-1 0 0-1-2 0-8 2-2-1-6 7 2-5 5 0 1 3 4-2 1 1 4 0 1-2 3 1 0 3 3 0 4-2 2 0 2 0 1 1 0 2 0-5 2 4 0 1 1 0 1-1 6 1 4-3 0-2 0 2 4 1 1-3 6 0 3 1 1 4 0-1 1-4 3 1 2 3 2 0 1-1 2 1 0 0 0-4 1 2 1 2 1 1 2-2 3-2 3 1 4 2 7-2 2-1 0 0 1 2 0 0 0 1 1 0 1-2 3-2 1 2 8-2 0 3 1-3 1 2 0-2 2 4 2-1 1-2 0 4 1-2 0-3 0 1 0 0 2 3 1 1 1-4 1 2 0-1 0-1 0 1 2-2 1 2 1 1 0-1 0 0 0 2 0-1 1-1 0 1 0-2 0 2 1-2 0 2 0-2 0 1 0-1 0-1 1 0 0 0 0 2 0 0 0 3 0 0 0 0 0-2 0 0 1-3 0 0 0 5-1 2 0 3 0-4 0 4-1-4 0 0 0 1 0 0 0 1-2 1 0-2-2 4 0 0 0-4-2 4 0-5-1 0-1 2 0-1-1 1-1 0 0 2-1-3-1 0 0 1-1 0-3 1 0 1-1-2-1 2-2-3-1 2-2 1-2 0-1-2-1-1-1 4 0-1 0-3-2-1-1 5-2-5-8 2-2-1 0 2-1-3-1 4-2-4 0 0 0 2-1 0-3 1-3 0-4 1 0 0 0-4-2 4-2 0-1 1-8 0 0-1-1-3 0 3-2-3-2 2-2-3-1 4-1-3-2 1-7-2 0 1-2 0 0 1 0 3-3-2-4 0-1-2-2 4-1-5 0 1-1-1-2 4-1-1-2 2 0-1 0-3 0 2-3-1-4-2-3 3 0 0-1-3-1 4-4-1-2-3-4 0 1 10 1-4 1 5 1-4 2 1 2-1 0 0 1 3 1-1 0-3 2 4 1 1 2-5 0 0 1 3 0 0 0 2 3-4 0 3 1-4 1 1 1 3 0-4 0 2 1 1 6 0 1-3 0 3 1-2 1 3 1-2 4 3 0 0 2-3 0-1 0 4 1-5 0 3 4-3 1 5 1-5 0 5 2-4 7 1 0 2 3 1 6-4 2 3 0-2 2 1 1-1 1 0 5 3 0-1 2 0 2-4 2 3 3-2 6 2 11 0 1 0 2-2 2 0 1 0 1-1 1 5 0 0 0-2 3-1 1 1 1-1 1 3 1-3 1 0 1 3 1 0 6-1 0-4 1 3 0-1 1 0 0-2 1 4 0 1 1-4 0-1 0 2 0-1 1-1 0 2 0-2 1 5 0-1 0-4 0 2 0 3 1-5-1 6 0 3 0-2 0 3 0-3-1 4 0-5 0 3 0 1 0-4 0 0-1 1 0 2 0-1-1-2 0 3-1-2-1-1-1 2-1 0 0 3 0-1-1-3 0 4 0 0-2-3-3-1-1 2 0-2-3 1-1 1-5-1-1 1-1 1-4-1-2 2-5-4-3 2-5 0 0 1-2-2 0 3-2-4-2-1-5 0 0 3-2-2-2 0-3 3-1-1-1 2-1-1-2 0-1 0-1 0-1-2-1 2-4-1 0-2-1 4-1-4-4 2 0 2-1-1-2-2-1 1-1-1-2 0-3 1 0 0-1-1-1 0-1 1-3 2-1-2 0 2-1-2 0 0 0 2-2-4-3 4 0-3-1 1 0-3-1 5 0 0-4-2-2-2-1 4-1 0-1-2-3 1 0 1 0 0-2-4-1 1-2 1-7 7 2 0 1-3 3 0 0 2 2 1 2-3 1 3 1-2 0-2 3 2 4 0 2-1 3 4 0-1 0-4 1 2 1-2 1 0 5 0 1 5 0-4 1 0 0 2 1 1 6 1 0-4 1 2 0-2 2 2 0-3 3 2 0-2 1 4 2-4 0 1 1 2 1-1 2-2 1 3 1-2 2-1 0 2 1 0 3 2 1-2 6 2 3-1 2-2 4 0 3 0 0 3 3 0 1-4 3 4 1-2 4 2 0-3 1 2 3-2 5 1 1-1 3 3 6 0 1-3 0-1 8 1 0-1 0 5 2-3 1 1 1 2 1-2 1-1 0-1 0 4 0-5 0 3 1 1 0-4 0 2 0 1 0 2 1-1 0-2 1 1 0 1 0 1 0-5 0 7-1 4-1-1 0-1 0-1-3-1 0 4 0-4-3 4-1-4-1 3-4-1-6-2 0 1-2 2-1-4-3 4 0-3-20 0-2 0 0 3-7-1 0-2-2-1-8 1-3 2-3-3-2 3-1-1-1 1 0-1-4-1-2-1-1 0-1 3-1-1-3-1-1 4-3-5-2 3-5-1 0 0-2 2 0 0 0-3-1 1-2 3 0-2 0 0-1-3 0 2-1 0 0 3-2-5-1 1 0 3-2-4-1 2-1-1 0 1-1 2-1 1-2-3 0 3-3 0 0-2 0-1 0 0-3 3 0-2-3-2-2 0 0 2-1 1-2 6 0 1 4 0 1-3 1-2 2 2 0 0 2 1 0 2 1 0 1-4 0 2 1-3 1 1 1 3 2 0 1 0 0-1 2-1 1-1 6 0 6-1 1 2 1 3 1-2 0 0 1-2 0 4 0-5 1 2 1-2 1 2 0 3 0-5 6 2 16 1 1-3 4 1 4 3 4 0 2 0 4 0 1-3 17 4 3 0 2-5 5 1 3-1 1 3 1 1 2 0 2 1 4 0 1-1 1-4 1 5 1-5 1 3 1-1 0-1 2 6 0 0 0 4-2-1-2-3-1 1-6 1-1 0-11 1-1-4-9 2-2-2 0 4-2-2-10 0-3 3-3-1-2-4-12 5-4-1-23-2-6-2 0 0-2 1-1-1 0 2-1-2-2 0-4 1-1 0-5-1-4 1 0 0-1 3-3 1-2-4-1 0-1 1-1-1-1 6 3 3 2 0 4-3 1-1 0 0 1 2 0-1 22 2 1-2 1 2 2 0 2-3 1 0 9 0 0 1 10 0 18-1 5 5 8-4 3 1 7 0 0-2 13 5 6-2 0-3 12 0-8 8-8 3-29-3-13 3-32-4-2 0-13-1-5 2-16-1-7 0 24 5 39 1-31 11 53 3" marker-start="url(#s)" marker-mid="url(#s)" marker-end="url(#s)"/>
<path d="M433 741l-26 4 54 1 32 3 4-4 0 3 9 1 3 0-1 1 0 4-7-2-2 0-9 3-1-1-17-1-1 0-14 1-7-1-12 1-4-1-5 0-1-2-2 3-5 0-1 1-4-3-30 3-7 5 8-4 16 2 6 3 1-1 13 0 1 0 1 0 0 1 1-3 13-2 1 1 7 1 1 3 2-2 7-1 2 0 3-2 2 3 0 1 1-3 4 4 1 0 3-4 7 2 2 2 3-1 2 1 1-2 1 1 1-2 0 3 1-2 0-3 0 2 1 1 4 2 1-4 2 0 2 1 0 2 2-2 1 1 0-2 1 1 0 3 0-4 2-1 0 3 0 1 1 1 0 0 0-4 0 2 1 2 0 3 0 3 0-3 0 3-1-2 0-1 0-2 0 5 0-2-1 0 0 1 0 0-1 1 0-2 0 2 0-2-1 1 0-4 0 0-1 0-1 3 0 1 0-4-1 1 0 4-1-3 0 2 0 1-3-1-1-3 0 3 0-1-4 1-1-1 0 2-1-4-4 4-3-5-2 5 0-2-4 0-2-2 0 3-3-3-1 2 0-3 0 0 0 0-5 5-4-1-2 0 0 1-1-1 0 0-1 1 0-1-2-3-1 0-2 3 0 0-1-4-1 4-1-3-2 4-1-1-3-2-2 2 0 1-4-1 0-4-2 0-2 3-1 0-3 2-7-2-2-3-4 2-1 0-1-2-1 4-1-1-1-1 0-2-2 0-1 5-1-4-1 4-3-3-3-2-1 0-5 3-1 2 0-5-2 3-4-3-3 3-2 2-5 0-1 4 0 0 5 1 0 0 3-3 0-1 1 2 1 0 0-1 1 3 4-4 1 3 1 2 3-3 3 0 0-1 4-1 1 0 1 0 1 4 1 1 1-1 1-1 0 1 1-4 1 1 1 0 3 4 0 0 1-5 1 1 1 0 2 4 4-1 0 0 1-3 0 2 5-2 11 0 1 3 5-1 3 1 2-4 0 3 3-3 0 0 4 4 7-4 10 2 1-2 0 1 1 1 0 0 0-2 5 3 0 0 2 1 3-1 1 2 1-1 0 1 0-1 1-1 2 1 4-4 2 2 3 0 0 2 0-4 0 3 0 0 1-2 0 0 0 1 0 0 0 0 1-2 0 3 0 0 0-2 0 3 1-4 0 4 0-3 0 0 1 2 0-3 0 4 0-4 0 5 1-4 0 10 0-4-1 2 0 2 0-2 0 0 0 0-1 0 0 2 0-1 0 1-1-1 0-4-1 1-1 2-1-1 0 0-1-2-2 2 0 0-1 0 0 3-1-2 0 2-1-5-3 0-3 3 0 0-2 2 0-5-2 5-1-2 0 0-2-3-1 0-2 1-2 3-2-1-5-3-2 0-1 1-2 2-2 2-6-2-2-3 0 0-4 3-1 2-2-4-2 4-4-1-1-3-4 1-1-1 0 2-2 0-1 1 0-1-2 0-3 1-2-2-1-1 0 0-9 3-1-1-3-2-1 4-4-2-2-2-1 3-5-1-2 2 0 0-1-3 0 3-1-4 0 3 0-4-3 2-2 1 0 1-3 0-1-4-1 2-2 1-1-2-2 3-2-3-3 10 1-3 1 3 2-1 1-1 0-1 2 3 1-1 0 0 1 1 0-1 3-4 2 5 0-4 0-1 1 3 2-2 0 2 3-1 0 3 6 0 1-4 2 3 1-1 0 2 0-3 0-2 3 2 2 2 4-1 2-3 1 5 3 0 1-3 0 1 3-1 0 2 2-4 1 3 1 2 0-1 6 1 5-1 8 1 0-5 2 3 1 2 2-4 6 3 1-3 3 4 3-1 2-4 1 0 2 2 1-2 0 0 0 0 2 4 0 0 1 0 1-1 3 1 2-2 2 2 5-1 0 2 0-4 1 2 3-3 0 3 1 2 1-4 0 1 1 0 3 3 1-4 1 0 1 3 2 1 0-5 0 3 1-1 1 1 0 1 0 0 1-2 0 3 0-1 1-4 0 2 0 3 0-5 0 0 0 5 1-2 0 2-1 2 0-1 0 0 0 5-1-2 0-3-1 0 0 4-1-4 0 2 0 0 0 0-1 0 0-1-1 1-1 2 0 1-1-2-2 1-2-4-2 0-1 3 0 0-1-3-2 4 0-4-2 0-1 3-5 0 0-2 0 0-1 3 0-3-1 2-5 0-1 2-2-4-2 0-2-1 0 5 0-1-4 0-1 0-3 1-1-4-9 0-1 0 0 0 0 3-1-4-1 3-1-3-5 1-2 1-2 3 0-5-1 5-2-1-4 1-3-3-1 1 0-1-1 3 0-4-1 1-1-1-1 3-1-3-1 0-1 4 0-3 0-1-4 3-1-3-1-1-1 5-2 0-2-2-5-1-1 2-1 0-1 1 0 0 0-3 0 1-1-3-2 0-2 4-1-3-1-1 0 5 0-2 0-3-3 2-2 3-3-2 0-2 0 2-5 0 0-1-4 0-1 0 2 5 0 1 0-1 1 1 0 0 3 1 0 0 3 2 0-1 0-3 3 2 5-2 0 0 0 4 1-5 4 4 0 1 0-5 3 5 0-3 0-1 1 2 1-3 1 5 1-3 0 2 1-1 1-1 1 3 3 0 1-2 3 2 5-2 0-1 6 1 0-2 1 1 1 0 0 0 1-1 3 0 2 3 1 1 2-5 0 5 1 0 1-4 2 3 1-3 1-1 0 3 1-2 0-1 1 2 3 3 1-4 1-1 2 2 8-2 3 3 3-2 3 2 0-1 2 2 2 1 2-5 1 3 7-3 0 0 1 1 1 4 0-3 0-2 2 2 4 1 3-3 6 4 1-1 2-2 0 3 1 0 1-1 1-1 0-2 0 2 1-2 1 5 0-5-1 9 0 0-1-2-3 2-3-1 0 3 0 0-1 0 0-5-1 0-1 1-2 3-7-4-2 1-3-1-2 3-3 1-4 1-1-4-3 3-2 1-12-1-1-2-4-1-12 4-6-3-9 0-1 0-10-2 0 4-5-1 0-1-3 2 0 1-2-4 0 0-1 3 0 1 0-1-1-3-5-1-1 4-2-2-2 0-6 0-1-2-3 0-2 2-1 0-1 1 2 5 0 2 1-3 4 1 1 0 1 1 2 1 2-4 2 0 2 5 2-2 4-1 2 2 0-3 3 1 1 2 2-1 5 0 0 1 5 0 2-1 0 0 1 1 2 0 1-3 1 3 3-4 1 3 2 2 3-4 1-1 0 2 4 2 2-2 1 0 1 0 3-2 6 1 0 4 1-5 2 1 4 1 3-2 5 1 2 4 2-2 7-1 1 3 9-3 1 3 3-1 6-4 3 1 1 0 1 0 3 2 1-1 0 0 1 0-1 6-2 1-1 2 0-5-2 3 0 2-4-2 0-2-12-1-8 0-9 0-11 1-3 2-5 2-3-4-10-1-3 5-2-5-1 4-3 0-3 1 0 0-2-3 0-2-1 3-1-1-4-2-2 1-2 2-4-3-1 3 0-1-1 0-4-2-2 4-1-2-2 2-2 0-3-1-1-3-5 0-1 0 0 3-3-1-2 3-1-4-1 1 0-1 0 7 1 1 2 1 3-3 0 0 7 3 1-3 2 0 8 3 21-4 24 1 4 0 2 1 6 0 5-1 5-1 9 4 6-3 1 0 22 9-1-4-33 1-24 3-3-3-12 0-11 3-5-4-18 3-21 6 5-1 2 0 6 3 6 0 23-3-35 9-10 3 40-2" marker-start="url(#s)" marker-mid="url(#s)" marker-end="url(#s)"/>
<path d="M499 731l8 12-39 0-34 3 33 2 35-2 5 2 0-1 1 1 1 5-1 0-1-1-1 2-1-3-2-1-1 2-2-1-3 1-11 2-9 1-1-3-2 2-15 0-31 0-15 0-19-3-6 4-4-5 1 6 4 0 3 1 8 3 4-1 1 2 2-1 3 1 2 0 2-3 5 3 0-4 1 1 1 3 0-5 2 5 5-3 1-1 3 2 19 2 4 0 6-4 6 2 1 1 3-2 3-1 3 3 1-4 5 5 4-1 3-3 1-1 3 2 2-2 2 2 2 3 0-2 0 0 2 0 0 1 2 1 1-4 0 3 0-1 1 2 1-1 0 1 0 0 0-5 1 4 0-3 1 1 0 4 0 3-1 1 0 0-1-4 0 5 0-1 0 0-1-3 0 1 0 1 0-1 0 0 0 3-2-2-1-3-3 4-1 0-2-1 0-2 0 3-2-2-3 1-1-1-1-1 0 3-2-1-2-1 0-1-2 1-3-2 0 3-1-1 0 2-2 0 0-1-2 0-3-3-9 3 0-3 0 3-6 2-4-4-1 2 0-2-10 3-5-4-1 3-4 2-2-1-1-4-11 3 0-1 0 0-3 2 0-1-1 2-1-1-2-1-2-2-1 0 0-1-3 4 0 0-1-3 0 2-6 2 0-1-2-2 0-1-1 3-3-2-1-2-6 2-3-1-6-1 4 6 3 0 0 1 3 0 0 3 2-3 3-1 2 3 0 0 1-2 3-1 2 3 4-3 1 2 1 1 1-1 0 1 1 0 0-1 1 1 9-2 0 3 1-1 1 1 1-2 6 1 0 1 1-2 7 3 3-5 3 1 4 2 1-1 2 0 0 3 2-1 7-1 0-1 2-2 3 5 3-1 0 1 0-1 2-2 0 3 1-2 0 2 1-1 3 1 2 0 2-1 1 1 0-1 5-2 1 0 2-1 2 4 1-5 2 5 1-3 0 3 1-3 2-1 2 4 0-4 1 4 0-3 1 0 0 0 1 1 3 2 0-5 1 2 1-2 0 1 0 3 0 1 1-1 0 0 0 0 1 0 0-1 1-3 0 1 0 4 0-2 0-3 1 2 0-2 0 3 0-2 1 2 0 3 0 0 0 3-1-3 0 1 0 2 0 1-1-4 0 4 0-3 0-1-1 5 0-1 0 1 0-2-1-3 0 2 0 3-1-2 0-1 0 1-1-1-2 1 0-3-2 3-7-2-2 1 0-2-1 3-4-3-3 3 0 2 0-3-6 3 0-2 0 2-2-5 0 2-3 1-4-1-5-2 0 4-1-3-2 4-7-3 0 1-3-2-1 1 0-1-2 2-1 2-1-3-2 1-3-2 0 3-2-1-1-2 0 1-1 3-1-5-1 1-1 3-1-2-1 2-2-3-2 2-1-3-1 4 0-2-4-1-5-1 0 2-2 3-1 0-2-2-1 1-2-4-1 2-1 2 0-4-1 4-1-2-1 3 0-1-3-4-2 4 0 0-1-4-2 5 0-4-3 0 0 3-2-2 0 1 0 1-1 0 0 1 0-2-2-2-4 3 0-1-1 1-3 1-1-5 1 10 4 0 1-1 2-2 2 3 1-3 2 3 2-1 2 1 1-1 1 2 4-4 1 1 1 3 1 0 2-5 1 4 0 0 0 0 1-4 3 5 2-2 0 2 1-2 1-3 1 5 1-3 3 2 1 1 1-1 4-2 5 3 0-3 1-2 0 3 1 2 1-4 1 3 2 1 1 0 3 0 6-3 6 3 0-4 5 3 2 1 1-4 0 0 2 1 2 2 2-4 1 1 1 3 2-2 2 2 0-1 1-3 3 0 6 3 0-3 2 1 1 1 1-2 1 4 1 0 4 1 2-5 5 1 1 2 0-1 1 2 0-3 2 1 0 1 0-1 0 0 1 0 0 2 1-1 1-1 0-1 0 0 0-1 0 0 0 0 0 4 0-1 1 2 1 0 0 0 0 0 1 3-2-2 0 5 0-5 0 0 0 5-1-4 0 1-1 2 0-1-1-1 0 3 0-3-3 1 0-1-1 0 0 3-1-3 0 3-1 0-1-2-2-3 0 0-8 2-6 2-1-4-2 3 0-1-1 1-1-2-3 4 0-3-3-2-1 4-3-3-6 4-3-4-1-1-1 4 0-3-2-1-2 0-3 4 0 0-3 0-1 0-2-2-2-2-1 1-1 1-2-2-2 1-5-1-1 5-1-4-2 1-2-2-1 1-1 2 0-1-1-2-2 2-1-1-1 4-1 0 0 0-2-5 0 3-3-2-1 2-2 0-1-2 0-1-2 1-2 0-2 2-1-1-1 3-1-3 0 3-1-5 0 3-2 1 0-4-1 3 0-1 0 2-1 0 0 1-1-4 0 3-3-1-2-3 0 0-2 1-6 4-1-4 1 8 0 2 2-3 1 1 0 0 5-3 1 3 0-2 0 4 0-3 1-2 2 4 3-3 2-1 2 3 1 1 0-3 2 2 2-2 1-1 0 0 2 2 2-2 0 5 3-4 1 3 1-1 0 1 1 0 1-3 4-1 0 3 1 1 0 0 1-4 3 5 1-1 2-1 0-3 3 1 1 3 3-2 0 1 2-3 1 2 0-1 7 0 0-1 2 4 1-4 2 4 1-1 6 2 0-3 1 1 2 1 1-4 7 1 1 3 0-3 3 1 1 1 0-2 2 0 1 2 1 1 2-4 0 0 0 4 2-4 3 0 0 2 3 0 2 2 0-1 3-3 0 4 4-2 3-1 0 2 1 1 2-1 0-1 3 0 0 1 1-2 1-1 1 1 0 1 1 3 1-3 0 3 0-2 1 2-1 5 0-4 0 5 0-5-1 0 0 2-1 2 0-1-1-1-2 1 0 1-2-3-2 4-1-4-3 0 0 3-3-1-16 0-3 2-8-3-1 2-1-2-1 1-4 1-4 0-1-1-4 1 0-4-1 5 0-1-2-1-3-1-8-2 0 3-1 2-4-1-2-4-1 1 0 3-1 0-5-3-7 4-2-5-3 4-5-2-1-1-1 3-4-4-2 2-1-2-1 1-2 4 0-4-1 1-2 0-2 2 0-1-1 0-1 2 0-4-1-1-1 3-2 0-3 1 2 7 1-4 1 4 0-3 2 1 1-2 6 0 2 1 0-1 1 2 1-2 2-1 1 1 1 0 1 3 1 0 0-1 0-1 2 3 1-2 6 0 3-1 3-2 1 4 8-2 2-1 2 2 2-1 0-2 2 4 1-1 2-3 1 2 2 0 0 2 0-4 3 4 2-1 0-3 10 2 0 0 2 3 4 0 0 0 10-5 2 0 4 1 1 1 5 2 2-1 9-2 1 1 1 3 2-2 1-3 0 4 2-1 6-2 1-1 1 9-6 1-1-1-6-1-2-1-6-1-11 3-9-3 0 4-7-4-2 0-1 3-3-2-6 0-4-1-3 4 0-3-6 1-9 0-3 0-1-1-1 1-3 0-2 2-2-4-5 2-1-2-1 4-1 1 0-1 0-1-3 2-1-2-8 1 0 1-8-2-2-3-1 1-1-1-1 3-2-3 0 3 0-3-1 2 3 7 5-3 6 5 2-5 1 0 3 0 1 1 4 1 1 1 1 1 8-4 24 5 12-2 27 1 11-4 4 2 7-2 5 1 1-1 2 0 2 0-7 9-6 1 0-1-12 1-19-2-2-2-32 2-4 2-11-4-15 5-12-5 0 4-3 2 16 1 7 1 1 0-30 5 15 8" marker-start="url(#s)" marker-mid="url(#s)" marker-end="url(#s)"/>
<path d="M472 741l-89 5 77 3 15-5 13 3 3 1 11 0 2 1 2 0 2-5 1 9-1 1-1 1-2-1-1 0 0-2-2 3 0-5-2 1-5 1 0 2-6 1-7-1-1 1-2-1-31-1-11-2-8 4-14-3-1-2-13 0-2 4 0-2-20 8 14-4 5 5 11-1 1 0 10-3 3 4 4-4 27 3 1-2 8 3 0-3 5-2 4 2 10 2 7 0 2-2 3 1 6-2 1 1 2 2 1-2 0 2 0-1 0-1 1 3 0-1 1-1 0 2 1-1 1-4 0 5 1-2 0 3 0 3-1 1 0-1 0-1 0-1 0 1 0 0 0 1-1 1 0-3-1 0 0 0 0 2 0-2-1 4-1 0-1-4-1 3-3 0-4-3-2 4-2-1 0 1 0 0-2-3-1 1-1-3 0 3 0-3-1 2-1-2 0 2-1-2-1 4 0-1-1 1-1-1-7-1-1 1-1 0-4 1-4 0 0-4-2 3 0-3-6 3-2 0-3-1-2-2-11 3 0 2-5-5-6 3-3 1-1 0-2-3-10 1 0 0-4 3 0-2-2 0-3-1-1 2-2-4 0 0-1 0 0 5-3 0-2-1-4-1-1 2-3-3 0 3-1-4 0-1 0 1-1 2-3 2-1-2 6 6 1-3 2 0 2 2 0 2 3-4 0 4 1-4 0 0 1 0 0 1 2 1 1-2 1 1 1 1 1 3 1-1 0-1 1-1 0 1 1-1 1 3 3-4 2 1 0 1 5-2 2 3 1-2 1 2 8-3 0 3 2 1 3-3 3 3 1-2 3 0 0-1 3 1 1-2 2-1 3 5 1-1 0 0 0 1 5 0 3-1 3 0 1-4 0 5 2 0 1-2 1-3 4 2 4-1 3 3 2-3 0 1 2 0 2-2 2 4 0-4 2 4 2 1 0-5 1 2 0 3 4-5 1 3 2 0 0-3 2 2 0 2 4-1 0 0 1-1 1-2 1 1 0 4 0-3 1 3 0-4 0 2 0 1 0-1 1-1 0 2 0-1 0 1 0-2 1-2 0 5 0-3 0-2 0 4 0 0 0-1 0 0 0-3 0 2 0 3 1 6-1-4 0 0 0 1 0 3-2 0 0-2 0-3 0 4 0-1-1-1 0 2-1-4-1 4 0-3-1 2-1-3 0 5-1-3 0 3-1-3-4-2 0 2-1-1-4 4-2-5 0 0-2 4-2-2-3 2-1-2-2-2-7 1-6 0-5 4 0-1-4-1-1 0-1-3 0 0-5 5-3-2-2 2-1-5-1 5-2-1-1-2 0 1-4-3 0 4 0 0-1-2-1 2 0-1 0-2-1 0-1 0-10 3 0-3-1 2-2-3-1 3-1 1-1-3 0 4-2-4 0 4-2-3 0 3-2-4 0-1-1 2-1 2-3 1-2-5-3 5 0-5-3 0-3 3-2-1-1 2 0 0-2-1-1-1 0 2-2 0-3-4 0 3-1 2-5 4 1 1 0-4 2 1 1 2 1 2 2-1 1-3 0 0 1 2 2 1 0-1 3-3 1 2 1 2 2-1 0-1 1 2 2-4 0 3 1-3 2 4 1 0 0 0 5-3 1 0 4 0 0-1 1 4 2-4 1 1 0 3 1-1 0 2 0-4 1 2 0 2 2-1 0 1 2 0 1-5 1 2 1-2 0 1 2 2 1 2 0-3 1-1 10-1 0 4 2 0 1 0 0-1 5 2 1-3 1 3 1-3 3 3 2-4 0 3 0-4 6 3 1 2 1-4 5 1 0 0 5-1 3-1 0 0 1 4 1-1 3 0 6-1 0-1 4 1 0 0 3 3 1-1 1-3 1 0 4-1 1 0 0 2 2 0 0 3 1-4 0 3 2-4 0 4 0-3 1 0 0-1 0 4 0-1 1 1 0-4 0 4 0 4 0 2 0-2 0 0 0-1-1 0-1 2 0 2-1-1 0-3-3 3 0-2-1 0 0 3-1-3-1-1 0 3 0 1-2 0-4-2-3-3-2 1-1 2-3-1-1 3-1-1-4-4-2 2-2 0-3 2-1 0-1-4-1 5-1-4-3-1-1 2 0-2-1 0-1 2-1-2-2 2 0 3-1-4-1 4-2-3-2 3-1-3-3 2 0-4-1 3-7 0-1-1 0 1-3 1-1 1 0-1-1-2-1-1-1-1-2 5-3 0-2-1 0 1-1-4-1 4-1-2-1 0-4 2-1-5-6 0-2 0 0 4 0-2 0 2-1-2 0 1 0 1 0-1-5-3-3 1 0 0-1 1-1-1 0 3 0 0 0-3-1 1 0 1-1-1-1-2 0 4-2 0-1-3-1 3-1-1 0 1-2 1-2-4-1 4 0-3-2 3-1 0-1-4-3 4 0 0-2-4 1 7 2 2 3 0 0 0 0 0 1 1 0-4 1 1 2 2 2-4 0 5 1-2 0 2 1 0 3 0 0-2 0 0 0 1 2 1 0-1 2-2 0-2 4 3 5 1 0-1 2-1 0-2 0 0 1 3 2-1 0 0 2 3 4-4 2 2 1 2 0-2 0-1 1-1 1-1 1 1 2 0 5 0 7 3 1 1 0-2 4 2 1-2 5-1 2-1 1 2 3-2 1-1 0 0 5 5 0-4 1 2 3 1 2 1 1-5 2 0 4 0 3 5 3-5 1 3 1-2 4 0 2 4 0-4 1 4 0-3 2-2 1 3 2 1 2-1 1-3 1 4 1 0 1 1 0 0 2-2 0-3 0 0 1 2 0 0 1 2 0-3 2 1 0-2 3 3 1-2 0 10 0 0-1 0 0-3 0 0-1 3 0-1 0-1 0 1-1-1-2-3 0 0-3 0 0 4 0-4-1 1-1 4-2-3 0 2-4-2-4 0-1 0-6 2-2-4-2 3 0-3-5 1-3 0-7 0-11-1-3 2-2-2 0 3 0 0-5-1 0 2-2 1-2-1 0-2-1 0-2-1-1 4-3-5-6 0 0 5-2-1-1 0 0-2-5-1 0 3 0 1 0-4-2-1-2 1-2-1-1 5-1-3-2-2-1 0-1 1 0-1-1 1-2-1-2 2-1-1-5 4-1-5-2 2-1 3-4-5-1 0-2 1-2 3-1-1-2 1 3 3 3 1 2-2 2 1 0 2 1 0 0 2 2-2 4-3 1 4 1 0 3 0 0-3 1 2 1-3 0 0 3 5 1-5 1 5 6-1 5-4 9 2 5 1 3-2 2 4 2-5 0 4 1-4 3 2 3 0 0 1 5-2 3 4 1-2 4 1 0 1 4-1 3 1 7-5 4 3 7 1 7-2 2-1 0 1 4 1 2 0 3 1 1 1 0-3 1-2 0 4 3-1 0 0 2 0 0-3-2 10 0-1-2-1 0 0 0 0 0 0-1 3-1-5-3 1-2 4-1-5 0 3-15-3-3 2-5 1 0 0-20-1-6 2-7 0-4 0-3-3-4 4-4 0-6-5 0 0-3 3-1-3-3 1-1-1 0 0-5 3-3-1 0-1-2-1 0 4-2 0-2-2-1 3-6-2 0 2-2-3-1 0-3-1-1 4-1-3-2 3 0-2-3-3 5 7 0 3 2-1 1 0 5-2 1-1 1 1 5 1 10 3 2-3 6 1 4 2 13-1 11-3 17 2 12-2 2 1 4-2 19 5 4-3 2-1 1 4-68 2-21 4-20-2-8-2 0-1-6 2 7 5 2 4 2-3 4 0 4-2 74 4" marker-start="url(#s)" marker-mid="url(#s)" marker-end="url(#s)"/>
<path d="M508 743l-5 0-113 0 9 1 18 1 21 3 11 1 47-1 5-4 0 5 8 0 0 4-1 1 0-3-1 2-1-3-1 4 0-4-2 2-1-1-1 2 0-1 0-2-9 3-1 2-1 0-3-3-1 2-4-1 0 1-4 1-6-1-1-4-2 5-6-1 0 1-44-5-7 5-11-2-5-1-9 0-10 9 6 0 2-2 7 2 11-1 7-1 5-3 1 2 0-1 1-1 5 4 8-2 7 2 1 1 7-2 8-1 3-1 4 3 2 1 3-2 4 2 11 0 2 0 5-2 1 2 4 0 3 0 0-4 8-1 1 1 0-1 0 4 0-3 1 1 0-2 0 5 1-5 0 4 2 1 1-3 0 3 0 5 0-3-1 3 0-4 0 3 0 1-1-4 0 4-1 1 0 0 0-5-1 4-2-3 0 0-2-1 0 5 0 0-2-2-1 0-2 2 0-4 0 4-1-2 0-2 0 1 0 0-2 2-3-2-4 2-1-3-3 4-2-3-5 1-3-3-4 3-2 2-4 0-2-3-1 2 0-2 0 2-4 1-9-2 0 0 0-1-2 0 0 3-1-5-2 1-1 4-1-3-2 3-6-3-2 3 0-4-1 3 0 0-2-1-6-1 0-1-3 0 0-1-3 0 0 1-1 4 0-3 0 0-3 1 0 1-2-1-1 1-1-2-8 1-5 1-3 1-1-2 0-2-3 4-1 0 1 2 0 3 0-1 2-3 3 3 0 0 0 2 4-3 0-1 1 1 4 1 3-2 0 4 2 0 2-2 2-3 3 5 1-5 2 0 6 3 0 1 0-4 3 5 0-2 4-1 0-2 8 1 0 4 1-2 1 2 0-5 4 4 4 1 3 0 2-5 2 2 6-2 3 1 4-1 1 5 0-1 1-4 0 2 1-1 1 1 4 0 6-2 1 1 3 4 4-3 1 3 0-2 1 0 3 2 1-4 1 4 0-5 0 5 1 0 1-4 1 0 1 0 0 1 2 2 0-2 2 1 0-2 0 4 0-1 1-1 1-3 1 4 0-2 0-2 0 5 0-5 0 0 0 3 0-2 0 1 1 0 1 3 0-4 0-1 0 4 0-1 0-3 0 2 0 3 0-4 0 2 1 6 0-2 0-1 0 5 0 0-1-2 0-2 0 1 0-1 0 1 0 3 0-3 0 2 0-4 0 1 0 1-1-2-1 1-1 4 0 0 0-5 0 2-1 3 0-4-3 4 0-2 0-3 0 0-1 2-3 2-3-3-1 3-2-2 0 2-1-2-3 1-1-3-4 4-1-1-2 2-1-5 0 2-1-1-4 0-2-1-1 2-1 2 0-4-4 1 0-1-2 4-2-1 0 1-1-3-1 3-3-3 0 3-4-1-5-2-2-1-5 2 0-1-4 1-1-2-1 5 0-2-4 0-1 1-3-1-1 0-6-3-4 4-1-2-7-1 0-1-2 1-2 2-2 1-3 0-2 1 0-2-1 1-4 1-2-3 0-1-3 2-1 2-2-3-5 3-2 6 4-2 1-3 0 5 3-2 2-1 2 1 2-3 2 3 2-3 0 3 2-1 0 3 1-5 0 1 0 4 1-5 2 3 2 0 0-2 3 2 1 0 0 2 1-2 1 2 0-1 2-2 4 2 3-3 1-1 2 4 3-3 1 1 2 3 3 0 3-4 4 0 1-1 1 4 3-1 0-1 0-1 2-1 1 5 2-2 1-3 0 1 2 2 3 1 1 0 1 1 0-4 1 3 4-4 1 4 1 0 1-4 0 1 11-1 6 1 3 2 2 0 2-1 0-2 3 0 0 5 1-3 3 0 0 3 0 0 0-3 2 2 2 1 0-1 2-3 2 2 0-2 0 1 1 1 0-3 0 2 1 2 0-2 1 3 0-4 1 3 0 0 0-1 1 2 0-2 0-1 0 3 1-2 0-1 0-1 1 1 0-1 0-1 0 3 0 0 0 1 0-2 0 5 0 4 0 0-1-5 0 1 0 3 0-2 0-1-1 1 0 3 0-3-1-2 0 1-1 0-1-1 0 4-2-1 0-3-1 5 0-3-1 1-1 2 0 0 0-3-1 3 0-2-1 1-1-4-1 5 0-3-2 1-2-2 0 4 0-1-4-3-1-1-1 1-1 1 0 0-1-2-5 4-5 1-5-4-1 1 0 2-1-4-6 0 0 3-2-2-1 3 0-3-4 2-1-2-3 3-2 0-1-1 0-2-3-1 0 3-1-1-1 2 0-3-3 4-2-4-1-1-3 0-4 0 0 3-2 2-1-2-2-3 0 5-4-3-1 3 0-3-1 1-1 1-1-1-2-1-4 3 0 0 0-1-1 0-2-3 0 1 0 2-1 1-1-2-1-1 0-1 0-1-3 4-1 0-2 1-1-3 0 1-7-2-1 2 0-3-4 5 0-1-2 0-1-3 0-1 0 4-2-4 0 9 2-3 2 5 0 0 7-5 0 2 1-1 0-1 0 5 2-1 3 1 0-1 1-2 1 3 2-5 1 1 1 0 1-1 0 1 1 3 1-4 2 4 0-2 1-2 0 3 2 2 3-3 1 3 1-1 1 1 2-1 2-1 5-2 1 0 1 0 5-1 2 4 1-2 4-2 0 3 1-1 4 0 1 0 1-2 4 1 8 3 0-2 5-1 6 0 0 4 0-1 5-4 1 2 1-2 0 3 2-3 3 2 2 0 3 1 4-1 1 2 1-1 6 1 0 1 5-2 0 0 2 1 1-2 1 0 1-2 0 0 0 4 0-2 0 3 0-4 1 0 1 2-1 7 0-3-2 1-1-2 0 0 0 4-1-1 0 0 0-1-2-2-1 4-2-2-2 1 0 0-2-2 0 0-9 0-3 2-3 1-2 1-3-4-4 3-1 1-2-1-2 0 0-1-8-2-4 3-11 1-1-3-2 0-4-2-1 3-3-1-3-1 0 1-1-2-5 3-2 2-5-3-2-2-1 4 0-2 0 0-3 2 0-1 0-3-1 0-4 2-1 3-3-3 0 1-2-2-1-1 0 0 0 0 0 2-1-2-1 0-2 4-2-4 0 3-1-2 0 2-4 2-1-1 0-3-1 1 0 2-1-1 0-1-1 2-6 6 9 1 1-3 1 1 1 0 6-1 1 0 1-2 1 3 2-1 1-2 1 5 0-2 4-2 0 2 2 1 3-4 1 4 2-2 0 3 5-2 3-3 1 2 1-1 2-1 0 3 2-2 9-1 2 0 2 5 1 0 1-5 0 4 1-3 1-1 0 2 5 2 1 0 1-1 7-3 2 0 2 0 10 0 1 1 6 0 0 1 2-2 5 5 11 0 1-4 1 3 4 1 2 0 0-4 0 1 2 4-1 4-1 0-1 0-1-4-2 4-4-1 0-1-2 0-1 3-1-5-2 2-15-2-11 3-18-2-1-1-2 2-1 3-7-1-2 0 0-4-10 1-14 0-1 3 0-2-2 3-3-2-2 1-2-3 0 4-1-3-5 2-3-4-3 4-1-2-1-1 0 2-3 2 0-2-3 0-2 1-3-3 1 6 3 2 0 0 5 2 3-4 2 4 10-1 13-2 1 2 3-4 1 3 3-3 7 5 12-4 8-1 17 1 4 1 6-2 13 0 3 2 12 1 0 1 3-1 1-3 1 5 0-2-4 7-6-2-45-2-6 1-1-1-8 3-34-3-10 2-1 3-6-5-11 0 4 8 6-2 93 4 6-4 12 2-68 6-30 1-22-2" marker-start="url(#s)" marker-mid="url(#s)" marker-end="url(#s)"/>
<path d="M416 736l8-3 12 1 45 3 1 0 6 0 8 0 1-4 5 3 0 0 1-4 1 4 3-1 1 1 0 7-2-5-2 5-2-1 0-4-9 5-11-5-3 5-13-3-1 2-11 0-5 1-14-3-14 2-3 0-3-1-1-3-9 3-25-3-1 3-2 0 0 8 9 0 1-1 5-4 2 3 7-2 4 2 6-3 3 0 8 2 4 2 6 0 0-3 3-1 19 4 10-4 15 2 1-2 4 1 0 4 7-5 6 0 4 5 3-4 0-1 1 2 1 0 0 2 0 0 1-1 0 1 2 0-2 5-1 2 0 0 0-5-1 4-1-4 0 0 0 3-2-3-1 1 0 3-1-3-4 3-3-2-6 2 0 1-14 0-27-3-1-1-12 1-12 0-6-2-1 2-9 3-2-5-3 4-3-3-10 2-8-2 3 10 3-4 5 0 1 1 7 2 2-3 3 2 2 2 11-1 8-3 2 1 2-1 11 4 3-3 0-2 1 0 2 5 8 0 6-1 3-2 10 1 0-3 8 3 0 0 0-1 8 0 10-2 3 4 1-2 1 1 0 0 2-2 0 0 0 4 1-1 0-4 2 1 0 3 0 0 1-1-1 8 0-3-3 0-2 1-4-3 0 0-2 5-18-3-4-2-4 5-6-2-5-2-1 4-6 0-2-5-11 2-14 2-8 1-4-4-3 0-1 0-10 1-3 1-15-1-3 4 3 1 3 3 2 0 10-2 7-1 33 0 6 3 12 0 3 0 3 0 2-1 4-1 16 3 0-5 3 2 12 2 3-2 2-2 0 0 1 5 2-2 0 0 1 2 1-5 1 0-2 11 0-2-1-3 0 3-3-3-4 0-4 5 0-5-2 4-6-2-8 1-7-2-6 3-14 1-2 0-4-3-53-2-7 5-5 2 22-1 5 0 8 1 12 4 31-1 16-4 13 4 3-3 14 2 3 6-1 2-1-3-1 2-7 0-2-1-3 2-7-4-8 1-3 3-1-2-34 2-16-1-13 1-33-1-1 7 9 0 3-4 28 2 11-2 69 0 1 0 1 4 9-4-1 5-2 0-1 1 0 1-3 1-25 1-8 0-15-3-31 3 67 7 18-3-15 7-102 1 39 7 2 8 50-1-5 7 21 9" marker-start="url(#u)" marker-mid="url(#u)" marker-end="url(#u)"/>
<path d="M589 730l-2-1-23 8 24 0 8-4 3 4 1-1 28 1 5-2 3-2 3-1 21 6-2 5-3 0-3-4-2-1 0 5-2-1-2-4-5 4-7-2 0 2-1-4-3 5-3 0-1-1-2-4-24 4-2-1-1-1-1 0-9 1-4-2 0 0-12-1-4 5-12-1-8-1-4-3 1 11 5 0 0-3 13-2 1 2 9 0 3-1 1 1 1 1 4-3 3 2 1-1 3 3 3 0 10 1 3-4 1-1 3 5 5-2 6-3 3 0 6 2 0 0 2-2 3 1 1 0 4 1 4-2 4 3 2 0 0-3 1 3 8 0 7 7-14-3-1 2-2 1-6-2-2-2-7 5-9-2-1-1-1 0-5 3-7-2-1-1-11 0-13 1-11 0-1 0-10-1-5 6 0 0 9 0 2 0 1 3 1-2 2 0 2-1 0 1 0-3 3 4 3-4 5 2 3 2 4-3 5 0 1 3 9-3 3 2 2 2 5-2 1 1 12-3 7 2 6-1 3 3 0 0 7 0 3-4 1 1 2 0 1 0 1-2 0 4 2 0 5-4 0 3-6 3-1 0-2 4-2 1-2-4-5 2-2-2-6 1-1 1 0-1-2 1-1 2-6-2-1-1-14 0-1 3-1-4-1 1-4 1-7-3-21 5-1 0-4 0-6-1-9 1-17 0-1-1 10 7 9-1 18-1 2-3 2 2 3 2 0-3 6 1 8 3 23 0 6-4 3 4 7-2 3-1 2-1 4 4 5-4 0 0 0 3 2-2 1 2 1-3 3 1 4-2 2 0-12 11-2 0-1-5 0 4-2-1-2-3-4 1-5 1-3 2-1-2-4 0-2 3-2-1-1-2-1 0-9 1-8 1-17-3-3-1-6 5-26-5 4 6 1 0 14 0 28 0 4 3 1 1 3-4 2 5 9-4 7 1 1 3 1-2 9-2 1-1 1 1 15 2 12 6-3 0-21 1-23-3 0 2-1-3-25 2-28 0-9 2-3-1 0-2-1-1 17 8 2 2 26-2 1 2 11-2 12 0 6-1 3 3 20-4 1 2 13 5-7 2-18 2-8 0-4-3-37 1-16-2-7 2 39 3 14 1 37 7-37 2-2 4 40 5-48 1 29 5 25 2-11 8" marker-start="url(#t)" marker-mid="url(#t)" marker-end="url(#t)"/>
<path d="M576 737l4-3 4 1 6 0 2-1 2-1 3 0 11-1 0 5 6 0 17-5 5 2 19 7-2-3-3 5-2-5-6 1-5-1 0 5-2-4-1 1-13 1 0-3 0 5-3 0-14-2-2-2-2-1-3 1-10 0-2 4-10-1-3-2-2 0-3 0-3-1-3 3-2-3-5 3 7 6 7-4 3 2 12 1 1 1 1 0 1-4 1 5 13-4 3 3 1 1 0 0 3-5 1 1 6 4 1-5 5 1 3 1 2-2 2 4 13 0 1-3 1-1 3 5 2-2 4 1 1 0 3 1 10-1-7 7-2-5-2 0-10 5-4-5-7 2-1 0-10-1-1 0-2 0-1 3-1-3 0 0-2 3-13 1-3-1-23-2-1 1-10 1-4 0-2-1-8 1-3 4 3 0 11 3 2-3 1-1 8 3 8 1 0-1 0-4 7 5 3-3 4-1 1 1 2-2 0 2 4 1 1 1 7-1 3 2 2-1 3 1 0-4 2 3 8-4 2 2 0 3 2-2 2 2 7-5 6 1 2 3 1-1 0-2 17 3-7 6-5 1-5-1-7-1 0-3 0 4-1 0-3 0-13-2-2-1-1 0-5 2-10-2 0-1-3 3-3-3-1 3 0 0-2 2-5-3-15-2-2 2-2 2-4-3-7-1-2 4-2-2-6-2-4 8 1 0 4 3 1-2 2-1 6 2 8-3 3-1 4 5 13-3 6 1 1-1 5 2 10-1 3-2 3 0 4 3 5-1 2 1 0-1 13-2 1-1 0 5 5-5 1 0 3 4 4-1 9-1 3 3-8 5-3-4-2 3-4-2-8 2-3 1-3-1-6-1-4-2-1 5-4-5-1 5-2 0-4-4-2 2-10-2-4-1-1 3-2 2-6 0-1-3-1 3-3 0-25-3-1 1-19 3 54 0 17 5 4-1 8-3 4-1 9 2 2 2 3 1 8-4 1 1 3 1 13 8-13-1-1-3-1 2-3-1-1 0-3-2-2 3 0-2-2 1-1 1-9-2-8 1-12-2-1 5-14-1-9-1-27-2-10 3 26 2 12 1 7 3 15-1 1 1 24 0 2-3 4 3 3-3 7-1 7 11-27-4-6 0-27 0-23 2-18 19 15 1 5 0 34 4" marker-start="url(#t)" marker-mid="url(#t)" marker-end="url(#t)"/>
<path d="M564 736l11-3 27 2 16 2 9 0 8 0 2-1 7-1 24-3-5 10-12 1-1-4-3-1-5 3-2 2-10-3-1 0-8 3 0-1-2-1-5 2 0 0-16-5-2 0-5 4-6-2-2 0-4 2-1 0-7 1-1-2-21 1 12 7 13 0 5-3 7 1 3 2 5-2 3-1 2 1 6 2 2-1 1-3 1 4 5-5 7 5 5-3 4-1 5 4 3 0 1-2 6-3 1 2 1 2 1 0 2-2 2-1 0 1 1 3 0-4 0 2 1-2 0 3 1 1 6-4 0-1 2 3 5-1 1-2-8 10-4-3-3 0-2 1-1-2-1 2-2 3-1-4 0 4-1-1-4-4 0 5-4-3-1 2 0-3-6-1 0 5-1-2-1 2-4-4-2 2-1-2 0 3-4-2-4-1-1-1 0 1-1-1-2 3-4-1-5-1-4 2-24-1-3 1-2-1-1 2-1 0-1-2-3 3 0-4-1 0-5 0-9 4 5 3 5 0 0 2 1-1 4 2 4-1 3-2 2 3 7-1 3-1 1-2 2 1 1-1 0 3 2-4 3 2 2 0 1-1 1 4 10-2 5-1 1 3 1-2 3 0 8-2 6 2 1-2 1-1 0 1 1 1 2-1 3 1 4-2 4 4 4-2 3-2 0 3 2 2 4-2 2-2 7 5-5 0-8 2-16-2-3 1-5 4-4 0-4-2-3-3-2 4-3-2-3 1-3-1-2-1 0 3-27-3-21 1-1 3-1-5-7 5 23 4 1-1 1 0 19 0 9 2 2-1 5-3 15 0 5 5 4-1 7 1 3-3 3-2 4 1 0 1 8 0 5 3 7-5-10 11-1-4-10 0-5 4-6-3-1 3-1-3-19-2-15 3-8 2-3-1-4-3-3 3-1-3-6-1-25 1 7 10 6-2 21-2 0 2 20-3 10 0 31 2 1-1 4-1 3 3 12-1-6 6-9 1-2-2-3 2-24 2-13-3-38 2-12 1 10 5 31-4 0 0 19 2 3-1 4 3 13-4 9 4 1 1 15-2-15 3-53 1-9 2-38-3 20 11 5-3 11-2 15 1 22 4 2-1 0-3 5 2 39-3 0 6-27 4-4 0 3 5 20 5-18 3-4-1 13 13" marker-start="url(#t)" marker-mid="url(#t)" marker-end="url(#t)"/>
<path d="M547 735l5 0 5-2 22 3 4 0 4-1 9 0 5-1 20 3 5-1 8-3 14 4 1 0 5-2 7 3-1 3-2-1-12 1-1 0 0 0-9-2-1 3-1-4-2 2-1 0-1-2-5 5-5-4-5-1-13 0-12 3-2 0-17 0-10-1-3 2-13-2 19 8 5 0 3-4 2 4 0 1 4-1 13-4 3 0 7 1 3 2 5 0 4 0 2-1 4 1 2 0 5-2 3 1 1 1 7-3 0 1 2 3 2-2 7 2 3-1 2-1 4-1 0 3 5-1 8 6-7-2-7 3-2 0-4-3-3 0-6-1 0 0-3 2-3 3-8-2-3-2-1 1-9-2-1 1 0 2 0 1-2-3-5 0-12-1-2 3-10 0-1-2-9-1-1 3-1 2 0-4-3 3-1 0 0-3-1-1 0 2 0 0-2-2-5 2-3-1-7-1-2 0 15 11 14-5 4 0 2 3 11 1 1 1 3-1 0 1 1-1 3 0 0-4 2 0 5 3 4 0 8 0 3 2 7 0 0-3 12-1 3 0 2 1 1-2 1 3 2-2 3 1 3 2 1 1 1-3 11 1 1 5-3-1-2 2-1-3-5 0-3 0-8 1 0 0-4 2-7-3-5 0-1 3-1 1-2-3-1-1-2 0 0 2-6 1-2-1-12 3-12-2-2-1-5-2-6 5-5-4-2 1-2-1-5 0-3 2-6-3-2 3-12-1 16 9 11-5 3 0 1 5 6-5 13 4 2-4 12 5 0-3 1-1 6 3 5 0 3-2 4-2 2 1 9 0 1 0 3 1 2 1 0-3 7 5 6-5 3 1 1-1 5 11-3 0-3 0-11-2-3-1-13-1-8 1-2 2-3 0-4 1-3-2-17-1-4 0-38 3-3-1-4 0 3 6 36-4 9 5 10-1 3-1 15 1 11 1 0-3 4 3 2-2 4 2 5-1 5-1 1 0 4 1 10 3-11 3-5-1-5-3-5 0-10 0-1 5-1-4-7 0-12 3-3 1-23-1-28-3-9 1-1 3 2 2 52 4 1-3 2-2 5 1 7 0 12 4 2 0 35-4-15 8-5 2-5-3-7-1-41 0-22 4-7-2 72 3 2 1-53 14 18-3-35 6 62 6 18 2" marker-start="url(#t)" marker-mid="url(#t)" marker-end="url(#t)"/>
<path d="M581 733l52-1 22 2-13 8-13 1-75 5 9-2 18-1 22 4 8-5 8 0 16 1 14 0 6 3 5 0 0-1 14 7-10-1-8-2-2 4-12-2-1 2 0-3-9-1 0 1-4 0-10 1-14-3-9 4-1-1-11-2-7-1-27 10 1-4 14 4 3-1 2-3 6 0 0 3 6 1 0-1 5 2 0 0 12-2 4-1 3 3 1-1 0-4 4 4 4-3 6 1 2 3 2-1 2 1 6 0 0 0 4 0 10-4 5 3 2-1 1 2 0-5 1 1 3 2 1 1 3-2 1 1 6 2 1-2 2 5-1-2-4 2-5-2 0 2-1 3-1-2-1 1 0-1 0-1-1 3 0-4-2 3 0-1-2 2-1-3-2 2-2-4-1 5-2-4-1 3 0-4 0 4 0-4-1 1 0 4-1-1-2-4-1 2 0-1 0 0 0 2-1-3-1 4-2-4-1 4 0 0-1-1-1-1 0-2 0 4-1-2-3 3-2-2 0 1-2-2-4 1-1-2-1 2 0 2-2 0-2-1-6 0-1 1-1-4 0 0-2 4-1 0-1-5-2 2-2 0-5 2-2-4-1 0-1 3-1-2-3 4-2-4-4-1-1 3-1 2-4-4-3 4-7-1-3-3-3-1-9 0 0 4-1 1 0-3-4 2 9 6 2-3 1 0 0 1 3-1 2-1 0 3 2 0 0 0 1 2 0 0 2-2 1 0 0-2 0 3 1-3 0 2 3 2 2-4 2 3 2 0 1 0 1 0 0 0 1-4 2 5 1-5 0 3 1-2 1 4 1-3 1-2 2 0 2 4 4 1 3-2 2 1 1 0 0 1 1-2 0-2 0 0 1 4 0-2 2-2 0 4 1 0 1-2 0 0 1 2 1-1 0-4 1 1 0 4 0 0 0-3 0 1 1-3 0 3 1 1 0-4 1 3 1-3 3 1 2 2 1 2 1-2 1-1 2 3 0-3 1 0 0 1 1 0 0-3 0 5 3-3 1 1 0-2 0 3 1-1 1 0 0 2 0-4 2-1 0 2 1 1 0 2 2-4 0-1 0 2 1-2 2 1 0 0 1 4 0-5 0 1 2 2 2-1 1-1 2 4 1-1 1-2 1 3 0-3 0-1 2 2 1 0 5-3 1 2 0-2 3 2 0-1 2 3 1-4 1 1 0 7 0 0-1 3-2-4-2 1-2 0 0 3-1-2-1 0-2 1-1 0-2 1-1-5-1 3-1 2-2-3 0-1 0-1 0 1-1-1-2 4 0 1-1-4 0 3 0 0 0-2-1 2 0-2-1 2-1-3 0 1-2 3-2 0 0-2 0-3-1 5-1-5 0 1-1 1-1 3-1-3-1 1-1-2 0 2-2-3-1 3-1 2 0-1 0-4-1 1 0 4-1-2-1-2 0 1-1-2 0 2-1 2 0-2 0 0 0-2 0 5-2-4-1 4 0-5-1 0 0 5-1-2 0-3 0 4 0-1-2-2-1 3-1 1 0 0-2-4-5 4 0-2-2-3 0 5-1-1-3-2-1-2-1 1-1 2 0-1-6-1-1 2 0 2-1-3-3 2-1 0-2-2-3 0-2 2 0 1 0-2-1-2-1 3-1-3-2 1-2 2 0 0-1-2-1 0-2 0 0-1-2 0-1 3 0-1-2-3-3 2-1 0-2-1-11 4 0 0 1 5 1 1 3-3 1 0 1 3 1-4 0 3 2-2 1-1 1 1 3 3 0-5 2 4 2-1 1 0 0-2 1 4 1-2 1-1 1 1 2 2 2-3 2 0 2 3 2-1 6-4 1 4 1 0 5-4 2 3 0 2 0-2 1 1 1-1 0 2 2-1 1 0 0-2 1-2 0 2 1 3 2-2 7 0 0 2 0-5 1 0 1 2 1 2 1-3 2 2 1-3 1 4 0-3 1 1 2 2 1 0 1-3 1 4 0-1 2-3 4 0 0 1 2 3 1 0 1 0 0-1 4 0 1 1 0-2 1-1 2-1 1 4 2-1 0-4 0 2 1-2 0 4 1-2 5 2 2 0 0-4 0 1 0-1 1 1 0 1 0 1 1-1 1 2 3-1 3-2 0 0 1 3 1-1 3 0 5 2 0 6-4-5-4 0 0 2-2-1-2 2-1 2-2 0-1-4-2 3-1 0 0-4-1 0 0 2-1-2 0 3-2 1 0 0-2-1-2-2 0 3-2-4-1 3 0-2 0 3 0-3-6 4-1-2-1-1 0 0 0 0-1 1-1 0-2 0 0-3-1 4-1-4-1 0-1 0-1 4-2-1-1-1-1 0-1 2-1-3-1 0-4-1 0 5-1 0-1 0 0-5-7 0-1 3 0-1-2 3-2-5-1 0-2 2 0 3-1-5 0 5 0-4-2 1-1 1 0-2-1 4-1-1-2-4-1 5 0 0-2-3 0-2-1 2-3-1-1 0 0 4 0-2-1-1-1 2-1-2-1-1-1 2-1 2 0-5-1 4 0 0-3-4-3 2-1 3-1-2-7-2-2 0 0 3-1-1-3-2-2 1-8 8 7-4 1 2 7 2 1-4 0 0 1 0 3 1 1 1 4 0 2 0 0 0 1-2 0 3 2 2 0-4 1 0 1-1 10 1 1 2 1-3 5 1 1 4 2-1 1-3 1 0 2 0 2 0 4 1 1 2 1-4 1 4 3-3 0 0 1 4 2-5 3 4 1 0 0-4 2 2 1-2 3 0 0 0 8 2 0-2 1 5 0 0 1-4 1 0 1 0 0 1 1 3 0-3 1 0 3-2 1 4 0 1 3 0 0-3 2-1 2-1 1 1 2 1 0 3 4-5 5 0 1 1 0 4 1-3 1 0 2 3 2-4 2 1 3 1-2 4-10 2-2-2-1-1-5 5-2-1-1-1-2-2-8 0-3-1 0 3-1 2-1-2-1 2-1-3 0 1 0 0 0-3-3 2-2 1 0 0-3-2-1-1-1 3-1-3-2 0-5 1 0 2-1 2-2-3-10 1-1 1-1-2-5 3-1-2-2-1-1 1-2 1-6 0 0-2-1 0 0 1-2 2-5-3-1 1 0-3-12 2-8 1-2 0-3 0-3-3 5 11 2-1 5-2 3 2 1-1 3-1 0-1 3 0 3 0 2 4 3-4 4 3 0-1 1-3 7 2 1 0 2 0 1-1 1 3 3-4 0 3 6-2 3 3 0-4 0 3 1-2 3 0 0 3 2-2 4 0 4-1 2 4 3-5 0 4 6-2 6 0 0-1 1-1 3 0 1 0 0 4 3 0 0-4 5 2 0 1 1 1 2 1 4-2 4-3 1 3 1 2 7-5 1 0 3 5-2 5-9-2 0-2-8 5-1-2-1 0 0 0-8 1-4-4-1 0-2 1-4 4-3-3-5 1-1-1 0-2-1 5-4-1-5-2 0 0-1-2-10 1-3 2-1-1-3 2 0-2-2-1-1 0-2 2-4-3-2 5-2-2-3-1-1 2-2-1-1 2-6-5-1 3-2-3-11 4 0-4-3 5-5-1 2 3 1 0 7 4 11-5 0 0 4 1 1 3 4 0 8-4 6 0 6 4 1-4 4 0 1 1 1 2 0-2 8 4 2 0 4-3 6-2 11 3 11-2 4 2 0-2 5 1 4 0 2 1 2 2 6-3-14 4-3 4-1-4-4 1-5 3 0-4-2 0-34 2-8-1-18 1-36 0 8 6 15-2 20 1 12 1 2-2 33 0 9 10" marker-start="url(#s)" marker-mid="url(#s)" marker-end="url(#s)"/>
<path d="M667 734l-25 8-16-1-81 1 8 2 27 0 4 1 31 2 25 0 4-1 6 1 19 3-6 2 0 2-1-2-11-1-1-1-6 5 0-3-8 3 0-1-3-3-1 4 0-2-2-3-3 0-6 0-8 0-6 4 0-1-6-2-2 2-8 0-6 1-1-2-21 0-2 3-7 3 8 1 0 2 1-5 3 2 5 3 0-4 3 0 1 3 9-1 5 1 5-3 3 2 3 1 0 0 1-1 8-1 1 0 4 3 5-1 2 1 5-4 0 2 3-3 2 3 1 2 1-3 1 3 0 0 1 0 1-5 1 3 1 2 0-3 3 2 1 1 1 0 1-2 1 0 1-1 1-2 0 0 0 5 1 0 0-3 0 3 2-3 1 0 5-2 1 2 1 3 9 0 0-1 2-2 0-2 2 0 2 11-2 0 0-4-1-1-2 2-1 0-2-1-4 0 0 4-2-1 0 1-5-2-1 2 0-3-1-2-2 4-3-1-1-1 0-1 0 4-2-4 0 1-3 2-2-4 0 2-2 3-2-5-5 1-1-1 0 0 0 1-7 1-7 3-1-3-2-2-3 4-2 1-2 0-1-4 0 1 0 2-3 1 0-4 0 4-4-1-2-1 0-3-5 5-3-3-1 2-6 1-3-1-3-1-2 1-2 0-2 1 0-3-9 3-2-5-3 5-2-4-6 3-2 2 1 0 2 4 9-1 2-3 0 1 1 0 0 3 0 0 6-4 1 3 3-1 5 2 0-4 1 2 1-2 1 0 0 2 2 3 1-4 4 4 0-1 1-3 0 2 2-1 3-2 2 4 0-3 3 1 1 3 0-3 0 3 0-3 0-1 2 3 1-2 1 3 1-5 1 3 1 0 2 1 2-4 0 4 4-4 0 3 0-3 0 2 0-1 1 0 0-1 0 0 0 1 1 0 1 2 1 0 0 1 0 0 1-2 2-2 1 0 2 2 0 3 2-1 1-3 0 2 0 1 1-3 0 1 1-2 0 0 1 1 0 4 1-3 4-1 1-1 1 2 0-2 5 2 1 3 1-3 2 3 0 0 0-5 1 3 2-2 1 4 0-3 3 1 1-2 0-1 0 2 0-1 0 3 1 1 1-5 0 1 2 1 1 3 0-3 2 0 1-1 2 4 1-5 1 3 1 0 0 2 1 0 1-1 2-3 2 0 2 2 0 1 1-1 1 4-3 1 0 3 0-4-5 3-1 1-2-4-1 2 0-3-1 1-2 1 0 0-3 2-2-4-1 5 0 0-1-4 0 0-1 2-1-3-2 3-1-3 0 0 0 3-2 0-1 1 0-3-1 3-2 0-1-3-2 2 0-1-1 3-1 0-1-1-1 1 0-4 0 4 0 0-1-1-2-4-3 2-1 0 0-2 0 4-2 1 0-3-3 3 0-1-3 1 0-4-2 3 0-3 0 3-1 0 0-1-2-2 0 4-5 0-2-3 0 3-1-4-2 1-1-2-5 4 0-1 0-2 0 4-2-3 0-2-3 4 0-3-2-1-1 0-1 0-1 3-1-3-1 1-1 1 0-1-1 4 0-4-2 4-1-2-2-3-1 3-1-1-2 2-2-4-1 1-1 4-1-2-3-1-3 2-2-3 0 1-3-1-4-1-3 2-3 1-1-2 1 6 2 3 1-3 12 4 2-3 2 2 1-4 1 3 2 0 1 2 1-4 0 0 2 0 1 0 1-1 1 2 0 3 0-1 2-1 1-2 2 0 4 0 1 0 3 4 0 0 2-1 1-2 1 0 1 3 5-4 4 4 2-4 1 1 3 0 2 1 4 0 0-1 0-2 1 5 0-2 0-1 1 0 0-2 1 2 1 3 1-1 1-3 0 3 1-2 3-1 2 2 0-3 1 2 0 1 2-1 1 0 3 2 1-1 1 0 2-3 0 5 0-2 1 0 1 2 1-1 4-1 1-1 2 2 0-2 0-2 4 3 1 2 0-2 1 0 1 2 1-4 1 3 2-4 1 5 1-3 0 0 1 0 2-2 1 2 2 5-3 4-2-4 0-1-1 5-1-3-1 1 0-2-1 0-1-1-1 0-1 4-1 1-2 0-1-3-1 1 0-2-1 0-2 2-2 2-1-5-2 5-1-3-1 3-5-2-2 2-1-1-1-2-2-1-2 2 0-3-1 3 0-3-1 2-2-2 0 5-1-4-4 0-1 1 0 1-1-2-2-1-1 2-2 2-2-4 0 0-1 2 0-1-2 1-1-1-1 4-3-3-1 2-1-4 0 0-2 2 0 2-3-3 0 3-1 1 0-4-1 1 0 1-2-2-3 2-1 1-1 1 0-4-1 0-1 4 0-3-1-1-4 0-5-1 0 1-4 1-2 3-1 0-1 0-1 0 0-3-1-2-3 5 0-3-1 2 0-2-1 1-1 0-17 1 4 2 3 2 1 0 8-1 2 2 1-2 0 2 3-3 4 3 0 1 0-2 1-2 0 3 0 1 0-3 1 0 0 2 0-3 1 1 1 2 1-1 3 2 6-4 0 4 1-3 1-1 2 3 0-3 1 1 3-1 1 2 1 3 2-3 1 0 0-1 5-1 1 0 2 5 1-5 1 1 1 3 2-1 0-1 4-1 1-1 1 5 3-2 4-2 0 2 1-1 2-2 1 2 2 2 1-1 0-3 1 3 0-3 1 4 1-1 0-2 2 0 4 2 0-1 0-2 1 3 1 0 2-3 0 4 0-2 0 3 1-1 0-4 1 2 0 0 0-1 0 2 1-2 0 0 0 2 1-1 1 1 0 2 3-3 1 2 1-3 1 2 3 0 0-3 1 4 0-2 1-1 1 2 5-3 1 0 0 0 4 2 1 5-2 1-4-2-6 0-12 0 0 2 0 1-5-3-1 2-1 0-5-1-2 4-1-3-3 3-1-3-1 2 0-4-5 4-1-4 0 3-2-2-2 1-2-1-7 4-1-1 0-1-1-1-1-1-4-1 0 3-1 0 0-2 0 0-2 2 0-2-3 0-2-1-3 4-3-3-1-1-2 3-5-2-1 0-1 3 0-4-2 3-3-1 0 3-5 0-1-4-4 1-3-1-1 0-2 4 0-3-3-1-6 5 13 5 2 0 2-2 0 0 1 2 2-3 1 0 4 3 1-3 3-1 1-1 1 4 1-2 4 2 3-2 6-2 1 5 2-5 3 0 1 2 6-1 0 2 1 0 1 0 1 0 0 1 1-1 8 2 3-1 1 0 2-1 1 2 2-5 1 0 2 3 1-1 1-2 6 1 6 0 3-1 2 4 1 0 2-2 2 1 1-3 6 5 4-3 1 0 1-2 1 0 7 11-7-2-2-3 0 0-4 1 0 4 0-1-1-1-5 1 0-3 0-1-1 0-1 2 0 1 0 0-6-3-1 0-3 1-8 3 0-1-2 2-2-1-1 0-1-4-4 4 0-1-10 0-2 1-3-1-5 1-3-1 0-2-2-1 0 1-5-1-3 4-2-4-1 5 0-1-1-2 0-1-1 4-6-4-2 0-6 3 0-3-12 1-3 3-2-3-4-1-7 8 1 1 8-1 5 1 5-2 0-2 4 2 1 2 2 0 5-4 11 3 2 0 9-3 7 1 2 3 3 1 23-2 2-2 1 1 0 1 5-2 6 0 1 0 6 2 8-3 6 2-5 4-2 4 0-1-3 1-7-2-10 3-10-4-4 2-12-3-9 3-6-2-21 1-9-2-1 1 51 5 39 2 3-1-29 7-75 4" marker-start="url(#s)" marker-mid="url(#s)" marker-end="url(#s)"/>
<path d="M655 743l-24-1-65 5 25-3 32 4 31-4 15 0-5 11-3 0-1-4-9 1-4-1-2 0-2 1-15-2-4 3 0 0-1 2-7-3-20 0-2 3-4-1-8 0-6-1-22 8 3 0 5-1 1-1 8-2 1 1 1 1 0-1 6-2 3 2 3 3 0-1 3 1 3-3 4 1 2 0 0 0 1 1 3 1 2 0 0-5 0 5 1 0 4 0 1-2 2 2 2-3 2-1 7 1 1 0 5 3 4-3 0 1 2-1 0 2 4-4 0 2 0-2 1 5 1-3 7-2 3 2 3 2 1-2 2 2 1-1 1 2 0-5 0 3 1-1 0-1 2 1 2 3 0-4 0 4 3-5 0 1 3 3 0-2 2 7-1 0 0 1-1-1-3 0-3 0 0 1-1-3-2 4 0 0-1-3 0-2 0 4 0-4-3 4-4 1 0-2-1 2 0-2-2 0 0 1 0 0 0-2-1-2-5 1-1 2 0 2-2-3 0 2-2-1 0 1-1-3 0 1-1 1 0-2-2 4-3-4-6-1-5 1-2 4-5-2-1 0-3-2-1 0-3 0-3 1-3 1-3-3-1 2-5-2-1 3-1 1-1 0-1-2-3-2 0 0-1 2 0 3-4-1-2-3-1 3 0-3-3 2-3-3-3 3-2 2-6-4-2 1-1 0-3-1-6 4 0-5-1 1-2 7 2 0 1-1 8 2 6 2 0-1 1-3 3 4 4-3 5-2 0 2 1 2 0-1 2 2 0-3 2 0 2 0 1 1 0-3 0 1 2-1 8 0 0 4 0 0 0 0 5-1 2 2 0-4 3 2 1-1 3 2 0 1 4-3 2 3 1-3 1 1 1-3 0 2 1 0 3 2 1-2 0 2 1-3 1 2 2-2 2 1 0 1 0 2 4 0 3-3 0 3 1-3 1 1 0 2 1-3 1 0 3-2 1 0 0 5 0-3 1-2 2 5 0-3 0 1 2-3 1 1 1 4 1 0 0-2 2-1 0-2 1 0 2 5 0-5 1 2 2 3 0 0 1-4 0-1 1 3 0 1 2 0 1-2 0-1 0 2 0 2 3-5 3 4 1-4 0 1 0 3 2-3 1 3 0 7-2-3-1 2-1 1-1-2-2-3 0 4-2-1 0-3-5 3 0 0-1-1-1-2 0 3-1-3-1 3-4-2-1 4-1-4 0 4-1-4 0 0 0 2 0-2 0 3 0-1-2 1 0-2-1 2-1-3 0 2 0 0-1 1 0 0 0-3 0 2-2 0-1-1-1 1 0-3-1 3-3 0-1-3 0 4-1 0-2-2 0-2-2 5 0-4 0 2-3 2 0 0-1 0 0-1-2 1 0 0 0-5-3 0-1 2 0 3-1-4-6 4-1-2 0 0 0-2-12 0-1-1-1 3-2 2-1-3 0-2-2 4 0-4-2 5 0-2-4-1-1 3 0-1-3 0-2-1-1-1-4 3-1-4 0 4-1-5-2 4-2 0 0-3 0 0-1 4-4-3 0-2 0 3-2 0 0 1-2-1-6-2-1 1-1 1-3 2 0 3 3 2 5 1 2-1 2-4 1 2 0 0 2-2 0 1 2 4 1-2 0-1 4 1 1 0 0 1 0-2 2 0 2 3 1-1 0 0 2-1 1-2 2 3 0-3 2 4 1-4 1-1 1 2 3-2 0 5 2-5 3 1 5 1 3 1 1 0 2 2 0-5 1 5 4-4 0 4 1-2 4-2 2 1 2 0 0 0 1-1 2-1 4 2 0-1 1 4 0 0 1 0 2-4 1 3 0-2 1-1 0 4 1-5 1 4 1-2 0 2 0 0 1-3 2-1 2 3 1-3 0 0 2 5 1-4 1 2 1 1 0 0 2-1 1 2 3-5 1 4 0-1 1 2 2-5 1 5 0-5 0 4 1-4 1 5 2-1 0-4 1 4 2-2 0 3 0-3 2-2 0 4 0-3 1 2 0 1 1-1 0 1 1-3 2 0 1 0 1 2 0 8-3-3-3 1-3 2-1-2-1-3-1 4-2-2 0 2-1-4-2 1 0-1 0 0-1 0 0 0 0 5-1-5-2 5-1-2 0-3-1 2 0 0 0-1-1 0-3 1 0-1 0 0 0 0-2-1-2 0-1 4 0-1-1-3 0 4-1-3-2 3-1-3-1 3-7-1-1 0-1 1-2 1-1 0-1-3 0 1-1 0 0-1-1 1-1 0-2-2 0-1-1 5-2-5-3 3-2 2-1 0-1-4-1 0 0-1-1 5-1 0 0-2 0 1 0 0-1-4-6 0-2 4-1-1-3-1 0-2-1 1-6 1-1-1-1 1-1 1-1-1-1 2-1-4-2 5 0-4-2 1 0 2 0 0 0-4 0 4 0-1-2 0 0-3-3 1 0 3 0-3-1 1-3-2-1 4-2-3-1 3 0 1-2-2-6-1-1-1-2 3 6 7 1-2 2 1 2-4 1 0 0 1 2 2 5-2 0 0 2-1 0 3 2 0 6-2 0 1 4 1 1-3 2 2 3 1 1-3 4 5 0-3 0-1 1 0 0-1 0 5 1-1 1-3 1-1 0 0 1 1 0 2 1 2 0-3 2 3 0 0 0-2 1 0 0-2 1 1 1 2 0 0 1-1 2 2 1-1 3-3 2-1 1 1 1-1 2 2 2-1 1 0 1 2 0 2 0-4 1 0 2 3 2 1 0-1 0 1 3-3 0 1 0 1 3-2 1 3 2 0 2-3 0 3 2-2 0 1 3-1 1-2 1-1 2 0 0 5 1-1 0 0 2-1 1-2 1-1 2 4 1 1 1-5 1 3 5-1 3 2 3-1 4 2 0-4 3 8-3-2-5 3-1-4 0 4-1 0-6 0-1-4-1 5-4-5-4 4-3-4 0 3 0-1-1-1-3 0-1 4-1 0-2-3 0-2-2 1 0 1-5 0-1 2-2 0-1 1-8-2-2 0-2-2-2 0 0 3-1-3-2 2-1 1-2 0-2 0 0-2-2-1 0 3-2-1-1-3-1 1-5 0-1 2-1-2-3-1-1 0-2 2-4 2 0 1-2-1-1-4-1 5 0-1-1-1 0-2-1 2-1-1-4 0-1 1-2-1-6 1-1-3-1 2 0 1-1-1-1 1 0 0-5-3 0 1-6-1 2 7 10 0 2-1 2 5 5-1 1-3 1 1 1 2 2-2 4-1 3 2 0 0 7-1 4 0 4 3 0-3 2 0 0-2 1 5 2 0 4-3 4 3 1-4 1 1 3 1 1-3 0 1 4 1 2-2 1 5 5-5 3 5 7 0 1-5 0 5 1-5 3 1 0 3 3-3 1-1 4 1 12 3 4 0 0 0 1-1 0 0 1-1 5 1-9 3-1 2-1 1-1-3-1 0-1 0-1 5-3-3 0 1-2 1-2-4-3 5-2-4-3 4-4-3-12-1-1 4 0 0-1-5-4 1 0 3-2 0-3-3-2 0-3 2-2-2-3-1-3 3-1 1-2-4-4 0-1 1-5 1-1-1-2 2-1 0 0 0-3-2-3 3 0-4 0 1-2 3-6-2-7-1-1 4-3-5-9 5-7-1 22 6 3-4 2 1 1 4 7-4 0 0 3-1 9 0 12 5 4-1 9-2 6-2 12 2 2 1 13-2 0 1 4 3 5 0 0 0 4-2 2-3 1 0-6 8-3 1-3-1-2-2-28 4-7 0-4-3-30 0-33 3 35 5 69-1 7 6" marker-start="url(#s)" marker-mid="url(#s)" marker-end="url(#s)"/>
<path d="M628 733l-30 6-26 10 30 0 17-2 20-2 11 3 10 0 12 5-2 0-5 1-5 1-1-2-9-2-2 4-4-4-5-1-4 3-15 0-11 1-47 1-9 0 4 2 1 1 3-2 10 5 6-2 0-2 5 2 3 0 4-3 3 3 0 0 2-3 2 0 7 5 3 0 1 0 1-1 2-3 1-1 2 1 1 4 5-3 1-2 2 5 1-4 2 2 2 1 1-1 8 1 0-4 3 5 2 0 1-3 0 0 0 1 2-1 0-2 1 3 3-1 2-2 1 3 1-2 3-1 1 3 0 0 2 2 1-3 2 2 1 0 1 1 3-1 6-2-1 5-1-1 0 0-2 3-1-3-1 1 0 2-1-2-5 2 0 2-1-4 0 2 0 1-1 1-1-4 0 0-2 1-1 2 0-1-1 1-5-1 0-3-2 0 0 2-1-1-1 4-1-3 0 2 0-3 0 4-1-1 0-2-2 0-1-1 0 4-1-4 0 0-1 2 0-2-1 3 0 1-2-3 0 1-3-3-1 3-1 2-2-5-2 1-1 2-1-2-2 3-1-2-1-2-3 0-1 4 0-1-3-2 0 2-2 1 0 0-3-4 0 3-1 1-2 1-2-4-7 4 0 0-2-4-5 2-1-2 0 1-2 0-2 2-3-3-2 3-4-1-2 0 0 2-2-5-1 5 0 0-2-5-3 3-4-3-1 4-15-1 2 5 7 2 2-3 2 1 1 3 3-4 0 2 3-2 0 4 1-5 1 2 2 2 3 0 3-1 2-1 3 2 5-2 2 2 1-2 0-1 1 2 0 1 1-2 0 1 3 0 1 1 2-1 2 2 1-2 5-1 3-1 0-1 2 2 2 1 7-1 1 2 0-4 1 3 0-3 1 5 2 0 2-3 2-1 2 1 0 2 1-4 0 3 2 0 0-2 0 0 0 1 1 1 0-3 0 4 1-2 1 3 1-2 0-2 1 3 1 0 0-3 1 3 3-4 3 3 0-3 0 3 1 2 0-2 1-3 1 3 0-1 1 0 1 2 0-2 2 0 0 2 1 0 2-4 0 2 2-1 0-1 1 3 0-3 1 5 1-2 0-1 1-1 0 2 0 1 2-3 0 1 2 3 1-5 2 1 0 4 2-4 0 4 2 6-4-5-2 4 0-1-1-2-3 0 0-1-1 2 0 2 0-1-1 1 0 0-2 1-1-4 0 1-2 0-1-1 0 4-3-1-2 1-1-5 0 4-1-1-1 1-1-4 0 4-2 0-1-4 0 3-2 2-1-1-1 1-1-2-1-3 0 1-1 4-1-2 0-1-1 3-4-5 0 0 0 3 0 1-4-1-1 0-2-3 0 1 0-1-1 1-1 4-1-2 0 0-3-3 0 0-1 1-4 0-1 3 0 0 0 1-2-2-2-2-3 4-3-3-2 0-1 0-1 0-2 0-3-1 0 2-2 1-1-1 0 2-2-1-1-2-3 3 0 0-1-5 0 5-1 0-1-4 0 4-5-2-1-1-2 1-1 1-2-3 0 2 0 1-6 1-14-1 0-1 0 0-2-3 4 8 3 0 2-2 0 1 2-1 3 0 3 5 3-4 1-1 1 3 2 1 3-4 0 2 2 1 1 1 1-1 1 2 3-4 2-1 2 4 0 0 3-3 3 4 0-2 3-1 2 2 1 1 1-1 0-1 1-2 1 4 2-3 0 1 4-2 2 4 2-3 0 0 2 0 0 1 0-1 1-2 1 3 0-1 2 1 0 0 1-2 2 1 1 3 2 0 1-1 0-4 5 2 1 3 1-5 2 0 1 2 0 1 0-1 4-2 3 1 1 4 1-1 1-2 2 1 0-2 0 1 0 1 1 1 0-4 3 2 0 0 2 0 2 0 1 1 1-1 0 1 0-1 2-2 0 4 0-3 4-1 1 3 0-2 1-1 0 1 3 0 1-1 4 5 1 0 0-2-4 4-1 2 0 2-1-4-2 3-1 0-2 1-4-4 0 1-2 2-1-3-1 0 0 4-1-5-1 1-1 0 0 3-1 0-1-2-2-2 0 5 0-2-2 0-4-1 0-1-2 0 0 0-1 0-1 2-1 0 0 2 0-3-1-1 0 1-3-2-1 4-2-1 0-2-1 2 0-1 0 1 0-2-1 1-1 3-1-3-4-2-4 0 0 3-1 0-1 1 0 0-2-4 0 0-1 4-1-1-1-1-2 3-2-5 0 2 0 0-1 2-1-1-1 0 0 0 0-1-2 0-1 0-4 3-2-3 0-1-2 3 0 0 0-2-1-1-1 2 0-1-5-2-2 1-3 0-1 4-1-1-3-3-2 4-1-1-1 1-4-3-2-1-1 3 0-4-2 0-4 4-2-1 0 2-1-4-4 4-1-5-1 3-3-1-1 3 3 1 0 5 4-1 2-1 3 2 3-3 9 1 1-1 0 1 1 2 1-2 2-2 2 0 0 1 2-1 3-1 0 0 3 0 4 2 0 3 1-2 0-2 2 4 0-1 1-3 2-1 0 5 0-3 1 0 0 0 3-1 0 1 3 1 1-2 1 0 1-1 0 1 1 2 3 2 0 0 1-1 1-4 4 4 0-4 0 2 5 1 1 2 0-4 1 2 1-3 0 5 1-3 1 0 1 0 0 0 1 3 5 0 2-3 3 2 0-1 0 2 3-3 0 2 1 1 2-2 1 0 3-2 1 3 1-3 0 4 3-2 1 0 0 1 1-3 0 4 1-4 5 1 0 3 1-4 0-1 1 1 3-1 0 4 1 1 1-1 2-2 4-2 2 0 0 4 1 1-1 1-3 5-4 0 0-2-3-2-1 3-2 1-1-4-2 4 0-4-1 0 0-1-3 0 0 4-2-2-1 1-1 1-1-3-1 0-1 0-1 1-3 2 0-3-1 1-1 2 0-4-1 0-2 5-1-2-2 2-1-3 0 1-2 1-2-2 0-1-1 0-2-1-1 2 0-1-2 3 0 0-2 1-2-1 0-3-2-1-1 1-2 2-2 2-1 0 0-5 0 3 0-2-7-1-3 1 0-1-3 1-3-1-4 2-5-1-4 4-1-1-1-2-6 2-1-1 0 1-1-1-4-3-4 4-4-1-3 1 0-3-1 1-1 2-10 6 5 1 7 0 0 0 0-4 9-1 1 5 2 0 0-1 1 0 3-1 4-3 0 5 1-3 3 3 0-4 4 2 4-3 0 4 1-2 4-2 6 1 2-1 1 4 5 1 0-5 4 0 3 0 2 2 0 1 0-1 1-2 1 0 1 3 1 1 2-3 1 2 3 2 5-3 1 1 2-3 1 5 0-5 3 5 0 0 4-1 5 0 2-1 1 2 0-1 10 1 2-5 0 3 1-2 0 1 1 1 2 0 4 1-3 3-1-1-3 0-8 2-1 0-2-1-3 0-2 4-3-5-6 3-1-2-1 0-2-1-2 3-13 0-2-3 0 2-4-2-11 1-5 4-8-2-5-2-3 2-6-2-2 1-1-1-6 0 0 3-1 0-5-2-2-1-4 2-2-3-1 5-1-1-1-3-6 8 10 0 5 2 1-5 3 2 2-1 1 2 8 2 7-1 2-1 13-2 1 1 8-1 4-1 16 5 0-3 14 0 3-2 1 0 1 4 6-3 1 1 16-1 2 0 4 2-14 4-1 1-4-2-7 3-36-3-9 5-2-2-3-1-4 0-13 2-6 1-15-2-2 0-5 7 50-3 34 2 9 0 14-3-6 6" marker-start="url(#s)" marker-mid="url(#s)" marker-end="url(#s)"/>
<path d="M661 741l-30 2-31-1-14-3-18 9 2-4 26 5 10-3 8 0 2 1 3 0 31 1 8 7-4-4-4 2-1 0-3 1-2 0-4 1-15-5-3 2-1 1-16 2 0-2-7 2-5-3-1 3-2-1-17-1-2-3-8 0-8 5-3-2-2 1 0 6 13-1 13-1 3 2 0 1 0-5 2 4 1-4 2 4 2 0 2-4 3 2 0 3 7-2 1 2 3-4 4 2 2 2 1-3 0 3 1-4 0 2 0-2 8 4 3-2 0 1 1-1 5-2 1 3 1-2 0 1 1 2 0-3 3 1 0 2 1 0 0-1 0-4 1 1 0 2 1 2 5-3 0 1 1 1 1-1 3 0 0-1 3-1 3 3 1-3 2 1 2 1 0 0 0-3 1 2 2 1 5-3 0 3 3-1 1-2 3 6 0 2-1 0 0 3-1-1-1-3-1 2 0 2 0-1-1-1-2 0 0 2-1-4-2 3-6 1-1-3-2 2-2-1-1 0-1-2-1 0 0 4-1 0-2-5-1 4 0 0-1 0 0-1-1 0-2 1 0 1-2-4-5 3-1-2 0 3 0-2-1 1 0-2 0 1-4-3-3 5 0-3-1 3-4-4-2 3 0 0-1-4-5 2-7 2-1-1 0-2-2 0-1 3-1 1-1-4-3-1-8 2-2 3-3-3 0-1-1 4-1-4-1 0-6-1-2 2 0 1-7 2-1-1-11 0-6-3 0 2-2 7 7 1 1-3 2 1 5-1 2-2 0 1 3 4 2-5 1 0 0 4 0-3 2-1 2 4 4 1 3 0 1-4 1-1 1 3 0 0 2 2 0-4 0 3 2-2 1 0 3 3 2-1 0-1 1-3 0 3 2 1 1-3 0 4 2-2 2-3 4 5 2 0 2-3 0 0 1 0 4-1 1 4 3-2 0 2 1 0 3-3 1-1 1 4 1-2 0 0 1 0 0 1 0-1 1-2 1 3 0 1 1-1 1-3 0 3 1-3 4 4 0-1 1-3 4 0 0 3 0-4 6 1 0 3 3 1 0 0 1-1 1-2 1 1 1 0 0 0 1-3 1 0 1 1 1 4 0-4 0 2 2-1 0-2 1 0 0 1 1 2 0 0 0-3 0 3 1-1 0 2 1-2 2-1 2 2 0 0 2 2 1-5 1 5 3 0-1 5-2-2-1 1-2 0-2-3 0 4-2-1 0-2 0 1-1 1-1-3-2 3 0-3 0 2-1-1-1-1 0 2-2 1 0-2 0 1-1 3-1 0-2-3-1-2-1 3-1 1-1-1-1-3-1 5-1-4-1 2 0 0-1-1-2 2 0-1-1-2 0 4 0-2 0 0 0 1-2-1-1 1-2 1-1-3-2 2-2-1 0-3-1 0-3 3-2 0 0-1 0 3-2 0 0-5-1 4-2-1 0-2-1 1-4-2-3 4-1-3-2 1 0 0 0-2-1 4-1-4-1 5-1 0-1-5-3 2 0 0-1 1 0 1-2-4-2 5 0-2-1-3 0 4-1-2-1-1 0 0-1-1 0 5-1-2-1 1 0-4-2 4-1 1-4-5-1 3 0-2-1-1-1 2 0-1-1 3-1-4-12 2-1 0-2 1-1 2-1-1-3-4-2 1-4-1-2 5-1-1-1-2-1 8 0-4 4 1 2 3 2-2 4 2 4-1 2-3 2 5 0-3 1 0 5 3 2-2 2-3 1 1 1 2 1-2 3 3 3 0 1-2 0-1 0-1 1 4 0-2 1 2 2 0 1 0 1-1 1 2 1 0 0 0 2-2 0 2 4-3 0 1 0-1 0-2 0 1 1-1 0 5 1 0 1-1 1-4 1 2 1 2 1 1 2-5 0 5 0-2 2 1 1-4 0 2 0-2 1 4 1-1 1-3 2 3 7 0 1 2 1-5 2 0 4 5 2-5 2 4 0 1 0-3 1-2 2 1 0-1 0 2 1 0 1-2 1 1 1 3 0-4 1 2 0 1 1-3 0 3 1 0 1-2 0-1 2 1 1 1 0 0 0 2 0-4 4 5 0-4 1 1 1-2 1 1 1 2 1 2 0-1 2-4 0 2 1 3 1-2 3-1 2-1 1 4 0-4 0 1 1-1 0 4 2-5 0 2 1-1 1 5-7 2-1 1 0-2 0-1-2 0-1 4 0 0 0-3-1 3-1 1 0-4-3-1-1 3 0-2-1 3-1-2 0 3-1-1 0 1-1-1 0-3 0 0-1 3-1-4-1 0-1 1 0 3 0-4-1 2 0 2 0 1-2 0 0-2-1 2 0-1-1 1-1 0-1-5-1 5 0 0 0-5-1 2-3 3-2-3-1-2-1 5 0-1-1-4 0 5-1-2-2-2-4-1-2 0-1 4-2 0-1-2-3-1 0-1-2 1-2 1-7 0-2-2-1 0 0 5-1-2-2 0-1-3-2 4-1-1-3-1 0-1 0-1-2 5-1 0 0-4-1 4-1-2-2-3-1 2-4 3-3 0 0-4-1 4-3-3-10 1 0 0-1 1-1 1-1-5 0 4-3 0 0-2 0 3-3-2-5 1 0-4-6 5 1 3 6 2 8 1 5-1 7 0 6-2 0-2 2 4 4 1 2-1 4-3 0 4 1-2 0-3 1 2 2 3 3-2 1 1 0-2 2 0 1 1 0 2 4-1 0-3 3 0 1 0 1 0 1 0 1 1 0 1 0 1 0-4 1 4 1-2 5-2 1 2 3 0 3 0 1-2 3 5 1-1 0-1 1-1 4-1 1-1 1 3 0 0 0-1 4 0 1 2 0 1 3-4 0-1 0 5 1-2 0 2 1 0 1 0 1-4 1 2 0 1 1-3 0 0 3 3 1 1 0-5 0 1 0 2 1 0 1 0 0 2 1-5 1 1 1 0 0 3 2-1 0 1 2 0 1-2 2 1 2-1 1-1 1 3 1 0 3-4 2 7-11 2-4-1-1 2-1 0-3 1-2 0-1-3-1 2-2-1 0-1-2 1-1 1-1 1-3-1-3 0 0-3-3 4-6-3-2-2 0 3-4-3-7 1-1 3-1-4-3 5 0 0-4-5-2 1-2 0-7 0-2 1 0 0-1-2 0 1-7 1-8 3 0-1 0 1-6-4-1 0-2 0-4-1-12 1-3 0-1 0-3 6 3-1 6 2 0-1 5 0 1 2 1-3 4 3 1-2 1 0 5 3 5-1 0-1 4-2 1 4 3-3 2 3 0-4 4 4 1-2 0-2 1 2 3-1 1 3 0-3 4-1 0 2 1-2 4 5 1-3 5-1 2 4 5-2 1 1 1-2 8-1 4 2 1 2 0-4 2 3 0-3 1 0 0 4 0-5 0 3 1 2 2-1 2-4 2 1 0 0 2 4 0-4 1 0 5 4 2-2 0 0 4-1 2 3 0-4 2 4 1-2 5-3 5 10-6-3-8 4-2 0-1-1-1-4-1 2-3 1-1 2-1-3-1 0-1 3-8-4-8-1-5 5-3-1-15 0-2 1-2-5-3 5-3-1-5-3-13 2-4-1-3 1-11-2-2 1-17 3 4 1 2 2 8-2 5 1 2 4 0-2 1-3 9 3 2-1 2 3 7-3 3 0 5 3 5 0 4 0 0-4 2-1 7 3 1-3 1 3 8-1 4 2 0 1 8-5 8 2 2 2 2-3 2-1 1 1 3 1 3 0 6-2 9 3 0 6-10-3-38 0-14 3-36 1 1 4 2-1 29 6" marker-start="url(#s)" marker-mid="url(#s)" marker-end="url(#s)"/>
<path d="M551 737l26-2 16-3 0 4 5-2 6-2 15 5 24-2 16 4-6 3-9-1-1-3-4 5-1 0-1-3-3 2-5-4-2 4-10 1-1 0-2-1-6-1-6-2-1-1 0 1-4-1-4 4-7-1-3-2-2 2 0 1-3 1-15-4-2 0-12 3-5 1-1-3 14 5 1 4 7-4 5 4 6-3 9 1 2-3 2 0 2 3 13 0 3 1 5-2 4 2 0-2 1-1 1 0 9-1 2 1 2 0 6 3 3-1 0 1 3 1 7-4 2 2 2-2 6 9 0-2-17 0-1 2 0-4-6 1-8 4-1-3-2 1-1-1 0 3-4 0-1-4-2 3-2-3-3-1-2 3-3 0-2 0-3 2-5 0-1-4-2 4-5-2-2 1-7 1-2-2 0-3-8 2-3-2-9 4-10-1-2 5 14-2 7 2 23 0 3 0 1 3 0-4 3 4 6 0 4-1 5-1 3 1 4-4 3 5 0 0 2 0 0-5 0 5 1 0 1-1 2-4 5 0 2 1 0 1 1-1 8 0 2-1 8 3 4-1 7 1 6 5-1-2-10 3-3-1-1-1-5 1-1 1-2-2-2-1-1 5-3-4-5 1-3-2-1 1-1-1 0 2-3 3-1-5 0 2-1 3-5-3 0 0-3-1 0 4-1-3-13 0-6 0-4 0-4-1-4-1-8 3-5-1-1 2-4-2-10-1-5 1-3 3 22 4 9-1 5-1 2 0 1 2 4 2 2-1 5-4 8 3 11 2 3-2 0 2 2-1 0 1 7-5 1 3 0 2 1 0 4-4 4 0 3 1 1 1 6-3 11 5 3 3-9 2-2 0-1-3-7 3-1-2-5-2-3 3-3-2-27-1-5 0 0 1-6 4-2-3-1 0-5 1-16-3-8 4-1-3-4 4-7 0 29 3 4 3 3-1 5-3 12 2 2-3 4 4 8-1 3-2 7 3 19-3 20 1-2 8-40-2-4 3 0 0-4-1-26-4-4 2-28 9 1-2 21-3 25 0 9 0 23 2 21 1 1-3-34 7-17 3-25-4-32 4 3 7 61-3 3 3 28-5 15 0-32 8-17-2-9 3-36 0-6-2 54 10 9-2 15 1-17 2 44 11-40 1 0 4 36 2" marker-start="url(#u)" marker-mid="url(#u)" marker-end="url(#u)"/>
<path d="M711 730l-1 6 11 1 5 0 6 0 4-4 3 1 1 1 1 1 3 0 3 1 1-1 9 1 2 0 22 4-5-3-6 0-5 4-1 1-7-5-3 1-1 3-4 1 0-3-3 0-2 3-3-1-3 1-2 0 0 0-1-2-1-2 0-1-5 5-3-2-1 0 0 2-2-5 0 0-1 3-1 0-3-3-8 11 9 0 2-1 2-4 4 0 3 2 0 1 6 0 6 2 0 0 2 0 0 0 1-4 3 4 2-4 1 0 6 2 1 1 0 0 2-1 1 1 3 1 0 0 3-3 7 0 1 1 5 0 3-1 3 0 2 2 1 1 16-5 5 5-11 3-5 1-2-1-6-2-2 4-2-1 0-1-2 0-2 0-7-2-1 1 0 2 0 0-5-1-1 3-3-3 0 0 0 2 0 0-2-2-8 3-2-4-4 1-2 2 0 1-1-4 0 0-2 0-1 3-1 0 0-2-1 3-1-1 0-4 0 2-3-1-1-1-4 1-6 4-4-1 4 2 12 1 0 3 1-3 1 1 10 1 1-2 4-1 1 3 1-2 0 0 1 1 2 1 1 0 0-3 5 5 3-1 3 0 0-4 1 0 1 3 1-1 4-1 6 0 2 4 10-3 1-2 5 5 5 0 11 5-8 0-1 1-8 0-5-2-2-3 0 2-1-2-1 4-1-3-1 0-8-1-3 2-3-1 0 3 0-4-6 2-2 3-1 0 0-1-3-3-1-1 0 4-2 0-2 1-3-2-10-1-8 0-1-2-1 4-1-2-15 0 10 6 15 2 5-4 4 2 9 3 2-4 2 0 3-1 1 5 0-3 3 2 1 0 1-3 2 0 4-1 1 0 11 1 2 4 2-1 3 0 3 1 1-3 27 5-27 2-11-3-2 2-1-1-1 0-2 2 0-2-4 1-2-1 0 0 0 3-2-1-6 1 0 1 0-4-1-1-4 5-2-4-2-1-1 3-3-3-2 0-4 5-10 0-1-3-15-2 3 6 36 2 13-2 8 0 6 2 5 1 3 0 1 1 9-1 0 2 11-5-13 7-1 3-2 0-10 0-3-3-1 3-3-4-5 1-2-1-1 2-1 0-21 2-10 1 26 1 2 1 1-1 31 4 6 0 10 4-1-1-9 3-2-4-5 5-5-4-5-1-3 5-15-4-6 4-24-2 50 3 36 1-41 8-6 7 38-1-9 11-17 6" marker-start="url(#t)" marker-mid="url(#t)" marker-end="url(#t)"/>
<path d="M717 731l-11 2 4 0 1 0 0-1 1 1 5 2 2 0 1 0 4 2 2 0 4-4 1 3 13-2 19 2 1-1 9 1 38 6-33-2-4 3-12 0-20-4-1 1-2-1-1 3 0-1-2 0 0 0-3-3 0 2 0 3-2 0-3-4 0 4-2-5 0 2-3-1 0 0-1 0-2 4-2-1-9 2 4 4 4 1 2-1 6-2 0 1 1-2 3 1 2-1 0 3 1-1 1 2 1-4 2 0 4 4 3-4 0 2 1 0 3-3 0 3 1 2 3-2 2 2 3-5 0 5 8-3 1 1 1-2 2 1 2 0 0 0 1 2 0-3 4-1 2 5 28 5 0 0-4-3-12 4-3-1-5 1-1-3-4 1 0 0-1-3 0 2-1-2-1 3 0 0-1 0-2-3-1 3-2-3 0 2-1-2 0 5-1-3-3-2-3 3-4 1-1-1-3 2 0-2-1-3-5 3 0-1-2 2 0 1 0-3-4 2-1 0-2 0-3 0-3-1-6 2-2-1-7 2 11 3 14-1 0-2 2 2 5 0 3 0 2 0 2-2 2 3 1 2 1-2 4-3 1 2 2 2 1-3 0-1 2 0 2 5 1-3 3 1 0-3 1 2 1-2 6 5 3-5 4 1 1 1 2 1 5-3 2 2 6-2 1 4 15-4-2 6-7 0-8 4 0-3-1-1-3 3-2 0-4-1-3 0-4 2-1-3-2 4-3-1 0-1-1-2-2 1-2 1-2 0-1 0-1 0-1 2-5-1-3-3 0 0-2-1-2 1-2 2-2-2-1 0 0 4-5-5-2 3-1-2 0 0 0 3 0 0-1-2-2 2-5 1-4-2-2-3-8 1-10 7 30 1 2 0 1-2 2 2 2 0 8-3 0 0 1 4 4 0 1-2 4 3 4 0 4-5 4 0 2 1 1 3 2-1 1 1 1-4 2 2 4 0 3 0 6 0 6 0 5-2 12 5-20 4-6 0-2-1-6-1-13-1-1 3-6 1 0-2-8-2-11 1-3-1-5 4 7 4 7 0 5 0 2-2 6 1 2 1 5 0 8-2 11 0 3 2 3 2 8-4 0 2 20 5-30 2-9 1-6-1-5 2-12-3-5-1-6 5 21 2 6 3 25-4 0 4 5-2-39 8-4-5 6 11 23-1 13 1 14-5-24 8-4 5 6 3 12 5-4-1-17 2-15-1 40 5" marker-start="url(#t)" marker-mid="url(#t)" marker-end="url(#t)"/>
<path d="M718 731l-6 4 2-2 7 2 2-1 3 2 5 0 4-1 4 0 9 2 40 4-9-3-14 4-2 0-2 0-2-3-6 4-3-3-3-1-1 4 0-2-1 1-5-4-2 4-4-3-5 2-3-2-3-1-4 3-5 1-2-3 0 10 3-2 6 0 1-2 5 3 3-4 0 2 1 3 2-1 1-2 4 2 1-2 2-2 3 3 0 0 6 2 0-3 1-1 1 3 2-3 1 3 1 0 1-3 4 3 4 0 0 1 3-3 2-2 3 4 1-1 0-2 12 3 11 7-8-4-9 3 0-3-1 2-1-2 0 2-1 0-1-2-7 2-1-3-5 0-2 0-2 2-1 0-1-1-2 0 0 0-1 1-3-2-1 2-1 1-3 1 0-1-1-1-1 0-5-1-1 3 0-3-2-1-3 1-4 2-1-2-2-1-10 3 13 6 3 1 1 0 2-3 0 1 1 0 3 1 1 1 0-4 1 1 6 0 0 0 2-1 2 1 0 1 5 0 0 2 1-4 1 4 5-4 1 5 3-5 1 1 0 0 1 4 3-1 0-1 5 0 0 0 3 2 13-4 7-1 3 1 4-1 21 8-11 0 0-2-2 4-12 0-2-4 0 1-3-1-1 1-7-1-1 4-3-3-6 3-6-3 0 4-2-5-2 3 0 2-2-3 0 2-3 1-1-5-2 1-4 4-1-5 0 2-2 1 0 0-1 0-1-3-2 1-2 4 0-3 0 1-2-1-1-2-2 3 0-1-3 2-9-3-4 9 3 0 9-2 1-1 16 4 1-2 0 2 1-3 4 1 5 2 6-3 3-2 4 1 5 2 3 0 6 2 5-2 0-1 2 2 4-3 6 2 7 2 1 2-10 1-5 0-8 2-11-3 0 2-7-1-1-1-6 1-3 2-1-1-7-1-1 3-5-5-5 3-8 2-1-2 0-2-5 5 11 5 1-1 2-2 2 0 3 3 10-4 7-1 1 5 6-5 4 0 0 4 4-1 6-1 2 3 0-2 6-2 7 1 4 0 9 9-5 0-5 0-12-4-3 0-4 3-1-1-1-2-26-1-15 1-11 5 12 1 6 4 6-3 21 0 0-2 2 5 6-1 6-2 4 2 3-1 5 0 2-2 4 0 3-1 6 0-2 11-3-2 0-2-10 4-11-5 0 0-34 4 25 2 26 4 10-3 4 2-27 3 18 14 13 6-20 4" marker-start="url(#t)" marker-mid="url(#t)" marker-end="url(#t)"/>
<path d="M724 737l1-4 5 3 2 1 2-2 2 2 9-1 27 7-3-4-3 1-1 1-3 2-2-4-3 4-3-4-7 2-2 2-1-3-5 0-2 0-1 1-1-1-1-2-2 3-2-2 0-1 0 4-2-3-3 2-1 2-6-3-6 0-2-2 8 6 6 3 2 1 2-3 2-1 5 0 4 1 1 4 0-1 0-3 0 1 5 1 1 1 0-2 1 2 1-2 5 2 0 1 1-2 0 2 3-2 2-3 0 4 1-3 1-1 0 5 1-4 0 4 1-5 2 3 1 2 2-3 6 1 3 1 9-3 2-1 4 4 14-1 5-1 4-1 4 9-14-2-3 3-23-2-1-2-2 4-3-1-1 1 0-2-1-2-3 0-2 0 0 3-1-4-1 5-2-1 0-2 0 2-2-1 0-1-7 2 0-2-1 0 0 1-2-2 0 3 0 0 0-2 0-1-1 4-9-5-1 2-1 1-1-1 0 2-2-4-2 2-9-2-7 0 10 11 2 0 2-4 1 0 1 3 3 1 2-5 0 5 2-5 0 1 2 3 0 0 2-2 1-1 0-1 2 0 0 0 2 2 1 2 1-1 3 2 2-5 0 0 5 3 1-2 1-1 2 1 5 0 1 2 1 1 0-1 8-2 8 2 5-2 1 4 7-5 2 4 1 0 11 0 0-3 9 9-12-4-5 4-14-4-2 0-2 5-2-2 0-2-1 4-2-4-1 2 0 2-1-2-5-3-4 3 0-1-2-2-1 2-4 1 0 1-1 0-2-1-3-3-1 0 0 0-2 1 0 0-5 4-3-3-1 3-3-4-3 3-19-3 13 6 1 1 10 0 2 0 2-1 1 0 0-1 10 4 5 1 4-1 6-2 1 1 1-1 0 0 1-1 3 3 7-2 2 2 1 1 1-5 0 5 1-3 9 3 7 0-4 2-8 2-5-1-2 3-6-5 0 3-19 0-1 0-1-1-5-2 0 5-2-1-3-4-8 0-2 5 0-5-4 4-5-2-4 0 17 4 5 1 1 2 2-1 6-2 16 2 10 3 3 0 6-4 15 6-1 4-22-4-3 3-3 0-2 1-3 0-9-2-2-1-1-2-11 0 0 5-20-5 30 7 21 0 1 1 26 3 14 6-12-4-8 4-21-4-1-1-2 4-6-2-11 8 18 1 10-3 5 2 10-2-3 9-8-1-2 1 37 9-40-2-26 1" marker-start="url(#t)" marker-mid="url(#t)" marker-end="url(#t)"/>
<path d="M720 732l28 2 52 5-76 7 2 2 5 0 20 0 4 0 8 1 7-1 32-2 7 7-18 2-3-2-8-3-9 1-6 4-1-2-6 1-4-4 0 1-1 0-6-1-6 5 0-5-1 3-6-3-1 0-4 5-10-4-13 4 1 4 8 0 1 2 3-3 1 3 1-5 1 1 8 4 3-1 1-1 7 2 0-1 2-4 0 0 1 1 0 2 3-3 1 5 2-4 0 3 0-2 3-2 0 2 1 0 1-2 2 5 1-2 5 1 6-4 1 3 3 2 1-4 0 2 0 2 1 0 0-4 2 1 0 3 2-2 8 2 1-1 0-3 3 1 1 3 5-2 1 1 2-1 0-1 4 1 0 0 4 0 2-2 1 0 2 1 17 4-15 4 0 1 0-5-1 0-5 4 0-4-1 3-1-3-3 5-1 0 0-2-4 0-2-3-1 5-1 0-2-3-1-1-1-1-1 5-3-1 0 1 0-1-1-1 0 0-4-2 0 3-1-4-3 5 0-1-1 0 0-3-2 1 0 1 0 2-1 0 0-2-2-1-2-2-4 5-1-3 0 0-2 3-1 0 0 0 0-4 0 3-1-1 0 2-1-1-1-2-1 2-2-4-2 1 0 4 0-3 0-2-1 3-1 0 0 0-2-2 0-1 0 5-2-1-3 1-1-2-1 1-1 0 0 0-1-1-3 2-4-1 0 1-2-1 0-1-3 0 0 1-1-4-4 4-3 1-5-4-6-1 7 7 1 1 3 0 5 1 4 0 0-2 1 0 4-1 2 4 3-3 1 0 1 1 4 0 3 0 4 2 1-4 0 0 1 2 0 0 1 2 1-1 4 1 1 1 0-3 1-2 0 2 0-2 1 0 0 4 1 1 1-1 0 0 0-4 4 4 1 1 2-5 1 0 1 2 0 1 1-3 1 1 0 2 1-3 3 3 1 1 0-2 0 3 0-4 3 3 1-4 1 1 0 1 4-2 1 2 1 3 1-3 1 0 1 2 0-1 0-2 1 4 0 0 0 0 2-2 0 1 0 1 1-5 2 5 2-1 1 1 1 0 0-2 1-2 0-1 1 0 0 4 0 0 2-4 2 4 0 1 2-3 0 3 2-2 0 1 1-3 0 1 0 3 3 0 6-4 0 2 5-3-3 9-1-1-3 1-1 0-2-2-1 3-1-2-3-1-1-1-1 2-1-2 0 2-1-1-1-1 0 0-1 4-1 0 0-4-2 5 0-1 0-1-2 1-2 1 0-4-1 1-1-1-3 4 0-4 0-1 0 5 0-4-3 1 0-1 0 1-1 1 0-1-1 0-3 0-2 3 0-2-3-1-1 3 0-5-1 3 0-3 0 4 0-3-4 0-1 2-2-3-1 4 0 0 0-1 0 0-1 1 0-2 0-2-1 2 0-1-1 0-6 3-1-2-1-1 0-1-1 1 0 3-1-2-1 3-1-4-1-1-1 2-1 3 0 0-3 0 0-5-1 2-3 0 0-2 0 4-1 0 0-2-1 0-2-1-3-1 0 2-2 2-1 1 0 0-1-2-2 2-1-3-1-2-2 4 0-2-3-2-1 4-1-3-2 3-1-2-14 1 16 8 9-5 9 2 1 0 3 3 2-1 0-4 4 2 0 3 3-2 3 1 4 0 3 1 0 0 0-2 1 0 1 0 0-3 2 2 1-1 0 4 0-2 0-1 1 2 0-3 4 4 1 0 2-1 1-2 0 2 2-2 0 2 1 1 1-1 1-1 0-1 1 0 2-1 1 4 1-2 0-1 2 3 0-5 0 1 0 3 1-3 3 0 0 2 0 0 0 0 1 0 0 0 0 1 1-4 1 1 1-1 1 2 1 0 0-1 1 1 1 0 1-2 0 4 0-1 0-3 1 0 1 5 1-2 0 2 1-1 1-2 1 2 1-2 1 2 0 1 1-1 1 0 3 0 1-2 3-1 1 4 0-1 4 0 2-2 0 2 2 6-2-1 0-2-4 4-1-1 0 1-1-3-1 3-2-4-2 3-3 1-1-4-3 4 0 0 0 0-1-5 0 4 0-2-1 3-1-1-1-4 0 3-2 1 0-2 0 0-1 1 0 0 0-3-1 5 0-1-1 0 0 0 0-2 0 0-2 2-3 1-1-2-1-2 0 3 0-1-1 1 0 0-1-3 0-1 0 1-1 0 0 3 0-1-2 0-1 0 0 0 0-1-1 2-2 0-1-1-1-3 0 2-1 1-1 1-3 0-1-3 0 1-2 0 0-1-2 4-1-1 0-4-2 4 0-2-1 0 0 1-1 1-1-3-2 0-1-1-5 0-2 1-1 3 0-2-1 0 0 1-1-3 0 1 0 0-2 0 0 1-1-2-3 5-3 0 0-4 0 4-1 0-2-5-2 3 0 1-1 1 0 0-1-1 0 0 0-4-1 4-2-3 0-1-1 3-5 2-5-4 8 8 11-3 4 1 0-1 3 4 1-2 1 2 9-4 1 4 4 0 6-2 5-2 2 4 0 1 2-4 1 3 1-4 1 2 0 1 1 1 1-1 3 1 0-1 1-1 0 2 3 0 2-4 1 3 0-2 1 3 1-3 0 1 1-2 2 1 1 1 2 1 1 2 0-3 0 0 0 2 3-3 0 1 0 2 1 1 0 0 1-5 2 4 0 1 1-4 4 3 0 0 0 0 2 1 1-1 0 0 2 0 2-1 5 1 0-3 0 0 2 3 1-4-2 6-1 5-1 0-1-1-1-2 0 1 0-2-1 2-4 1 0-4 0 1 0 2-1 1-2-1 0-1-2-2-1 5-2-3-1 1 0 0 0-1-1 3 0-2 0 0 0 0-1-3 0 1 0-1-1 5 0-1-1-2-1-2-1 4-1-2-1 0-1 0-1-1 0 0 0 1-1-1-2-1-1 1-3 1 0 2-1 0-1-3-1 3-3-4-1 1-3 0-2 4-1-3-1 0 0 3-2-4-1-1 0 0-1 5 0-1-5-4-3 2-6 3-1-2 0-3-1 5-4-5 0 3-7-1-1 0-7 1-4 2 0 0-1-3-1-2-6 0 13 7 6 4 3-3 0 0 4 0 7 1 0-3 2 0 4 2 1 0 1-2 0 3 1 0 1 2 5-4 9 1 0-2 2 2 1-2 4 1 1-1 0 0 0 5 0-1 1-2 1 1 0 1 0 1 4-2 0-2 0 1 1-1 1 4 0-2 2-1 0 3 1-1 1-3 1 2 0-1 0 0 1 3 1 0 0 0 1-1 0-1 1 1 2-1 1 2 0-3 0 2 2-3 1 3 1-1 0 1 1-2 0-2 1 5 1-2 0-3 0 1 0 2 4-2 1 1 1 1 0 2 4-5 1 5-4 3 0-1-3 1-3 1 0 1 0-3-1 1-1 1-2-1 0 0 0 1-1-1-1 1 0-3-1 1 0 0-1 1-3 2-1-2-1-2 0 4-3-1-1 2-1-4-1 0 0 2 0 2-1-3-2 2 0 1-2-4-1-1 0 0-1 2-1 3-3 0-3 0-4-4-1 3-15-4-10 0-5 4-16-1 17 7 17 0 7-4 14 0 1 5 2-3 2 2 2-3 0 4 2 0 1-4 10 0 1 4 0-5 1 3 0-2 1 4 0-5 0 0 4 0 3 4 2-4 1 0 1 4 0-4 1 2-2 8 0 0-6-2-2-1-1-1-3 0-2 2-6 2-1-2-82 8 43 1 46-5 0 3 2 0 6-3 4 6-19 0" marker-start="url(#s)" marker-mid="url(#s)" marker-end="url(#s)"/>
<path d="M739 740l-15-2-3 8 12 1 2 0 7 1 0-1 1-2 7 4 0-5 12 1 9 2 6 2 2 0 0 0 21 0 16 6-12 0-3-1-2 1-7-2-1-1-7 2-4-2-18 0-5 2-3 1-2 0-6-1-5-1 0-2-1 2-1-2-4 4-1-1-4-3-3 3-4 0-5-2-3 2-5 1-3 6 3-3 8 1 3-3 3 4 1 0 2-2 5 2 1-2 0 0 2 0 3 3 1-3 2 0 0-2 1 0 1 2 3 1 2-3 2 2 4-2 1 0 1 0 4 4 2-2 1-1 2 3 1-2 0 0 0-2 0 4 2 1 2-2 1 1 4 0 0-4 2 0 1 2 1 1 1-2 0 3 4-4 2 2 3-1 4 4 2-5 0 2 4-2 5 1 7 3 5-4 7 10-3-1-4-3-4 0 0 4-2-4-2 1-2 2-2-1 0 0 0-2 0 1-1-1-1 2 0 1 0 0-1-2-1 1 0 0-5-2-1 2-2-2-2 4-6 1-2 0 0-5-3 5 0-2-1-1-5 3-3-5-1 4-1 1 0-4-2-1-1 4-1-4-2 5-1-2 0 0 0 1 0 1-2-3-2 2-1 1-6 0-2-5-1 5 0-2 0-3-2 2-1 1-2 0-1 2-5-4 0 2-5-2-1 2 0-2-1 3-4 1 0-1-7-4-2 5-6-5 7 8 0 1 5 0 5-1 2 2 2-1 0 1 8-2 2 1 0-1 2-1 7 3 1 1 1-3 1 2 1-3 1 3 1-1 1 2 1-1 1-3 0 2 2 0 2 2 0-4 1 2 1-2 0 2 4 2 0 0 2-2 3 0 0 1 0 0 1-4 1 2 0 3 3 0 2-4 2 1 1 0 1 0 0-2 0 0 0 3 1-3 0 1 1 2 1 0 0 0 2 2 0-2 0-1 1 1 1 2 0-4 1 0 1 4 1-2 0 0 1-3 2 3 1 1 0 0 1-4 1 5 0-5 1 1 0 0 0 4 0-5 1 5 0-3 1 1 1 2 0-2 2-1 0-2 0 5 1-1 0 1 1-3 1 0 1 2 0-3 0 0 1 4 0-3 1-1 0 0 3 0 0 0 6 2 0-1 5-1 3 2-6 8-2-4 0-1-2 5-1-2-1 0-4 2-2 0-1-3-1-2-1 4-1-1 0-3-2 2-1 2 0 0-1-3 0-1 0 0 0 5-1-3-2 2-1 0 0-1-1-2-1 1 0-2 0 4-2 0 0 0-1-3 0 4 0-5 0 4-2 1 0-4-2 1-4 1 0-1 0 1-1 0-2-1-2 3-1-5-3 2 0 3-2-5-2 3 0 2-1-5-3 4-1-3-1 1-1 1 0 2-1-2-1-2 0-1-3 1-1 1-2-2-1 3-1-3-2 4-1 0 0 0-1-3-1 1-2 2-1 0-4-3-1 0 0 4-1-2-1-1-2-2-1 5-9-3-1 0-2 2-2-1-4-1-3 0-1 5 12-1 1 0 2 0 7 2 2 3 3-5 1 2 1 0 5-2 1 2 1 3 0-2 3 1 8-4 1 5 0 0 1-5 0 4 0-2 0 1 2 0 0 1 1-1 0 2 0-2 1-3 0 0 1 0 0 5 0-1 1 0 1 1 1-4 1 2 0 0 1-3 1 1 1 3 1-3 0 0 0 1 2 1 1 2 1-5 1 5 0-4 0 1 1-2 1 3 0-1 1 1 0 1 0-3 0 2 1 0 1 1 0-2 1-1 0 2 1 1 0-4 1 3 0 0 1-1 0 0 1 1 1 2 0-4 1 2 0 2 1-1 1 0 1 0 0-3 2 0 0 1 0 0 0 2 1-4 0 5 0-1 0-2 0-1 2 2 0 1 1-2 0-1 0 3 0 1 0-2 1-2 0 4 0-5 1 5 0-3 0 2 0-2 0 1 0-3 0 4 2-1 0 1 1-1 1-2 0 4 1-3 2 2 3 0 0 1 1-3 0 0 1-1 0 1 1-2 0 1 2 3 0-4 1 4 1 1 2 0 1-1 0 0 2-3 3 1 3-1-6 8 0 1-4-2-2-1-1 3 0 0-3-4-2 4-2-3 0 2 0 0-2-1-1-2 0 5-1 0 0 0 0-2 0-3 0 3 0 0-1-2 0 2-2-1 0 3-1-3 0 3-1-1 0-4-1 2 0 0 0 2 0 0 0-4 0 1 0-1 0 5-1 0-1-2-1-3 0 0 0 0-1 3-1-1-2-1 0 2-1 0-2-3-1 5-2-2-2-2-3 2 0-1 0 2 0-4-1 0-2 0-1 2-1 1 0 1-1-3-3 4-1-2 0 0-1-1-1 2-1 1-2-3-3-2 0 3-2 2 0 0-2 0-4-4-1 4-1-3 0-1-2 4-2-2-2-3-1 4 0-4-1 0 0 4-6-1-1-2 0 4-3-1-4-3-8 0-9 10 21 0 1 0 1-2 0 1 4 0 0-3 4-1 0 2 1 1 2-3 3 4 3-4 0 3 3-2 2 3 0-2 2 1 3 2 1-3 2-1 1 0 1 3 0-1 0 2 2-1 0-3 1 3 1 0 0 0 2-1 2-3 0 1 0 2 2-2 1 1 2 1 0-2 1 0 1 2 1-2 1 2 1 2 0-3 0 3 1 0 1-2 0-3 1 2 2-2 0 0 2 1 0 2 1-3 1 4 0-3 1-1 1 2 0-2 0 5 1-4 1 1 1-1 1 0 0 0 1 4 1-1 0-1 0 0 0 0 0-1 1-2 0 0 0 5 1-2 0 2 0-2 0-3 1 0 2 2 2 3 0-5 1 1 0 1 0 0 2 2 1 1 0 0 2-5 1 1 1 4 0-1 3-2 0 2 2-3 0 0 2 0 2 1 1 7-2-2-4 1-4 1 0-2 0 2-2-2-1 1-1-1-1 1 0 0-2-1-2-1 0 1-1 0 0 0-1-1-1 0 0 3-1-2-1 1 0 2-1-1 0-1-1 0-1 0 0-1 0 3-1 1 0-2 0-2 0 1-2 3-1-1 0-3-1 0 0 1-1-1 0 3-1-3-1 0-1 1 0 3-1-3-2 2 0-3 0 2 0-1-2 0 0 1-2 1-2 0-11-4-1 5-3-3-3-2-4 2-4 0-2 2-2 0-2-3-3-1-9 3-9 0-9 3 19 5 7-3 6 0 0 2 8 0 2-2 4-1 9 1 1-1 1-1 0 0 1 2 5-2 3 3 2-1 2-2 1 5 0-1 1-1 0-2 1-1 2 2 0 2 1 1 0-5 4 0 0 1 0 1 1-1 0 0 1 1 0-1 1 2 4-2 0 1 0 0 3-2 1 2 7 0 1-2 2 5 2 0 3-3 1-2-3 8 0 3-4-1-1 1-4-2-1-2-1 3-1-1-1 1-2 0-2 1-2-5-2 4-2-4-1 5 0-1 0-2-1 3 0-4 0 1 0 0-1 0-1 0 0-1-4-1-2 2-8 0-2 0-1-2-1 4-1-1-4-1 0 1-9-3 0 3-8-3-14 1-13 0-8 6 34 4 12 0 2-4 5 3 13 1 1-4 2-1 1 1 3 1 0 2 5-3 0 3 3 1 2 0 4-3 1 2 0-1 4-1 4 0 0 1 1 2 2-1 4 1 1-5 0 1-4 6-4-1-1 3-4 0-1 0-9 2-1-3-6 1-1-1-3-2-5 2-64-2 32 7 38-1 23 0 3 5 4-2-8 9" marker-start="url(#s)" marker-mid="url(#s)" marker-end="url(#s)"/>
<path d="M719 734l11 1 63 5-18 3-33-5-10 3-5-1-4 1-6-1 14 6 14 3 13 0 9-2 19 2 13 0 4 6-2 0-1 0-8-2-1 1-1-1-4-1-5 2-2-3-15 4-1-5 0 4-10-1-3 1-1-3-2 4-5-1-1-4-1 1-12-1 0 1-3 1-11 2-5-1 5 7 10-3 3-1 2 1 7 4 3-4 1 2 0 0 0 2 3-4 4 1 2-1 1 0 4 0 3 1 1 1 3 2 0-2 7-2 0 2 2-3 1 5 2 0 0-1 1 1 3-2 0 2 1 0 0-5 2 4 3 1 1 0 0 0 3-4 4 2 5-2 0 1 3 3 2 0 3-5 1 5 2 0 8-1 3 1 10 2-3 1-2 1-1 2-4-5-3 2-1-1-2-1-1 1-2 0-1 3-1-3-2 0 0 3 0-1 0-3-1 5-1-5-1 1-5 2-1 2-1-5-1 2-2 2-1-3 0-1-1 0 0 1-1-1-2 3 0 0-1-2-2 4 0-2 0 1 0 0-2-4-1 5 0-3 0 0 0 3 0 0-1 0-3 0 0-2 0 1-2-2-1 3-4-1 0-2-2 3-2-2-1-2-4-1 0 0 0 0-2 3 0-1-1-1 0 3-2-3 0 0-1 0-2 1 0 3-1-4-1 3-3-2-3-1-3 1-2-2 0 3-6 1-2-3-5 4-1-5-5 4-1-3-13 6 14 1 6 0 6 1 1 0 2-2 1 1 2 1 0-1 0-2 0 4 4-4 4 3 0 0 1 1 2-3 3 2 2-2 1 1 2 0 0 2 1-4 1 2 1 2 0-1 0-2 4 1 0-2 2 3 3-1 1 0 1 1 0-3 1 0 2 5 2-3 1-1 0 2 0-3 0 5 2 0 0-5 0 1 1 0 4 4 1-2 1 2 0-4 2-1 0 5 0-5 1 2 2 2 0-1 3 2 0-2 1-3 1 1 0 0 1 3 1 1 1-5 0 2 1-2 1 1 0 4 0-1 1-4 1 3 1 1 2-4 1 5 1-1 2-2 0 0 4 1 2 2 0-1 1 1 0 0 2-3 9 3 0-1 5 5-6-2-3 4-1-3-1 1-2 1-1 1-1 0-1-3 0 1-1-2-1 0 0 2-1-2-2 3-1-1-2 2 0-2-1-3 0 3-1 2 0 0-1 0 0-1 0-1-3 2 0-5-1 4 0 0-1-1-1 0-1-3 0 5-2-5 0 1 0-1-1 3-3 1 0 0-1 0 0-2-1-2-1 4-2 1-1-5 0 1-1 0-1 2-1-1-6 2 0-2-1 1 0 0 0-2-2 4-2-2-1-1 0 3-2-1 0-1-1-2-1 4 0 0-1-4 0 0-4 3-2 1 0-3-1-1-2 2-1 2-1-3-5 2 0 1-1-5-1 1-3-1-2 5-2-2-1-1-1 1-3 1-1-4-1 0-4 4-5-4-3 3-17-2-1 4 19 6 1-3 4-1 2 1 1 0 3 2 4-4 0 0 9 5 2-1 1 1 1 0 0-1 1 0 0-3 1 3 3-2 0 2 0-3 2 4 1-3 1 0 1 1 0-1 0 2 1-4 5 5 3-4 0 1 1-1 1 1 0 0 0 1 1 0 0-2 6 2 0 0 0 1 2 0 1-3 2 3 0 1 1 0 0-1 1-2 1 0 0 0 4-2 0 3 1-3 1 4 0-1 2-1 1 1 0 2 0 0 1 0 0-4 0 2 1 2 1-5 1 3 0-1 1-2 0 1 2 0 0 4 0-5 1 0 1 1 0 1 1 1 0 1 1-3 0 1 0 1 1-3 0 2 0-2 0 4 2-1 1 1 1 1 1-3 1 1 0 1 4-1 0-1 0-1 0 2 0 2 1-3 4-1 1 2 2 2 5 0 2 2-5-1-2 4 0-1-2 0-1 0-1-3-1 1 0 4-3-2-1 0-1-2-1 1-1-2-1 5 0 0-1-1-1 1 0-1-1 1 0 0-1-1 0-1 0-1-1 3-1 0 0-1 0-1 0 0 0-1-1 0-1 2 0-2 0 3-1-3-1-2 0 4 0-3-1 2-1 2 0-4 0-1-1 3 0-2 0 2-1 1-1-2 0 2-2-4 0 5-1 0-1 0-1-1 0-4-1 1-4 1 0 3-1-3 0 3 0-3-2 0-1 1 0 1-1 0-1-3 0 1-1 3-1-4-1-1-3 1-2-1 0 5-1-2 0-3-1 2-1 1-1-2-6 2-1 1-1-1-2 2-1-3-3 3-2-2-1-1-2-1-1 4-3-4-2 2-4-3-12 0-2 2-8 0-1 0-1-1-9-1 13 9 20 2 2-2 1 1 1-2 5 0 1-1 1 3 1-3 0-1 3 0 0 5 0-3 1 2 2-3 3 3 0 0 3 0 0-3 1 3 3-3 1 2 2-2 4-1 0 2 1 3 2-5 0 3 2 2 1-2 1-1 0 2 0-4 0 1 0 0 0 3 2 1 0 0 1-2 0 1 4-3 3 1 0 3 1 0 3-5 1 0 0 3 2-3 0 4 0 1 1-1 0-3 1-1 0 1 0 1 1-1 0 4 1-5 0 2 0 0 0 1 0 1 1-3 0-1 0 3 1 2 0-4 0 2 1 2 0-2 1 2 1 0 0-1 0 0 1-2 1-1 0-1 0 0 2 5 2 0 1-2 1-2 2-1 0 3 2 1 0 1 1 0 2-5 0 2 1 1 0 2 1-2 1 2 2-1 0 0 0-4 1 4 0 1 3-5 1 5-1 6-6-1-3-3-2 0-2 4 0-3-3 0 0 3-1-2-1 1 0 1-2-4 0 1-1 2-1 1 0-5-1 2 0-2 0 5 0-5-1 0-1 2 0 2-1-2 0 1 0-1-1 0 0 3-1-5 0 0 0 3-1-2 0 3 0-4-2 2 0 1-1 1 0-2-1-1 0 4 0-1 0-4-1 1-1 0-2 3-5 1-1-5-1 3 0 2-2-4-1 4 0-1 0 0-2-3-1 3 0 1-1-4-1-1-4 4-1 0 0 0-2 0-1-2-3-1-3 1-3-1 0 2-1-2-2-1 0 3-1-3-3 3-5-2-7 1-1-2 0 1-3 3-2-2-3-1-2 4-10-1 10 6 3 1 6 0 5 0 12-2 3 1 3-3 9 2 5 2 1-4 4 4 3-5 1 1 3 2 2-1 0-1 2-1 0 3 1-3 2 2 1-2 0 1 0-1 0 1 2 4 0-5 0 5 2-1 1-1 1-2 0 1 0-2 0 2 0 1 1 1 0 0 2 1 1-3 0-2 0 1 1 3 2-1 0 2 1-4 0-1 1 3 0 1 2-2 1 1 0-3 3 2 1 2 1-3 3 2 3-3 2 3 3 4-4 2-1 0-3-2-2 2-2-2-3 3-3-1-1 0 0 0-1-2 0 3 0 0-2 0-2 0 0-3-4-1-1 3-1 1-1-4 0 2-3 1-2 1-1-1-2-1-5-2-1 3-6-2-5 0-4 1 0 2 0-3-13-1-10 5-6-2 4 5 20 1 2 1 13-4 2 1 9-1 3 3 1 0 1 0 2-1 0-2 1 0 1 0 3 4 0 1 1-1 3-4 2 1 1 3 2 1 1-4 0-1 4 4 0-4 1 0 1 1 1 1 0 3 1-2 0-2 3 3 2 1-14 5 0-3-5-1-2 0-17 1 21 5 5 3 2-2 7 0 1 2 7 10" marker-start="url(#s)" marker-mid="url(#s)" marker-end="url(#s)"/>
<path d="M761 742l-26-1-21 8 8-5 17 5 8-3 7 2 1-4 3 1 4 4 49 3-12 2-7-2-14-2-5 5-2 0-2-5-1 1-7 4-3 0-4-1 0 1-1 0 0-5-4 0 0 5-6-2-8-2-1 3 0 1-1-2-1-2-2-1-2 5-10 0-3-2-7 1 4 6 9-4 4 3 2 1 0-3 3 0 1-1 1 5 1-1 2-3 4-1 3 5 0 0 5-5 2 2 1 2 0-4 3 4 0 1 1-4 1 3 1-1 1 0 2-1 6-2 1 1 1 4 2 0 2-2 0-3 4 2 2-2 0 3 1 2 1-2 3-3 1 0 5 3 1 0 3-2 4 4 0-2 5 0 2 1 4 1 1-2 5-2 4 3 4-3 7 8-3-2-1 0-5 2-1-2-3-1-3 5-1-1-1-3-4 2 0-2-1 0-2 2-1-3-1 2 0 1-1-2 0 3-1-4 0 2-1 0-1 1 0-3-2 5-2 0 0-4-1 0 0-1-2 5-4 0 0-4-1 2-1 0-1-1-1-2 0 0-1 2 0-2-1 3-2 2-1-1-2-2 0 3-1-5-1 5-3-1 0-2-1 1-3 2 0-3-3-2-2 1 0 2 0 0 0 1-1 0-1 0 0-2-1 1-1-2 0 4-1-1-1-2-1 3-4-5-2 0 0 4-1-2-1 2-1-1-3 0-1 2-1-1-3 1 0-1-1-4 0 0 0 3-2-2-9 0-2 1-1 0-1 0-5 3-2-1 7 3 3 4 3-4 3 3 0-1 0-3 1 1 1 3 2-4 2 5 3-2 5-3 0 4 1-4 1 0 1 5 2-4 0 1 2 1 0-2 0 3 4-4 1 2 1 1 0-1 2 0 0 0 0-2 0 4 2-4 0 4 2 1 2-5 4 4 1 0 4 0 2-2 1-2 1 1 1 0 0 1 0 1 2 1 0-2 0 2 0-4 2 3 1-2 1 4 2-1 2 0 2-4 0 0 0 1 0 0 1-1 2 4 0 1 1-3 1 2 1-2 1 3 0-2 3 2 0-4 0 0 1-1 2 4 0 1 1-2 0 2 0-5 1 1 0 0 0 4 2-1 2 1 0-2 2-3 3 0 0 2 0 3 1-1 2 1 1-3 0-1 1-1 11 11-5-5-3 4-1 1 0-1-1-3-1 3-1-2-1 3 0 0-1-1-4 1-1 0-1 0-1-1 0-1-1 1-1 0 0-1-1-1 0 3-1 0-1 0-1-3-1-1 0-1-1 5 0-5-1 3-1-1-1 3 0 0-2-4-1 4 0-4-1 0-1 4-1-1-1 0 0-3 0 4-1-1 0-2-1 0 0-1 0 3-1-1-1-2 0 2-1 2-1-1 0-3-1 4 0-3-1 0 0-2-2 2 0 0 0 3 0-4-1 3 0 1 0-4-1 4 0-1-1 1-2-5-3 4-3-3-1 3 0-2-1 2 0-2-1 3-2-4-1 1 0-2 0 2-1 1-2-3-2 0-2 5-1-5-1 0 0 0-1 1-2-1 0 4-1-4-3 5-1-5-4 3-3 0 0 0-8-3-5 5-1-4-2 3 0-1-10 6 15 1 4-4 6 3 12 0 0-2 2 0 2 2 0-1 0-2 1 1 1 4 1-1 0 0 1-4 0 4 5 0 1-3 0 3 3-2 2 1 1-2 1 0 1 4 1-3 0 2 3-4 1 3 1-2 2 0 1 3 0-3 1 3 6 0 0-3 1 1 1 1 0 0 0-2 1 0 2 1 1 0 1 3 1-4 0 4 4 0 0-2 0 2 1-5 1 5 0-4 1 4 0-5 1 5 0-4 0 0 2 1 0 0 1 2 1 1 0-4 0 2 1-3 0 4 1-1 1-1 1-1 0 0 0 1 0 1 1 1 0-4 2 2 1 3 1-1 1 1 0-5 1 2 1 2 0 1 2-2 1-3 1 0 4 2 2 0 3 5-3-1-7 1-1 0-1 4-3-5 0 5-1-5 0 1 0 0-2 4-1-3-1 1 0 1-1-4-2 4-1-2-1 0 0 3 0-3-1 3-1-4 0-1-1 3 0 1-1-2 0-2-1 1 0 4-1-2 0 0 0 0 0 2-2-5 0 1-1 3-1 1-1-5-1 2-1-2 0 3 0-2-1 4 0-2-1-2-2 2 0 0-2 0 0 0-1 0-1-2 0 4 0-1-2-3-4 3 0 0 0 0-1-4-1 5 0-4-1 0-1 1 0 2-2-3 0 3-1 0-3 0-4-4-1 0 0 2 0-2-3 2-1 3 0-3-3-1-2 4-2-5-1 5-1-4-1 2-1-3-2 0-1 3-4-3-1 4 0-1-2 0-2 1-2-2-11-2-1 0-12 2 6 4 22 4 0-3 3-1 0 2 4 0 1 0 1-1 3 3 2-2 1-2 1 1 0 2 1-1 2 3 2-5 0 0 2 5 3-5 2 4 2 1 1-3 0 2 3 1 1-5 1 5 0-3 2 2 3 0 2-1 0-3 1 4 0-2 1 2 1-4 1 0 1 4 0-2 3 3 1-3 1 1 0 2 1-3 1 3 0-2 0-1 1 2 0 1 1 0 2-3 1 2 1-4 1 3 0-1 0 2 1-2 0 0 0-2 1 4 0-2 1 2 0-2 0 0 0 1 2 0 1 2 1-2 0-2 2 2 0-1 1-1 0 1 1-2 0 3 1 0 0-3 0 1 0-1 0 0 1 3 1-1 0 2 1 1 2-4 2 3 0-4 3 5 0-4 1 1 0 2 3 0 0-3 1 1 1-2 0 2 1 5-1 1-2 2-1-3 0 0-1 3-2 0-1 1 0-1-1-3-5-1-1 1 0 0-1 1-1 2 0-1-1-3-2 5 0 0-1-4-1-1-1 1-1 1 0 3 0 0-2-4 0 4-1-1-1-4 0 0 0 3 0-1-2-1-2 3 0 0-1-1-1-2-1-1 0 0-1 0 0 3-1-1-2 0-1-1-1-1-1 0-1 1-2 0-1 0 0 3 0-2-2-2-1 1-1-1-2 0-1 4 0-4-1 4-4-2-1 2-4 0-1-1-1-2-3 1-2-2-3 5 0-1-4-3-5 2-1 0-1-1-1 0-6 1-2 1-6-3-14 1 1 7 13 0 3-1 4 0 16 0 2 1 4-1 3-1 3-1 8 1 1 1 3 2 0 1 4-3 7-2 3 1 2 4 0-2 1 2 0 0 2-2 1 0 1-2 1 3 1-2 1 0 0-1 1 1 0-1 1 3 1 1 0-2 0-1 1-1 1 1 1-1 1-1 1 3 0 2 2-4 0 0 2 0 1 2 2-1 0-1 1-1 2 4 2 1 0 0 1-4 0 1 3-1 0 0 1 0 2 2 2 5-1 1-8-3-1 3-3 0 0-2-1-1-4 2-1-1-3-1 0 0-1 2 0 2-3 0 0-4-1 4 0-4-1 0 0 0-1 5-1-1 0-4 0 0-1 4-1-3-1 2-6-1 0-1-2 4-8-3-7-2 0 1-5 1-7 0-2-2-1 4-2 0-1-2-8 3-3-1-10-1-1 5 39 3 1-4 6-1 5 0 5 4 0-4 1 2 5-1 2 2 1-3 9 0 0 4 2-1 3-3 1 0 2 4 0-2 8 1 0 0 0 1 2-3 0 4 2-5-4 11-1-5-1 4-1-2-5-2-11 0 0 0-9 5-10 0-10-2-24-3 34 9 35 2 7 4-11-1" marker-start="url(#s)" marker-mid="url(#s)" marker-end="url(#s)"/>
<path d="M715 737l25 0 9-3 41 8-11-1-3 2-7 0-42-5-7 10 8-4 1 3 7-3 0 5 3-1 0-1 1-2 0 3 2-4 13 1 13 4 38 6 0-1-22 1-2-4-5 4-9 0 0-1-8-2-6 1-1-1-9-2-8 5 0-4-5 3-11-2-2 2-3 1-4 4 19-1 1-1 0 2 1-1 0-1 2 1 0 1 0 0 0-1 2 2 5 1 1-2 1 2 1-4 0 2 6 1 1 1 0 0 1-1 0-2 1 2 0-3 1 0 1 3 1-1 1-3 0 1 2 0 2 4 1-5 2 5 0-2 2 0 3-1 0 3 0-2 1 2 2 0 2-1 0-1 1-1 4 2 1 1 2 0 2-2 1 2 2 0 4-5 1 4 4-1 2 2 2-3 0-1 0-1 7 0 2 0 0 4 3 0 16 6-10-1-1-2-3 0-2 3 0 0 0 1-1 0-1-1-1 0 0 0-1-4 0 4-1-2-1 1-1-1-1 2 0-1-1 2-2-3 0 2 0-1-2 0 0-3 0 0-2 0 0 1 0 3-1-4 0 5-1-1-1 1-1-2 0 1-2-4-2 5 0-5-1 3-1-1-2 2-1 0-1-1 0-3-3 3-2 2-2-1-1-1-1-1-1 0 0 3-1-4 0 3-1 0 0-2-2 3-2-1-2 1-3-4-3-1-1 3-1 1-1-3 0 0-1 0-1 2-2-2 0 2-1 2 0 0-1-4-4 0-2 4-1-5-1 5-1-1-4-3-2 3-5 1 0-3-18-2-5 0 20 10 4-2 1 0 0 2 6 1 1-2 2 1 0 0 0 0 0 1 1-5 0 0 2 4 2-2 1-1 1 3 0 1 1-3 1 3 3-5 3 1 1-1 1 2 0-2 0 5 1 0 0-1 1-1 2 1 2-2 0-1 0 3 3-1 1 0 2 2 1-3 0 1 0-3 1 5 3 0 1-5 0 2 0 3 2-5 0 4 1 0 2-4 2 3 1-2 1 3 1 0 0 0 0-2 0 3 1-4 1 1 0 1 0 0 0 0 0-2 4 2 0 2 1-2 0 0 0-2 2-1 2 1 1-1 0 1 2 4 3-3 0-2 0 3 1-3 0 5 1-1 0-3 0 2 1-1 0-1 0 2 0 2 1-4 1 3 0-3 0-1 0 5 3 0 0-1 1-1 0 2 0-2 0-1 1-2 1 4 0 1 1-4 0 2 2 1 0-1 6 0 0 1 2 1 5 4-2 1 0-3-4 3-4-4-1 4 0-3-2-1 0 2-1 1-1-2-2 2 0 1-1 1 0 0 0-5 0 2-1-1 0 0-1 4 0-1 0-3-1 2 0-1-1 2-1-4 0 1 0 1 0 3 0-1-1-3 0 3 0 1-1-4 0 4 0-3 0 0-1 1 0 1-1-2 0 3-1-4-1 2 0 1-1-2-1-1-1 1 0 2-1 0 0 0-1-1 0 1-1 1-1-1-2-4 0 5-1 0-3 0-1-1-1 0-1-1 0-3-2 4-1-4-1 2 0-1-1 3-1-2-1 3 0-4-1 0-3 2-2 2-2-1 0-2-2-1 0-1-1 2 0 1-2 1-4-2-1-1-1 3-1-2-1 3-2 0-3-4-2 4-1-3 0 3-1-1-1 0 0-3 0 1-2-2-2 3-1 2-1-1-1-4-1 0-1 3-1 2-3-1-8 1-1 0 0-2-16 2 13 3 13 2 2-4 1 4 2 0 1 1 1-5 0 2 0 1 1 0 6 2 1-1 1-2 0 3 2-4 0 3 5 1 0-3 0 3 1-2 2-3 0 3 0-1 0 3 1-4 0 4 1-3 1 0 1 2 1-3 0 3 1-4 2 4 0-4 2 2 2 1 0 2 1-4 0 3 4-2 1 1 2 2 0 0 1-4 2 0 0-1 1 4 1-4 2 3 3-1 3-2 2 5 0 0 0-4 1 3 0 1 1-5 0 2 1 0 0 2 1 1 0-2 1 2 0-1 1-4 0 3 1 0 0-3 0 4 1-4 0 0 0 1 0-1 1 3 1-3 0 3 1-1 0-2 1 1 0 2 0 2 1-1 0 0 1 1 1-2 0-1 0-2 2 1 1 4 0-1 2-2 1 1 0 0 1 1 1 0 0-4 0 2 1-2 2 4 0-2 10 0 0 4-4 4-6 1 0-4-1-1 0 1 0 3-1-2 0-1 0 4-2-1-1-3 0 4-1-4 0 3-2 0-1 1 0-3 0-1-2-1 0 0-1 3 0-3-1 0 0 1-1 3 0-1-1 1 0-3 0 2-1-1 0 0 0 1 0 1 0-4-2 3 0 2 0-1 0 1-1-3 0 3-1-1 0-3-2-1 0 0-1 2 0-2-1 4 0 0 0-2-1 0-1 2 0-2-1 3-1 0 0-4-1 0 0 2-2 2-1-2 0-3 0 5 0-1 0-1-3-1-2 2-3 0-2-4 0 0-3 0-1 2 0-2-2 3 0-3-2 5-1 0-2-5-2 2-2-2-2 0-1 0-2 2-1 0 0 1-1-3-1 5-5 0-1-3-1 0-3-2-7 2-21 3 7 1 1 4 3-1 0-1 3 0 3-1 3 4 5-3 6-2 1 1 4-1 1 1 4 4 0-1 1 0 0-1 1 1 0-3 5 1 3-2 2 2 1 3 7-5 0 4 1 0 0-4 0 1 2-1 1 4 0-1 2-1 2 3 1-3 1-1 1 1 1 1 1 2 0-3 1 0 0-2 1 1 3-1 0 5 0-5 1 4 1-3 1 3 2-4 1 1 0 2 0 1 0 1 0-2 3-3 0 0 1 4 3-4 1 5 0-2 1 2 1-3 1-1 0 3 1 0 2 0 3 0 0-1 4 1 0 1 0-4 7 1 1 2 1-2 0-2 1 2-4 4-2 3-4-1 0 0-1 2-4 0 0-3-1 0 0 1 0 1-1-1-1 2-1-3-1 3-1 1 0-4-2-1 0 5-1-4 0 4-2-4-1 1-1-1 0 0 0 2-1 1 0 0-1-3 0 1 0 0 0-1-2 1-2 0-1-1-1 4 0-1-2 1-2-5-1 0-1 1-5 3-3-4 0 1-1 2-4-1-4-1-2 1-3-1-11 0-10 3-9 7 3-5 10 4 2 1 6-1 5-1 4 1 4-4 10 3 4-2 2 0 0 4 5-5 2 3 0-2 1 2 0 1 1 0 2-3 1 2 3 2 0-5 0 2 1 3 1 0 0-4 1 2 0-1 1 2 0-3 0 2 1-1 0 0 1-1 2-1 3 0 0 0 1 5 3-4 1 1 0 3 1-5 0 4 4 1 1-3 0 3 2-5 6 7-1 4-2-3-6 2-1 0-2 0-1 1-4-2-1 0-1-1 0 2 0-1-2 0-1-2 0 2-1-3 0 4 0 0-1-4-2 1 0-1-1 5-1 0 0-3-1 2-1-1 0-2-1 0 0 1-1-2-2 4 0 0-3-4-1 4-1-4-1 3-3 1-1 1-5-4-1 4 0-3-1-2 0 3-2 0-15-3 0 2-22 0-6 2-9-3 19 8 36-1 7 0 4-1 2-1 6 2 2 3 0-5 0 4 1 0 0 1 1-1 1-2 1-2 2 4 1-2 1-1 1-1 3 4 0-1 1-1 3 0 1-1 7 4 0-4-1 5-6 4-2-4-4 2-3-1-2 0-1 2-13-3-12 3-2-1 33 7 8 1-8 7-1-1" marker-start="url(#s)" marker-mid="url(#s)" marker-end="url(#s)"/>
<path d="M710 731l-4-1 0 6 1-2 7 2 1 1 1-4 2 4 2-5 5 4 3 0 2 0 20-1 29 8-3 0-4-4-5-1-16 1-3 4-1-4-2 1-1-2 0 2-2 2-1-3 0 3-4-4 0 2 0 1-2-3-2 2 0 0-3 1-2 2-10-3-2-1 0 1-2-1-4 10 7-1 2 0 1 0 2-3 5-1 4 5 2-4 0 3 0 1 3-4 2 4 2-5 0 2 0 3 1-1 0 1 1-4 1 0 0 2 1 1 1 1 0-1 1-3 0 2 5-2 1 2 0 0 1 0 1 1 0-2 2 0 2 0 3 2 1-4 9 1 0 2 4-3 3 4 1-3 2 4 4-5 2 2 2 1 2-2 8 3 13 6-11 1-7-3-14 3-2-5-2 3-7-2-2 0 0 2 0 1 0-4-6 0-3 2-1-1 0 2-5 1-1-3-1 2-2-3-6 1 0 3-3 0-2 1-2-5 0 0-2 2-1 0-1-1-2 1-2 2-6 0-5-1 17 4 1-1 1 0 2 0 1 3 5-1 2 3 2-1 1-3 1 2 1 2 2-2 0-2 1 3 1-4 0 0 1 2 5 2 4 1 1-1 1 1 5-1 1-1 1-2 0 3 3 1 1-4 6 2 2 1 1-4 6 4 0-3 17 0-6 8-5-3 0 3-1 2-1-2-1 2-1-5-1 3 0-2 0 2 0 0-2-1 0 2-1-1-1 2-11-4 0 2-2-1-1-1-3 0-2-1-1 0-3 4-1-4-1 2 0 0-1-1-1 1-3-1-10 1 0-2-2 0-12 0-2 3 0 1-1-2-6 0 13 6 2 3 2 0 2-3 8-2 0 5 3-4 2 3 7 0 1-3 5 1 4 3 1-2 1 0 3 0 2-1 0-2 3 1 2 1 1-1 6 4 6-5 22 2 3 0 2 1 3 2-18 2-1 2-3-3-4 0 0 0-1 3-4 1-3 0-14-1-1-1-5 1-2 1-7-4-1 0-1 3 0-3-2 0-2 3 0-3-7 2-4-1-3 3-5 6 25-2 6 2 8 0 0 0 4 1 21 0 16-5-11 6-13 3-3 1-11-4-2 0-3 3-8 0-24 3 4 4 15 0 28-4 6 1 21-1 6 4 5 3-24 2-14-3-30 1 11 10 10-3 14 2 10-1 6-3 16 4-26 4-2 2-7-2 26 4 15 10-16-4" marker-start="url(#u)" marker-mid="url(#u)" marker-end="url(#u)"/></g>
<path d="M22.50 72.10C22.90 67.42 24.33 51.37 24.90 44.00C25.47 36.63 25.38 32.38 25.90 27.90C26.42 23.42 27.12 17.68 28.00 17.10C28.88 16.52 30.27 22.48 31.20 24.40C32.13 26.32 32.68 27.55 33.60 28.60C34.52 29.65 35.78 30.10 36.70 30.70C37.62 31.30 38.35 31.63 39.10 32.20C39.85 32.77 40.70 33.40 41.20 34.10C41.70 34.80 41.50 34.60 42.10 36.40C42.70 38.20 44.00 42.38 44.80 44.90C45.60 47.42 46.10 50.25 46.90 51.50C47.70 52.75 48.80 51.72 49.60 52.40C50.40 53.08 50.82 54.18 51.70 55.60C52.58 57.02 53.75 59.13 54.90 60.90C56.05 62.67 57.35 64.70 58.60 66.20C59.85 67.70 61.07 69.10 62.40 69.90C63.73 70.70 64.67 70.78 66.60 71.00C68.53 71.22 70.98 71.13 74.00 71.20C77.02 71.27 82.03 71.25 84.70 71.40C87.37 71.55 89.12 71.98 90.00 72.10Z" fill="#F8766D" fill-opacity="0.27" stroke="#111" stroke-width="1.0" stroke-linejoin="round"/>
<path d="M22.60 72.10C22.87 71.23 23.53 69.27 24.20 66.90C24.87 64.53 25.67 61.72 26.60 57.90C27.53 54.08 28.98 47.85 29.80 44.00C30.62 40.15 30.87 37.37 31.50 34.80C32.13 32.23 33.08 30.33 33.60 28.60C34.12 26.87 34.13 25.85 34.60 24.40C35.07 22.95 35.65 20.13 36.40 19.90C37.15 19.67 38.23 21.95 39.10 23.00C39.97 24.05 41.00 25.03 41.60 26.20C42.20 27.37 42.22 28.53 42.70 30.00C43.18 31.47 43.88 33.23 44.50 35.00C45.12 36.77 45.73 39.27 46.40 40.60C47.07 41.93 47.88 42.37 48.50 43.00C49.12 43.63 49.57 43.63 50.10 44.40C50.63 45.17 51.08 46.27 51.70 47.60C52.32 48.93 52.92 50.53 53.80 52.40C54.68 54.27 55.93 56.68 57.00 58.80C58.07 60.92 59.22 63.42 60.20 65.10C61.18 66.78 61.92 67.97 62.90 68.90C63.88 69.83 64.58 70.30 66.10 70.70C67.62 71.10 69.25 71.17 72.00 71.30C74.75 71.43 79.68 71.37 82.60 71.50C85.52 71.63 88.35 72.00 89.50 72.10Z" fill="#00BFC4" fill-opacity="0.27" stroke="#111" stroke-width="1.0" stroke-linejoin="round"/>
<path d="M105.50 141.50C105.85 140.48 106.92 139.20 107.60 135.40C108.28 131.60 109.03 124.27 109.60 118.70C110.17 113.13 110.53 106.85 111.00 102.00C111.47 97.15 112.00 92.00 112.40 89.60C112.80 87.20 113.00 87.15 113.40 87.60C113.80 88.05 114.38 89.90 114.80 92.30C115.22 94.70 115.48 98.75 115.90 102.00C116.32 105.25 116.72 108.90 117.30 111.80C117.88 114.70 118.72 118.63 119.40 119.40C120.08 120.17 120.83 117.27 121.40 116.40C121.97 115.53 122.28 114.05 122.80 114.20C123.32 114.35 123.92 115.85 124.50 117.30C125.08 118.75 125.53 121.05 126.30 122.90C127.07 124.75 128.05 126.78 129.10 128.40C130.15 130.02 131.33 131.32 132.60 132.60C133.87 133.88 135.43 135.28 136.70 136.10C137.97 136.92 138.82 137.20 140.20 137.50C141.58 137.80 142.53 137.72 145.00 137.90C147.47 138.08 152.17 138.25 155.00 138.60C157.83 138.95 160.00 139.60 162.00 140.00C164.00 140.40 165.33 140.75 167.00 141.00C168.67 141.25 171.17 141.42 172.00 141.50Z" fill="#F8766D" fill-opacity="0.27" stroke="#111" stroke-width="1.0" stroke-linejoin="round"/>
<path d="M105.50 141.50C105.85 140.48 106.92 139.20 107.60 135.40C108.28 131.60 109.03 124.35 109.60 118.70C110.17 113.05 110.53 106.52 111.00 101.50C111.47 96.48 112.00 91.08 112.40 88.60C112.80 86.12 113.00 86.07 113.40 86.60C113.80 87.13 114.38 89.32 114.80 91.80C115.22 94.28 115.48 98.22 115.90 101.50C116.32 104.78 116.72 108.68 117.30 111.50C117.88 114.32 118.72 117.85 119.40 118.40C120.08 118.95 120.83 115.70 121.40 114.80C121.97 113.90 122.28 112.72 122.80 113.00C123.32 113.28 123.92 114.93 124.50 116.50C125.08 118.07 125.53 120.42 126.30 122.40C127.07 124.38 128.05 126.70 129.10 128.40C130.15 130.10 131.33 131.32 132.60 132.60C133.87 133.88 135.43 135.32 136.70 136.10C137.97 136.88 138.82 137.05 140.20 137.30C141.58 137.55 142.53 137.42 145.00 137.60C147.47 137.78 152.17 137.97 155.00 138.40C157.83 138.83 160.00 139.77 162.00 140.20C164.00 140.63 165.33 140.78 167.00 141.00C168.67 141.22 171.17 141.42 172.00 141.50Z" fill="#00BFC4" fill-opacity="0.27" stroke="#111" stroke-width="1.0" stroke-linejoin="round"/>
<path d="M187.50 211.40C188.75 210.75 191.98 208.55 195.00 207.50C198.02 206.45 202.77 205.38 205.60 205.10C208.43 204.82 209.60 205.32 212.00 205.80C214.40 206.28 217.00 207.53 220.00 208.00C223.00 208.47 227.17 208.55 230.00 208.60C232.83 208.65 234.83 209.02 237.00 208.30C239.17 207.58 241.33 206.15 243.00 204.30C244.67 202.45 245.83 199.95 247.00 197.20C248.17 194.45 249.08 190.67 250.00 187.80C250.92 184.93 251.88 181.63 252.50 180.00C253.12 178.37 253.37 178.08 253.70 178.00C254.03 177.92 254.35 173.93 254.50 179.50C254.65 185.07 254.58 206.08 254.60 211.40Z" fill="#F8766D" fill-opacity="0.27" stroke="#111" stroke-width="1.0" stroke-linejoin="round"/>
<path d="M187.50 211.40C188.75 211.22 192.08 210.62 195.00 210.30C197.92 209.98 200.83 209.83 205.00 209.50C209.17 209.17 214.67 208.50 220.00 208.30C225.33 208.10 232.83 209.18 237.00 208.30C241.17 207.42 242.83 206.05 245.00 203.00C247.17 199.95 248.83 194.50 250.00 190.00C251.17 185.50 251.50 180.33 252.00 176.00C252.50 171.67 252.72 166.97 253.00 164.00C253.28 161.03 253.47 158.70 253.70 158.20C253.93 157.70 254.25 152.13 254.40 161.00C254.55 169.87 254.57 203.00 254.60 211.40Z" fill="#00BFC4" fill-opacity="0.27" stroke="#111" stroke-width="1.0" stroke-linejoin="round"/>
<path d="M270.30 281.10C272.58 276.17 281.12 256.68 284.00 251.50C286.88 246.32 284.93 250.42 287.60 250.00C290.27 249.58 297.05 249.28 300.00 249.00C302.95 248.72 303.63 249.47 305.30 248.30C306.97 247.13 308.22 244.30 310.00 242.00C311.78 239.70 314.00 236.67 316.00 234.50C318.00 232.33 320.42 230.33 322.00 229.00C323.58 227.67 324.20 225.38 325.50 226.50C326.80 227.62 328.50 231.53 329.80 235.70C331.10 239.87 332.32 246.25 333.30 251.50C334.28 256.75 335.05 262.27 335.70 267.20C336.35 272.13 336.95 278.78 337.20 281.10Z" fill="#F8766D" fill-opacity="0.27" stroke="#111" stroke-width="1.0" stroke-linejoin="round"/>
<path d="M270.30 281.10C272.62 276.57 281.08 258.25 284.20 253.90C287.32 249.55 286.72 255.65 289.00 255.00C291.28 254.35 295.23 251.42 297.90 250.00C300.57 248.58 302.98 248.67 305.00 246.50C307.02 244.33 308.33 239.67 310.00 237.00C311.67 234.33 313.35 232.12 315.00 230.50C316.65 228.88 318.57 227.88 319.90 227.30C321.23 226.72 321.82 225.72 323.00 227.00C324.18 228.28 325.67 230.33 327.00 235.00C328.33 239.67 329.83 249.17 331.00 255.00C332.17 260.83 333.17 265.65 334.00 270.00C334.83 274.35 335.67 279.25 336.00 281.10Z" fill="#00BFC4" fill-opacity="0.27" stroke="#111" stroke-width="1.0" stroke-linejoin="round"/>
<path d="M352.00 351.10C353.37 350.75 357.53 350.27 360.20 349.00C362.87 347.73 365.70 345.47 368.00 343.50C370.30 341.53 372.15 339.08 374.00 337.20C375.85 335.32 377.60 333.03 379.10 332.20C380.60 331.37 381.57 332.35 383.00 332.20C384.43 332.05 386.25 332.03 387.70 331.30C389.15 330.57 390.30 329.18 391.70 327.80C393.10 326.42 394.80 325.37 396.10 323.00C397.40 320.63 398.62 316.73 399.50 313.60C400.38 310.47 400.82 307.08 401.40 304.20C401.98 301.32 402.40 296.57 403.00 296.30C403.60 296.03 404.22 299.18 405.00 302.60C405.78 306.02 406.72 312.33 407.70 316.80C408.68 321.27 409.63 325.20 410.90 329.40C412.17 333.60 413.95 338.38 415.30 342.00C416.65 345.62 418.38 349.58 419.00 351.10Z" fill="#F8766D" fill-opacity="0.27" stroke="#111" stroke-width="1.0" stroke-linejoin="round"/>
<path d="M352.30 351.10C353.22 349.97 356.02 346.73 357.80 344.30C359.58 341.87 361.42 339.65 363.00 336.50C364.58 333.35 365.93 328.43 367.30 325.40C368.67 322.37 369.77 320.00 371.20 318.30C372.63 316.60 373.93 315.20 375.90 315.20C377.87 315.20 381.03 317.12 383.00 318.30C384.97 319.48 386.25 320.80 387.70 322.30C389.15 323.80 390.25 325.60 391.70 327.30C393.15 329.00 394.70 330.97 396.40 332.50C398.10 334.03 399.93 334.92 401.90 336.50C403.87 338.08 406.18 340.08 408.20 342.00C410.22 343.92 412.20 346.48 414.00 348.00C415.80 349.52 418.17 350.58 419.00 351.10Z" fill="#00BFC4" fill-opacity="0.27" stroke="#111" stroke-width="1.0" stroke-linejoin="round"/>
<path d="M435.50 420.60C436.82 420.50 441.30 420.92 443.40 420.00C445.50 419.08 446.40 416.97 448.10 415.10C449.80 413.23 451.63 411.42 453.60 408.80C455.57 406.18 457.80 402.82 459.90 399.40C462.00 395.98 464.48 391.98 466.20 388.30C467.92 384.62 469.02 379.87 470.20 377.30C471.38 374.73 472.38 373.82 473.30 372.90C474.22 371.98 474.92 371.33 475.70 371.80C476.48 372.27 477.28 373.20 478.00 375.70C478.72 378.20 479.17 382.85 480.00 386.80C480.83 390.75 482.02 395.73 483.00 399.40C483.98 403.07 484.77 406.05 485.90 408.80C487.03 411.55 487.95 413.98 489.80 415.90C491.65 417.82 494.97 419.52 497.00 420.30C499.03 421.08 501.17 420.55 502.00 420.60Z" fill="#F8766D" fill-opacity="0.27" stroke="#111" stroke-width="1.0" stroke-linejoin="round"/>
<path d="M435.50 420.60C437.58 420.50 444.72 420.78 448.00 420.00C451.28 419.22 452.95 416.85 455.20 415.90C457.45 414.95 459.67 415.62 461.50 414.30C463.33 412.98 464.75 410.48 466.20 408.00C467.65 405.52 468.88 402.68 470.20 399.40C471.52 396.12 472.80 391.72 474.10 388.30C475.40 384.88 476.82 381.78 478.00 378.90C479.18 376.02 480.20 373.05 481.20 371.00C482.20 368.95 483.37 367.43 484.00 366.60C484.63 365.77 484.42 365.53 485.00 366.00C485.58 366.47 486.75 367.25 487.50 369.40C488.25 371.55 488.67 374.70 489.50 378.90C490.33 383.10 491.52 389.88 492.50 394.60C493.48 399.32 494.35 403.52 495.40 407.20C496.45 410.88 497.70 414.47 498.80 416.70C499.90 418.93 501.47 419.95 502.00 420.60Z" fill="#00BFC4" fill-opacity="0.27" stroke="#111" stroke-width="1.0" stroke-linejoin="round"/>
<text font-family="Liberation Sans, sans-serif" font-size="8.8" x="138.6" y="25.8" text-anchor="middle" fill="#000" stroke="#000" stroke-width="0.2">Cor : 0.0484</text>
<text font-family="Liberation Sans, sans-serif" font-size="8.8" x="158.5" y="44.8" text-anchor="end" fill="#F8766D" stroke="#F8766D" stroke-width="0.2">Apo: 0.0314</text>
<text font-family="Liberation Sans, sans-serif" font-size="8.8" x="158.5" y="64.4" text-anchor="end" fill="#00BFC4" stroke="#00BFC4" stroke-width="0.2">Lig: 0.21</text>
<text font-family="Liberation Sans, sans-serif" font-size="8.8" x="221.2" y="25.8" text-anchor="middle" fill="#000" stroke="#000" stroke-width="0.2">Cor : 0.504</text>
<text font-family="Liberation Sans, sans-serif" font-size="8.8" x="241.1" y="44.8" text-anchor="end" fill="#F8766D" stroke="#F8766D" stroke-width="0.2">Apo: 0.514</text>
<text font-family="Liberation Sans, sans-serif" font-size="8.8" x="241.1" y="64.4" text-anchor="end" fill="#00BFC4" stroke="#00BFC4" stroke-width="0.2">Lig: 0.35</text>
<text font-family="Liberation Sans, sans-serif" font-size="8.8" x="303.8" y="25.8" text-anchor="middle" fill="#000" stroke="#000" stroke-width="0.2">Cor : 0.341</text>
<text font-family="Liberation Sans, sans-serif" font-size="8.8" x="323.7" y="44.8" text-anchor="end" fill="#F8766D" stroke="#F8766D" stroke-width="0.2">Apo: 0.345</text>
<text font-family="Liberation Sans, sans-serif" font-size="8.8" x="323.7" y="64.4" text-anchor="end" fill="#00BFC4" stroke="#00BFC4" stroke-width="0.2">Lig: 0.363</text>
<text font-family="Liberation Sans, sans-serif" font-size="8.8" x="386.4" y="25.8" text-anchor="middle" fill="#000" stroke="#000" stroke-width="0.2">Cor : -0.221</text>
<text font-family="Liberation Sans, sans-serif" font-size="8.8" x="406.3" y="44.8" text-anchor="end" fill="#F8766D" stroke="#F8766D" stroke-width="0.2">Apo: -0.214</text>
<text font-family="Liberation Sans, sans-serif" font-size="8.8" x="406.3" y="64.4" text-anchor="end" fill="#00BFC4" stroke="#00BFC4" stroke-width="0.2">Lig: -0.0319</text>
<text font-family="Liberation Sans, sans-serif" font-size="8.8" x="469.0" y="25.8" text-anchor="middle" fill="#000" stroke="#000" stroke-width="0.2">Cor : 0.282</text>
<text font-family="Liberation Sans, sans-serif" font-size="8.8" x="488.9" y="44.8" text-anchor="end" fill="#F8766D" stroke="#F8766D" stroke-width="0.2">Apo: 0.293</text>
<text font-family="Liberation Sans, sans-serif" font-size="8.8" x="488.9" y="64.4" text-anchor="end" fill="#00BFC4" stroke="#00BFC4" stroke-width="0.2">Lig: -0.02</text>
<text font-family="Liberation Sans, sans-serif" font-size="8.8" x="221.2" y="95.7" text-anchor="middle" fill="#000" stroke="#000" stroke-width="0.2">Cor : 0.0238</text>
<text font-family="Liberation Sans, sans-serif" font-size="8.8" x="241.1" y="114.7" text-anchor="end" fill="#F8766D" stroke="#F8766D" stroke-width="0.2">Apo: 0.0194</text>
<text font-family="Liberation Sans, sans-serif" font-size="8.8" x="241.1" y="134.3" text-anchor="end" fill="#00BFC4" stroke="#00BFC4" stroke-width="0.2">Lig: 0.107</text>
<text font-family="Liberation Sans, sans-serif" font-size="8.8" x="303.8" y="95.7" text-anchor="middle" fill="#000" stroke="#000" stroke-width="0.2">Cor : 0.0564</text>
<text font-family="Liberation Sans, sans-serif" font-size="8.8" x="323.7" y="114.7" text-anchor="end" fill="#F8766D" stroke="#F8766D" stroke-width="0.2">Apo: 0.0342</text>
<text font-family="Liberation Sans, sans-serif" font-size="8.8" x="323.7" y="134.3" text-anchor="end" fill="#00BFC4" stroke="#00BFC4" stroke-width="0.2">Lig: 0.203</text>
<text font-family="Liberation Sans, sans-serif" font-size="8.8" x="386.4" y="95.7" text-anchor="middle" fill="#000" stroke="#000" stroke-width="0.2">Cor : 0.0917</text>
<text font-family="Liberation Sans, sans-serif" font-size="8.8" x="406.3" y="114.7" text-anchor="end" fill="#F8766D" stroke="#F8766D" stroke-width="0.2">Apo: 0.0839</text>
<text font-family="Liberation Sans, sans-serif" font-size="8.8" x="406.3" y="134.3" text-anchor="end" fill="#00BFC4" stroke="#00BFC4" stroke-width="0.2">Lig: 0.0933</text>
<text font-family="Liberation Sans, sans-serif" font-size="8.8" x="469.0" y="95.7" text-anchor="middle" fill="#000" stroke="#000" stroke-width="0.2">Cor : -0.545</text>
<text font-family="Liberation Sans, sans-serif" font-size="8.8" x="488.9" y="114.7" text-anchor="end" fill="#F8766D" stroke="#F8766D" stroke-width="0.2">Apo: -0.56</text>
<text font-family="Liberation Sans, sans-serif" font-size="8.8" x="488.9" y="134.3" text-anchor="end" fill="#00BFC4" stroke="#00BFC4" stroke-width="0.2">Lig: -0.604</text>
<text font-family="Liberation Sans, sans-serif" font-size="8.8" x="303.8" y="165.5" text-anchor="middle" fill="#000" stroke="#000" stroke-width="0.2">Cor : 0.47</text>
<text font-family="Liberation Sans, sans-serif" font-size="8.8" x="323.7" y="184.5" text-anchor="end" fill="#F8766D" stroke="#F8766D" stroke-width="0.2">Apo: 0.493</text>
<text font-family="Liberation Sans, sans-serif" font-size="8.8" x="323.7" y="204.1" text-anchor="end" fill="#00BFC4" stroke="#00BFC4" stroke-width="0.2">Lig: 0.35</text>
<text font-family="Liberation Sans, sans-serif" font-size="8.8" x="386.4" y="165.5" text-anchor="middle" fill="#000" stroke="#000" stroke-width="0.2">Cor : -0.213</text>
<text font-family="Liberation Sans, sans-serif" font-size="8.8" x="406.3" y="184.5" text-anchor="end" fill="#F8766D" stroke="#F8766D" stroke-width="0.2">Apo: -0.197</text>
<text font-family="Liberation Sans, sans-serif" font-size="8.8" x="406.3" y="204.1" text-anchor="end" fill="#00BFC4" stroke="#00BFC4" stroke-width="0.2">Lig: -0.1</text>
<text font-family="Liberation Sans, sans-serif" font-size="8.8" x="469.0" y="165.5" text-anchor="middle" fill="#000" stroke="#000" stroke-width="0.2">Cor : 0.242</text>
<text font-family="Liberation Sans, sans-serif" font-size="8.8" x="488.9" y="184.5" text-anchor="end" fill="#F8766D" stroke="#F8766D" stroke-width="0.2">Apo: 0.243</text>
<text font-family="Liberation Sans, sans-serif" font-size="8.8" x="488.9" y="204.1" text-anchor="end" fill="#00BFC4" stroke="#00BFC4" stroke-width="0.2">Lig: -0.0143</text>
<text font-family="Liberation Sans, sans-serif" font-size="8.8" x="386.4" y="235.4" text-anchor="middle" fill="#000" stroke="#000" stroke-width="0.2">Cor : 0.0786</text>
<text font-family="Liberation Sans, sans-serif" font-size="8.8" x="406.3" y="254.4" text-anchor="end" fill="#F8766D" stroke="#F8766D" stroke-width="0.2">Apo: 0.0438</text>
<text font-family="Liberation Sans, sans-serif" font-size="8.8" x="406.3" y="274.0" text-anchor="end" fill="#00BFC4" stroke="#00BFC4" stroke-width="0.2">Lig: 0.266</text>
<text font-family="Liberation Sans, sans-serif" font-size="8.8" x="469.0" y="235.4" text-anchor="middle" fill="#000" stroke="#000" stroke-width="0.2">Cor : 0.0417</text>
<text font-family="Liberation Sans, sans-serif" font-size="8.8" x="488.9" y="254.4" text-anchor="end" fill="#F8766D" stroke="#F8766D" stroke-width="0.2">Apo: 0.0763</text>
<text font-family="Liberation Sans, sans-serif" font-size="8.8" x="488.9" y="274.0" text-anchor="end" fill="#00BFC4" stroke="#00BFC4" stroke-width="0.2">Lig: -0.103</text>
<text font-family="Liberation Sans, sans-serif" font-size="8.8" x="469.0" y="305.2" text-anchor="middle" fill="#000" stroke="#000" stroke-width="0.2">Cor : -0.323</text>
<text font-family="Liberation Sans, sans-serif" font-size="8.8" x="488.9" y="324.2" text-anchor="end" fill="#F8766D" stroke="#F8766D" stroke-width="0.2">Apo: -0.238</text>
<text font-family="Liberation Sans, sans-serif" font-size="8.8" x="488.9" y="343.8" text-anchor="end" fill="#00BFC4" stroke="#00BFC4" stroke-width="0.2">Lig: -0.29</text>
<rect x="19.8" y="0.6" width="72.7" height="12.8" fill="#fff" stroke="#111" stroke-width="1.2"/>
<text font-family="Liberation Sans, sans-serif" font-size="8.2" font-weight="bold" x="56.0" y="9.9" text-anchor="middle" fill="#000" stroke="#000" stroke-width="0.2">Model Length</text>
<rect x="102.4" y="0.6" width="72.7" height="12.8" fill="#fff" stroke="#111" stroke-width="1.2"/>
<text font-family="Liberation Sans, sans-serif" font-size="8.2" font-weight="bold" x="138.6" y="9.9" text-anchor="middle" fill="#000" stroke="#000" stroke-width="0.2">Maximum ID</text>
<rect x="185.0" y="0.6" width="72.7" height="12.8" fill="#fff" stroke="#111" stroke-width="1.2"/>
<text font-family="Liberation Sans, sans-serif" font-size="8.2" font-weight="bold" x="221.2" y="9.9" text-anchor="middle" fill="#000" stroke="#000" stroke-width="0.2">Coverage</text>
<rect x="267.6" y="0.6" width="72.7" height="12.8" fill="#fff" stroke="#111" stroke-width="1.2"/>
<text font-family="Liberation Sans, sans-serif" font-size="8.2" font-weight="bold" x="303.8" y="9.9" text-anchor="middle" fill="#000" stroke="#000" stroke-width="0.2">Score 1</text>
<rect x="350.2" y="0.6" width="72.7" height="12.8" fill="#fff" stroke="#111" stroke-width="1.2"/>
<text font-family="Liberation Sans, sans-serif" font-size="8.2" font-weight="bold" x="386.4" y="9.9" text-anchor="middle" fill="#000" stroke="#000" stroke-width="0.2">Score 2</text>
<rect x="432.8" y="0.6" width="72.7" height="12.8" fill="#fff" stroke="#111" stroke-width="1.2"/>
<text font-family="Liberation Sans, sans-serif" font-size="8.2" font-weight="bold" x="469.0" y="9.9" text-anchor="middle" fill="#000" stroke="#000" stroke-width="0.2">Molprobity</text>
<rect x="506.3" y="14.7" width="12.6" height="59.4" fill="#fff" stroke="#1a1a1a" stroke-width="1.1"/>
<text font-family="Liberation Sans, sans-serif" font-size="8.2" font-weight="bold" transform="translate(509.6 44.4) rotate(90)" x="0" y="0" text-anchor="middle" fill="#000" stroke="#000" stroke-width="0.2">Model Length</text>
<rect x="506.3" y="84.6" width="12.6" height="59.4" fill="#fff" stroke="#1a1a1a" stroke-width="1.1"/>
<text font-family="Liberation Sans, sans-serif" font-size="8.2" font-weight="bold" transform="translate(509.6 114.3) rotate(90)" x="0" y="0" text-anchor="middle" fill="#000" stroke="#000" stroke-width="0.2">Maximum ID</text>
<rect x="506.3" y="154.4" width="12.6" height="59.4" fill="#fff" stroke="#1a1a1a" stroke-width="1.1"/>
<text font-family="Liberation Sans, sans-serif" font-size="8.2" font-weight="bold" transform="translate(509.6 184.1) rotate(90)" x="0" y="0" text-anchor="middle" fill="#000" stroke="#000" stroke-width="0.2">Coverage</text>
<rect x="506.3" y="224.3" width="12.6" height="59.4" fill="#fff" stroke="#1a1a1a" stroke-width="1.1"/>
<text font-family="Liberation Sans, sans-serif" font-size="8.2" font-weight="bold" transform="translate(509.6 254.0) rotate(90)" x="0" y="0" text-anchor="middle" fill="#000" stroke="#000" stroke-width="0.2">Score 1</text>
<rect x="506.3" y="294.1" width="12.6" height="59.4" fill="#fff" stroke="#1a1a1a" stroke-width="1.1"/>
<text font-family="Liberation Sans, sans-serif" font-size="8.2" font-weight="bold" transform="translate(509.6 323.8) rotate(90)" x="0" y="0" text-anchor="middle" fill="#000" stroke="#000" stroke-width="0.2">Score 2</text>
<rect x="506.3" y="364.0" width="12.6" height="59.4" fill="#fff" stroke="#1a1a1a" stroke-width="1.1"/>
<text font-family="Liberation Sans, sans-serif" font-size="8.2" font-weight="bold" transform="translate(509.6 393.7) rotate(90)" x="0" y="0" text-anchor="middle" fill="#000" stroke="#000" stroke-width="0.2">Molprobity</text>
<text font-family="Liberation Sans, sans-serif" font-size="6.5" x="15.8" y="74.5" text-anchor="end" fill="#111" stroke="#111" stroke-width="0.25">0.000</text>
<text font-family="Liberation Sans, sans-serif" font-size="6.5" x="15.8" y="59.0" text-anchor="end" fill="#111" stroke="#111" stroke-width="0.25">0.001</text>
<text font-family="Liberation Sans, sans-serif" font-size="6.5" x="15.8" y="43.5" text-anchor="end" fill="#111" stroke="#111" stroke-width="0.25">0.002</text>
<text font-family="Liberation Sans, sans-serif" font-size="6.5" x="15.8" y="28.5" text-anchor="end" fill="#111" stroke="#111" stroke-width="0.25">0.003</text>
<text font-family="Liberation Sans, sans-serif" font-size="6.5" x="15.8" y="133.2" text-anchor="end" fill="#111" stroke="#111" stroke-width="0.25">25</text>
<text font-family="Liberation Sans, sans-serif" font-size="6.5" x="15.8" y="118.5" text-anchor="end" fill="#111" stroke="#111" stroke-width="0.25">50</text>
<text font-family="Liberation Sans, sans-serif" font-size="6.5" x="15.8" y="103.8" text-anchor="end" fill="#111" stroke="#111" stroke-width="0.25">75</text>
<text font-family="Liberation Sans, sans-serif" font-size="6.5" x="15.8" y="89.2" text-anchor="end" fill="#111" stroke="#111" stroke-width="0.25">100</text>
<text font-family="Liberation Sans, sans-serif" font-size="6.5" x="15.8" y="216.8" text-anchor="end" fill="#111" stroke="#111" stroke-width="0.25">0</text>
<text font-family="Liberation Sans, sans-serif" font-size="6.5" x="15.8" y="202.3" text-anchor="end" fill="#111" stroke="#111" stroke-width="0.25">25</text>
<text font-family="Liberation Sans, sans-serif" font-size="6.5" x="15.8" y="188.0" text-anchor="end" fill="#111" stroke="#111" stroke-width="0.25">50</text>
<text font-family="Liberation Sans, sans-serif" font-size="6.5" x="15.8" y="173.6" text-anchor="end" fill="#111" stroke="#111" stroke-width="0.25">75</text>
<text font-family="Liberation Sans, sans-serif" font-size="6.5" x="15.8" y="159.2" text-anchor="end" fill="#111" stroke="#111" stroke-width="0.25">100</text>
<text font-family="Liberation Sans, sans-serif" font-size="6.5" x="15.8" y="284.8" text-anchor="end" fill="#111" stroke="#111" stroke-width="0.25">0.00</text>
<text font-family="Liberation Sans, sans-serif" font-size="6.5" x="15.8" y="270.9" text-anchor="end" fill="#111" stroke="#111" stroke-width="0.25">0.25</text>
<text font-family="Liberation Sans, sans-serif" font-size="6.5" x="15.8" y="256.9" text-anchor="end" fill="#111" stroke="#111" stroke-width="0.25">0.50</text>
<text font-family="Liberation Sans, sans-serif" font-size="6.5" x="15.8" y="243.0" text-anchor="end" fill="#111" stroke="#111" stroke-width="0.25">0.75</text>
<text font-family="Liberation Sans, sans-serif" font-size="6.5" x="15.8" y="229.1" text-anchor="end" fill="#111" stroke="#111" stroke-width="0.25">1.00</text>
<text font-family="Liberation Sans, sans-serif" font-size="6.5" x="15.8" y="355.1" text-anchor="end" fill="#111" stroke="#111" stroke-width="0.25">0.00</text>
<text font-family="Liberation Sans, sans-serif" font-size="6.5" x="15.8" y="341.0" text-anchor="end" fill="#111" stroke="#111" stroke-width="0.25">0.25</text>
<text font-family="Liberation Sans, sans-serif" font-size="6.5" x="15.8" y="327.0" text-anchor="end" fill="#111" stroke="#111" stroke-width="0.25">0.50</text>
<text font-family="Liberation Sans, sans-serif" font-size="6.5" x="15.8" y="313.0" text-anchor="end" fill="#111" stroke="#111" stroke-width="0.25">0.75</text>
<text font-family="Liberation Sans, sans-serif" font-size="6.5" x="15.8" y="298.9" text-anchor="end" fill="#111" stroke="#111" stroke-width="0.25">1.00</text>
<text font-family="Liberation Sans, sans-serif" font-size="6.5" x="15.8" y="415.6" text-anchor="end" fill="#111" stroke="#111" stroke-width="0.25">2</text>
<text font-family="Liberation Sans, sans-serif" font-size="6.5" x="15.8" y="396.9" text-anchor="end" fill="#111" stroke="#111" stroke-width="0.25">3</text>
<text font-family="Liberation Sans, sans-serif" font-size="6.5" x="15.8" y="378.2" text-anchor="end" fill="#111" stroke="#111" stroke-width="0.25">4</text>
<text font-family="Liberation Sans, sans-serif" font-size="6.5" x="21.4" y="431.9" text-anchor="middle" fill="#111" stroke="#111" stroke-width="0.25">0</text>
<text font-family="Liberation Sans, sans-serif" font-size="6.5" x="39.4" y="431.9" text-anchor="middle" fill="#111" stroke="#111" stroke-width="0.25">250</text>
<text font-family="Liberation Sans, sans-serif" font-size="6.5" x="57.4" y="431.9" text-anchor="middle" fill="#111" stroke="#111" stroke-width="0.25">500</text>
<text font-family="Liberation Sans, sans-serif" font-size="6.5" x="75.5" y="431.9" text-anchor="middle" fill="#111" stroke="#111" stroke-width="0.25">750</text>
<text font-family="Liberation Sans, sans-serif" font-size="6.5" x="118.3" y="431.9" text-anchor="middle" fill="#111" stroke="#111" stroke-width="0.25">25</text>
<text font-family="Liberation Sans, sans-serif" font-size="6.5" x="136.1" y="431.9" text-anchor="middle" fill="#111" stroke="#111" stroke-width="0.25">50</text>
<text font-family="Liberation Sans, sans-serif" font-size="6.5" x="153.9" y="431.9" text-anchor="middle" fill="#111" stroke="#111" stroke-width="0.25">75</text>
<text font-family="Liberation Sans, sans-serif" font-size="6.5" x="171.7" y="431.9" text-anchor="middle" fill="#111" stroke="#111" stroke-width="0.25">100</text>
<text font-family="Liberation Sans, sans-serif" font-size="6.5" x="184.8" y="431.9" text-anchor="middle" fill="#111" stroke="#111" stroke-width="0.25">0</text>
<text font-family="Liberation Sans, sans-serif" font-size="6.5" x="202.2" y="431.9" text-anchor="middle" fill="#111" stroke="#111" stroke-width="0.25">25</text>
<text font-family="Liberation Sans, sans-serif" font-size="6.5" x="219.6" y="431.9" text-anchor="middle" fill="#111" stroke="#111" stroke-width="0.25">50</text>
<text font-family="Liberation Sans, sans-serif" font-size="6.5" x="236.9" y="431.9" text-anchor="middle" fill="#111" stroke="#111" stroke-width="0.25">75</text>
<text font-family="Liberation Sans, sans-serif" font-size="6.5" x="254.3" y="431.9" text-anchor="middle" fill="#111" stroke="#111" stroke-width="0.25">100</text>
<text font-family="Liberation Sans, sans-serif" font-size="6.5" x="269.0" y="431.9" text-anchor="middle" fill="#111" stroke="#111" stroke-width="0.25">0.00</text>
<text font-family="Liberation Sans, sans-serif" font-size="6.5" x="286.1" y="431.9" text-anchor="middle" fill="#111" stroke="#111" stroke-width="0.25">0.25</text>
<text font-family="Liberation Sans, sans-serif" font-size="6.5" x="303.2" y="431.9" text-anchor="middle" fill="#111" stroke="#111" stroke-width="0.25">0.50</text>
<text font-family="Liberation Sans, sans-serif" font-size="6.5" x="320.4" y="431.9" text-anchor="middle" fill="#111" stroke="#111" stroke-width="0.25">0.75</text>
<text font-family="Liberation Sans, sans-serif" font-size="6.5" x="337.5" y="431.9" text-anchor="middle" fill="#111" stroke="#111" stroke-width="0.25">1.00</text>
<text font-family="Liberation Sans, sans-serif" font-size="6.5" x="350.7" y="431.9" text-anchor="middle" fill="#111" stroke="#111" stroke-width="0.25">0.00</text>
<text font-family="Liberation Sans, sans-serif" font-size="6.5" x="367.9" y="431.9" text-anchor="middle" fill="#111" stroke="#111" stroke-width="0.25">0.25</text>
<text font-family="Liberation Sans, sans-serif" font-size="6.5" x="385.1" y="431.9" text-anchor="middle" fill="#111" stroke="#111" stroke-width="0.25">0.50</text>
<text font-family="Liberation Sans, sans-serif" font-size="6.5" x="402.4" y="431.9" text-anchor="middle" fill="#111" stroke="#111" stroke-width="0.25">0.75</text>
<text font-family="Liberation Sans, sans-serif" font-size="6.5" x="419.6" y="431.9" text-anchor="middle" fill="#111" stroke="#111" stroke-width="0.25">1.00</text>
<text font-family="Liberation Sans, sans-serif" font-size="6.5" x="444.7" y="431.9" text-anchor="middle" fill="#111" stroke="#111" stroke-width="0.25">2</text>
<text font-family="Liberation Sans, sans-serif" font-size="6.5" x="467.3" y="431.9" text-anchor="middle" fill="#111" stroke="#111" stroke-width="0.25">3</text>
<text font-family="Liberation Sans, sans-serif" font-size="6.5" x="489.9" y="431.9" text-anchor="middle" fill="#111" stroke="#111" stroke-width="0.25">4</text>
<path d="M19.5 14.2V74.6M17.3 72.2H19.5M17.3 56.6H19.5M17.3 41.1H19.5M17.3 26.1H19.5M19.5 84.1V144.5M17.3 130.9H19.5M17.3 116.2H19.5M17.3 101.5H19.5M17.3 86.8H19.5M19.5 153.9V214.3M17.3 214.4H19.5M17.3 200.0H19.5M17.3 185.6H19.5M17.3 171.2H19.5M17.3 156.8H19.5M19.5 223.8V284.2M17.3 282.4H19.5M17.3 268.5H19.5M17.3 254.6H19.5M17.3 240.7H19.5M17.3 226.8H19.5M19.5 293.6V354.0M17.3 352.7H19.5M17.3 338.7H19.5M17.3 324.6H19.5M17.3 310.6H19.5M17.3 296.6H19.5M19.5 363.5V423.9M17.3 413.2H19.5M17.3 394.5H19.5M17.3 375.8H19.5M19.5 423.6H92.5M21.4 423.6V425.8M39.4 423.6V425.8M57.4 423.6V425.8M75.5 423.6V425.8M102.1 423.6H175.1M118.3 423.6V425.8M136.1 423.6V425.8M153.9 423.6V425.8M171.7 423.6V425.8M184.7 423.6H257.7M184.8 423.6V425.8M202.2 423.6V425.8M219.6 423.6V425.8M236.9 423.6V425.8M254.3 423.6V425.8M267.3 423.6H340.3M269.0 423.6V425.8M286.1 423.6V425.8M303.2 423.6V425.8M320.4 423.6V425.8M337.5 423.6V425.8M349.9 423.6H422.9M350.7 423.6V425.8M367.9 423.6V425.8M385.1 423.6V425.8M402.4 423.6V425.8M419.6 423.6V425.8M432.5 423.6H505.5M444.7 423.6V425.8M467.3 423.6V425.8M489.9 423.6V425.8" stroke="#333" stroke-width="1.1" fill="none"/>
</g></svg></body></html>
